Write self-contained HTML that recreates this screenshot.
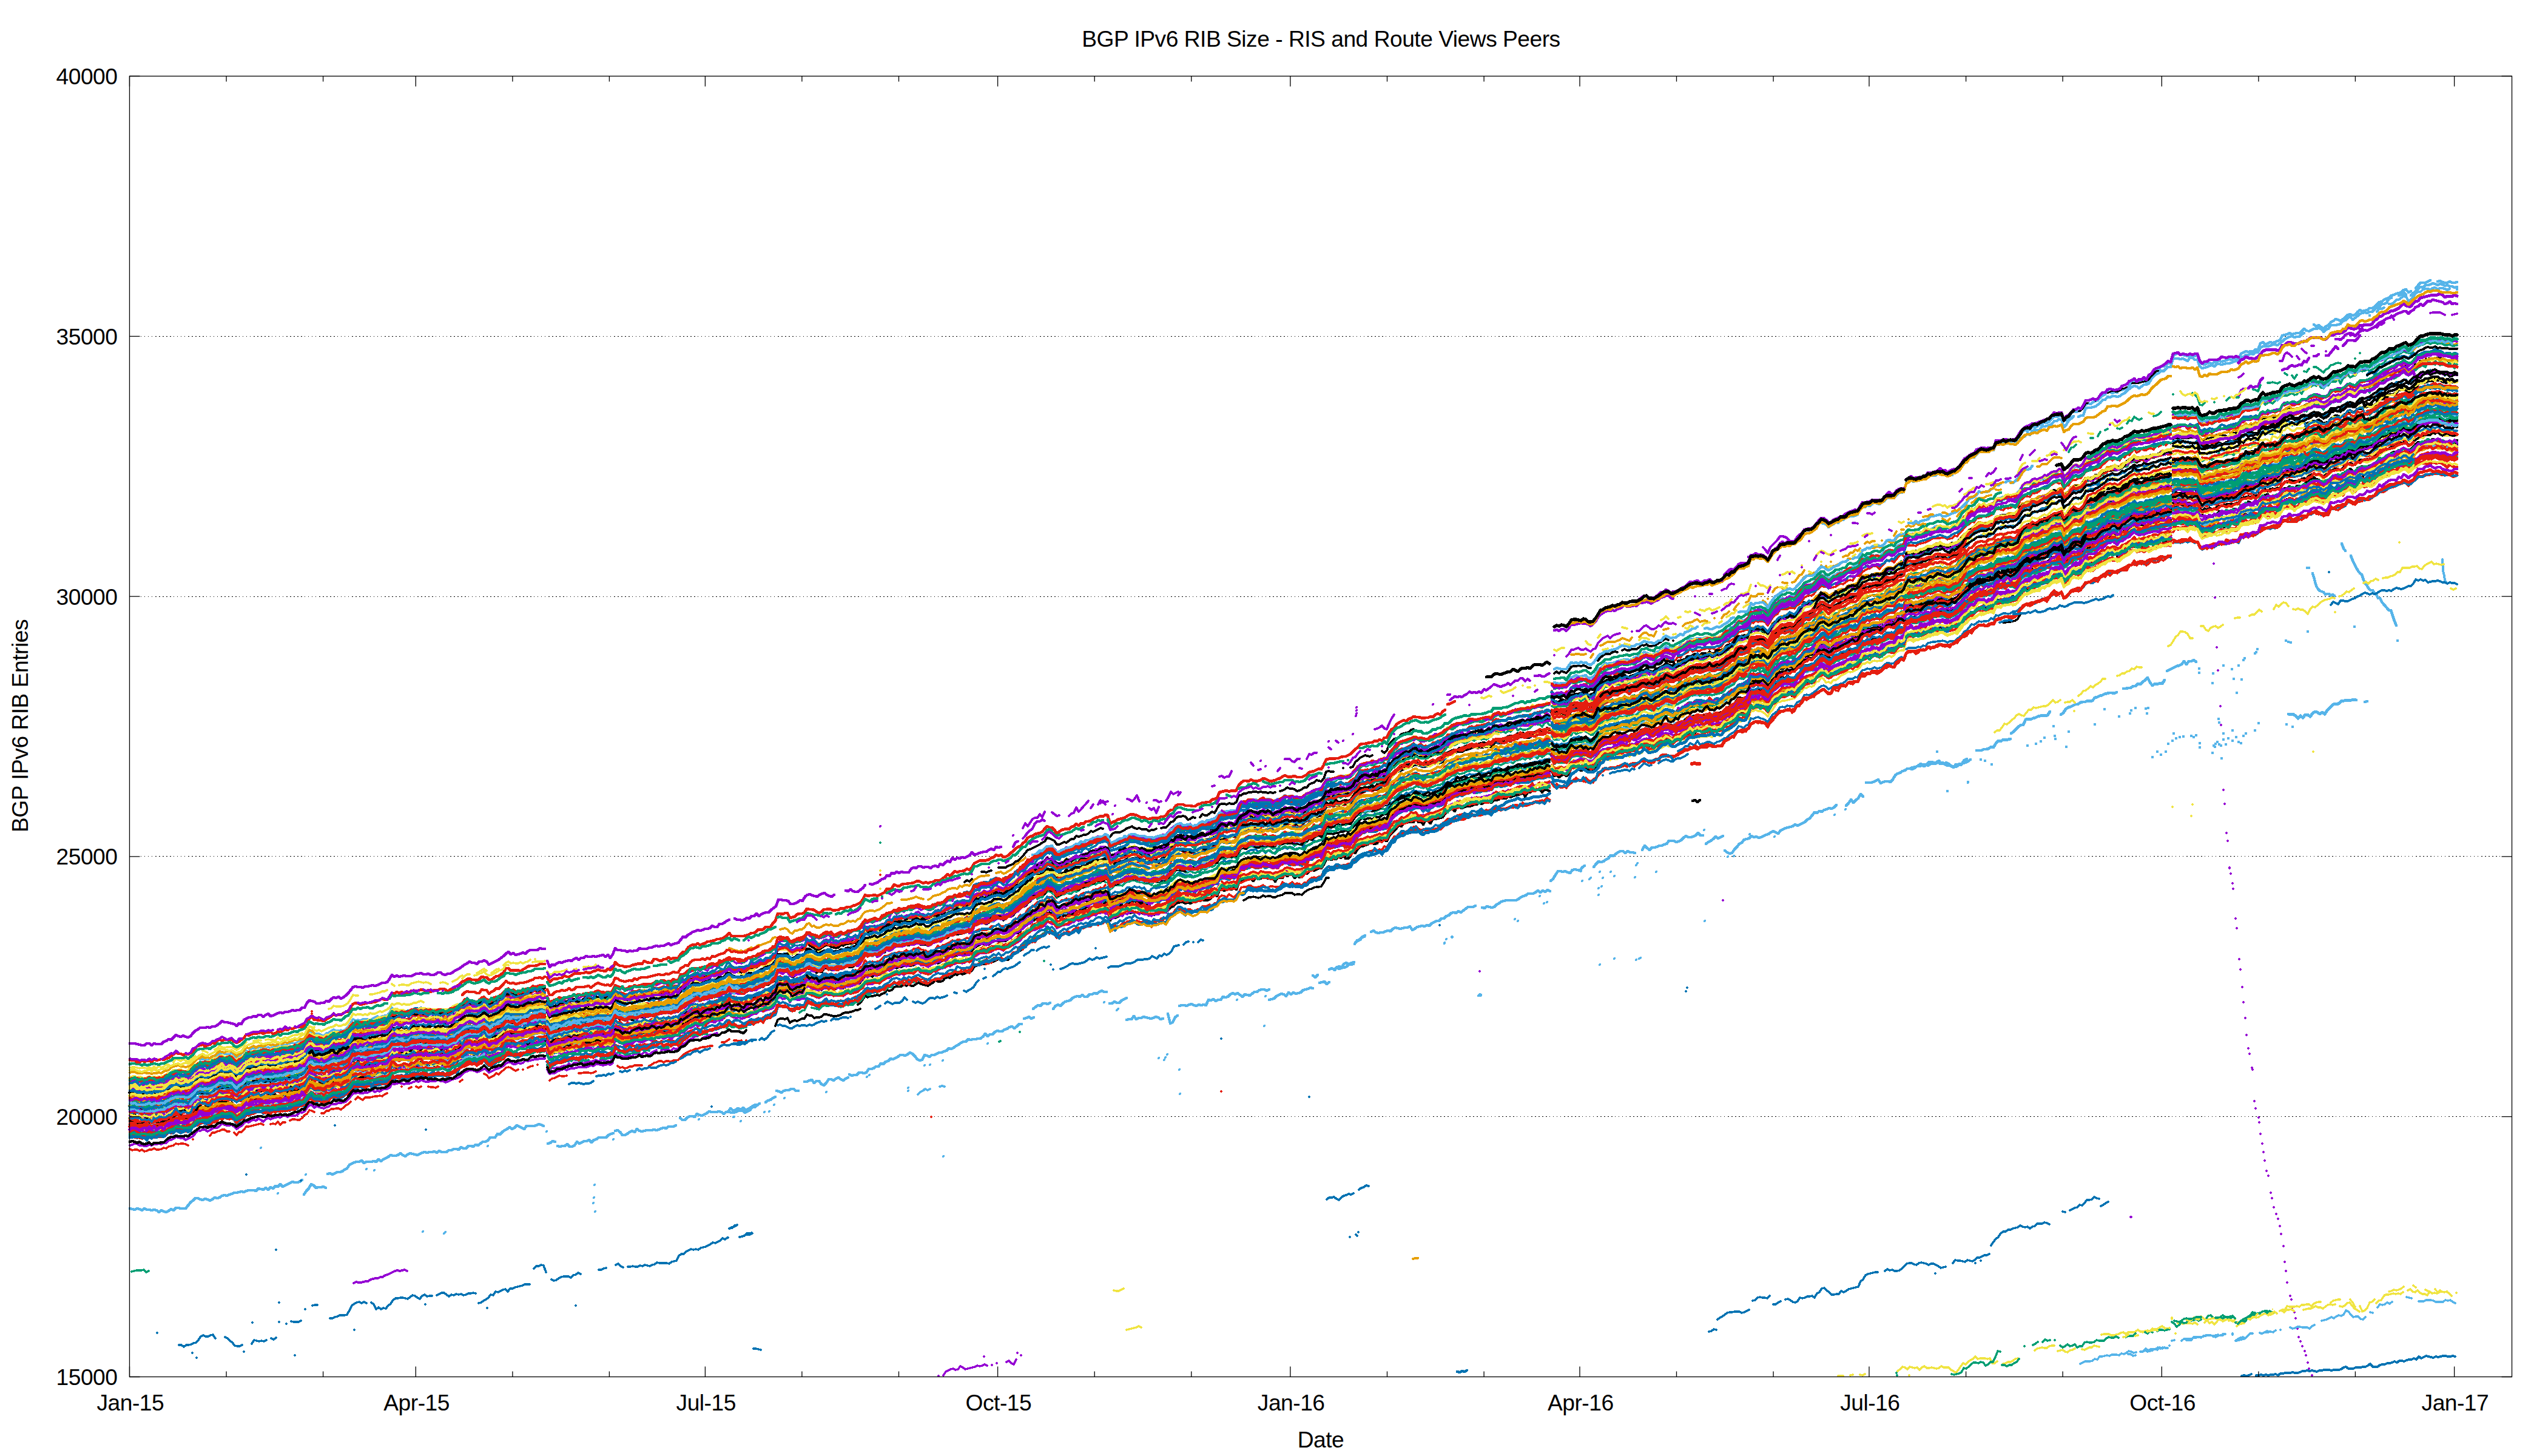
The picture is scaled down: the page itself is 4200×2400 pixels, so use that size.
<!DOCTYPE html>
<html><head><meta charset="utf-8"><title>BGP IPv6 RIB Size</title>
<style>
html,body{margin:0;padding:0;background:#fff}
svg{display:block}
text{font-family:"Liberation Sans",Arial,sans-serif;font-size:37.2px;fill:#000;letter-spacing:-0.5px}
</style></head><body>
<svg width="4200" height="2400" viewBox="0 0 4200 2400">
<rect width="4200" height="2400" fill="#fff"/>
<g stroke="#000" stroke-width="1" stroke-dasharray="1 5 1 5 1 5 1 5 2 4 2 4 2 4 2 4 2 4" shape-rendering="crispEdges"><line x1="232" y1="1840.7" x2="4123.5" y2="1840.7"/><line x1="232" y1="1411.9" x2="4123.5" y2="1411.9"/><line x1="232" y1="983.1" x2="4123.5" y2="983.1"/><line x1="232" y1="554.3" x2="4123.5" y2="554.3"/></g>
<g fill="none" stroke-linecap="round" stroke-linejoin="round" shape-rendering="crispEdges"><path stroke="#9400d3" stroke-width="4.4" d="M214 1865l4-1 4 2 4 0 4 1 4 0 4 0 4 0 4-2 4 3 4-2 4-2 4 2 4 0 4-1 4-2 4-3 4-3 4 0 4-2 4-1 4 0 4 1 4 2 4 0 4-1 4-6 4-4 4-5 4-2 4 0 4 1 4 1 4-1 4-3 4-2 4 2 4-4 4-2 4 2 4 0 4 1 4 2 4 2 4 2 4-5 4-2 4-2 4-5 4 1 4-2 4-1 4 1 4-1 4 0 4 0 4 0 4-4 4 2 4 2 4-1 4-3 4-1 4 0 4 4 4-4 4-1 4-2 4 0 4-4 4 2 4-1 4-5 4-6 4-3 4 2 4 3 4-1 4 0 4-1 4 4 4-1 4-4 4-3 4-5 4 3 4 2 4-1 4-2 4-3 4-5 4 0 4-5 4-6 4 5 4-3 4 0 4 0 4 1 4-2 4 0 4-1 4 1 4-3 4 1 4 0 4-3 4-5 4-2 4-2 4 0 4-1 4 1 4 1 4-1 4 0 4-1 4-2 4-2 4 1 4-1 4 3 4-1 4 3 4-1 4 0 4-1 4 0 4-1 4-3 4 3 4 1 4-2 4-1 4-2 4-3 4-2 4-3 4-1 4-4 4-2 4 3 4 0 4-3 4 3 4-5 4-1 4 4 4 2 4-3 4-2 4-2 4-1 4 0 4-4 4-5 4-4 4 3 4-2 4 2 4 1 4-1 4-1 4-1 4-1 4-2 4 0 4-1 4-2 4 3 4-5 4-1M902 1738l4 4 4 1 4-1 4 0 4 0 4-4 4-2 4 0 4-3 4 2 4-1 4-2 4 0 4-1 4 0 4-3 4 0 4 1 4 1 4-1 4-2 4-2 4 2 4-1 4-1 4 2 4-5 4-7 4 1 4 3 4 1 4 3 4-3 4 1 4-1 4-4 4-1 4 2 4 1 4-2 4-2 4-1 4 2 4-3 4-2 4 1 4-2 4 3 4-2 4-2 4 6 4-6 4-1 4 0 4-5 4 0 4-4 4-4 4 0 4-2 4-4 4 3 4-1 4-2 4 1 4-2 4-3 4 0 4 1 4-4 4 1 4-1 4-5 4-2 4-2 4 3 4 2 4 1 4-2 4 3 4-1 4-2 4 0 4-3 4-2 4 0 4-4 4-2 4 2 4-2 4-1 4-1 4-2 4-6"/>
<path stroke="#e69f00" stroke-width="3.6" d="M2906 990l4 3 4 6M2938 970l4 1 4-1M2966 962l4-6 4-5M2982 947l4 0 4-3M3002 932h0M3010 933l4 6 4-1 4-5 4-1 4-2 4-2M3046 921l4 0M3086 903l4 0 4-2 4 1 4 0 4-5 4-5 4 1 4 2 4-1 4-7 4-4 4 0 4 0M3142 868l4-2 4 2 4-1 4-5 4 3 4 0 4-2 4 1M3202 855l4 2 4 3 4-5M3226 851l4-5 4-4 4-2 4-7M3250 829l4-3 4-4 4-1 4 0 4 0 4-3 4-1 4-1M3290 807l4 1 4-1"/>
<path stroke="#9400d3" stroke-width="4.4" d="M214 1847l4 1 4 1 4 5 4-2 4-1 4-2 4-1 4 0 4 3 4-5 4 1 4 0 4 0 4 0 4-1 4-4 4 2 4-6 4-4 4 2 4 0 4 3 4 0 4-1 4-2 4-6 4 1"/>
<path stroke="#f0e442" stroke-width="4.0" d="M2562 1238l4 2 4-2 4-2 4 2 4 2 4-9 4-4 4 1 4-1 4 1 4 0 4-1 4-1 4 6 4 1 4-2 4-7 4-8"/>
<path stroke="#e51e10" stroke-width="4.0" d="M3986 645l4-6 4 2 4-2 4-2 4 3 4 0 4-7 4 3 4 4 4 0 4 0 4-1 4 2 4 2 4-2 4-1"/>
<path stroke="#e51e10" stroke-width="4.4" d="M214 1832l4 1 4 0 4-1 4 0 4 3 4-1 4 1 4-5 4 3 4 1 4-5 4 4 4-1 4-1 4-5 4-3 4 2 4-1 4-5 4 5 4-4 4-1 4 6 4-1 4-3 4-5 4-7"/>
<path stroke="#000000" stroke-width="4.4" d="M2994 1093l4-7 4-7 4 2 4 1 4 2 4 1 4 2 4-7 4-1 4-3 4 1 4-2 4-1 4-1 4-1 4 0 4-4 4-6 4-3 4-1 4-2 4-2 4-2 4-1 4 0 4 4 4-3 4-4 4-5 4 2 4 1 4 1 4-6 4-5 4-2 4 2 4-14 4-2 4-1 4-2 4 1 4 1 4-4 4-2 4 2 4-2 4-1 4-3 4-3 4-1 4 3 4-3 4 3 4-1 4 1 4-2 4-2 4-2 4-2 4-4 4-6 4 0 4-4 4-1 4-4 4-4 4 0 4-2 4 0 4 0 4-4 4-3 4 0 4-6 4 2 4 0 4-1 4-2 4-1 4 0 4 1 4-2 4-2 4-7 4-5 4-5 4 2 4-3 4-3 4-1 4 0 4 0 4-5 4 1 4-3 4-3 4 1 4-4 4-1 4-2 4 0 4 12 4-5 4-2 4-6 4-3 4-3 4 1 4 2 4-3 4-11 4 2 4-3 4-1 4-2 4 3 4-5 4-4 4 1 4-9 4 3 4-2 4 1 4 2 4-1 4-6 4-1 4-2 4-6 4-1 4 2 4 0 4-1 4-3 4-2 4 3 4-5 4 1 4 0 4-9 4 5 4-1 4 2 4-3 4 1 4-2M3582 833l4 1 4-2 4-1 4 2 4-2 4 3 4 0 4 0 4 3 4-6M3626 850l4-2 4 6 4-2 4-3 4 3 4-4 4 0 4-5 4 3 4 0 4 0 4-1 4-3 4-3 4 1 4 0 4-6 4 0 4-1 4-6 4 2 4 0 4-4 4 3 4-5 4-4 4-3 4-1 4 5 4-2 4 0 4-2 4-2 4-6 4-3 4 1 4-4 4 3 4 4 4-8 4 0 4 1 4-3 4-4 4-2 4-3 4-3 4 3 4 1 4 3 4 3 4-3 4-3 4-3 4-2 4-1 4-2 4 3 4-4 4-4 4-1 4-4 4 4 4 3 4-8 4-2 4-1 4 3 4-3 4-1 4-2 4-2 4 0 4-5 4 0 4-4 4-2 4-3 4-3 4-2 4 0 4 2 4-5 4-3 4 3 4 2 4-3 4-4 4-5 4-3 4 2 4-1 4-3 4 2 4-2 4-3 4 1 4-1 4 2 4 2 4 0 4 2 4-1 4 0 4 2 4-5"/>
<path stroke="#e51e10" stroke-width="4.8" d="M506 1684l4-5 4-3 4 5 4 0 4 1 4 0 4 1 4-3 4-2 4-3 4-3 4 2 4-2 4 1 4-3 4-2 4 0 4-8 4-5 4-2 4 1 4 2 4-1 4-1 4-1 4 0 4-1 4 0 4-2 4-2 4-2 4 2 4 0 4-5 4-6 4 1 4-3 4 2 4-2 4 2 4 0 4 0 4-4 4 0 4 0 4 0 4-2 4 1 4 2 4-2 4 3 4-2 4-1 4 0 4-2 4 0 4 1 4 3 4-3 4-1 4-3 4-2 4-3 4-4 4-1 4-3 4-1 4 2 4 0 4 1 4-2 4-4 4 1 4 0 4 4 4 0 4-3 4-3 4 0 4-3 4-3 4-7 4 0 4 4 4-1 4 1 4-1 4 2 4-3 4-2 4-3 4-1 4 0 4 0 4-1 4-2 4 0 4 0M902 1611l4 8 4-4 4-2 4 1 4-2 4 0 4-4 4 2 4 0 4-2 4-3 4-1 4 1 4-1 4 0 4-2 4 2 4-1 4-2 4-1 4-2 4 2 4 0 4 1 4-4 4 2 4-2 4-11 4 4 4 2 4 0 4 2 4-1 4 0 4-2 4-1 4-1 4-1 4 1 4-5 4 2 4 1 4 0 4-6 4 0 4 2 4 1 4-3 4 0 4-3 4 3 4-2 4 1 4-1 4-6 4-4 4 0 4-7 4-3 4-2 4 1 4-3 4 3 4-2 4-1 4-3 4 0 4-1 4-1 4-2 4 0 4-1 4-2 4-3 4-4 4 5 4 0 4 0 4 0 4 0 4 0 4-1 4-1 4-3 4 0 4-2 4-4 4 1 4-1 4-4 4 0 4 0 4-6 4-4 4-12 4 0 4 1 4-2 4 0 4 8 4-1 4-1 4-4 4-1 4 0 4-2 4-6 4 1 4 0 4 1 4 3 4 2 4-2 4-4 4 0 4-1 4 1 4 2 4-1 4 0 4-3 4 1 4-2 4-1 4 0 4-2 4-1 4-2 4-2 4-5 4-8 4 2 4-1 4 0 4-1 4 2 4-2 4-2 4-2 4-6 4 1 4-2 4-6 4 2 4 1 4-3 4-1 4 0 4-1 4 0 4-1 4-2 4-1 4 2 4 2 4-2 4 2 4-2 4 0 4-3 4 0 4 0 4-3 4-3 4-4 4 3 4-4 4-4 4 2 4-2 4 0 4-1 4-3 4 2 4-4 4-7 4-2 4-2 4-1 4 1 4-1 4-1 4-3 4-1 4-4 4 2 4-2 4 4 4-1 4-2 4-4 4-3 4-4 4-3 4-1 4-5 4-3 4-6 4-2 4-1 4-3 4-1 4-1 4-2 4-5 4-4 4 2 4 0 4 4 4 6 4-3 4-3 4-1 4-1 4 1 4-4 4-1 4-4 4 3 4-4 4 1 4-4 4 0 4-1 4-3 4-2 4-1 4-2 4 1 4-3 4 1 4 14 4-3 4-1 4-3 4-1 4-1 4-1 4-3 4-2 4-1 4 1 4 1 4 2 4 2 4-1 4 3 4 0 4-1 4-1 4 1 4-1 4-2 4 0 4-2 4-6 4-3 4 0 4-7 4-2 4 0 4 0 4 2 4 0 4 0 4 1 4 0 4-3 4-1 4-2 4 0 4-1 4 0 4-4 4-1 4-1 4-10 4-1 4-1 4-1 4 2 4-2 4 1 4-1 4-9 4-4 4-3 4 0 4 1 4-3 4 2 4 1 4-1 4-1 4-3 4 1 4 2 4 2 4-1 4-1 4-2 4-1 4-3 4-2 4 2 4 1 4-1 4-1 4 2 4 0 4 0 4-2 4-2 4-4 4-1 4-1 4-2 4-2 4 1 4-7 4-9 4-1 4-1 4 1 4-1 4 0 4-2 4-1 4 0 4-2 4-2 4-4 4-4 4-3 4-5 4-1 4 0 4-1 4-1 4 0 4-3 4 1 4-3 4 2 4-5 4 0 4-9 4-5 4-2 4-6 4-3 4-2 4-2 4 2 4-4 4-1 4-3 4 1 4 0 4 1 4 1 4-1 4 0 4-2 4 1 4-4 4-2 4 2 4-5 4-3"/>
<path stroke="#000000" stroke-width="5.0" d="M958 1705l4 2 4-2 4-4 4 1 4 0 4-4 4 1 4 1 4-2 4 4 4 1 4-1 4-7 4-6 4 0 4 2 4 3 4 2 4-2 4-1 4 0 4 1 4-2 4 0 4-2 4 1 4 0 4-2 4-2 4 1 4-3 4 2 4-4 4 0 4 1 4-1 4 2 4-1 4-4 4 5 4-5 4-8 4-4 4 2 4-7 4 2 4 0 4-2 4-1 4 0 4-3 4 2 4-2 4 0 4-2 4-3 4 2 4-2 4 1 4-5 4 0 4 0 4 1 4 2 4 2 4-2 4 1 4-1 4-4 4-2 4 0 4-5 4-1 4 1 4-1 4-2 4-1 4-1 4-3 4-5 4-10 4-2 4 2 4 0 4-3 4 10 4-4 4-1 4-3 4-3 4 1 4-3 4 0 4-1 4 2 4 1 4 5 4 2 4-5 4-2 4 0 4 5 4-2 4-1 4 3 4-3 4-3 4 3 4-7 4 2 4-1 4 1 4-4 4-2 4 1 4-6 4-8 4 5 4-2 4 1 4-3 4 2 4-4 4-1 4 1 4-7 4-1 4 2 4-6 4 0 4 1 4 4 4-5 4-1 4-3 4 2 4-1 4-2 4-2 4 3 4 1 4 1 4 1 4-3 4-4 4 0 4-1 4 2 4-3 4-3 4-3 4-2 4 2 4-1 4-3 4 1 4 1 4-3 4-1 4-1 4-3 4-5 4-3 4 1 4-6 4-1 4 6 4-5 4-3 4-1 4 0 4 1 4-2 4-1 4-1 4-1 4-2 4-5 4 1 4-5 4-3 4-5 4-2 4-1 4-3 4-5 4-3 4 3 4-3 4-2 4-8 4-3 4 4 4 1 4 6 4 0 4 1 4-2 4-4 4-3 4 1 4-1 4-3 4-2 4 4 4-3 4-2 4 1 4-1 4 1 4-5 4-3 4 1 4-3 4 1 4-3 4 2 4 11 4-1 4-4 4-2 4 3 4-2 4-3 4-1 4-4 4-2 4 2 4 3 4 1 4-3 4 0 4 3 4-1 4 3 4-2 4-2 4 1 4-4 4-1 4 1 4-7"/>
<path stroke="#009e73" stroke-width="5.0" d="M3246 949l4-5 4 0 4-5 4-6 4 4 4 1 4-2 4-4 4-2 4 2 4-8 4-3 4 0 4 1 4-3 4 0 4 2 4 0 4-4 4-3 4-1 4-2 4-2 4-1 4-1 4-2 4 0 4 0 4-5 4-1 4-2 4-3 4 2 4-4 4 1 4-4 4 0 4-5 4 13 4-2 4-6 4-4 4-1 4-4 4-2 4 1 4-4 4-5 4-2 4 3 4-3 4-3 4-3 4-4 4-1 4-3 4-3 4 0 4-2 4 2 4 5 4-4 4-6 4 2 4-4 4-1 4-5 4-3 4 6 4-6 4 1 4 0 4 1 4-4 4-1 4-4 4-1 4 1 4-2 4 4 4-3 4-4 4-1M3582 800l4 1 4-3 4 0 4 1 4 2 4-2 4-2 4-1 4 0 4 2 4 10 4 2 4-2 4 1 4-1 4-2 4 0 4-2 4-3 4 2 4-3 4 1 4-1 4 1 4 1 4-4 4 1 4-8 4-2 4-3 4 1 4-3 4 3 4-1 4-3 4-7 4 1 4 0 4 3 4-3 4-1 4-3 4 2 4-3 4-6 4-4 4 0 4-3 4 2 4 2 4-1 4-2 4 0 4-4 4-2 4-4 4 1 4-1 4 3 4-4 4-1 4 5 4-1 4-2 4-7 4-2 4 0 4-4 4 1 4-1 4-3 4-6 4 4 4 1 4-1 4-1 4-8 4 3 4-3 4 2 4 0 4-4 4 1 4-4 4-6 4 2 4-2 4-5 4 0 4-3 4-1 4-3 4-2 4 0 4-6 4 4 4 3 4-2 4-2 4-4 4-5 4-2 4 0 4-4 4 0 4 1 4 1 4-2 4 0 4 1 4 0 4-1 4 4 4-3 4 4 4 2 4-2"/>
<path stroke="#000000" stroke-width="5.0" d="M2390 1243l4-1 4-3 4 0 4-1 4 1 4-3 4-1 4-1 4-2 4-1 4 1 4 0 4-1 4 0 4-1 4 1 4-1 4-4 4-4 4 3 4-1 4 0 4-1 4-3 4 2 4-4 4-1 4 0 4-3 4 0 4 1 4 0 4 0 4-3 4 1 4-2 4-2 4 1 4-2 4-1 4-1M2558 1175l4 5 4 0 4 1 4-1 4 2 4-1 4-3 4-7"/>
<path stroke="#56b4e9" stroke-width="3.6" d="M2594 1206l4-2 4-2 4 1 4-1 4 2 4 3 4-1 4 1 4-5 4-6 4-6 4-1 4-6 4 1 4 1 4-4 4 0 4-2 4 1 4-4 4 2 4-1 4 2 4-1 4 0 4-1 4-5 4-4 4-3 4 1 4 3 4-1 4 3 4-5 4-2 4 2 4-5 4-1 4-3 4 5 4-2 4 0 4 1 4-5 4-1 4-4 4 1 4-6 4 1 4-1 4 0 4 0 4-2 4 3 4-5 4 1 4 3 4-2 4 0 4-1 4-3 4-6 4-3 4 2 4-5 4-2 4-4 4-5 4 2 4 0 4-5 4-2 4-13 4 5 4-4 4 0 4 0 4-1 4 4 4 6 4-7 4-6 4-7 4 0 4-3 4-2 4-2 4-1 4 0 4-1 4-1 4-3 4-6 4-3 4-4 4-3 4-1 4-1 4-3 4-2 4-4 4-4 4-1 4 3 4 4 4-4 4-1 4 0 4-2 4-5 4-2 4 0 4 1 4-4 4-1 4 0 4-3 4-3 4-9 4 0 4-2 4 2 4-1 4-2 4 0 4-2 4 0 4-1 4-3 4-4 4 0 4 2 4-7 4-2 4-2 4 1 4-14 4-6 4 2 4 0 4-1 4-1 4 2 4-3 4-2 4-3 4 4 4-6 4 1 4-2 4 0 4 2 4 0 4 0 4 1 4-3 4-2 4-3 4 0 4-6 4-4 4-4 4-2 4-4 4 1 4-6 4-2 4-3 4 2 4-2 4-3 4 0 4 1 4-4 4-3 4 0 4-5 4 1 4-2 4 5 4 0 4 0 4-8 4-6 4-5 4-2 4 1 4-2 4-3 4-3 4 0 4-2 4-4 4-1 4 0 4-2 4-4 4-2 4 1 4-3 4-3 4 13 4-2 4 0 4-9 4 0 4-5 4 1 4-3 4 3 4-11 4 0 4-3 4-1 4-4 4 1 4-1 4-3 4-3 4-6 4 2 4-1 4-2 4 4 4 0 4-4 4-2 4 0 4-5 4-5 4-3 4 3 4 1 4 0 4-2 4-3 4 1 4-2 4 0 4-2 4 1 4-5 4 0 4-1 4 1 4-1M3582 793l4 2 4-2 4-1 4-1 4 1 4 0 4 0 4-4 4 4 4 1 4 8 4 3 4-1 4 0 4-4 4 1 4-3 4 1 4-1 4-1 4-2 4-1 4-1 4 1 4 0 4 0 4-4 4-7 4 1 4-2 4 2 4-3 4 4 4-4 4-3 4-7 4-4 4 2 4-1 4-2 4 0 4 0 4-1 4 1 4-7 4-2 4-2 4-1 4 0 4-1 4 0 4 0 4 0 4-5 4 2 4-3 4-4 4-2 4 2 4 0 4 3 4 2 4-3 4-5 4-4 4 0 4-1 4-2 4 3 4-2 4-5 4-4 4 1 4 0 4 2 4-3 4-7 4 3 4-1 4 0 4 1 4-4 4-2 4-3 4-4 4-1 4-2 4-1 4-7 4 0 4-1 4-1 4-2 4 1 4-6 4 5 4 1 4-3 4-1 4-1 4-5 4-3 4 0 4-3 4-1 4-1 4 2 4-2 4 3 4-2 4 1 4 1 4 3 4-2 4-1 4 2 4 0"/>
<path stroke="#000000" stroke-width="4.4" d="M2562 1200l4 2 4-1 4-3 4 2 4 1 4-5 4-6 4 0 4-1 4-1 4 1 4-2 4 2 4 5 4-4 4 0 4-6 4-7 4-3 4-2 4-5 4 1 4 0 4-2 4 0 4-2 4-1 4-3 4 0 4 2 4 1 4-5 4 0 4 0 4-4 4-3 4-1 4 2 4 1 4 1 4 0 4-4 4-2 4-3 4 0 4-2 4 0 4 2 4 1 4-3 4-3 4-3 4-1 4-2 4-3 4-2 4-1 4 2 4-3 4 1 4-1 4 0 4-1 4-2 4 4 4-4 4-2 4 1 4 0 4-6 4-1 4-3 4-5 4-1 4-1 4-7 4 0 4 0 4-4 4 0 4-12 4 2 4-2 4-2 4 1 4 0 4 3 4 4 4-4 4-9 4-3 4-2 4-4 4-4 4 2 4-2 4-1 4 0 4-2 4-3 4-5 4-3 4-6 4-1 4-1 4 0 4 0 4-8 4-4 4-3 4 0 4 1 4 4 4 0 4-2 4-2 4-3 4-2 4-1 4-2 4-2 4-3 4 0 4-2 4-3 4-1 4-9 4 0 4-3 4 3 4-2 4-1 4 0 4-2 4-1 4-1 4-4 4-3 4 2 4-1 4-5 4-2 4-2 4 0 4-14 4-1 4-1 4 0 4-2 4-1 4 1 4-2 4 0 4-4 4 0 4-3 4 0 4-4 4 0 4 3 4 1 4 0 4-1 4-2 4 3 4-3 4-6 4-3 4-6 4 0 4-5 4 0 4-1 4-4 4-3 4-2 4 1 4 0 4-2 4 0 4-1 4-5 4-3 4-1 4-2 4 0 4-1 4 1 4-1 4 1 4-7 4-5 4-4 4-2 4-1 4-1 4-5 4 0 4-1 4-1 4-4 4 0 4-4 4 1 4-5 4 0 4 0 4 1 4-4 4 12 4-6 4-2 4-5 4-6 4 3 4-3 4 0 4-4 4-5 4 0 4-2 4-2 4-1 4-4 4 0 4-5 4-1 4-5 4 2 4-1 4-2 4 2 4-2 4 0 4-3 4-3 4-4 4-2 4-2 4 1 4-2 4 1 4 1 4 0 4-2 4-1 4-3 4-3 4 0 4-1 4 1 4-2 4 0 4-1M3582 774l4-1 4 2 4 1 4 0 4-2 4 0 4 0 4 1 4 0 4-2 4 12 4 1 4-2 4 1 4-1 4-1 4-1 4-2 4-2 4 0 4 0 4 1 4-4 4-1 4 1 4-1 4-2 4-5 4-2 4-3 4 1 4-1 4-1 4 0 4 1 4-9 4-3 4 1 4 0 4 1 4-3 4-1 4-1 4-2 4-5 4-3 4 0 4-2 4 1 4 1 4 0 4-3 4-2 4-1 4 1 4-4 4-3 4 0 4 0 4-1 4 3 4 1 4-3 4-3 4-3 4-2 4-1 4-1 4 0 4-2 4-1 4-5 4 0 4 1 4 1 4-4 4-3 4-1 4 0 4-1 4-1 4-1 4-3 4-3 4-3 4-2 4-3 4-2 4-1 4-2 4-4 4-1 4-1 4-2 4-2 4 0 4 5 4-3 4-4 4-3 4-3 4-2 4-1 4-3 4-1 4-1 4-1 4 1 4 0 4-1 4 3 4 0 4 1 4-2 4 2 4-1 4 0"/>
<path stroke="#f0e442" stroke-width="3.6" d="M1014 1638l4 2 4 1 4 2 4 0 4 0 4-2 4 0 4 1 4-2 4-1 4 0 4-1 4 0 4 0 4-1 4-3 4-1 4-1 4 0 4 1 4-1 4-1 4 3 4-3 4 0 4 2 4-7 4-3 4-3 4-3 4-4 4 0 4-2 4 0 4 2 4-5 4 2 4-5 4 2 4-1 4-3 4-1 4-2 4-2 4 2 4-2 4-6 4 5 4 1 4 0 4 0 4 1 4-3 4-1 4-3 4-1 4 1 4-1 4-3 4 0 4-2 4-1 4-3 4 0 4-3 4-4 4-12 4-1 4 2 4-1 4 0 4 2 4 3 4 0 4-3 4-2 4-1 4 1 4-10 4-2 4 1 4 0 4 3 4 0 4 2 4-4 4 0 4-2 4 0 4 2 4 2 4-3 4-1 4 0 4-2 4-2 4 0 4-1 4 1 4-3 4-5 4-3 4-8 4 2 4 1 4-2 4-1 4 1 4-3 4-2 4-1 4-2 4-1 4-3 4-5 4 5 4-2 4-3 4 0 4 1 4-3 4 1 4-2 4-3 4 2 4 3 4-3 4 3 4 0 4-1 4-4 4-1 4-2 4-3 4-2 4-2 4-2 4 1 4-4 4-1 4-1 4 0 4 0 4 1 4-1 4-2 4-8 4-3 4-1 4-5 4 1 4-2 4 2 4-2 4-2 4-1 4-2 4 2 4 2 4-4 4-1 4-2 4-4 4-4 4-2 4-3 4-5 4 0 4-2 4-6 4 0 4-3 4-6 4 2 4-2 4-1 4-7 4-2 4 0 4 0 4 6 4 3 4-2 4-2 4-1 4-5 4 4 4-5 4 2 4-4 4 2 4-3 4-1 4 2 4-6 4-1 4-2 4-4 4 2 4-1 4-1 4-2 4 0 4 14 4 2 4-5 4-3 4-2 4 0 4-1 4-3 4-4 4 1 4-2 4 4 4 0 4-1 4 4 4-2 4 0 4 0 4 0 4 1 4-1 4-1 4 1 4-1 4-7 4-5 4 3 4-8 4-1 4 0 4 1 4 1 4-4 4 3 4 1 4 0 4 0 4-3 4 0 4-2 4-2 4-2 4-2 4-2 4-2 4-5 4-1 4-5 4 3 4 0 4 3 4-5 4 0 4-9 4-5 4 1 4 0 4-3 4-3 4 2 4-1 4 3 4 0 4-4 4 1 4 0 4 1 4 3 4-2 4-2 4-4 4-2 4-2 4 4 4 1 4-5 4 3 4 1 4 1 4-2 4-2 4 1 4-5 4-6 4 1 4-1 4-2 4 1 4-8 4-8 4-1 4-1 4 2 4-2 4 0 4 1 4-1 4 0 4-5 4 0 4-5 4-2 4-4 4-5 4-2 4 1 4-1 4 2 4-2 4-4 4-2 4 1 4-1 4-2 4-1 4-9 4-5 4-1 4-7 4-1 4-4 4 0 4 1 4-5 4-2 4-4 4 3 4 5 4-2 4 0 4-2 4 1 4-1 4 0 4 1 4-4 4-3 4-2 4-5 4-3 4 0 4-2 4-4 4-1 4-1 4-1 4 1 4-4 4 1 4-4 4-1 4 3 4 1 4-4 4 0 4-2 4 3 4-1 4-5 4-4 4 1 4 1 4-1 4-2 4 0 4-3 4 1 4-5 4 3 4 1 4-2 4-2 4 2 4 0 4-4 4-2 4-2 4 1 4 3 4-2 4-3 4 1M2558 1157l4 5 4 1 4 4 4-3 4-1 4 1 4-6 4-8"/>
<path stroke="#e69f00" stroke-width="3.8" d="M1202 1563l4 1 4 2 4 1 4 1 4-1 4 2 4-3 4-2 4-2 4 1 4-2 4-3 4 0 4-2 4-1 4-2 4-1 4-6 4-1M1286 1532l4-1 4-1 4 2 4 5 4 2 4-5 4 0 4-2 4 0 4-3 4-6 4-1 4 5 4-1 4 3 4 0 4-1 4-3 4-1 4 1 4-1 4 2 4 0 4 0 4-3 4 0 4-2 4-3 4 1 4-1 4 1 4-4 4-1 4-7 4-4 4-1 4-1 4 0 4 1 4-2 4-1 4-3 4-3 4-4 4 0 4-1M1486 1483l4 0 4 0 4-1 4-1 4-1 4-2 4 2 4 1 4 1M1530 1483l4-2 4-4 4-1 4-1 4-1 4-3 4-1 4-4 4-1 4-1 4 0 4 1 4-5 4 2 4-3 4 0 4 1 4-5 4-5 4-2 4-3 4-1 4 0 4-1 4 0M1642 1439l4-1 4-1 4 3 4-1 4-3 4-2 4-4 4-5 4-2 4-4 4-1 4-4"/>
<path stroke="#f0e442" stroke-width="3.6" d="M214 1760l4-1 4 0 4 1 4 1 4-1 4 0 4 1 4-2 4 3 4-4 4 3 4-4 4 3 4-2 4-3 4 0M286 1751l4-6 4 2 4 2 4-3 4 2 4 2 4-3 4-4 4-2M334 1732l4 1 4 2M354 1730l4-2 4-4 4 2 4 1 4-1 4 0 4 0 4 2 4 3 4-3 4-3 4-3 4-4M418 1716l4 0 4-2 4 1M438 1714l4-1 4 1 4 0 4 1 4-5 4 3 4-1 4-2 4 1 4-2 4-2 4-1 4 0 4-2 4-1M518 1693h0"/>
<path stroke="#000000" stroke-width="3.8" d="M1590 1454l4-3 4 2 4-4M1618 1437l4 0 4 1 4-2 4-1M1646 1430l4 0 4 0 4 0 4-3 4-1 4-2 4-4 4-1 4-4 4-4 4-5 4-5 4-1 4-2 4-2 4-2 4-2 4-3 4-2 4-6 4 1 4 2 4 2 4 6 4 0 4-2 4-2 4 1 4-3 4-3 4 0 4-5 4 1 4-1 4-2 4 0 4-2 4-4 4 1 4-2 4-2 4-2 4 1M1830 1379l4-5 4-2 4 0 4 0 4-2 4-2 4-3 4-1 4-2 4 3 4 1 4-1 4 2 4 0 4 0 4 3 4-2 4 0 4-2M1914 1365l4-1 4 0 4-4 4-5 4-1 4-5 4-3 4 0 4-1 4 1 4 5 4-1 4-3 4 1M1978 1347l4-5 4 2 4 0 4-3 4-3 4 2 4-7 4-7 4-1 4 0 4 1 4-2 4 1 4 0 4-3 4-11 4 0 4-3 4 0 4-2 4 0 4-1 4 0 4 1 4-1 4 1 4 0 4 1 4-1 4 1 4-1M2110 1304l4-1 4-2 4-3 4 2 4 0 4 1 4 3 4-1 4-2 4-3 4 0 4-5 4-2 4-1 4-4 4 1 4 1 4-5 4-11 4-1 4 1 4 0M2214 1266h0M2226 1265l4-1 4-8 4-3 4-4 4-2 4-2 4 1 4 1 4-2M2278 1238l4 3 4-4 4-10 4-5 4-4 4-1 4-2 4-5 4-1 4-1 4-1 4-4 4-1"/>
<path stroke="#f0e442" stroke-width="3.6" d="M510 1728l4 1 4 4 4-5 4 2 4 1 4 0 4-1 4-3 4-1 4-3 4 1 4-3 4 2 4-2 4-4 4-1 4-8 4-6 4 1 4-2 4 0 4 2 4-3 4 1 4 1 4-2 4 0 4-3 4-3 4 2 4 3 4-3 4-5 4-8 4 3 4-4 4 3 4-4 4 4 4 1 4-3 4 1 4-2 4 0 4-2 4 2 4-3 4 5 4 1 4-1 4-4 4 4 4-4 4 2 4 0 4 3 4-3 4-2 4 0 4 0 4-5 4 4 4-5 4-7 4-1 4 1 4 0 4 2 4 2 4-1 4-3 4-4"/>
<path stroke="#e51e10" stroke-width="3.6" d="M1830 1397l4-3 4-4 4-2 4 0 4 0 4-4 4 0 4-1 4-2 4 2 4 0 4 2 4-1 4 0 4 2 4 2 4-1 4-2 4-1 4 0 4-1 4-4 4 4 4-5 4 1 4-2 4-5 4-3 4 1 4-1 4 4 4-2 4-3 4 4 4-2 4 0 4-2 4-2 4 0 4 1 4-3 4-4 4-3 4 0 4-8 4-1 4-2 4 3 4-2 4 0 4-1 4 0 4-11 4 0 4 1 4-2 4-4 4-1 4 0 4 1 4-1 4-1 4-1 4 2 4 0 4 1 4 0 4 0 4-2 4 1 4-4 4-4 4 3 4-2 4 1 4 2 4-4 4 5 4 0 4-4 4-4 4 2 4-5 4-3 4 0 4-1 4-2 4-5 4-5 4-3 4-1 4 1 4-4 4 1 4 0 4-1 4-1 4 0 4-4 4-3 4-2 4-7 4-5 4 0 4-1 4-1 4 1 4-3 4-2 4 0 4-1 4 1 4-6 4 2 4-8 4-4 4-4 4-5 4-3 4-2 4 0 4-2 4-2 4-2 4-3 4 4 4-1 4-2 4 4 4-1 4 1 4-2 4-4 4 0 4-3 4-1 4 0 4-2 4-7 4 0 4-1 4-2 4-3 4-1 4 0 4-1 4-1 4-4 4-1 4 2 4-3 4 0 4-1 4-1 4-1 4-2 4 3 4-6 4-3 4 1 4 1 4 1 4 0 4-5 4 0 4 1 4-2 4 0 4-1 4-2 4 2 4-1 4-2 4-1 4-2 4-1 4-1 4-1 4 3 4-2 4-2M2558 1139l4 6 4-2 4 2 4 0 4 1 4-6 4 0 4-7 4-2 4-2 4 2 4-1 4-2 4 0 4 5 4 2 4-2 4-5 4-7 4-2 4 0 4-4 4-1 4-1 4-5 4 5 4-3 4-2 4-4 4 1 4 1 4 3 4-5 4 1 4-2 4-1 4-4 4-2 4 0 4 3 4 0 4 0 4-4 4 0 4-6 4-5 4 0 4 5 4 1 4 0 4-2 4-5 4 1 4-5 4-2 4-2 4-6 4 5 4-2 4 1 4 0 4-3 4 0 4-2 4 2 4-2 4 2 4 1 4-3 4-3 4-6 4-2 4 1 4-3 4-2 4-5 4-6 4-1 4-1 4-2 4 0 4-12 4 1 4-4 4 2 4-1 4 0 4 2 4 5 4-6 4-7 4-4 4-2 4-7 4-1 4 0 4 0 4-2 4 0 4 1 4-5 4-2 4-4 4-7 4-2 4-2 4 1 4-3 4-6 4-3 4-4 4 1 4 0 4 2 4 0 4-1 4-1 4-3 4-2 4 1 4-3 4-3 4-1 4 1 4-7 4-1 4 0 4-6 4-3 4-2 4-1 4-3 4-1 4 1 4 4 4-5 4-4 4-5 4 0 4 0 4 3 4-5 4-5 4-4 4 4M3142 900l4-1 4 0 4 0 4 1 4-3 4-1 4-1 4-1 4-2 4-2 4-3 4 0 4 0 4 0 4-1 4 0 4 3 4-1 4-1 4-4 4 1 4-5 4-4 4-5 4-4 4-2 4-4 4 1 4-6 4-1 4-1 4-3 4 2 4-1 4-2 4-2 4-8 4 0 4 1 4 1 4-4 4 1 4-1 4-2 4 1 4-1 4-10 4-3 4-4 4 0 4 1 4-6 4 0 4-1 4-3 4-5 4 2 4-1 4-4 4-2 4-3 4-1 4 2 4-1 4 10 4-5 4-1 4-7 4-2 4 0 4-3 4 0 4-5 4-5 4-2 4-2 4 1 4-1 4-2 4-1 4-5 4-3 4-4 4-3 4 3 4-3 4 2 4 1 4-6 4 1 4-5 4 1 4-5 4-5 4 6 4-2 4-4 4 2 4 0 4-3 4 0 4 2 4-6 4 1 4-2 4-3 4 3 4-4 4 1M3582 705l4 2 4-2 4-1 4-3 4 1 4 5 4-2 4-2 4 2 4 0 4 8 4 5 4 0 4-3 4-5 4 4 4-3 4-1 4-3 4 0 4 0 4 1 4 1 4-2 4-1 4 0 4-2 4-7 4-1 4-4 4 0 4 0 4-2 4 1 4 0 4-6 4-3 4 0 4 1 4-4 4 0 4 1 4-2 4-1 4-8 4-1 4-2 4-2 4 4 4 0 4-2 4 0 4-6 4-1 4 1 4-3 4-1 4-2 4 0 4 1 4 3 4-2 4-1 4-2 4-5 4-4 4 2 4-1 4 0 4-3 4-2 4-6 4 3 4 1 4 0 4-4 4-3 4-1 4-1 4-1 4 1 4-3 4-2 4-4 4-4 4-1 4 2 4-4 4-3 4-2 4-1 4-3 4-3 4 2 4-4 4 2 4 2 4-3 4-4 4-2 4-4 4 0 4-2 4 1 4-6 4 2 4-3 4 1 4 1 4 0 4 2 4-2 4 1 4 1 4 1 4 0 4 2"/>
<path stroke="#009e73" stroke-width="3.6" d="M1710 1482l4-3 4 0 4-5 4-4 4-1 4 3 4 3 4 5 4-3 4-2 4-1 4-2 4 1 4 0 4-4 4 1 4-2 4-4 4-1 4-1 4-1 4-2 4-2 4 1 4-3 4 0 4-4 4 3 4 1 4 11 4-3 4-4 4 0 4 0 4 1 4-4 4-3 4 0 4-2 4 0 4 2 4 1 4 0 4 2 4 0 4 0 4 3 4-6 4 1 4 0 4 0 4-2 4-1 4-1 4-6 4-2 4-7 4-1 4 2 4-1 4 3 4 0 4-3 4 3 4 1 4-2 4 0 4-6 4 3 4-3 4-3 4 1 4-2 4-5 4-5 4-3 4 3 4-3 4-1 4 1 4-2 4 3 4-8 4-9 4 0 4 1 4-2 4-2 4 1 4 0 4 1 4 0 4 0 4 0 4-2 4 1 4 3 4-1 4 1 4-5 4-3 4-1 4 1 4-2 4 1 4 4 4-3 4 1 4 1 4-3 4-2 4-5 4-1 4-1 4-2 4-2 4 2 4-9 4-4 4-1 4-2 4-1 4 3 4-4 4 2 4-7 4 4 4-2 4-1 4-4 4-6 4-3 4-1 4-5 4 2 4-3 4 0 4-3 4 4 4-2 4-2 4-1 4 1 4-2 4-11 4-5 4-1 4-3 4-4 4-3 4-2 4-1 4-1 4-1 4-1 4-3 4 1 4 1 4 1 4-2 4 5 4-5 4 0 4-2 4-1 4 0 4-3 4-6 4-1 4-3 4-3 4 0 4-4 4 2 4-1 4-1 4-3 4 0 4-2 4 1 4 0 4 2 4-1 4-3 4-1 4-1 4 1 4-8 4 0 4 1 4 1 4-2 4-2 4 0 4-1 4 2 4-4 4-1 4-1 4-2 4 2 4-4 4 3 4-3 4-1 4 3 4-5 4 3 4-3 4-3 4 1M2558 1213l4 6 4 0 4 0 4-3 4 6 4-3 4-6 4-1 4-7 4 5 4-2 4-1 4-2 4 1 4 2 4 3 4 0 4-6 4-3 4-10 4-2 4-1 4-2 4 0 4-3 4 1 4-1 4-3 4 1 4 0 4-2 4-1 4-1 4 2 4-2 4-3 4-2 4-3 4-2 4 1 4 2 4 0 4-2 4 0 4-2 4-2 4-2 4-1 4 2 4 1 4-3 4-2 4-2 4-2 4-2 4-3 4-4 4-1 4-1 4-4 4 6 4-2 4-1 4 2 4-1 4 1 4-1 4-1 4-1 4-1 4-3 4-5 4-2 4-2 4-2 4-7 4-2 4-1 4 1 4-4 4 0 4-10 4 1 4 0 4-4 4 6 4-3 4 5 4 2 4-6 4-6 4-5 4-3 4-6 4 0 4 3 4-2 4-3 4 1 4-1 4-8 4-2 4-4 4-5 4 1 4-2 4-1 4-2 4-4 4-4 4-5 4 1 4 2 4 6 4-1 4-4 4-5 4 1 4-2 4-2 4-3 4 0 4-4 4-2 4 0 4-2 4-3 4-7 4 1 4-5 4 4 4-5 4 2 4 0 4 0 4-3 4-4 4-2 4-1 4 0 4 0 4-4 4-7 4 1 4 0"/>
<path stroke="#e51e10" stroke-width="5.0" d="M646 1703l4 0 4 0 4 1 4-1 4 2 4 0 4 0 4-2 4-7 4 4 4 1 4-5 4 6 4-1 4-1 4 1 4 0 4 2 4-2 4 2 4-4 4 2 4 2 4-5 4 2 4-2 4-5 4-2 4 0 4-4 4-3 4 0 4 0 4 1 4 0 4-1 4-3 4-1 4 1 4 4 4-3 4-1 4-1 4-2 4-4 4-1 4-6 4-3 4 3 4 1 4 3 4 0 4-3 4-4 4 5 4-1 4-5 4-1 4 1 4-3 4 0 4 1 4-1M902 1681l4 6 4 0 4-1 4-2 4-3 4-2 4 1 4 1 4-4 4-1 4 0 4-3 4 3 4-4 4 0 4 4 4-4 4 1 4-1 4-1 4-2 4 2 4-1 4-1 4-2 4 2 4-3 4-8 4 3 4 3 4-2 4 3 4-1 4 1 4-3 4-3 4 1 4-2 4 2 4-2 4 1 4 4 4-6 4-3 4-1 4-1 4 0 4 0 4 2 4-7 4 8 4-3 4 0 4-3 4-5 4-3 4 2 4-5 4-6 4 1 4 0 4-2 4 2 4-3 4-2 4 2 4-3 4-4 4 2 4 0 4-2 4-3 4-1 4-1 4-4 4 1 4 5 4-3 4 0 4 4 4 2 4-4 4-6 4 2 4-1 4-3 4-1 4-5 4 2 4 0 4-2 4-3 4-1 4-5 4-11 4 1 4 0 4-4 4 2 4 8 4-3 4-1 4 3 4-3 4 1 4-4 4-14 4 1 4 5 4 4 4 3 4 0 4-3 4-6 4 1 4-1 4 3 4 5 4-4 4-2 4-1 4-1 4 1 4-1 4-1 4-2 4-2 4-2 4-1 4-3 4-7 4 0 4 0 4 1 4-4 4 0 4-2 4-2 4-2 4-1 4-1 4-3 4 1 4-3 4 3 4-7 4 0 4 1 4-1 4 1 4-4 4-2 4 1 4 4 4-2 4 2 4 0 4 0 4-1 4-1 4-3 4 1 4-2 4-7 4-1 4-2 4 1 4-5 4 1 4-2 4-1 4 0 4-3 4 5 4-4 4-9 4-1 4-2 4-5 4 3 4 1 4 0 4-1 4 0 4-6 4-3 4 3 4-1 4 2 4-2 4-3 4-5 4-2 4-3 4-6 4 1 4-4 4-5 4-1 4-4 4-6 4-3 4-3 4 1 4-9 4-6 4 1 4 2 4 4 4 7 4-1 4 1 4-6 4-1 4 3 4-3 4-4 4 1 4-1 4 1 4-4 4-3 4 3 4-4 4-5 4 0 4-4 4-1 4-1 4 3 4 1 4 10 4-3 4 0 4-2 4 0 4-1 4-4 4-4 4 0 4-1 4 1 4 1 4 0 4 3 4-2 4 2 4 0 4 1 4 1 4-1 4-1 4 3 4-4 4 0 4-5 4-4 4-1 4-6 4-2 4-4 4 3 4 2 4-3 4 2 4 2 4-3 4-1 4 0 4 0 4-1 4-3 4 2 4-4 4-3 4 1 4-12 4-1 4 4 4-1 4-3 4-3 4 1 4 0 4-8 4-6 4-1 4 5 4-5 4-2 4 1 4-1 4 1 4 1 4-4 4 2 4-1 4 1 4 3 4-4 4 0 4-3 4-1 4-4 4 5 4-1 4 1 4 3 4-3 4 4 4-3 4-5 4-1 4-2 4-1 4-5 4-2 4 2 4-1 4-7 4-7 4-1 4 0 4-2 4 1 4-2 4-1 4 1 4 0 4-1 4 1 4-6 4-4 4-4 4-4 4-2 4-2 4-3 4 0 4 3 4-3 4 1 4-4 4-1 4-1 4 0 4-13"/>
<path stroke="#e51e10" stroke-width="4.0" d="M330 1811l4-1 4-4 4 3 4-2 4-1 4-3 4 1 4-6 4 3 4 3 4-1 4 1 4-1 4 2 4 3 4-4 4-2 4-5 4-4 4 1 4-2 4 1 4 0 4-4 4 1 4 2 4-3 4 0 4-2 4 3 4 0 4-1 4-3 4-1 4-3 4 1 4 2 4 5 4-7 4-2 4-3 4 1 4-6 4-4 4-6 4 3 4 6 4-3 4-1 4 6 4-1 4-8 4 1 4 1 4 1 4-4 4-2 4-1 4-3 4 3 4-3 4-6 4-8 4 3 4-2 4 2 4 0 4-2 4-2 4 1 4-1 4 2 4-2 4-3 4 0 4 5 4-5 4-3 4-8 4 1 4-1 4 1 4-2 4-3 4 3 4 1 4-1 4-3 4 1 4 1 4 0 4-2 4 1 4 1 4 0 4-5 4 6 4-3 4 0 4 2 4-2 4 6 4-5 4-3 4-4 4 2 4 0 4-7 4-1 4 0 4-2 4-2 4 1 4 1 4 1 4-4 4-3 4-1 4 6 4-2 4-3 4-1 4-1 4-2 4-3 4-3 4-4 4 3 4-1 4 5 4-5 4 2 4 0 4-7 4 2 4-3 4 0 4-2 4-1 4 0 4 2 4-2M902 1703l4 9 4-6 4 3 4-1 4-2 4-2 4 0 4-1 4-1 4 0 4-2 4 1 4-4 4 1 4 0 4 2 4-5 4-1 4 0 4-1 4-1 4 1 4 1 4-2 4 1 4 4 4-4 4-8 4 0 4-1 4 5 4 3 4-6 4 1 4 0 4-3 4 0 4 1 4 0 4-2 4 1 4-1 4-3 4 0 4-2 4 1 4 0 4-1 4 2 4-4 4 2 4 0 4-1 4 1 4-5 4-4 4-3 4-3 4-1 4-4 4-1 4-1 4 6 4-7 4 1 4 0 4-2 4 0 4-4 4-1 4 1 4-1 4 0 4-4 4-4 4 2 4 0 4 3 4-1"/>
<path stroke="#000000" stroke-width="5.0" d="M214 1823l4 3 4 0 4 2 4 0 4 3 4-5 4 5 4 0 4-1 4-1 4-1 4-4 4 3 4-2 4-3 4-1 4-1 4-1 4-1 4 3 4-1 4-2 4-1 4 1 4-2 4-2 4-5"/>
<path stroke="#009e73" stroke-width="4.4" d="M1282 1600l4 2 4-1 4 1 4-1 4 6 4 0 4-3 4-1 4 0 4-1 4-3 4-10 4 1 4 1 4 3 4 1 4 2 4-4 4-1 4-2 4 2 4 1 4-1 4 0 4-1 4-2 4 2 4-2 4-1 4 0 4-2 4-1 4-1 4-3 4-4 4-8 4 1 4 1 4-1 4 0 4-2 4 1 4-4 4 0 4-5 4 0 4-2 4-4 4 3 4-1 4-1 4-2 4 0 4-1 4-1 4-1 4-3 4 1 4 2 4 0 4 2 4-2 4-1 4 0 4-2 4 0 4-2 4-3 4-1 4-3 4-1 4-2 4-1 4 0 4-1 4-2 4 1 4-2 4 2 4-4 4-8 4-1 4-3 4-1 4-1 4 3 4-4 4-3 4 1 4-1 4-3 4 2 4 0 4-1 4 0 4-5 4-3 4-2 4-2 4-5 4-2 4-6 4-2 4-1 4-4 4-2 4-2 4-1 4-2 4-2 4-7 4 2 4 0 4 3 4 6 4-2 4-1 4-1 4-3 4 0 4-2 4-1 4-4 4 3 4-3 4-1 4-1 4-3 4-1 4-3 4-1 4 1 4-3 4 0 4-4 4 4 4 10 4 0 4-3 4-1 4 0 4-2 4-2 4-2 4-1 4-1 4-1 4 1 4 3 4 1 4-1 4 1 4-1 4 2 4-1 4 1 4 0 4-2 4-2 4 1 4-5 4-5 4-4 4-3 4-1 4 1 4 1 4 0 4-1 4 0 4 1 4-1 4-1 4-1 4-2 4-1 4-1 4-2 4-2 4 0 4-3 4-7 4-3 4 0 4-1 4 3 4-1 4-1 4 0 4-11 4-2 4 0 4-1 4-3 4 0 4 1 4-1 4 1 4-1 4-2 4 2 4-1 4 1 4 1 4-2 4 0 4-2 4 1 4-3 4 1 4-2 4-2 4 3 4 0 4 2 4 0 4-3 4-3 4-4 4-2 4 1 4-4 4-1 4 0 4-7 4-9 4 1 4 0 4 0 4-3 4 0 4 1 4-1 4 0 4 0 4-3 4-2 4-8 4-3 4-3 4-1 4 0 4-3 4 1 4-2 4 1 4-2 4-1 4-1 4-3 4-1 4-7 4-5 4-5 4-2 4-2 4-3 4-2 4-1 4-2 4-1 4-4 4 0 4 2 4 2 4 1 4-1 4 0 4-2 4-1 4 0 4-3 4 0 4-4 4-3 4-2 4-2 4-4 4-3 4-1 4 2 4-2 4 1 4-2 4-1 4-2 4-2 4 2 4-1 4-3 4 1 4 0 4 0 4-2 4-5 4-1 4 0 4-2 4 2 4 0 4-3 4 0 4-1 4-2 4-2 4-1 4-1 4 3 4-2 4-2 4-1 4 1 4-1 4-1 4-3 4-1 4-2 4 2M2558 1204l4 6 4-3 4 1 4 0 4-1 4 2 4-5 4-5"/>
<path stroke="#009e73" stroke-width="3.6" d="M330 1802l4 1 4 4 4-1 4 0 4-4 4-2 4-3 4-2 4 1 4-1 4 2 4-1 4-1 4 4 4 5 4-6 4 1 4-4 4-3 4-4 4 0 4 3 4-6 4-3 4-1 4 5 4-1 4-2 4 0 4 1 4 1 4-4 4 0 4 3 4-2 4-2 4-1 4-1 4-2 4 0 4 0 4 0 4-5"/>
<path stroke="#56b4e9" stroke-width="5.0" d="M3582 802l4-3 4 0 4 0 4 1 4-1 4 3 4-3 4 0 4 1 4-2 4 11 4 4 4-2 4-2 4 2 4 0 4-4 4-1 4-1 4-1 4 2 4-1 4-3 4-2 4-1 4 0 4 2 4-9 4-3 4-1 4-1 4 1 4 1 4-1 4-2 4-5 4-4 4 0 4 0 4 1 4-2 4-1 4 0 4 1 4-8 4-2 4-4 4 4 4-4 4 2 4 0 4 0 4-4 4-1 4 1 4-7 4-1 4-1 4 4 4-5 4 1 4 1 4 2 4-6 4-3 4-2 4 1 4-3 4-1 4-4 4 1 4-4 4 0 4-1 4 3 4-5 4-3 4 3 4-7 4-1 4 0 4-1 4-3 4-4 4-2 4-1 4-1 4-1 4-3 4-3 4 0 4-2 4-5 4 0 4 1 4-2 4 2 4-1 4-3 4 0 4-7 4-1 4 2 4-3 4-5 4 3 4-2 4 2 4 1 4 0 4-1 4 5 4-1 4-4 4 2 4 3 4-1"/>
<path stroke="#009e73" stroke-width="4.4" d="M1222 1597l4 3 4-4 4-2 4-2 4 0 4-1 4-4 4-2 4-1 4 0 4 0 4-7 4 1 4-5 4-12 4 1 4-1 4-2 4 1 4 7 4 2 4-2 4-2 4-2 4-1 4-3 4-5 4-1 4 2 4 1 4 6 4 0 4-1 4-6 4-2 4 0 4 2 4 1 4-1 4 1 4 0 4-1 4-1 4 1 4-4 4 1 4-3 4-3 4-4 4-4 4-2 4-1 4 0 4-2 4-1 4 3 4-3 4-4 4-1 4-3 4 0 4-5 4-4 4 2 4 3 4-6 4-3 4 2 4 1 4 0 4 0 4-6 4 2 4 2 4 1 4 0 4 1 4-3 4-2 4 1 4-6 4 1 4-2 4-4 4 1 4-4 4 1 4-3 4 0 4-1 4 0 4-2 4 0 4 3 4-4 4-8 4-6 4 0 4-1 4 0 4-1 4 1 4-2 4-4 4-1 4-1 4-2 4 2 4-1 4 1 4-5 4-2 4-5 4-2 4-5 4-2 4-4 4-1 4-4 4-3 4-3 4-3 4-2 4-2 4 1 4-4 4 0 4 0 4 1 4 7 4-3 4-1 4-2 4 0 4-1 4-4 4 1 4-5 4 1 4-1 4-1 4-3 4 0 4-3 4-2 4 3 4-2 4 0 4-4 4-1 4 2 4 9 4 0 4-3 4 0 4-4 4 3 4-2 4-4 4 0 4-3 4-1 4 4 4-1 4 1 4 4 4 2 4 0 4 1 4-2 4-4 4 3 4-6 4 1 4 3 4-7"/>
<path stroke="#9400d3" stroke-width="5.0" d="M1710 1409l4-1 4-1 4-7 4-5 4 2 4 0 4 3 4 5 4 2 4-4 4-2 4-4 4 0 4 0 4-2 4-2 4 2 4-4 4 1 4 0 4-2 4-5 4-2 4-1 4-3 4 0 4 1 4-4 4 3M1830 1394l4-3 4-2 4-4 4-1 4-2 4-1 4-1 4-2 4-1 4 1 4 3 4 0 4-2 4 3 4-1 4 1 4 1 4 1 4-2 4-1 4-3 4-2 4 0 4-4 4-5 4-3 4-3 4-2 4 1 4 0 4 1 4 2 4-4 4 4 4-2 4 3 4-5 4-1 4-1 4 0 4-1 4-1 4-6 4 0"/>
<path stroke="#0072b2" stroke-width="5.0" d="M582 1792l4 3 4-3 4-1 4 2 4-1 4-2 4-1 4 4 4-2 4-3 4 0 4-2 4 1 4 0 4-6 4-5 4 3 4-3 4-1 4 2 4 1 4 0 4-1 4-2 4-3 4 2 4 0 4-1 4-1 4 3 4-1 4 0 4-1 4 0 4-1 4 0 4 0 4 1 4 0 4-2 4-2 4-2 4 0 4-7 4-5 4-1 4-2 4-4 4 3 4-1 4 2 4-3 4-1 4-1 4 6 4 4 4-2 4 0 4-4 4-3 4-2 4-1 4-6 4 0 4 0 4 1 4 2 4 1 4-3 4-1 4-2 4-2 4-1 4 2 4-6 4 1 4 0 4-2 4 1M902 1750l4 7 4-1 4-1 4-3 4-1 4-1 4 0 4-2 4 0 4-1 4-2 4 2 4-1 4 0 4-3 4-2 4 0 4 0 4 0 4 0 4-2 4 1 4 2 4-1 4-2 4 2 4-4 4-8 4-1 4 4 4 1 4 1 4 0 4-3 4 0 4 1 4-2 4-2 4 1 4 0 4-1 4-1 4 0 4-1 4-2 4 3 4-2 4-1 4 0 4-2 4 1 4-1 4-1 4 1 4-6 4-2 4-3 4-2 4-4 4-2 4 0 4-1 4 0 4 1 4-2 4-3 4 0 4 0 4-2 4 0 4-2 4-1 4-1 4-1 4-3 4 2 4 1 4 0 4 0 4 0 4 2 4-4 4-1 4 0 4-2 4-2 4-2 4 0 4 2 4-6 4 0 4-2 4-2 4-2 4-14 4 0 4 0 4 2 4-1 4 6 4 1 4-4 4-1 4 0 4-2 4-1 4-5 4 0 4 0 4 2 4 4 4 4 4-6 4-4 4 1 4 1 4 2 4-1 4 2 4-1 4-2 4 0 4-3 4-3 4 3 4-1 4-2 4-1 4-1 4-6 4-6 4 2 4 0 4-2 4 0 4-1 4-2 4-2 4 1 4-6 4 1 4-2 4-5 4 4 4-2 4-1 4 1 4-1 4-1 4 0 4-1 4-4 4 2 4 3 4 0 4 0 4 2 4-2 4-2 4-4 4 1 4-1 4-2 4 1 4-2 4-2 4-3 4-1 4-2 4 1 4 0 4-2 4-1 4 2 4-3"/>
<path stroke="#f0e442" stroke-width="4.4" d="M2186 1387l4 1 4-2 4-1 4-2 4 0 4-2 4-1 4 1 4 3 4-5 4-3 4-4 4-5 4-4 4 0 4-3 4 3 4 1 4-3 4-3 4 1 4-3 4 1 4-5 4 2 4-8 4-6 4-3 4-4 4-4 4-4 4 1 4 0 4-2 4-1 4-3 4-3 4 4 4 1 4 2 4 1 4-2 4 0 4-3 4-3 4-1 4 0 4-3 4-3 4-7 4-1 4 0 4-1 4-2 4-3 4 0 4 0 4-1 4-3 4 0 4 0 4 0 4-1 4-3 4 1 4-2 4 0 4 1 4-4 4-3 4-2 4 0 4 3 4-3 4-1 4-2 4 1 4-4 4-3 4 1 4-1 4-1 4 1 4-1 4 0 4 0 4-1 4-2 4 1 4-1 4-1 4 0M2558 1235l4 8 4-7 4 5 4-3 4 2 4-1 4-4 4-7 4 0 4-1 4 1 4 1 4-4 4 1 4 3 4 3 4-2 4-4 4-8 4-4 4-3 4-2 4-2 4 2 4-2 4-4 4 0 4-1 4-1 4 0 4 1 4 1 4-3 4 2 4-4 4-1 4-3 4-1 4-1 4 1 4 1 4-1 4-1 4-5 4-3 4 2 4-3 4 1 4 1 4 3 4-3 4-1 4-4 4-1 4-3 4-4 4 0 4-1 4 2 4-4 4 1 4 0 4-3 4 0 4 0 4 1 4-2 4 1 4-2 4-2 4-4 4-2 4 0 4-5 4-3 4-7 4 0 4-1 4-3 4 5 4-5 4-11 4-1 4-1 4 2 4-1 4 0 4 3 4 5 4-8 4-6 4-3 4-3 4-4 4-4 4 1 4 2 4-3 4-1 4 2 4-5 4-6 4-3 4-4 4-4 4 0 4-4 4 0 4-5 4-6 4 0 4 0 4 4 4 4 4-4 4-1 4-6 4 3 4-5 4-1 4 0 4-2 4-2 4 0 4-2 4-3 4-3 4-5 4 0 4-4 4 1 4-1 4-1 4-1 4 1 4-2 4-3 4-5 4-3 4 2 4-1 4-3 4 0 4-7 4 2 4-11 4-3 4-3 4 3 4-4 4 2 4-1 4-1 4-3 4-5 4 4 4-3 4-3 4 1 4-3 4 3 4 1 4 1 4-3 4 0 4-3 4 0 4-4 4-6 4-2 4 9 4-4 4-3 4 0 4-6 4-1 4 0 4 0 4 1 4-3 4-2 4 0 4-9 4 3 4-2 4-1 4 2 4-5 4 2 4-2 4 1 4-6 4-4 4-7 4-2 4-1 4 0 4-7 4 4 4 0 4-1 4-6 4 3 4-2 4-2 4-6 4-1 4-2 4-2 4-1 4 13 4-5 4-4 4-3 4-4 4 1 4-1 4-2 4-2 4-8 4-2 4-1 4 3 4-1 4-3 4-4 4-2 4-2 4-7 4 1 4 0 4 1 4 0 4-1 4-3 4-4 4 2 4-6 4-2 4-1 4 4 4-3 4-3 4 0 4 2 4-2 4-3 4 0 4 0 4-2 4-1 4 1 4-4 4 2 4-1M3582 833l4-1 4-1 4-1 4 1 4-2 4 2 4 0 4 0 4 6 4-3 4 8 4 3 4-1 4 1 4-4 4 2 4-4 4-3 4-2 4 0 4 0 4 0 4 1 4-3 4-1 4 1 4-1 4-8 4-2 4 0 4 1 4 0 4-1 4 0 4-2 4-6 4-1 4-2 4 0 4-4 4 1 4 1 4-4 4 1 4-7 4-3 4 0 4 1 4 0 4-1 4-2 4 2 4-4 4-1 4 1 4-6 4-1 4-2 4 1 4 0 4 2 4 5 4-9 4 1 4-3 4-5 4 1 4 1 4-1 4-3 4-1 4-6 4 1 4 0 4 0 4-4 4-1 4-1 4 1 4 1 4-2 4-2 4-2 4-3 4-3 4-4 4-2 4-2 4-2 4-1 4 0 4-4 4-1 4-2 4-2 4 1 4 3 4-2 4-3 4-6 4 0 4-3 4 2 4-6 4-1 4 1 4-2 4-1 4 0 4 0 4 2 4 3 4 0 4-1 4 1 4 0 4-1"/>
<path stroke="#0072b2" stroke-width="4.0" d="M1710 1495l4-2 4 2 4-3 4-5 4-2 4 1 4 2 4 6 4 0 4-1 4-3 4-1 4-2 4 0 4-2 4-2 4-1 4-1 4-1 4-1 4-3 4-1 4-2 4 0 4-1 4 0 4-2 4-2 4 1 4 12 4-4 4-1 4-1 4-1 4-2 4 1 4-2 4-3 4-2 4 3 4 0 4 1 4 0 4 0 4 2 4-1 4-6 4-2 4 1 4-1 4-1 4 0 4-1 4-4 4-9 4 1 4-6 4-4 4 0 4 2 4 2 4 0 4-1 4 3 4-1 4 0 4-4 4-2 4 0 4-1 4-1 4-1 4-2 4-2 4-7 4-3 4-2 4 2 4-2 4 0 4 1 4-1 4-8 4-3 4-2 4 0 4-3 4-2 4 0 4-1 4 4 4-2 4-1 4 5 4-4 4 1 4 3 4 0 4-6 4-1 4 0 4-2 4 2 4-3 4 1 4 3 4-1 4-1 4 1 4-5 4 0 4-2 4-1 4-5 4 1 4-1 4-2 4-6 4-7 4-2 4 0 4 2 4-2 4-1 4-2 4 1 4 0 4-1 4-2 4-3 4-6 4-4 4-3 4-3 4-2 4 0 4 1 4 0 4-2 4 0 4-2 4 0 4-2 4-2 4-9 4-4 4-2 4-5 4-4 4-2 4 2 4-5 4 1 4-2 4-3 4 1 4 1 4 0 4 1 4 0 4-1 4-3 4 1 4-2 4-2 4 0 4-2 4-6 4-2 4 0 4-4 4-2 4-3 4 2 4 1 4-4 4-1 4-2 4 1 4 0 4-1 4-1 4 0 4 0 4 0 4-3 4-1 4-3 4-1 4-2 4 3 4 1 4-2 4-1 4-2 4 0 4-2 4 0 4-1 4-1 4-1 4 0 4 0 4-2 4-1 4 0 4-2 4 0 4-2 4 0 4-1M2558 1222l4 6 4-2 4 2 4-2 4 1 4-1 4-2 4-6 4-2 4 0 4-2 4 1 4 1 4-1 4 2 4 2 4-1 4-5 4-7"/>
<path stroke="#e51e10" stroke-width="4.4" d="M2562 1197l4-4 4 1 4 0 4 1 4 0 4-5 4-5 4-5 4-1 4 2 4-2 4 2 4-2 4 3 4 0 4-2 4-3 4-6 4-6 4-4 4-2 4-2 4 0 4 0 4-3 4 3 4-2 4-1 4-2 4 0 4 2 4-2 4 0 4-2 4-2 4-3 4 0 4-2 4 1 4 4 4-3 4-3 4-2 4-3 4-4 4-1 4 2 4 3 4-1 4 0 4-4 4-4 4 0 4 1 4-5 4-3 4 0 4-2 4-1 4 1 4 0 4-2 4-1 4-2 4 3 4 0 4-3 4 0 4 0 4-4 4-3 4-2 4-5 4-2 4-5 4-3 4-1 4 2 4-4 4-2 4-10 4 0 4-1 4-2 4 2 4-1 4 5 4 3 4-8 4-6 4-4 4-1 4-7 4 1 4-1 4-1 4-1 4-2 4 2 4-4 4-5 4-5 4-5 4-2 4 1 4 0 4-3 4-3 4-5 4-3 4-1 4 2 4 5 4-3 4-2 4-2 4-3 4 1 4-1 4-3 4-2 4-2 4-2 4-1 4 2 4-6 4-8 4 0 4-2 4-1 4 0 4-1 4-2 4 2 4-2 4-2 4-5 4-1 4-1 4 1 4-4 4-4 4-2 4-1 4-14 4 1 4-3 4 1 4 0 4-1 4-1 4-1 4 2 4-7 4 0 4 0 4-4 4-1 4 2 4 0 4 1 4 1 4-2 4-1 4 1 4-5 4-3 4-4 4-3 4-4 4-5 4-1 4-3 4-2 4-4 4 1 4 0 4-1 4-2 4-2 4 2 4-9 4 0 4 0 4 0 4-3 4-3 4 3 4-1 4-1 4-1 4-8 4-6 4-2 4 2 4-2 4-7 4 0 4 0 4-1 4-5 4-1 4 1 4-3 4-4 4 0 4-2 4-1 4 0 4 12 4-4 4-5 4-5 4-4 4 0 4 0 4 0 4-5 4-8 4 0 4-1 4 2 4-3 4 1 4-8 4-1 4-3 4-2 4-1 4 1 4-3 4 0 4 2 4-3 4-4 4 0 4-5 4-2 4 0 4-1 4-1 4-3 4 4 4-1 4-3 4-2 4 1 4 0 4-3 4-1 4 0 4-2 4-2 4 1M3582 763l4 0 4 2 4 1 4-1 4 1 4 0 4-3 4 0 4 3 4 0 4 7 4 3 4 0 4-1 4-2 4 1 4-1 4-1 4-3 4-1 4 1 4-1 4-2 4-1 4 0 4-3 4 1 4-8 4 1 4-3 4 2 4 0 4-5 4 1 4 0 4-7 4-3 4 1 4-1 4 2 4-2 4 0 4-1 4-1 4-8 4-4 4 1 4-2 4-1 4 3 4 0 4-2 4-1 4-5"/>
<path stroke="#9400d3" stroke-width="4.0" d="M214 1819l4-1 4-3 4 4 4 0 4 1 4-1 4 3 4 0 4-1 4-2 4 0 4 0 4-1 4-3 4 2 4-3 4-3 4 0 4-3 4 1 4 1 4-2 4 1 4 0 4-4 4-2 4-4 4-2 4-2 4-2 4 1 4 1 4-2 4 0 4-3 4-2 4-1 4-4 4 3 4 0 4-1 4 0 4 4 4 2 4-2 4-1 4-3 4-5 4-2 4 0 4-2 4 1 4-1 4-3 4 3 4 1 4-5 4 4 4-4 4 0 4-2 4 2 4-2 4 0 4-1 4 0 4-1 4-2 4 1 4 0 4-4 4-2 4 1 4-5 4 2 4 4 4 0 4-1 4 2 4 0 4-4 4 1 4-4 4-2 4 2 4-3 4 1 4-2 4-2 4-1 4-7 4-8 4 0 4 2 4 0 4 0 4-1 4 1 4-1 4 1 4-4 4 1 4-2 4-2 4 1 4 0 4-5 4-7 4 3 4-3 4 1 4-1 4 2 4 1 4-2 4-1 4-2 4 0 4 0 4-2 4 2 4 0 4 2 4-3 4 0 4 1 4 0 4 0 4-1 4 4 4-4 4 0 4-3 4 0 4-1 4-3 4-4 4-4 4-2 4-2 4 3 4 2 4 0 4-1 4-4 4-2"/>
<path stroke="#000000" stroke-width="5.0" d="M214 1801l4-3 4 4 4-1 4 4 4 0 4 0 4-2 4 1 4 0 4-1 4-1 4-2 4 0 4 0 4 2 4-5 4-5 4 2 4-5 4 3 4-1 4 1 4 3 4-1 4-5 4-2 4-3 4-4 4-2 4-1 4 1 4 0 4-1 4-1 4-3 4-1 4-3 4-4 4 1 4 6 4-2 4 3 4 0 4 5 4-6 4-3 4-2 4-6 4 1 4-3 4 1 4-1 4 2 4-2 4-1 4-1 4-3 4 5 4-1 4 0 4-2 4-1 4 1 4-5 4 1 4-1 4-2 4 2 4 1 4-3 4-2 4-2"/>
<path stroke="#e51e10" stroke-width="4.4" d="M214 1810l4-4 4-2 4 6 4-2 4 1 4 1 4-1 4 0 4 1 4-3 4 0 4-4 4 6 4-2 4-4 4 0 4-1 4-3 4-2 4 1 4-2 4 1 4 0 4 1 4-2 4-6 4-2 4-2 4-3 4-2 4 2 4 2 4-1 4-3 4-1 4-2 4-3 4 0 4 0 4 0 4 1 4-1 4 2 4 5 4-4 4-4 4-1 4-4 4-2 4-2 4 2 4-4 4 0 4 1 4 2 4-3 4-1 4 1 4 1 4 0 4-3 4 1 4-6 4 0 4 2 4-1 4-2 4 1 4 0 4-3 4-4 4 0 4-5 4-4 4-1 4 3 4 1 4 2 4-1 4 1 4-5 4 2 4-5 4-3 4 1 4 2 4-1 4-1 4-3 4 0 4-7 4-6 4 0 4 0 4 0 4-1 4 0 4 0 4 0 4-2 4-1 4-1 4-2 4-1 4-1 4 2 4-4 4-5 4-1 4-3 4 1 4 0 4 3 4-2 4 0 4-2 4-3 4-1 4-2 4 6 4 1 4 2 4-5 4 0 4 0 4 0 4 0 4 0 4 3 4 0 4-1 4-3 4 1 4-6 4 0 4-1 4-2 4-6 4 1 4-3 4-2 4 2 4 1 4-2 4-4 4 2 4-6 4 5 4-1 4-3 4-2 4-3 4 0 4-3 4-5 4 0 4-1 4 4 4 0 4 0 4-2 4-2 4 0 4-2 4-1 4 0 4-3 4 0 4-1 4 0 4 0M902 1679l4 6 4-3 4 2 4-1 4-4 4 0 4 1 4-4 4 0 4 1 4-5 4 1 4 1 4 1 4-2 4-2 4 0 4 1 4-4 4 2 4-2 4-1 4 1 4 4 4-5 4 3 4-3 4-8 4 2 4-1 4 3 4 1 4-2 4-2 4 0 4 1 4-2 4-1 4-1 4 0 4-3 4 1 4-1 4 0 4-1 4-2 4 1 4 0 4-1 4 0 4 1 4-2 4-1 4 0 4-6 4-2 4-2 4-5 4 0 4-2 4-2 4 0 4 2 4-3 4-2 4-1 4 1 4-2 4 1 4 0 4-5 4-2 4 0 4-3 4-3 4 7 4-2 4 1 4-2"/>
<path stroke="#56b4e9" stroke-width="4.4" d="M1418 1580l4-6 4-3 4 1 4-1 4-1 4-1 4 2 4-3 4-3 4-4 4 2 4-5 4-1 4-2 4 1 4-2 4 1 4 0 4-2 4-4 4 0 4-2 4 1 4-1 4 5 4 1 4-1 4-1 4 1 4-4 4 1 4-1 4 0 4-7 4 2 4-5 4 1 4-2 4-2 4-3 4 0 4 1 4 1 4-4 4 1 4-5 4-7 4 3 4-5 4 0 4-1 4 1 4-1 4-5 4 1 4-1 4-5 4 4 4 2 4-1 4-4 4-2 4-5 4-2 4-1 4-6 4-1 4-3 4-5 4-2 4-5 4-2 4-2 4 0 4-1 4-6 4-3 4 3 4 1 4 4 4 2 4-2 4-1 4-5 4 0 4 2 4 2 4-5 4-3 4 0 4-3 4 0 4-1 4-4 4 1 4-3 4 0 4-2 4-3 4-2 4 0 4 5 4 11 4-5 4 1 4-4 4 2 4-2 4-1 4-4 4 0 4-1 4 3 4-3 4 2 4-1 4 1 4 6 4-2 4-2 4-4 4 3 4 0 4-2 4-4 4 3 4-4 4-5 4-1 4-6 4-1 4-1 4-1 4 3 4-1 4 2 4 2 4-1 4-2 4-2 4-3 4 0 4-1 4-1 4-1 4-2 4-2 4-10 4 1 4 2 4 0 4-4 4 0 4 0 4-1 4-6 4-5 4-4 4 0 4 0 4-2 4 1 4-2 4 6 4-4 4-1 4 1 4 2 4-1 4 2 4-1 4-4 4 1 4-3 4-3 4 1 4 1 4-2 4 3 4-1 4 0 4 2 4-7 4 1 4-2 4 0 4-5 4-1 4-2 4 0 4-7 4-8 4 3 4-2 4 1 4-5 4 2 4-4 4 1 4 0 4 0 4-1 4-6 4-5 4-1 4-4 4-4 4 0 4 0 4 2 4 0 4-4 4 1 4-5 4 1 4-1 4 1 4-12 4-5 4-4 4 0 4-5 4-2 4-2 4 0 4-2 4 0 4-8 4 3 4 1 4 2 4 4 4-7 4 2 4-2 4-2 4 0 4 0 4-1 4-5 4-3 4-4 4 0 4-3 4-1 4 2 4-3 4 0 4-5 4 0 4 0 4-4 4 0 4 2 4 1 4-1 4-2 4-1 4 2 4-4 4-3 4-1 4 3 4-2 4 0 4-4 4-1 4 1 4-1 4-5 4 1 4-2 4 1 4 3 4-3 4-2 4 3 4-5 4 0 4-1 4 0 4 0 4-1 4-2M2558 1204l4 4 4 1 4 1 4 0 4-1 4 2 4-7 4-5 4 0 4 2 4-4 4 1 4-2 4 0 4 3 4 1 4-2 4-4 4-6 4-3 4-2 4-4 4-2 4 1 4-2 4-3 4 1 4 1 4-3 4-5 4 6 4-1 4-1 4-2 4-2 4-2 4-4 4-2 4-1 4 5 4 0 4-2 4 0 4-1 4-2 4-5 4-2 4 3 4 0 4-1 4-2 4 1 4-4 4-1 4-2 4-5 4 0 4 0 4 0 4-2 4-2 4 1 4 0 4-1 4-1 4 3 4-2 4 0 4-4 4-2 4-3 4-1 4-2 4-5 4 1 4-5 4-6 4-2 4 0 4 3 4-3 4-13 4 0 4-2 4-1 4 0 4 1 4 0 4 5 4-5 4-8 4-3 4-2 4-4 4-1 4 0 4-1 4-3 4 0 4 4 4-7 4-4 4-5 4-4 4-2 4 1 4-5 4-2 4-2 4-6 4-1 4-2 4 6 4 1 4 1 4-7 4-1 4-2 4-1 4-1 4 1 4-4 4-3 4 1 4-3 4-2 4-5 4-6 4 1 4-3 4 0 4-4 4-1 4 4 4 1 4-3 4-3 4-4 4-3 4 2 4-2 4-3 4-5 4-1 4 0 4-12 4-1 4-3 4 0 4 0 4-1 4-1 4-1 4-1 4-2 4-1 4-1 4-1 4 0 4-5 4 4 4 1 4-1 4 3 4-3 4-3 4-2 4-3 4-3 4-5 4-2 4-6 4-3 4-4 4-3 4 0 4 0 4-1 4 0 4-2 4-1 4 0 4-6 4-3 4 2 4-4 4-2 4 0 4 2 4-3 4 3 4-6 4-5 4-7 4-1 4 1 4-2 4-3 4 0 4-1 4-3 4-1 4 0 4-2 4-3 4-5 4-1 4 1 4 1 4-7 4 13 4-4 4-3 4-6 4-2 4-1 4-1 4 2 4-4 4-10 4-1 4 0 4 1 4-4 4 2 4-6 4-3 4-1 4-1 4-2 4-4 4 2 4 2 4-1 4-4 4-4 4-2 4-4 4-2 4-2 4 0 4 1 4-2 4 0 4 1 4 1 4-4 4-1 4-3 4 4 4-6 4 1 4 0 4 0 4-2M3582 782l4-2 4-2 4 2 4-2 4 0 4 2 4-3 4 3 4-1 4 0 4 10 4 5 4-4 4 2 4-6 4 2 4 0 4 0 4-3 4-2 4 0 4-3 4 2 4-1 4 0 4-1 4-2 4-5 4-1 4-2 4 0 4-2 4-2 4 5 4-6 4-6 4-5 4 2 4 0 4-2 4-2 4 2 4-2 4-1 4-5 4-3 4 0 4-2 4-1 4 5 4-3 4-2 4-4 4 0 4 1 4-3 4-2 4-2 4 0 4-3 4 3 4 1 4 0 4-2 4-5 4 1 4-3 4-1 4-1 4 0 4-4 4-4 4 2 4-2 4-1 4-2 4-1 4 2 4-4 4 0 4-3 4-2 4-2 4-3 4-3 4-4 4 5 4-9 4-1 4-2 4-2 4 2 4-3 4-1 4-4 4 2 4 3 4-3 4-3 4-2 4-6 4 2 4-2 4-1 4-5 4 2 4-1 4 0 4-2 4 3 4-2 4 3 4 3 4-2 4-2 4 0 4 2"/>
<path stroke="#e69f00" stroke-width="3.6" d="M646 1704l4 0 4-1 4 0 4-1 4 2 4 1 4-1 4-2 4-2 4 0 4 1 4-1 4 1 4 0 4-1 4 1 4-1 4 0 4-1 4 2 4-2 4 1 4 0 4-1 4-1 4-4 4 0 4-3 4-3 4-3 4-2 4-1 4 1 4 0 4 3 4-3 4-4 4-1 4 3 4 2 4 0 4-3 4-3 4-1 4-2 4-2 4-7 4 1 4 1 4 0 4 1 4-2 4-1 4 1 4 0 4-2 4-2 4-1 4 1 4-2 4-1 4 1 4 0"/>
<path stroke="#e69f00" stroke-width="4.4" d="M214 1816l4-3 4 0 4 1 4 2 4 2 4-5 4 4 4 0 4 0 4-7 4 2 4 4 4-1 4 1 4-4 4-3 4-1 4-5 4 0 4 1 4-1 4-3 4 3 4 1 4-2 4-5 4 0 4-3 4-4 4 1 4-2 4 2 4 0 4-5 4 4 4-4 4-7 4 3 4-1 4-2 4 2 4 1 4 4 4 4 4-7 4-1 4-6 4-2 4 1 4-1 4-1 4-3 4 1 4 0 4-1 4-3 4 0 4 4 4-1 4 1 4-3 4 1 4 1 4-2 4-2 4 0 4 1 4-3 4-1 4-2 4-1 4-6 4-2 4-4 4-3 4 4 4 0 4-1 4 2 4 0 4-3 4-1 4 2 4-6 4 3 4 0 4-2 4-1 4-3 4-3 4-8 4-5 4-2 4 1 4-2 4-2 4 1 4 0 4 5 4-5 4-4 4 2 4-3 4 0 4 4 4-3 4-6 4-8 4-2 4 2 4 0 4 4 4-3 4 2 4 1 4-5 4-1 4 1 4-2 4-1 4 4 4 0 4-3 4 5 4-2 4-3 4 3 4 2 4-2 4 4 4-4 4 0 4-1 4-2 4-6 4 0 4-3 4-4 4-1 4-3 4 3 4 1 4 0 4-4 4 1 4-6 4 5 4 4 4 0 4-4 4 0 4-3 4-2 4-5 4-5 4 0 4 2 4 4 4-2 4-2 4-1 4-2 4-2 4 4 4-3 4-2 4-1 4 0 4-2 4 0 4 2M902 1685l4 6 4-1 4-3 4 1 4-2 4-2 4 0 4-4 4-2 4 5 4 0 4-3 4-2 4-1 4 1 4 0 4 2 4-5 4 2 4-3 4-1 4 5 4-2 4-1 4-5 4 3 4-3 4-7 4 2 4 0 4 1 4 2 4 0 4-2 4 0 4 0 4-2 4-2 4 1 4 0 4 1 4 1 4-4 4-3 4-2 4 2 4 1 4-2 4-1 4-1 4 2 4-1 4 2 4-6 4-5 4-3 4 1 4-4 4-2 4-4 4 0 4-1 4 2 4-1 4-1 4-2 4-1 4 2 4-3 4-2 4-2 4-1 4-2 4 0 4-6 4 2 4 2 4 2 4 0 4 1 4-3 4-1 4-2 4 0 4-3 4 1 4-2 4 0 4-1 4-5 4 4 4-7 4-2 4-4 4-9 4-4 4 2 4-4 4 1 4 8 4 0 4-3 4-2 4 1 4 1 4-1"/>
<path stroke="#e51e10" stroke-width="4.4" d="M214 1787l4 2 4-4 4 2 4 3 4-2 4-1 4-1 4-2 4 4 4 1 4-3 4-1 4 0 4 2 4-5 4-2 4 0 4-3 4-4 4 5 4-5 4 0 4-1 4 3 4 0 4-6 4-1 4-8 4 0 4 0 4 3 4-1 4-2 4 0 4-2 4-1 4-3 4-1 4 0 4 0 4-1 4-1 4 5 4 5 4-6 4-3 4-2 4-5 4 2 4-5 4 0 4 2 4-1 4 0 4 0 4-2 4-2 4 2 4-1 4 0 4 0 4 0 4-1 4-3 4 1 4 1 4-2 4-2 4 0 4-1 4-1 4-3 4-6 4-6 4 1 4 4 4-1 4-1 4 2 4-1 4-4 4 3 4-4 4-2 4 2 4-2 4 0 4 1 4-5 4-3 4-5 4-6 4-1 4 0 4 1 4 0 4 2 4-4 4 1 4-2 4 1 4-1 4-2 4-1 4-2 4 0 4-2 4-10 4 4 4-3 4 0 4 2 4 0 4 2 4-2 4 0 4-6 4 1 4 0 4 0 4 1 4 1 4 4 4-3 4-1 4-2 4 2 4-1 4-1 4 2 4 2 4-3 4 0 4-3 4-4 4-2 4-4 4-3 4-3 4-1 4 1 4 0 4 3 4-3 4-2 4-3 4 3 4 3 4-1 4 1 4-3 4-3 4-2 4-3 4-4 4-1 4 4 4-3 4 0 4 0 4 3 4-2 4-2 4-2 4 0 4-5 4-1 4 2 4 0 4 2 4-4M902 1653l4 9 4-3 4 0 4 1 4-6 4 2 4-3 4 2 4-4 4-1 4-1 4 3 4-1 4 1 4-3 4-3 4 0 4 1 4-1 4-2 4 2 4 0 4-2 4-1 4 1 4 1 4-1 4-12 4 6 4-2 4 1 4 2 4 0 4-1 4-3 4-1 4 0 4-2 4 2 4-1 4 0 4 1 4-2 4-4 4 1 4 0 4-1 4-2 4 2 4-6 4 5 4-1 4-1 4 0"/>
<path stroke="#e51e10" stroke-width="5.0" d="M3902 824l4-1 4-3 4-3 4-2 4-4 4-1 4 0 4-3 4-3 4-1 4-1 4-2 4-3 4 0 4-2 4 0 4 5 4-3 4-5 4-2 4-4 4-1 4 0 4-2 4-1 4 0 4-1 4-1 4 0 4 1 4 2 4-3 4 3 4-1 4 3 4 0 4-2"/>
<path stroke="#f0e442" stroke-width="5.0" d="M2994 1040l4-3 4-4 4 2 4 2 4 3 4-2 4-5 4-1 4 1 4-6 4 2 4-1 4-5 4-1 4 0 4 2 4-4 4-7 4-4 4-2 4-1 4 0 4 0 4-2 4-1 4 1 4-3 4-3 4-1 4-3 4 1 4-1 4-3 4-4 4 0 4-3 4-14 4-1 4-1 4 2 4-2 4-1 4-2 4-1 4 1 4-5 4-1 4 0 4 1 4-1 4 0 4-3 4 1 4 2 4-1 4-3 4 0 4-3 4-3 4-2 4-6"/>
<path stroke="#56b4e9" stroke-width="3.6" d="M330 1747l4-1 4 0 4 2 4-3 4 0 4-1 4-4 4-2 4-3 4 2 4 1 4 0 4-2 4 5 4 3 4-2 4-5 4-3 4-2 4 2 4-5 4-1 4 0 4-1 4-1 4 0 4 1 4-1 4 2 4-2 4 0 4-1 4 0 4-2 4 0 4-2 4-1 4-1 4 1 4-2 4-2 4-1 4-3 4-5 4-8 4 3 4 2 4 0 4 0 4 2 4 1 4-4 4-1 4-3 4-2 4 2 4 0 4-1 4 1 4-3 4-4 4-6 4-6 4 2 4-1 4 1 4-2 4 0 4 0 4 1 4-2 4-2 4-2 4 2 4-2 4-1 4 0 4-5 4-8 4 4"/>
<path stroke="#e51e10" stroke-width="3.6" d="M214 1833l4 0 4-2 4 1 4 0 4 4 4-2 4-1 4-2 4 3 4-2 4 1 4-1 4 0 4 1 4-3 4-3 4-2 4-1 4-1 4 0 4 0 4-3 4 0 4 2 4 1 4-7 4-4 4-2 4 1 4-4 4 1 4 1 4-2 4-1 4-3 4-1 4-2 4-2 4 3 4-1 4 2 4-2 4 4 4 3 4-2 4-1 4-6 4-5 4-1 4-5 4 0 4 3 4 3 4-3 4-1 4-1 4 0 4 0 4-3 4 2 4-2 4-1 4 2 4 0 4-2 4-2 4-1 4 0 4-2 4-1 4 1 4-3 4-7 4-5 4 0 4 2 4-1 4 3 4 1 4 1 4-6 4 5 4-5 4-2 4-1 4 1 4 3 4-3 4-2 4-4 4-5 4-7 4 1 4-2 4 3 4-1 4 1 4-1 4-1 4-1 4-4 4 1 4-1 4 1 4 1 4-3 4-3 4-10 4 4 4 0 4 2 4-3 4-2 4 2 4 0 4 0 4-5 4 3 4 0 4-1 4 0 4-2 4 1 4 0 4-1 4 2 4-3 4-1 4 1 4 0 4 2 4-2 4 1 4-2 4-4 4 0 4-2 4-7 4-2 4 0 4-1 4 1 4 2 4-2 4 0 4-4 4-2 4 4 4-2 4-3 4 0 4 0 4-6 4-1 4-3 4-1 4-1 4-1 4 3 4-3 4-1 4-1 4 1 4-2 4-1 4 4 4-5 4 0 4 0 4-1 4-2M902 1698l4 8 4-2 4-1 4-2 4-2 4 0 4-1 4-3 4 2 4 0 4-4 4 0 4 2"/>
<path stroke="#009e73" stroke-width="4.0" d="M214 1787l4-1 4 0 4 3 4-1 4-2 4 0 4-3 4 5 4-1 4-3 4 1 4 0 4-1 4-1 4-4 4 0 4-3 4 0 4-3 4 3 4-2 4 2 4-1 4 3 4-4 4-2 4-6 4-7 4 0 4 1 4-5 4 5 4-2 4-1 4-1 4-4 4-2 4-2 4 2 4-1 4 2 4-3 4 5 4 4 4-5 4-2 4 0 4-5 4-3 4 0 4 0 4-5 4 5 4-4 4 1 4-1 4-1 4 3 4-2 4-1 4-5 4 5 4-2 4 1 4-3 4-1 4 0 4 0 4-2 4-1 4-6 4 0"/>
<path stroke="#56b4e9" stroke-width="4.4" d="M3002 862l4 1 4 1 4 5 4-3 4-2 4-4 4 2 4-5 4 0 4-3 4-2 4-1 4 0 4-1 4-2M3070 834l4 2 4-3 4 1 4-3M3094 830l4 1 4-3 4-2 4-5 4 0 4 0 4-1 4-4 4-4 4 0 4-1M3142 796l4-1 4-4 4 3 4-2 4 0 4-2 4 0 4-1 4-2 4-3 4 0 4 0 4-3 4 0 4-1 4 2 4 2 4-2 4 1M3226 776l4-1 4-6 4-7 4-2 4-4 4-2 4 0 4-5 4-4 4-1 4-1 4 2 4-3 4 0 4 0 4-10 4 1 4-3 4 1M3310 731l4-2 4-3 4 2 4-4 4-7 4-6 4-2 4 1 4-2 4-5 4 2 4-2 4-3 4-2 4-1 4 0 4-2 4-5 4-3 4 0 4-1 4-1M3406 693l4-4 4-8 4-3 4 1 4-1 4-3 4-2 4-6 4-2 4 1 4-3 4-2 4-1 4-5 4-3 4-2 4-5 4 1 4 2 4-2 4 1M3498 643l4-2 4-1 4-5 4-4 4-2 4 2 4 0 4-3 4 0 4 2 4-7 4-4 4-5 4-3 4-1 4-6 4 0 4-1 4-5 4 1 4-12 4-3 4-2 4 2 4 1 4 1 4 1 4 0 4-1 4 1 4-2 4 13 4 2 4 1 4-2 4-1 4 2 4-3 4-1 4-1 4 1 4-1 4-1 4-2 4 1 4-2 4 1 4-1 4-8 4-2 4-2 4 1 4-1 4 0 4-3 4 0 4-10 4-2 4 4 4-2 4-2 4 1 4-1 4-2 4-1 4-8 4-1 4-1 4-2 4 2 4-1 4-1 4 0 4-3 4-4 4 3M3814 535l4 3 4-2 4 3 4 3 4-4 4-2 4-5 4-2 4-3 4 1 4 2 4-3 4-3 4-4 4-1 4 2 4-1 4-5 4-3 4 2 4-1 4-1 4-3 4 0 4-2 4-4 4-4 4-1 4-3 4-2 4-1 4-4 4-1 4-2 4-1 4-1 4-4 4-1 4 5 4-2M3982 475l4-5 4-4 4 0 4 0 4-2 4-2M4018 464l4-1 4 2 4 1 4 0 4-2 4 2 4 0 4-1"/>
<path stroke="#e69f00" stroke-width="4.0" d="M214 1790l4 1 4 1 4 1 4-1 4 1 4 0 4 0 4-1 4-1 4 0 4 2 4 0 4-1 4-2 4-2 4-3 4 0 4-3 4-3 4 3 4-1 4-1 4 1 4-1 4-1 4-3 4-5 4-5 4 2 4-2 4-1 4 1 4-1 4-3 4 3 4-5 4 0 4-1 4 1 4-2 4 3 4-3 4 5 4-1 4 0 4-3 4-2 4-5 4-2 4-1 4 1 4-1 4-1 4-4 4 3 4-1 4-2 4-1 4 1 4 3 4-1 4-4 4 1 4 2 4-1 4-2 4-1 4-3 4 0 4-3 4 3 4-5 4-5 4-4 4-2 4 5 4 1 4-4 4 2 4 1 4-4 4 2 4-5 4-2 4 1 4-1 4 0 4 0 4-2 4-4"/>
<path stroke="#009e73" stroke-width="4.4" d="M1102 1584l4 3 4-2 4-2 4 0 4-6 4-2 4-3 4-4 4-5 4 0 4-2 4 1 4 1 4-3 4 0 4-1 4-1 4-3 4 0 4 0 4-1 4-3 4-1 4-3 4-1 4 4 4-3 4 1 4 2M1226 1550l4-3 4-3 4 2 4-2 4-3 4 1 4-3 4-1 4-2 4-4 4 0 4-2 4-2M1282 1512l4-1 4 2 4 0 4 0 4 7 4-2 4-1 4-1 4-2 4 0 4-4 4-5 4 1 4 1 4 1 4 0 4 1 4 1 4-5 4 0 4 1 4-1M1378 1507l4-2 4 1 4-3 4-2 4 1 4-3 4 4 4-3 4-2 4-4 4-5 4-7 4 2 4 2 4-4 4-1 4 0M1454 1478h0M1462 1472l4-2 4-2 4-2 4 1 4 0 4 0 4-4 4 0 4-1 4-1 4 0 4-1 4-1 4 3 4 0 4 0 4 1 4-1 4-5 4 0 4-2 4 0 4-4 4 1 4-4 4 0 4-2 4-2 4 0 4-2 4-1 4-1 4 1 4-1 4-4 4-8 4 0 4-2 4-2 4 0 4 0 4 0 4-3 4-2 4 0 4-2 4 0 4 2 4-1 4-2 4-2 4-5 4 0 4-4 4-5 4-4 4 0 4-6 4-4 4-3 4-2 4-2 4-1 4-1 4-2 4-7 4-1 4 4 4 5 4 2 4-2 4 0 4-1 4-2 4-1 4-1 4-3 4-3 4 2 4-2 4-2M1794 1360l4-1 4-4 4 0 4-3 4 1 4-1M1826 1351l4 13 4-2 4-3 4-2 4 0 4-3 4-2 4 0 4-2 4-2 4 0 4 2 4 1 4 3 4-2 4 1 4 3 4-1 4-3 4 1 4 1 4-3 4-1 4 1 4-5 4-4 4-2 4-7 4-2 4 0 4 2 4 1 4 1 4 0 4 0 4 1M1978 1331l4-3 4-1 4 0 4 0 4-2 4-1 4-4M2022 1310l4 2 4 1M2042 1300l4-2 4 0 4 0 4-5 4 0 4-2 4 1 4 3M2082 1288l4 2 4 1 4 2 4-1 4-1 4-1 4-1 4 0 4-3 4 0 4 0 4 0 4 3 4-1 4 1 4-1 4-1 4-4 4-5 4 0 4-1 4-1 4-2 4 1M2186 1260l4-1 4-1 4 0 4-1 4-1 4-1 4 0M2222 1253h0M2242 1233l4 0 4-2 4-1 4 1 4-2 4 1 4 0 4-4 4 0 4-4 4 4 4-9 4-8 4-5 4-4 4-1 4-2 4-3 4-2 4 0 4-3 4-1 4-1 4 2 4 2 4 0 4-1 4 1 4-2 4-2 4-1 4-1 4-2 4-3 4-2"/>
<path stroke="#e51e10" stroke-width="4.4" d="M2294 1344l4-2 4-4 4-1 4-6 4 1 4-3 4-2 4 0 4-2 4-1 4 1 4 0 4 2 4 0 4-3 4-1 4-1 4 0 4-1 4-1 4-3 4-5 4-1 4-3 4 0 4-2 4-1 4-3 4 0 4-2 4 1 4-3 4-2 4 1 4 1 4-2 4-1 4-1 4 0 4 0 4 1 4-6 4 1 4-1 4-3 4 1 4-1 4-1 4 0 4-1 4-2 4 1 4-4 4 0 4 0 4 0 4-4 4 1 4 1 4-1 4-2 4 3 4-3 4-1 4 1M2558 1243l4 6 4-1 4-1 4 1 4 0 4 0 4-4 4-5 4-1 4 1 4-2 4 0 4-1 4-1 4 4 4 2 4-4 4-3 4-6 4-6 4 0 4-5 4 1 4-1 4-2 4-1 4-2 4-1 4 0 4 1 4 1 4 0 4-3 4 0 4-1 4-2 4-4 4-1 4-3 4 3 4 2 4-1 4-3 4 0 4-4 4-1 4-1 4 0 4 1 4 2 4-2 4-3 4-2 4-1 4-3 4-2 4-5 4 3 4-1 4-3 4 1 4 0 4-1 4-1 4 0 4 2 4-3 4-1 4 0 4-1 4-3 4-5 4 0 4-4 4-2 4-3 4-5 4 2 4-3 4-2"/>
<path stroke="#9400d3" stroke-width="3.6" d="M646 1668l4 4 4-2 4-3 4 2 4 3 4 0 4 0 4-8 4 2 4-2 4 5 4-3 4 1 4 0 4 0 4-1 4 1 4 2 4-3 4 1 4-2 4 4 4-3 4-1 4 1 4-5 4 0 4-1 4-4 4-5 4-6 4 4 4 0 4 1 4 2 4 1 4-5 4 1 4 0 4 6 4-4 4-4 4 1 4-4 4-3 4 1 4-3 4-3 4 0 4 2 4 0 4-2 4-1 4-2 4 0 4 1 4-2 4 2 4-6 4-3 4 5 4-3 4-1M902 1642l4 9 4 3 4-4 4-1 4 4 4-4 4-1 4-4 4 2 4-1 4-4 4 1 4 4 4-3 4-1 4-2 4 1 4-2 4 2 4-2 4-4 4 4 4 2 4-3 4 2 4 1 4-5 4-11 4 3 4 0 4 2 4 2 4 0 4-1 4 0 4-6 4 2 4 0 4-1 4-1 4 0 4 1 4-2 4-2 4 2 4-2 4-2 4 1 4 0 4-1 4 1 4 0 4-2 4 1 4-4 4-6 4-2 4-5 4-1 4-2 4-2 4 0 4 3 4-4 4 1 4 2 4-5 4 0 4-4 4 3 4-4 4 1 4-4 4-5 4 0 4 1 4 2 4 3 4-1 4 1 4-2 4-2 4-5 4 3 4-1 4-1 4-2 4-2 4-2 4-3 4-1 4 0 4-4 4-2 4-8 4-5 4 0 4 0 4-1 4 4 4 4 4-4 4-1 4-1 4-1 4-2 4-10 4 3 4 3 4 3 4-3 4 2 4-1 4-1 4-2 4-3 4 5 4 1 4-4 4 3 4-4 4-2 4 2 4 0 4-4 4-2 4-3 4 1 4-2 4-3 4-7 4 0 4-2 4 2 4-2 4-1 4-3 4-2 4-2 4-5 4 6 4-8 4-1 4 4 4-3 4-3 4 2 4-5 4 0 4-2 4 2 4-2 4 1 4 3 4-2 4-2 4 4 4 0 4-4 4-1 4-3 4 0 4-1 4-2 4-4 4-4 4 4 4-8 4 1 4-2 4 0 4 0 4 2 4 1 4-7"/>
<path stroke="#e51e10" stroke-width="3.6" d="M1166 1684l4-1 4-1 4-3 4-1 4 1 4-3 4 2 4-7 4-1 4 5 4 0 4-2 4-1 4 1 4 2 4 1 4-3 4-4 4 1 4-4 4 0 4-3 4 4 4-4 4 0 4-6 4-3 4-2 4-10 4-3 4 1 4 5 4-2 4 5 4-1 4-1 4-1 4-2 4-3 4 1 4-5 4-3 4 5 4 2 4-1 4 1 4-2 4-1 4-3 4 3 4 2 4-1 4-1 4 2 4-4 4 3 4-7 4 1 4 0 4-1 4 1 4 0 4-5 4-4 4-6 4-3 4 3 4 0 4-1 4 0 4 0 4-5 4-1 4-3 4-1 4-2 4-1 4 2 4-2 4-1 4-1 4 0 4-2 4 1 4-2 4-2 4-1 4 3 4-2 4 4 4 1 4-2 4-1 4 0 4-1 4-2 4-2 4-2 4-2 4-4 4 2 4-4 4 0 4 0 4 1 4 2 4-5 4-1 4 0"/>
<path stroke="#9400d3" stroke-width="4.2" d="M2562 1039l4-1 4 2 4-3 4 0 4 3 4-4 4-7 4 1 4-1 4-1 4-1 4 1 4 0 4 1 4 3 4-3 4-4 4-7 4-5 4-2 4-3 4-1 4 0 4-1 4 1 4-3 4-1 4-2 4-4 4 3 4 0 4-1 4-1 4 1 4-5 4 0 4-1 4-1 4 1 4 2 4-3 4-2 4-1 4-4 4-1 4-2 4-1 4 5 4 1"/>
<path stroke="#0072b2" stroke-width="3.6" d="M806 1699l4-2 4-3 4-2 4-2 4-1 4-3 4-3 4-2 4 1 4-1 4 4 4-3 4 2 4-5 4-1 4 1 4-4 4 0 4 1 4-3 4 1 4-2 4 0M902 1693l4 7 4-3 4 0 4-4 4 0 4 0 4-2 4-2 4-2 4 2 4-2 4 1 4-1 4-1 4 0 4-2 4 0 4-1 4 1 4-2 4-1 4 2 4-2 4 0 4-1 4 2 4-3 4-9 4 4 4 0 4 2 4 1 4-1 4 1 4-2 4-3 4-1 4 0 4 0 4-2 4 1 4-3 4 1 4-2 4 0 4-1 4 1 4 0 4 0 4-2 4 1 4-1 4-1 4-1 4-6 4-2 4-3 4-3 4-3 4-1 4-1 4 1 4-1 4-2 4-3 4-1 4 1 4-3 4 3 4-1 4-2 4-3 4-1 4-1 4-4 4 0 4 1 4 2 4 3"/>
<path stroke="#000000" stroke-width="5.0" d="M1902 1396l4 2 4-1 4-2 4-1 4-3 4-1 4-6 4 2 4-5 4-4 4 0 4 2 4-3 4 3 4 1 4-3 4 1 4 0 4-3 4-2 4 4 4-2 4-2 4-5 4-3 4 1 4-4 4-3 4 0 4-1 4-2 4 4 4-3 4-1 4-9 4-2 4-4 4 4 4-4 4-2 4 0 4 0 4 5 4-3 4 0 4-1 4-1 4 1 4 2 4 2 4-5 4-4 4 3 4-3 4 0 4 1 4-4 4 2 4 2 4 2 4-2 4-3 4-2 4-3 4 0 4-3 4-2 4-3 4 2 4-8 4-7 4 1 4-1 4 0 4-4 4-2 4 2 4-2 4 0 4 1 4-1 4-6 4-6 4-4 4-4 4-1 4 2 4 0 4-1 4-1 4-1 4-6 4 3 4 0 4-3 4-1 4-10 4-4 4-4 4-5 4 0 4-2 4-2 4 0 4-4 4-2 4-1 4-1 4 1 4 2 4 2 4 1 4-1 4-5 4-1 4-3 4 1 4-1 4-2 4-4"/>
<path stroke="#f0e442" stroke-width="4.4" d="M214 1863l4 0 4 0 4 5 4-1 4-1 4 0 4 0 4-2 4 3 4-4 4 1 4-1 4 2 4-3 4-3 4-1 4-1 4-1 4-2 4-1 4 2 4-1 4-1 4 3 4-4 4-2 4-4"/>
<path stroke="#000000" stroke-width="3.6" d="M1334 1626l4 0 4 4 4 1 4 0 4 1 4-3 4-3 4 3 4 0 4 2 4-1 4-2 4 0 4 1 4-3 4-3 4 2 4-1 4-2 4-1"/>
<path stroke="#0072b2" stroke-width="3.6" d="M2766 1238l4-2 4-2 4-4 4 0 4-5 4 2 4 1 4-7 4 6 4-1 4-1 4-2 4 0 4 2 4 1 4-3 4-1 4-2 4-3 4-1 4-4 4-3 4-2 4-4 4-6 4 1 4 2 4-4 4-2 4-10 4 1 4-2 4-1 4 2 4 1 4 2 4 3 4-6 4-6 4-3 4-3 4-6 4-1 4 1 4-3 4 1 4 0 4 1 4-7 4-2 4-2 4-8 4-1 4 1 4-2 4-3 4-3 4-4 4-3 4-1 4 2 4 4 4-2 4-3 4-2 4 0 4-2 4-1 4-3 4-4 4 0 4 0 4-3 4 1 4-7 4-5 4-1 4-2 4 1 4-1 4-2 4 2 4-1 4-1 4-4 4-3 4 0 4 1 4-1 4-4 4-4 4-2 4 2M3142 1070l4-2 4 0 4 0 4 0 4-2 4 1 4-3 4 1 4-5 4-1 4-1 4 0 4-1 4 0 4-1 4 1 4 2 4-2 4 0 4 0 4-4 4-3 4-3 4-6 4-2 4-5 4-5 4 1 4-3 4-3 4 1 4-1 4 0 4-1 4-4 4 2 4-7 4 1 4-2 4-2 4 0 4 1 4-1 4-3 4 0 4-2 4-4 4-1 4-4 4 0 4 1 4-4 4 1 4-2 4-3 4-3 4 2 4-1 4-4 4-2 4-3 4 0 4 1 4-4 4 9 4-3 4-1 4-6 4-2 4-2 4 2 4-1 4-4 4-5 4-3 4 1 4 0 4-3 4-3 4-2 4-4 4-2 4-2 4-1 4-2 4 1 4 2 4-3 4-2 4-3 4-1 4-3 4-2 4-3 4 2 4-1 4 0 4 1 4-2 4-2 4-1 4 0 4-3 4 2 4-4 4-1 4-1 4 0 4 1M3582 895l4-1 4 0 4 1 4-1 4-2 4 2 4-2 4 1 4 2 4-1 4 9 4 3 4-2 4-1 4-1 4 1 4-1 4-3 4-1 4-2 4 1 4 0 4-1 4-1 4-1 4-1 4 2 4-8 4-3 4-1 4 0 4-2 4 1 4 0 4-3 4-5 4-2 4 0 4-1 4 1 4-2 4 1 4-3 4-2 4-5 4-2 4-2 4-2 4 3 4 1 4-3 4 1 4-3 4-1 4 0 4-5 4 0 4-3 4 1 4 0 4 3 4 1 4-1 4-3 4-6 4-1 4-1 4-2 4 2 4-2 4-2 4-6 4 0 4 3 4 0 4-4 4-3 4-2 4 3 4-4 4 1 4-2 4-2 4-2 4-4 4-3 4-1 4-1 4-2 4-2 4-2 4 0 4-2 4-2 4-2 4 2 4 2 4-1 4-4 4-3 4-5 4 0 4 0 4-4 4 0 4-1 4 1 4-4 4 3 4 0 4 0 4 3 4-1 4-1 4 2 4 0 4 0"/>
<path stroke="#0072b2" stroke-width="4.0" d="M646 1772l4 3 4-2 4 0 4-1 4 3 4-5 4 2 4-3 4-2 4 1 4-2 4-2 4 2 4 1 4 4 4-2 4-2 4 2 4-2 4 3 4-3 4 6 4-3 4-3 4 2 4-7 4 1 4-4 4-6 4 0 4-2 4-1 4-2 4 1 4 3 4-6 4-1 4 1 4 1 4 5 4-5 4 0 4-1 4-2 4-4 4-1 4-2 4-3 4 0 4 0 4 0 4 3 4-2 4 1 4-1 4-3 4-3 4-2 4 1 4 1 4-1 4-3 4-2"/>
<path stroke="#56b4e9" stroke-width="4.4" d="M2562 1125l4 1 4 1 4-1 4 0 4 1 4-6 4-4 4-2 4-2 4 2 4 0 4-1 4-1 4 5 4-1 4-1 4-4 4-9 4-2 4-3 4-5 4 1 4-1 4 0 4-1 4-2 4-1 4-1 4-1 4 0 4 1 4-1 4-3 4-1 4-2 4-3 4-3 4 1 4 2 4 1 4 0 4-4 4-1 4-3 4-1 4-5 4 2 4 2 4 1 4-2 4 0 4-5 4-1 4-1 4-5 4-4 4 2 4-1 4-1 4 0 4 1 4-2 4-1 4 2 4 0 4-2 4 0 4 0 4-3 4-5 4-4 4 0 4-4 4-1 4-6 4-6 4 1 4 1 4-2 4-2 4-11 4 0 4-2 4 0 4 0 4 0 4 3 4 5 4-6 4-7 4-5 4-2 4-7 4-1 4 1 4-1 4-3 4-1 4 2 4-6 4-3 4-3 4-8 4 0 4 0 4-1 4-2 4-7 4-4 4-3 4 2 4 0 4 5 4-2 4-3 4-2 4-3 4-1 4-1 4 0 4-3 4-3 4-1 4-2 4-1 4-5 4-6 4-2 4-1 4 1 4-4 4 1 4-1 4 2 4-3 4-5 4-1 4-2 4 1 4 1 4-6 4-4 4-1 4 0 4-14 4-3 4 0 4 0 4 0 4 0 4-3 4 0 4-2 4-2 4 0 4-2 4-3 4-1 4 1 4 2 4 2 4-1 4-1 4-3 4 2 4-5 4-4 4-4 4-5 4-1 4-6 4-2 4-2 4-4 4-1 4-1 4 0 4 1 4-3 4 1 4-3 4-7 4-2 4 0 4-2 4 0 4-1 4 1 4-1 4 0 4-6 4-5 4-7 4-2 4 0 4-1 4-3 4-1 4 1 4-3 4-1 4-2 4-3 4-3 4 0 4-1 4-2 4-3 4-1 4 11 4-3 4-3 4-7 4-2 4-2 4 1 4-3 4-3 4-5 4-1 4-1 4-2 4-1 4-2 4-5 4-2 4-3 4-2 4-1 4-1 4-1 4 2 4-3 4-1 4-2 4-4 4-5 4 0 4-3 4 3 4-1 4 0 4-3 4 1 4-2 4-1 4 1 4-2 4 1 4-4 4 0 4-3 4-1 4 1"/>
<path stroke="#e69f00" stroke-width="4.4" d="M2994 1076l4-4 4 1 4-1 4 2 4 1 4 0 4-4 4-4 4 2 4-5 4 2 4-6 4 1 4-1 4-3 4-3 4 4 4-9 4-7 4 1 4 1 4 0 4-4 4 3 4-5 4-2 4 4 4-3 4-7 4 1 4-2 4 2 4-4 4-4 4-2 4-1 4-13 4-4 4-2 4 3 4 3 4-2 4-2 4-2 4-3 4 1 4-4 4 3 4-4 4 0 4 0 4-3 4 4 4 1 4-4 4 0 4 2 4-2 4-5 4-5 4-5 4 1 4-5 4-1 4-5 4-4 4-2 4-1 4 1 4-1 4-4 4-1 4 3 4-8 4-3 4 2 4 0 4-3 4 2 4-3 4 1 4-1 4-7 4-3 4-3 4-1 4-4 4 0 4-2 4-1 4-2 4-1 4-3 4-2 4 0 4-5 4 0 4-1 4-4 4 1 4 0 4 11 4-7 4-1 4-6 4-1 4 0 4-2 4 1 4-6 4-9 4 1 4-2 4 2 4-4 4-1 4-5 4 0 4-3 4-5 4 0 4-1 4 1 4 5 4-3 4-3 4-6 4-1 4-1 4-5 4-2 4 5 4-5 4 0 4-5 4 3 4 3 4-5 4 0 4 0 4-2 4-2 4 1 4 1 4-4 4 0M3582 821l4-4 4 1 4-3 4 0 4 3 4 0 4 2 4-2 4 5 4-2 4 1 4 0 4-2 4 0 4-2 4 3 4-1 4-1 4-2 4 2 4-2 4-5 4 1 4 1 4-3 4 0 4 0 4-7 4 0 4-3 4 0 4-1 4-3 4 1 4 0 4-8 4-3 4 6 4-4 4 2 4-2 4-3 4-3 4 0 4-1 4-5 4-1 4-1 4-3 4 2 4-1 4 0 4-3 4-1 4 3 4-6 4-1 4 0 4 2 4-3 4 1 4-2 4 2 4-2 4-5 4-4 4 3 4-2 4-3 4-4 4 2 4-1 4-3 4 1 4-2 4-4 4-2 4 2 4-2 4 1 4-1 4-3 4-6 4-3 4-3 4 4 4-5 4 0 4-4 4-3 4-1 4 1 4-1 4-4 4-5 4 5 4 4 4-3 4-3 4-6 4-3 4-2 4 1 4-1 4-2 4 0 4-3 4 1 4 1 4-1 4 1 4 2 4 2 4-2 4 0 4-1 4 4"/>
<path stroke="#f0e442" stroke-width="4.4" d="M806 1671l4-2 4-1 4-3 4 1 4-7 4 0 4-7 4-2 4 4 4 0 4 1 4-1 4 1 4 0 4-1 4-2 4 1 4-7 4-2 4 6 4-7 4 3 4-1M902 1666l4 7 4-1 4-1 4-4 4 1 4 0 4-1 4-2 4-1 4-3 4 2 4-1 4-2 4-1 4 1 4 0 4-1 4-1 4 0 4-6 4 6 4-3 4 2 4-3 4-1 4-1 4-1 4-9 4 4 4 0 4 6 4-2 4-2 4 3 4-3 4 1 4-1 4 0 4-2 4-4 4-1 4 2 4-1 4-1 4-1 4 1 4-2 4 2 4-2 4-4 4 2 4-1 4 2 4-6 4-1 4-4 4-1 4-3 4-3 4-1 4-2 4 1 4 2 4-7 4 2 4 1 4-5 4-5 4 4 4-4 4 2 4-3 4-1 4-3 4-3 4 4 4 1 4-3 4 4"/>
<path stroke="#009e73" stroke-width="4.4" d="M3986 687l4 1 4-3 4 0 4-1 4 2 4 1 4-4 4-2 4 2 4-1 4 4 4 0 4-2 4 3 4 3 4-2"/>
<path stroke="#0072b2" stroke-width="7.0" d="M642 1674l4-4 4 1 4-3 4 2 4 0 4-1 4 0 4-2 4 0 4-2 4-2 4 3 4-3 4 4 4-2 4 2 4-1 4-1 4 2 4-1 4-1 4 1 4 2 4 0 4-3 4-1 4-3 4-2 4-2"/>
<path stroke="#009e73" stroke-width="3.6" d="M2562 1190l4-2 4 2 4 1 4 0 4 0 4-6 4-6 4-1 4 0 4-3 4 3 4 0 4-5 4 5 4 2 4-1 4-1 4-8 4-12 4 2 4-3 4-2 4 0 4-2 4 2 4 0 4-2 4 0 4-6 4 5 4 0 4-5 4-1 4 3 4-4 4-5 4-2 4 1 4 2 4 2 4 0 4-4 4 0 4-4 4-5 4 3 4-5 4 4 4 0 4 0 4-5 4-5 4 3 4-4 4-2 4-2 4 2 4-4 4 0 4 5 4-3 4-4 4-1 4-3 4 7 4-3 4-1 4-2 4-2 4-3 4-2 4 1 4-3 4-7 4-3 4-7 4 1 4 0 4-2 4-2 4-11 4 2 4-1 4 1 4-3 4 0 4 3 4 6 4-7 4-6 4-5 4-3 4-6 4-1 4 2 4-3 4-3 4 4 4 1 4-7 4-2 4-5 4-7 4-3 4 1 4 0 4-6 4-5 4 0 4-9 4 3 4 7 4 3 4-5 4-3 4-2 4-1 4-4 4-1 4-2 4 2 4-4 4-1 4-3 4 0 4-4 4-7 4 0 4-1 4-3 4-1 4 0 4 2 4 0 4-4 4 1 4-7 4-3 4 6 4 0 4-6 4-4 4-4 4 3M3142 950l4-2 4-3 4 1 4-2 4 1 4 1 4-5 4-1 4 1 4-1 4-2 4-3 4 0 4-1 4 3 4-2 4 1 4 2 4-3 4-1 4-4 4-7 4 0 4-8 4 2 4-4 4-1 4-4 4-2 4-5 4 0 4 3 4 0 4-2 4-1 4-3 4-4 4-2 4 0 4 2 4-4 4-3 4-2 4 4 4-1 4-5 4-7 4-2 4-5 4-2 4 3 4-6 4-1 4 1 4-1 4-1 4-3 4-5 4 1 4-4 4-5 4 3 4 0 4-3 4 12 4-7 4-1 4-7 4-4 4 2 4 0 4 2 4-6 4-9 4-2 4 3 4-4 4-2 4-1 4-4 4 2 4-1 4-5 4-2 4 0 4-3 4 4 4-3 4-2 4-1 4-3 4-4 4-3 4-1 4 3 4 0 4-3 4-4 4 3 4-5 4-2 4-1 4 1 4 0 4-3 4-3 4 4 4 1 4-1M3582 761l4-3 4-1 4 3 4-1 4-3 4 0 4 1 4-1 4 3 4-2 4 0 4 3 4-2 4-3 4 2 4 1 4-3 4-2 4-6 4 6 4-2 4-1 4-2 4 0 4 2 4-7 4 2 4-5 4-1 4-2 4-2 4-3 4 2 4 0 4 0 4 2 4-3 4 2 4 0 4 2 4-3 4-2 4-1 4-3 4-3 4-7 4 3 4-1 4 1 4 4 4-8 4-1 4 0 4 2 4-3 4-6 4 0 4-2 4-1 4 2 4 0 4 4 4-4 4-2 4-6 4-1 4 1 4-4 4 2 4-3 4-1 4-4 4-1 4 1 4 0 4-3 4-4 4 4 4-3 4-1 4 1 4-5 4 0 4-1 4-7 4-1 4 0 4-4 4-4 4 0 4-3 4-1 4 0 4 0 4-5 4-3 4 8 4-3 4-5 4-2 4-3 4 1 4-1 4-5 4-2 4 1 4-4 4 4 4-3 4 1 4 4 4 1 4 0 4 1 4 1 4-3 4-1"/>
<path stroke="#9400d3" stroke-width="5.0" d="M1166 1683l4-2 4-5 4 2 4-1 4-1 4-1 4 0 4-3 4-3 4 2 4 1 4-1 4 2 4 0 4 0 4-1 4-2 4-2 4 1 4-3 4-2 4 1 4-3 4-3 4 1 4-1 4-5 4-8 4-14 4 1 4 0 4 1 4-3 4 5 4 0 4-2 4 0 4 0 4-1 4-1 4-7 4 0 4 4 4 0 4 2 4 0 4-1 4-1 4-3 4 1 4 0 4 1 4 1 4-2 4-2 4 1 4-4 4-1 4 3 4 0 4-2 4 1 4-5 4-4 4-6 4 0 4-2 4-1 4 2 4 0 4-1 4-3 4-4 4-2 4 0 4-2 4-3 4 2 4-2 4 0 4-1 4 0 4 0 4 0 4-1 4-4 4 0 4 2 4 1 4 2 4-1 4 0 4-3 4-1 4 0 4-2 4-1 4-1 4-5 4-1 4 1 4-4 4 0 4-2 4 3 4-3 4-2 4 1 4-3"/>
<path stroke="#9400d3" stroke-width="3.6" d="M214 1781l4 0 4-1 4 1 4 2 4 1 4-2 4 1 4-2 4 3 4-3 4 0 4 0 4-1 4 1 4-2 4-1 4-7 4 2 4-4 4 2 4 1 4 0 4-3 4 3 4-2 4-5 4-4 4-3 4-1 4-1 4 0 4 2 4-3 4-1 4-2 4-2 4-2 4-2 4 3 4-1 4 2 4-2 4 5 4 1 4-2 4-4 4-3 4-5 4 1 4-1 4-1 4-1 4 1 4-2 4 2 4-2 4-1 4 1 4 0 4-1 4-2 4 0 4-2 4 1 4-1 4-2 4-1 4 0 4-2 4 1 4-2 4-3 4-5 4-6 4 0 4 4 4 0 4 0 4 1 4 1 4-2 4-3 4-4 4 0 4 1 4-2 4 2 4-1 4-4 4-3 4-10 4-3 4-2 4 1 4-2 4 0 4 1 4-2 4 1 4 0 4-1 4 0 4-2 4 0 4-3 4 1 4-6"/>
<path stroke="#000000" stroke-width="5.0" d="M2450 1116l4-1 4 1 4-4 4-2 4 1 4 1 4-2 4-1 4-2 4 0 4-4 4 2 4 2 4-4 4-2 4 1 4-2 4 2 4-4 4-3 4 1 4-1 4 2 4-3 4-3 4 3"/>
<path stroke="#f0e442" stroke-width="3.6" d="M2186 1315l4 1 4-4 4 2 4-3 4 2 4-2 4 0 4 1 4-2 4 1 4-7 4-3 4-6 4-3 4 0 4-3 4 2 4-4 4-2 4 1 4-2 4 2 4 0 4-6 4 1 4-10 4-7 4-3 4-2 4 0 4-3 4-4 4 1 4-7 4 3 4 0 4-2 4 4 4-1 4-2 4 1 4 1 4-3 4-3 4 1 4-1 4-2 4-1 4-7"/>
<path stroke="#e69f00" stroke-width="4.0" d="M3962 577l4 1 4 2 4-1 4-2 4-4 4-4 4-3 4 0 4-1 4-1 4 0 4-1 4 0 4 0 4 2 4-1 4 1 4 1 4 0 4 2 4 0 4-2"/>
<path stroke="#0072b2" stroke-width="5.0" d="M1830 1402l4-1 4-1 4-1 4-2 4-1 4-1 4-3 4-5 4 0 4 0 4 1 4 2 4 1 4-1 4 3 4 1 4 1 4-3 4 0 4-2 4-4 4 3 4-1 4-3 4-6 4-1 4-5 4-5 4 5 4-2 4 4 4-4 4 0 4 4 4 0 4-5 4-2 4-3 4 0 4 2 4-2 4-1 4 0 4-4 4-8 4-2 4 0 4-1 4-2 4 2 4-2 4 0 4-10 4-2 4 0 4 0 4-4 4-3 4 3 4 1 4 0 4-2 4-1 4 3 4-1 4-2 4 6 4-5 4 2 4-2 4-3 4-4 4 1 4 1 4 0 4 0 4 3 4 1 4-3 4-2 4-4 4-2 4-2 4-2 4-1 4-3 4 1 4-6 4-8 4-3 4 3 4-1 4-2 4-2 4-3 4 3 4 0 4 0 4 0 4-3 4-4 4-5 4-8 4 2 4-2 4 1 4-3 4-1 4 1 4-3 4 0 4-3 4-3 4 2 4-12 4-3 4-4 4-3 4-3 4-1 4-2 4-2 4 0 4-2 4-4 4 2 4 2 4-2 4 3 4 0 4-1 4-3 4-1 4-1 4-4 4 3 4-6 4-3 4 0 4-2 4-5 4 0 4-2 4-2 4-1 4-1 4 1 4-3 4-1 4 0 4 0 4-1 4-1 4 0 4-2 4-3 4 1 4-2 4-3 4-1 4 0 4-1 4 1 4-4 4 0 4 0 4-1 4-2 4-1 4 1 4-2 4 0 4 3 4-3 4-4 4 0 4 1 4-3 4 0 4-3 4 2M2558 1141l4 4 4 4 4-3 4-2 4 1 4 1 4-5 4-7 4-1 4 0 4-1 4 0 4-1 4-1 4 6 4-1 4-3 4-1 4-8 4-8 4 0 4-1 4-3 4-1 4-2 4 0 4-3 4 2 4 0 4-2 4 3 4-4 4-2 4 0 4 0 4-2 4-5 4-2 4-1 4 5 4 1 4 0 4-5 4-4 4-1 4-2 4-4 4 1 4 3 4 1"/>
<path stroke="#e69f00" stroke-width="5.0" d="M1902 1427l4 3 4-4 4 3 4-4 4-2 4-3 4-4 4-2 4-5 4 1 4-2 4 2 4 4 4-5 4 2 4 0 4 2 4-4 4-2 4-1 4 1 4-1 4-3 4-1 4-1 4-4 4-7 4-4 4 1 4 3 4-2 4 0 4 1 4-3 4-8 4-4 4 0 4-2 4-2 4-1 4-1 4-1 4 4 4 1 4-1 4-3 4-1 4 1 4 1 4 1 4-1 4-4 4-1 4-2 4 1 4 1 4 2 4-2 4 0 4 3 4-1 4-5 4 0 4-2 4-4 4-3 4-1 4-1 4 0 4-5 4-5 4-3 4 0 4-3 4 0 4-2 4-1 4 2 4 1 4-4 4-2 4-1 4-6 4-6 4-1 4-2 4-1 4 0 4 0 4 2 4-3 4-2 4-3 4-2 4-4 4 1 4-3 4 1 4-5 4-5 4-2 4-3 4-2 4 1 4-1 4-4 4-2 4-1 4 3 4 3 4-2 4 1 4-1 4-2 4-2 4 1 4-3 4 1 4-4 4-4"/>
<path stroke="#0072b2" stroke-width="4.4" d="M3146 967l4-1 4 1 4-1 4-1 4 0 4-1 4-2 4-2 4-1 4-2 4-1 4-2 4 2 4 0 4-2 4 4 4-2 4-3 4 1 4-2 4-4 4-5 4-6 4-2 4-3 4-1 4-1 4-5 4-3 4 0 4-1 4 1 4-1 4-3 4 1 4-7 4-1 4-2 4 0 4-1 4-2 4-1 4 1 4 2 4-5 4-6 4-6 4-2 4-2 4-2 4-3 4 0 4 1 4-2 4-4 4 1 4-4 4-2 4-3 4-1 4 1 4-3 4 1 4 9 4-6 4-3 4-4 4-3 4 0 4 1 4-1 4-5 4-6 4-3 4 1 4 0 4-1 4-4 4-3 4-3 4-2 4-4 4-1 4 0 4-1 4 4 4-3 4-3 4-2 4-1 4-5 4-2 4-2 4 0 4 2 4-1 4-2 4 2 4-2 4-3 4-2 4-1 4 1 4-2 4 1 4-2 4 0 4-1M3582 779l4-2 4 0 4 1 4 0 4-3 4 2 4-1 4 2 4 0 4-4 4 13 4 3 4-2 4 0 4-1 4-2 4 0 4-1 4-1 4-1 4-3 4-1 4 1 4-2 4 2 4-2 4 0 4-7 4-2 4-2 4 0 4 1 4 0 4 0 4-3 4-8 4-3 4 5 4-3 4 1 4-3 4 1 4-3 4-1 4-6 4-3 4-2 4 2 4 0 4-2 4 0 4-1 4-2 4-1 4-1 4-5 4 1 4-3 4 0 4-2 4 6 4-1 4 0 4-2 4-6 4-3 4 0 4-2 4 1 4-3 4-1 4-4 4-1 4 1 4 4 4-5 4-5 4 0 4-2 4 2 4-1 4-1 4-3 4-6 4-2 4-1 4-2 4-3 4-1 4-2 4-1 4-2 4-3 4 1 4-3 4 0 4 3 4 0 4-5 4-3 4-4 4-3 4-1 4 0 4-2 4 1 4-1 4 1 4-1 4 2 4-1 4 0 4 2 4 0 4 0 4 0 4 0"/>
<path stroke="#9400d3" stroke-width="4.4" d="M214 1790l4-1 4 1 4-3 4 3 4 0 4-1 4 0 4 0 4 2 4-5 4 1 4 0 4-1 4 3 4-4 4-3 4 1 4-4 4-3 4 1 4 3 4-2 4-1 4 2 4-4 4-4 4-4 4-2 4-4 4 1 4 1 4 1 4-1 4-2 4-3 4 1 4-2 4-5 4 2 4 1 4 0 4 0 4 4 4 3 4-2 4-5 4-4 4-3 4 0 4-1 4 0 4-3 4 0 4 0 4 0 4-2 4-1 4 2 4-1 4 1 4-3 4 0 4-1 4 2 4-2 4-2 4 0 4 2 4-1 4-4 4 0 4-4 4-6 4-5 4 1 4 4 4-1 4 0 4 2 4 2 4-8 4 2 4-2 4-1 4 0 4-2 4 0 4-2 4 0 4-5 4-6 4-4 4-1 4 2 4-1 4 1 4-3 4 0 4-2 4 1 4-2 4 0 4-1 4 1 4-3 4 0 4-2 4-7 4 2 4-4 4 0 4-1 4 0 4 3 4 2 4-3 4-4 4 4 4-2 4-3 4 2 4 0 4 1 4-2 4-2 4 4 4-1 4 0 4-1 4 1 4 0 4-2 4-2 4-3 4-1 4-1 4-3 4-6 4-1 4-1 4 1 4 0 4 0 4 2 4-3 4-4 4 3 4 5 4 0 4-3 4-2 4-2 4-3 4-3 4-4 4 0 4 0 4 0 4 2 4-1 4 1 4-2 4-1 4-2 4-1 4 0 4-2 4-1 4 0 4-2 4 1M902 1657l4 7 4 0 4-4 4 1 4-2 4 0 4-1 4 0 4-3 4 0 4 0 4-3 4 1 4 0 4-3 4 1 4-2 4 4 4-5 4-1 4 0 4 1 4 1 4-1 4-1 4 1 4-2"/>
<path stroke="#009e73" stroke-width="3.6" d="M510 1761l4-1 4 3 4 1 4 0 4 2 4 0 4-2 4-1 4-3 4-2 4 3 4-2 4-1 4-1 4-2 4-4 4-6 4-6 4 2 4-1 4 1 4 1 4 0 4-2 4 0 4-3 4 0 4 0 4-1 4-3 4 2 4-1 4-4 4-7 4 2 4-2 4 2 4-2 4-1 4 2 4 0 4-1 4-1 4-1 4-2 4 0 4 3 4-2 4 1 4-1 4-1 4 2 4-2 4 3 4-3 4 2 4-1 4-2 4 0 4-2 4-2 4-1 4-5 4-3 4-1 4-3 4 2 4 0 4 2 4-1 4-4 4-3 4 3 4 5 4-2 4-2 4-2 4 0 4-5 4-1 4-6 4 0 4 0 4 3 4-2 4-1 4 0 4-2 4 1 4 1 4-4 4-2 4-2 4 1 4-1 4 0 4 2M902 1699l4 8 4-4 4 0 4-3 4 0 4 1 4-5 4 2 4-2 4-2 4 1 4 1 4-3"/>
<path stroke="#000000" stroke-width="4.4" d="M1830 1517l4-7 4 3 4-2 4-2 4-2 4-2 4-5 4 5 4-1 4-1 4 1 4 0 4 1 4 1 4 0 4 3 4-1 4 0 4-3 4 1 4-4 4 2 4 0 4-5 4-4 4-1 4-5 4-1 4-1 4 0 4 2 4-2 4 2 4-2 4 0 4-2 4 0 4-2 4 1 4 0 4-2 4-4 4-3 4 2 4-10 4-2 4 3 4-2 4-1 4 1 4-2 4 2 4-11 4-4 4 1 4-4 4-3 4 4 4 3 4-6 4 3 4-1 4-3 4 1 4 2 4-1 4 1 4 5 4-7 4 1 4 0 4-7 4 4 4-3 4 0 4 6 4-4 4 3 4-2 4-4 4 0 4-4 4-3 4 2 4-2 4-2 4 0 4-6 4-8 4-4 4 4 4-1 4 0 4-4 4 2 4-4 4 5 4 0 4-4 4-8 4 3 4-7 4-4 4 0 4-2 4-1 4-3 4 1 4 1 4-1 4-5 4 1 4-1 4 1 4-8 4-5 4-4 4-4 4-5 4 2 4-5 4-1 4-1 4 0 4 0 4-5 4 5 4-1 4 5 4-8 4 2 4 4 4-8 4 1 4-1 4-1 4-1 4-6 4-4 4-3 4-1 4 4 4-9 4 3 4 1 4-2 4-1 4 0 4-1 4-2 4 0 4-4 4 3 4-2 4 0 4-2 4 2 4-4 4 0 4-1 4-3 4 1 4 0 4-4 4 2 4-2 4-1 4-1 4-1 4-3 4 7 4-7 4 0 4-3 4 1 4-3 4 0 4 5 4-5 4 1 4 2M2558 1271l4 8 4-2 4 4 4-3 4-2 4 3 4-4 4-9 4 0 4 0 4 1 4 3 4-1 4-4 4 2 4 5 4-4 4-2 4-8 4-9 4-4 4-1 4-5 4 0 4 0 4-2 4 1 4-1 4 0 4 0 4 2 4 1 4-3 4-4 4-2 4-1 4 0 4-4 4 3 4 1 4-2 4 0 4-3 4-1 4 2 4-5 4-4 4-1 4 2 4 3 4 0 4-5 4 1 4-3 4-5 4 2 4 0 4-4 4 1 4-5 4-3 4 5 4 1 4-5 4 0 4 2 4 2 4-2 4-2 4-1 4-5 4-2 4-2 4-3 4 1 4-8 4-4 4-2 4 0 4 1 4-2 4-9 4-1 4 1 4-4 4 4 4-3 4 1 4 3 4-3 4-7 4-3 4 0 4-5 4-4 4 1 4-5 4 2 4 5 4-2 4-7 4-1 4-5 4-5 4-3 4-3 4 5 4-5 4-6 4-3 4-1 4 0 4 2 4 2 4-1 4-8 4 6 4-5 4-4 4 3 4-2 4-4 4-6 4 0 4 0 4-2 4-3 4-6 4-1 4-1 4 0 4-2 4-2 4 0 4 0 4 3 4-8 4 1 4-4 4 4 4-5 4-4 4-4 4 1 4 0 4-14 4-1 4-3 4 1 4 0 4 2 4 0 4-5 4 2 4-5 4-1 4 0 4 0 4-2 4-2 4 3 4 1 4-2 4-3 4-3 4 4 4-5 4-1 4-3 4-5 4-3 4-5 4-1 4-1 4-5 4 0 4-2 4-4 4 3 4-2 4-1 4 1 4-7 4-3 4 4 4-5 4 0 4 0 4-2 4-3 4 5 4-7 4-6 4-2 4-2 4 0 4-5 4-3 4-1 4 3 4-3 4-2 4-1 4-4 4 1 4-6 4 2 4-3 4 0 4-2 4 11 4-5 4-5 4-3 4-5 4 0 4 3 4-4 4-3 4-5 4 1 4-2 4-4 4-2 4 1 4-4 4-3 4-4 4 0 4-2 4 2 4-4 4 6 4-3 4-2 4-4 4-6 4 3 4-5 4 2 4 0 4 0 4 0 4-4 4 0 4 0 4-4 4 3 4-3 4-2 4-3 4 5 4-2 4-6 4 5M3582 862l4 2 4-3 4 2 4-2 4 0 4 2 4-6 4 3 4 3 4-2 4 9 4 2 4 0 4 2 4-7 4 4 4-3 4 2 4-2 4-2 4 3 4-5 4-1 4-3 4 1 4 1 4-1 4-7 4-5 4-1 4 2 4 2 4-3 4-2 4 1 4-6 4-1 4 0 4-2 4-3 4 4 4 0 4-5 4 3 4-9 4-3 4-3 4 2 4 1 4-2 4-1 4-1 4 0 4-1 4-3 4-5 4 5 4-5 4-1 4 0 4 3 4 5 4-4 4-5 4-3 4-1 4-2 4 0 4-1 4-3 4-1 4-3 4-1 4 4 4-2 4-1 4-9 4 1 4-14 4 0 4-1 4 1 4-8 4-4 4 1 4-7 4 2 4 1 4-3 4-3 4 0 4-4 4 2 4-5 4-2 4 1 4 5 4-8 4 0 4-4 4-2 4-5 4 1 4-4 4 1 4 0 4-1 4-1 4 3 4-2 4 5 4-4 4 1 4 1 4-1 4 3 4-2"/>
<path stroke="#e69f00" stroke-width="4.4" d="M3146 957l4 0 4-1 4 1 4-1 4-4 4-1 4 4 4-4 4-4 4 1 4-4 4-2 4-1 4 0 4 6 4 1 4-1 4-2 4-4 4-2 4-1 4-5 4-3 4-4 4-3 4-7 4-1 4-1 4-3 4-2 4 1 4-2 4 0 4-5 4 2 4-4 4 0 4-1 4-6 4 2 4-2 4 3 4-3 4 3 4-5 4-7 4-3 4-9 4 4 4 0 4-8 4 1 4 5 4-7 4-4 4 3 4-3 4-1 4-3 4-6 4 0 4 3 4-1 4 8 4-4 4-2 4-6 4-1 4-1 4 0 4-4 4-3 4-4"/>
<path stroke="#009e73" stroke-width="4.4" d="M2562 1135l4-1 4 0 4 0 4-1 4-1 4-4 4-4 4 2 4-1 4-1 4-1 4-2 4 1 4 4 4 1 4-1 4-5 4-8 4-4 4-1 4-3 4-2 4-1 4-3 4 1 4-1 4-3 4-1 4 1 4 0 4-1 4-1 4 1 4-4 4-1 4-4 4-3 4 0 4 3 4 1 4 1 4-4 4-3 4-2 4-3 4-1 4 2 4 1 4-1 4-2 4-2 4-2 4-1 4-3 4-1 4-4 4 1 4-4 4-1 4 3 4-1 4-2 4 0 4-2 4 3 4-2 4 0 4 0 4-4 4-2 4-4 4-4 4-2 4-1 4-5 4-8 4 0 4 2 4-4 4-2 4-10 4-2 4 1 4-2 4 2 4 1 4 3 4 4 4-6 4-6 4-6 4-2 4-5 4-3 4 2 4-2 4-2 4 2 4-1 4-5 4-3 4-8 4-2 4-2 4-1 4-1 4-2 4-4 4-8 4-1 4 0 4 2 4 3 4 1 4-8 4 0 4 0 4-3 4-2 4-1 4-3 4-2 4-1 4-1 4-1 4-4 4-9 4 0 4 0 4-1 4-2 4-1 4 0 4-1 4 1 4-4 4-5 4 0 4-1 4 1 4-7 4-1 4-3 4 2 4-14 4-4 4-1 4 3 4-3 4 0 4-1 4-1 4 0 4-2 4-1 4-2 4 0 4-3 4 0 4 1 4-2 4 4 4-1 4-2 4-3 4-2 4-3 4-6 4-4 4-2 4-5 4-2 4-1 4-4 4-2 4-1 4 0 4 0 4-1 4-2 4 0 4-9 4-2 4 1 4-3 4-1 4 0 4 2 4 0 4 0 4-4 4-6 4-7 4-2 4 0 4 0 4-7 4-1 4 3 4-3 4-1 4-3 4-1 4-4 4-2 4-5 4 1 4 1 4-2 4 10 4-3 4-2 4-9 4 0 4-1 4 0 4-3 4-3 4-7 4-3 4 1 4-1 4-5 4 1 4-6 4 0 4-3 4-4 4 0 4-2 4 0 4 3 4-2 4-3 4-4 4-2 4-4 4-1 4-1 4 2 4-2 4-3 4 1 4 1 4-2 4-1 4-3 4 0 4 1 4-4 4 0 4-1 4-1 4-1M3582 689l4-2 4 1 4-2 4 2 4 2 4-3 4-1 4 0 4 2 4-1"/>
<path stroke="#000000" stroke-width="3.6" d="M2562 1253l4 0 4 0 4-2 4-1 4 1 4-2 4-5 4-3 4-1 4 1 4-1 4-3 4 1 4 5 4-1 4-3 4-3 4-4 4-5 4-3 4-3 4 0 4 0 4-3 4-1 4 1 4-1 4-3 4 0 4 0 4 1 4-4 4 1 4 0 4-3 4-3 4 0 4-1 4 2 4 1 4 1 4-5 4-1 4-5 4-2 4-1 4 0 4 5 4-2 4-1 4-2 4 0 4-1 4-4 4-2 4-4 4 0 4-2 4 0 4 0 4 1 4-1 4-2 4 1 4 3 4-4 4-1 4-1 4-2 4-3 4-4 4 0 4-6 4 1 4-3 4-6 4 1 4 0 4-3 4-2 4-11 4 1 4-2 4 1 4 0 4 0 4 3 4 3 4-7 4-7 4-2 4-2 4-4 4-5 4 3 4-3 4 0 4 0 4 0 4-4 4-4 4-4 4-7 4 0 4 0 4-3 4 0 4-5 4-8 4 1 4-1 4 3 4 2 4 1 4-6 4 1 4-2 4-2 4-3 4-1 4-3 4-2 4 0 4 1 4-4 4-2 4-7 4-2 4-1 4 1 4-4 4 0 4 0 4 3 4-1 4-5 4-3 4-2 4 2 4-1 4-5 4-6 4 0 4 1M3142 1022l4-2 4 0 4 1 4 0 4-1 4-3 4-1 4 0 4-3 4 2 4-2 4-1 4-3 4 0 4 0 4 2 4 1 4 0 4-3 4-3 4 1 4-5 4-4 4-5 4-3 4-3 4-3 4-1 4-4 4-2 4-2 4 1 4 0 4-1 4-3 4 1 4-8 4-1 4-1 4 0 4-1 4-1 4 0 4 0 4 0 4-4 4-9 4-7 4-4 4 1 4-1 4-4 4-1 4-1 4-1 4-2 4-1 4-1 4-3 4-5 4 1 4-3 4 1 4-3 4 12 4-3 4-5 4-5 4-2 4-1 4 0 4 2 4-8 4-3 4-2 4-2 4-2 4-2 4 0 4-1 4-5 4-1 4-4 4 1 4-4 4 1 4 2 4-3 4-2 4-2 4-1 4-4 4-3 4-2 4 1 4 0 4-1 4 1 4 1 4-3 4-2 4-1 4-1 4 0 4-4 4 2 4 1 4-3 4 1M3582 829l4 1 4 0 4 0 4 0 4 0 4-1 4 0 4 2 4-1 4-3 4 10 4 5 4-4 4 2 4-3 4 2 4-1 4-2 4-2 4 0 4-2 4-1 4 0 4 0 4 0 4-2 4 0 4-8 4-1 4-1 4-1 4 1 4-2 4 0 4-1 4-5 4-2 4-3 4 4 4-4 4-1 4 1 4-2 4 1 4-7 4-4 4 1 4-4 4 1 4 1 4 0 4 1 4-5 4-1 4 1 4-5 4-2 4-1 4 1 4 0 4 1 4 2 4-3 4-2 4-4 4-2 4-2 4 1 4 2 4-4 4-4 4-3 4-1 4 2 4 1 4-5 4-3 4 0 4 0 4-1 4-1 4-1 4-3 4-2 4-3 4-2 4-3 4-1 4-2 4-3 4 0 4-3 4-2 4-1 4-1 4 0 4 4 4 0 4-5 4-3 4-3 4-3 4-1 4-1 4 0 4 0 4-4 4 2 4-3 4 4 4 2 4-2 4-2 4 3 4 1 4 0 4-2"/>
<path stroke="#009e73" stroke-width="5.0" d="M214 1829l4-2 4-1 4 1 4 3 4 2 4 1 4-2 4-3 4 2 4-2 4 1 4 0 4-1 4-1 4 0 4-5 4 1 4-3 4-2 4 0 4 2 4-1 4 0 4 1 4-6 4-1 4-3"/>
<path stroke="#f0e442" stroke-width="3.6" d="M542 1663l4-1 4-4 4 1 4 0 4 0 4-1 4-2 4-3 4-6 4-7 4 1 4 0M610 1639l4 0 4-1 4-1 4-1 4-2 4 0 4-2M646 1622l4 3M658 1624l4-1 4 0 4 1 4 0 4-3 4-1 4-1 4-1 4 1 4 1 4-1 4 1 4 2M726 1620l4-1 4 1 4 2M746 1618l4-2 4-2 4-4 4-2M786 1604l4-2 4-3 4-2 4 3M810 1604l4-3 4-3 4-1M830 1591l4-4 4-2 4 3 4-1 4 1 4 0 4-2 4 2 4-2 4-1 4-3M882 1581h0M902 1601l4 5 4 0 4-4 4 0 4 0 4-1 4-1 4-2M946 1598l4-1M962 1594l4 0 4-1 4 1 4 0 4-4"/>
<path stroke="#e69f00" stroke-width="5.0" d="M214 1843l4-4 4 0 4 2 4-1 4 6 4-1 4-5 4 3 4-2 4-1 4 1 4 0 4 2 4 0 4-2 4-6 4-1 4-2 4 0 4-1 4-2 4 3 4 0 4 1 4-8 4-2 4-5 4-5 4 3 4 0 4 5 4-3 4 0 4-4 4-1 4 2 4-7 4 1 4 2 4-1 4-2 4 2 4 0 4 3 4-1 4 0 4-4 4-7 4 1 4-2 4-1 4-1 4-1 4 1 4 0 4 0 4-2 4 5 4-3 4-4 4 4 4-1 4-2 4 1 4-2 4-2 4-2 4 0 4 0 4-1 4-2 4-2 4-7 4-6 4 0 4 3 4 1 4 1 4 2 4-1 4-4 4 2 4-4 4-2 4 1 4 1 4-1 4-3 4-2 4-4 4-2 4-3 4-4 4 0 4-1 4-2 4 0 4 6 4-3 4-1 4-4 4 2 4-1 4-3 4 5 4-3 4-3 4-6 4-2 4 0 4 0 4-1 4 2 4-1 4-1 4 0 4-3 4 1 4-2 4-2 4 1 4 0 4 3 4 0 4-1 4 1 4-2 4 1 4 2 4 1 4-2 4-6 4 2 4 1 4-5 4-1 4-2 4-10 4-3 4 4 4 1 4 2 4-1 4-3 4-2 4 1 4 2 4 2 4-1 4 1 4-5 4-3 4 3 4-9 4-3 4-3 4 2 4 2 4 2 4-1 4 0 4-2 4-2 4 2 4-3 4 3 4-3 4-1 4-4 4 1 4-1M902 1712l4 9 4-5 4-3 4 3 4-2 4-2 4 1 4-1 4-4 4 0 4-3 4 2 4-2 4-1 4-3 4 4 4-1 4 1 4-3 4-3 4-2 4 4 4-2 4 2 4-4 4 4 4-2 4-10 4 4 4 3 4 3 4-2 4-3 4 0 4-2 4 2 4-2 4-2 4 3 4 0 4-1 4-1 4-3 4 3 4-6 4 1 4 0 4 2 4-1 4-3 4 1 4-1 4 3 4-2 4-7 4-2 4-1 4-5 4-5 4 3 4-6 4 4 4 1 4-1 4-5 4 0 4-3 4 2 4 0 4-6 4 1 4 4 4-3 4-5 4-5 4 2 4 5 4-2 4 2 4 0 4 1 4 0 4-3 4-2 4-2 4 1 4-7 4 2 4-3 4 1 4 1 4-6 4-4 4 2M1282 1618l4 3 4-2 4-2 4 2 4 6 4 0 4-2 4 0 4-3 4 0 4 1 4-10 4-2 4 3 4 4 4 2 4 1 4-5 4-2 4 2 4-1 4-2 4 3 4 1 4 0 4 1 4-4 4-3 4 0 4-1 4 1 4-1 4-2 4 0 4-3 4-9 4 1 4 0 4-2 4-2 4 3 4 1 4-3 4-3 4-5 4-1 4-3 4-6 4 6 4-3 4 0 4-1 4 0 4-3 4 0 4-2 4-3 4 5 4 2 4-2 4 1 4 1 4 1 4-8 4 4 4-4 4 1 4-1 4-4 4 0 4-4 4 0 4 0 4-2 4-1 4-1 4-2 4 4 4 0 4-3 4-5 4-7 4 2 4-1 4 0 4 1 4-4 4-1 4 0 4-2 4-2 4 1 4-1 4-2 4 2 4-2 4-4 4-4 4-1 4-5 4-1 4-5 4-4 4-1 4-5 4-4 4 6 4-5 4-2 4-5 4-2 4-2 4-2 4 6 4 6 4 0 4-4 4-2 4-2 4 1 4 2 4-3 4-4 4 0 4-3 4 1 4-4 4-3 4 0 4-2 4 1 4 0 4-4 4 0 4-3 4 3"/>
<path stroke="#9400d3" stroke-width="4.0" d="M1222 1596l4 2 4-3 4-1 4-2 4 1 4 0 4-3 4-5 4 3 4-5 4 2 4-4 4-4 4-3 4-11 4-1 4 0 4 0 4 3 4 2 4 1 4-2 4-1 4 3 4-5 4-2 4-12 4 1 4 3 4 0 4 2 4 1 4-1 4-5 4-1 4 1 4-1 4 1 4 1 4 1 4-2 4 0 4-3 4 1 4 1 4-4 4-1 4-1 4-1 4-4 4-9 4-1 4-1 4 0 4-1 4 4 4-4 4-3 4 1 4-7 4-2 4 1 4-2 4-3 4 1 4 1 4-1 4-3 4 0 4-2 4 2 4-5 4-1 4 4 4 0 4 3 4-3 4 0 4-1 4-3 4-3 4 1 4 1 4-3 4-6 4 0 4 0 4-4 4-1 4-1 4 1 4-1 4-1 4 0 4-4 4-7 4-2 4 0 4-1 4-4 4 2 4 0 4-4 4-5 4-2 4 3 4 1 4 2 4-4 4-2 4-1 4-1 4-4 4-4 4-2 4-6 4-3 4-2 4-4 4-2 4-4 4-1 4-3 4-2 4-1 4-6 4 4 4-3 4 4 4 5 4 0 4-2 4 1 4-5 4 0 4-2 4-2 4-3 4 3 4-4 4-1 4-1 4 0 4-2 4-1 4-4 4 0 4-4 4 0 4 0 4 3 4 13 4-1 4-4 4-1 4 2 4-3 4 0 4-4 4-3 4 0 4 2 4 0 4-1 4 1 4 3 4 2 4-2 4 1 4-2 4 1 4 3 4-6 4-4 4 1 4-1 4-7 4-1 4-8 4-1 4 3 4-1 4-1 4-1 4 2 4 4 4 0 4-7 4 0 4 0 4-1 4-5 4-1 4-1 4 0 4-3 4-11 4 0 4 1 4 0 4-2 4 1 4 2 4-6 4-8 4-1 4-2 4-1 4-4 4 2 4 0 4 0 4 0 4 2 4-6 4 3 4 0 4 1 4 2 4-2 4-1 4-2 4-1 4-4 4 2 4-1 4 2 4-1 4-1 4 1 4 2 4-4 4-2 4-5 4 0 4-3 4 0 4 0 4 0 4-7 4-11 4 3 4-2 4 1 4-4 4-1 4-2 4 0 4 2 4-3 4 0 4-6 4-3 4-1 4-8 4 0 4-4 4 1 4 2 4-1 4-5 4 1 4-1 4 0 4-3 4 0 4-8 4-4 4-7 4-7 4 0 4-3 4 0 4-1 4 1 4-3 4-4 4 1 4 2 4 0 4 1 4 0 4 0 4-2 4-2 4-2 4-1 4-2 4-2 4-5 4-3 4 1 4-3 4-2 4-2 4 1 4-5 4 4 4-2 4-3 4 1 4-1 4-1 4 0 4-3 4 3 4-1 4-5 4 1 4-4 4 1 4-1 4-2 4 2 4-1 4-4 4 2 4-2 4-2 4 1 4-3 4-1 4 3 4-4 4 1 4-1 4-2 4-3 4-1 4 4 4-3 4-4 4 3M2558 1144l4 0 4-2 4 0 4-1 4 2 4 2 4-5 4-4"/>
<path stroke="#0072b2" stroke-width="4.4" d="M1902 1429l4 0 4-1 4-1 4-5 4 2 4-5 4 0 4-2 4-6 4-4 4 2 4-1 4 1 4-1 4 2 4 3 4-6 4 2 4-4 4-1 4 1 4-4 4-3 4 0 4 0 4 0 4-8 4-3 4 2 4-1 4 1 4-2 4-1 4-2 4-7 4-2 4-4 4 1 4-3 4 1 4 0 4-1 4-1 4 1 4-1 4 0 4 0 4-2 4 3 4 2 4-4 4-1 4-1 4-5 4 2 4 1 4 1 4 0 4 0 4 1 4-1 4-3 4 1 4-6 4-1 4-3 4 1 4-1 4 0 4-2 4-5 4-2 4-3 4 4 4-3 4-1 4-1 4-2 4 3 4-1 4-3 4-6 4-4 4-2 4-4 4-1 4 0 4-2 4 0 4-2 4 0 4-2 4-1 4 1 4-2 4-3 4-5 4-9 4 0 4-7 4-4 4-1 4 0 4 0 4-5 4 4 4-5 4-2 4 3 4 2 4 0 4-1 4-2 4 0 4 0 4-3 4-1 4-1 4-1 4-6 4-2 4-4 4-1 4-3 4 0 4-2 4 0 4-1 4 2 4-6 4-2 4 2 4-2 4 3 4-1 4-1 4-2 4 0 4 0 4-6 4-3 4 1"/>
<path stroke="#0072b2" stroke-width="4.0" d="M510 1767l4 2 4 4 4 1 4-1 4 1 4 2 4-3 4 0 4-5 4-4 4 1 4 1 4 2 4-2 4-4 4-2 4-5 4-6 4-3 4 1 4 1 4 1 4 0 4-3 4 2 4-1 4 0 4-2 4-2 4 1 4-2 4 2 4-8 4-6 4 4 4-1 4-1 4-1 4 3 4 0 4-1 4-3 4-2 4 1 4-1 4 1 4 0 4 0 4 1 4-1 4 0 4-1 4 1 4 1 4-3 4 0 4 2 4-3 4 1 4-2 4-2 4-4 4-3 4-2 4-3 4-1 4-1 4 2 4 2 4-4 4-1 4-2 4 2 4 5 4-3 4 1 4-4 4-2 4-1 4-5 4-5 4 0 4 1 4 1 4 0 4 2 4-1 4-2 4 0 4-4 4 0 4 0 4-1 4-1 4-3 4 0 4 1M902 1707l4 6 4-1 4 0 4-1 4-4 4 2 4-1 4-2 4-2 4 1 4-2 4-1 4 2 4-5 4 0 4 0 4-2 4 0 4 0 4 0 4-1 4-1 4 2 4 1 4-3 4 1 4-4 4-8 4 3 4 0 4 3 4 0 4-1 4 0 4-2 4-2 4 3 4-2 4 0 4-2 4 0 4 0 4 0 4-1 4-3 4 2 4-2 4 0 4-2 4-1 4 2 4-3 4 0 4 0 4-5 4-5 4-1 4-2 4-4 4-2 4 1 4 0 4-2 4 0 4 0"/>
<path stroke="#0072b2" stroke-width="3.6" d="M2886 1075l4 0 4 0 4-2 4 3 4-1 4 2 4 5 4-4 4-9 4-5 4-1 4-7 4-1 4 2 4-3 4 0 4-1 4-1 4-2 4-5 4-7 4-4 4 2 4-2 4-5 4 0 4-4 4-5 4-3 4 1 4 3 4 3 4-2 4-4 4 0 4-2 4-1 4-2 4-2 4 0 4-8 4 4 4-5 4 0 4-6 4-4 4-2 4 1 4-2 4-1 4-1 4 1 4-2 4-3 4-4 4 0 4-5 4 4 4 1 4-8 4-1 4-2 4-2 4-14 4 0 4-1 4 0 4-1 4 2 4-3 4-1 4 0 4-3 4-2 4-2 4 0 4-2 4 2 4 0 4 3 4-3 4 0 4-4 4 2 4-1 4-6 4-4 4-4 4-4 4-5 4-1 4-3 4-2 4-4 4 0 4 1 4 2 4-4 4-3 4-1 4-6 4-1 4 0 4-1 4-1 4 0 4-2 4 0 4 2 4-5 4-6 4-7 4 1 4-3 4-1 4-4 4 3 4-1 4-4 4-3 4-2 4-3 4 1 4-2 4-4 4 0 4 0 4-1 4 10 4-3 4-6 4-5 4-4 4 3 4-2 4-1 4-4 4-5 4-2 4 1 4 0 4-2 4-3 4-6 4-1 4-2 4-4 4 2 4-1 4-2 4 1 4 0 4-6 4-1 4-2 4-3 4-4 4-1 4 3 4-1 4 1 4 0 4-3 4-2 4-1 4-2 4 2 4-4 4-2 4 2 4 0 4-1 4-2M3582 764l4 0 4-3 4 0 4 0 4-1 4 0 4 1 4-1 4 1 4-1 4 12 4 1 4-3 4 1 4-1 4 1 4 0 4-3 4-3 4-1 4 1 4 0 4-1 4-1 4-1 4 0 4-2 4-10 4 0 4 0 4 1 4-4 4 2 4 2 4-2 4-12 4-3 4-1 4 0 4 1 4-1 4-2 4 0 4-2 4-7 4-2 4 0 4-2 4 3 4 0 4-2 4-1 4-4 4 0 4 0 4-4 4-4 4-1 4 1 4 2 4 2 4-3 4 1 4-1 4-7 4-1 4-2 4 1 4 0 4-3 4-1 4-3 4-3 4 3 4 0 4-2 4-3 4-2 4-1 4 1 4-1 4-3 4-1 4-4 4-3 4-3 4-1 4 1 4-5 4-4 4-1 4 0 4-3 4 0 4-4 4-1 4 4 4 0 4-3 4-3 4-6 4-1 4 0 4-4 4-1 4 1 4 1 4-2 4 0 4 1 4 2 4 1 4 2 4 0 4-1 4-2 4 4"/>
<path stroke="#000000" stroke-width="3.8" d="M2562 1110l4-3 4 3 4-4 4 2 4 1 4-4 4-6 4-1 4 0 4-1 4 1 4-1 4 1 4 3 4 0M2634 1089l4-5 4-3 4-3 4 0 4 0 4-3 4-1 4 1M2674 1072l4-2 4 2 4 0 4-2 4 0 4 0 4-3 4-4 4 1 4-2 4 3 4 0 4-1 4-1 4-3 4-2 4-3 4-2 4 2M2758 1056h0"/>
<path stroke="#f0e442" stroke-width="3.6" d="M2294 1235l4-2 4-4 4-3 4-3 4-2 4-2 4-1 4 0 4-4 4 0 4 3 4 0 4 2 4-1 4-1 4-2 4-2 4 0 4-2 4-2 4 0 4-6 4-4 4 0 4-4 4 1 4-2 4 0 4-4 4 1 4-2 4 1 4-5 4 3 4-1 4 1 4-2 4-3 4 2 4-4 4-1 4-3 4 1 4-1 4-1 4 2 4-2 4-2 4-1 4 1 4-4 4-1 4-2 4 0 4 0 4-1 4 1 4-5 4 2 4-2 4 0 4-1 4 0 4-3 4 1M2558 1128l4 5 4-2 4-1 4-1 4 2 4 1 4-5 4-6 4-1 4-2 4 0 4-1 4 2 4-1 4 4 4 2 4-4 4-3 4-9 4-4 4-4 4-4 4 3 4-3 4-1 4-1 4 0 4-4 4-1 4 0 4 3 4 1 4-6 4 0 4 1 4-3 4-7 4 2 4-2 4 1 4 0 4 1 4-3 4 1 4-5 4-2 4-1 4 1 4-1 4 1 4-4 4 0 4 0 4-5 4-2 4-3 4-1 4 0 4-3 4 1 4 0 4 0 4-2 4-2 4 1 4 0 4 0 4-1 4-1 4-3 4-3 4-3 4-1 4-3 4-1 4-7 4-5 4 0 4 1 4-2"/>
<path stroke="#e69f00" stroke-width="3.6" d="M1126 1642l4-2 4-2 4-5 4-1 4-4 4 3 4 3 4-2 4-2 4-1 4-5 4-2 4 0 4 2 4-4 4-1 4-1 4-3 4-3 4 3 4 4 4-3 4 4 4-3 4 2 4-4 4 3 4-4 4-1 4-4 4 1 4-1 4 0 4-5 4 2 4-2 4-7 4 0M1282 1581l4-1 4 0 4 0 4 3 4 4 4 2 4-2 4-1 4-4 4 0 4 2"/>
<path stroke="#000000" stroke-width="4.4" d="M582 1692l4-1 4 0 4 2 4-1 4-2 4 1 4-1 4-2 4-1 4 0 4-1 4 0 4 0 4-1 4-6 4-8 4 6 4-2 4-1 4-5 4 6 4-1 4-1 4-2 4 0 4 1 4-2 4-1 4 2 4-1 4 3 4-2 4-4 4 3 4-1 4 2 4-1 4 0 4 1 4-4 4 2 4-5 4 1 4-7 4-1 4 0 4-5 4 1 4 1 4-2 4 4 4-4 4-1 4-3 4 0 4 6 4-1 4-3 4-2 4 0 4-2 4-3 4-5 4 1 4-2 4 1 4 1 4 0 4-1 4 0 4-3 4 0 4 0 4-4 4-1 4 3 4-2 4 0 4-3M902 1650l4 9 4-1 4 0 4-1 4-4 4 0 4-1 4-1 4-2 4 1 4-3 4 3 4 1 4-1 4-3 4-3 4 5 4-1 4-2 4-3 4 1 4 0 4-2 4 4 4-2 4 0 4-4"/>
<path stroke="#000000" stroke-width="5.0" d="M3446 822l4-1 4-1 4-3 4-4 4-1 4-6 4-1 4 0 4-1 4-1 4 2 4-2 4-2 4-1 4-3 4-3 4-1 4-3 4 1 4-3 4-1 4 1 4 2 4-3 4-3 4 0 4 0 4-2 4-3 4 3 4 1 4-4 4 4M3582 761l4-3 4-1 4 1 4-1 4 0 4 2 4-2 4 1 4-1 4-1 4 9 4 4 4 0 4-1 4-4 4 3 4-2 4-3 4 1 4 0 4-1 4-2 4 1 4-2 4-3 4 1 4-1 4-7 4 1 4-4 4-1 4 0 4-1 4 0 4 0 4-9 4-1 4 0 4 0 4-2 4-1 4 0 4 0 4-1 4-6 4-4 4 0 4-1 4-1 4 0 4-1 4-2 4 0 4-3 4-13 4-2 4-1 4-2 4 1 4-3 4 3 4 4 4-2 4-1 4-5 4-3 4-3 4 1 4 1 4-2 4-2 4-4 4-1 4 1 4 1 4-6 4-1 4 0 4-3 4 0 4-1 4-1 4 0 4-3 4-8 4 1 4-2 4-1 4-4 4-1 4 0 4-3 4-5 4 0 4 0 4 1 4 6 4-5 4-3 4-2 4-6 4-3 4 1 4-1 4-2 4-1 4 1 4-3 4 2 4-2 4 4 4 1 4 0 4-1 4 0 4 1 4-1"/>
<path stroke="#e51e10" stroke-width="4.0" d="M3730 842l4 0 4-1 4 3 4-1 4-3 4-1 4 0 4-6 4-3 4-3 4 0 4 1 4 2 4-2 4 0 4 0 4-1 4-4 4-3 4 0 4-5 4 3 4 2 4 2 4-4 4 2 4-4 4-7 4 0 4 1 4 1 4-1 4-1 4-6 4-5 4 1 4 6 4-4 4-5 4-6 4 3 4 5 4-4 4-1 4 1 4-4 4-4 4-3 4-1 4-2 4-6 4 1 4-2 4 2 4 0 4-5 4-4 4-1 4 0 4 1 4-1 4 1 4-4 4-2 4-3 4-3 4-1 4-1 4 1 4-1 4-1 4 4 4-4 4 1 4 0 4 0 4 1 4-2 4 3 4 1"/>
<path stroke="#9400d3" stroke-width="3.8" d="M902 1603l4 9 4-3 4-3 4 1 4-1 4 1 4-2 4-4 4 2 4-1 4-2 4 1 4-2M962 1598l4-1 4-1 4 0 4-1 4 0 4-3 4 3 4 0M1006 1595l4-3"/>
<path stroke="#000000" stroke-width="5.0" d="M2766 1090l4-1 4-1 4-1 4-5 4 1 4-2 4-3 4 1 4 2 4-4 4 0 4 2 4-4 4 3 4-1 4-5 4 0 4 0 4-3 4-4 4-2 4-1 4-4 4-6 4-3 4 0 4-1 4-1 4 4 4-10 4-2 4-1 4 1 4-2 4 4 4 0 4 6 4-7 4-7 4-6 4-3 4-2 4-1 4-5 4-1 4-1 4 2 4 0 4-5 4-4 4-3 4-4 4-5 4-1 4 0 4 0 4-4 4-5 4-8 4 4 4 3 4 3 4-2 4-1 4-5 4-3 4 0 4-2 4-1 4-1 4-3 4-2 4 2 4-4 4-5 4-5 4-1 4-4 4 1 4-2 4 2 4-2 4 3 4-5 4-4 4-3 4 0 4 2 4-1 4-5 4-5 4 0 4-2 4-13 4-2 4-4 4 3 4 0 4-1 4-2 4 0 4-2 4-1 4-2 4-2 4-1 4-1 4-2 4 3 4 1 4-1 4-2 4-1 4 2 4-2 4-5 4-5 4-5 4-1 4-8 4 2 4-1 4-7 4-2 4-1 4-2 4 3 4-2 4 0 4-4 4-5 4-2 4 1 4-2 4 0 4-1 4-1 4 0 4 0 4-4 4-6 4-6 4 0 4-3 4 0 4-4 4-3 4 4 4-4 4-4 4 0 4-1 4-1 4-8 4 1 4-1 4-4 4 4 4 8 4-2 4-5 4-4 4-2 4-2 4 0 4-1 4-4 4-9 4-1 4 2 4-1 4-3 4 0 4-3 4-3 4-5 4-2 4 2 4-2 4 0 4 0 4-1 4-3 4-2 4 0 4-8 4-2 4 1 4 3 4-3 4-2 4 0 4 0 4-2 4-3 4 2 4-3 4 0 4-2 4 0 4-1 4-4 4 3M3582 721l4 0 4-3 4 0 4 1 4 1 4 0 4-1 4 2 4-1 4-4 4 8 4 5 4-3 4-2 4-1 4-1 4 1 4-6 4 0 4 3 4-2 4 2 4 1 4-6 4-1 4 0 4-2 4-4 4-3 4-4 4 2 4 0 4-1 4 0 4-1 4-9 4-2 4 2 4-2 4 0 4 1 4-4 4-1 4 0 4-7 4-2 4-1 4-5 4 4 4 1 4 1 4-1 4-4 4-2 4-3 4-1 4 0 4-6 4 3 4-2 4 3 4 0 4 0 4-4 4-1 4-5 4 1 4-2 4 2 4-1 4-7 4-4 4 1 4 2 4 0 4-5 4-2 4-1 4-2 4 1 4 1 4-4 4-1 4-4 4-6 4 3 4-5 4-4 4 0 4 1 4-1 4-5 4 0 4-1 4-5 4-2 4 7 4-3 4-2 4-5 4 0 4-6 4 1 4-2 4-2 4-1 4 1 4 1 4-3 4 0 4 2 4 3 4-1 4 2 4 0 4-1 4 1"/>
<path stroke="#e51e10" stroke-width="5.0" d="M3806 805l4-2 4-3 4 2 4 0 4 2 4 1 4 0 4-4 4-6 4 0 4-2 4 0 4 2 4-6 4-3 4 0 4-2 4 2 4-1 4-3 4-6 4 0 4 2 4 0 4-3 4-1 4-2 4-3 4-4 4 0 4-3 4-1 4-5 4 0 4 1 4-4 4 0 4-3 4-3 4 1 4 3 4-3 4-4 4-4 4-4 4 1 4-1 4-2 4-3 4 3 4-1 4 0 4 0 4 0 4 0 4 0 4 3 4-2 4 1 4 1 4-1"/>
<path stroke="#000000" stroke-width="3.8" d="M1414 1656l4-3 4-5 4-7 4 3 4-2 4 0 4-1 4-1 4 1 4-3 4-1 4-5 4 1 4-1 4-5 4-1 4 0 4 0 4-3 4 2 4-2 4 2 4 0 4-3 4-2 4 2 4 1 4 1 4 1 4-3 4-2 4-4 4 2 4 0 4-1 4-5 4-1 4 1 4-3 4-3 4 1 4-3 4 2 4-1 4-2 4 0 4-3 4-7 4-1 4-2 4-1 4 0 4 0 4-4 4 0 4 0 4-2 4-2 4 1 4 1 4-1 4 0 4-4 4-6 4-1 4-2 4-2 4-5 4-3 4-3 4-2"/>
<path stroke="#f0e442" stroke-width="5.0" d="M214 1777l4-2 4-1 4 3 4-2 4 2 4 1 4-1 4-2 4 2 4-2 4 2 4-2 4 0 4-1 4-2 4-3 4 0 4-5 4 2 4-2 4-1 4 3 4 1 4-2 4-6 4-2 4-1 4-3 4-2 4 0 4 0 4-1 4 0 4-3 4-2 4-1 4-2 4-2 4 3 4-1 4-1 4 0 4 6 4 0 4-2 4-2 4-3 4-5 4 0 4-1 4-1 4-1 4 2 4-4 4 2 4-3 4 3 4-1 4-2 4-1 4 0 4-2 4 1 4-2 4 1 4-1 4 0 4-1 4-1 4-3 4 0 4-2 4-8 4-5 4 0 4 4 4-2 4 1 4 1 4 1 4-4 4 1 4-4 4-1 4-1 4 1 4 5 4-6 4-2 4-3 4-7 4-1 4-1 4-2 4 1 4-2 4-1 4 0 4-2 4 4 4-3 4-3 4-2 4 0 4-1 4 0 4-3 4-7 4-2 4-1 4 3 4-1 4 1 4 3 4-1 4-3 4-1 4 0 4 1 4-3 4 0 4 1 4 0 4 1 4 1 4-1 4 1 4 0 4-1 4 1 4-1 4 0 4-4 4-2 4-2"/>
<path stroke="#009e73" stroke-width="3.6" d="M1318 1669l4-3 4-1 4-8M1338 1661l4 1 4 1 4 1 4-4 4-3 4 1 4 0M1382 1659l4 1 4-1 4-3 4 1 4-1 4 0 4-4 4 0 4-2 4-4 4-9 4 3 4 0M1446 1637h0M1458 1633l4-4 4-2 4 0M1482 1624l4-3 4-1M1506 1619l4-2 4-2 4 3M1554 1611l4-2 4-2 4-2 4-2 4-1 4 0 4 0 4 0 4-1 4 0 4-2M1614 1585l4 0 4-2 4 2 4-1 4-2 4-3 4-1M1678 1565l4-3 4-1 4-6 4-3 4-1 4-4 4-3 4-1 4 0 4-3 4-3 4-6 4 1 4 2 4 4 4 5"/>
<path stroke="#e69f00" stroke-width="3.6" d="M2766 1211l4-2 4-3 4-1 4-1 4-5 4 2 4-1 4-3 4 2 4-1 4 0 4-1 4-2 4 3 4-1 4-1 4-1 4-1 4-6 4-2 4-1 4-4 4 0 4-6 4-3 4-1 4 0 4-2 4-1 4-12 4 1 4-2 4 0 4 0 4 0 4 3 4 5 4-7 4-7 4-3 4-4 4-3 4-1 4 0 4-2 4-2 4 4 4-1 4-4 4-4 4-4 4-7 4-1 4-2 4 1 4-5 4-4 4-4 4-3 4 0 4 1 4 4 4 0 4-4 4-2 4-1 4-1 4-3 4 1 4-4 4-3 4 0 4-2 4 1 4-7 4-5 4 0 4-3 4-1 4 1 4-3 4 0 4 1 4-3 4-2 4-1 4-4 4 1 4 1 4-5 4-3 4-2 4 1 4-14 4-3 4-1 4 2 4 0 4 0 4-2 4-1 4 0 4-5 4 0 4-1 4-2 4-1 4 1 4-1 4 0 4 1 4 1 4-1 4-2 4-4 4-2 4-6 4-2 4-2 4-4 4-3 4-3 4-5 4 1 4-2 4 3 4-2 4 0 4-2 4-2 4-6 4-1 4-1 4-2 4 0 4-1 4 1 4-2 4-1 4-4 4-4 4-6 4-3 4 0 4-2 4-1 4 0 4 0 4-4 4-3 4-1 4 0 4-4 4-3 4-3 4 3 4-2 4 0 4 9 4-4 4-1 4-7 4-4 4-1 4-1 4 2 4-5 4-7 4 1 4-1 4 0 4-1 4-2 4-7 4-1 4-1 4-3 4 1 4-2 4-2 4 2 4-2 4-4 4-1 4-1 4-4 4-1 4-2 4 1 4-3 4 1 4-3 4 2 4 1 4-2 4-2 4-3 4 1 4-1 4-1 4 0 4-2 4-3M3582 853l4-2 4 2 4-2 4 0 4 1 4 1 4-1 4 0 4 2 4 0 4 5 4 2 4-1 4 2 4-4 4 2 4-2 4 0 4-2 4-2 4 0 4 1 4-4 4 0 4 0 4-1 4-1 4-7 4-1 4-1 4 0 4 1 4-3 4-1 4-1 4-5 4-1 4-2 4 0 4 0 4-1 4 0 4-1 4-3 4-5 4-2 4-2 4-2 4 2 4 1 4-2 4-2 4-2 4-3 4 4 4-6 4-2 4-1 4 0 4-1 4 4 4 2 4-3 4-3 4-4 4-2 4 1 4-2 4 1 4-5 4-1 4-4 4-1 4 3 4 0 4-4 4-5 4 2 4 1 4 2 4 0 4-2 4-3 4-4 4-3 4-1 4-4 4 0 4-2 4-4 4 0 4-3 4 1 4-1 4-3 4 0 4 3 4-2 4 0 4-6 4-4 4-3 4 0 4-1 4-1 4-2 4 0 4 0 4 2 4 0 4 1 4-1 4 2 4 1 4 2 4-4 4 2"/>
<path stroke="#e51e10" stroke-width="4.4" d="M214 1809l4-3 4-3 4 6 4 2 4 4 4-5 4 0 4-2 4 2 4 2 4-4 4-1 4 4 4-5 4-1 4-6 4 2 4 1 4-3 4-4 4 1 4 3 4-2 4 2 4-1 4-6 4-3 4-3 4-3 4 1 4 2 4-3 4 2 4-5 4 2 4-4 4-2 4 0 4 2 4-2 4-3 4 1 4 2 4 4 4-3 4-2 4-3 4-3 4 3 4-5 4-5 4 1 4 1 4-1 4 3 4-4 4 2 4 1 4 0 4-2 4-3 4 3 4 1 4-3 4-2 4 2 4-1 4-5 4 1 4 0 4-5 4-3 4-4 4-7 4 3 4 1 4 2 4-3 4 3 4 0 4 0 4 2 4-5 4-3 4 1 4-2 4 3 4 0 4-3 4-6 4-7 4-5 4 3 4-3 4 1 4 2 4-5 4-1 4 3 4 2 4-5 4 1 4 2 4-5 4 1 4-1 4-5 4-8 4 4 4-2 4-3 4 3 4 0 4 1 4-1 4-2 4-1 4 0 4-1 4-1 4 1 4 1 4-4 4 2 4 1 4 2 4-1 4-2 4 2 4 1 4 0 4-5 4 1 4 0 4-5 4-1 4-1 4-5 4-4 4 0 4 3 4-1 4-1 4 1 4 2 4-3"/>
<path stroke="#000000" stroke-width="5.0" d="M806 1723l4-4 4-3 4-2 4-1 4 0 4-5 4-4 4-1 4 1 4 1 4 2 4-2 4-1 4-3 4 1 4 0 4-5 4 0 4 0 4 0 4-1 4-2 4 1M902 1715l4 9 4-1 4-2 4 0 4-1 4-2 4-1 4-1 4 0 4-1 4-1 4-1 4-1 4 0 4-2 4-1 4 0 4 1 4-1 4-1 4-1 4 1 4-2 4 0 4 1 4-1 4 1"/>
<path stroke="#9400d3" stroke-width="3.8" d="M2422 1162h0M2494 1147h0M2530 1140l4-3"/>
<path stroke="#000000" stroke-width="3.6" d="M1418 1620l4-7 4-4 4-1 4 0 4 2 4-4 4 2 4-2 4-2 4-3 4-4 4 0 4-2 4 0 4 1 4-2 4 0 4-2 4-1 4 1 4 0 4-1 4-2 4-1 4 1 4 0 4 3 4 0 4-3 4-2 4-1 4 2 4-2 4-3 4-1 4-5 4 0 4-1 4 0 4-1 4-1 4 0 4-1 4-2 4 1 4-4 4-5 4-3 4-2 4-2 4 0 4 1 4 0 4-3 4-2 4-1 4 0 4 0 4 0 4 0 4-3 4-2 4-5 4-3 4 0 4-3 4-6 4-2 4-3 4-2 4-3 4-3 4-2 4 0 4-3 4-2 4-4 4-1 4 1 4 3 4 6 4-2 4 0 4-3 4 0 4-2 4 1 4-3 4-4 4 1 4-3 4 1 4-4 4-1 4 1 4-2 4-2 4-1 4-2 4 2 4-4 4 2"/>
<path stroke="#0072b2" stroke-width="3.6" d="M3582 823l4 0 4-1 4-1 4 1 4-2 4 2 4 0 4 0 4 1 4-2"/>
<path stroke="#e69f00" stroke-width="3.6" d="M2994 1020l4-6 4 0 4-3 4 6 4 2 4-4 4 1 4-2 4-3 4-5 4 1 4-2 4-2 4-2 4 0 4-3 4 1 4-6 4-7 4 1 4-4 4-1 4-1 4 1 4-2 4 1 4 1 4-2 4-5 4-4 4 1 4 0 4-2 4-3 4 0 4-4 4-12 4-5 4 0 4 2 4-1 4-1 4-2 4-2 4-2 4 1 4-4 4 0 4-2 4 1 4 0 4 2 4-2 4 1 4-3 4 0 4-1 4-1 4-5 4-4 4-3 4-5 4-2 4-4 4 0 4-7 4 0 4 2 4-5 4 4 4-4 4 0 4-1 4-6 4-1 4-1 4-2 4-2 4-1 4 0 4 2 4-1 4-4 4-6"/>
<path stroke="#000000" stroke-width="5.0" d="M3146 997l4 1 4 2 4-3 4 0 4-1 4-3 4 2 4-3 4-1 4-4 4 0 4 1 4-2 4-1 4 4 4 3 4-2 4-3 4 0 4-2 4-5 4-6 4-4 4-1 4-5 4-4 4 1 4-5 4-3 4 4 4-4 4 1 4-3 4 1 4 0 4-8 4-2 4 3 4-5 4 0 4-1 4 0 4 0 4-1 4-1 4-9 4-5 4-2 4-2 4 0 4-3 4 0 4-1 4-1 4-4 4 0 4-1 4-3 4-3 4-2 4 1 4-1 4 0 4 9 4-4 4-3 4-6 4-5 4 3 4-2 4 0 4-5 4-8 4 2 4-1 4 0 4-3 4-1 4-4 4-4 4-1 4-4 4 1 4-1 4-2 4 4 4-5 4-2 4-4 4-1 4-2 4 0 4-5 4 3 4 0 4 0 4-5 4 4 4-5 4 1 4 2 4-3 4-1 4-3 4 0 4 1 4-2 4-5M3582 810l4 1 4 3 4 2 4-6 4 0 4 2 4-1 4 1 4 2 4-5 4 13 4 2 4 2 4-4 4-1 4 1 4-1 4-3 4-1 4 1 4-1 4-2 4 1 4-3 4 1 4-2 4 1 4-8 4 1 4-4 4-2 4 1 4-2 4 3 4-1 4-8 4-5 4 4 4-4 4 1 4-2 4 1 4-2 4-3 4-4 4-1 4-2 4 0 4 2 4-2 4-3 4 0 4-1 4-2 4 3 4-7 4-2 4-1 4 1 4 0 4 3 4-3 4 1 4-6 4-2 4-1 4-1 4 0 4-1 4-2 4 1 4-4 4-4 4 3 4 1 4-6 4-2 4 0 4-1 4-2 4-2 4 1 4-3 4-3 4-4 4 1 4-1 4-4 4-4 4-2 4 0 4-3 4 1 4-3 4-4 4 2 4 3 4 0 4-4 4-5 4-1 4-1 4-2 4-2 4 0 4-3 4-1 4 0 4 4 4-1 4-2 4 4 4-3 4 1 4 0 4 2 4 0"/>
<path stroke="#e51e10" stroke-width="5.0" d="M3902 678l4-1 4-1 4-4 4-1 4-5 4-2 4 0 4-6 4 0 4-1 4 0 4-4 4-2 4-1 4-1 4-1 4 3 4-1 4-3 4-3 4-3 4-3 4 0 4-2 4 0 4 0 4-3 4-1 4 3 4-2 4 3 4 1 4-1 4 0 4 2 4-1 4 2"/>
<path stroke="#56b4e9" stroke-width="5.0" d="M214 1851l4 1 4 0 4 3 4-2 4 1 4-1 4 1 4-2 4 1 4 1 4-1 4 0 4 0 4-2 4-2 4-2 4-1 4-3 4-4 4 2 4 0 4 1 4 0 4 0 4-2 4-4 4-4 4-1 4-3 4-1 4 2 4-1 4 0 4-1 4-2 4-4 4-1 4-2 4 1 4 1 4 1 4-2 4 5 4 3 4-2 4-3 4-5 4-4 4 0 4-1 4-1 4-1 4 0 4 0 4 0 4 0 4-3 4 1 4 0 4-1 4-1 4 1 4 0 4-1 4-1 4-1 4-2 4 0 4 1 4-2 4-3 4-2 4-3 4-5 4-2 4 2 4-1 4 4 4-3 4 2 4-3 4 1 4-3 4-4 4 1 4 0 4-1 4 1 4-3 4-3"/>
<path stroke="#0072b2" stroke-width="4.0" d="M214 1838l4-2 4-2 4 0 4 0 4 4 4 0 4 1 4-5 4 4 4-4 4 2 4 0 4 0 4-3 4-1 4 0 4-5 4 4 4-4 4 0 4-1 4-1 4 0 4 4 4-3 4-6 4-7 4-4 4 2 4 2 4 0 4 0 4-1 4-2 4-3 4 0 4-5 4 3 4 0 4 0 4 1 4 1 4 2 4 1 4-2 4-5 4 0 4-6 4-1 4-1 4 1 4 2 4-1 4-2 4 0 4-4 4-2 4 3 4 3 4-5 4 1 4-2 4 2 4 0 4-4 4 2 4-1 4-4 4 1 4-2 4-1 4-1"/>
<path stroke="#9400d3" stroke-width="4.4" d="M510 1793l4-2 4 3 4 5 4 1 4 2 4 1 4-7 4 0 4 1 4-5 4-2 4 0 4 2 4 0 4-3 4-4 4-2 4-5 4-3 4 3 4-2 4-1 4-3 4 2 4 0 4-2 4-1 4-1 4-2 4 1 4 0 4-1 4-8 4-4 4 2 4 1 4 3 4-5 4 2 4-1 4 0 4 0 4-6 4 1 4 1 4 2 4-1 4 0 4-1 4 0 4 0 4 5 4-6 4-1 4 2 4 2 4-2 4 4 4-4 4-5 4-3 4 0 4-4 4-2 4-2 4-4 4 2 4 1 4 3 4-4 4 1 4-4 4 3 4 1 4 0 4-4 4-3 4 0 4-3 4-4 4-2 4-1 4 3 4 0 4 0 4 1 4-5 4 3 4 2 4-4 4-3 4-2 4-2 4 6 4-6 4-1 4 1M902 1734l4 6 4-4 4-3 4-1 4 3 4-3 4-2 4-1 4-1 4 1 4-5 4 6 4 2 4-7 4 1 4-4 4 4 4-1 4-5 4 0 4-2 4 5 4-2 4-1 4 0 4 1 4-1 4-10 4-1 4 8 4-1 4 4 4-4 4-3 4 1 4-1 4-4 4 4 4 1 4-4 4 2 4-6 4 3 4-1 4-5 4 3 4-3 4 1 4 1 4 1 4-2 4 2 4-1 4-4 4 1 4-6 4-2 4-6 4-3 4 1 4-2 4 1 4 0 4-4 4 0"/>
<path stroke="#f0e442" stroke-width="3.6" d="M1934 1369l4-2 4-3 4 0 4 3 4-1 4 0 4 0 4 1 4-2 4 0 4-4 4 0 4-1 4 0 4-2 4-3 4-1 4-2 4-11 4-4 4 0 4 1 4 1 4-2 4 0 4-1 4-9 4-4 4 0 4 0 4-1 4-1 4-2 4 1 4 0 4-1 4-1 4 1 4-2 4 1 4 2 4-1 4 2 4-3 4-4 4-3 4 3 4 2 4-1 4 0 4 0 4-1 4 1 4-3 4-2 4-3 4-1 4-3 4-1 4-1 4-2 4-6 4-8 4 0 4 0 4-1 4-2 4-3 4 2 4-1 4-2 4 0 4-2 4-2 4-5 4-4 4-5 4 2 4-3 4-2 4-1 4 1 4-2 4-1 4 0 4-2 4-4 4 2 4-11"/>
<path stroke="#e51e10" stroke-width="4.0" d="M3246 1011l4-2 4 0 4-4 4-4 4-1 4 0 4-1 4 0 4-3 4 2 4-7 4 0 4 2 4-5 4-1 4 0 4-1 4 1 4 1 4-5 4-7 4-6 4-3 4 2 4 0 4-6 4-3 4 3 4-4 4-1 4 0 4-1 4-2 4-5 4 0 4-2 4 0 4-2 4 6 4-1 4 0 4-7 4-1 4-2 4-2 4 0 4-2 4-6 4 10 4-1 4 1 4-4 4-3 4-5 4-1 4-1 4-4 4-1 4 2 4 0 4-2 4 1 4-3 4-2 4-2 4-5 4-1 4-4 4 4 4-1 4-1 4 2 4-3 4 0 4-3 4 0 4-2 4-1 4-3 4 1 4 1 4-1 4 1M3582 877l4-6 4 2 4-1 4-2 4 0 4 2 4-2 4 2 4 1 4-1 4 7 4 5 4-1 4 0 4-2 4-1 4-1 4-2 4 0 4-2 4 1 4-1 4-1 4 0 4 1 4 0 4-2 4-9 4 0 4-2 4 0 4 0 4-1 4 1 4-2 4-8 4-3 4 2 4-1 4 1 4-4 4 2 4 0 4-4 4-5 4-3 4 0 4-1 4-4 4 2 4 1 4 0 4-2 4-2 4-1 4-3 4 0 4-2 4 1 4-2 4 4 4 1 4-4 4-1 4-5 4-4 4 2 4-1 4-1 4 2 4-7 4-4 4-3 4 3 4 5 4-7 4-2 4 0 4 1 4-2 4 0 4-3 4-5 4 0 4-4 4-1 4-2 4-4 4-1 4-2 4 0 4-2 4-3 4-2 4-1 4 0 4 5 4-1 4-6 4-3 4-2 4-1 4-2 4-4 4-2 4 2 4-1 4-2 4 2 4-1 4-1 4 2 4 1 4 0 4 1 4 1 4-2"/>
<path stroke="#0072b2" stroke-width="3.8" d="M2642 1278h0M2654 1275l4-2 4 0 4-2 4 0 4-1 4-1 4 0 4 2 4-4 4 1M2702 1266l4-4 4-4 4 2 4 2 4-1M2734 1258l4-3 4-2 4-1 4 1 4 2 4 0 4-4 4-1 4 0 4-2 4-2 4-3"/>
<path stroke="#9400d3" stroke-width="4.0" d="M3730 822l4-1 4 3 4-2 4-2 4 0 4-1 4-1 4-4 4-5 4 1 4-3 4 1 4 0 4 1 4-2 4-1 4-2"/>
<path stroke="#e69f00" stroke-width="4.4" d="M2594 1195l4-1 4-1 4-1 4-1 4 1 4 3 4 2 4-2 4-5 4-7 4-5 4-2 4-4 4 1 4-2 4 1 4-3 4-2 4-1 4 1 4 1 4-2 4 1 4-4 4-1 4 2 4-5 4-2 4-1 4 0 4 1 4 1 4 1 4-4 4 0 4-5 4 0 4-3 4 1 4 1 4 0 4 1 4-4 4-2 4-1 4-2 4-5 4-1 4 1 4-2 4-4 4 4 4-2 4 0 4 0 4-1 4 1 4-2 4-1 4-1 4-2 4-3 4-3 4-1 4-4 4-2 4-5 4-3 4-1 4 0 4-3 4-1 4-10 4 0 4-3 4 1 4 0 4 0 4 1 4 6 4-7 4-6 4-4 4-4 4-4 4-1 4-1 4-2 4 0 4-1 4 3 4-4 4-7 4-4 4-6 4 0 4-1 4-1 4-2 4-4 4-2 4-6 4 0 4 3 4 0 4 1 4-3 4-2 4-1 4-2 4 0 4-1 4-6 4-2 4 1 4-1 4-1 4-5 4-6 4 0 4-5 4 1 4-2 4 1 4-1 4 2 4-2 4-5 4-5 4 1 4 0 4 2 4-7 4-4 4-2 4 0 4-11 4-5 4 1 4 1 4-3 4 1 4-1 4-3 4 1 4-3 4 0 4-1 4-1 4-1 4-3 4 2 4 1 4 2 4-1 4-3 4 0 4-1 4-5 4-5 4-5 4-2 4-4 4-3 4-1 4-4 4-2 4-3 4 2 4 2 4-2 4-4 4-1 4-8 4 1 4 1 4-4 4 1 4 0 4-1 4-1 4-1 4-1 4-11 4-9 4-3 4-2 4-1 4-2 4-1 4-2 4-2 4-2 4-1 4 0 4-4 4-2 4-1 4-1 4-2 4-1 4 11 4-2 4-4 4-7 4-1 4-2 4-2 4 1 4-3 4-6 4-2 4 0 4 0 4-2 4-4 4-3 4-2 4-3 4-3 4-2 4 0 4 1 4 2 4-3 4-2 4-3 4-3 4-3 4-3 4-2 4 2 4 1 4-1 4 0 4 0 4-3 4-2 4-1 4 0 4 0 4-3 4 1 4-2 4-1 4 0M3582 766l4 1 4 1 4-2 4 2 4 0 4 1 4-2 4 0 4 3 4-3M3626 786l4 2 4-3 4-1 4-2 4 1 4-1 4-2 4-2 4 0 4-2 4 1 4-1 4 0 4-1 4-1 4 0 4-10 4 1 4-2 4-1 4-2 4-1 4 2 4-2 4-5 4-2 4-2 4 2 4-2 4-1 4 2 4-4 4-1 4-3 4-4 4 0 4-1 4-2 4 3 4-2 4 0 4-3 4-1 4-8 4-4 4 0 4-3 4 0 4 1 4 5 4 0 4-3 4-1 4-6 4-3 4 0 4-2 4 2 4-3 4-2 4-5 4 0 4 0 4 2 4-4 4-6 4 4 4-1 4-1 4-2 4-2 4-1 4-2 4-4 4-3 4-1 4-2 4-5 4 1 4 0 4-4 4-1 4 0 4-5 4 0 4 3 4 1 4-3 4-3 4-5 4-1 4-2 4-1 4-1 4 0 4 0 4-3 4 3 4-1 4 2 4-1 4 2 4 0 4 3 4-2 4 0"/>
<path stroke="#e69f00" stroke-width="5.0" d="M3630 867l4-2 4 2 4-6 4 2 4-3 4 1 4-5 4-4 4 6 4-3 4 0 4-2 4-2 4 3 4-3 4-3 4-4 4-1 4-1 4 2 4 0 4-7 4 1 4-7 4 0 4 0 4-3 4 2 4-4 4 5 4-2 4-3 4-6 4-1 4-3 4-2 4 2 4 2 4-3 4-5 4 5 4-2 4-2 4-7 4 2 4-2 4 0 4 1 4-1 4 5 4-2 4-1 4-10 4 0 4-1 4-1 4-3 4-1 4 0 4-6 4 6 4-2 4-1 4-4 4-4 4-1 4 1 4 1 4 2 4-9 4 1 4-3 4-3 4-3 4 1 4-4 4 1 4-4 4 1 4-1 4-5 4-4 4-3 4 7 4 0 4-2 4-2 4-8 4 2 4-3 4 0 4-2 4-7 4 3 4 1 4 2 4-4 4 1 4 2 4 2 4-4 4 3 4 0 4 1 4 1"/>
<path stroke="#000000" stroke-width="4.0" d="M1902 1480l4 1 4 1 4-2 4-3 4 0 4-3 4-7 4 0 4-4 4-4 4 3 4-1 4 3 4-1 4 0 4 1 4-1 4-1 4-3 4-3 4 0 4 0 4-2 4-1 4 0 4-4 4-6 4-3 4 3 4-4 4 3 4-2 4-2 4 2 4-9 4-11 4-1 4 0 4-5 4-1 4 1 4-2 4 1 4 0 4-1 4 2 4 0 4-2 4 2 4 0 4-1 4-3 4 0 4-3 4 1 4-2 4 0 4 4 4-1 4 0 4 1 4-4 4-2 4-3 4-1 4-3 4-1 4 1 4-1 4-12 4-10 4 0 4 0 4 1 4-2 4 0 4-2 4 0 4-2 4 1 4-1 4-5 4-4 4-4 4-5 4-2 4 2 4-2 4 0 4 1 4-2 4-1 4 0 4-3 4-2 4 0 4-9 4-5 4-6 4-1 4-3 4-2 4-1 4-1 4-2 4 0 4-3 4-1 4 1 4 1 4 2 4-1 4 2 4-5 4 0 4-2 4-2 4 1 4-4 4-3 4-4 4 0 4-3 4-3 4 0 4 0 4-1 4-2 4-3 4 1 4 0 4-1 4 1 4-1 4-2 4 0 4 0 4 0 4-2 4-4 4-3 4-1 4 2 4 0 4-1 4-2 4 2 4-3 4-4 4 1 4-1 4-1 4 2 4-3 4 0 4-1 4-1 4-2 4 2 4-1 4-1 4-3 4 1M2558 1227l4 4 4 0 4 1 4-1 4 0 4 0 4-2 4-6 4-1 4-3 4-1 4 3 4-4 4 1 4 3 4 2 4-1 4-7 4-5 4-4 4-4 4-3 4 2 4-1 4-2 4-3 4-1 4 0 4-1 4-1 4 1 4 1 4-3 4 1 4 1 4-3 4-5 4-2 4 2 4 2 4 0 4 2 4-7 4-2 4 2 4-6 4-2 4 0 4 2 4 2 4-2 4-4 4-1 4-1 4-1 4-4 4-2 4-2 4 1 4-2 4 2 4-1 4-1 4 0 4-3 4 1 4 1 4-1 4-2 4 0 4-7 4-1 4-2 4-1 4-2 4-6 4-5 4 1 4-3 4-1 4 3 4-10 4 0 4-3 4 2 4-1 4 1 4 0 4 6 4-7 4-6 4-3 4-3 4-6 4 1 4-2 4-4 4 2 4 0 4 2 4-6 4-3 4-6 4-4 4 0 4-3 4 0 4-1 4-6 4-3 4-5 4 1 4 3 4 2 4 0 4-5 4 1 4-4 4-2 4-1 4-1 4-3 4-2 4 0 4-2 4 0 4-5 4-7 4-1 4-1 4 0 4-2 4-2 4 0 4 3 4-3 4-3 4-4 4-2 4 1 4 1 4-7 4 0 4-1 4-1 4-14 4-3 4 0 4-1 4 1 4-1 4-2 4-1 4 0 4-3 4-1 4-1 4-2 4 0 4-1 4 2 4 1 4 1 4-3 4-1 4-1 4-1 4-4 4-5 4-4"/>
<path stroke="#e69f00" stroke-width="4.0" d="M1606 1488l4-2 4-2 4-2 4-1 4 1 4-2 4-2 4-2 4-2 4 0 4 1 4 2 4-3 4-2 4-2 4-4 4-2 4-4 4-5 4-1 4-3 4-4 4-2 4-3 4-4 4 1 4-4 4 0 4-4 4-5 4-1 4 2 4 7 4-1 4 1 4-1 4-2 4-2 4-1 4 0 4-4 4 0 4-1 4-3 4 1 4-3 4 0 4-1 4-2 4-3 4-2 4 1 4-2 4 0 4 0 4 12 4 1 4-4 4-2 4 0 4-3 4-2 4-2 4 0 4-1 4 1 4 0 4 2 4-1 4 0 4 2 4 0 4 1 4-1 4-1 4-1 4 0 4-1 4 0 4-5 4-4 4-4 4-5 4 1 4-2 4 1 4 3 4-2 4 1 4 0 4-1 4 1 4-5 4-1 4 1 4 0 4-5 4 0 4-2 4-2 4-13 4-1 4 2 4-2 4 1 4-2 4-3 4 2 4-10 4-3 4-5 4 2 4-3 4 0 4 0 4-1 4 2 4-1 4-1 4 1 4 0 4-1 4 3 4-1 4-4 4 0 4-3 4 0 4 0 4 1 4 1 4 0 4-2 4 1 4-1 4-1 4-2 4-2 4-3 4-4 4 0 4 0 4-2 4-5 4-9 4 0 4 0 4 1 4-2 4 1 4-3 4-1 4 1 4-3 4-2 4-5 4-3 4-3 4-5 4-2 4-1 4 1 4 0 4 1 4-3 4-2 4-2 4-2 4-1 4 1 4-8 4-6 4-6 4 0 4-3 4-4 4 0 4-3 4-1 4-1 4-3 4 0 4 0 4 4 4 2 4-1 4-2 4-2 4-2 4-1 4-1 4 1 4-4 4-5"/>
<path stroke="#e51e10" stroke-width="3.6" d="M214 1823l4 0 4 1 4 1 4 0 4 1 4-1 4 0 4 0 4 0 4-2 4 2 4-1 4 0 4-2 4-1 4-5 4-1 4 1 4-1 4-3 4 1 4-1 4 2 4 1 4-3 4-3 4-5 4-2 4-3 4 0 4 0 4 1 4 1 4-4 4-2 4 0 4-3 4-1 4 1 4-1 4 1 4-1 4 2 4 4 4-2 4-3 4-5 4-5 4 3 4-2 4-2 4-1 4 1 4-2 4 1 4 0 4-1 4-1 4 0 4 0 4-1 4 1 4-2 4 1 4 1 4-5 4 1 4-1 4 0 4-1 4-2 4-2 4-5 4-6 4 1 4 0 4 2 4-3 4 4 4-1 4-3 4 2 4-4 4-3 4 1 4 0 4-1 4-1 4-1 4-2 4-6 4-5 4 0 4-1 4 0 4 0 4 0 4 1 4-3 4 0 4 0 4-2 4-1 4-3 4 2 4 2 4-6 4-7 4 0 4 0 4 0 4-2 4 4 4-2 4-1 4-2 4-2 4 2 4-1 4-1 4 2 4-1 4 0 4 0 4-1 4 0 4 0 4-1 4 1 4 3 4 1 4-2 4-2 4-4 4 0 4-4 4-2 4-4 4-2 4-2 4 1 4 1 4 2 4-2 4-3 4-2 4 2 4 3 4 0 4-2 4-2 4-3 4 0 4-5 4-5 4 2 4 1 4-1 4 2 4-1 4 1 4-2 4-4 4 0 4-1 4-1 4-1 4-2 4 0 4 0 4 1M902 1693l4 9 4-3 4-1 4-1 4-2 4 0 4-2 4 0 4-3 4 0 4 0 4-2 4 0 4 0 4 1 4-3 4 1 4 0 4 1 4-6 4 2 4 1 4-1 4 1 4-2 4 1 4 0 4-11 4 4 4 0 4 0 4 1 4-1 4-1 4-1 4 1 4-2 4 0 4 1 4-2 4-1 4 0 4-1 4-1 4-3 4 0 4 2 4-2 4 1 4-2 4 1 4-3 4 2 4-1 4-7 4-3 4-1 4-2 4-4 4-3 4 2 4-3 4 2 4-2 4 0 4 0 4-2 4-4 4 0 4 0 4-2 4-2 4 0 4-3 4-2 4 5 4-2 4 1 4 0 4 0 4 2 4-3 4-2 4-1 4-2 4 0 4-3 4-1 4-1 4-3 4 2 4 0 4-8 4-4 4-12 4-1 4 1 4 1 4 0 4 4 4 1 4-2 4 0 4-2 4-3 4 0 4-7 4 2 4-1 4 3 4 3 4 0 4-2 4-2 4 0 4 0 4-1 4 1 4-1 4 2 4-1 4-1 4-3 4 1 4-1 4-3 4 0 4 0 4-4 4-6 4-5 4 1 4 0 4 1 4-4 4 2 4-2 4-2 4-4 4-2 4-1 4-3 4-2 4 1 4-2 4 0 4-2 4 0 4 0 4 0 4 1 4-4 4 0 4 2 4 1 4 1 4-2 4 0 4-1 4-1 4-2 4-1 4 1 4-4 4-4 4 0 4-3 4 1 4-3 4-2 4 2 4-1 4-2 4 3 4-7"/>
<path stroke="#e51e10" stroke-width="5.0" d="M2294 1387l4-3 4-4 4-1 4-2 4-2 4-2 4 0 4-1 4-4 4 1 4 2 4-2 4 5 4-1 4-2 4-2 4 1 4-2 4-2 4 1 4-4 4-4 4-1 4-1 4-4 4-2 4 0 4-1 4 0 4 0 4-3 4-2 4-3 4 3 4-2 4 0 4 0 4-2 4 0 4-2 4 1 4-6 4-3 4 2 4 1 4-1 4 0 4-1 4-2 4 1 4-4 4 1 4 0 4-4 4 4 4-1 4-2 4-1 4-2 4-1 4 0 4 1 4-2 4-3 4 2M2558 1290l4 6 4 1 4-1 4 2 4-2 4 1 4-4 4-3 4-3 4-4 4 3 4 0 4 1 4-4 4 4 4 2 4-3 4-3 4-5 4-6 4-1 4-5 4 2 4-2 4 0 4-1 4 0 4-2 4 0 4-2 4 0 4 0 4-2 4-1 4 2 4-3 4-3 4 1 4-2 4 4 4-1 4-2 4-3 4 2 4-7 4-2 4 0 4 3 4-1 4 1 4-1 4-3 4-2 4-2 4-4 4 1 4-2 4-1 4-1 4 3 4-3 4-3 4 0 4-2 4 1 4 1 4 2 4-1 4-1 4 1 4-8 4-2 4-2 4-3 4-2 4-5 4-3 4 1 4 0 4-4 4-1 4-8 4-1 4-3 4 0 4 2 4 0 4 1 4 4 4-5 4-7 4-3 4-4 4-5 4 1 4-2 4-1 4 0 4 0 4-1 4-5 4-2 4-4 4-8 4 0 4 0 4-1 4-3 4-3 4-2 4-3 4-2 4 4 4 4 4-1 4-8 4-2 4 1 4-4 4-1 4 2 4-5 4-2 4 0 4-1 4 1 4-8 4-6 4 2 4-3 4 2 4-5 4 0 4 0 4 1 4-3 4-4 4-4 4 1 4 2 4 1 4-8 4-2 4-4 4 2 4-11 4-4 4 0 4 0 4 1 4-2 4-1 4 0 4 0 4-5 4 1 4 1 4-2 4-3 4-1 4 1 4 0 4 1 4-1 4-1 4-2 4-4 4-2 4-4 4-4 4-3 4-2 4-2 4-3 4-2 4-4 4 0 4 1 4 0 4 0 4-3 4 1 4-7 4-1 4-2 4-1 4-2 4 1 4-1 4 0 4-1 4-3 4-7 4-4 4-4 4-2 4 0 4-2 4 0 4-2 4-1 4-1 4-2 4-1 4-2 4-6 4-4 4 3 4 2 4-3 4 10 4-2 4-5 4-5 4-2 4-1 4-2 4 2 4-5 4-6 4 0 4-1 4-3 4-3 4 1 4-3 4-3 4-2 4-4 4-1 4 0 4 3 4-3 4-1 4-2 4-2 4-2 4-3 4 0 4-6 4 3 4-2 4-1 4 2 4-1 4-3 4-1 4-1 4 1 4-2 4-3 4 1 4 2 4-4 4 0M3582 890l4 2 4 0 4-1 4-2 4 0 4 2 4-4 4 4 4 2 4 0 4 7 4 4 4-1 4-3 4-1 4-1 4-2 4 2 4-3 4 0 4 1 4-6 4 2 4 0 4-2 4 1 4-1 4-9 4 1 4-3 4 1 4 1 4-3 4 0 4-1 4-7 4 0 4 1 4-1 4-1 4-2 4-1 4 0 4-1 4-8 4 1 4-1 4-5 4 4 4 0 4-2 4-3 4-1 4 0 4 2 4-7 4-1 4 0 4-2 4 3 4 2 4-1 4 1 4-7 4-5 4 3 4-2 4-3 4 1 4-3 4 1 4-8 4 2 4 2 4 1 4-6 4-2 4 0 4 1 4 0 4-4 4 0 4-1 4-6 4-3 4-1 4-3 4-2 4-3 4-1 4 1 4-3 4-1 4 0 4-4 4 2 4 2 4-2 4-2 4-7 4-3 4-3 4 0 4-2 4 0 4-2 4 3 4 0 4-1 4 2 4 0 4-2 4 5 4 1 4-2 4-2 4 2"/>
<path stroke="#009e73" stroke-width="3.6" d="M2886 1100l4 3 4-2 4-1 4 2 4-1 4 4 4 5 4-6 4-6 4-8 4-2 4-4 4 0 4 0 4-3 4 2 4-1 4 1 4-5 4-7 4-3 4-8 4 1 4 0 4-3 4-1 4-3 4-5 4-2 4 1 4 1 4 4 4-5 4-1 4-2 4-1 4-3 4-1 4-1 4-4 4-1 4 0 4 0 4-2 4-5 4-7 4 1 4-3 4 0 4-3 4 0 4 1 4 0 4-3 4-4 4-4 4 0 4 1 4 0 4-2 4-6 4 0 4-1 4-14 4-2 4 0 4 1 4-3 4-2 4 2 4 0 4-1 4-6 4 0 4-1 4-1 4-3 4 1 4 0 4 3 4 1 4 1 4-3 4-4 4 1 4-6 4-3 4-5"/>
<path stroke="#56b4e9" stroke-width="4.0" d="M214 1824l4-3 4 5 4-1 4-1 4-1 4 1 4 0 4-2 4 0 4 0 4-1 4 3 4-3 4 2 4 1 4-9 4 3 4-4 4-1 4-1 4 0 4-2 4 1 4 2 4-4 4-5 4 1 4-6 4 0 4-1 4-1 4 5 4-5 4 0 4-4 4-5 4-1 4 2 4 3 4-1 4 0 4 2 4-1 4 5 4-4 4-1 4-8 4-1 4 0 4 1 4-2 4-6 4 4 4-1 4 3 4-3 4 2 4 0 4-4 4 0 4-4 4 4 4 0 4-1 4 0 4-2 4-1 4-1 4-2 4 0 4-2 4 2 4-12 4-2 4 1 4 2 4-2 4 2 4 1 4-2 4-3 4 4 4-4 4-4 4-1 4 4 4-3 4 1 4-5 4 0"/>
<path stroke="#009e73" stroke-width="4.0" d="M2562 1160l4 0 4 2 4-4 4 3 4 1 4-6 4-6 4 1 4-1 4 0 4-1 4-1 4 2 4 2 4-2 4 1 4-5 4-8 4-6 4 0 4-3 4 0 4-2 4-2 4 2 4-4 4-2 4-1 4 0 4 0 4 3 4-3 4-3 4-1 4-1 4-4 4-3 4 1 4 2 4 0 4 2 4-5 4-1 4-2 4-3 4-4 4 1 4 3 4 2 4-6 4-1 4-2 4 2 4-5 4-3 4-3 4 1 4-2 4-3 4 3 4 0 4 2 4-5 4 0 4-1 4-1 4-1 4 3 4-2 4-3 4-5 4-1 4-5 4 2 4-5 4-5 4-2 4-2 4-3 4 1 4-13 4 0 4 0 4-1 4 1 4-1 4 2 4 6 4-6 4-6 4-6 4-1 4-6 4-4 4 2 4-2 4-3 4 1 4 1 4-1 4-6 4-5 4-4 4-2 4-3 4-4 4 0 4-5 4-1 4-5 4-1 4 4 4 4 4 0 4-7 4 1 4-2 4-3 4 2 4-5 4-3 4 0 4-2 4-2 4-3 4-2 4-9 4 0 4-2 4 1 4-3 4 0 4 1 4 0 4-2 4 0 4-8 4-1 4-1 4 2 4-5 4-2 4-3 4 0 4-13 4-2 4-4 4 5 4-2 4-3 4 0 4-2 4 1 4-6 4 3 4-2 4-1 4-1 4 1 4-5 4 4 4 0 4 1 4-3 4-3 4-1 4 0 4-5 4-6 4-2 4-3 4-1 4-5 4-7 4 2 4-2 4 2 4 0 4-5 4-1 4 1 4-9 4-2 4 0 4 1 4-2 4-3 4 0 4-2 4 4 4-5 4-7 4-6 4 1 4 0 4-3 4-6 4 3 4-1 4-2 4-5 4-1 4 0 4-3 4-5 4-3 4 3 4 1 4-3 4 10 4-3 4-3 4-6 4-3 4-2 4 2 4 1 4-6 4-6 4-1 4-2 4-2 4-2 4-2 4-2 4-3 4-1 4-5 4-1 4 1 4-1 4 2 4-1 4-7 4 0 4 0 4-3 4-6 4 0 4 1 4-1 4-1 4-2 4 5 4-3 4-3 4-2 4 0 4 0 4-1 4-4 4 0 4-3 4 3M3582 719l4 0 4-2 4 2 4-1 4 1 4-2 4 0 4 1 4 0 4-3"/>
<path stroke="#f0e442" stroke-width="4.4" d="M3902 638l4 0 4-1 4-3 4-2 4-6 4-2 4-1 4-3 4 0 4-2 4-2 4-2 4-3 4 0 4-2 4 0 4 4 4-1 4-5 4-2 4-5 4 0 4-3 4 0 4-5 4 2 4 0 4-2 4 0 4 2 4 1 4 2 4-3 4 1 4 3 4-3 4 2"/>
<path stroke="#e51e10" stroke-width="4.4" d="M2186 1344l4 0 4-4 4 6 4-2 4-3 4-1 4 5 4-7 4 4 4-3 4-4 4-4 4-3 4-3 4-1 4-5 4 0 4 1 4 0 4-3 4 1 4-5 4 3 4-5 4 0 4-9 4-4 4-6 4-4 4 1 4-1 4 1 4-6 4-2 4-2 4-3 4 0 4 0 4 7 4 0 4-2 4-3 4 0 4-4 4 1 4 0 4-4 4 0 4-7 4-1 4-1 4-1 4-1 4-8 4 4 4-1 4 1 4-2 4-2 4-2 4-2 4 3 4-1 4-2 4 2 4-1 4 0 4-1 4-8 4 2 4-5"/>
<path stroke="#56b4e9" stroke-width="4.4" d="M2562 1215l4-1 4 4 4-4 4 1 4 0 4-5 4-4"/>
<path stroke="#56b4e9" stroke-width="4.0" d="M2390 1278l4-4 4-2 4-1 4-1 4 0 4-2 4-1 4 0 4-4 4 3 4 2 4-1 4-3 4-1 4-1 4 2 4-5 4-5 4 1 4 0 4-1 4 1 4-1 4 2 4-1 4-4 4 1 4-3 4-1 4-1 4 0 4-2 4 1 4 1 4 0 4-4 4-3 4 2 4-2 4-2 4 1M2558 1211h0"/>
<path stroke="#9400d3" stroke-width="4.6" d="M3690 653l4-9 4-3M3706 640l4-4 4 3 4-2 4 0 4-10 4-4M3762 610l4-2 4 0 4-4 4-2 4 2 4-1 4-2 4 1 4-7 4 2 4-7M3814 587l4 0 4-3M3834 586l4 0 4-5 4-5 4-5 4 4M3862 570l4-4 4-5 4 0 4 0 4 1 4-4 4-5"/>
<path stroke="#0072b2" stroke-width="5.0" d="M2562 1199l4 3 4-2 4-1 4 1 4-1 4-8 4-5 4 4 4-1 4 0 4 3 4-4 4 3 4 2 4-2 4-1 4-2 4-10 4-5 4-2 4 2 4-4 4-2 4-2 4 0 4 0 4-3 4-1 4 3 4-1 4 0 4-4 4 0 4-2 4-2 4-2 4-2 4 1 4 1 4 3 4-2 4-3 4-3 4 0 4-3 4-1 4 1 4 4 4-5 4 1 4-4 4-2 4-4 4 2 4-3 4-2 4 0 4 1 4-5 4 1 4-1 4-2 4-3 4 1 4 4 4 0 4-4 4 1 4-1 4-6 4-4 4 2 4-6 4-1 4-6 4-5 4 2 4 0 4-3 4-3 4-8 4 1 4-1 4-4 4 0 4 3 4 1 4 6 4-5 4-5 4-6 4-4 4-6 4-1 4-3 4-1 4 3 4-2 4-1 4-5 4-3 4-4 4-5 4 1 4-2 4-1 4-4 4-4 4-4 4-3 4 0 4 0 4 6 4-2 4-3 4-6 4 0 4-3 4 2 4 1 4-4 4-5 4 1 4-1 4-2 4-3 4-7 4-2 4 0 4 0 4 0 4 0 4-4 4 2 4-2 4-5 4-1 4-1 4 2 4-1 4-5 4-3 4-2 4-2M3142 960l4 3 4-1 4-3 4 5 4-2 4-3 4-3 4 0 4-1 4-2 4-2 4-1 4-1 4 1 4 0 4 0 4 2 4-1 4-3 4 2 4-7 4-3 4-2 4-4 4-2 4-4 4-4 4-3 4-1 4-5 4 0 4 1 4 1 4-3 4 0 4 0 4-11 4 2 4 0 4-2 4 1 4-2 4-1 4 1 4 2 4-5 4-8 4-8 4 2 4-3 4 1 4-3 4-3 4 0 4-3 4 1 4-1 4-3 4-2 4-3 4-3 4 1 4-2 4-2 4 11 4-3 4-4 4-7 4-3 4 0 4-1 4 0 4-3 4-6"/>
<path stroke="#e51e10" stroke-width="5.0" d="M2294 1277l4-2 4-3 4-4 4-4 4 2 4-2 4-2 4 1 4-5 4 0 4 0 4 0 4 1 4 2 4-2 4-2 4-2 4 3 4-3 4 0 4-4 4-7"/>
<path stroke="#000000" stroke-width="4.4" d="M1830 1461l4-2 4-1 4-1 4-4 4-2 4-2 4 1 4-2 4 1 4 0 4 0 4 2 4 0 4 1 4 2 4 0 4-1 4-3 4 2 4 1 4-2 4-1 4 1 4-5 4-10 4-1 4-1 4-1 4 1 4 1 4 1 4-3 4-2 4-1 4 2 4-1 4-2 4-2 4 0 4-3 4 2 4-4 4 0 4 0 4-7 4-3 4 0 4 1 4-3 4 2 4-2 4 1 4-10 4-4 4 1 4 1 4-7 4 0 4 0 4 4 4 1 4-3 4 0 4 0 4-1 4 1 4 1 4-1 4-3 4 0 4 0 4-2 4 0 4 1 4 0 4 0 4 0 4 1 4 1 4-7 4 1 4-4 4 2 4-4 4-4 4 1 4 2 4-8 4-9 4 0 4 2 4-2 4-4 4-1 4 1 4 1 4-3 4 1 4 1 4-6 4-6 4-5 4-3 4-2 4 0 4-1 4-1 4 3 4-2 4-1 4-2 4-2 4-3 4-1 4-2"/>
<path stroke="#000000" stroke-width="4.0" d="M1902 1409l4-1 4-1 4 0 4-3 4 0 4-4 4-3 4-2 4-7 4-1 4-1 4 2 4 2 4-1 4 2 4 0 4-1 4 1 4-2 4-5 4 0 4 0 4-2 4-6 4 2 4-4 4-5 4-2 4-1 4 2 4-2 4 0 4-1 4 0 4-8 4-7 4 1 4 0 4-4 4-1 4 3 4-2 4 0 4 0 4 0 4-1 4 1 4 0 4 4 4-1 4-3 4-2 4-2 4-2 4 3 4-2 4-1 4 4 4-1 4-1 4 1 4-5 4-1 4-3 4-1 4-4 4 2 4-2 4-1 4-7 4-8 4-1 4 3 4-4 4 0 4-2 4 1 4 0 4-2 4-1 4 0 4-4 4-8 4-1 4-4 4-1 4 0 4-3 4 0 4-1 4-1 4 0 4-3 4 0 4-3 4 1 4-8 4-5 4-4 4-4 4-3 4-1 4-3 4-1 4-2 4-2 4-3 4 1 4 3 4 0 4 1 4-2 4 1 4-2 4-1 4-3 4-1 4 1 4-1 4-6"/>
<path stroke="#0072b2" stroke-width="5.0" d="M1222 1609l4-1 4-2 4-1 4 0 4 1 4 0 4-4 4-3 4-2 4-1 4-1 4 2 4-7 4-3 4-14 4 0 4 1 4-2 4 1 4 6 4 1 4-1 4-1 4 2 4-6 4 1 4-10 4 1 4 1 4 2 4 2 4 1 4 0 4-4 4-1 4-2 4 1 4 3 4-1 4 2 4-4 4-1 4 2 4 0 4-5 4-2 4 2 4 2 4 5 4-9 4-8 4 3 4 1 4 0 4-3 4-3 4 2 4-2 4-4 4-2 4 0 4-3 4-2 4-5 4 3 4-3 4 1 4-1 4-1 4 1 4-1 4-3 4-1 4 2 4 4 4 1 4 3 4-5 4-5 4-1 4-2 4 5 4-7 4 0 4-6 4 0 4 1 4-3 4 1 4-2 4 0 4 0 4-1 4-1 4-2 4-10 4-2 4 0 4-1 4 1 4-1 4-3 4-2 4-2 4-1 4-1 4 4 4-2 4 2 4-2 4-2 4-7 4-3 4-2 4-3 4-1 4-6 4-5 4-3 4 1"/>
<path stroke="#56b4e9" stroke-width="4.4" d="M2594 1247l4-1 4-1 4 4 4-7 4-1 4 6 4-1 4 1 4-6 4-6 4-12 4-2 4-2 4-2 4 6 4-6 4-3 4 0 4-1 4-1 4 2 4-2 4 4 4-4 4-3 4 2 4-3 4-5 4 2 4-6 4 7 4-2 4 2 4-1 4-3 4-4 4-5 4 2 4-1 4 3 4-1 4-4 4 0 4-2 4 0 4-5 4 2 4-4 4-3 4 6 4-2 4-2 4-1 4 0 4-3 4-1 4 0 4 2 4 0 4-2 4-3 4-3 4-2 4-2 4-1 4-4 4-4 4-2 4-1 4-2 4 1 4 2 4-9 4 2 4-1 4-3 4-1 4-2 4 6 4 2 4-3 4-7 4-3 4-4 4-7 4 2 4 1 4 0 4-8 4 5 4-2 4-3 4-6 4-3 4-7 4 3 4-2 4-1 4 1 4-11 4 0 4-3 4 0 4 2 4 3 4-2 4-4 4-4 4 0 4-3 4 3 4-5 4-1 4 0 4-2 4-4 4 0 4-6 4-3 4 1 4 0 4-6 4 2 4-1 4 0 4-3 4 0 4-5 4-3 4 1 4 1 4-2 4-6 4-2 4 2 4-3 4-14 4 0 4 0 4-2 4 1 4-2 4 1 4-4 4 1 4 0 4-5 4-1 4-1 4-4 4 2 4 4 4-1 4 0 4-1 4 1 4-1 4-2 4-6 4-3 4-4 4-5 4-3 4-2 4-4 4-1 4-2 4-2 4 2 4-3 4 0 4 1 4 2 4-8 4-7 4 0 4 1 4 0 4-5 4 2 4 0 4-4 4 3 4-11 4-3 4 1 4-3 4-3 4-5 4 4 4 0 4-3 4-5 4 2 4-6 4 0 4-3 4-1 4 2 4-1 4-5 4 8 4 0 4-6 4 1 4-7 4 2 4-4 4 5 4-9 4-5 4-1 4 1 4-2 4-1 4-4 4-1 4-5 4 1 4-7 4 1 4-2 4-1 4 1 4 2 4-4 4-5 4-1 4 2 4-5 4-2 4 1 4-1 4-1 4-3 4 2 4 0 4-4 4 2 4-1 4-2 4 0 4-2 4-2 4 0 4-2M3582 844l4-1 4-1 4 2 4-1 4 0 4-1 4 1 4 2 4-3 4 0M3626 857l4 6 4 2 4-2 4-4 4 1 4-5 4 1 4-1 4-1 4-2 4 4 4-2 4 1 4-2 4-1 4-1 4-8 4 1 4-3 4 3 4-2 4-1 4-5 4 2 4-7 4-3 4 2 4-1 4-1 4-1 4-5 4 4 4-1 4-5 4-4 4 0 4-2 4 1 4 1 4-7 4 6 4-3 4-4 4 1 4-4 4-5 4 1 4 0 4 3 4 0 4 4 4-6 4-3 4-3 4-2 4 0 4-2 4 0 4-6 4 2 4-1 4-4 4 4 4 0 4-8 4 0 4 1 4-1 4 4 4-6 4-2 4 2 4-7 4-3 4-3 4-3 4 1 4-3 4-4 4 1 4-5 4 0 4-1 4-1 4 0 4 5 4 0 4-8 4-2 4-4 4-6 4 3 4-5 4 2 4 0 4 0 4 2 4-2 4-1 4 1 4 5 4-2 4 0 4 3 4-1 4-1"/>
<path stroke="#56b4e9" stroke-width="3.6" d="M214 1867l4-1 4-4 4 2 4 2 4-2 4 6 4-1 4-2 4-1 4-1 4 2 4-4 4 2 4-2 4 1 4-4 4 1 4 0 4-3 4-2 4 0 4-3 4 2 4 2 4-4 4-6 4 1 4-3 4-4 4-3 4 5 4-2 4 2 4-4 4-2 4-1 4-3 4 0 4 2 4-1 4 1 4-1 4 2 4 8 4-7 4-1 4-6 4-6 4 5 4-2 4-3 4-2 4 2 4 1 4 1 4-4 4-1 4 1 4 2 4-4 4 0 4-1 4-2 4 2 4-2 4-3 4 2 4 3 4-1 4-3 4-4 4 1 4-6 4-5 4-1 4 4 4 1 4 2 4 0 4 0 4-3 4-3 4 1 4-7 4 3 4-2 4 4 4-6 4 0 4-4 4-4 4-6 4-1 4 3 4-1 4 4 4-1 4-3 4-1 4 0 4-4 4 2 4-4 4-2 4 6 4-3 4-4 4-4 4-4 4 4 4-1 4-1 4 0 4-2 4-2 4 2 4 1 4-2 4 0 4 0 4-2 4 2 4 1 4-3 4 0 4-2 4 4 4 1 4-3 4 0 4-1 4 0 4-4 4-3 4 3 4-3 4-3 4-2 4-5 4-1 4 3 4-2 4 0 4 2 4-2 4-5"/>
<path stroke="#e69f00" stroke-width="4.0" d="M214 1768l4-1 4 0 4 2 4 0 4 0 4-1 4 1 4 0 4 1 4-1 4 0 4-1 4 1 4-3 4-1 4-1 4-4 4-2 4-1 4-1 4 2 4 0 4 1 4-1 4-2 4-3 4-4 4-4 4-1 4-3 4 3 4-1 4 1 4-3 4-1 4-4 4-3 4 1 4 1 4-2 4 0 4 0 4 4 4 4 4-4 4-1 4-4 4-6 4 2 4-2 4-2 4 3 4-3 4 0 4 1 4-2 4-2 4 2 4-1 4 1 4-2 4-1 4 0 4-2 4 1 4-2 4-1 4-2 4 0 4-1 4 0 4-2 4-7 4-6 4 1 4 4"/>
<path stroke="#e51e10" stroke-width="3.6" d="M1222 1647l4 0 4-1 4-3 4-2 4 1 4-3 4 0 4-3 4-3 4-1 4 1 4-3 4-5 4-2 4-13 4-1 4 3 4-1 4 0 4 7 4-1 4-1 4-4 4 3 4-3 4 0 4-8 4-1 4 5 4 1 4 0 4 1 4 1 4-4 4-2 4 2 4 2 4-2 4-1 4 1 4-1 4 0 4 0 4 0 4-2 4-4 4-1 4 2 4-6 4-3 4-9 4 4 4 0 4-2 4 1 4-1 4-1 4-4 4-4 4 0 4-2 4-2 4-1 4 0 4-2 4 1 4-1 4-3 4 3 4 0 4-5 4 0 4-2 4 3 4 1 4 1 4 3 4-3 4 0 4-2 4-6 4 3 4-4 4-1 4-2 4-2 4-3 4 2 4-3 4 0 4 1 4-2 4-2 4 1 4-5 4-6 4-2 4-2 4 1 4 0 4 0 4-2 4-4 4 0 4-1 4-3 4 4 4 0 4-1 4-2 4-2 4-1 4-5 4-3 4-5 4 1 4-3 4-7 4-3 4-1 4-4 4-4 4 0 4 0 4-4 4-2 4-2 4-1 4 4 4 6 4 0 4-4 4 0 4-3 4 3 4-3 4-2 4-3 4 2 4-4 4-2 4-1 4 0 4 1 4-5 4-1 4 0 4-3 4 2 4-6M1826 1474l4 14 4-4 4 0 4-2 4-3 4 3 4-2 4-2 4-1 4-2 4 0 4 3 4 0 4-2 4-1 4 2 4 3 4-1 4 1 4 2 4-4 4-1 4-2 4 1 4-3 4-6 4-3 4-4 4-1 4 2 4-1 4 1 4-1 4 1 4 1 4-1 4 1 4-2 4-3 4 1 4-4 4-2 4-2 4 0 4-2 4-8 4-2 4 0 4 2 4-2 4-3 4 0 4 0 4-7 4-2 4-2 4 1 4-2 4-3 4 3 4-2 4-1 4 1 4-1 4 2 4-4 4 2 4 1 4 1 4-2 4 0 4-2 4-2 4 1 4-2 4-1 4 3 4-1 4 1 4-1 4 0 4-5 4-1 4-3 4-4 4 3 4-6 4 3 4-5 4-11 4 2 4-1 4 2 4-4 4 1 4 0 4-6 4 5 4-2 4-4 4-3 4-4 4 1 4-7 4-4 4 3 4-2 4-3 4 0 4 0 4-1 4-1 4-1 4-2 4-1 4-6 4-2 4-5 4-2 4-1 4-2 4-2 4-4 4 1 4-2 4 1 4-2 4 0 4-1 4 1 4 2 4-4 4 1 4-3 4 1 4-4 4 0 4-1 4-5 4 0 4-4 4 0 4-3 4-4 4 2 4 0 4-1 4-2 4 0 4-2 4-1 4 0 4-1 4-1 4-2 4 1 4 0 4-2 4-6 4 0 4 0 4-1 4 0 4 0 4-1 4 1 4-1 4-4 4-2 4 0 4 1 4 2 4-3 4 1 4-4 4 3 4-4 4-2 4 2 4-5 4 5 4-4M2558 1246h0"/>
<path stroke="#009e73" stroke-width="3.6" d="M3986 757l4-4 4-2 4 1 4-1 4-2 4 4 4-5 4-1 4 4 4-2 4 2 4 0 4 4 4-1 4-1 4 0"/>
<path stroke="#56b4e9" stroke-width="4.4" d="M1282 1600l4 1 4-1 4-2 4 2 4 4 4 2 4 0 4-5 4 1 4-3 4-4 4-2 4 2 4 2 4-1 4 3 4 3 4-3 4-5 4 0 4 1 4 2 4 0 4-1 4 0 4-2 4-1 4-2 4 1 4 0 4-1 4 0 4-4 4-2 4-5 4-5 4-2 4 1 4 2 4-3 4 0 4 0 4-4 4 1 4-8 4-2 4-1 4-3 4 4 4-1 4-3 4 2 4-1 4-3 4 2 4-3 4-4 4 2 4 1 4 1 4 3 4 1 4-2 4-4 4-3 4 1 4-3 4 0 4-1 4-3 4-1 4-3 4-2 4-2 4 2 4 1 4-2 4-2 4 3 4-4 4-9 4-2 4-1 4 0 4-3 4 3 4-1 4 0 4 0 4-8 4 2 4 2 4-1 4-3 4-2 4 1 4-5 4-4 4-3 4-3 4-4 4-4 4-1 4-2 4-2 4-4 4-4 4 2 4-2 4-2 4-7 4 0 4 1 4 6 4 5 4-3 4-3 4-1 4 1 4-2 4-2 4-3 4-3 4 1 4-3 4 1 4-1 4-2 4-1 4-7 4 3 4-2 4-2 4 2 4-3 4 2 4 14 4-4 4-3 4-1 4 0 4-1 4-1 4-2 4-4 4-1 4 2 4 0 4 3 4 1 4 0 4 1 4 0 4 1 4-1 4-4 4 3 4-3 4 0 4-1 4-5 4-4 4-2 4-5 4 0 4-4 4 1 4 2 4 4 4-3 4 2 4-1 4-3 4-3 4 2 4 1 4 0 4-5 4-4 4-1 4-3"/>
<path stroke="#e69f00" stroke-width="4.4" d="M3902 680l4 0 4-1 4-5 4-3 4-2 4-1 4 0 4-1 4-4 4-1 4 0 4-7 4 2 4-4 4-1 4-1 4 4 4-1 4-2"/>
<path stroke="#e69f00" stroke-width="5.0" d="M2390 1262l4 0 4-4 4-3 4 1 4-2 4-2 4-1 4-2 4-3 4 0 4 3 4-2 4 0 4 0 4 0 4 0 4-2 4-7 4 1 4 1 4 0 4 1 4-1 4-4 4 3 4-7 4-1 4 1 4 0 4-3 4 2 4-5 4 3 4-2 4 2 4-5 4 0 4 1 4-4 4 2 4 3M2558 1196l4 3 4-2 4 1 4-3 4-1 4 4 4-8 4-3 4 1 4-4 4-1 4 0 4 3 4-5 4 4 4 4 4-3 4-5 4-6 4-4 4-6 4 0 4-1 4 0 4-2 4 2 4-6 4-2 4 1 4-2 4 2 4 0 4-1 4 2 4-2 4-3 4-3 4 1 4-3 4 0 4 1 4 2 4-8 4 2 4-3 4-2 4-1 4 0 4 3 4 1 4 0 4-6 4-3 4-1 4-2 4-2 4-5 4 3 4-2 4-2 4 1 4 0 4-2 4 0 4-4 4 5 4-1 4-2 4 0 4 0 4-6 4-1 4-3 4-5 4-2 4-3 4-5 4-4 4 3 4-5 4 2 4-12 4-2 4 3 4 1 4-4 4-2 4 4 4 5 4-4 4-7 4-6 4 0 4-3 4-6 4 4 4-1 4-3 4-2 4 3 4-6 4-7 4-2 4-5 4 1 4 0 4-6 4 2 4-6 4-6 4-1 4 0 4 0 4 5 4-4 4-3 4-3 4 4 4-5 4-1 4-1 4 0 4-4 4-4 4-1 4 2 4-5 4-7 4-2 4 0 4 1 4 0 4-5 4-3 4 3 4-2 4-3 4-1 4-3 4-2 4 1 4-3 4-2 4-1 4-4"/>
<path stroke="#9400d3" stroke-width="4.4" d="M2294 1238l4-6 4-7 4 1 4 0 4-4 4 2 4-5 4-1 4 2 4-3 4 2 4 3 4 0 4-1 4-3 4 0 4-5 4-3 4 1 4 2 4-4 4-5"/>
<path stroke="#000000" stroke-width="4.0" d="M214 1798l4-1 4 1 4 2 4 2 4-3 4 1 4 2 4-3 4 1 4-3 4 3 4 0 4 0 4-3 4-4 4-1 4 0 4-4 4 0 4-2 4 2 4-1 4 1 4 0 4-3 4 0 4-7 4-4 4-2 4-2 4 2 4 3 4 0 4-4 4-2 4-3 4 0 4 0 4 1 4-4 4 4 4-4 4 4 4 5 4-4 4 0 4-6 4-3 4 0 4-3 4 0 4-2 4 1 4-1 4 0 4-3 4 3 4-1 4-4 4 4 4-1 4 1 4-2 4-1 4-1 4-1 4 0 4-3 4 0 4-3 4-1 4 0 4-6 4-7 4 1 4 0 4 3 4 0 4 0 4 6 4-4 4-5 4 1 4-5 4-1 4 0 4 2 4-2 4-2 4-3 4-7 4-3 4 0 4 1 4-2 4 1 4 0 4 0 4-3 4 0 4-1 4-1 4-1 4 2 4-5 4 2 4-5 4-12 4 0 4 0 4 0 4 2 4 0 4-2 4 1 4-1 4-4 4 2 4-1 4-2 4 0 4 1 4 1 4-1 4 2 4-2 4 0 4 2 4-2 4 6 4-6 4 2 4-2 4-4 4-1 4-4 4-3 4-2 4-1 4-3 4 0 4 0 4 4 4-4 4-1 4-4 4 3 4 6 4-1 4-4 4-2 4-2 4 0 4 0 4-8 4 1 4-1 4 0 4 0 4 2 4-3 4-1 4 2 4-1 4-2 4-1 4 1 4-4 4-1 4 3 4-1M902 1663l4 5 4 0 4-2 4 0 4-1 4 0 4-4 4 0 4-2 4 0 4-4 4 1 4 2 4 0 4-1 4-3 4 4 4-2 4 0 4-4 4-2 4 3 4-1 4 0 4 0 4 2 4-6 4-9 4 3 4 2 4 2 4 0 4 2 4-6 4 2 4-2 4 2 4-3 4 1 4 0 4-1 4-2 4 0 4-1 4-1 4 0 4 0 4-3 4 1 4 1 4-1 4-2 4 0 4 1 4-6 4-2 4-4 4-2 4-6 4 0 4-3 4 2 4 1 4-3 4-1 4 0 4 0 4-3 4-1 4-1 4-1 4-2 4-1 4-2 4-6 4 5 4 1 4 2 4-1 4 3 4-3 4-2 4-2 4 0 4-1 4 0 4-2 4-4 4 1 4-3 4-2 4-1 4-6 4-2 4-11 4 0 4 0 4 0 4-1 4 7 4 2 4-5 4 0 4-3 4-1 4 0 4-10 4 2 4 4 4 2 4 2 4-1 4-3 4-3 4-2 4 2 4 0 4 3 4 3 4-4 4-3 4 1 4-2 4-1 4-1 4-1 4 0 4-4 4-2 4-6 4-3 4-2 4-1 4 0 4 3 4-2 4 1 4-5 4-4 4-3 4-1 4 4 4-7 4 0 4-1 4 0 4 0 4-4 4 3 4 1 4-4 4-3 4 0 4 2 4 0 4 1 4 2 4-1 4-4 4-1 4-4 4 2 4-2 4-2 4 0 4-2 4-2 4-3 4-1 4 0 4-2 4 1 4-4 4 3 4-3 4-11 4 0 4-4 4 0 4 1 4 0 4-2 4-2 4-3 4 0 4 0 4 1 4 1 4-3 4-2 4-2 4-2 4-4 4-2 4-6 4-2 4-3 4-2 4-6 4-3"/>
<path stroke="#009e73" stroke-width="4.4" d="M2294 1342l4-2 4-5 4-2 4-2 4 0 4-2 4-1 4 0 4-4 4-1 4 1 4 1 4 3 4-2 4-1 4-1 4 0 4 0 4-2 4 0 4-4 4-4 4 5 4-1 4-3 4-2 4-2 4-1 4 1 4-3 4 0 4-1 4-2 4 1 4 1 4-2 4-2 4 1 4 0 4-2 4-1 4-4 4 0 4-1 4-1 4 0 4 0 4-2 4 0 4-1 4-3 4-1 4-2 4 1 4-1 4-1 4 2 4-3 4 0 4 0 4-2 4-1 4 1 4-3 4 2M2558 1252l4 7 4-3 4 1 4 0 4 0 4-1 4-2 4-6 4-2 4 0 4 0 4 0 4-1 4-1 4 3 4 2 4-3 4-4 4-6 4-5 4-2 4-4 4 0 4 1 4-2 4 0 4-3 4-1 4-1 4-1 4 1 4 1 4-3 4 1 4-1 4-2 4-6 4 1 4 0 4 2 4 1 4-1 4-2 4-3 4-4 4-1 4-1 4 0 4 3 4 1 4-3 4-2 4-3 4 1 4-3 4-2 4-2 4-1 4 1 4-5 4 1 4 2 4-4 4 2 4-1 4 1 4-2 4 0 4-2 4 0 4-4 4-3 4-1 4-5 4-2 4-5 4-2 4 0 4-1 4-2 4-2 4-9 4 0 4-2 4 0 4 0 4 0 4 3 4 4 4-6 4-7 4-5 4-1 4-7 4 1 4-1 4-1 4-1 4-1 4 3 4-6 4-4 4-3 4-6 4-1 4-2 4-2 4-1 4-4 4-4 4-4 4-1 4 3 4 5 4-3 4 0 4-4 4 0 4-3 4-2 4-3 4-2 4 0 4-1 4-3 4 2 4-6 4-5 4-5 4 1 4 1 4-3 4 2 4 0 4-3 4-1 4-2 4-2 4-2 4-1 4 3 4-9 4-3 4 0 4-1 4-13 4-1 4-3 4 3 4 0 4-1 4-1 4-1 4-4 4-1 4 0 4-3 4 1 4-1 4 0 4-2 4 2 4 3 4-1 4-3 4-1 4-3 4-3 4-6 4-1 4-3 4-4 4-1 4-6 4-2 4-3 4 0 4 0 4-1 4 0 4-4 4 1 4-9 4 1 4-2 4 0 4 1 4-4 4 2 4 0 4 2 4-4 4-8 4-6 4-2 4 0 4 1 4-7 4 2 4-1 4-2 4-2 4-2 4-2 4 0 4-8 4 2 4 0 4-1 4-1 4 7 4-1 4-5 4-2 4-4 4-1 4-1 4-1 4-5 4-6 4 1 4 1 4-5 4 2 4-3 4-4 4-3 4-2 4-2 4-1 4-2 4 1 4 1 4-1 4-3 4-3 4-1 4-4 4-2 4-4 4 3 4 0 4 0 4-2 4 0 4-2 4 0 4 0 4-2 4-1 4-3 4 0 4-1 4-1 4 0M3582 840l4 2 4-2 4 0 4 0 4 1 4 1 4-3 4 3 4-1 4-1 4 9 4 2 4 0 4 0 4 1 4-2 4-2 4 0 4-2 4 3 4-5 4-3 4 2 4-2 4-1 4 0 4 0 4-7 4-1 4-3 4 2 4 0 4-2 4 0 4-1 4-8 4-3 4 3 4-2 4 1 4-1 4-1 4-2 4-1 4-6 4 0 4-2 4-2 4-1 4 1 4 0 4-2 4-1 4-3 4 1 4-3 4-3 4-1 4 0 4 0 4 1 4 2 4-3 4-1 4-3 4-4 4 1 4-3 4 2 4-4 4-1 4-4 4 2 4 0 4 0 4-4 4-3 4 0 4-1 4 0 4 0 4-3 4-2 4-3 4-6 4 1 4-1 4-4 4-2 4-1 4-1 4-1 4-4 4 0 4-3 4 2 4 0 4 2 4-4 4-4 4 0 4-6 4-1 4 0 4-4 4 2 4 0 4-1 4 0 4 1 4 0 4 2 4 0 4 1 4 1 4-3 4 2"/>
<path stroke="#f0e442" stroke-width="4.0" d="M214 1813l4 0 4 2 4 0 4 1 4 2 4-4 4 3 4-2 4 0 4-1 4 1 4 0 4-2 4 0 4-1 4-5 4 0 4-3 4-6 4 4 4 3 4-1 4-2 4-3 4 1 4-2 4-4"/>
<path stroke="#009e73" stroke-width="3.6" d="M3630 730l4 0 4 1 4-4 4 1 4 0 4-4 4-1 4-1 4 1 4-1 4 2 4-3 4-3 4 1 4-1 4-6 4-3 4-3 4 3 4 0 4-4 4 0 4-3 4-5 4-3 4 2 4 0 4-1 4 0 4 0 4 0 4-4 4-5 4-6 4 0 4 1 4-2 4 3 4-4 4 0 4-3 4 3 4-2 4-7 4-1 4-1 4 1 4-2 4 4 4 1 4-1 4-4 4-5 4 0 4 0 4 0 4 0 4-6 4-1 4-2 4-2 4 3 4-1 4-3 4-6 4 1 4-1 4 1 4-3 4-1 4-3 4-4 4-2 4 0 4-3 4-3 4 0 4-4 4 3 4-2 4-3 4-3 4-2 4-1 4 5 4-2 4-6 4 0 4-4 4-2 4-3 4-1 4-2 4 0 4 1 4-3 4 2 4 0 4 0 4 3 4 0 4-2 4 5 4-4 4 1"/>
<path stroke="#9400d3" stroke-width="4.0" d="M1126 1619l4 0 4-5 4-5 4 1 4 0 4-6 4 8 4-4 4-1 4-3 4 0 4 2 4-1 4-3 4-2 4 0 4-2 4 0 4-3 4 2 4 0 4-1 4 2 4-4 4 6 4-6 4-3 4-3 4 0 4 3 4-5 4-2 4-1 4-2 4 2 4-5 4-2 4-2 4-14 4 1 4 1 4-2 4-5 4 10 4 1 4-1 4-3 4 2 4-4 4-1 4-7 4 0 4 3 4 0 4 1 4 2 4-1 4-5 4 1 4-2 4 3 4-1 4 1 4 0 4 1 4-3 4-2 4 0 4-1 4-1 4 1 4-1"/>
<path stroke="#9400d3" stroke-width="4.2" d="M2390 1154l4-3 4-3 4 1 4-1 4 1 4-3 4-2 4-4 4 2 4-1 4 1 4-2 4 2 4-6 4 2 4-3 4-3 4-4 4 1 4 2 4 1 4-2 4-1 4-3 4 3 4-4 4-3 4 0 4-4 4 0 4 5 4-4 4 3M2530 1114l4 0 4-1 4 2 4 0 4-3 4-2"/>
<path stroke="#0072b2" stroke-width="4.0" d="M214 1875l4 0 4-1 4 2 4-2 4 2 4 0 4 4 4-6 4 3 4-4 4 0 4-1 4 2 4 0 4-3 4-4 4 1 4 0 4-5 4 3 4 2 4-2 4-1 4 1 4-1 4-9 4-1 4 0 4-2 4-2 4 1 4 2 4-1 4-4 4-4 4 0 4-4 4-2 4 3 4-1 4 0 4 0 4 5 4 7 4-3 4-7 4 2 4-8 4 2 4-2 4-3 4-3 4 1 4 0 4 4 4-3 4-3 4 3 4-2 4 2 4-1 4-4 4 1 4 3 4-2 4 1 4-5 4 1 4 1 4-6 4 1 4 1 4-5 4-8 4-1 4 9 4-2 4-3 4 1 4 3 4-3 4-2 4-4 4 1 4 0 4-1 4 1 4-2 4-4 4 0"/>
<path stroke="#e51e10" stroke-width="4.4" d="M2886 1099l4 2 4-1 4-4 4 2 4-2 4 2 4 6 4-6 4-6 4-6 4 0 4-6 4-4 4 1 4-1 4 4 4-3 4 0 4-5 4-2 4-6 4-6 4 0 4 0 4-4 4-3"/>
<path stroke="#e51e10" stroke-width="4.0" d="M1934 1471l4-8 4 1 4-4 4 2 4 1 4 3 4-3 4 1 4 1 4-4 4 0 4 3 4-3 4-5 4 2 4-3 4 0 4-2 4-2 4-4 4-2 4 0 4 2 4-5 4-1 4 2 4-6 4-7 4 0 4-2 4-4 4 2 4 0 4-2 4 3 4 2 4-5 4 1 4 1 4-1 4 3 4-1 4-3 4 2 4-1 4-5 4 3 4-4 4 2 4 4 4-3 4 4 4-6 4-1 4-3 4-3 4-1 4 0 4-4 4 0 4 1 4-3 4-14 4 2 4 0 4 3 4-7 4 0 4-2 4 1 4 2 4-3 4 2 4-4 4-7 4-5 4-5 4 1 4 0 4-2 4 0 4 0 4-3 4 1 4-2 4-3 4-1 4 2 4-11 4-4 4-4 4-1 4-3 4-1 4-5 4-3 4-1 4 0 4-2 4 1 4 0 4 2 4 3 4-4 4-1 4-1 4 0 4-1 4-2 4-1 4 0 4-5 4-2 4-5 4 2 4-2 4-2 4-2 4 1 4-7 4 1 4 5 4-6 4-1 4 3 4-2 4-2 4 1 4-1 4-2 4 1 4-5 4 1 4-4 4 2 4-3 4-3 4-1 4 4 4-2 4-1 4-2 4 1 4 0 4-1 4 0 4-4 4-1 4 1 4-1 4-1 4-1 4 0 4-2 4-3M2558 1246l4 7 4-1 4-2 4 1 4 2 4-3 4-5 4-5 4 3 4-3 4 2 4-2 4 3 4-3 4 1 4 2 4 3 4-9 4-6"/>
<path stroke="#0072b2" stroke-width="4.0" d="M3730 732l4 5 4-3 4-2 4 0 4-1 4-1 4-3 4-9 4 1 4 1 4-1 4 1 4-2 4-1 4-1 4-1 4-4 4 0 4-3 4 0 4-2 4 2 4-1 4 1 4 4 4-3 4-6 4-2 4 0 4-1 4-2 4-1 4-2 4-4 4-3 4 2 4-2 4 3 4-7 4-1 4 0 4 0 4-1 4-2 4-1 4-4 4-2 4-5 4 0 4-3 4-3 4 0 4-5 4 0 4-1 4 0 4-1 4-3 4 0 4 5 4-3 4-3 4-6 4-2 4-4 4-2 4 1 4-4 4 3 4-1 4 2 4-1 4-2 4 2 4 3 4-1 4 2 4 1 4 0 4-3"/>
<path stroke="#009e73" stroke-width="3.6" d="M958 1651l4-1 4-2 4 0 4 1 4-1 4-2 4 1 4 0 4-1 4 4 4-5 4 0 4 0 4-10 4 1 4 2 4 2 4 2 4-2 4-3 4-1 4-1 4 1 4-3 4 0 4-1 4 2 4-2 4-2 4 0 4-1 4 2 4-2 4-1 4 1 4-1 4-1 4 1 4-2 4-1 4-8 4-2 4-1 4-1 4-5 4-2 4-3 4 1 4 2 4-2 4 1 4 2 4 0 4-3 4 0 4 2 4-6 4-2 4 1 4-2 4-5 4 3 4 1 4 3 4 1"/>
<path stroke="#000000" stroke-width="4.0" d="M2294 1326l4-3 4-4 4-3 4-4 4 0 4 1 4-3 4 2 4-4 4-3 4 2 4 3 4 0 4-2 4-2 4 2 4-1 4-2 4-1 4-2 4-3 4-4 4-5 4 1 4 0 4-3 4-7 4 3 4-3 4-1 4 3 4 0 4-3 4-1 4-1 4-3 4 5 4-3 4-1 4-2 4 2 4-6 4-2 4 2 4-2 4 1 4 0 4-5 4 3 4-3 4-1 4-3 4 0 4 3 4-2 4 0 4-3 4 0 4-1 4 0 4-1 4 2 4-4 4-2 4 1M2558 1225l4 6 4-3 4 3 4-1 4-2 4 1 4-2 4-8 4 1 4-2 4 2 4-4 4 0 4-2 4 5 4 2 4-4 4-3 4-6 4 0 4-1 4-6 4-2 4 1 4-1 4-3 4 0 4 1 4-2 4-3 4 4 4-2 4 0 4-4 4 1 4-2 4-2 4-1 4-3 4 3 4 1 4 1 4-3 4-1 4-4 4-4 4-2 4 0 4 3 4 2 4-2 4-5 4 0 4-2 4-1 4-1 4-4 4 0 4-2 4 1 4-1 4 3 4 0 4-5 4 0 4 3 4-4 4 1 4-1 4 1 4-8 4-2 4 0 4-4 4-1 4-5 4-4 4-2 4-1 4-2"/>
<path stroke="#e51e10" stroke-width="5.0" d="M1830 1507l4-4 4 1 4-4 4-3 4 0 4-2 4-2 4 0 4-1 4 1 4 2 4 2 4-2 4-1 4 5 4-2 4 1 4-3 4 2 4-1 4 0 4-3 4 0 4-5 4-12 4-7 4-3 4-3 4 0 4 2 4 1 4 1 4 0 4 2 4 0 4-3 4-2 4-2 4 1 4-2 4 0 4-1 4-4 4-1 4-6 4-4 4 0 4 0 4 1 4 0 4-3 4 0 4-7 4-8 4-3 4 1 4-3 4-1 4 1 4 2 4 0 4-3 4 1 4 0 4 1 4 1 4 1 4-3 4-1 4-3 4 0 4-2 4 0 4 0 4 0 4 0 4 0 4 0 4 2 4-4 4-2 4-2 4-2 4-2 4-1 4-3 4 3"/>
<path stroke="#0072b2" stroke-width="5.0" d="M2638 1201l4-3 4-2 4 3 4-5 4 1 4-2 4-2 4 2 4-3 4-1 4-1 4-1 4-2 4-1 4 5 4-9 4 1 4-1 4 0 4-1 4 1 4 2 4-4 4-1 4-3 4-2 4-3 4 1 4 1 4 1 4 3 4-5 4-1 4-4 4 0 4-5 4-2 4 2 4-4 4-2 4 0 4 1 4 1 4 0 4 0 4 1 4-3 4-3 4 2 4-2 4-6 4 1 4-5 4-2 4-2 4-3 4-5 4-1 4-1 4-3 4-2 4-8 4 2 4-3 4-3 4 2 4 2 4 0 4 3 4-4 4-4 4-6 4-6 4-3 4-3 4 2 4-3 4 1 4 1 4-6 4 1 4-1 4-6 4-3 4-3 4 0 4-3 4-7 4-11 4-3 4-5 4-2 4 5 4 2 4 1 4-6 4-4 4-5 4 1 4 0 4-1 4-2 4-3 4 2 4-3 4 4 4-9 4-6 4 2 4-4 4 1 4-4 4-2 4 5 4-3 4-1 4-4 4-4 4 2 4-1 4 0 4-8 4-2 4 4 4-3M3142 980l4 1 4-4 4 5 4-3 4-1 4-2 4 1 4 0 4-3 4-5 4 2 4-1 4-1 4 0 4-2 4 2 4 4 4-4 4-3 4 1 4-4 4-4 4-2 4-6 4-2 4-6 4-1 4-2 4-2 4-1 4 1 4-3 4 3 4-6 4-3 4 5 4-10 4 1 4-3 4 0 4 0 4-4 4 3 4-3 4 3 4-5 4-10 4-1 4-1 4-5 4 1 4-6 4 1 4-1 4-3 4 2 4-3 4-2 4-3 4-3 4-1 4-2 4 2 4-1 4 6 4 0 4-1 4-10 4-1 4-1 4 1 4 2 4-10 4-6 4 1 4 1 4-2 4-2 4-2 4-2 4-6 4-1 4-3 4-1 4-1 4-1 4 3 4-1 4-7 4 0 4-2 4-4 4 2 4-6 4 6 4-3 4-1 4 3 4-6 4 0 4-1 4 0 4-6 4 6 4-5 4 2 4-3 4 3 4-3M3582 792l4-2 4 0 4 3 4-2 4-1 4-1 4 2 4 0 4 2 4 0 4 9 4 0 4-1 4-1 4-4 4 2 4-1 4 0 4-2 4 0 4 1 4 1 4-3 4-3 4 3 4-4 4-1 4-5 4-1 4-4 4-1 4 2 4 0 4-1 4-1 4-7 4-5 4 2 4 2 4-5 4 3 4-1 4 1 4-4 4-7 4-2 4 1 4-5 4 0 4 2 4 0 4 0 4-4 4 2 4-3 4-1 4-2 4-6 4 2 4 1 4 4 4 0 4-2 4-5 4 1 4-8 4 2 4 0 4 0 4-1 4-6 4-2 4 0 4 1 4 3 4-7 4-6 4 2"/>
<path stroke="#9400d3" stroke-width="4.6" d="M3850 559l4 0 4 1 4-3 4-5 4-2 4-1 4 1 4 4 4-4 4-4 4-1 4-1 4 1 4-2 4-2 4-2 4-3 4-4 4-2 4-2 4-3 4-1 4-1 4-2 4-3 4-2 4-1 4-2 4 0 4 4 4-4 4-2 4-5 4-1 4-4 4 3 4-4 4-4 4 1 4-3 4 1 4 1 4 1 4 1 4 3 4-1 4-3 4 4 4-1 4 1"/>
<path stroke="#009e73" stroke-width="4.0" d="M2046 1409l4-3 4 1 4-1 4 1 4-2 4 1 4 0 4-3 4-2 4 3 4-2 4 0 4 4 4 1 4-5 4-1 4-4 4-2 4 2 4-1 4 3 4 1 4 0 4-2 4 1 4 2 4-7 4-1 4-3 4-2 4-1 4-2 4 0 4-4 4-11 4 1 4 0 4-1 4 0 4-4 4 1 4-1 4 1 4 1 4-1 4-7 4-4 4-5 4-3 4 1 4-3 4-2 4 0 4 0 4 1 4-4 4 1 4-2 4 1 4-3 4-4 4-4 4-5 4-3 4 1 4-2 4-1 4-4 4-1 4-1 4-3 4 0 4 1 4-1 4 4 4-1 4 2 4-2 4-2 4 0 4-4 4-2 4-1 4-4 4-2 4-2 4-2 4-3 4-1 4-1 4-1 4-1 4-1 4-3 4 0 4-1 4 1 4 1 4-1 4 0 4-2 4 0 4 0 4-7 4 0 4-2 4 1 4-1 4 1 4-1 4-4 4 0 4-2 4 1 4-2 4 2 4 0 4-2 4-1 4 0 4 0 4-2 4-1 4 2 4-1 4-4 4 3M2558 1232l4 4 4 0 4-1 4-1 4 1 4 1 4-5 4-6 4-1 4 0 4-1 4 0 4-1 4-2 4 5 4 1 4-2 4-3 4-5 4-8 4-2 4-2 4 0 4-1 4 0 4-2 4 2 4-4 4 1 4-2 4-1 4 1 4-2 4-1 4-1 4-1 4-4 4-4 4 1 4 2 4 3 4-2 4-1 4-3 4-1 4-6 4 2 4-2 4 1 4 5 4-4 4-5 4-2 4 3 4-3 4-2 4-3 4 0 4-5 4 1 4 1 4 1 4-3 4-1 4 1 4-1 4 2 4-2 4-2 4-3 4-2 4-3 4-3 4-3 4-1 4-5 4-4 4 0 4-1 4-1 4-10 4-6 4 0 4-5 4 1 4 1 4-1 4 1 4 7 4-7 4-6 4-4 4-2 4-7 4 1 4 0 4-3 4 1 4 1 4-3 4-4 4-3 4-5 4-4 4-6 4 4 4-1 4-1 4-6 4-7 4-1 4-1 4 4 4 0 4 1 4-2 4-4 4 0 4-3 4-1 4-2 4-2 4-1 4 1 4-4 4 0 4-6 4-5 4 2 4-3 4-4 4 1 4-1 4 1 4 0 4-2 4-4 4-4 4 0 4 0 4 0 4-6 4-2 4-4 4 1 4-13 4-1 4-3 4 4 4 0 4-2 4-3 4 1 4-4 4-1 4 1 4-3 4-4 4 2 4 1 4-2 4-1 4 2 4 1 4-3 4-1 4-3 4-6 4-1 4-6 4 0 4-6 4 1 4-2 4-6 4 0 4-3 4 1 4 0 4-1 4-2 4 0 4-9 4-4 4 5 4-3 4 0 4 0 4-1 4 1 4-1 4-6 4-1 4-9 4-3 4 1 4-2 4-4 4 1 4-3 4 1 4-4 4 0 4 0 4-4 4-3 4-3 4 3 4-3 4-1 4 8 4-1 4-5 4-3 4-5 4 0 4-1 4 1 4-2 4-7 4-4 4 0 4 0 4-4 4 0 4-3 4-2 4-5 4-5 4 3 4-2 4-1 4 0 4 4 4-5 4-3 4 0 4-5 4-3 4-3 4 4 4-2 4 0 4-2 4 1 4-1 4 0 4-5 4-1 4 0 4 0 4 0 4-4 4 0 4 2M3582 807l4-1 4-1 4 2 4-3 4 1 4 2 4 1 4-1 4 0 4-2"/>
<path stroke="#000000" stroke-width="5.0" d="M2390 1222l4-1 4-3 4-1 4-3 4 2 4-3 4 1 4-1 4-1 4-3 4 4 4-4 4-5 4 4 4 1 4-1 4-2 4-8 4 5 4-2"/>
<path stroke="#e51e10" stroke-width="5.0" d="M3146 1021l4-5 4 4 4-1 4 2 4-2 4-1 4-3 4 1 4-3 4-6 4 5 4 1 4-2 4-1 4-2 4 3 4-2 4 1 4-2 4-2 4-2 4-6 4-4 4-3 4-2 4 0 4-8 4-2 4-1 4-6 4 2 4 2 4 0 4-3 4 0 4-6 4-4 4 0 4-1 4 2 4-1 4-3 4 1 4 2 4-5 4-6 4-5 4-2 4-3 4 0 4-1 4-1 4-2 4 0 4-4 4-1 4 1 4 0 4-6 4-3 4-1 4-3 4 1 4 10 4-4 4-2 4-9 4 0 4 1 4 0 4-4 4-2 4-5M3442 924l4-2 4 2 4-3 4 0 4-7 4 1 4-2 4-4 4 1 4-3 4-1 4 4 4-6 4-1 4-2 4 0 4-4 4-4 4 1 4 1 4 0 4 0 4-4 4 2 4-5 4 3 4-2 4-2 4 1 4 1 4-3 4-2 4 0 4-2M3582 861l4-4 4-5 4 2 4 0 4 3 4 1 4-4 4 3 4-1 4 2 4 14 4 2 4 3 4-3 4-4 4 0 4 0 4-3 4 0 4 1 4-3 4-3 4 3 4-4 4 3 4 1 4-1 4-7 4-5 4-1 4 2 4-1 4-3 4 1 4 1 4-8 4-1 4-1 4-3 4 2 4 0 4-1 4 2 4-7 4-8 4 1 4 4 4-3 4 1 4 2 4-4 4-1 4-2 4-4 4 1 4-1 4-5 4 1 4 0 4 0 4 0 4 3 4-1 4-4 4-5 4-2 4-2 4 3 4-2 4-5 4 0 4 1 4-6 4 3 4 0 4-4 4-4 4-1 4 1 4-1 4 2 4-2 4-3 4-6 4 0 4-2 4-3 4-1 4 0 4-1 4-5 4 1 4-4 4-2 4 0 4-1 4 7 4-5 4-2 4 7 4-4 4-2 4-1 4 1 4 0 4 1 4-4 4 2 4 0 4-1 4 2 4 3 4 3 4-5 4 3 4 2 4 0"/>
<path stroke="#e69f00" stroke-width="4.0" d="M1222 1668l4 5 4-1 4-3 4-1 4-2 4 0 4-7 4-1 4 3 4-4 4 0 4-1 4-5 4-2 4-14 4 1 4 4 4-2 4 1 4 6 4-2 4-2 4-2 4-3 4 0 4 1 4-5 4 3 4-4 4 3 4 3 4-1 4 1 4-1 4 1 4 1 4-2 4-2 4 3 4 3 4-5 4 0 4-2 4-2 4 1 4 1 4-1 4-2 4-4 4-4 4-5 4-2 4 1 4 1 4-2 4 1 4-1 4-6 4-5 4 1 4 3 4-3 4-3 4 1 4-3 4 1 4-1 4-1 4 1 4-1 4 1 4-5 4 4 4 1 4 1 4-1 4-1 4-2 4-2 4 0 4-2 4-1 4-2 4-1 4-4 4-1 4-2 4-3 4 4 4-2 4 2 4 0 4-3 4 4 4-6 4-8 4 0 4-4 4-3 4 3 4 0 4-2 4 0 4-3 4-1 4-2 4 3 4 0 4-3 4-2 4-4 4 0 4-3 4-4 4-5 4-3 4-2 4-2 4-2 4-4 4 2 4-4 4-2 4-3 4-4 4-3 4 1 4 0 4 2 4 5 4 2 4-3 4-1 4-5 4 5 4-5 4-3 4-2 4 4 4-5 4 0 4-3 4-1 4-4 4 1 4-1 4 0 4 0 4-3 4-3 4 4 4 11 4 2 4-5 4-4 4 1 4 1 4-4 4-3 4-2 4 0 4 0 4 1 4 6 4-5 4 1 4 3 4 0 4-2 4 1 4 0 4-1 4-1 4-4 4 1 4-3 4-3 4-3 4-2 4-3 4 0 4-1 4 3 4-3 4 0 4 2 4 0 4 2 4-4 4-2 4-1 4-1 4-3 4-1 4-3 4-1 4-5 4-4 4 3 4 0 4-2 4 1 4-2 4-2 4-9 4-3 4 1 4 0 4-4 4 1 4-2 4 1 4 1 4-1 4 1 4-2 4 6 4-4 4 2 4-1 4-2 4-3 4-1 4 1 4-4 4-2 4 5 4 0 4 0 4 2 4-1 4-1 4-4 4-2 4-2 4-3 4-1 4 0 4-4 4-2 4-10 4 2 4-1 4 0 4-2 4-3 4 0 4-1 4 2 4 1 4-2 4-12 4 1 4-3 4-2 4-2 4 0 4-5 4 3 4-3 4-2 4-1 4 2 4-1 4-5 4 3 4-12 4-3 4-2 4-4 4-4 4-3 4-1 4-2 4 1 4-3 4-3 4-1 4 5 4 2 4 0 4 2 4-2 4-3 4-2 4 0 4-5 4 3 4-6 4-4 4-3 4 2 4-4 4-2 4-2 4-3 4 1 4-4 4 4 4-5 4 0 4 0 4-1 4 3 4 0 4 1 4-3 4-2 4 3 4-5 4-1 4-3 4 2 4-2 4 2 4-4 4 1 4-2 4-5 4 4 4-3 4-1 4 1 4-1 4 4 4-6 4-2 4-2 4 1 4 0 4-1 4-2 4 2M2558 1262l4 3 4 1 4-2 4 0 4 4 4 1 4-9 4-3 4-4 4 2 4 1 4-4 4-2 4 1 4 4 4 2 4-1 4-7 4-3 4-3 4-3 4-1 4-2 4-2 4 0 4-2 4-1 4 0 4-4 4-2 4 1 4 2 4 0 4 1 4-3 4-4 4-3 4 0 4-3 4 6 4-2 4 0 4 0 4-4 4-5 4 0 4 0 4 0 4 4 4 0"/>
<path stroke="#f0e442" stroke-width="3.6" d="M582 1731l4 3 4-3 4 0 4-1 4 1 4 0 4-2 4 1 4-2 4-3 4 3 4-3 4 0 4-1 4-6 4-6 4 0 4 2 4-1 4-2 4 3 4-2 4 1 4-2 4-3 4 4 4-2 4 1 4 0 4-3 4 2 4 2 4-1 4 1 4 0 4-1 4-2 4 1 4 3 4-5 4 1 4-3 4-2 4-3 4-4 4-1 4-2 4-1 4 0 4 0 4 0 4 2 4-3 4-4 4 1 4 4 4-3 4 0 4 0 4-3 4-1 4-4 4-4 4 0 4 1 4 0 4 0 4-1 4-1 4-1 4 0 4-3 4 2 4-2 4-2 4-2 4 0 4 0 4 2M902 1688l4 9 4-1 4-2 4-2 4 0 4-1 4-2 4-2 4-1 4 1 4-4 4 1 4 1 4-1 4 0 4-1 4 0 4-2 4 3 4-6 4 0 4 3 4-1 4 0 4 1 4 1 4-4 4-12 4 4 4-1 4 6 4-2 4 0 4-2 4 0 4-3 4 0 4 0 4 0 4 0 4 0 4 2 4-3 4-2 4-1 4-1 4 1 4-2 4 1 4 0 4 2 4-4 4 1 4-2 4-5 4-3 4-1 4-4 4-1 4-5 4-2 4 3 4 1 4-2 4-2 4 1 4-1 4-2 4-3 4 1 4-3 4 0 4-1 4-4 4-2 4 5 4-2 4 1 4-2 4 4 4-3 4-1 4-1 4-1 4-1 4-3 4-2 4-3 4 2 4-4 4 1 4-5 4-1 4 0 4-14 4-1 4 1 4-2 4 0 4 6 4 1 4-4 4 1 4-3 4 2 4-1 4-8 4 2 4-2 4 5 4 0 4 0 4-5 4 3 4-2 4 0 4 3 4 0 4-1 4-2 4-1 4 1 4-3 4 1 4-3 4 2 4-3 4-4 4 1 4-6 4-8 4 3 4-1 4 3 4-2 4-2 4 1 4-4 4-1 4-3 4-4 4-1 4-4 4 1 4 0 4-2 4 2 4-2 4-2 4 1 4 0 4-2 4 3 4 0 4 1 4-3 4 0 4 1 4-2 4 0 4-3 4-1 4-5 4-1 4-3 4 2 4-2 4-2 4-1 4 0 4 0 4-1 4-3 4 2 4-4 4-8 4-1 4-2 4 1 4-1 4-1 4 0 4-5 4 0 4 0 4-2 4 0 4 0 4-2 4 1 4-6 4 0 4-3 4-3 4-3 4-5 4-3 4-4 4 1 4-8 4-1 4-1 4-2 4-1 4-3 4-6 4 1 4 1 4 2 4 7 4-2 4-1 4-3 4 0 4-1 4 1 4-6 4 1 4 0 4-5 4 1 4-2 4-3 4 0 4-1 4-2 4 0 4-1 4-1 4-1 4 0 4 12 4-3 4-1 4-2 4-3 4-1 4 1 4-4 4 1 4-2 4 1 4 1 4 0 4 2 4-1 4 3 4 0 4 1 4-1 4-2 4 0 4-2 4-3 4 2 4-6 4-4 4 1 4-7 4-1 4-3 4 2 4 2 4 2 4-3 4 1 4 0 4-3 4 1 4-3 4 0 4 0 4-3 4-1 4 0 4-2 4-8 4-3 4 0 4 2 4-2 4-1 4 0 4 0 4-10 4 0 4-2 4 2 4-1 4-2 4-1 4 1 4 0 4 0 4-2 4 0 4 0 4-2 4 1 4 4 4-5 4-2 4 2 4-1 4-3 4 5 4-5 4-1 4 0 4 7 4-4 4-1 4-3 4-3 4-2 4-1 4 1 4-3 4-1 4-5 4-11 4-1 4 0 4 2 4 0 4-5 4 1 4-2 4 3 4-3 4 2 4-9 4-5 4-2 4-2 4-2 4-2 4-2 4 1 4 0 4-3 4 1 4 1 4-1 4-3 4-2 4-8 4-6 4-4 4-2 4-2 4-5 4 1 4-4 4 0 4-3 4-2 4 1 4 1 4 2 4-1 4 0 4 4 4-6 4-3 4 1 4-2 4-2 4-3 4-4 4-3 4 0 4-2 4 1 4-1 4-2 4-2 4-3 4 0 4 2 4-3 4-2 4-1 4 3 4-1 4-3 4-1 4 0 4-1 4-1 4-2 4-2 4 1 4 0 4 0 4-1 4 0 4-4 4-2 4 1 4-1 4-2 4-1 4 2 4-1 4-3 4-1 4 2 4 0 4-2 4-1 4-3 4 1M2558 1203l4 7 4-2 4-1 4-4 4 3 4-1 4-4 4-5 4 2 4 0 4-3 4 2 4-1 4-1 4 2 4 3 4-1 4-6 4-5 4-6 4-4 4 0 4 0 4-1 4-2 4-1 4-2 4-3 4 2 4-4 4 5 4-2 4-2 4 0 4-2 4 1 4-9 4-1 4 0 4 5 4-1 4 0 4-4 4 3 4-6 4-2 4-1 4-3 4 2 4 2 4-1 4-2 4-2 4-3 4-2 4-3 4-4 4 1 4-1 4-1 4 3 4 0 4-2 4 2 4-2 4 0 4-3 4 4 4-6 4 1 4-6 4-4 4 1 4-3 4 0 4-6 4-6 4 3 4-1 4-3 4-4M2886 1087l4 3 4 0 4 2 4-1 4-2 4 5 4 2 4-4 4-6 4-6 4-1 4-4 4-4 4 1 4 0 4-1 4-2 4 3 4-7 4-3 4-3 4-8 4-2 4 1 4 0 4-4"/>
<path stroke="#000000" stroke-width="3.6" d="M214 1844l4-6 4-1 4 4 4 0 4-1 4 0 4 3 4-4 4 1 4-2 4 2 4 0 4 2 4 1 4-6 4-3 4-1 4 2 4-4 4-3 4 3 4-2 4 1 4 2 4-6 4 1 4-6 4-1 4-5 4 1 4 1 4 4 4-6 4-3 4 2 4-2 4-4 4-1 4 2 4 0 4-3 4 4 4 3 4 0 4-1 4 2 4-9 4-2 4 2 4-7 4 1 4-3 4 2 4 1 4-3 4 3 4-2 4 0 4 1 4-1 4-1 4 1 4-2 4-2 4-2 4 1 4 0 4 0 4-5 4 2 4-4 4 1 4-5 4-6 4 0 4 4 4-2 4 1 4-2 4 4 4-5 4 3 4-7 4-4 4 0 4 1 4 4 4-3 4-2 4-1"/>
<path stroke="#9400d3" stroke-width="3.6" d="M1334 1638l4 3 4 1 4 2 4 1 4-2 4-2 4-2 4 1 4 0 4 0 4 1 4 0 4 0 4 1 4-3 4-2 4 0 4 0 4-2 4-3 4-1 4-6 4-6 4 4 4-1 4 0 4-2 4 0 4-1 4-2 4-2 4-3 4 0 4-3 4-3 4 0 4 1 4-2 4 2 4-3 4-2 4 1 4 2 4-5 4-1 4 5 4-2 4 2 4 1 4-4 4 0 4 1 4-3 4-2 4-1 4-1 4-3 4 1 4-3 4-1 4-2 4-1 4 2 4-1 4-3 4 2 4-3 4-6 4-2 4-3 4-1 4 0 4 0 4-3 4 1 4-3 4-1 4-1 4 1 4 2 4-4 4-1 4-4 4 0 4-3 4-2 4-3 4-5 4-4 4-2 4-3 4-3 4 0 4-2 4-1 4-2 4-2 4-6 4 1 4 2 4 0 4 7 4-2 4-2 4-1 4-1 4 0 4-3 4-1 4-4 4 2 4-1 4-2 4-3 4 2 4-4 4-2 4 1 4-4 4 0 4-2 4 3 4 0 4 9 4-1 4-2 4-2 4-1 4 1 4-5 4 2 4-3 4-1 4 1 4 0 4 3 4-4 4 4 4 0 4 2 4 1 4-3 4 0 4 0 4-4 4 1 4 0 4-5M1930 1484l4 0 4-5 4-4 4 1 4 2 4 0 4 0 4 1 4 0 4 1 4-1 4-4 4-1 4 2 4-3 4-1 4-3 4-2 4-1 4-8 4-1 4 1 4 0 4 0 4-1 4-2 4 1 4-9 4-3 4-1 4 1 4-4 4-1 4 0 4-1 4 3 4-2 4 1 4 1 4 0 4-2 4 1 4 1 4-2 4-1 4-3 4-1 4 0 4 2 4-2 4 1 4 0 4 2 4 0 4-4 4-2 4-3 4-1 4-3 4-2 4-1 4 0 4-5 4-8 4-1 4 2 4-3 4 0 4-3 4 2 4 0 4-1 4-2 4-1 4-5 4-3 4-5 4-4 4 0 4-2 4 2 4-1 4 0 4-4 4 0 4-1 4 1 4-4 4 0 4-8 4-5 4-3 4-6 4-1 4-2 4 1 4-2 4-2 4-1 4-5 4 1 4 2 4 1 4-2 4 1 4 0 4-2 4 0 4-1 4-1 4-3 4 0 4-6 4-2 4-2 4-2 4-1 4-3 4 1 4-1 4-3 4 0 4 1 4-4 4 1 4-2 4 1 4-1 4-1 4-1 4-1 4 0 4-4 4-1 4 1 4 1 4-1 4-2 4-3 4 2 4-3 4 0 4 0 4-2 4-2 4 2 4-1 4-1 4-3 4 1 4-2 4-1 4 1 4 0 4-3 4 0M2558 1262l4 5 4 1 4 0 4-1 4 0 4 2 4-3 4-8 4-3 4-1 4-2 4-2 4 2 4 0 4 2 4 0 4-1 4-4 4-6 4-5 4-3 4 0 4-2 4 0 4-1 4-3 4-1 4-1 4-1 4 0 4 2 4 1 4-3 4 1 4-4 4 0 4-3 4-2 4 0 4-1 4 2 4 2 4-4 4-2 4-3 4-3 4-1 4 1 4 1 4 2 4-2 4-5 4 0 4-2 4 0 4-4 4-2 4 0 4-1 4-1 4 0 4-1 4 0 4-2 4 1 4 1 4 0 4-3 4 0 4 0 4-5 4-4 4-1 4-4 4 0 4-5 4-5 4 2 4-1 4-2 4-2 4-10 4-1 4 0 4-3 4 3 4-3 4 4 4 4 4-4 4-7 4-4 4-2 4-3 4-6 4 2 4-2 4 1 4 0 4-1 4-5 4-3 4-5 4-3 4-2 4-1 4-1 4-2"/>
<path stroke="#009e73" stroke-width="4.4" d="M1166 1595l4-2 4-3 4 0 4 0 4 1 4-1 4-4 4 0 4-6 4 4 4-3 4 0 4 4 4 0 4 1 4-6 4-1 4 2 4 1 4-2 4-5 4-4 4-1 4 0 4 0 4-1 4-4 4-2M1282 1547l4 0 4 0 4 4 4-1 4 5 4 1 4-3 4-2 4 1 4-3 4-4 4-6 4 0 4 3 4 3 4-1 4 2 4-2 4-1 4-6 4 3 4 0 4 2 4 2 4-1 4-5 4 1 4 2 4-6 4 2 4-4 4 1 4 0 4-4 4-7 4-4 4-1 4 0 4 2 4-4 4-1 4 2 4-3 4-1 4-3 4-4 4-1 4-5 4 5 4-2 4-2 4 0 4-1 4-1 4 1 4-4 4-2 4 0 4 1 4 1 4 2 4 1 4 0 4-1 4-8 4 2 4-1 4 0 4-6 4-3 4 2 4-6 4 1 4-1 4-2 4 1 4-5 4 1 4 2 4-5 4-7 4-4 4 2 4 0 4-3 4 0 4-3 4 3 4-2 4-2 4-2 4-1 4 0 4-2 4 1 4-3 4-4 4-5 4 2 4-6 4-2 4-6 4-3 4-1 4-3 4-4 4-5 4 1 4 4 4-7 4-3 4-2 4-2 4 8 4 7 4 1 4-9 4 0 4 0 4-3 4 1 4-5 4-1 4 0 4-7 4 3 4-1 4-1 4-1 4-4 4-2 4 1 4-2 4 1 4-5 4-2M1830 1395l4 0 4-1 4-4 4 1 4-6 4 0 4 4 4-6 4 2 4-4 4 3 4 0 4 0 4 3 4 1 4 1 4 1 4 0 4-2 4-3 4-4 4 1 4 0 4-3 4-3 4-2 4-4 4-3 4 0 4 1 4 0 4 1 4-2 4 1 4 1 4-1 4-2 4-3 4 0 4 0 4-3 4 0 4-4 4-3 4-5 4-5 4-2 4 2 4 1 4 1 4-3 4-2 4-8 4-4 4-4 4 4 4-6 4-1 4 1 4 1 4 3 4-3 4-2 4 1 4-1 4 1 4 2 4 0 4-3 4-4 4 0 4-2 4-2 4 2 4-1 4 1 4 4 4-4 4 5 4-7 4-2 4 0 4-2 4-4 4 3 4-4 4-1"/>
<path stroke="#f0e442" stroke-width="4.0" d="M3146 928l4 0 4 0 4 0 4-4 4 0 4-2 4 4 4-8 4 0 4-3 4 0 4-3 4 1 4 1 4 5 4-2 4-2 4-1 4 0 4-1 4-2 4-11 4-2 4-3 4-8 4 1 4 2 4-5 4-1 4 0 4-5 4 2 4-3 4-1 4 2 4-7 4 0 4-3 4-5 4 4 4 1 4-1 4-2 4 1 4-4 4-5 4-6 4-1 4-4 4 0 4-3 4-1 4 1 4-2 4-3 4 0 4-5 4-3 4-5 4 1 4 4 4-4 4-3M3402 840l4-7 4-1 4-5 4-5 4-1 4 2 4-2 4-4 4-9 4-1 4 2 4-2 4 0 4-4 4-6 4-2 4 3 4-9 4 0 4 0 4-1 4 3 4-1 4-3 4-3 4-1 4-1 4-5 4-1 4 3 4-2 4-4 4-2 4 1 4-2 4 1 4-3 4 4 4-3 4-4 4 1 4 1 4-3 4-4"/>
<path stroke="#e51e10" stroke-width="4.4" d="M3146 1008l4 0 4 3 4-2 4-2 4 0 4-2 4-1 4-1 4 0 4-3 4 2 4-2 4-2 4 2 4-1 4 1 4 0 4-6 4 0 4 0 4-4 4-4 4-4"/>
<path stroke="#e51e10" stroke-width="4.4" d="M2994 1096l4-3 4-3 4-2 4 3 4 6 4-3 4-5 4-2 4-2 4 0 4-5 4 4 4-5 4-4 4-3 4 2 4 2 4-8 4-7 4 2 4-2 4-1 4 0 4-4 4 5 4-2 4-3 4-1 4-6 4 1 4 3 4-1 4-6 4-3 4 0 4-4 4-10 4-1 4-3 4 0 4-2 4-1 4 0 4 0 4-3 4-1 4 5 4-8 4 0 4 1 4-4 4 0 4 2 4-1 4 3 4-2 4-4 4-2 4-2 4-2 4-6 4-5 4-3 4-1 4-3 4-3 4-1 4 1 4-3 4 0 4-6 4 4 4-2 4-8 4 2 4-2 4-2 4 4 4-5 4-1 4 0 4 1 4-5 4-11 4-7 4 0 4-6 4 3 4-7 4 2 4-2 4-2 4-3 4-1 4 1 4-1 4-6 4-2 4 1 4-2 4-2 4 12 4-6 4-3 4-6 4 0 4-1 4 1 4-5 4-1 4-7 4 1 4-3 4 3 4-5 4-1 4-2 4-9 4 5 4-6 4 0 4-4 4 1 4 1 4 1 4-4 4 0 4-6 4-4 4-2 4-1 4 5 4-5 4-2 4 1 4 5 4-4 4-5 4 0 4 3 4-4 4 0 4-3 4 3 4-4 4 9M3582 846l4 0 4 0 4-1 4 4 4-2 4 3 4-2 4 3 4-4 4-1M3626 867l4 2 4 2 4-1 4-2 4 2 4-5 4 2 4-4 4 0 4-1 4 3 4-4 4-3 4 4 4-1 4-1 4-6 4-3 4-1 4 1 4-4 4-1 4 0 4 2 4-8 4-5 4 3 4-1 4-4 4 3 4 4 4-6 4-3 4-2 4-5 4 0 4-3 4 1 4 3 4-3 4 0 4 2 4-5 4 1 4-7 4-1 4-2 4 2 4-3 4 3 4 6 4-5 4-4 4-1 4-1 4 0 4-5 4 0 4-1 4-5 4 0 4 1 4-2 4 1 4-2 4-10 4 5 4 1 4 1 4-4 4 0 4-3 4-2 4-3 4-2 4-5 4-3 4 2 4-4 4 1 4 1 4-4 4-2 4 0 4 1 4 3 4-5 4-4 4-2 4 0 4-6 4-1 4-1 4-2 4 4 4-3 4-2 4 4 4-1 4 1 4 0 4 2 4-1 4 1 4 1 4-3"/>
<path stroke="#000000" stroke-width="3.6" d="M3302 1026l4 0 4-1 4 0 4-1 4-1 4-3 4-7"/>
<path stroke="#f0e442" stroke-width="4.0" d="M1418 1569l4-6 4-9 4 3 4-1 4 1 4-1 4 0 4-1 4-5 4 0 4-4 4-3 4 0 4-1 4-1 4-1 4 0 4-2 4-2 4 0 4 1 4-2 4 0 4 0 4-1 4 1 4-1 4 6 4-4 4-4 4 3 4-2 4-2 4 0 4-2 4-5 4-4 4-2 4 2 4 0 4 0 4 1 4-5 4-1 4 0 4-3 4-6 4-3 4-3 4 0 4 0 4 1 4-1 4-2 4-3 4-1 4 0 4 2 4 2 4-5 4-2 4-3 4-5 4-1 4-3 4-5 4 2 4-4 4-5 4 0 4-5 4-3 4-3 4-2 4 1 4-4 4-6 4-2 4 2 4 9 4 0 4-1 4-2 4-3 4-2 4 2 4 0 4-3 4-3 4 0 4-1 4-2 4 0 4-1 4-3 4-4 4 0 4 0 4-4 4 1 4-2 4 5M1830 1448l4-1 4-3 4-4 4 1 4 0 4 0 4-3 4-3 4 0 4-2 4 3 4 0 4-1 4 4 4 2 4-1 4 0 4-1 4 0 4 0 4-3 4-2 4 4 4-6 4-5 4-1 4-6 4-4 4 2 4-1 4 3 4-1 4 1 4-2 4 2 4 2 4-7 4-1 4 2 4-1 4-3 4-1 4 0 4-5 4-5 4-5 4 0 4 1 4 0 4-3 4 2 4-4 4-5 4-4 4-1 4 2 4-2 4 1 4-5 4 2 4-2 4 0 4 0 4 3 4-3 4 2 4-2 4 2 4-2 4 1 4-6 4-2 4 1 4 1 4 0 4-2 4 1 4 0 4 3 4-3 4-5 4-2 4-1 4-1 4 0 4-2 4 0 4-7 4-7 4-1 4 2 4-1 4-5 4-1 4 0 4 1 4 0 4-2 4 1 4-5 4-5 4-3 4-5 4-1 4 1 4-5 4 3 4-1 4-3 4 1 4-3 4-1 4 1 4 0 4-9 4-8 4-2 4-6 4-1 4-3 4 0 4-3 4-1 4-3 4 1 4 0 4 4 4 1 4-3 4 1 4-3 4-3 4 2 4-2 4-1 4-2 4-4 4-3 4-3 4-3 4 0 4-3 4-2 4-2 4 4 4-3 4 1 4-3 4-1 4-2 4 0 4-1 4 0 4-1 4-1 4 0 4 0 4-7 4 2 4 4 4-3 4-3 4 2 4 0 4-4 4-2 4 1 4-1 4-3 4 1 4-1 4 1 4-1 4 0 4-2 4-3 4 2 4-1 4-2 4-3 4 0M2558 1194l4 4 4 1 4 1 4-2 4 3 4-4 4-2 4-4 4-3 4-1 4-1 4 3 4-1 4-1 4 3 4 0 4-1 4-3 4-7 4-5 4-1 4-4 4 2 4-4 4 1 4-5 4-1 4 2 4-3 4 0 4 2 4-1 4-3 4 1 4-2 4-3 4-3 4-1 4-2 4 5 4-1 4-1 4-4 4 2 4-4 4-1 4-3 4 2 4 1 4 1 4-1 4-3 4-3 4 1 4-4 4-4 4-2 4-1 4 1 4-3 4 2 4 0 4-3 4 0 4-2 4 5 4-4 4 0 4-3 4-3 4-2 4-1 4-1 4-4 4-1 4-8 4-3 4 1 4-1 4-4 4 1 4-11 4 1 4-4 4 0 4 2 4-3 4 5 4 3 4-6 4-8 4-4 4 0 4-4 4-3 4 2 4-4 4-4 4 4 4 2 4-8 4-5 4-2 4-7 4 0 4 2 4-1 4-4 4-4 4-4 4-3 4-3 4 4 4 2 4-2 4-1 4-1 4-5 4-1 4-1 4 0 4-3 4-4 4 0 4-1 4 2 4-7 4-7 4-1 4 3 4-5 4-2 4 1 4 0 4 0 4-3 4-4 4 1 4-2 4-2 4 2 4-8 4 0 4-3 4-1 4-12 4-2 4-1 4 0 4 1 4-1 4-1 4-1 4-3 4-2 4 1 4-6 4 3 4-1 4-3 4 1 4 2 4 0 4-1 4-4 4-1 4 1 4-3 4-4 4-7 4-1 4-5 4-1 4-1 4-5 4-4 4-1 4 0 4 1 4 0 4-3 4 0 4-12 4 6 4-1 4-4 4-1 4 0 4 2 4-1 4 0 4-5 4-5 4-7 4-1 4-1 4 0 4-6 4 1 4-1 4-4 4-3 4 4 4-3 4-3 4-4 4 1 4 1 4-3 4-3 4 11 4-3 4-5 4-4 4-5 4-2 4 3 4-1 4-4 4-7 4-2 4 1 4-1 4-1 4-3 4-1 4-4 4-2 4-6 4 1 4 0 4 1 4 1 4-3 4-3 4 0 4-4 4-4 4-2 4-2 4 2 4-1 4-2 4-3 4 3 4 0 4-3 4 0 4-1 4-1 4-1 4 2 4-4 4 0 4-1M3582 773l4 0 4-5 4 2 4 3 4-4 4 2 4-1 4-1 4 5 4-1 4 8 4 3 4 1 4-1 4-3 4 1 4 0 4-3 4-2 4-2 4 1 4-1 4 1 4-6 4 1 4 1 4 2 4-9 4-3 4 0 4-1 4-1 4-1 4 1 4-1 4-6 4-3 4 1 4 0 4-1 4-3 4 2 4-3 4-2 4-10 4-1 4 4 4-2 4 0 4-2 4-1 4 1 4-2 4-4 4 4 4-3 4-4 4-3 4 3 4-3 4 2 4 0 4 1 4-2 4-5 4-4 4-1 4 0 4 1 4-1 4-3 4-4 4-3 4 4 4 0 4-4 4-4 4 1 4-2 4 1 4-1 4-3 4 1 4-6 4-5 4 0 4-3 4 0 4-4 4-2 4 2 4-3 4 0 4-2 4-2 4 3 4-1 4 0 4-4 4-2 4-5 4-1 4-4 4-2 4 0 4-1 4 1 4-3 4 3 4 1 4-1 4 2 4 3 4-1 4 0 4-2 4 3"/>
<path stroke="#e69f00" stroke-width="4.4" d="M214 1807l4-2 4 0 4 0 4 2 4 1 4-4 4 1 4-1 4 3 4-1 4-2 4-1 4 2 4 0 4-4 4-1 4 0 4-4 4-3 4 3 4-2 4 1 4 1 4 1 4-4 4-4 4-1 4-5 4-3 4 1 4 2 4 0 4-1 4-4 4-1 4-3 4-5 4 2 4 2 4-1 4-1 4 0 4 4 4 5 4-2 4-3 4-5 4-3 4 0 4-3 4 0 4-1 4-3 4 0 4 3 4-3 4 0 4 2 4-1 4-4 4 2 4 1 4-2 4-2 4 1 4-1 4 0 4-1 4 0 4-3 4-2 4-2 4-6 4-6 4 1 4 3 4 2 4-1 4 1 4 0 4-3 4 0 4-3 4-4 4 3 4 0 4-1 4-1 4-4 4-3 4-5 4-5 4 0 4-2 4 1 4 1 4 2 4-2 4-1 4-1 4-2 4 0 4 1 4-2 4 0 4 0 4-5 4-7 4 1 4-2 4 1 4 0 4 1 4-1 4 2 4-4 4-2 4 0 4 0 4 0 4 1 4 0 4 0 4 3 4-2 4-3 4 1 4-1 4 2 4 2 4-1 4-2 4-1 4-4 4-3 4 0 4-6 4-2 4 0 4-3 4 2 4 1 4 2 4-3 4-2 4-4"/>
<path stroke="#009e73" stroke-width="4.6" d="M642 1646l4-6 4 2 4-1 4 0 4 0 4 0 4-1 4 0 4-1 4-2 4 0 4 1 4 1 4-2 4 0 4 0M722 1637l4 0 4 1 4-2 4 1 4-1 4-1 4-3 4-1 4-4 4-2 4-3 4-3 4-1 4 2 4 1 4-1 4-1 4-2 4-2 4 4 4 2 4-3 4 0 4-1 4-3 4-3 4-2 4-5 4 0 4 1 4 0 4 2 4-2 4-1 4-1 4 0 4-2 4 0 4-1 4-3 4 0 4 0 4 0 4-1M902 1619l4 6 4-1 4-1 4-2 4-2 4 2 4-4 4 0 4-3 4 3 4-2 4-1 4-1M962 1611l4 0 4 1 4-2 4 2 4-2 4-3 4 2 4 2 4 0 4-3 4 2 4-4 4-9 4 3 4-1 4 3 4 2 4-3 4-1 4-2 4-1 4 1 4 0 4-1 4 0 4-2 4-1M1078 1592l4 0 4-1 4-1 4 0 4 0"/>
<path stroke="#f0e442" stroke-width="4.4" d="M762 1697l4 1 4-4 4 0 4 2 4 0 4 1 4 0 4-6 4 0 4 2 4 3 4-3 4 0 4-4 4-1 4 1 4-5 4-3 4-2 4 1 4 0 4 2 4-3 4 1 4 2 4-4 4 2 4-2 4-2 4-3 4 1 4-3 4 1 4-3M902 1689l4 10 4-5 4-1 4 1 4-1 4-4 4 2 4 2 4-3 4-2 4-2 4 1 4 0 4 1 4-4 4-2 4 4 4 0 4-2 4-3 4-1 4 3 4-1 4 3 4-1 4-1 4-1M1014 1666l4 2 4-1 4 0 4 2 4-3 4 4 4 1 4-3 4 1 4-1 4-3 4-5 4 1 4 4 4-1 4-3 4-1 4 0 4 0 4-1 4-1 4 2 4 2 4-7 4 4 4-2 4-7 4-7 4 0 4 0 4-1 4-4 4-3 4 3 4-1 4 0 4-2 4 2 4-5 4 2 4-6 4 1 4 1 4-5 4 0 4 1 4-4 4 1 4 2 4 2 4-3 4 5 4 0 4 1 4-8 4 4 4-1 4-7 4 3 4-4 4 3 4-5 4-2 4-1 4-4 4-6"/>
<path stroke="#9400d3" stroke-width="3.6" d="M3146 963l4-2 4 4 4-2 4 3 4-5 4-3 4 0 4-1 4-3 4 0 4 1 4-3 4 0 4-1 4 1 4 1 4-2 4 3 4-6 4-3 4-2 4-5 4-5 4 0 4-4 4-3 4-4 4 0 4-2 4-1 4-3 4 2 4 0 4-3 4 1 4-7 4-3 4-1 4 1 4-2 4-2 4 4 4 1 4-4 4-1 4-9 4-6 4-2 4 0 4-3 4-5 4 5 4-3 4-4 4-2 4 2 4-1 4 0 4-7 4 0 4-3 4-1 4-1 4 11 4-6 4-1 4-9 4-2 4 3 4 1 4-4 4-4 4-2 4-4 4-4 4 1 4 1 4-5 4-4 4 0 4-3 4-1 4-6 4 1 4 4 4 0 4-1 4-2 4-7 4-1 4-3 4-4 4 1 4 2 4-4 4 0 4 0 4 1 4-2 4 0 4 0 4 0 4-4 4-5 4 4 4-3 4-1 4 2M3582 774l4 1 4-1 4 0 4 1 4 2 4 0 4-1 4-2 4 0 4-3 4 12 4 6 4-1 4-3 4-5 4 4 4-2 4 0 4-3 4 0 4-2 4 0 4-2 4 1 4-2 4-1 4-1 4-6 4-2 4-2 4 1 4-2 4 2 4-4 4 4 4-2 4-5 4 2 4-2 4 2 4-4 4 0 4 3 4-1 4-9 4-1 4-2 4-3 4 4 4-1 4-1 4-2 4 0 4-4 4 1 4-1 4-3 4-5 4 1 4 0 4 1 4 4 4 0 4-6 4-2 4-1 4-4 4-2 4 2 4-1 4 0 4-8 4-3 4 5 4-1 4-1 4-4 4-3 4 0 4 1 4 0 4-4 4-2 4-3 4-4 4-3 4 1 4-6 4-1 4-2 4 3 4-3 4-3 4 1 4-7 4 1 4 3 4 1 4-2 4-1 4-8 4-1 4 1 4-3 4-6 4 3 4 0 4-2 4 1 4 1 4 0 4 4 4 2 4-1 4-5 4 0 4 6"/>
<path stroke="#009e73" stroke-width="4.0" d="M3986 653l4-2 4 0 4 0 4 0 4-4 4 1 4 1 4-2 4 2 4-2 4 4 4-4 4 2 4 1 4-2 4 3"/>
<path stroke="#009e73" stroke-width="3.6" d="M1710 1434l4-5 4 3 4-6 4-5 4 5 4-3 4 8 4 5 4-3 4-4 4-4 4-2 4 4 4-3 4-2 4-3 4 1 4-1 4-3 4-2 4-1 4-1 4-2 4-1 4-3 4-1 4 1 4 0 4 1 4 11 4-4 4 1 4-6 4-1 4 1 4-2 4-1 4-5 4 4 4-4 4 4 4 1 4 3 4-1 4 3 4-3 4 0 4 0 4-3 4 4 4-2 4 0 4-2 4-3 4-2 4 1 4-9 4 1 4 1 4-3 4 2 4-1 4 0 4 4 4 2 4-8 4-1 4 2 4-6 4 6 4-3 4-5 4-2 4-4 4-4 4-5 4 1 4-2 4 3 4 0 4 0 4 0 4-10 4 0 4-2 4-2 4-3 4-1 4 1 4-4 4 2 4-3 4 1 4 1 4-3 4 8 4-2 4-3 4 3 4-6 4-1 4-1 4 2 4-1 4-1 4 4 4-4 4 0 4 1 4 3 4-6 4-3 4 0 4-2 4-6 4 3 4-2 4-6 4-9 4 1 4 1 4 0 4-4 4-3 4 2 4-3 4 1 4-2 4-2 4-4 4-5 4 0 4-6 4-1 4 1 4-3 4 1 4 0 4-3 4-1 4 0 4 0 4-2 4-2 4-10 4-9 4 0 4-4 4-4 4-2 4 0 4-4 4 0 4-2 4 2 4-5 4 3 4 1 4 0 4 1 4-2 4-6 4 2 4-2 4 1 4-1 4-1 4-6 4-5 4 0 4-3 4 0 4-2 4-3 4 0 4 2 4-1 4-3 4-2 4 2 4-3 4 0 4 1 4-1 4 1 4-3 4-3 4-3 4-3 4-1 4 1 4-1 4 2 4-3 4 1 4-4 4-4 4 6 4-3 4 2 4 0 4-1 4-2 4-4 4-3 4 1 4 0 4 4 4-6 4-2 4 5M2558 1164l4 2 4-1 4-1 4 0 4 0 4 0 4-3 4-7 4 0 4-3 4 0 4 5 4-3 4-1 4 1 4 2 4 0 4-5 4-9 4 0 4-4 4-5 4 0 4 1 4-6 4 1 4 0 4 0 4-4 4 1 4 2 4-2 4-3 4 4 4-5 4-2 4-4 4-3 4 2 4 6 4-1 4-2 4-1 4-2 4-5 4-2 4-4 4 5 4 0 4 0 4-7 4-3 4-2 4 1 4-5 4-2 4-6 4 0 4 1 4-1 4 5 4-1 4-2 4-6 4 1 4-1 4 1 4 4 4-6 4 0 4-5 4-5 4 0 4-4 4 0 4-4 4-6 4-3 4 2 4-1 4-3 4-7 4-7 4 3 4-2 4 2 4 1 4 2 4 6 4-8 4-7 4-3 4-4 4-4 4-1 4 1 4-5 4-1 4 3 4-1 4-4 4-7 4-1 4-5 4-2 4-2 4-1 4-1 4-6 4-9 4 1 4-3 4 5 4 6 4-1 4-5 4-3 4-2 4-3 4-2 4-1 4-1 4-6 4 2 4 2 4-4 4-6 4-6 4 1 4-1 4-1 4-2 4-1 4 2 4-4 4-2 4 0 4-5 4 1 4-2 4 4 4-8 4-3 4-7 4 6 4-14 4-3 4-3 4 4 4 0 4-1 4-5 4-2 4-1 4-1 4 1 4-3 4 2 4-3 4 0 4-3 4 3 4 2 4 0 4-1 4-2 4-6 4-3 4-1 4-7 4-6 4-1 4-3 4-1 4-1 4-6 4 0 4-1 4 0 4-2 4 3 4-1 4-6 4-3 4 1 4-8 4 4 4-3 4-1 4 3 4 1 4-2 4-9 4-9 4-1 4 2 4-4 4-3 4 3 4-2 4-5 4 0 4-2 4 0 4 0 4-7 4-1 4-3 4-2 4 0M3402 824l4-9 4-1 4-8 4-3 4 0 4-1 4-2 4-1 4-5 4-1 4-3 4 0 4-1 4 0 4-6 4 0 4-4 4-3 4-1 4-1 4-1 4 0 4-3 4-1 4 0 4 0 4-7 4 0 4-1 4-1 4-4 4 2 4 0 4 2 4-3 4-4 4 0 4-3 4 1 4-2 4 1 4-4 4-4 4 3M3582 720l4 2 4-2 4 0 4-4 4 3 4 2 4-5 4 4 4 0 4-1 4 12 4 2 4-1 4 3 4-9 4 2 4 1 4-1 4-3 4-2 4 0 4 0 4 2 4-4 4 3 4-1 4-4 4-9 4 0 4 0 4-4 4 5 4-2 4-5 4 0 4-4 4-5 4 3 4 0 4-2 4-5 4 4 4-2 4-3 4-6 4-1 4-1 4 1 4 3 4-2 4-4 4-4 4 0 4 0 4 2 4-6 4-3 4-1 4 1 4-4 4 6 4 4 4-6 4-1 4-3 4-7 4 4 4-2 4 2 4-7 4-2 4-1 4-2 4 4 4-1 4-6 4 0 4-2 4 2 4-4 4 4 4-7 4-1 4-6 4-1 4-3 4 1 4-4 4-1 4 0 4-5 4 0 4-3 4-1 4-2 4 1 4 4 4-6 4-1 4-5 4-4 4-1 4 1 4 2 4-7 4 0 4 2 4 1 4-3 4 4 4-1 4-1 4 1 4 2 4 0 4 4 4-6"/>
<path stroke="#000000" stroke-width="5.0" d="M1710 1443l4-1 4-1 4-3 4-6 4 2 4-1 4 5 4 6 4-3 4-1 4-1 4-5 4 3 4-3 4-3 4-2 4 1 4-1 4-1 4-1 4-5 4-1 4-1 4-2 4 0 4 0 4-1 4-2 4 0 4 13 4 0 4-4 4-2 4-1 4-1 4-1 4-3 4-1 4 0 4 1 4-2 4 2 4 1 4 1 4 1 4 2 4-2 4 1 4-3 4 4 4-4 4-3 4 1 4-5 4 0 4-3 4-5 4 0 4-2 4 2 4 0 4-1 4 4 4-2 4 0 4-1 4-2 4-3 4 3 4-4 4-2 4-1 4-2 4-2 4-6 4-2 4 0 4-2 4 0 4-1 4 0 4-1 4-9 4 0 4-1 4-2 4-4 4 2 4-1 4-1 4 0 4-2 4 2 4 0 4 0 4-1 4 2 4 0 4-2 4 0 4-3 4 0 4 0 4-3 4 1 4 3 4 1 4-3 4 1 4-2 4-4 4-1 4-1 4-4 4 1 4-2 4-2 4-5 4-8 4-1 4 0 4 1 4-3 4 1 4-2 4 0 4-1 4 0 4-1 4-4 4-6 4-5 4-3 4 0 4-2 4-2 4 0 4 1 4-2 4 0 4-2 4-2 4-1 4-2 4-7 4-6 4-4 4-4 4-1 4-2 4-2 4-1 4-3 4 1 4-3 4-1 4 1 4 1 4 2 4-1 4-2 4 0 4-2 4-1 4-1 4 0 4-2 4-6"/>
<path stroke="#f0e442" stroke-width="3.6" d="M1222 1607l4-1 4-7 4 1 4-1 4 1 4-7 4 0 4-3 4 2 4-2 4 1 4-5 4-3 4 1M1282 1563l4 2 4 0 4 0 4 0 4 7 4 0 4 0 4-4 4-2 4 1 4-3 4-8 4 0 4 4 4 2 4 2 4 5 4-6 4-3 4-2 4-2 4 3 4 3 4-1 4 1 4-5 4 1 4-1 4-1 4 1 4-4 4-2 4 1 4-4 4-4 4-8 4 4 4-1 4 2 4-3 4-4 4 4 4-4 4-2 4-3 4-5 4-2 4 0 4 3 4 0 4-3 4 2 4-4 4-3 4 3 4-2 4-2 4-5 4 6 4 3 4-1 4-2 4-1 4-3 4 0 4 1 4-4 4 1 4-2 4-5 4-1 4-1 4-4 4 0 4-3 4 1 4 2 4-2 4-2 4-3 4-8 4-2 4-5 4 4 4-2 4 3 4-1 4-6 4 2 4-1 4-3 4 1 4 4 4-6 4 1 4-2 4-4 4-5 4 0 4-9 4-3 4-1 4-2 4-3 4-2 4-5 4-3 4-2 4-2 4-3 4-7 4 2 4 2 4 5 4 4 4-1 4 1 4-4 4-3 4 1 4-4 4 0 4-2 4 0 4-1 4-2 4-2 4-1 4-1 4-3 4 0 4-3 4 2 4-6 4-1 4 3 4 14 4-8 4 4 4-4 4 0 4-4 4 3 4-4 4-1 4-2 4-2 4 3 4 2 4-3 4 4 4 1 4-1 4 3 4-1 4-1 4-7 4 2 4 1 4-1 4-6 4-5 4 0 4-2 4-3 4 1 4 0 4 1 4-3 4 2 4-1 4 6 4-6 4-1 4-2 4 0 4 2 4-4 4-5 4-1 4-1 4-6 4-4 4 0 4-1 4 2 4-1 4 0 4-2 4-8 4-2 4-2 4-2 4-2 4 3 4 1 4 0 4-3 4-1 4 0 4 0 4 0 4-2 4 5 4-2 4 0 4-3 4 0 4-5 4 1 4 1 4 0 4 4 4-3 4-3 4 3 4 0 4-3 4-6 4 3 4-5 4 0 4 0 4-6"/>
<path stroke="#9400d3" stroke-width="3.6" d="M4006 516l4-1 4 0 4 0 4 0 4 2 4 2M4042 519l4-1 4-1"/>
<path stroke="#e69f00" stroke-width="5.0" d="M2390 1227l4-2 4-2 4-2 4-1 4-2 4-1 4 0 4-1 4-2 4-3 4 5 4-4 4 0 4-1 4 1 4-2 4 0 4-6 4-2 4 2 4 1 4-3 4-2 4 0 4 3 4-2 4-5 4-1 4 0 4 1 4-2 4 1 4 0 4-2 4 0 4-3 4 0 4 0 4-3 4-2 4 0M2558 1156l4 6 4-3 4 0 4-1 4 1 4 0 4-3 4-7 4-2 4 0 4 0 4 0 4-1 4-1 4 4 4 1 4-3 4-2 4-9 4-3 4-4 4-1 4 0 4-1 4-2 4-3 4 1 4-2 4 0 4-2 4 1 4-1 4-1 4 0 4-2 4-3 4-4 4 1 4-1 4 1 4 2 4 0 4-5 4-1 4-3 4-3 4-1 4 2 4 1 4-1 4-4 4-3 4-1 4-2 4-2 4-2 4-3 4 0 4-1 4-2 4 0 4 1 4 1 4-4 4-2 4 2 4 1 4-3 4-1 4-2 4-5 4-2 4 2 4-6 4-1 4-4 4-5 4 0 4-1 4-4 4-2 4-11 4 0 4 0 4 1 4-3 4 1 4 4 4 3 4-4 4-9 4-2 4-3 4-5 4-2 4 1 4-4 4-1 4 1 4 0 4-4 4-5 4-3 4-5 4-2 4-1 4-2 4-2 4-6 4-1 4-3 4-2 4 1 4 4 4-1 4-3 4-1 4-4 4-1 4-1 4 0 4-5 4-1 4-1 4-1 4-1 4-8 4-4 4-1 4-1 4 2 4-1 4-3 4-1 4 0 4 0 4-5 4-3 4-2 4 1 4 0 4-4 4-3 4-2 4-1M3142 911l4-1 4 0 4 0 4-2 4 0 4-1 4-1 4-1 4-4 4 1 4-2 4-3 4-1 4 1 4 2 4 0 4-1 4 0 4-3 4 1 4-2 4-4 4-5 4-4 4-2 4-5 4-2 4-3 4-4 4-4 4 1 4 2 4-2 4 0 4-1 4-2 4-6 4-2 4 0 4-1 4 1 4-4 4-1 4 2 4-2 4-3 4-7 4-6 4 0 4-3 4 1 4-5 4 1 4-3 4-3 4 0 4-1 4-1 4-3 4-4 4 0 4 1 4-4 4-1 4 12 4-4 4-2 4-7 4-2 4-2 4 0 4 0 4-6 4-6 4 0 4 0 4-1 4-1 4-2 4-5 4-4 4 1 4-6 4 0 4-1 4-1 4 1 4 1 4-5 4-1 4 0 4-7 4-1 4-2 4 0 4 0 4 0 4-1 4 0 4-1 4 0 4-3 4 0 4 0 4-4 4-2 4 3 4-3 4-2"/>
<path stroke="#e51e10" stroke-width="4.0" d="M1902 1498l4 1 4 1 4-4 4 2 4-1 4-6 4-3 4-3 4-6 4 1 4-1 4 1 4-1 4 0 4 2 4 1 4-3 4 4 4-4 4-3 4 0 4-1 4 0 4-4 4-1 4 0 4-8 4-2 4-1 4 0 4-2 4 2 4-3 4-1 4-7 4-1 4-2 4 0 4-2 4 0 4-3 4 3 4 0 4-2 4-1 4 0 4 0 4 4 4 0 4-1 4-1 4-3 4-3 4 0 4 3 4 0 4-3 4 2 4-2 4 3 4 0 4-5 4 1 4-4 4-5 4 1 4-3 4-3 4 4 4-7 4-9 4 0 4-1 4 4 4-2 4-3 4 0 4 0 4-1 4-1 4-2 4-6 4-4 4-1 4-5 4-1 4 0 4 1 4-4 4 1 4-3 4 0 4-2 4 2 4-3 4-3 4-8 4-4 4-2 4-5 4-2 4-3 4-2 4 1 4-3 4 1 4-4 4 1 4 0 4 1 4 1 4 2 4-3 4 0 4-2 4-3 4 3 4-3 4-1 4-8 4 1 4-4 4-1 4-4 4 0 4-2 4 0 4-3 4 0 4 0 4-1 4-3 4 0 4 0 4 2 4-1 4 1 4-3 4 0 4-5 4-4 4 2 4-2 4-1 4 2 4-2 4-2 4-1 4-2 4-2 4-1 4 0 4 1 4 0 4-2 4-4 4 8 4-6 4-3 4 2 4-2 4 0 4-2M2558 1261l4 7 4-1 4 0 4-3 4 2 4-2 4-1 4-7 4 2 4-2 4-2 4 0 4 0 4 1 4 1 4 4 4-3 4-5 4-5 4-7 4 0 4-1 4-4 4 0 4 1 4-1 4-2 4-2 4-3 4 1 4 2 4-4 4 1 4 1 4-2 4 0 4-4 4-1 4-2 4 0 4 0 4 1 4-4 4 3 4-1 4-5 4-2 4 1 4 3 4 0 4-5 4 0 4-1 4-2 4-3 4 1 4-4 4-1 4 0 4-3 4 3 4-1 4-1 4 0 4-5 4 3 4 0 4-2 4 0 4-1 4-5 4 0 4-2 4-5 4-3 4-5 4-1 4-2 4 0 4-3 4-3 4-12 4 0 4-1 4 0 4 1 4-3 4 5 4 4 4-8 4-3 4-5 4-1 4-5 4-3 4 0 4 0 4-1 4 1 4 1 4-7 4-1 4-7 4-2 4-3 4-2 4 0 4-2 4-4 4-5 4-4 4 1 4 3 4 5 4-3 4-2 4-4 4-2 4-1 4 0 4-6 4-2 4 2 4-3 4 1 4 0 4-7 4-5 4-4 4 1 4-1 4-3 4 0 4-1 4 2 4-2 4-2 4-4 4-2 4 3 4-3 4-3 4-1 4-4 4-1M3142 1035l4-2 4 1 4 2 4-3 4 0 4 2 4-3 4 2 4-6 4-1 4 1 4-3 4-1 4-2 4 2 4-2 4 3 4 2 4-3 4-2 4 0 4-7 4-3 4-4 4-3 4-4 4-2 4-1 4-4 4-3 4 0 4-1 4 2 4-2 4-1 4 0 4-9 4-1 4 2 4-1 4-3 4-1 4 1 4-1 4 1 4-3 4-6 4-9 4-1 4 0 4-1 4-4 4 1 4 0 4-2 4-2 4-4 4 2 4-4 4-3 4-1 4-1 4-3 4-1 4 11 4-1 4-1 4-9 4-3 4 1 4-3 4 2 4-5 4-5 4-3 4-1 4 2 4-4 4-3 4-4 4-3 4 2 4-6 4 1 4-2 4 0 4 2 4 2 4-6 4-2 4-2 4-3 4-2 4-5 4 7 4-2 4-2 4-1 4 0 4-3 4 0 4-3 4 0 4 2 4-5 4 0 4-1 4-2 4 3M3582 855l4 0 4 0 4 3 4-4 4 1 4 3 4 1 4-3 4 0 4 0M3626 874l4 1 4-2 4 1 4-1 4 1 4-4 4 0 4-1 4 0 4-3 4 2 4-2 4-3 4 1 4 2 4-2 4-10 4 2 4-4 4 0 4 0 4-2 4 0 4-2 4-3 4-4 4 1 4 3 4-3 4-2 4 1 4 0 4-5 4-5 4 1 4-5 4-1 4 2 4 0 4 0 4-1 4-2 4-2 4 8 4-2 4-2 4-4 4 1 4 0 4 1 4 2 4-1 4-4 4-5 4-3 4 1 4 3 4-3 4-2 4-3 4-3 4-2 4 2 4 2 4-3 4-8 4 3 4 1 4 0 4-5 4-1 4-1 4-3 4-4 4-3 4-3 4 1 4-6 4-1 4 2 4-2 4-5 4 1 4-3 4 0 4 4 4 2 4-5 4-4 4-5 4 1 4-2 4-5 4 2 4 1 4-2 4-3 4 2 4 3 4-1 4 2 4 1 4-3 4 1 4-1 4 0"/>
<path stroke="#0072b2" stroke-width="4.0" d="M2766 1081l4-1 4-1 4-4 4-3 4-2 4 1 4-1 4-3 4 0 4 1 4-1 4 0 4 0 4 0 4 0 4-2 4 0 4-3 4-4 4-2 4-3 4-4 4-1 4-5 4-5 4-2 4 1 4-1 4-1 4-12 4 0 4-2 4 1 4-1 4 0 4 3 4 3 4-5 4-7 4-4 4-3 4-5 4-1 4-1 4-1 4-3 4 2 4 0 4-4 4-4 4-5 4-7 4-1 4 0 4-2 4-1 4-3 4-6 4-3 4 1 4 2 4 4 4-5 4-2 4-2 4 1 4-3 4-2 4-1 4-5 4-2 4 2 4-1 4-4 4-3 4-6 4-2 4-3 4 2 4-1 4-2 4-1 4 3 4-3 4-2 4-5 4 2 4-4 4 1 4-5 4-4 4 0 4-1 4-13 4-4 4-1 4 1 4 0 4-1 4-2 4-1 4-1 4-2 4-1 4-2 4 0 4-2 4-1 4 1 4 2 4 1 4-2 4-3 4-2 4-1 4-3 4-4 4-5 4-3 4-4 4 0 4-4 4-3 4-1 4-1 4 0 4 0 4-3 4-2 4-1 4-6 4-2 4 2 4-4 4 1 4-1 4-2 4 0 4 2 4-5 4-7 4-5 4-2 4-1 4-2 4-3 4-1 4-1 4-1 4-2 4-2 4-1 4-2 4-3 4-3 4-1 4-1 4 1 4 10 4-3 4-5 4-8 4-2 4-1 4 1 4-1 4-3 4-6 4 0 4-5 4 1 4 0 4-4 4-1 4-4 4-3 4-2 4-2 4 0 4 0 4 2 4-4 4-2 4-3 4 0 4-4 4-3 4-2 4 2 4-1 4 0 4-1 4-1 4-1 4-2 4-2 4 0 4-1 4-1 4-1 4 0 4 0 4 1M3582 703l4-1 4-2 4 2 4 0 4-1 4 2 4-4 4 2 4 1 4-3 4 9 4 2 4-3 4 2 4-3 4 1 4 1 4-1 4-4 4-3 4 1 4 2 4-2 4-1 4-1 4-1 4-1 4-6 4-4 4 0 4 0 4-1 4 1 4-2 4 1"/>
<path stroke="#9400d3" stroke-width="5.0" d="M806 1699l4-1 4 0 4-3 4 1 4-4 4-4 4-6 4 2 4 1 4 1 4-1 4 0 4-1 4 0 4-1 4-3 4-1 4 0 4-3 4 1 4-1 4 2 4-1M902 1694l4 9 4-2 4-1 4-2 4-1 4-1 4-1 4 0 4-3 4 1 4-2 4 3 4-3 4-1 4 0 4-3 4 1 4-1 4-1 4-2 4 1 4 0 4-1 4 2 4-3 4 4 4-2 4-11 4 2 4 2 4 0 4 3 4-1 4-2 4 0 4-3 4 0 4 0 4 2 4-4 4 2 4 0 4-2 4-1 4-2 4-1 4-1 4 1 4-1 4-1 4 0 4 1 4 0 4-2 4-5 4 0 4-2 4-4 4-3 4-2 4-3 4 2 4 0 4-2 4 0 4-3 4-1 4 0 4-2 4 0 4-3 4-1 4-2 4-3 4 0 4 2 4 1 4 0 4 0 4 0 4 1 4-2 4-2 4-2 4 0 4-2 4-3 4-1 4-2 4-1 4 1 4-2 4-4 4-3M1282 1598l4 2 4 3 4-2 4 1 4 5 4 1 4-3 4-3 4-1 4 0 4-3 4-6 4 1 4 6 4 0 4 0 4 1 4-1 4-3 4-1 4-1 4 2 4 1 4-1 4-2 4-1 4 2 4-3 4-1 4-1 4 2 4-3 4-4 4-4 4-8 4-7 4 2 4 1 4-3 4 0 4 1 4-1 4-3 4-3 4-4 4 1 4-2 4-2 4 0 4 0 4-3 4 1 4-2 4 0 4 1 4-1 4-5 4 2 4 2 4 2 4 0 4 2 4-4 4-3 4-1 4-2 4-2 4 2 4-5 4-1 4-1 4-2 4-2 4 0 4 0 4-1 4 0 4-2 4 1 4-4 4-8 4 2 4-1 4-2 4-1 4-1 4-2 4-1 4-1 4-1 4 0 4 0 4 0 4-1 4-1 4-4 4-4 4-2 4-2 4-5 4-2 4-3 4-3 4-4 4-4 4 0 4-2 4-2 4-2 4-3 4-5 4 3 4-2 4 4 4 6 4-1 4-1 4-4 4-1 4-2 4-2 4 1 4-3 4 2 4-2 4-4 4 0 4-1 4-4 4-1 4 0 4-2 4-2 4-2 4 1 4 2 4 14 4-2 4-1 4-4 4 0 4-1 4-4 4-2 4 0 4 0 4 1 4 2 4 2 4-3 4 0 4 3 4 1 4-1 4-3 4 1 4 2 4-1 4-3 4 0 4-5 4-2 4-4 4-4 4-4 4 1 4 0 4 3 4 0 4-3 4 4 4 0 4-2 4-3 4-1 4 0 4-1 4-3 4-2 4-1 4-2 4-8 4 0 4-1 4-1 4 1 4-2 4 0 4-1 4-7 4-2 4-4 4 2 4-3 4-1 4 3 4-3 4 0 4-1 4 2 4 2 4-3 4-2 4 3 4-1 4-2 4 0 4-3 4 0 4 0 4 0 4-1 4 4 4-2 4-1 4 1 4-5 4 0 4-3 4 0 4-5 4 0 4-3 4 2 4-7 4-9 4 1 4 0 4 1 4-5 4-1 4 2 4-2 4-1 4 0 4 0 4-5 4-3 4-4 4-4 4-1 4-2 4-1 4-1 4 1 4 0 4-3 4-1 4-1 4-2 4-2 4-7"/>
<path stroke="#e51e10" stroke-width="4.0" d="M3806 715l4 0 4-1 4 2 4 0 4 1 4 2 4-2 4-2 4-5 4 2 4-6 4-1 4 1 4-2 4-2 4-3 4 0 4 2 4-1 4-3 4-7 4 7"/>
<path stroke="#e51e10" stroke-width="4.4" d="M2390 1334l4-3 4 1 4-2 4-2 4 1 4-1 4-2 4-1 4-3 4 0 4 1 4 0 4-2 4 1 4 1 4-3 4 0 4-4 4-1 4-2 4 2 4-2 4-1 4-3 4 2 4-2 4-2 4 0 4-1 4 0 4-1 4 0 4-2 4 1 4 0 4-3 4-1 4 0 4-1 4-1 4 0M2558 1270l4 6 4-1 4 0 4-3 4 4 4-1 4-4 4-5 4-1 4-3 4 0 4 1 4-3 4 0 4 2 4 2 4-2 4-5 4-4 4-4 4-4 4-4 4 0 4 0 4-1 4 1 4-3 4-2 4 0 4 0 4-1 4 0 4 0 4-2 4 0 4-2 4-4 4-1 4-1 4 3 4 1 4-1 4-3 4-1 4-3 4-2 4-4 4 3 4 0 4 1 4 0 4-2 4-2 4-1 4-3 4-4 4-2 4 3 4-2 4-3 4 2 4-1 4-1 4-1 4-1 4 3 4-1 4-1 4-2 4 0 4-5 4-4 4 0 4-2 4-2 4-4 4-5 4-1 4 0 4-2 4-1 4-12 4 3 4-4 4 0 4-1 4 0 4 5 4 4 4-5 4-7 4-4 4-4 4-6 4 0 4 2 4-2 4-2 4 0 4 0 4-4 4-4 4-3 4-5 4-4 4 2 4 0 4-4 4-5 4-3 4-4 4 1 4 3 4 4 4-1 4-4 4-3 4-1 4-3 4 0 4-2 4-1 4-2 4-1 4-2 4 1 4-6 4-8 4 0 4-2 4 1 4-1 4-2 4 1 4-1 4 0 4-4 4-5 4 1 4-2 4 1 4-3 4-3 4-2 4-3"/>
<path stroke="#000000" stroke-width="5.0" d="M1830 1504l4-6 4-1 4-5 4-1 4 2 4 0 4-3 4-3 4 0 4-3 4 3 4 1 4 0 4 3 4 1 4 1"/>
<path stroke="#009e73" stroke-width="4.0" d="M762 1724l4-4 4-3 4 0 4 2 4-5 4 7 4-5 4-5 4-1 4 4 4 5 4-1 4-3 4-1 4-1 4-2 4-2 4-7 4 0 4-1 4 2 4 1 4-2 4 1 4-1 4 0 4-5 4-2 4 4 4-5 4 1 4-2 4 0 4-2M902 1713l4 6 4 2 4-5 4 0 4 0 4-1 4-3 4 0 4-1 4 1 4-1 4-1 4-3 4-2 4 1 4-3 4-1 4 1 4 1 4-1 4-2 4-1 4 2 4 0 4-2 4 0 4-5 4-6 4 2 4 0 4 5 4-2 4 2 4-3 4 0 4 1 4-6 4 0 4 4 4-4 4-1 4 0 4 1 4-3 4-1 4 1 4 0 4-1 4 1 4 0 4-1 4 0 4-2 4-3 4-8 4 1 4 2 4-4 4-3 4-4 4-2 4 1 4 2 4-3 4-1 4 0 4 2 4-4 4 1 4-3 4-3 4-1 4 2 4-5 4 0 4 1 4 0 4-1 4 3 4-1 4 0 4-4 4-1 4 1 4 2 4-3 4-1 4-3 4-1 4-4 4 4 4-3 4-7 4-1 4-10 4 0 4 0 4-2 4 3 4 4 4-3 4 3 4-5 4 1 4 0 4-3 4-5 4 0 4 1 4 3 4 2 4-2 4 1 4-3 4-1 4 2 4-1 4-1 4 1 4-1 4 0 4 0 4-2 4-1 4 1 4-3 4-2 4 0 4-2 4-4 4-5 4-2 4 1 4-3 4 0 4 1 4 0 4-4 4-2 4-2 4-2 4 1 4-5 4 0 4 0 4 0 4-1 4-2 4 0 4 3 4-4 4-1 4 0 4 1 4 1 4 2 4 1 4-2 4-4 4 0 4-3 4-2 4 0 4-1 4-4 4-2 4-2 4-2 4 1 4 1 4 0 4 0 4 1 4-1 4-7 4-7 4-2 4-2 4-1 4-1 4 3 4 0 4-2 4-1 4-6 4 2 4-1 4 0 4 1 4-1 4-3 4-4 4-6 4 0 4-2 4-4 4-3 4-4 4-2 4-3 4-1 4-3 4-4 4 1 4-3 4-5 4 2 4-2 4 3 4 6 4 1 4-1 4-2 4-2 4-2 4-1 4-7 4 2 4-1 4 1 4-3 4 0 4-3 4-4 4 0 4 0 4-1 4-3 4 0 4-1 4 0 4 14 4-2 4 0 4-3 4 0 4-2 4-1 4-2 4-1 4-1 4-2 4 3 4 0 4 1 4 2 4 1 4 0 4 7 4-4 4-2 4 2 4-2 4-1 4 0 4-2 4-7 4 1 4-8 4-1 4 1 4 1 4-1 4-1 4 0 4 3 4-1 4-2 4 0 4 1 4 1 4-5 4-2 4-3 4-1 4-3 4-5 4-3 4 3 4-3 4 0 4-2 4 4 4-3 4-9"/>
<path stroke="#e51e10" stroke-width="4.0" d="M3446 793l4-7 4 3 4-1 4-4 4-4 4 0 4-3 4-2 4-1 4-1 4 2 4-3 4-2 4-2 4-3 4-3 4-1 4-4 4 3 4-2 4 0 4 1 4-3 4 2 4-5 4 0 4 0 4-2 4 0 4-2 4-1 4 1 4 0M3582 722l4-1 4-1 4 1 4-1 4 0 4 1 4-2 4 0 4 2 4-2 4 12 4 3 4-3 4 0 4-1 4 0 4 0 4-2 4-3 4-1 4-1 4 0 4 0 4-3 4 3 4-1 4-2 4-7 4-2 4-3 4 2 4-3 4 1 4-1 4-2"/>
<path stroke="#009e73" stroke-width="4.6" d="M2562 1119l4-1 4 0 4-1 4 0 4 4 4-7 4-5 4 0 4-2 4 1 4-1 4-2 4 0 4 3 4 3 4-3 4-5 4-7 4-2 4-3 4-4 4 0 4 0 4-3 4-1 4 0 4-2 4 0 4-1 4-1 4 2 4-2 4-1 4 0 4-2 4-6 4 0 4-2 4 3 4 1 4 1 4-6 4 1 4-2 4-4 4-2 4 1 4 3 4 1 4-3 4-2 4-2 4-2 4-3 4-2 4-3 4 0 4-2 4-2 4 2 4 0 4-2 4 0 4 1 4 2 4-1 4-2 4-3 4-1 4-3 4-4 4-2 4-3 4-3 4-5 4-4 4 2 4-2 4-3 4 0 4-11 4 1 4-2 4 0 4-1 4 2 4 1 4 6 4-7 4-7 4-5 4-3 4-5 4-2 4 0 4-3 4 0 4 2 4 0 4-5 4-3 4-4 4-6 4-2 4-1 4-3 4-1 4-5 4-3 4-4 4 0 4 5 4 1 4-3 4-2 4-4 4 0 4-1 4-2 4 0 4-6 4-2 4 2 4-1 4-2 4-5 4-8 4 2 4-4 4 1 4-3 4-2 4 0 4 2 4-3 4-4 4-2 4-2 4-1 4 2 4-6 4-2 4-2 4 0 4-13 4-4 4 1 4 0 4-1 4 0 4-3 4-3 4 2 4-5 4-1 4 0 4-2 4-2 4 1 4-1 4 2 4 3 4-1 4-2 4-1 4-1 4-5 4-8 4-4 4-1 4-7 4 0 4-2 4-5 4-5 4 2 4 1 4 1 4-3 4-1 4 0 4-7 4-2 4-1"/>
<path stroke="#e51e10" stroke-width="4.0" d="M762 1694l4-5 4-4 4 2 4-1 4 0 4 0 4-4 4 3 4-2 4 4 4 5 4-8 4-2 4-3 4 1 4 0 4-6 4-3 4 1 4 1 4-6 4 4 4-1 4 2 4-2 4-2 4-1 4-2 4 2 4-2 4-6 4 1 4 1 4 1M902 1683l4 6 4-1 4-4 4 4 4 0 4-5 4-1 4-1 4 1 4 0 4-4 4 0 4-2 4 2 4-6 4 3 4 0 4 2 4 1 4-4 4-1 4 2 4-1 4-2 4-2 4 1 4 1 4-11 4 2 4-2 4 3 4 3 4-1 4 3 4-4 4-1 4-1 4-3 4 4 4-1 4-2 4-3 4 2 4-3 4 1 4-2 4 0 4 1 4-2 4 2 4 1 4-5 4 3 4-3 4-8 4 3 4-5 4-4 4 0 4-3 4-4 4 5 4 0 4-3 4 0 4 0 4-4 4-2 4 2 4 1 4-7 4-2 4 0 4-1 4-5 4 5 4-1 4-3 4 7 4-4 4 2 4-3 4-2 4-3 4 2 4-2 4-2 4-1 4 0 4-1 4-2 4-3 4-3 4-2 4-14 4-2 4 2 4-4 4 6 4 3 4 4 4-4 4-4 4 3 4-1 4-4 4-7 4 2 4 3 4 1 4 1 4-1 4 1 4-5 4 2 4-2 4-2 4 1 4 1 4 1 4-1 4 0 4-5 4 3 4-2 4-3 4 3 4-2 4-3 4-5 4-5 4-2 4 0 4 2 4-5 4 4 4-2 4-2 4-5 4-2 4-1 4-3 4 1 4-2 4-2 4 1 4-2 4 0 4-2 4 3 4-1 4-3 4 1 4 3 4-3 4 5 4-1 4-2 4-6 4 0 4 1 4-2 4 0 4-4 4 0 4 0 4-8 4-1 4 0 4-4 4-2 4 2 4 4 4-5 4-4 4-7 4 0 4-1 4 2 4-3 4 3 4-2 4-3 4-3 4-3 4 2 4 3 4-1 4-1 4-3 4-6 4 0 4-3 4-2 4-3 4-3 4-1 4-6 4-3 4-6 4 4 4-3 4-2 4-3 4-3 4-2 4 0 4-1 4 8 4 4 4-2 4 0 4-6 4-1 4 0 4 0 4-2 4-4 4-1 4 0 4-4 4 3 4-2 4-1 4-6 4 3 4-2 4-2 4 0 4-4 4-1M1830 1448l4-4 4 2 4-4 4-4 4 4 4-5 4 3 4-1 4-6 4 1 4-1 4 2 4-2 4 5 4 1 4 0 4 2 4-3 4 2 4-2 4 2 4-7 4 4 4-6 4-8 4 2 4-5 4-2 4 2 4-1 4 2 4-2 4-1 4 1 4 2 4 0 4-6 4-1 4-1 4-1 4 1 4 0 4-6 4 0 4-8 4-3 4 6 4-3 4 0 4 2 4-4 4-2 4-7 4-2 4-2 4-4 4-2 4 0 4 2 4-4 4 4 4 1 4-5 4-1 4 4 4-1 4-1 4 1 4 2 4 0 4-7 4-2 4 3 4-1 4 0 4 1 4 1 4 0 4 2 4-8 4-3 4 1 4-2 4-6 4 4 4-1 4-5"/>
<path stroke="#f0e442" stroke-width="3.6" d="M2594 1168l4-1 4 0 4 2 4-1 4-1 4 3 4 0 4 1 4-7 4-6 4-10 4-5 4-2 4 3 4-2 4-2 4-4 4 1 4-2 4-2 4-2 4 3 4 0 4-4 4 2 4-4 4-2 4-2 4-4 4 2 4-1 4 4 4-1 4-3 4 0 4-3 4-4 4 2 4-2 4-2 4 5 4-3 4-2 4-4 4-5 4 4 4-2 4-5 4-2 4 5 4-4 4 1 4-1 4-4 4 2 4-2 4 5 4-4 4 0 4-4 4 0 4-2 4-4 4 0 4-4 4-2 4-6 4-3 4 1 4-3 4-3 4-1 4-12 4 2 4-1 4-4 4 4 4-4 4 4 4 5 4-5 4-8 4-4 4 0 4-6 4-1 4-1 4-2 4-1 4 3 4-3 4-3 4-4 4-2 4-9 4 0 4 1 4-4 4 4 4-1 4-3 4-6 4 1 4 6 4 1 4 4 4-7 4-5 4 1 4-4 4-2 4-2 4-3 4 1 4-1 4-2 4-2 4-2 4-5 4 0 4-5 4-1 4-1 4-1 4-2 4 5 4-3 4-2 4-8 4 0 4-2 4 6 4-5 4-5 4-3 4 0M3142 941l4-2 4 2 4 1 4-1 4-5 4-1 4-1 4 1 4-3 4-1 4-5 4 1 4 1 4 0 4 3 4-4 4 5 4-3 4 0 4-4 4-2 4-3 4-3 4-10 4 0 4-4 4-1 4-2 4-5 4-1 4-2 4 2 4-1 4-1 4-3 4 1 4-7 4-1 4-1 4-1 4 2 4-4 4 1 4-2 4 0 4-1 4-6 4-8 4-2 4-1 4 0 4-6 4 1 4 1 4-2 4-3 4-2 4 2 4-4 4-4 4-3 4 2 4-2 4-2 4 11 4-2 4-7 4-9 4 2 4-2 4 1 4-2 4-3 4-8 4 0 4-1 4 2 4-3 4-5 4-3 4 0 4-1 4-8 4 3 4-2 4-1 4 3 4 0 4-5 4-2 4-1 4-5 4-3 4-4 4 2 4 3 4-4 4 2 4-4 4 4 4-3 4 1 4-5 4 0 4-1 4 2 4-1 4-1 4-1M3582 749l4-1 4-4 4 5 4 0 4-1 4-1 4 0 4 1 4-1 4-1 4 14 4-2 4-1 4 1 4-3 4-4 4 3 4 0 4-1 4 0 4-5 4-3 4 2 4 0 4-2 4 2 4-1 4-8 4-1 4-3 4 4 4 1 4-4 4 0 4-4 4-6 4 1 4-2 4 1 4 3 4-9 4 1 4 2 4-2 4-10 4-1 4-5 4 3 4 3 4 0 4-4 4 0 4 0 4-1 4-2 4-5 4-4 4 4 4 0 4-2 4 2 4 3 4-3 4-1 4-2 4-8 4 1 4 1 4-3 4-2 4 0 4-7 4 1 4 1 4 1 4-6 4-4 4 2 4 0 4-4 4 3 4 0 4-4 4-2 4-5 4-4 4-5 4 0 4 1 4-1 4 0 4-5 4-5 4 2 4 0 4-5 4 5 4 0 4-6 4-1 4-3 4-1 4 0 4-3 4-5 4 2 4-1 4 3 4-7 4 5 4 1 4-2 4 2 4 5 4-4 4 3 4-1"/>
<path stroke="#9400d3" stroke-width="4.0" d="M214 1888l4-1 4-2 4 0 4 3 4 0 4 1 4 0 4-2 4 1 4-2 4 0 4-1 4 1 4-2 4 0 4-5 4 0 4-2 4-3 4 1 4 1 4 0 4 3 4-2 4-2 4-2 4-5 4-5 4 1 4-2 4 0 4 3 4-2 4-3 4-1 4 0 4-3 4-4 4 2 4 1 4 0 4-1 4 3 4 4 4-3 4-2 4-5 4-2 4 1 4-3 4-1 4 1 4-3 4 2 4 3 4-4 4-2 4 2 4-2 4-1 4-1 4 1 4-3 4 0 4 2 4-2 4 0 4 0 4-1 4-5 4 1 4-2 4-6 4-4 4-1 4 5 4-3 4 2 4 1 4 1 4-2 4-1 4-4 4 0 4 0 4-2 4 0 4-1 4-1 4-4 4-5 4-5 4 0 4-1 4 1 4 0 4-1 4 0 4-2 4-2 4 3 4-2 4 1 4-3 4-1 4 0 4-2 4-7 4 1 4-1 4-1 4 1 4 1 4-1 4 0 4-1 4-2 4-1 4 1 4-3 4 2 4 1 4 0 4-1 4 0 4 0 4-2 4 2 4 0 4 2 4-1 4-2 4-2 4-1 4-1 4-2 4-4 4-4 4-1 4-2 4 0 4 1 4 2 4-1 4-2 4-2 4 1 4 5 4-2 4-2 4-2 4-1 4-2 4-2 4-4 4-2 4 0 4 3 4 0 4-2 4 1 4-1 4-4 4 1 4-1 4-1 4-1 4 0 4-1 4 0 4 0M902 1763l4 7 4-1 4 0 4-3 4-1 4-2 4-1 4 2 4-2 4-1 4 0 4-1 4-1 4 0 4 0 4 0 4-1 4-2 4 1 4-3 4 0 4 1 4 1 4-1 4-1 4 1 4-3"/>
<path stroke="#0072b2" stroke-width="4.0" d="M2186 1347l4 4 4 0 4-2 4 1 4-1 4-3 4-2 4 0 4-4 4 4 4-5 4-7 4-1 4-8 4 0 4 2 4-6 4 5 4-3 4-6 4 3 4-2 4-1 4-2 4 2 4-9 4-6 4-5 4-2 4-3 4-4 4-1 4 0 4-1 4-4 4-1 4 5 4-1 4-2 4 5 4-4 4-2 4 0 4 2 4-6 4 2 4-4 4-2 4-1"/>
<path stroke="#9400d3" stroke-width="4.0" d="M2994 1105l4-4 4-2 4 2 4 5 4-2 4-5 4 2 4-3 4 1 4-3 4-5 4 0 4-4 4-2 4 0 4-5 4 5 4-5 4-7 4 0 4-2 4 1 4-2 4-2 4 1 4 3 4-4 4-3 4-5 4-2 4 0 4 0 4-8 4 0 4 2 4-1M3142 1034l4 1 4-1 4 2 4 0 4-3 4-3 4 3 4-2 4-2 4 2 4-2 4-5 4 0 4 2 4-5 4 6 4 0 4-3 4-2 4 3 4-5 4-4 4-4 4-6 4-2 4-3 4-4 4-2 4-5 4-2 4 1 4 2 4 1 4-5 4 2 4 0 4-6 4-2 4 0 4-1 4-2 4-2 4-1 4 2 4-1 4-6 4-3"/>
<path stroke="#009e73" stroke-width="5.0" d="M3334 909l4-4 4 0 4-2 4-1 4-3 4-3 4 1 4-3 4 1 4-3 4-3 4-5 4-1 4 1 4-1 4 0 4 10 4-2 4-3 4-6 4-4 4-2 4 2 4-2 4-6 4-4 4 0 4-3 4 0 4-1 4-2 4-4 4-1 4-1 4-6 4-2 4-2 4 1 4 1 4 1 4-5 4 0 4-5 4 3 4-8 4-1 4 4 4-3 4-2 4 0 4-1 4-2 4 0 4 1 4-4 4 3 4-5 4 2 4-4 4-2 4 1M3582 796l4-3 4 0 4 2 4-3 4 3 4-2 4-2 4 2 4 4 4-5 4 11 4 1 4 1 4 1 4-3 4 2 4-3 4 0 4-1 4-4 4 3 4-5 4 1 4-2 4 1 4 0 4-3 4-6 4-6 4 1 4 2 4 2 4-6 4 1 4-1 4-6 4-3 4 1 4 1 4 1 4-3 4-2 4 0 4 0 4-7 4-3 4 2 4-4 4-1 4 1 4-2 4 2 4-1 4-4 4 3 4-8 4 0 4-1 4-2 4 2 4 2 4 0 4 0 4-4 4-5 4-4 4 3 4 0 4-1 4-1 4-4 4-5 4 0 4 3 4-2 4-5 4-5 4 3 4 0 4-1 4-4 4 2 4-3 4-2 4-4 4-4 4 3 4-7 4-3 4 1 4-3 4 0 4-2 4 0 4-2 4-1 4 5 4-3 4-2 4-5 4-4 4 0 4 0 4-4 4-2 4-1 4 1 4-1 4-1 4 5 4-3 4 1 4 1 4 0 4 0 4-1 4 5"/>
<path stroke="#f0e442" stroke-width="4.4" d="M2638 1214l4-2 4-4 4 0 4 0 4-2 4-1 4 2 4-4 4 0 4-1 4-1 4 0 4-3 4 3 4-2 4-3 4-4 4-1 4 1 4 0 4 4 4 0 4-4 4-1 4-3 4-4 4 1 4-1 4 2 4 1 4-3 4-3 4-3 4-1 4-2 4 1 4-6 4-1 4 0 4-1 4 2 4-1 4-1 4-1 4 0 4 2 4-3 4-1 4-2 4-2 4-3 4 0 4-4 4-3 4-1 4-3 4-6 4-1 4 3 4-5 4-1 4-10 4 1 4-2 4 0 4 1 4-2 4 3 4 6 4-8 4-7 4-5 4 0 4-5 4-3 4 1 4-3 4 1 4-1 4 1 4-5 4-3 4-2 4-8 4-1 4 0 4-3 4 1 4-6 4-4 4-3 4 0 4 5 4 1 4-1 4-5 4-2 4 0 4-2 4-2 4 1 4-3 4-4 4-1 4-2 4-1 4-5 4-5 4-2 4-1 4 1 4-1 4-3 4-1 4 3 4-4 4 0 4-5 4 1 4-1 4 1 4-7 4-4 4 0 4-1M3142 1006l4 0 4 0 4 1 4-3 4 1 4-2 4-2 4 1 4-3 4 0 4-3 4-1 4 1 4-2 4 1 4 1 4 0 4 1 4-5 4 1 4-2 4-4 4-5 4-4 4-3 4-5 4 1 4-3 4-4 4-3 4 0 4 1 4-1 4-1 4-2 4 1 4-9 4 1 4-1 4-2 4-1 4-2 4 1 4 2 4-1 4-5 4-7 4-4 4-3 4 0 4-1 4-3 4-1 4-2 4-2 4-1 4 0 4-2 4-1 4-4 4-3 4 0 4 0 4-1 4 10 4-4 4-4 4-5 4-3 4 0 4 0 4-1 4-4 4-5 4 0 4-2 4-1 4-4 4-1 4-3 4-3 4-1 4-5 4 0 4-2 4 2 4 0 4-2 4-1 4-4 4-2 4-3 4-2 4-1 4 1 4-1 4 0 4-2 4 1 4-2 4-2 4 0 4 0 4 0 4-5 4 2 4-1 4-2 4 2M3582 819l4 1 4-2 4-1 4 0 4 2 4 2 4-3 4 3 4-1 4-2 4 10 4 3 4-1 4 0 4-1 4 1 4-1 4-3 4-2 4-1 4-1 4 0 4-1 4 0 4 0 4-1 4-3 4-6 4 0 4-4 4 2 4-2 4 1 4-1 4-1"/>
<path stroke="#e69f00" stroke-width="5.0" d="M3246 957l4-2 4 0 4-4 4-3 4-2 4 1 4 2 4-5 4-2 4 0 4-5 4-3 4 0 4-1 4-3 4-3 4 0 4 5 4-1 4-8 4-3 4-4 4-3 4 0 4 1 4-5 4-4 4 0 4 0 4-2 4 0 4-1 4-2 4-8 4 1 4 1 4-5 4 0 4 11 4-1 4-2 4-8 4-5 4 2 4 0 4-3 4-5 4-6 4 0 4 2 4-3 4-5 4-1 4-3 4-4 4-1 4-2 4 1 4-2 4-2 4 3 4-1 4-6 4-1 4-1 4-1 4-1 4-2 4 2 4-4 4 1 4-3 4 4 4-4 4-2 4-1 4-1 4-2 4-1 4 0 4 2 4-3 4 0M3582 808l4-4 4-2 4 2 4 4 4-3 4 2 4-5 4 3 4-2 4 2 4 6 4 1 4 2 4 0 4-4 4 4 4 2 4-3 4-3 4-4 4 5 4-3 4-3 4 2 4 0 4-2 4-3 4-3 4-3 4-5 4 2 4 0 4 3 4-3 4-2 4-4 4-4 4-1 4-2 4 3 4-2 4-3 4 0 4 1 4-7 4-6 4 2 4 0 4 0 4-1 4-3 4 0 4-3 4 4 4-2 4-4 4 0 4-2 4 0 4-2 4 3 4-1 4 2 4-2 4-2 4-1 4-9 4 3 4 3 4-6 4-2 4-8 4 3 4 4 4 0 4-6 4-2 4-2 4 0 4 2 4-2 4-1 4-4 4-7 4-1 4-2 4 1 4 0 4-4 4-2 4 2 4-4 4-3 4-2 4 0 4-3 4 6 4 1 4-5 4-4 4-4 4-7 4 3 4 2 4-4 4 0 4 1 4-3 4 0 4 2 4 4 4 0 4 0 4-3 4 1 4 2 4 1"/>
<path stroke="#9400d3" stroke-width="4.4" d="M2186 1309l4 1 4-1 4-1 4-2 4-1 4 0 4-2 4 0 4-2 4 1 4-5 4-4 4-5 4-4 4 0 4-3 4 1 4-1 4 0 4-1 4-2 4 1 4-3 4 0 4-1 4-10 4-5 4-3 4-5 4-5 4-1 4 0 4-1 4-1 4-3 4-3 4 0 4 1 4 1 4 3 4 0 4 0 4-3 4-1 4-2 4 0 4-2 4-3 4-4 4 0 4-4 4-2 4-3 4-1 4-1 4 0 4-2 4-2 4 0 4-2 4 0 4 0 4 0 4-2 4 2 4-2 4-2 4 0 4-4 4-1 4 0 4 1 4 0 4-1 4-1 4-1 4 0 4-1 4-3 4 0 4-1 4 1 4 0 4-3 4 0 4 1 4-3 4-1 4 1 4-2 4-1 4 0M2558 1156l4 4 4-1 4 2 4 0 4-2 4 2 4-5 4-6 4-1 4-1 4 1 4-1 4-3 4-1 4 5 4 1 4 1 4-7 4-7 4-4 4-5 4-2 4 0 4 3 4-3 4-3 4 0 4 0 4-2 4-3 4 1 4 0 4-2 4-1 4 3 4-3 4-7 4-1 4 0 4 3 4 3 4-2 4-4 4 0 4-5 4-3 4-1 4 0 4 3 4 0 4-1 4-6 4 2 4-2 4-4 4-3 4 0 4 0 4-2 4-1 4 1 4-1 4-1 4-3 4 2 4 0 4-1 4-2 4 0 4-4 4 0 4-6 4 0 4-4 4-3 4-3 4-6 4-1 4 2 4-5 4-1 4-10 4 1 4-1 4-1 4-1 4 0 4 3 4 6 4-6 4-6 4-6 4-3 4-4 4-2 4 1 4-3 4-1 4 2 4-2 4-5 4-3 4-4 4-6 4 0 4-3 4-2 4-2"/>
<path stroke="#0072b2" stroke-width="3.6" d="M3446 849l4-1 4-2 4-3 4-3 4-2 4-2 4-3 4 1 4-3 4 1 4 0 4-1 4-2 4-4 4 0 4-3 4-3 4-2 4 1 4-1 4 0 4-1 4-1 4-1 4-2 4 0 4 0 4 1 4-5 4 2 4-2 4-3 4 1M3582 780l4 0 4 0 4-1 4 1 4 0 4 2 4-1 4-1 4 2 4-2 4 8 4 5 4-2 4-3 4-1 4 4 4 0 4-4 4-3 4 2 4 0 4-1 4-2 4-2 4 0 4 0 4-1 4-5 4-1 4-4 4 1 4 0 4-3 4 0 4 0 4-6 4-4 4 2 4-2 4-1 4-2 4 2 4 0 4-4 4-6 4-2 4 0 4 0 4 0 4 1 4-1 4 0 4-4 4 0 4-1 4-4 4-3 4 0 4 2 4-3 4 5 4 1 4-2 4-5 4-5 4-1 4 0 4-2 4 2 4-5 4 1 4-4 4-2 4 3 4 0 4-6 4-3 4 1 4 0 4 0 4-3 4 0 4-1 4-3 4-4 4-2 4-2 4 0 4-3 4-3 4-1 4-3 4-1 4 0 4-5 4 4 4 1 4-2 4-2 4-3 4-4 4-2 4-1 4-2 4 1 4-1 4-4 4 1 4 0 4 2 4 1 4 1 4 1 4 0 4 1 4-1 4 0"/>
<path stroke="#e51e10" stroke-width="5.0" d="M1126 1625l4-3 4-5 4-2 4 0 4-4 4-1 4 2 4 0 4 0 4-1 4-2 4-1 4-2 4-1 4-1 4-3 4 1 4-2 4-3 4 2 4 0 4 0 4-1 4 1 4 3 4-2 4-4 4-3 4 1 4-1 4-1 4-4 4 0 4 0 4-4 4-2 4-3 4-3"/>
<path stroke="#9400d3" stroke-width="3.8" d="M1234 1550h0M1314 1520l4-3 4-1 4 0 4-7 4 0 4 0 4 3 4 4M1354 1510l4 2 4-3 4 2M1398 1508l4-3 4-1 4-1 4-2 4-4M1438 1487l4-2 4 0M1454 1481h0M1466 1473l4 2 4-3 4-5 4 3 4-1M1502 1469l4-1 4-6M1522 1466l4 0 4 0 4-1M1542 1460l4-3 4 2 4-5 4 0 4-2 4-1 4 0 4-2 4-1 4-1M1602 1441h0M1630 1430h0M1646 1423h0M1658 1422l4-3M1698 1391l4-4 4 0 4 0M1718 1384l4-4 4-7 4-2 4 3 4 4 4 3 4 1 4-4M1782 1369l4-1M1806 1362l4-3 4-1 4-3 4 2 4 1 4 10 4-1 4-1 4-4M1894 1363l4-5M1910 1358l4-1 4 1 4-5 4-5 4-4 4 3 4-5 4-3 4 0M1966 1339l4-2 4-1 4-1 4-2M1998 1330h0M2006 1325l4-9 4 0 4 0 4-1M2030 1314l4-2 4 2 4-8 4-3 4-3 4-1 4-1 4-2 4 4 4-2 4 2 4 0 4-3 4 0 4-1 4 2 4-2 4 0M2110 1295h0M2126 1293l4-4 4 3M2158 1285l4-3 4-1 4-2M2190 1265h0M2214 1258l4 0 4 2 4-4 4-7 4-1 4-6 4-4M2250 1239l4-4 4 1M2278 1230h0M2298 1210h0"/>
<path stroke="#000000" stroke-width="5.0" d="M2474 1199l4-2 4 0 4 1 4-1 4-2 4 0 4-1 4-4 4 0 4 2 4-3 4-1 4-3 4 3 4-1 4-2 4 2 4-2 4-2 4 1M2558 1150l4 6 4 1 4 0 4-4 4 2 4 2 4-5 4-6 4-1 4-1 4 0 4-1 4-2 4-1 4 8 4-3 4-1 4-4 4-8 4-4 4-2 4-3 4-2 4-1 4 1 4 0 4-4 4-1 4-1 4-2 4 4 4-1 4-2 4-1 4-2 4-2 4-4 4 1 4-4 4 4 4 1 4 1 4-6 4 0 4-2 4-2 4-4 4 2 4 1 4 0"/>
<path stroke="#f0e442" stroke-width="5.0" d="M3730 759l4 1 4 1 4-2 4-2 4 3 4-1 4-5 4-5 4-2 4 3 4-2 4-2 4 0 4 2 4-3 4-1 4-2 4 0 4-5 4-2 4 1 4-3 4 0 4 3 4 3 4-2 4-4 4-4 4-1 4-1 4-4 4 4 4-4 4-1 4-1 4-6 4 0 4 8 4-9 4-3 4 3 4-11 4-2 4 0 4 2 4-6 4-5 4 2 4-6 4 0 4-4 4-1 4 0 4-4 4 0 4-2 4-4 4-1 4 4 4 0 4-4 4-1 4-11 4-4 4-1 4-6 4 3 4 0 4-5 4 1 4 1 4 2 4-4 4 6 4 2 4-3 4 2 4 1 4 1 4 0"/>
<path stroke="#000000" stroke-width="4.0" d="M1710 1426l4 0 4-4 4-2 4-5 4 1 4 2 4 3 4 2 4 1 4 0 4-3 4-5 4 2 4 2 4-4 4-3 4 0 4-3 4-1 4-1 4-2 4-3 4-1 4 2 4-2 4-3 4 1 4-3 4 1 4 12 4-1 4 0 4-2 4-6 4 0 4-3 4 2 4-2 4-1 4 0 4 0 4 2 4-1 4 1 4 3 4 0 4 0 4-2 4 0 4-1 4 0 4 0 4-2 4-5"/>
<path stroke="#000000" stroke-width="5.0" d="M214 1853l4-1 4 1 4 1 4 0 4 3 4-1 4 1 4 0 4-1 4 0 4-1 4 1 4-1 4 0 4-5 4-1 4-1 4-5 4 6 4-2 4 4 4-6 4-1 4 0 4-2 4-1 4-8 4-1 4-1 4 1 4-1 4 2 4-1 4-4 4-1 4-1 4-5 4 2 4 2 4-2 4 0 4 0 4 4 4 2 4-2 4 0 4-8 4-1 4-1 4-4 4 1 4-6 4 7 4-1 4-1 4-4 4 2 4 4 4-6 4 3 4-2 4-2 4 2 4-1 4-2 4 0 4-2 4 1 4-1 4 0 4-1 4-7 4-7 4-5 4 3 4 2 4 0 4 3 4-3 4 3 4-4 4 2 4-7 4-3 4 2 4 2 4-1 4-4 4 0 4-4 4 3 4-3 4-5 4 6 4-3 4 0 4 2 4-4 4-1 4 1 4 0 4-3 4-2 4 1 4-3 4 0 4-4 4-7 4 5 4-1 4-1 4-1 4-1 4 0 4 2 4-2 4-1 4 1 4 0 4-4 4 3 4 1 4-1 4 1 4-1 4 4 4-5 4 1 4-1 4 1 4 4 4-9 4 1 4-2 4 2 4-6 4-4 4-1 4-4 4-2 4 3 4 2 4-3 4 0 4-2 4-6 4 6 4 5 4-3 4-1 4-3 4-2 4 0 4-4 4-6 4-1 4 2 4-1 4 2 4-1 4 1 4-1 4-3 4 3 4-5 4-6 4 6 4-4 4 4 4-3 4-3 4 13 4 12 4 0 4-2 4-5 4 1 4-1 4-2 4-1 4-2 4 1 4 1 4-5 4 6"/>
<path stroke="#f0e442" stroke-width="4.4" d="M214 1807l4 2 4-1 4 1 4 3 4-2 4-2 4 1 4 0 4 1 4-1 4-2 4 2 4-3 4 0 4 3 4-10 4 3 4-3 4-1 4 1 4-2 4-1 4 1 4 1 4-2 4-3 4-3 4-3 4-4 4 0 4 0 4 3 4-4 4-2 4 3 4-5 4-7 4 3 4 2 4 0 4-1 4 0 4 3 4 3 4-1 4-3 4-5 4-2 4-2 4-3 4 1 4-2 4 3 4-1 4 2 4-5 4 1 4 0 4 1 4-3 4 0 4-1 4 0 4-1 4 1 4-2 4 1 4-7 4 0 4-3 4 4 4-3 4-4 4-8 4 0 4 2 4 1 4 4 4-1 4-4 4 1 4-2 4-1 4-4 4 1 4 0 4-1 4 1 4-3 4-3 4-6 4-5 4 4 4-3 4 0 4 1 4-3 4 3 4-3 4-1 4-2 4-1 4 0 4 1 4-4 4 1 4-5 4-5 4 1 4-3 4 2 4 0 4-2 4 1 4 1 4-2 4-4 4 5 4-1 4-5 4 3 4 1 4-2 4 0 4 1 4-1 4 0 4 1 4-2 4 2 4 1 4-2 4 1 4-3 4-1 4-6 4-4 4 1 4-5 4-2 4 2 4 4 4 0 4-4 4-3 4-2 4 3 4 5 4-3 4 0 4-4 4 0 4-3 4 1 4-9 4 1 4-1 4 4 4-1 4 0 4-2 4 0 4 2 4-7 4-1 4 1 4-3 4 4 4-3 4-3 4 3M902 1677l4 6 4 0 4-2 4 0 4-2 4-1 4 0 4-4 4 1 4 2 4-3 4-2 4 1 4-2 4 5 4-5 4-1 4 3 4-2 4-5 4-1 4 5 4 1 4-1 4-3 4 3 4-2 4-7 4-2 4 2 4 4 4 0 4-3 4 0 4-5 4 2 4 0 4-4 4 1 4-2 4 2 4 2 4-5 4 3 4-3 4 1 4-2 4 0 4-2 4 4 4-3 4-4 4-1 4 2 4-8 4 1 4-3 4-4 4-1 4-2 4 0 4-4 4 2 4-6 4 3 4 0 4-5 4 0 4 0 4 3 4-5 4 1 4-3 4 0 4-6 4 3 4 5 4-1 4-2 4 2 4 0 4-2 4-1 4-3 4-2 4-2 4 0 4-3 4 2 4-5 4 3 4-5 4-3 4-1M1282 1579l4-1 4 5 4-3 4 0 4 6 4 1 4-1 4-2 4-1 4-4 4 3 4-9 4-1 4 4 4-1 4 3 4-1 4 2 4-10 4 1 4 1 4 2 4 3 4 0 4 1 4 0 4-4 4-1 4-2 4-2 4 3 4-4 4-1 4-6 4-4 4-8 4 3 4-3 4 1 4-2 4 1 4-2 4-5 4-1 4-1 4-1 4-4 4 0 4 0 4-2 4-1 4-1 4 2 4-1 4 1 4 0 4-3 4-4 4 3 4 4 4-2 4 0 4-5 4-2 4 0 4-4 4 1 4 1 4-1 4-7 4-3 4-1 4-2 4-2 4 1 4 3 4-1 4-1 4 1 4-3 4-8 4-5 4-4 4 1 4 3 4 1 4-3 4-2 4-3 4-1 4-4 4 3 4 0 4-1 4-1 4-1 4-3 4-6 4 2 4-4 4-7 4-3 4-1 4-2 4-8 4 1 4-5 4 0 4-1 4-2 4-4 4 1 4 0 4 0 4 5 4-1 4 1 4-2 4 1 4-3 4-1 4 1 4-5 4 3 4-5 4-3 4 0 4-1 4-2 4-2 4-4 4 3 4-4 4 1 4 1 4-2 4 11 4-3 4 3 4-3 4-3 4 4 4-5 4-4 4-4 4 1 4 4 4-2 4 0 4 5 4-3 4-1 4 3 4 1 4 0 4 0 4-5 4 1 4-2 4-1 4-4 4-3 4-2 4-2 4-2 4-2 4-2 4-1 4 4 4-2 4 2 4 1 4-1 4 0 4-6 4-2 4 2 4-1 4-4 4-1 4 1 4-10 4-1 4-2 4 1 4 3 4-3 4-2 4 0 4-6 4-2 4-2 4-1 4-3 4 2 4-4 4 0 4 3 4-4 4-1 4 3 4-1 4 1 4 0 4 3 4-4 4 1 4-5 4-5 4 0 4 4 4 2 4-2 4-1 4 4 4-3 4-2 4-4 4 0 4-1 4-3 4-1 4-3 4 0 4-6 4-9 4 2 4 0 4-3 4 1 4-1 4 0 4-2 4-3 4 5 4-5 4-5 4-2 4-5 4-5 4-3 4 1 4 1 4-4 4 1 4-2 4 0 4-2 4 0 4 1 4-4 4-10"/>
<path stroke="#56b4e9" stroke-width="3.6" d="M214 1867l4-1 4-1 4 1 4 1 4-1 4 2 4 1 4-4 4 1 4 1 4-2 4-1 4 2 4-2 4-2 4 0 4-5 4 0 4-3 4 2 4-1 4-2 4 2 4 2 4-3 4-4 4-2 4-3 4-5 4 2 4-1 4 1 4-2 4 0 4-1 4-3 4-3 4-1 4 2 4 2 4 1 4-1 4 2 4 3 4-5 4 0 4-5 4-3 4 1 4-3 4-1 4 0 4-1 4-2 4 3 4-2 4-1 4 3 4-4 4 2 4-1 4 0 4-2 4-1 4 0 4 0 4-3 4 2 4-1 4-4 4 0 4-2 4-6 4-5 4 1 4 3 4 0 4 3 4-1 4 0 4-3 4-3 4-1 4-1 4 1 4-3 4 0 4 0 4-1 4-4 4-6 4-5 4 1 4 0 4-2 4 1 4 1 4-2 4-1 4 1 4-1 4-3 4-1 4 2 4-3 4-1 4-4 4-4 4-2 4 1 4 1 4-1 4-1 4 1 4 2 4-4 4-2 4 3 4-1 4-2 4 1 4-1 4-1 4 4 4-2 4-1 4 0 4 0 4 1 4 0 4 0 4-2 4 2 4-4 4-1 4-5 4-1 4-6 4 0 4 0 4-1 4 0 4 1 4 1 4-4 4-2"/>
<path stroke="#9400d3" stroke-width="4.4" d="M1934 1387l4-2 4-1 4-1 4-1 4 2 4 1 4-1 4 0 4-2 4-1 4-1 4-2 4 0 4-2 4-1 4 0 4-2 4-2 4-9 4-1 4 1 4-2 4-2 4 3 4-1 4-3 4-7 4-4 4 2 4-2 4-4 4-2 4 0 4 4 4 2 4-3 4-3 4 1 4-1 4 1 4 3 4-1 4-1 4-3 4 1 4-4 4 0 4-2 4 3 4 0 4 1 4-1 4 1 4-3 4-1 4-3 4-2 4-3 4-3 4 2 4-2"/>
<path stroke="#0072b2" stroke-width="4.0" d="M2994 1005l4-5 4-2 4-1 4 2 4 3 4-3 4-2 4 1 4-3 4-2 4-1 4-2 4-2 4-4 4-1 4-1 4-1 4-6 4-6 4 0 4-1 4-1 4 0 4-3 4 2 4-1 4-2 4-4 4-4 4 1 4 2 4-2 4-6 4-2 4-2 4-1 4-14 4 0 4-2 4 0 4 0 4-3 4-1 4 0 4-2 4-1 4-1 4-1 4-1 4 0 4-1 4-1 4 2 4 2 4-3 4-3 4 0 4-2 4-3 4-6 4-1 4-3 4-5 4-4 4-1 4-4 4-2 4-1 4 1 4-1 4 1 4-3 4-1 4-6 4-4 4-1 4 0 4 1 4-3 4 0 4 0 4 0 4-4 4-6 4-5 4-1 4-2 4 1 4-4 4-2 4-1 4-2 4-3 4 0 4-2 4 0 4-6 4 0 4-2 4-1 4-4 4 13 4-3 4-1 4-6 4-4 4-1 4 1 4-2 4-4 4-5 4-3 4-2 4 0 4 0 4-3 4-4 4-1 4-3 4-2 4-4 4 2 4-1 4 2 4-2 4-3 4-2 4-3 4-2 4-3 4-3 4 3 4 0 4-2 4-3 4 1 4-1 4-1 4-3 4 2 4-2 4-3 4 0 4 1 4-3 4 0M3582 738l4-2 4 1 4 0 4 1 4-1 4-1 4-1 4 2 4 0 4-1 4 12 4 0 4-1 4 0 4 0 4-1 4-2 4 1 4-3 4 0 4 0 4 0 4-2 4-1 4-2 4-1 4 0 4-6 4-2 4-3 4 0 4-1 4 2 4-1 4-1 4-8 4-1 4 1 4-3 4 2 4 0 4-3 4-1 4-3 4-5 4-1 4-1 4-2 4 2 4-1 4-4 4 1 4-1 4-2 4 11 4-6 4-2 4-2 4-1 4 3 4 1 4 1 4 1 4-5 4-4 4-1 4-1 4-2 4 2 4-4 4-2 4-6 4-1 4 4 4 0 4-6 4-2 4 0 4 11 4-3 4 0 4-1 4-3 4-1 4-3 4-3 4 0 4-4 4-2 4-3 4-2 4 3 4-4 4-2 4-3 4 3 4 4 4-4 4-2 4-3 4-4 4 1 4-5 4 0 4-4 4 3 4-2 4 2 4-2 4 2 4-3 4 2 4 2 4-1 4 3 4-1 4 2"/>
<path stroke="#f0e442" stroke-width="5.0" d="M330 1788l4 0 4 4 4 0 4-2 4-5 4 0 4-2 4-2 4 1 4 2 4-2 4-3 4 0 4 6 4 3 4-1 4-3 4-6 4-5 4 2 4-2 4-2 4 0 4-2 4 4 4-1 4-2 4 1 4-1 4-2 4-2 4 0 4 1 4-1 4-1 4 3 4-3 4-1 4 2 4-5 4 3 4-3 4-3 4-2 4-4 4 0 4 4 4 1 4-1 4-1 4 2 4-1 4-2 4-2 4-3 4 0 4 0 4 3 4-4 4 0 4-5"/>
<path stroke="#e69f00" stroke-width="4.4" d="M1334 1577l4-1 4 3 4 1 4 2 4-1 4-4 4-1 4 1 4 2 4 1 4-3 4 1 4-3 4 2 4-4 4 0 4 0 4 0 4-2 4-2 4-4 4-3 4-8 4 2 4 0 4-2 4 0 4 0 4-1 4-2 4-2 4-4 4 0 4-3 4-2 4-1 4 0 4 0 4-2 4-2 4 0 4 2 4-4 4-2 4 1 4 2 4 1 4 0 4 1 4 0 4-3 4-4 4 0 4 0 4-2 4-3 4-3 4-1 4 1 4-3 4-2 4-1 4 1 4 0 4-2 4 2 4-6 4-6 4-1 4-4 4-1 4 0 4 1 4-1 4-1 4-2 4-3 4-1 4 2 4-1 4-2 4-1 4-1 4-3 4-5 4-2 4-3 4-3 4-4 4-3 4-6 4 1 4-2 4-3 4 0 4-2 4-3 4-5 4 1 4-1 4 4 4 4 4-2 4 1 4-1 4-4 4-1 4-2 4 1 4-5 4 1 4-3 4 1 4-2 4-1 4-1 4-4 4 0 4-1 4-2 4-1 4-1 4 3 4 9 4-1 4-1 4 0 4-4 4-1 4-2 4-1 4-2 4-1 4-1 4 3 4 0 4 0 4 2 4 1 4 1 4 0 4-2 4 3 4-3 4-2 4-1 4-1 4-4 4-5 4 2 4-7 4 0 4 0 4-3 4 3 4-4 4 3 4 2 4-1 4-1 4-2 4-2 4 1 4-3 4-1 4-1 4-2 4-2 4-9 4-2 4 1 4 1 4-2 4 0 4-1 4-1 4-7 4-3 4-3 4 1 4-3 4 0 4 0 4 0 4 2 4-4 4 0 4 1 4 1 4-2 4 3 4-1 4-3 4-1 4 0 4-2 4-2 4 1 4 3 4 0 4 1 4-1 4 0 4-4 4 0 4-4 4-2 4-4 4 2 4-4 4 3 4-8 4-6 4-3 4 2 4-1 4-2 4-2 4 0 4-1 4 2 4 0 4-4 4-4 4-7 4-3 4-3 4-1 4 1 4-2 4 1 4 0 4-4 4 0 4-4 4 1 4-1 4-1 4-9 4-5 4-2 4-3 4-5 4-4 4 2 4-3 4-1 4-2 4-3 4-1 4 3 4 0 4 1 4 0 4 0 4 0 4-2 4-2 4-3 4 1 4-3 4-5 4-3 4 0 4-2 4-1 4-4 4 1 4-2 4-2 4 0 4-1 4-1 4 0 4-1 4 1 4 0 4-3 4 1 4-4 4 0 4-5 4-1 4 3 4-3 4 2 4 0 4-5 4 2 4-3 4-3 4 2 4-1 4-1 4 0 4-1 4 0 4-1 4-1 4-3 4 0 4 2 4 0 4-6 4 3M2558 1184l4 6 4-2 4 1 4-1 4-1 4 0 4-3 4-4 4-1 4-2 4-2 4 0 4 2 4-2 4 4 4 0 4-2 4-4 4-8 4-4 4-3 4-2 4-2 4 3 4-2 4-1 4-1 4-2 4 0 4-3 4 2 4 1 4-3 4 0 4-1 4-1 4-4 4-2 4-2 4 4 4 0 4-1 4-3 4-1 4-3 4-3 4-3 4 1 4 4 4-1 4-1 4-2 4-1 4-4 4-1 4-4 4-1 4 2 4-3 4-2 4 2 4-2 4 1 4-3 4-2 4 3 4 0 4 0 4-1 4-3 4-3 4-3 4-3 4-5 4-1 4-4 4-5 4-1 4 0 4 0 4-3 4-9 4-1 4-1 4-3 4 2 4 1 4 2 4 5 4-8 4-6 4-4 4-3 4-5 4-2 4 1 4-2 4-1 4 1 4-1 4-4 4-3 4-4 4-5 4-2 4-3 4 1 4-2"/>
<path stroke="#009e73" stroke-width="4.8" d="M2290 1231l4-4 4-4 4-5 4-3 4-2 4-2 4-1 4-1 4 1 4-5 4-1 4 2 4-1 4 4 4 0 4-1 4-2 4-4 4 1 4-3 4 0 4-3 4-5 4 1 4-3 4-4 4-2 4-1 4-1 4-1 4-2 4 1 4 0 4-3 4 1 4-1 4 0 4 0 4-1 4-1 4-2 4 0 4-6 4 1 4-1 4 1 4-2 4 0 4-1 4-2 4-2 4-2 4 0 4-2 4-1 4 3 4-3 4 1 4-3 4 1 4-2 4-2 4 0 4 1 4-3 4-1"/>
<path stroke="#f0e442" stroke-width="3.6" d="M1606 1570l4-2 4-2 4 1 4-2 4 1 4-4 4 0 4 0 4-2 4-2 4-1 4 2 4-3 4 0 4-2 4-4 4-1 4-2 4-4 4-3 4-3 4-3 4-3 4-7 4 1 4-2 4-2 4 2 4-5 4-2 4-4 4 0 4 5 4 3 4 1 4-2 4-4 4 0 4 0 4 1 4-3 4-5 4-1 4 1 4 1 4-4 4-2 4 0 4-2 4-1 4 0 4-4 4 2 4-3 4 1 4 13 4-1 4-4 4-2 4 0 4 1 4-3 4-2 4 0 4-4 4 1 4 2 4-2 4 2 4 1 4 1 4 1 4 0 4 0 4-2 4-3 4-1 4 3 4-3 4 0 4-6 4-1 4-7 4 1 4 0 4 0 4-1 4 0 4 2 4 1 4 2 4-6 4-4 4 0 4 3 4-2 4-1 4-1 4-4 4-2 4-5 4-2 4-2 4 0 4 0 4 1 4-1 4 0 4-8 4-2 4-5 4 1 4-3 4 1 4 1 4-3 4 2 4-3 4 1 4 1 4-1 4 1 4 4 4-3 4-2 4-2 4-3 4 1 4 3 4-1 4 0 4-1 4 0 4 1 4-1 4-3 4 0 4-4 4-2 4-4 4 0 4-1 4 1 4-6 4-6 4-3 4-1 4 5 4-6 4-2 4 1 4-3 4 1 4 0 4-1 4-6 4-3 4-1 4-6 4-1 4-1 4-1 4 3 4-3 4-1 4-2 4 0 4-2 4-1 4-1 4-7 4-8 4-3 4-2 4-3 4-1 4-1 4-4 4 0 4-3 4 0 4-3 4 1 4 4 4 1 4 1 4-2 4-4 4-1 4 0 4 0 4 1 4-4 4-5 4-3 4 1 4-2 4-5 4-2 4-1 4 1 4-3 4-1 4-2 4 1 4 0 4-2 4-1 4 2 4-1 4-2 4-1 4 1 4-4 4-2 4 0 4 0 4-2 4 1 4-3 4 0 4 1 4-6 4 4 4-4 4 3 4-1 4-2 4 2 4-1 4-3 4-4 4 1 4 2 4-2 4-1 4 0M2558 1267l4 3 4 2 4 2 4-4 4-1 4-3 4 1 4-6 4 6 4-1 4-2 4-1 4-1 4-1 4 3 4 1 4 0 4-3 4-7 4 0 4 0 4-3 4 0 4 1 4-3 4 1 4 0 4-6 4 0 4 1 4-1 4 2 4-4 4 0 4 0 4-4 4 2 4-5 4-3 4 4 4 1 4 0 4-3 4-2 4 0 4-2 4-3 4 2 4 0 4 1 4 0 4-5 4-1 4 0 4-5 4-2 4-3 4 2 4-1 4-1 4 0 4-1 4 0 4 0 4-1 4 2 4-3 4-1 4 2 4-2 4-4 4-3 4 0 4-7 4 0 4-3 4-5 4 0 4-3 4-2 4 1 4-13 4 0 4-2 4 2 4 0 4 2 4 3 4 4 4-7 4-4 4-7 4-5 4-1 4-2 4 0 4-1 4-1 4-1 4-1 4-4 4-4 4-3 4-6 4 0 4-3 4 1 4-2 4-6 4-1 4-6 4 2 4 6 4-1 4 2 4-5 4 0 4-3 4-4 4-2 4-2 4-3 4 1 4-1 4-2 4-2 4-3 4-6 4 0 4-3 4 2 4-3 4-1 4 1 4-1 4 0 4-4 4-2 4-2 4 2 4-3 4-5 4-2 4-1 4 0 4-14 4-3 4 0 4 3 4-3 4 0 4-2 4-3 4 2 4-3 4 0 4-3 4 0 4 0 4-3 4 0 4 3 4 2 4-2 4-1 4-2 4 2 4-5 4-5 4-8 4 0 4-5 4-3 4-2 4-2 4-2 4 1 4-1 4-2 4-1 4-1 4 2 4-10 4 0 4 1 4-5 4 1 4-1 4-2 4 3 4-1 4-4 4-4 4-5 4-4 4 0 4-2 4-2 4-1 4-1 4 0 4-6 4 2 4-4 4 0 4-4 4-2 4 1 4-2 4-1 4 10 4-5 4-4 4-4 4-3 4 1 4 1 4-1 4-8 4-6 4 1 4 2 4-2 4-4 4 0 4-3 4-3 4 0 4-4 4-1 4-5 4 2 4 4 4-1 4-4 4-3 4-2 4-2 4-4 4-4 4 1 4 1 4-2 4 2 4-1 4 3 4-2 4-3 4 0 4-3 4 0 4-3 4 1 4-3 4 2M3582 873l4-1 4-1 4 2 4-1 4 1 4 4 4-5 4 1 4 1 4-3 4 11 4 6 4-2 4-1 4-2 4 0 4-3 4 3 4-1 4-1 4-3 4 1 4 0 4-4 4 0 4-1 4-1 4-6 4-2 4 0 4 0 4-2 4 0 4-2 4 0 4-5 4-6 4 2 4 3 4-1 4-3 4 0 4 1 4-3 4-7 4-4 4 1 4-1 4 1 4 2 4-3 4-3 4-1 4-3 4 1 4-1 4-3 4-2 4 1 4 1 4 1 4 2 4-4 4 1 4-8 4-1 4 1 4-2 4-1 4-2 4-4 4-2 4-1 4 6 4-4 4-3 4-2 4-3 4-2 4 1 4 1 4 0 4-3 4-4 4-4 4-2 4-2 4-1 4-1 4-4 4 0 4-2 4 0 4-3 4-2 4 1 4 4 4-2 4-4 4-3 4-3 4-2 4-2 4-2 4 0 4-1 4 1 4 0 4 1 4-1 4 0 4 2 4 1 4-1 4 3 4-2 4 2"/>
<path stroke="#009e73" stroke-width="4.4" d="M1902 1461l4-1 4-1 4-3 4-1 4 0 4-4 4 1 4-4 4-4 4-2 4 1 4 2 4 1 4-2 4 1 4 1 4-1 4-2 4-1 4-3 4-1 4 0 4-2 4 0 4-3 4-2 4-7 4-2 4 2 4-1 4 0 4-3 4 0 4 1 4-10"/>
<path stroke="#009e73" stroke-width="4.6" d="M214 1754l4-1 4 0 4 1 4 0 4 2 4-2 4 2 4-1 4-1 4-1 4 1 4 1 4-2 4 0 4-2 4-2 4-1 4-4 4 0 4 0 4 0 4 0 4-2 4 3 4-3 4-3 4-6 4-3 4-1 4 0 4-1 4 0 4 1 4-3 4-2 4-4 4 1 4-2 4 0 4 0 4-1 4 1 4 5 4 2 4-2 4-2 4-4 4-5 4 0 4-2 4-1 4 1 4-2 4 1 4 0 4-2 4 0 4 1 4-1 4-2 4-2 4 3 4-3 4 0 4 0 4-1 4-2 4-1 4 1 4-3 4-1 4-2 4-6 4-5 4 2 4 2 4-1 4 1 4 0 4 1 4-3 4-1 4-2 4-3 4 1 4 0 4 1 4-3 4-4 4-1 4-6 4-5 4 1 4-3 4 2 4-2 4 0 4-1 4 2 4 0 4-3 4-2 4 1 4-1 4-3 4 0"/>
<path stroke="#e51e10" stroke-width="5.0" d="M3730 697l4 3 4-3 4 0 4-1 4 0 4-1 4-4 4-4 4-3 4-1 4-3 4 1 4 2 4-1 4-2 4-2 4-3 4-6 4-3 4-2 4-2 4 2 4-3 4 1 4 4 4 0 4-5 4-4 4-2 4-1 4-2 4 1 4-1 4-3 4-7 4 3 4 1 4 1 4-4 4-5 4-1 4 2 4-3 4 0 4-3 4 0 4-3 4-5 4-1 4-2 4-2 4-3 4 1 4-3 4-3 4-1 4-1 4-4 4 2 4 3 4-2 4-4 4 0 4-2 4-1 4-3 4 0 4 0 4 0 4 0 4-1 4 1 4 0 4 0 4 2 4 2 4 0 4 1 4-1 4 2"/>
<path stroke="#e51e10" stroke-width="3.4" d="M214 1894l4 2 4-1 4 0 4 2 4-2 4 3 4-1 4-2 4 0 4-2 4 2 4 0 4-1 4-2 4 1 4-3 4-1 4-1 4-3 4 1 4-1 4 0 4 1 4 2M318 1878h0M346 1872l4-5 4 0 4-2 4-1 4-2 4 0 4 3 4 0M386 1867l4 4 4-5 4 0 4-4 4-5 4 0 4-1 4-1 4-1 4-1 4-1 4 2M446 1853l4-1 4 1 4-4 4 5 4-4 4 0M478 1847l4-2 4 0 4 1 4 0 4-3 4-5 4-2 4-6 4 1 4 2M530 1835l4 0 4-4 4 0 4-3 4 0 4-1 4 0 4 2 4-3 4-4 4-2 4-4M586 1812l4-4 4 3 4 2 4-4 4 0 4 0 4-1 4-1 4 0 4-1 4 1 4-3 4-2M662 1791h0M674 1794l4-2M686 1791l4 2 4-2M706 1791l4 1 4 0 4 1 4-2M758 1783l4-3M798 1770l4 2 4 5 4-2 4-2 4-4 4 2 4-4 4-3 4-4 4-1 4 1 4 3 4 2 4-2M862 1763h0M870 1760l4-2 4-1M886 1755h0M906 1781l4-3 4-1 4-2 4-2 4 1 4 0 4-1M954 1769l4 0 4-1 4 0 4 0 4 1 4-1 4-2"/>
<path stroke="#009e73" stroke-width="4.4" d="M1222 1625l4-1 4 0 4-5 4 1 4-2 4-2 4-2 4-1 4-4 4 0 4 2 4-5 4-1 4-5 4-12 4 0 4 1 4 0 4 0 4 5 4 1 4-4 4-1 4 0 4 0 4-2 4-7 4-1 4 3 4 3 4 0 4 2 4-2 4-3 4 1 4-2 4-2 4 4 4-1 4 2 4-4 4 0 4-2 4 2 4-1 4-1 4-2 4-3 4-4 4-2 4-8 4 6 4-6 4 0 4 2 4 1 4 0 4-7 4-3 4 0 4-3 4 1 4-6 4 1 4 2 4-3 4 0 4 1 4-4 4 1 4 1 4-5 4-1 4 5 4-1 4-1 4 1 4 0 4-2 4-4 4 0 4-1 4-1 4-2 4-2 4-1 4-3 4-2 4-1 4 0 4 0 4-2 4 1 4 2 4-5"/>
<path stroke="#009e73" stroke-width="4.4" d="M3146 983l4-1 4 4 4-3 4 1 4 0 4-3 4-2 4-4 4 0 4 2 4-4 4 0 4-2 4 0 4 5 4 0 4-2 4-3 4-1 4-3 4-4 4-2 4-8 4-2 4 2 4-7 4-3 4 2 4-7 4 4 4-4 4 2 4-4 4-1 4-1 4-5 4-2 4 1 4-2 4-1 4-2 4 2 4 1 4-2 4-4 4-8 4-6 4-1 4 1 4-1 4-4 4 0 4 0 4-2 4 1 4-8 4-1 4 2 4-4 4-6 4 5 4-4 4-1 4 10 4-3 4-1 4-11 4-1 4-2 4 1 4 1 4-8 4-2 4 3 4-1 4 0 4-4 4 1 4-3 4-2 4-3 4-3 4-2 4-1 4 0 4 2 4-2 4-4 4 2 4-4 4-4 4-1 4-5 4 5 4-5 4-2 4 3 4 2 4-1 4-6 4 1 4-1 4-2 4-4 4 1 4 1 4-1 4-1M3582 799l4 0 4 0 4 1 4-2 4-2 4 3 4 0 4 2 4 0 4 0 4 8 4 4 4-4 4-1 4 0 4 1 4-2 4 3 4-5 4-3 4 0 4 0 4 0 4 0 4 1 4-5 4 3 4-6 4-2 4-5 4-2 4 2 4 0 4-1 4 0 4-3 4-5 4 0 4-1 4-1 4-3 4 2 4 0 4-5 4-5 4-2 4-1 4-1 4 3 4 0 4-5 4 0 4 4 4-2 4 0 4-9 4-1 4 0 4-2 4-1 4 7 4 3 4-8 4 0 4-6 4 2 4-3 4-4 4 5 4-3 4-2 4-6 4 3 4-4 4 1 4 1 4-8 4 5 4-2 4-5 4 0 4-2 4-1 4-6 4-1 4-5 4-1 4 0 4-1 4-2 4 2 4-5 4-3 4 0 4-3 4 3 4-2 4 3 4-6"/>
<path stroke="#56b4e9" stroke-width="4.0" d="M2014 1409l4 1 4 3 4-2 4-2 4-1 4-1 4-6 4-4 4-3 4 2 4-3 4-2 4 0 4 2 4 0 4-1 4-1 4 2 4-3 4 1 4 1 4 1 4-1 4-2 4-4 4 0 4 0 4-1 4 0 4 2 4 0 4 2 4-2 4-1 4-2 4-5 4-1 4-1 4 0 4-2 4-2 4-5 4-9 4-1 4 1 4 0 4-3 4-2 4 3 4-2 4 0 4-1 4-3 4-2 4-6 4-3 4-4 4 0 4 1 4-2 4 1 4-3 4-1 4-2 4-1 4 1 4-5 4 0 4-7 4-6 4-6 4-2 4-2 4-2 4-1 4-1 4-1 4-3 4-2 4-1 4 0 4 5 4-1 4 1 4-3 4 1 4-2 4-1 4-5 4 1 4-1 4-6"/>
<path stroke="#e51e10" stroke-width="5.0" d="M2474 1237l4 1 4-2 4-3 4 4 4-3 4-3 4 0 4-6 4 4 4-2 4 0 4 0 4-1 4 1 4 0 4-6 4 5 4-5 4-3 4 2M2558 1193h0"/>
<path stroke="#9400d3" stroke-width="4.2" d="M2562 1130l4-1 4 6 4-6 4 2 4-1 4-3 4-7 4 2 4-3 4-2 4 3 4-1M2618 1122l4 3 4-5 4-2 4-8 4-4 4-4 4-3 4 0 4 1 4-3 4-2 4 0 4 0 4-2 4 1 4 0 4-2 4-1 4 1 4-2 4-1 4-5 4 0 4-2 4 2 4 3 4-1M2738 1082l4-5 4-2 4 1 4 2 4 2 4-2 4-4 4-2 4-1 4-1 4-4 4-2 4 1M2806 1062l4 1 4-5 4-1 4 3 4 1 4-3 4-1 4-1 4-6 4-2 4 1 4-5 4 1 4-5 4-5 4-1 4 0 4-1 4-3 4-10 4-1 4 0 4 1 4-2 4 1 4 1 4 8 4-8 4-6 4-5 4-1 4-7 4-2 4 1 4-2 4-1 4 1 4-1 4-5 4-3 4-3 4-8 4 0 4-1M2990 972l4-3 4-3 4-5 4 0 4 4 4 4 4-2M3026 963l4-3 4-3 4 0 4-2M3050 950l4 0 4 0 4-4 4-5 4-4M3078 933l4 2 4-4 4 1 4-2 4 1"/>
<path stroke="#e51e10" stroke-width="4.0" d="M3582 824l4 0 4 0 4 0 4 0 4 0 4-1 4-2 4 4 4 0 4-1 4 11 4 1 4-4 4 3 4-4 4 0 4 0 4 1 4-3 4-1 4 0 4-2 4-1 4 2 4-2 4-1 4-1 4-7 4 0 4-5 4 3 4 0 4-1 4 1 4-6 4-4 4-5 4 2 4-1 4-2 4-1 4 3 4-1 4-1 4-9 4-3 4 1 4-1 4 0 4 0 4-1 4-1 4-3 4-1 4 1 4-2 4-4 4 0 4 0 4 1 4 1 4 1 4-2 4 0 4-7 4 0 4 0 4-1 4-2 4 0 4-2 4-6 4-1 4 0 4 3 4-4 4-5 4 0 4-4 4 0 4 1 4 2 4-7 4-5 4-2 4-2 4-1 4 1 4-5 4-1 4 0 4-2 4-5 4-2 4-1 4 0 4 3 4 0 4-1 4-14 4-2 4-2 4-3 4-1 4 0 4-3 4-1 4 2 4 2 4 1 4-1 4 1 4 2 4-3 4 1 4 2 4-2"/>
<path stroke="#0072b2" stroke-width="4.0" d="M762 1673l4-2 4-2 4 2 4 0 4 1 4 0 4-3 4-1 4-5 4 5 4 2 4-2 4 4 4-6 4 1 4-4 4-3 4-6 4-1 4 3 4 1 4-1 4-1 4-1 4 0 4-3 4 3 4-4 4-1 4 1 4-2 4 2 4 3 4-1 4 14 4 8 4-2 4 0 4-3 4 4 4-2 4-5 4 0 4 1 4-2 4-4 4 2 4-4 4 7 4 0 4 0 4-2 4 0 4 2 4-1 4-5 4-1 4 3 4 3 4-3 4 1 4-2 4-13 4 5 4 2 4 1 4 2 4-5 4 0 4-1 4 1 4-1 4-1 4-1 4-2 4 0 4 2 4-2 4 1 4-4 4 2 4 1 4-2 4-2 4-2 4 3 4-1 4 1 4-4"/>
<path stroke="#9400d3" stroke-width="4.2" d="M2842 947l4-3 4-5 4-1M2882 918h0M2906 902l4 4 4 6 4-10 4-4 4-4 4-4 4-6 4 0 4 1 4 2 4 5"/>
<path stroke="#e51e10" stroke-width="5.0" d="M2294 1369l4-7 4-1 4-3 4 0 4-1 4-1 4-3 4-3 4 1 4 0 4 1 4 0 4 1 4-1 4-1 4-2 4-2 4-1 4 0 4-1 4-2 4-4"/>
<path stroke="#56b4e9" stroke-width="4.4" d="M3330 725l4-4 4-2 4-5 4 3 4-7 4-1 4 0 4 0 4-7 4 1 4-1 4-1 4-2 4-5 4 0 4-3 4 1 4 12 4-4 4-7 4-3 4-4M3426 687l4-2 4 0 4-12 4-1 4 0 4-1 4-1 4-3 4-3 4-5 4 0 4-5 4 1 4-2 4 0 4 1 4-1 4-3 4-2 4-4 4-3 4-3 4-2 4 1 4 3 4-3 4-3 4 0 4-2 4-7 4-5 4-3 4-2 4-4 4 1 4-4 4-3 4 0 4-14 4 0 4 0 4 1 4-1 4 2 4 2 4-6 4 1 4 3 4 0 4 11 4 3 4-1 4-1 4-2 4-1 4 2 4-4 4 0 4 1 4-1 4-1 4 0 4-1 4-2 4-1 4-1 4-6 4 0 4-3 4 0 4-2 4 1 4-4 4 1 4-8 4-2 4 0 4 0 4-1 4-2 4 0 4 1 4-3 4-3 4-4 4-2 4-2 4-1 4 2 4-1 4 0 4-4 4-2M3806 546l4-2 4-2 4 0 4-1 4 1 4 5 4-4 4-1 4-6 4 0 4 0 4-1 4-1 4-5 4-1 4-4 4-2 4 5 4-3 4-3 4-4 4-1 4-1 4 1 4-2 4 0 4-4 4-3 4-2 4-4 4 0 4-2 4-7 4-1M3954 487l4-1 4-4 4 4M3974 487l4-4 4-3 4-4 4-3 4 1 4-4 4 0 4-1 4-2 4 1 4 2 4-2 4 1 4 2 4-1 4 2 4 0 4 2 4-1"/>
<path stroke="#0072b2" stroke-width="3.6" d="M2638 1202l4-3 4-1 4-1 4 0 4-2 4-1 4-2 4 1 4-2 4-2 4 3 4-1 4-2 4 1 4 1 4-4 4-4 4-4 4 3 4 0 4 2 4-2 4-2 4 0 4-2 4-5 4 0 4 1 4 1 4 3"/>
<path stroke="#000000" stroke-width="5.0" d="M3446 882l4-1 4-3 4-3 4-1 4-2 4-2 4-5 4 0 4 1 4-2 4 5 4-3 4-6 4-1 4-2 4-3 4-4 4-1 4 6 4-5 4 5 4-1 4-7 4-1 4 1 4-2 4-1 4-2 4 1 4 1 4-2 4-3 4 0M3582 815l4-3 4 2 4-1 4 1 4 1 4-3 4 1 4 2 4-1 4 1 4 7 4 2 4-2 4 3 4-3 4-3 4 2 4-3 4-3 4 4 4-4 4 0 4-1 4-3 4 2 4 0 4-2 4-5 4-3 4 3 4-6 4 3 4-2 4-1 4 0 4-7 4-2 4 3 4-2 4-4 4 3 4 0 4-6 4-1 4-7 4 0 4-1 4-2 4 1 4 2 4 2 4-2 4-1 4-7 4-3 4-4 4-3 4-1 4 0 4 2 4 4 4-4 4 2 4-3 4-4 4-2 4-2 4-2 4 3 4-5 4 0 4-8 4 4 4-1 4 0 4-1 4-5 4-1 4 2 4-2 4-3 4-1 4-1 4-3 4-5 4-3 4-1 4-2 4-4 4 4 4 0 4-1 4-7 4 4 4-7 4 0 4 6 4-2 4-4 4-5 4 0 4-5 4-2 4-1 4-1 4-2 4 1 4 0 4 1 4-1 4 2 4 0 4 1 4-2 4 4 4-1 4-1"/>
<path stroke="#9400d3" stroke-width="3.6" d="M510 1795l4-2 4 1 4 1 4 2 4-1 4 3 4-4 4 1 4-5 4-1 4 1 4-2 4 0 4 0 4-2 4-3 4-4 4-6 4-2 4-1 4 1 4-1 4 2 4 0 4-1 4-2 4 1 4 0 4-4 4-1 4 0 4 0 4-4 4-6 4 3 4-1 4-1 4-1 4 0 4 1 4 0 4-3 4-1 4 2 4-1 4-2 4 0 4 1 4 0 4 1 4-1 4 0 4 1 4-1 4-2 4 2 4 0 4-2 4-1 4-3 4-1 4 0 4-4 4-3 4-4 4-1 4 1 4 0 4 2 4-3 4 0 4-4 4 4 4 4 4-3 4-1 4-3 4 0 4-3 4-3 4-4 4-1 4 3 4-1 4 0 4-1 4-1 4-2 4 1 4-2 4-2 4 2 4-4 4 0 4 0 4 1 4-1M902 1732l4 7 4-1 4-3 4-1 4 0 4-2 4 0 4-1 4-1 4-1 4-1 4 0 4-2 4 1 4-1 4-2 4-1 4 0 4 1 4-3 4-1 4 3 4 0 4 0 4-2 4 2 4-3 4-9 4 1 4 0 4 1 4 3 4-1 4 0 4-2 4 0 4-1 4-1 4 2 4-2 4-1 4 2 4-4 4-1 4 0 4-1 4 1 4-1 4 1 4-5 4 3 4-2 4 2 4-2 4-6 4-2 4-3 4-2 4-2 4-2 4-3 4 0 4 1 4 0 4-1"/>
<path stroke="#e51e10" stroke-width="3.6" d="M1018 1757l4 3 4-1 4 2 4-1 4-2 4 0 4-2 4 0 4 0 4 0M1070 1757l4-2 4-3 4-1 4-2 4 0 4 2 4-2 4 0 4 1 4-2 4 0 4-1 4-4 4-4 4-3 4-2 4-2 4-1 4-2 4 0 4-2 4-1 4 0 4-1 4-1 4 0M1190 1718l4 0 4-2 4-3M1210 1715l4 0 4 1 4-1M1230 1715h0"/>
<path stroke="#0072b2" stroke-width="5.0" d="M214 1814l4 1 4-2 4 3 4-1 4 1 4 3 4-3 4 2 4 1 4-4 4 1 4-3 4 2 4 0 4-1 4-5 4-2 4 3 4-8 4 1 4 6 4-5 4 0 4-2 4-1 4-4 4-2"/>
<path stroke="#0072b2" stroke-width="3.6" d="M906 1738l4-2 4 0 4-1 4-2 4 0 4-2 4 0 4-2 4 2 4-6 4 2 4 3 4-2 4-1 4-5 4-1 4 2 4 2 4-3 4 2 4-4 4 1 4-1 4 0 4 2 4-2"/>
<path stroke="#009e73" stroke-width="3.6" d="M3630 698l4 0 4-1 4-2 4 4 4-2 4-3 4-1 4-3 4-2 4 2 4 1 4-3 4 1 4-3 4-4 4-6 4 3 4-4 4-2 4 2 4-3 4 2 4 2 4-9 4-6 4 6 4-3 4-1 4 2 4-4 4-3 4-2 4-3 4-1 4 0 4-2 4-2 4 3 4-1 4-5 4 4 4-7 4-1 4-3 4-1 4-3 4 2 4-3 4 6 4 1 4-4 4-1 4-6 4 0 4 0 4-5 4 8 4-8 4-3 4-4 4 5 4-2 4-1 4-5 4-3 4 1 4-1 4-2 4 2 4-2 4-2 4-3 4-3 4-1 4-2 4-6 4-3 4 0 4 2 4-4 4-3 4-2 4-3 4 2 4 1 4 0 4-1"/>
<path stroke="#e51e10" stroke-width="3.6" d="M582 1788l4 3 4-4 4 1 4 0 4 2 4-2 4-1 4 0 4-3 4-2 4-1 4-1 4 3 4-4 4-2 4-5 4 3 4 1 4 2 4-4 4 1 4-1 4-1 4 2 4-2 4-2 4-1 4 0 4 1 4 3 4-2 4 0 4-2 4-1 4 2 4-1 4-1 4 1 4-2 4-1 4-1 4-2 4 0 4-3 4-4 4-5 4-2 4-3 4 7 4-1 4 4 4-3 4-1 4-7 4 3 4 7 4-4 4-3 4-4 4-1 4 0 4-2 4-7 4 0 4 3 4 2 4-3 4 2 4-1 4-3 4 0 4-4 4 3 4-4 4 2 4 0 4-1 4-2 4 0M902 1750l4 3 4 1 4-3 4-2 4 1 4-2 4-2 4 0 4-3 4 2 4 0 4-2 4 1 4-3 4 0 4 0 4-3 4 0 4 6 4-6 4-2 4 0 4 1 4 3 4-4 4 0 4 2 4-9 4 1 4 4 4-2 4-1 4 2 4-3 4 1 4-3 4-1 4-3 4 3 4-3 4 1 4 1 4-4 4 1 4-1 4-4 4 1 4 4 4-2 4 0 4 1 4 0 4-3 4 2 4-8 4-3 4-3 4-5 4 3 4-1 4-2 4-1 4-2 4 1 4-1 4 1 4-2 4-2 4-1 4 1 4-3 4-3 4-1 4 0 4-5 4 2 4 1 4 3 4 2 4-2 4 2 4-1 4-7 4-1 4 0 4-3 4-2 4 3 4-4 4-1 4-1 4-4 4-1 4-5 4-9 4 1 4 1 4-1 4 3 4 3 4 0 4-1 4 1 4 0 4-6 4 1 4-11 4 4 4 1 4 4 4 1 4 0 4-3 4-5 4 0 4 5 4-1 4 1 4 1 4-3 4-3 4 3 4-4 4-2 4 5 4-6 4-2 4 2 4-5 4-2 4-8 4 2 4 2 4-2 4 0 4 1 4 0 4-3 4-1 4-7 4 4 4-4 4-2 4 1 4-3 4 1 4-4 4 1 4-1 4 1 4-2 4-3 4 2 4 2 4-2 4 5 4-4 4 2 4-1 4 1 4-3 4 1 4-3 4-4 4-2 4 0 4 0 4-3 4 1 4 0 4-6 4 1 4 2 4-2 4-4 4-3 4-1 4 0 4 0 4-6 4-3 4 5 4 1 4-7 4-2 4 1 4-1 4 4 4-3 4-2 4-1 4-4 4-2 4-3 4-3 4 1 4-7 4-1 4-3 4-1 4-6 4-1 4-1 4-4 4-2 4-4 4 4 4-4 4 5 4 5 4-3 4 0 4-2 4-4 4 0 4 1 4-5 4-2 4-1 4 2 4-1 4-4 4 0 4-1 4-1 4-1 4 0 4-1 4-3 4-1 4 4 4 9 4-5 4-1 4 3 4-2 4-4 4-1 4-1 4-1 4-1 4 2 4-3 4 5 4-2 4-2 4 2 4 3 4-3 4 0 4-1 4-1 4-4 4 1 4-1 4-4 4-4 4-1 4-6 4-1 4 0 4 2 4 4 4-5 4 0 4 3 4-1 4-2 4 0 4-5 4 0 4-1 4-2 4 3 4-5 4-1 4-9 4-3 4 1 4 2 4-5 4 3 4 2 4-4 4-4 4-8 4-1 4 0 4-2 4 0 4 3 4 0 4-1 4-1 4-2 4 3 4 1 4-2 4 0 4 1 4 0 4 0 4-8 4 3 4 1 4-1 4-3 4 4 4-2 4 1 4 3 4-5 4 0 4-5 4-3 4-1 4 1 4-2 4-1 4-7 4-3 4 0 4-5 4 1 4-2 4-2 4 1 4-1 4 0 4-2 4-1 4-4 4-2 4-5 4-2 4-2 4-2 4-1 4-2 4-1 4 0 4 0 4-2 4 1 4-6 4 2 4-7 4-4 4-7 4 0 4-5 4-2 4-2 4 1 4-3 4-1 4-4 4-1 4 4 4 2 4-1 4 3 4-3 4 0 4 0 4-1 4-1 4-5 4-3 4-3 4-4 4 0 4-1 4 0 4-5 4-1 4-1 4 1 4-1 4 1 4-6 4 0 4 1 4 0 4 0 4-1 4-2 4 1 4-2 4-4 4 1 4 4 4 1 4-2 4 1 4-4 4-2 4 0 4 2 4 1 4-6 4-3 4 4 4-2 4 1 4-1 4-3 4 1 4-3 4-1 4 1 4-5 4 6M2558 1290l4 7 4-5 4 4 4 1 4-3 4 5 4-7 4-3 4-4 4 1 4-1 4 1 4 2 4 1 4-3 4 2 4 2 4-6 4-8 4-1 4-8 4 1 4 0 4-3 4 0 4 2 4-4 4-1 4-2 4 2 4 2 4-3 4 0 4 3 4-4 4-4 4-1 4-5 4 3 4 1 4 4 4-1 4-5 4-2 4-2 4-4 4 3 4-2 4 2 4 2 4-3 4-1 4-4 4-1 4-3 4 0 4-6 4 1 4-3 4 2 4 2 4-1 4 0 4 0 4-3 4 2 4 0 4-2 4 1 4-3 4-2 4-7 4 0 4-4 4 2 4-7 4-4 4-2 4 0 4 3 4-6 4-7 4-3 4 0 4 2 4-3 4 1 4 4 4 5 4-8 4-3 4-5 4-7 4-1 4-3 4 0 4-3 4-1 4 7 4-3 4-8 4 0 4-9 4-3 4 2 4-3 4-4 4 2 4-6 4-2 4-3 4-1 4 2 4 3 4-1 4-8 4 5 4 1 4-7 4-1 4 1 4-7 4 2 4 1 4-4 4-2 4-8 4 1 4 0 4-4 4 0 4-2 4 0 4 2 4-2 4-3 4-4 4-1 4-3 4 0 4 2 4-5 4-3 4-6 4 3 4-11 4-3 4 0 4-2 4 5 4-2 4-5 4-1 4 1 4-4 4 3 4-4 4 1 4-1 4-3 4 2 4 1 4-1 4 2 4-5 4-4 4 2 4-5 4-4 4-1 4-2 4-6 4 2 4-6 4-4 4-3 4 0 4-2 4 3 4-4 4-1 4 0 4-6 4-2 4 2 4-3 4-2 4 2 4 1 4 0 4-2 4-4 4-7 4-8 4-2 4 2 4 1 4-2 4-4 4 0 4-1 4-2 4-1 4 3 4-6 4-5 4-1 4 2 4-2 4-3 4 8 4-3 4-2 4-4 4-1 4-1 4 1 4-2 4-7 4-6 4-1 4 1 4-3 4 1 4 1 4-6 4-3 4 1 4-5 4 3 4-4 4-3 4 3 4-4 4-1 4 0 4 0 4-7 4-3 4 1 4 1 4-4 4 2 4-2 4 4 4-3 4-4 4 2 4 0 4-1 4-4 4 2 4-3 4-3 4-2M3582 895l4-4 4 1 4 2 4-1 4-2 4 0 4 0 4 2 4 0 4 0 4 10 4 2 4-4 4 4 4-3 4 2 4-4 4-2 4-2 4 2 4-1 4-2 4 1 4-2 4 0 4-1 4 0 4-8 4 2 4-3 4 2 4-3 4 1 4-3 4-3 4-1 4-3 4-2 4-3 4 1 4-1 4 1 4 0 4-3 4-6 4-2 4 1 4 0 4 0 4 0 4 0 4-4 4 1 4-3 4-1 4-5 4-1 4-3 4 3 4 1 4-1 4 4 4-2 4 0 4-9 4-2 4 2 4 1 4-3 4-3 4-4 4-5 4 2 4 3 4 1 4-4 4-1 4-1"/>
<path stroke="#f0e442" stroke-width="3.6" d="M214 1822l4 0 4 0 4-1 4 3 4-2 4 1 4-4 4 3 4 2 4-4 4 2 4-1 4 0 4 2 4-6 4 0 4-4 4-1 4 0 4-3 4-2 4 0 4 5 4-4 4 2 4-6 4-2 4 0 4-4 4-1 4-2 4 2 4 2 4-3 4-1 4-3 4-4 4-1 4 2 4-3 4-1 4 6 4 4 4 2 4-6 4-4 4-2 4-5 4 0 4 1 4 0 4-2 4 0 4-2 4-1 4 2 4 1 4-2 4-3 4 0 4 1 4-4 4 3 4 2 4-2 4-4 4-2 4-4 4 6 4-6 4 3 4-3"/>
<path stroke="#0072b2" stroke-width="5.0" d="M2186 1399l4-4 4-1 4 2 4 0 4-1 4-2 4 1 4-1 4-2 4-2 4-6 4 3 4-8 4-6 4 0 4 0 4-3 4 2 4-1 4 1 4-2 4-3 4 0 4 0 4-1 4-7 4-8 4-4 4-3 4-3 4-2 4-2 4 0 4-2 4 2 4-3 4-2 4 0 4 1 4 5 4-3 4 3 4-5 4-2 4-4 4 3 4-1 4-2 4-5 4-5 4 0 4-2 4-2 4 1 4-4 4 3 4-3 4-2 4 0 4-4 4 2 4-1 4 2 4-2 4-3 4 0 4-1 4 2 4-5 4-5 4 1 4 4 4-2 4 0 4-2 4-1 4-2 4-3 4 4 4-1 4-1 4 0 4 1 4-2 4-2 4-2 4-4 4 2 4 1 4-1 4-2 4-1M2558 1246l4 5 4-3 4-1 4-3 4 0 4 6 4-4 4-5"/>
<path stroke="#009e73" stroke-width="4.0" d="M214 1815l4 2 4-2 4 1 4 1 4 2 4 0 4 0 4-3 4 3 4-1 4-1 4-2 4 2 4-3 4-2 4-1 4-1 4-2 4-2 4-2 4-4 4 4 4 2 4-3 4-2 4-1 4-2 4-4 4-1 4 0 4-3 4 3 4-4 4 4 4-5 4-6 4-2 4-1 4 1 4 3 4-3 4 3 4 2 4 5 4-1 4-5 4-4 4-4 4 1 4-2 4 2 4-5 4-3 4 3 4 4 4-3 4-4 4 3 4 3 4-4 4 0 4-2 4 0 4-1 4-2 4 1 4 1 4-2 4-4 4 0 4 0 4 2 4-9 4-6 4-2 4 6 4-2 4-1 4 4 4 0 4-7 4 1 4 0 4-3 4-4 4 4 4 4 4-4 4-2 4-4 4-7 4-7 4-1 4-1 4 3 4 2 4 0 4 0 4-4 4 2 4-3 4-1 4-2 4 1 4-1 4-2 4-7 4-3 4 2 4 0 4 3 4-5 4 0 4 4 4-3 4 2 4-5 4 2 4-2 4 1 4-5 4 5 4-2 4-1 4 3 4 0 4-2 4 2 4 0 4 3 4-1 4-2 4-3 4-3 4 0 4 1 4-4 4-4 4-1 4 0 4-1 4 0 4 2 4-1 4-3 4-3 4 0 4 5 4 0 4-6 4-4 4-5 4 2 4-2 4-5 4 1 4 6 4-6 4 2 4-1 4-3 4-3 4 4 4-3 4-2 4-2 4 2 4 0 4-1 4-1 4-3M902 1687l4 8 4-8 4 2 4 0 4-4 4 0 4 0 4-2 4-2 4 1 4-2 4 1 4 2 4-5 4-2 4 2 4-1 4-1 4 2 4-4 4 2 4 0 4-2 4 6 4-2 4 1 4-4 4-13 4 6 4-1 4-1 4 2 4-2 4 1 4 0 4-1 4-2 4 1 4-1 4-3 4 1 4 3 4-5 4-4 4 0 4 4 4-1 4-1 4 0 4-2 4-1 4-1 4 0 4 0 4-3 4-2 4-5 4-4 4-2 4-2 4 0 4 1 4-2 4 0 4-1 4-1 4-1 4-3 4 1 4 0 4-2 4-4 4 0 4-5 4 3 4 0 4 0 4-1 4 5"/>
<path stroke="#f0e442" stroke-width="4.0" d="M2638 1196l4-1 4-5 4 1 4-2 4-1 4 1 4-1 4-4 4 0 4-1 4 1 4 0 4-2 4-2 4 1 4-2 4-5 4-1 4 1 4 2 4 0 4 0 4-5 4 2 4-3 4-5 4-2 4 2 4 0 4 2 4-12 4-4 4-1 4-2 4-1 4-5 4 0 4 0 4-2 4-1 4 2 4-2 4-2 4 0 4 0 4 1 4-2 4-1 4 0 4 0 4-5 4-5 4-2 4-1 4-3 4-3 4-7 4 1 4 1 4-3 4-2 4-10 4-2 4 0 4-2 4 2 4-1 4 4 4 4 4-8 4-3 4-7 4 1 4-6 4-2 4-2 4-2 4 0 4 0 4 1 4-4 4-4 4-3 4-8 4 1 4-4 4 0 4-3 4-3 4-5 4-3 4 1 4 2 4 2 4 0 4-3 4-2 4 0 4-3 4-2 4-2 4-3 4-1 4 0 4-3 4-1 4-2 4-7 4 0 4-1 4-1 4-1 4-3 4 0 4 1 4-2 4-2 4-4 4-3 4 0 4 0 4-3 4-2 4-1 4-3 4-10 4-4 4-2 4 1 4-2 4 3 4-3 4-2 4 0 4-3 4-4 4 1 4 0 4-3 4 0 4-1 4 3 4 2 4-2 4-2 4-1 4-2 4-3 4-3 4-7 4-3 4-4 4-2 4-2 4-3 4-2 4 0 4 0 4-1 4-2 4-1 4 2 4-10 4-2 4 1 4-3 4 1 4-1 4-1 4 0 4 2 4-6 4-6 4-4 4-4 4 1 4-2 4-1 4-4 4 1 4-1 4-3 4-2 4 0 4-3 4-4 4-3 4 1 4-1 4 0 4 9 4-3 4-3 4-5 4-4 4-1 4 0 4 0 4-5 4-7 4 1 4-2 4 0 4 0 4-5 4-2 4-1 4-3 4-4 4 0 4-3 4 1 4 2 4-3 4-1 4-2 4-4 4-1 4-2 4-3 4 2 4-2 4-1 4-1 4-1 4 1 4-2 4 2 4-3 4-2 4-2 4 3 4-3 4-3 4 0M3582 785l4-1 4 0 4-1 4 1 4-1 4 3 4-3 4-2 4 4 4-1 4 9 4 3 4-1 4-1 4-2 4 3 4-2 4-3 4-2 4 0 4-1 4-1 4 1 4-1 4 1 4-3 4 1 4-9 4-1 4-2 4 1 4-1 4 0 4-1 4-2"/>
<path stroke="#009e73" stroke-width="5.0" d="M1606 1511l4-1 4-2 4-1 4-2 4 0 4-2 4-1 4-3 4 1 4-2 4-1 4 0 4 1 4-1 4-4 4-3 4-3 4-1 4-4 4-1 4-6 4-4 4-3 4 0 4-6 4 3 4-3 4-1 4-4 4-8 4 3 4-2 4 7 4 2 4 1 4-1 4-1 4-4 4 0 4 0 4-1 4-4 4 0 4-3 4-2 4 1 4-1 4-2 4-2 4-3 4-3 4 1 4 0 4 0 4 2 4 11 4-2 4-1 4-2 4-2 4-3 4-4 4 1 4-3 4 1 4-1 4 1 4 2 4-1 4 2 4 3 4 1 4-1 4-3 4 1 4 0 4-1 4-2 4 0 4-4 4-3 4-2 4-5 4 0 4-2 4 1 4 2 4 0 4 0 4-1 4 3 4-2 4-1 4-3 4-1 4-2 4-1 4 1 4-5 4 0 4-9 4-4 4 1 4 0 4 0 4 2 4-1 4 0 4-9 4-4 4-1 4-1 4-2 4-2 4 1 4-2 4 0 4 1 4 1 4 1 4-2 4 1 4 0 4 1 4-1 4-2 4-4 4 3 4-2 4-1 4-2 4 3 4 1 4 0 4 0 4-4 4 0 4-5 4 0 4-4 4-2 4 2 4-1 4-6 4-12 4 2 4 0 4-1 4-2 4 0 4 2 4-2 4 0 4-1 4-1 4-5 4-2 4-5 4-4 4-3 4 1 4-2 4-1 4-1 4-2 4 2 4-2 4-1 4-3 4 2 4-10 4-8 4 1 4-2 4-4 4-5 4-2 4 0 4-1 4 1 4-6 4-1 4 1 4 2 4 2 4-2 4-1 4 1 4-1 4-3 4 1 4-3 4-3 4-3 4-5 4 2 4-4 4-2 4 0 4-3 4 2 4-2 4-2 4 0 4-4 4-1 4 4 4-3 4 0 4-1 4 0 4-2 4 0 4-5 4-2 4 2 4 0 4-1 4-1 4-3 4-1 4-4 4 0 4 3 4-1 4 0 4 1 4-1 4-2 4-2 4 2 4-3 4-4 4 5 4-4 4 0 4 0M2558 1196l4 5 4 1 4-1 4 3 4-3 4 4 4-7 4-6 4 0 4-2 4 1 4-1 4-1 4 0 4 6 4-3 4 0 4-7 4-3 4-6 4-3 4-3 4 1 4 1 4-4 4 0 4-3 4-1 4 1 4-3 4 0 4 0 4 0 4 2 4-4 4-3 4-2 4 0 4-2 4 4 4-3 4 2 4-2 4-3 4-2 4-4 4-2 4 2 4 1 4 2 4-2 4-4 4-3 4 2 4-6 4 0 4-5 4 2 4 1 4-4 4 3 4-2 4-1 4-2 4-1 4 2 4 1 4-3 4 3 4-5 4-4 4-5 4 0 4-4 4 0 4-3 4-6 4-2 4 0 4-4 4 0 4-11 4 1 4-1 4-1 4 2 4-2 4 4 4 4 4-4 4-7 4-6 4-4 4-3 4-2 4 0 4 1 4-3 4 0 4 0 4-6 4-2 4-4 4-4 4-3 4-4 4-1 4 0 4-2 4-5 4-4 4 0 4 3 4-1 4-1 4-1 4-2 4-2 4-2 4 1 4-6 4-1 4-2 4 1 4-4 4 2 4-7 4-5 4 1 4-1 4-2 4-2 4 0 4-2 4 3 4-3 4-4 4-1 4-3 4 1 4 0 4-3 4-6 4 2 4-1M3142 965l4-1 4-2 4 2 4-2 4-1 4-2 4-2 4 2 4-4 4 0 4-2 4 1 4-4 4-2 4 1 4 1 4 3 4-1 4 1 4-5 4 0 4-6 4-3 4-3 4-10 4-1 4-2 4-3 4-4 4-4 4 2 4-1 4 1 4-3 4-2 4 0 4-9 4-1 4 1 4-1 4-1 4-3 4 3 4-1 4-3 4 0 4-6 4-11 4-5 4 4 4-3 4-4 4 2 4-1 4-2 4-2 4-3 4-1 4-3 4-3 4-4 4 2 4-1 4-2 4 11 4-4 4-3 4-7 4 1 4-2 4 0 4-2 4-3 4-9"/>
<path stroke="#f0e442" stroke-width="5.0" d="M3334 800l4-2 4-2 4 2 4-6 4 1 4 1 4-5 4-2 4-1 4 0 4-4 4-2 4-2 4-1 4-2 4-1 4 11 4-2 4-5 4-5 4-5 4-2 4 2 4 1 4-3 4-8 4 0 4-2 4-3 4 0 4-2 4-4 4-2 4-2 4-5 4-1 4 0 4 1 4 1 4-2 4-4 4-1 4-1 4-5 4-3 4-3 4 2 4 1 4 0 4-2 4 1 4-2 4-3 4 2 4 0 4-1 4-3 4-1 4-1 4-1 4-2M3582 685l4-2 4-2 4 1 4 2 4 0 4 0 4-2 4 3 4 1 4-1 4 8 4 3 4-1 4 1 4-2 4-1 4 0 4-3 4 0 4-2 4-1 4-1 4 0 4-3 4 2 4-2 4 0 4-8 4-2 4-2 4 1 4-1 4 2 4-2 4-2 4-3 4-4 4-1 4-1 4 0 4-1 4-2 4 0 4-1 4-5 4-4 4 0 4-2 4 1 4-1 4 1 4-2 4-4 4 2 4-1 4-3 4-5 4-1 4 1 4 0 4 1 4 2 4-1 4-4 4-4 4-4 4 2 4-1 4-1 4-3 4-1 4-5 4-1 4 1 4 3 4-6 4-2 4-1"/>
<path stroke="#000000" stroke-width="4.4" d="M958 1719l4 1 4-2 4 0 4 1 4-2 4-1 4-3 4 3 4 0 4 0 4-2 4 3 4-3 4-11 4 5 4 1 4 0 4 3 4 0 4-2 4-2 4-2 4 0 4-1 4 2 4-3 4-1 4 2 4-3 4-1 4-1 4 0 4 1 4-2 4 1 4-1 4 1 4-2 4-1 4 0"/>
<path stroke="#e69f00" stroke-width="4.4" d="M806 1681l4-4 4 0 4-4 4 0 4-2 4-4 4-4 4-2 4 3 4-2 4 2 4 1 4-4 4 1 4 0 4-3 4-1 4-1 4-2 4-1 4 2 4-1 4 0M902 1676l4 8 4-2 4-4 4 0 4-2 4 0 4-2 4-1 4 0 4 0 4-2 4 0 4 0 4-2 4-1 4-2 4 1 4 0 4 1 4-3 4-2 4 0 4 1 4 0 4-2 4 1 4-2"/>
<path stroke="#9400d3" stroke-width="5.0" d="M2014 1441l4 1 4 2 4 1 4-2 4 1 4-4 4-6 4-5 4-4 4 3 4-3 4-1 4 3 4 1 4-1 4 2 4-4 4-1 4 4 4-2 4 3 4-1 4-3 4-3 4-4 4 2 4 2 4-3 4 1 4 3 4 2 4-2 4 0 4-1 4-3 4-2 4-3 4-5 4 2 4-1 4-1 4-8 4-9 4 3 4 0 4-1 4-3 4-2 4 1 4 1 4 1 4-3 4-3 4-5 4-2 4-4 4-3 4-3 4 0 4-1 4-1 4-2 4 0 4 0 4 1 4 0 4-3 4-3 4-7 4-3 4-4 4-5 4-3 4-2 4 0 4-2 4-6 4 2 4-5 4-1 4 4 4 4 4 1 4-4 4 0 4 2 4-5 4 1 4-2 4 0 4 0 4-6 4-3 4-3 4-3 4 0 4-2 4-1 4 1 4-1 4-2 4-2 4-2 4-1 4 2 4-4 4 4 4-3 4 1 4-2 4 2 4-7 4-5 4 3 4 0 4 0 4-4 4 2 4 0 4 1 4-3 4-1 4-1 4 2 4-5 4 1 4-1 4-2 4 2 4-1 4-5 4 0 4 0 4-3 4 5M2558 1245l4 3 4 1 4 1 4 1 4-6 4 3 4-2 4-5 4-1 4 0 4-3 4 3 4 0 4-2 4 5 4-1 4-2 4-7 4-5 4 3 4-4 4 0 4-2 4 0 4-1 4 4 4 0 4-7 4 3 4-5 4 4 4-4 4-2 4 3 4-2 4-1 4-5 4-2 4-3 4 5 4 2 4-1 4-5 4 5 4-5 4-6 4 1 4-2 4 5 4 0 4-3 4-4 4 1 4-1 4-5 4 0 4 0 4-3 4 0 4-3 4 2 4-2 4-2 4 1 4-2 4 7 4-6 4 0 4-1 4-2 4-1 4-5 4-1 4-2 4-4 4-6 4-3 4 0 4-2 4-1 4 0 4-11 4 3 4-4 4 5 4-8 4 5 4 4 4 1 4-9 4-6 4-2 4-3 4-4 4 0 4-3 4 0 4 2 4 0 4 1 4-9 4-3 4-3 4-8 4-2 4-1 4 0 4 1 4-2 4 0 4-8 4 2 4 2 4 1 4 3 4-4 4-1 4-2 4-2 4-1 4 0 4-5 4 0 4-1 4 1 4-6 4-1 4-7 4 1 4-4 4 2 4-6 4 2 4 1 4 1 4-7 4-1 4-1 4-1 4 1 4 0 4-5 4-3 4-3 4-2 4-12 4 0 4-5 4 5 4-1 4 0 4-7 4 2 4-2 4 0 4-2 4-4 4 3 4-3 4 0 4 0 4 0 4 0 4 2 4-2 4-1 4-4 4-1 4-6 4-3 4-2 4-7 4-2 4 0 4-6 4-2 4 1 4-1 4 5 4-4 4-1 4-3 4-10 4 1 4 0 4 1 4-1 4-3 4 4 4-3 4 2 4-7 4-4 4-5 4-4 4-1 4-1 4-2 4-3 4 3 4-6 4 0 4-1 4 1 4-3 4-5 4-2 4-1 4 1 4-5 4 13 4-2 4-5 4-2 4-5 4-3 4 3 4-6 4 1 4-8 4 14 4-2 4 0 4 0 4-3 4-2 4-4 4-2 4-3 4-1 4-4 4 3 4 0 4 2 4-1 4-6 4-2 4-7 4-3 4 3 4-2 4 0 4-1 4-1 4 3 4-4 4 1 4-4 4 2 4 0 4-4 4 0 4-2 4 3 4-4M3582 863l4-4 4 2 4-1 4 3 4-1 4 4 4-4 4-2 4 4 4-4 4 9 4 3 4-1 4 1 4-2 4 0 4-1 4-2 4-1 4-3 4 0 4 5 4-2 4-5 4 1 4 1 4-5 4-7 4 1 4-3 4 3 4-6 4 3 4 0 4 0 4-7 4-1 4-5 4 6 4-3 4 0 4-3 4 2 4-2 4-7 4-4 4-1 4 0 4 1 4 2 4-1 4 2 4-2 4-5 4 3 4-7 4-2 4-2 4-2 4 3 4 1 4 1 4-3 4-3 4-4 4 1 4-2 4 2 4-4 4-3 4 0 4-5 4 1 4 4 4-2 4-4 4-5 4 2 4-1 4 1 4-3 4-5 4 0 4-1 4-4 4-2 4-1 4-5 4-2 4 2 4-2 4-4 4 3 4 0 4-5 4 0 4 2 4-4 4-1 4-1 4-3 4-4 4 1 4-3 4 1 4-2 4-3 4 2 4-1 4 2 4-2 4 0 4 3 4 2 4 1 4-5 4-2"/>
<path stroke="#e51e10" stroke-width="4.4" d="M214 1747l4 1 4-1 4 4 4 0 4-3 4 2 4-1 4 0 4 1 4-4 4 2 4-1 4-1 4 1 4-2 4-1 4-3 4-3 4-3 4 2 4 0 4 2 4-2 4 1 4-2 4-3 4-6 4-3 4-1 4-1 4 3 4-2 4-1 4-3 4 1 4-5 4-1 4 1 4-1 4 0 4 0 4-1 4 4 4 2 4-2 4-3 4-3 4-6 4 2 4-2 4-1 4 0 4-1 4-1 4 2 4-2 4 0 4-1 4 3 4-1 4-3 4 1 4-2 4-2 4 1 4-3 4 1 4-2 4-1 4 0 4 0 4-4"/>
<path stroke="#0072b2" stroke-width="4.0" d="M1126 1651l4-5 4-3 4-2 4 0 4-1 4-1 4 3 4-4 4 2 4-3 4-1 4-5 4 0 4-2 4 4 4-5 4 0 4-4 4-1 4 0 4 1 4 2 4-1 4 0 4 0 4 0 4-5 4 1 4-2 4-4 4 3 4-1 4-1 4-5 4 1 4-1 4-2 4-8 4-12 4 6 4-4 4-1 4 1 4 8 4-2 4-4 4 0 4-1 4-1 4-1 4-8 4 0 4 1 4 3 4 1 4 4 4-4 4-2 4-1 4 1 4 1 4-1 4-1 4 3 4-3 4 3 4-1 4-1 4 0 4-4 4-1 4-1 4-4 4-3 4-9 4 2 4 0 4-3 4 0 4 1 4-4 4 1 4-4 4 1 4-3 4-5 4 1 4 1 4-1 4-4 4-1 4 1 4 1 4-1 4 0 4-3 4-2 4 4 4 2 4-4 4 5 4 0 4-6 4-1 4-2 4-5 4 4 4-4 4-1 4-4 4-2 4 1 4-1 4 2 4-2 4-3 4-3 4 4 4-1 4-10 4-3 4 4 4-6 4-1 4-1 4 3 4-1 4-4 4-2 4-3 4 2 4 3 4-4 4 0 4-4 4-5 4-1 4-1 4-7 4-2 4-5 4 1 4-5 4-3 4-6 4-2 4 1 4 0 4-2 4-8 4 6 4 1 4 1 4 6 4 0 4-5 4-2 4-2 4-1 4-2 4-4 4 1 4 0 4-3 4 0 4-2 4 1 4-4 4 1 4-2 4-2 4-4 4 6 4-7 4 3 4 14 4-2 4-4 4-3 4 0 4-3 4-2 4-2 4 1 4 0 4 2 4-3 4 2 4-3 4 1 4 2 4 3 4 2 4-4 4 0 4 1 4-1 4 0 4-1 4-3 4-7 4-2 4-6 4 0 4-3 4 4 4 2 4-2 4-1 4 4 4 0 4-3 4 2 4-6 4 0 4-4 4-1 4-2 4 4 4-1"/>
<path stroke="#9400d3" stroke-width="5.0" d="M3806 798l4 1 4-3 4 3 4-1 4 3 4-3 4 0 4-3 4-5 4 0 4-2 4 0 4 0 4-4 4-2 4-3 4 0 4 1 4 3 4-5 4-4 4 1 4 1 4-3 4 0 4-3 4-1 4-3 4-4 4-1 4-2 4-4 4 0 4-2 4-1 4 0 4-3 4-2 4-2 4-1 4 4 4-1 4-3 4-4 4-2 4-2 4-4 4 1 4-1 4-1 4-3 4 1 4 2 4 1 4-1 4 1 4 1 4 1 4 0 4 0 4 1"/>
<path stroke="#000000" stroke-width="5.0" d="M1934 1460l4-3 4-2 4 1 4-1 4 2 4-3 4 3 4 1 4-2 4 2 4-4 4-1 4 0 4 0 4-1 4-5 4-2 4 0 4-8 4-1 4 0 4 0 4-2 4 0 4-2 4 1 4-9 4-1 4-2 4 0 4-3 4-1 4 1 4 0 4 1 4-3 4 2 4-1 4-2 4 3 4 2 4-3 4-2 4-1 4-2 4-1 4 2 4-2 4-2 4 3 4 1 4 1 4-1 4-3 4-2 4-4 4 0 4-3 4 1 4-4 4-1 4 1 4-5 4-3 4-2 4 1 4 1 4-3 4 1 4-1 4-2 4-1 4 1 4-3 4-6 4-4 4-4 4 0 4-3 4-1 4 1 4-1 4-2 4 0 4-1 4-1 4-2 4-3 4-8 4-3 4-3 4-3 4-3 4-2 4-1 4-4 4 0 4 1 4-2 4-1 4 1 4 0 4 2 4-1 4-2 4-1 4-1 4 1 4-4 4 3 4-6 4-5 4-1 4-1 4-2 4-2 4-1 4-1 4-2 4 0 4-1 4 0 4-4 4 2 4-1 4-1 4 0 4 0 4-4 4 3 4-3 4-4 4 0 4-2 4 0 4 1 4 0 4-3 4 1 4-3 4 0 4 0 4-2 4-2 4 1 4-1 4 1 4-1 4 0 4-5 4 2 4 0 4-4 4 1 4-1M2558 1244l4 8 4-3 4 2 4-3 4 1 4 0 4-4 4-5 4 0 4-1 4-1 4 1 4-1 4 0 4 2 4 2 4-3 4-5 4-5 4-4 4-4 4-1 4 0 4 0 4-2 4-2 4-2 4-2 4 0 4-1 4 3 4 0 4-2 4-3 4 0 4 0 4-6 4 0 4 2 4-2 4 3 4-1 4-4 4-1 4 0 4-4 4 0 4-1 4 0 4 4 4-3 4-3 4-3 4 1 4-4 4-4 4-1 4 0 4-2 4-1 4 3 4 0 4-2 4 0 4-1 4 2 4-3 4-1 4 0 4-3 4-1 4-4 4-3 4-2 4-2 4-6 4-6 4 1 4 1 4-1 4-2 4-11 4 2 4-1 4-1 4 1 4-1 4 1 4 6 4-7 4-8 4-1 4-2 4-8 4-2 4 2 4-4 4 2 4 0 4 0 4-4 4-4 4-4 4-8 4 1 4-1 4-2 4 0"/>
<path stroke="#000000" stroke-width="3.8" d="M1278 1691l4-10 4-2 4 0 4 1 4-2 4 8 4-3 4-1 4 1 4-2 4-2 4 0 4-7 4 2 4 0 4 4 4-1 4 0 4-1 4-4 4 0 4 1 4 1 4 1 4 0 4-1 4-1 4-3 4-1 4 0 4-1 4-1 4-2 4 0 4-2"/>
<path stroke="#0072b2" stroke-width="5.0" d="M3902 618l4-4 4-1 4 3 4-5 4-5 4-1 4-3 4-2 4-3 4-1 4-1 4-3 4-3 4-1 4-1 4 2 4 2 4-4 4-4 4 2 4 1 4-2 4-2 4-2 4 0 4 0 4-1 4-3 4 3 4-1 4 3 4 3 4-2 4 0 4 3 4-3 4 2"/>
<path stroke="#e51e10" stroke-width="3.6" d="M214 1871l4-2 4 1 4 1 4 0 4 2 4-1 4 3 4-4 4 2 4-5 4 1 4-1 4 5 4-3 4-2 4-5 4-2 4 0 4-2 4 0 4 1 4-1 4 0 4 2 4-2 4-7 4-1"/>
<path stroke="#e51e10" stroke-width="4.4" d="M214 1809l4-3 4-2 4 6 4-6 4 3 4 0 4 2 4 0 4-1 4 4 4-7 4 2 4 1 4-3 4-5 4 0 4-3 4 2 4-3 4-2 4 4 4 3 4-3 4 0 4-3 4-6 4-3 4-2 4-3 4 0 4 1 4 2 4-3 4-1 4-4 4 2 4-7 4 3 4-1 4 2 4 1 4-4 4 7 4-1 4-5 4-1 4 1 4-7 4 1 4-3 4 0 4-3 4-1 4 1 4-1 4 2 4-5 4 6 4 0 4-1 4-4 4 0 4 3 4-3 4-1 4-5 4 3 4 2 4 1 4-5 4-3 4-2 4-5 4-4 4-1 4 3 4-4 4 4 4 3 4 0 4-3 4 2 4-6 4-3 4 1 4 1 4-1 4-2 4-3 4-3"/>
<path stroke="#e51e10" stroke-width="5.0" d="M3902 691l4-2 4 0 4-2 4-4 4-2 4-2 4-3 4-4 4 1 4-2 4-2 4-4 4-1 4-2 4 0 4-1 4 6 4-5 4-2 4-4 4-1 4-4 4-2 4-1 4 0 4 0 4-2 4 1 4-2 4 1 4 2 4 1 4 0 4 0 4 3 4-3 4 1"/>
<path stroke="#9400d3" stroke-width="3.8" d="M902 1756l4 8 4-4 4 1 4-1 4 0 4-2 4-1 4 0 4-4 4 4 4-5 4 0 4 1 4-2 4 2 4-2 4-1 4 0 4-1 4-2 4 2 4-1 4-1 4 3 4-1 4 1 4-5 4-9 4 4 4-1 4 2 4 1 4-1 4-1 4 1 4-4 4 0 4 1 4 0 4-4 4 2 4 3 4-4 4-2 4-2M1090 1731l4-1 4 1 4 0 4 1 4-4 4 1 4 0 4-6 4-2 4-2 4-4 4-2 4-2 4-3 4 0M1158 1711l4-2 4-1 4-2 4 0 4-2 4-1"/>
<path stroke="#9400d3" stroke-width="5.0" d="M3986 704l4-3 4-1 4-1 4-3 4 0 4-1 4 0 4 1 4-2 4 1 4 3 4 0 4 2 4 0 4-1 4-1"/>
<path stroke="#e51e10" stroke-width="3.6" d="M2886 1111l4-1 4 2 4-1 4 0 4 2 4-1 4 7 4-7 4-7 4-5 4 0 4-7 4-1 4 1 4-2 4 0 4 1 4-2 4-3 4-5 4-4 4-6 4-3 4 1 4-2 4-4 4-5 4-3 4-3 4-3 4 5 4 3 4-1 4-4 4-2 4-1 4-2 4-5 4 1 4-3 4-4 4 2 4 0 4-2 4-6 4-5 4 0 4-4 4 2 4-3 4 0 4-2 4 2 4-1 4-4 4-3 4-2 4-1 4 0 4-4 4-4 4 1 4-1 4-13 4-1 4-2 4-1 4-1 4 2 4-3 4 1 4-3 4-3 4 1 4-1 4-2 4-2 4 1 4 2 4 1 4-3 4 1 4 0 4-3 4-3 4-2 4-5 4-6 4 0 4-5 4-2 4-2 4-4 4-2 4-1 4-1 4 0 4-1 4-2 4 1 4-7 4-1 4 0 4-2 4 0 4-1 4-3 4 1 4-2 4-1 4-6 4-6 4-3 4 0 4-1 4-4 4 2 4-2 4-1 4-3 4-1 4-1 4-3 4-3 4-3 4 1 4-2 4-2 4 12 4-4 4-3 4-7 4-1 4-1 4 0 4 1 4-5 4-7 4-2 4 0 4 0 4-2 4-1 4-5 4-3 4-3 4-3 4 0 4 1 4-2 4 2 4 1 4-6 4 0 4-2 4-4 4-2 4-4 4 3 4 0 4-3 4 1 4 0 4-2 4-2 4 0 4 0 4-3 4-2 4 0 4 1 4-2 4 0M3582 798l4 1 4 0 4-1 4 2 4 0 4-1 4-1 4 0 4 0 4 1 4-2 4 1 4-2 4 1 4-3 4 2 4-3 4-1 4-1 4-1 4 0 4-3 4 0 4 0 4-1 4 1 4-3 4-9 4 1 4-2 4 3 4-2 4-2 4 0 4-1 4-6 4-3 4 0 4 0 4 0 4-3 4 1 4-2 4 0 4-7 4-1 4-1 4-2 4 0 4 2 4-1 4-3 4-2 4-1 4 10 4-5 4 0 4-2 4-1 4 1 4 1 4 2 4-2 4-3 4-4 4-3 4-2 4 1 4 0 4-2 4-3 4-2 4 1 4-2 4 2 4-4 4-5 4 1 4 0 4-2 4 1 4-4 4 1 4-3 4-4 4-4 4-2 4-2 4 0 4 0 4-2 4-3 4-4 4 0 4-3 4 0 4 4 4-2 4-2 4-3 4-5 4-1 4-2 4-2 4-2 4 3 4-2 4 0 4 1 4-1 4 3 4 1 4-2 4 2 4-1 4 0 4 0"/>
<path stroke="#e51e10" stroke-width="4.4" d="M762 1640l4-4 4-2 4 1 4 0 4 0 4 2 4 0 4-6 4 1 4 0 4 6 4-3 4-2 4-4 4 1 4-4 4-4 4-5 4 3 4 1 4-1 4 2 4-1 4-1 4 0 4-1 4-1 4-2 4-1 4-3 4 0 4-1 4 2 4-3M902 1631l4 9 4 0 4-4 4-2 4 0 4-2 4 1 4-1 4-3 4 3 4-1 4-4 4 0 4 0 4 0 4-1 4-1 4 3 4-3 4-3 4-2 4 2 4 1 4 1 4-1 4 2 4-4 4-9 4 1 4 3 4 1 4 1 4-1 4-1 4 1 4-4 4 2 4-3 4-1 4 0 4 0 4-1 4-1 4-1 4-1 4-1 4 1 4 0 4-2 4 1 4-2 4-2 4 1 4 0 4-7 4-2 4-3 4 1 4-6 4-3 4-1 4 0 4 0 4-2 4 2 4-3 4 2 4-5 4 1 4-2 4-2 4-1 4-1 4-5 4 0 4 3 4-1 4 1 4 1 4 0 4-1 4 1 4-5 4 1 4-2 4-2 4-2"/>
<path stroke="#e51e10" stroke-width="4.4" d="M214 1845l4 1 4-2 4 2 4 3 4-1 4-2 4 1 4-1 4 1 4-1 4-3 4 4 4-2 4 0 4-3 4-4 4-1 4-2 4-2 4 1 4 2 4-2 4-1 4 2 4-2 4-4 4 1 4-4 4-4 4-3 4 0 4 3 4 1 4-5 4-2 4-2 4 0 4 0 4 1 4 1 4-4 4 1 4 0 4 3 4-2 4 1 4-6 4-3 4 3 4-1 4-2 4-4 4 2 4 1 4-1 4-3 4 3 4-4 4 2 4-3 4 0 4 2 4-1 4-2 4 1 4-3 4 0 4 2 4-3 4 0 4-3 4-3 4-5 4-7 4 2 4 4 4-3 4 1 4 2 4 1 4-2 4-1 4-1 4-8 4 2 4 5 4-1 4-3 4-1 4-1 4-10 4-2 4-3 4-1 4-1 4 4 4-5 4 4 4-4 4 0 4 0 4 2 4-6 4 0 4 5 4 1 4-8 4-6 4-1 4 0 4 0 4 0 4-2 4 3 4 2 4 0 4-7 4 2 4 2 4-2 4-1 4-1 4 5 4-3 4-3 4 1 4-2 4-1 4 4 4 2 4-3 4-4 4 1 4-1 4 0 4-6 4-3 4 0 4-3 4 0 4-2 4 2 4-2 4-2 4-1 4-3 4 4 4 4 4 1 4-3 4-5 4 0 4 1 4-4 4-9 4 3 4 3 4-2 4 3 4 1 4 0 4-4 4 0 4-5 4 1 4 2 4-3 4 1 4-5 4 2 4-4"/>
<path stroke="#000000" stroke-width="4.0" d="M214 1801l4 0 4-1 4 2 4 0 4 1 4 0 4 0 4-2 4 3 4-3 4 2 4-2 4-2 4 1 4-5 4-1 4-1 4-1 4-2 4 1 4 0 4 0 4 1 4 1 4-4 4-5 4-6 4 1 4-5 4 3 4 0 4 0 4 0 4-3 4-2 4-2 4-2 4-1 4 0 4 1 4 0 4-1 4 5 4 2 4-2 4-4 4-5 4-2 4 1 4-1 4-4 4 1 4 1 4-2 4 1 4-2 4-1 4 1 4-2 4 2 4-1 4-1 4-1 4-2 4 2 4 0 4-4 4 1 4-2 4 0 4-4 4-1 4-6 4-6 4 1 4 3 4 1 4-1 4 1 4 0 4-2 4 0 4-2 4-2 4 1 4-2 4 2 4-3 4-1 4-6 4-3 4-5 4 0 4-2 4 0 4 1 4 0 4-2 4 1 4-2 4 0 4-1 4-2 4 1 4 0 4-2 4-4 4-7 4 1 4-1 4 1 4-2 4 2 4-1 4 2 4-3 4-2 4 0 4 0 4-2 4 3 4 0 4 0 4 0 4-2 4 3 4-2 4 1 4-1 4 1 4 0 4 0 4-3 4-5 4-1 4-2 4-3 4-3 4-1 4 0 4 0 4 1 4 1 4-1 4-3 4-3 4 3 4 3 4-1 4-2 4-1 4-2 4-4 4-1 4-7 4-1 4 3 4 0 4 1 4 0 4-3 4 1 4-3 4-2 4 0 4 1 4-2 4-1 4-1 4 1 4 1M902 1669l4 8 4-2 4-1 4 0 4-2 4-1 4-1 4 0 4-2 4 1 4-3 4 1 4-2 4-1 4 0 4-3 4 2 4 0 4 0 4-3 4 1 4-1 4 1 4-1 4 0 4 3 4-5 4-12 4 4 4 1 4 2 4 1 4 1 4-2 4 1 4-2 4-1 4-2 4 1 4-1 4-2 4 1 4-3 4 0 4 1 4 0 4-2 4-1 4 0 4 0 4 1 4-2 4 0 4-3 4-4 4-3 4-2 4-3 4-2 4-5 4 1 4 0 4 1 4-2 4-2 4 0 4-3 4 0 4 0 4-1 4-5 4 2 4-1 4-6 4 0 4 3 4 2 4 1 4 0 4-1 4 1 4-2 4-4 4 0 4 1 4-2 4-3 4-2 4-1 4-3 4-1 4-1 4-3 4-5 4-11 4 0 4 1 4-1 4-1 4 8 4-1 4-1 4-4 4 0 4 1 4-2 4-9 4 0 4 3 4 2 4 1 4 2 4-3 4-2 4 1 4 1 4 0 4 0 4-1 4 0 4-3 4 2 4-4 4-1 4 2 4-2 4-3 4-3 4 0 4-4 4-6 4 0 4-1 4-1 4-2 4 3 4-2 4-2 4-2 4-5 4 0 4-1 4-4 4 2 4-2 4 0 4-2 4 0 4 1 4-1 4-2 4-3 4 2 4 0 4-1 4 4 4 0 4-2 4-4 4-1 4-1 4-1 4-2 4-1 4-3 4 0 4-3 4-3 4 1 4-1 4 0 4 1 4-2 4 1 4-2 4-10 4-3 4-1 4-1 4 1 4-1 4-2 4 0 4-5 4 0 4 0 4 0 4 2 4-1 4-4 4-3 4-2 4-4 4-1 4-6 4-5 4-1 4-5 4-1 4-5"/>
<path stroke="#9400d3" stroke-width="4.0" d="M214 1839l4-1 4 2 4 0 4-2 4 2 4 0 4 0 4-2 4 2 4-1 4 2 4-4 4-1 4 1 4 1 4-9 4-1 4 1 4-3 4 1 4 1 4-1 4-1 4 3 4-4 4-1 4-5 4-4 4 0 4-2 4 2 4 0 4-2 4-1 4-3 4 2 4-5 4 0 4 3 4-2 4-1 4-1 4 1 4 5 4-1 4-1 4-6 4-3 4-1 4-3 4 1 4-4 4 3 4-2 4 0 4-1 4-3 4 5 4-4 4 3 4-3 4-1 4 0 4 1 4 1 4-6 4 0 4 2 4-1 4-2 4-2 4-2 4-4 4-9 4 2 4 4 4 2 4-1 4 1 4 0 4-2 4-2 4-2 4-2 4-1 4-1 4-3 4 4 4-4 4-3 4-5 4-1 4 0 4-3 4-4 4 2 4 1 4-1 4-1 4 3 4-5 4 2 4-1 4-2 4 1 4-6 4-2 4-4 4 0 4-2 4 3 4-3 4 1 4 3 4-1 4-4 4 0 4 0 4-2 4-1 4 6 4-5 4 2 4-2 4 1 4 2 4-2 4 3 4-2 4-2 4 3 4-5 4 2 4-3 4-4 4-2 4-5 4 1 4-7 4 4 4 1 4 0 4 1 4-1 4-4 4-3 4 10 4 4 4-7 4-1 4-1 4-4 4-2 4-4 4-1 4-1 4-3 4 2 4 2 4-1 4 1 4 3 4-4 4-2 4-4 4-2 4-1 4 3 4 3 4-5 4-1M902 1713l4 5 4-2 4 0 4-2 4-1 4 2 4-2 4 0 4-3 4-2 4-1 4 3 4-3 4-1 4-2 4-2 4 2 4 5 4-4 4-7 4 5 4-1 4 0 4 1 4-5 4 4 4-5 4-9 4 6 4-2 4 4 4 0 4-2 4 0 4 0 4 0 4-3 4 0 4-1 4-3 4 4 4-4 4 2 4-4 4 1 4-1 4 2 4-2 4-4 4 5 4-1 4-1 4-1 4-2 4-5 4-3 4 0 4-4 4-8 4 6 4-1 4-3 4 1 4 1 4-3"/>
<path stroke="#e51e10" stroke-width="4.0" d="M330 1846l4 1 4 0 4-1 4 0 4-4 4 1 4-4 4-2 4 0 4 3 4-3 4 1 4 0 4 2 4 5 4-5 4-2 4-4 4-3 4 1 4-2 4-1 4 0 4-2 4-1 4 0 4 2 4-3 4 3 4-1 4-1 4-3 4 1 4 0 4-2 4 0 4-2 4 0 4 0 4-1 4 0 4-2 4 0 4-5 4-5 4 1 4 2 4-1 4 1 4 1 4-1 4-2 4-1 4-2 4-3 4 1 4 0 4 0 4 0 4-2 4-4 4-5 4-3 4-2 4-2 4 2 4-1 4 0 4 0 4-1 4 2 4-5 4 1 4-2 4 0 4 1 4-2 4-6 4-2 4 3 4-1 4 0 4 0 4 0 4 1 4 0 4-4 4-1 4 1 4-1 4-1 4 1 4-1 4 2 4 1 4-2 4 1 4-3 4 1 4 0 4 1 4 2 4-1 4-3 4-3 4-3 4-1 4-2 4-4 4-2 4-1 4 2 4-2 4 3 4-5 4-1 4-2 4 4 4 3 4 0 4-5 4-1 4-2 4-2 4-4 4-5 4-1 4 2 4 2 4 1 4-2 4-1 4 0 4-1 4-3 4-1 4 1 4-1 4 0 4-2 4 0 4 0M902 1749l4 6 4 1 4-3 4-1 4-1 4-1 4-1 4-2 4-1 4 1 4-2 4 1 4-1 4-2 4 0 4 1 4-3 4 2 4-2 4-3 4 2 4 1 4-3 4 2 4 0 4-1 4-2M1014 1722l4 2 4 1 4 1 4 1 4-3 4 0 4 0 4 0 4-1 4-1 4 1 4-2 4 1 4 0 4-2 4-3 4-1 4 5 4-5 4 1 4-1 4-2 4 3 4-1 4 1 4-1 4-8 4-1 4-2 4-4 4-2 4-1 4-2 4-1 4 2 4-2 4-1 4-10 4-3 4 0 4-1 4-1 4-2 4-2 4-2 4-2 4-3 4 5 4 0 4-2 4 4 4-3 4 3 4-3 4-1 4-3 4 0 4 1 4-4 4-2 4-1 4-2 4 1 4-3 4-2 4-3 4-13 4 0 4 0 4 0 4-1 4 7 4 0 4-4 4 1 4-1 4-1 4-2 4-2 4 2 4 1 4 2 4 1 4 1 4-2 4-3 4 0 4 1 4-2 4 4 4-2 4 1 4 0 4 0 4-4 4 0 4 1 4-1 4-1 4-1 4-4 4-2 4-9 4 1 4-1 4-1 4 1 4 0 4 1 4-5 4-1 4-4 4-2 4 0 4-2 4-1 4-1 4-1 4 1 4-1 4 0 4 0 4 1 4-5 4-1 4 3 4 2 4 1 4 1 4-1 4-5 4 1 4-2 4-4 4 0 4-1 4-3 4 0 4-1 4-4 4 1 4 0 4-1 4 0 4-2 4 2 4-3 4-8 4-3 4-2 4 0 4 0 4 0 4 0 4-3 4-1 4-2 4-1 4 1 4 2 4-3 4-1 4-2 4-4 4-2 4-3 4-4 4-2 4-3 4-4 4-2 4-5 4-1 4 0 4-3 4 0 4-6 4-3 4 2 4-1 4 5 4 4 4-1 4-2 4-1 4-1 4-2 4-2 4-3 4-1 4 0 4 0 4-3 4-3 4 1 4-1 4-2 4-3 4 1 4-3 4 2 4-2 4 0 4 11 4-2 4-2 4 0 4-2 4-1 4-2 4-2 4-1 4 0 4 2 4 1 4-2 4 2 4 0 4 1 4 1 4 0 4 0 4-2 4 0 4 0 4 0 4-2 4-6 4-5 4 0 4-5 4-2 4 1 4-1 4 2 4 0 4-3 4 4 4 0 4-2 4 0 4-2 4-3 4 0 4 0 4-1 4-3 4-1 4-9 4 1 4-3 4 3 4-1 4-1 4 0 4-1 4-8 4-1 4-2 4-2 4-1 4-1 4 0 4-2 4 1 4-2 4 1 4 0 4 0 4 2 4 0 4-1 4-1 4-1 4 0 4-5 4 1 4 0 4 0 4 2 4-2 4 2 4 2 4-5 4-3 4-2 4-1 4-3 4-1 4-1 4 0 4-7 4-9 4 3 4-4 4 3 4-2 4-1 4-1 4-1 4-2 4 0 4 1 4-5 4-5 4-2 4-5 4-1 4 0 4-1 4-1 4 0 4-3 4-1 4 1 4 1 4-4 4 0 4-8 4-5 4-6 4-2 4-5 4-1 4 1 4-3 4-3 4 2 4-2 4-2 4 2 4-1 4 3 4-3 4 3 4-2 4-3 4-1 4-1 4-2 4-3 4-5 4 0 4-2 4-1 4-4 4 2 4-1 4-2 4-1 4-3 4 2 4-2 4 0 4-1 4 0 4-3 4 0 4 2 4 0 4-3 4-5 4 1 4-1 4 1 4-3 4 1 4-1 4-2 4-1 4-3 4 0 4 1 4-2 4 2 4-3 4-1 4-2 4 0 4-1 4-2 4 2 4-2 4-2 4 1M2558 1269l4 8 4 0 4 0 4-3 4 2 4 1 4-4 4-7 4 0 4-2 4 1 4-1 4 1 4-1 4 0 4 4 4-1 4-6 4-4 4-5 4-2 4-4 4 2 4-3 4-1 4-1 4 0 4-2 4 1 4-3 4 2 4-1 4-2 4 0 4-1 4-4 4-1 4-1 4-1 4 5 4-1 4 0 4-4 4 0 4-4 4-2 4-2 4 1 4 2 4 1 4-4 4-2 4-3 4 1 4-3 4-2 4-2 4 0 4 1 4-2 4 1 4 0 4-3 4-1 4-1 4 3 4-3 4-1 4 0 4-1 4-6 4 0 4 0 4-4 4-4 4-3 4-5 4 2 4-2 4-1 4-1 4-13 4 1 4-2 4 0 4 0 4 1 4 2 4 5 4-7 4-6 4-2 4-4 4-5 4-1 4 0 4-2 4-2 4 1 4 3 4-7 4-5 4-2 4-5 4-2 4-1 4-2 4 0 4-7 4-3 4-1 4-2 4 3 4 3 4-1 4-4 4-1 4-1 4-2 4-1 4-2 4-3 4-2 4 2 4-4 4 0 4-6 4-6 4 0 4-2 4 2 4-4 4-2 4 1 4 2 4-3 4-2 4-5 4 1 4 1 4 0 4-5 4-5 4 0 4-1 4-13 4-3 4 0 4 1 4-2 4 0 4 0 4-1 4-2 4-3 4 1 4-3 4 1 4 0 4-2 4 2 4-1 4 1 4-1 4-1 4-1 4-4 4-1 4-6 4-5 4-2 4-5 4 1 4-5 4-3 4-3 4 3 4-2 4 0 4 1 4-4 4 0 4-7 4-1 4-1 4-1 4 0 4-3 4 2 4-1 4-1 4-3 4-6 4-5 4-3 4 1 4 0 4-4 4-1 4-2 4-3 4-1 4-2 4 0 4-1 4-3 4-4 4 0 4 0 4 0 4 10 4-5 4-3 4-7 4-2 4 1 4 1 4-2 4-6 4-7 4 5 4-1 4-1 4-2 4 1 4-5 4-2 4-5 4-2 4-1 4-1 4 2 4-1 4-2 4-2 4-2 4-3 4-2 4-2 4-1 4 2 4-1 4-3 4-1 4 1 4-2 4 2 4-3 4 0 4-3 4-2 4 0 4-1 4-1 4-1M3582 870l4-2 4 1 4 1 4-1 4-1 4 2 4-1 4-1 4 2 4-3 4 11 4 2 4 0 4-1 4-3 4 2 4-1 4 1 4-4 4-2 4 2 4-1 4-1 4-1 4 0 4-1 4 0 4-9 4-2 4-2 4 4 4-4 4 0 4-1 4 1 4-6 4-4 4-1 4 2 4-1 4-2 4 1 4-2 4-1 4-8 4 1 4-2 4-1 4 0 4 2 4 1 4-5 4-2 4-2 4 1 4-4 4-1 4-2 4-1 4 2 4 2 4-1 4 1 4-4 4-4 4-2 4-1 4-1 4 2 4-2 4-4 4-5 4 3 4 0 4 0 4-3 4-4 4 0 4-10 4-2 4 1 4-2 4-2 4-2 4-4 4 1 4-3 4-2 4-2 4-3 4 0 4-1 4-2 4-1 4-2 4-1 4 3 4 0 4-5 4-2 4-1 4-4 4-1 4-1 4 0 4 0 4 1 4-2 4 0 4 2 4 1 4-1 4 2 4-1 4 1 4-1 4 3"/>
<path stroke="#009e73" stroke-width="5.0" d="M2186 1289l4-2 4-1 4 3 4-3 4-3 4 1 4-3 4 1 4 0 4-2 4-4 4-5 4-3 4-3 4-4 4 1 4 0 4-3 4 2 4-2 4-2 4-1 4 0 4-4 4-1 4-5 4-4 4-6 4-3 4-6 4-4 4 1 4-1 4-1 4-2 4-4 4-1 4 4 4 1 4-1 4 0 4 1 4 0 4-2 4-3 4-2 4 0 4-2 4-4 4-6 4-1 4 2 4-3 4-3 4-3 4 1 4 0 4-1 4-1 4-2 4-1 4-1 4 1 4 1 4-2 4-2 4-1 4 1 4-4 4-3 4-2 4 4 4-2 4-1 4-4 4 0 4-1 4 1 4-1 4 0 4-3 4 0 4 2 4-2 4-4 4 0 4-1 4-1 4 2 4-3 4-2 4 0M2558 1129h0"/>
<path stroke="#009e73" stroke-width="5.0" d="M214 1825l4-1 4-3 4 3 4-2 4 1 4 1 4 1 4-5 4 5 4-2 4-1 4-1 4-2 4 1 4-2 4-2 4-4 4 2 4-1 4 0 4 3 4-2 4 0 4-6 4 3 4-6 4-3 4 1 4-2 4-5 4 0 4 2 4-4 4-3 4 3 4-1 4-6 4-1 4 4 4 0 4-2 4 2 4 5 4 0 4-3 4-3 4-1 4-6 4 2 4 0 4 0 4-2 4-1 4-4 4 1 4-3 4 4 4 2 4-3 4-1 4-1 4-1 4 1 4 1 4 2 4-8 4 2 4-1 4 1 4-4 4-3 4-2 4-3 4-5 4-1 4 3 4 2 4 0 4-2 4 2 4-4 4 1 4-4 4-1 4 0 4-1 4 1 4-1 4-7 4 4 4-8 4-8 4 2 4-2 4 4 4 1 4-5 4 0 4-1 4-2 4 4 4-2 4 2 4-3 4-3 4 2 4-4"/>
<path stroke="#f0e442" stroke-width="3.8" d="M2562 1071l4 2 4-3 4-2 4 0M2614 1057l4 5 4 1M2634 1051l4-5M2674 1034l4 1 4 1M2738 1022l4-2 4-4 4 4M2766 1018l4-1M2778 1008l4 1 4-1M2802 1005l4 1 4 1 4-3 4-1 4 3 4-1 4-2 4-2M2842 997l4-3 4 0 4-6M2870 979l4 0 4-2 4-1 4-12M2898 961l4 4 4 0 4 2 4 3 4-5M2938 947l4-1 4-3 4 1 4-2 4 3M2970 932h0M2994 915l4-4 4-3 4 1 4 3 4 2 4 0 4-5 4-2M3050 896l4 0 4-1 4-2M3070 883l4-2 4-1 4 0 4-1M3130 860l4 2 4-2M3186 835l4-2 4-1 4 0 4 2 4-1 4 4 4-3 4 0 4-2 4-1 4-5M3238 815l4-2 4-4 4-2 4-3M3274 798l4 0 4-2 4-1M3326 781l4-10 4-6 4-2M3350 760l4 0 4 0 4-5M3374 751l4-1 4-5 4-1 4 2"/>
<path stroke="#009e73" stroke-width="3.6" d="M3986 571l4-2 4-1 4-2 4-1 4 2 4-2 4 0 4 2 4-1 4 1 4 2 4 0 4-1 4 2 4 0 4-1"/>
<path stroke="#0072b2" stroke-width="4.0" d="M906 1752l4-2 4-2 4-2 4 1 4-2 4-3 4 2 4-1 4 0 4-5 4 0 4 0 4 0 4 0 4-3 4 4 4 1 4-6 4 0 4-2 4 2 4 0 4 0 4 2 4 0 4-5 4-8 4 3 4-1 4 1 4 3 4 2 4-6 4 5 4-1 4-7 4 4 4 0 4-2 4 1 4-3 4 0 4-3 4-1 4 1 4 0 4-2 4-1 4 1 4 1 4 0 4-1 4-5 4-2 4-2 4-4 4-1 4 0 4-2 4-6 4 2 4 3 4-6 4 1 4-2 4-2 4-1 4 1 4 0 4-5 4 3 4-2 4-5 4 0 4 5 4-5 4 0 4 0 4 3 4 3 4-3 4-2 4-3 4 1 4 0 4-2 4 0 4 1 4-6 4-1 4 0 4-4 4-2M1282 1651l4 3 4-2 4 1 4 2 4 2 4 1 4 0 4-2 4 0 4 1 4-1 4-11 4 2 4 1 4 3 4 3 4-1 4 0 4-4 4-3 4 6 4-3 4 1 4 1 4-1 4 0 4 0 4-1 4-3 4 2 4-3 4 2 4-6 4-2 4-3 4-5 4-3 4 2 4-1 4-1 4 2 4-3 4 1 4-5 4-2 4-2 4-5 4-1 4-1 4 2 4 1 4-4 4 3 4-4 4 2 4-2 4-2 4-1 4 3 4 2 4 2 4 1 4-3 4-4 4-2 4-2 4 1 4 0 4 1 4-5 4-2 4 0 4 1 4-7 4 2 4 1 4 0 4-1 4 0 4-4 4-10 4 1 4-1 4-2 4-1 4-1 4 2 4-3 4-3 4 2 4-4 4 4 4-1 4-4 4 0 4-2 4-4 4-3 4 1 4-2 4-5 4-4 4-1 4-6 4 1 4-4 4-4 4-3 4-1 4 0 4-6 4 3 4-2 4 4 4 8 4-3 4-3 4-3 4 2 4-3 4-2 4-2 4 1 4-4 4-1 4 1 4-2 4 2 4-5 4 0 4-4 4-2 4 0 4 3 4-4 4 2 4 13 4-2 4-2 4 0 4-5 4 2 4-3 4-3 4-1 4 1 4-5 4 4 4 2 4 0 4 3 4 0 4 1 4 3 4-6 4 2 4 0 4 0 4-5 4 2 4-8 4 2 4-2 4-4 4-7 4 0 4 3 4 0 4 5 4-1 4 0 4 1 4 0 4-5 4-3 4 4 4-3 4-1 4-3 4-1 4-2 4-5 4-1 4-3 4 2 4 2 4 1 4 0 4-2 4-10 4-1 4-2 4-1 4-2 4 1 4 1 4-3 4-1 4-1 4-2 4 1 4 0 4 5 4-2 4 4 4-3 4-1 4-3 4-2 4-3 4 2 4 2 4-1 4-1 4 0 4 1 4-4 4 1 4-3 4-1 4-3 4 1 4-2 4-1 4-14 4-4 4-3 4 1 4 0 4-4 4 0 4 3 4-1 4 0 4 0 4-3 4-7 4-2 4-4 4-2 4-2 4-1 4-1 4 0 4 1 4-8 4 4 4 1 4 1 4-2 4-3 4-8 4-6 4-2 4-4 4-2 4-7 4 0 4 2 4-4 4-4 4 3 4-4 4 6 4 2 4-3 4-2 4 0 4 0 4-2 4-4 4 1 4 0 4-4 4-1 4-2 4-4 4-1 4-3 4-1 4 3 4-3 4-5 4 2 4 0 4-5 4 0 4 2 4-3 4-3 4 4 4 1 4 0 4-3 4-5 4-2 4 4 4 3 4-1 4 1 4-2 4-2 4-4 4 4 4 1 4-7 4 4 4-4 4 0 4-1 4 0 4-2 4 1 4 1 4-2 4 3 4-6 4 1M2558 1289l4 4 4 7 4-5 4 1 4-1 4 1 4-5 4-4 4 1 4 0 4-2 4 1 4-6 4 5 4 4 4 1 4-5 4 0 4-13 4 0 4-5 4-2 4 1 4 0 4-1 4 1 4-2 4 0 4-4 4-3 4 1 4 4 4-3 4 0 4-2 4-2 4-4 4-2 4 3 4 1 4 0 4-1 4-1 4-1 4-3 4-1 4-1 4-1 4 2 4 6"/>
<path stroke="#e51e10" stroke-width="4.0" d="M2186 1392l4-2 4 3 4-2 4 0 4-5 4 4 4-5 4 0 4 2 4-3 4-6 4-2 4-5 4-2 4-3 4 1 4-1 4 3 4-2 4-3 4-4 4 2 4 0 4-6 4 2 4-7"/>
<path stroke="#000000" stroke-width="4.4" d="M582 1752l4 1 4-3 4 4 4 1 4-3 4 1 4 0 4 0 4-1 4-3 4 0 4-3 4 3 4-1 4-3 4-11 4 3 4 0 4-1 4 0 4 3 4-2 4-2 4-3 4 1 4-1 4 4 4-4 4-1 4 3 4 1 4 2 4-5 4 2 4 0 4-5 4 6 4-2 4-1 4 1 4-1 4-8 4 2 4-5 4 1 4-2 4-6 4-2 4 4 4 1 4-1 4-2 4 2 4-7 4 7 4 1 4-3 4-5 4-1 4 2 4-4 4-1 4-5 4-2 4 3 4 1 4-2 4-1 4 0 4 1 4-4 4-2 4 3 4 0 4-2 4-6 4 0 4 1 4 1M902 1708l4 11 4-1 4-5 4 1 4-1 4 1 4-2 4-2 4-1 4 3 4-5 4 0 4-1"/>
<path stroke="#000000" stroke-width="3.6" d="M1334 1558l4 3 4 2 4 3 4-1 4-2 4-3 4-2 4 0 4 3 4 1 4 0 4 0 4-4 4 1 4-3 4 0 4-1 4 0 4-1 4-3 4-1 4-7 4-2 4-2 4 0 4 0 4-4 4 3 4 1 4-5 4-2 4-3 4-5 4 1 4 0 4-2 4 0 4 0 4-4 4 1 4 0 4 0 4-3 4-5 4 3 4 1 4 1 4 3 4-1 4 0 4-2 4-2 4-4 4 0 4-2 4 0 4-4 4-2 4 1 4-5 4-2 4 2 4-1 4-3 4 1 4 1 4-2 4-10 4-4 4 1 4-4 4 2 4 0 4-2 4-3 4 1 4-3 4 0 4 0 4 1 4-3 4-3 4 1 4-4 4-5 4 1 4-5 4-3 4-3 4-2 4-6 4-3 4-5 4-2 4 0 4 0 4-5 4-5 4 0 4 1 4 5 4 3 4-2 4 0 4-1 4-3 4 0 4-1 4-1 4-1 4-2 4-4 4 0 4 0 4-1 4-2 4 0 4-3 4-1 4-1 4-2 4-1 4 2 4 12 4-1 4-3 4-3 4-1 4-1 4-1 4-2 4-3 4 1 4-1 4 1 4 1 4 2 4 0 4 1 4 1"/>
<path stroke="#e51e10" stroke-width="4.4" d="M214 1792l4 0 4-1 4 1 4 2 4 1 4 1 4-2 4-1 4 2 4-4 4 0 4 2 4 1 4-3 4-2 4-2 4-2 4-1 4-2 4-2 4 3 4-2 4 0 4 2 4-3 4-3 4-3 4-5 4-3 4 1 4 1 4 1 4-1 4-2 4-4 4 0 4-4 4 0 4 2 4-1 4 1 4 1 4 2 4 3 4-3 4-2 4-5 4-5 4 1 4-3 4-1 4 1 4-1 4 0 4 0 4 0 4-1 4 2 4-2 4 0 4-2 4 1 4-2 4 0 4-2 4-1 4 0 4-1 4 1 4-3 4-1 4-3 4-5 4-6 4 2 4 4 4-2 4 0 4 2 4-1 4-2 4-1 4-3 4-3 4 2 4 0 4-3 4 2 4-4 4-3 4-5 4-5 4 1 4-1 4-1 4 2 4-4 4 2 4-1 4 1 4-2 4-2 4 2 4-3 4-2 4-1 4-4 4-4 4-2 4 1 4 0 4 1 4 0 4 0 4 0 4-3 4-3 4 2 4-1 4 1 4-1 4 1 4-1 4 1 4-1 4 1 4-1 4 1 4-1 4 2 4-1 4-1 4-2 4-3 4-1 4-2 4-3 4-4 4-2 4 0 4 2 4-1 4 2 4-3 4-1 4-5 4 3 4 6 4-3 4-2 4-3 4-1 4-1 4-3 4-5 4-1 4 3 4 0 4 0 4-5 4 4 4-2 4-1 4 0 4-2 4 0 4-4 4-1 4 1 4 1 4-1M902 1662l4 8 4-3 4 0 4-2 4-2 4 0 4-4 4 1 4 0 4 1 4-3 4-1 4 0 4-1 4 0 4-1 4-2 4 0 4-3 4 1 4 0 4 2 4-1 4 0 4-1 4 2 4-5 4-5 4 1 4 0 4 2 4 1 4-2 4-1 4 0 4-1 4-2 4 2 4-2 4-2 4 0 4 0 4-1 4-1 4 0 4 1 4-3 4 1 4-2 4 0 4 1 4-2 4-3 4 0"/>
<path stroke="#e51e10" stroke-width="5.0" d="M2014 1438l4 4 4-3 4 1 4-2 4 0 4-1 4-8 4-5 4 1 4 0 4-4 4 0 4-1 4 0 4 0 4 1 4-2 4 1 4-2 4 1 4 4 4-1 4 0 4-4 4-1 4-3 4 2 4 0 4-2 4 2 4-2 4 1 4 2 4-1 4-3 4-3 4-3 4-2 4-1 4-2 4 1 4-6 4-8 4-1 4-1 4 1 4-3 4 1 4 0 4-1 4 0 4-3 4 1 4-7 4-4 4-1 4-3 4-2 4-3 4 0 4-1 4-1 4-1 4-2 4-1 4 1 4-2 4 0 4-9 4-8 4 1 4-4 4-5 4-1 4-2 4-1 4-4 4 2 4-2 4-1 4 2 4 0 4 2 4-1 4-2 4-1 4-2 4 0 4-2 4 1 4-4 4-4 4-2 4 0 4-2 4-2 4-3 4-1 4-2 4-1 4 1 4-2 4-3 4 2 4 1 4-3 4 0 4-1 4 0 4-2 4 2 4-6 4-2 4 0 4 0 4 0 4-1 4 0 4 0 4-2 4-3 4 2 4-4 4 0 4-1 4 0 4-1 4 0 4-1 4-2 4 1 4 0 4-2 4-2 4 0M2558 1242l4 9 4-2 4-1 4-2 4 3 4-2 4-3 4-6 4 0 4 0 4 0 4-1 4 0 4 0 4 2 4 2 4-2 4-4 4-8 4-5 4-2 4-1 4 1 4-1 4-3 4-1 4-1 4-1 4-1 4-2 4 4 4 0 4-3 4-1 4-1 4-1 4-4 4-1 4-2 4 3 4 1 4-2 4-3 4 0 4-4 4-1 4-2 4 2 4 2 4 0 4-2 4-4 4-1 4-1 4 0 4-5 4-2 4 2 4-3 4-3 4 2 4 1 4 1 4-3 4-3 4 4 4-2 4-1 4 1 4-3 4-4 4-4 4 0 4-4 4-2 4-4 4-5 4 0 4 0 4-2"/>
<path stroke="#e51e10" stroke-width="4.0" d="M214 1873l4-1 4 3 4 0 4-1 4 3 4-1 4-2 4 0 4 1 4 0 4 0 4-1 4 0 4-2 4-2 4-5 4 1 4-1 4-5 4 3 4 2 4-2 4 2 4-1 4-4 4-3 4-1 4-4 4-3 4-1 4 2 4 2 4-3 4-2 4-1 4-3 4 0 4-1 4-1 4 1 4 1 4-1 4 3 4-1 4 2 4-3 4-6 4-2 4 0 4 1 4-4 4-1 4 0 4 0 4 1 4-1 4-2 4 2 4-2 4 3 4-2 4 3 4-4 4-3 4 2 4-5 4 3 4-1 4 0 4-2 4-1 4-1 4-6 4-9 4 3 4 1 4 3 4-1 4 0 4 2 4-3 4-1 4-3 4-3 4 0 4 3 4 1 4-3 4-3 4-4"/>
<path stroke="#56b4e9" stroke-width="3.6" d="M582 1764l4 1 4 0 4 0 4 4 4-2 4-3 4-1 4 0 4 0 4-2 4-1 4 0 4 0 4-1 4-6 4-3 4 0 4-3 4 1 4-1 4-1 4 1 4 2 4-1 4-3 4 1 4 1 4-3 4 2 4-2 4 1 4 0 4 1 4 1 4-1 4 0 4-1 4 0 4 3 4-4 4-2 4 1 4-4 4-3 4-2 4-4 4-2 4-2 4 3 4-2 4 2 4-1 4-2 4-4 4 2 4 5 4 0 4-3 4-3 4-1 4-2 4-3 4-6 4 0 4 2 4-1 4 1 4 0 4-2 4 0 4-2 4-3 4 1 4 0 4-3 4 0 4-2 4 2 4 0M902 1723l4 6 4 0 4-2 4-3 4-1 4 2 4-2 4-3 4 0 4-2 4 1 4 0 4 3 4-8 4 0 4 0 4-2 4-1 4 1 4-4 4 0 4 0 4 0 4 4 4-3 4 0 4-1 4-11 4 3 4 1 4 1 4 3 4-1 4-2 4 0 4-1 4-1 4-1 4 1 4-4 4 3 4-1 4-1 4-3 4 0 4-1 4-1 4 0 4-1 4 1 4 0 4-1 4 0 4-3 4-2 4-4 4-1 4-2 4-5 4-1 4-2 4 0 4 1 4-1 4-1 4-2 4-1 4-3 4 0 4 1 4 0 4-5 4 0 4-3 4 0 4 4 4-3 4 1 4 1 4 0 4 0 4 0 4-5 4 2 4-1 4-2 4-2 4-1 4-1 4-3 4-1 4-2 4-4 4 0 4-14 4-1 4 2 4-1 4 0 4 5 4 2 4-1 4-2 4-1 4-3 4 0 4-7 4-1 4 3 4 4 4 0 4 1 4 0 4-4 4-2 4-1 4 2 4 2 4 1 4-3 4 0 4-1 4 0 4-3 4 0 4-2 4 1 4-3 4-1 4-5 4-5 4-1 4 2 4-1 4-1 4-2 4-1 4-2 4 0 4-5 4 0 4-1 4-3 4-2 4 1 4 0 4-2 4-1 4-1 4 0 4-2 4 1 4-1 4 1 4 1 4 2 4 0 4-2 4 0 4-3 4-1 4 0 4-4 4 0 4-3 4-1 4-1 4-1 4 0 4-2 4 0 4-1 4 0 4 0 4-6 4-12 4-2 4-3 4 0 4-1 4 2 4-4 4 0 4 0 4-4 4-2 4 3 4-1 4 1 4-2 4-3 4-4 4-1 4-4 4-4 4-2 4-5 4-2 4-4 4-1 4-2 4 1 4-4 4-2 4-4 4-3 4-1 4 0 4 3 4 6 4 0 4-3 4-2 4-3 4 2 4-3 4 1 4-4 4 2 4-3 4-2 4-1 4 0 4-2 4-4 4 0 4-1 4-1 4-2 4 0 4 1 4 11 4-2 4-2 4-3 4 0 4-1 4-2 4 0 4-3 4-1 4 1 4-1 4 6 4-2 4 1 4 2 4 0 4 0 4-3 4 0 4 1 4-2 4-1 4-2 4-2 4-6 4 1 4-6 4 0 4-1 4-2 4 3 4 0 4-1 4 0 4 2 4-1 4-4 4-2 4 0 4-2 4 1 4-3 4-5 4 2 4-9 4-3 4-1 4 2 4 1 4-3 4-2 4 0 4-7 4-3 4-2 4 1 4-3 4-1 4 0 4 2 4 0 4-1 4-1 4-1 4 0 4 1 4 3 4-1 4-1 4-2 4-4 4-1 4 0 4 2 4-2 4 3 4-1 4-1 4 2 4-4 4-4 4-1 4-1 4-2 4-1 4-1 4-1 4-7 4-8 4 4 4-4 4 0 4 1 4-3 4-2 4 1 4-1 4 1 4-3 4-2 4-5 4-4 4-5 4-1 4-1 4 0 4 0 4-3 4 0 4-1 4 0 4 0 4-4 4-1 4-7 4-5 4-4 4-5 4-1 4-5 4 0 4-2 4 0 4-1 4-2 4 0 4 0 4 3 4 1 4-1 4-1 4 0 4-3 4-1 4 0 4-3 4-1 4-5 4-4 4 1 4-4 4-2 4-1 4-1 4-1 4-1 4 0 4-2 4-2 4 1 4-1 4-1 4-1 4-1 4 2 4-2 4-2 4-3 4-1 4 1 4-2 4 0 4 1 4-1 4-2 4 0 4-4 4-1 4 0 4-2 4 1 4 1 4-1 4-2 4-1 4 1 4-1 4 1 4-3 4-4 4 1M2558 1234l4 7 4-2 4 0 4-1 4-2 4 3 4-4 4-6 4-1 4-1 4 2 4 0 4-3 4 1 4 0 4 2 4 0 4-5 4-6 4-4 4-2 4-1 4-2 4 1 4-2 4-3 4-1 4 0 4-4 4 0 4 1 4-1 4 0 4 1 4-2 4-3 4-4 4-2 4 3 4 2 4-1 4 2 4-5 4-2 4-3 4-2 4-2 4 2 4-1 4 3 4-2 4-2 4-1 4-1 4-3 4-3 4-3 4 2 4-2 4-2 4 0 4 1 4-2 4 0 4 0 4 1 4-1 4-3 4 1 4-2 4-6 4-2 4 1 4-6 4-1 4-4 4-6 4 2 4-2 4-1 4-1 4-11 4 0 4-2 4 1 4 0 4 0 4 1 4 7 4-8 4-5 4-5 4-2 4-5 4-3 4 1 4 1 4-3 4 2 4 0 4-6 4-5 4-3 4-6 4-1 4 0 4 0 4-5"/>
<path stroke="#f0e442" stroke-width="4.4" d="M510 1752l4 2 4 3 4-4 4 4 4 2 4 1 4-4 4 2 4-4 4-5 4 3 4-3 4 0 4 2 4-3 4-3 4-4 4-5 4-3 4 1 4-1 4 4 4-2 4-3 4-3 4 0 4-2 4 1 4 1 4-2 4-1 4 2 4-6 4-4 4-2 4-1 4 4 4-3 4-3 4 4 4-2 4 1 4-1 4-3 4 0 4-1 4 4 4-1 4 0 4 0 4-2 4-1 4 1 4-2 4 1 4 2 4 1 4-4 4 1 4-4 4-3"/>
<path stroke="#e69f00" stroke-width="4.0" d="M3582 710l4 0 4-2 4 1 4 2 4 1 4 0 4-3 4 1 4 2 4-1 4 11 4 3 4-2 4-4 4-2 4 1 4 0 4 0 4-3 4 0 4-2 4 0 4-1 4 1 4-4 4 1 4-1 4-6 4-1 4-4 4 4 4-4 4 1 4-3 4 2 4-7 4-4 4 0 4 1 4-1 4-2 4 0 4 1 4-3 4-5 4-3 4-3 4-2 4 4 4 0 4-1 4 0 4-3 4-1 4-2 4-2 4-5 4 3 4-3 4 0 4 4 4 3 4-4 4-1 4-8 4-1 4-1 4 0 4-1 4-2 4-3 4-4 4 1 4-1 4 1 4-4 4-2 4-1 4 2 4-1 4-1 4-2 4-4 4-1 4-4 4 0 4-3 4-1 4-6 4 0 4-3 4-2 4-1 4-1 4-3 4 2 4 6 4-4 4-3 4-3 4-4 4-3 4-2 4 0 4 0 4-3 4 0 4-1 4 1 4 3 4-3 4 1 4 2 4 0 4 0 4-3 4 2"/>
<path stroke="#0072b2" stroke-width="5.0" d="M1126 1633l4 0 4-5 4-3 4-1 4-1 4 1 4-1 4-1 4-2 4-1 4-1 4-3 4 2 4 0 4-2 4-2 4-1 4-4 4-2 4 3 4 2 4-1 4 0 4 0 4 1 4-2 4-2 4 2 4-4 4-2 4-2 4-1 4 0 4-4 4 0 4-2 4-2 4-4 4-13 4 0 4 1 4-1 4 1 4 2 4 4 4-2 4-3 4-2 4-1 4-1 4-4 4 0 4-1 4 2 4 3 4 0 4 0 4-3 4-2 4 0 4 0 4 4 4-2 4-1 4-1 4-1 4-2 4 0 4 2 4-4 4 0 4-4 4-7 4-6 4-7 4 1 4 0 4-2 4-2 4 2 4 0 4-3 4-3 4-2 4-1 4-2 4-5 4 1 4 2 4-1 4-3 4 1 4 1 4-1 4-2 4-3 4 1 4 2 4-1 4 1 4 1 4-2 4-3 4-2 4 0 4-2 4-2 4-1 4-3 4-1 4-2 4 0 4-1 4-2 4-1 4-2 4-1 4 2 4-3 4-6 4-4 4 1 4-5 4 1 4 0 4-2 4-2 4-1 4-1 4-1 4 2 4 1 4-2 4-3 4-3 4-1 4-6 4-2 4-3 4-3 4-5 4-3 4-2 4-3 4-2 4-4 4 1 4-1 4-5 4-6 4 1 4 2 4 3 4 5 4 1 4-5 4-2 4-1 4 0 4 0 4-3 4-3 4 1 4-1 4 0 4-3 4-2 4-1 4-3 4 0 4-1 4-4 4 1 4-1 4 6M1830 1431l4-3 4 0 4-4 4-1 4-2 4-1 4-2 4-1 4-1 4 0 4-1 4 4 4-2 4 2 4 4 4-2 4 1 4-3 4 2 4-1 4-2 4-2 4 4 4-5 4-8 4-2 4-4 4-2 4 2 4-2 4 2 4-1 4 0 4 3 4-2 4 0 4-3 4-1 4-1 4 1 4-3 4-3 4-1 4 0 4-10 4-3 4 1 4 2 4-1 4-2 4-1 4 0 4-8 4-4 4-1 4-1 4-1 4-2 4 1 4-1 4 2 4-1 4 0 4 0 4 1 4-2 4 2 4 1 4-1 4-5 4 0 4-2 4 1 4-1 4-1 4 2 4 1 4-1 4 1 4-3 4-2 4-2 4-3 4-3 4 1 4-3 4 0 4-6 4-9 4 1 4 0 4 1 4-4 4 0 4 0 4-3 4 2 4-1 4-1 4-4 4-5 4-4 4-4 4-2 4 0 4 0 4 0 4-3 4 1 4-1 4-3 4-1 4-1 4-1 4-7 4-7 4-4 4-2 4-3 4-4 4-2 4 0 4-4 4 2 4-4 4 1 4 1 4 1 4 2 4-2 4 0 4-2 4-1 4-1 4-3 4 2 4-4 4-2 4-5 4-1 4-3 4-2 4-3 4 0 4-1 4-2 4 1 4-3 4-1 4-1 4 3 4-3 4 0 4 0 4 0 4-4 4 2 4-5 4 0 4 2 4-3 4-2 4 1 4 0 4-1 4-3 4-2 4-2 4 1 4-2 4 3 4-2 4 2 4-5 4 0 4-2 4 0 4 1 4-1 4-3 4 1M2558 1173l4 7 4 1 4-2 4-1 4-1 4 1 4-5 4-3 4-2 4-1 4-2 4 1 4 0 4 1 4 2 4-1 4 0 4-3 4-8 4-4 4-4 4-2 4-2 4 0 4-1 4-1 4 1 4-4 4 0 4-1 4-1 4 2 4-3 4 0 4-2 4-1 4-4 4-2 4 1 4 2 4 0 4-1 4-2 4-2 4 0 4-3 4-2 4-2 4 0 4 4 4-2 4-3 4-3 4 0 4-3 4-1 4-4 4 2 4-2 4-2 4 2 4 0 4-2 4-3 4 0 4 1 4 0 4-2 4 0 4-2 4-4 4-2 4-2 4-4 4-2 4-4 4-6 4 2 4-2 4-2 4-2 4-11 4 1 4-2 4 2 4-2 4 1 4 4 4 3 4-6 4-7 4-4 4-3 4-3 4-2 4-1 4-3 4 0 4 0 4 1 4-7 4-2 4-4 4-8 4-1 4 1 4-2 4-4"/>
<path stroke="#56b4e9" stroke-width="3.6" d="M2994 1078l4-5 4-2 4-2 4 5 4 2 4-2 4-1 4-4 4 0 4-4 4 0 4-1 4-2 4-3 4-1 4-1 4-1 4-7 4-4 4 2 4-3 4 0 4-3 4 1 4-1 4 0 4-1 4-5 4-3 4-1 4 0 4 3 4-7 4-5 4-1 4 2 4-13 4-4 4 0 4 0 4 0 4-2 4 0 4 0 4-3 4-2 4 0 4-3 4 0 4-3 4 1 4 0 4 3 4-1 4 1 4-4 4-1 4 0 4-6 4-4 4-2 4-4 4-4 4-2 4-3 4-4 4-1 4 2 4-4 4 2 4-3 4-1 4 1 4-8 4-2 4 0 4 0 4-1 4-3 4-1 4 2 4 1 4-4 4-8 4-4 4-3 4 0 4-1 4-3 4-1 4-2 4-2 4-1 4-2 4 0 4-1 4-7 4 0 4-1 4 2 4-4 4 12 4-4 4-3 4-6 4-5 4 1 4 1 4-1 4-4 4-5 4 0 4-2 4-3 4 0 4-2 4-4 4-2 4-3 4-3 4 0 4-2 4 1 4 0 4 2 4-3 4-5 4 1 4-5 4-3 4-1 4 1 4-3 4 0 4-1 4 1 4-2 4 0 4-1 4-3 4-1 4-1 4 1 4 0 4-2 4-1M3582 819l4-1 4 0 4 1 4-1 4-1 4 5 4-4 4 1 4 0 4 0 4 10 4 3 4-2 4 0 4-4 4 2 4-1 4-1 4-1 4-2 4 0 4 2 4-3 4-1 4 0 4-2 4 0 4-9 4 0 4-1 4 0 4-1 4 3 4-6 4-1 4-4 4-3 4 1 4-1 4 0 4-4 4 2 4-2 4-1 4-6 4-2 4 0 4-2 4 1 4 1 4-2 4-2 4-1 4-2 4 2 4-6 4-3 4 2 4-1 4 0 4 4 4-3 4 1 4-6 4-2 4-3 4 1 4-2 4 1 4-1 4-2 4-4 4 0 4-1 4 3 4-7 4-1 4-2 4 2 4-2 4-1 4-1 4-2 4-5 4-3 4-3 4 1 4-5 4-1 4-3 4 2 4-2 4-4 4 0 4-2 4 0 4 2 4-1 4-3"/>
<path stroke="#9400d3" stroke-width="3.6" d="M2994 989l4-4 4-5 4 2 4 3 4 1 4-3 4-1 4-4 4-1 4-2 4-3 4 1 4-5 4 0 4-1 4 1 4-4 4-4 4-5 4 0 4-4 4-2 4 0 4 0 4 1 4 1 4-3 4-2 4-5 4-3 4 1 4 1 4-5 4-5 4-1 4-2 4-11 4-1 4-2 4 2 4-2 4-1 4 0 4-3 4-2 4-3 4 2 4-3 4-1 4-2 4 1 4 1 4 0 4 3 4-2 4-2 4-3 4 0 4-5 4-4 4-4 4-5 4-2 4-3 4-2 4-1 4-2 4 2 4-5 4-1 4 0 4-2 4 0 4-7 4-2 4 0 4-1 4-3 4-2 4 3 4-4 4-1 4-2 4-6 4-3 4-3 4 1 4-2 4-6 4 2 4 1 4-7 4-3 4-1 4 3 4-5 4-1 4-3 4-1 4-2 4 1 4 11 4-3 4-5 4-4 4-4 4-2 4 1 4-1 4-5 4-7 4-1 4 2 4 0 4-4 4-3 4-5 4-2 4-3 4-2 4 1 4-3 4 3 4 1 4-3 4-2 4-4 4 0 4-6 4 1 4-5 4 3 4-3 4 1 4-1 4 5 4-4 4-6 4 1 4 0 4-2 4-5 4 5 4-2 4-1 4-2"/>
<path stroke="#f0e442" stroke-width="4.4" d="M214 1791l4-4 4-1 4 5 4-1 4 2 4 0 4-2 4-2 4 3 4 1 4-3 4 0 4-1 4 1 4-1 4-2 4-4 4 1 4-5 4 3 4-1 4-2 4 1 4 4 4-3 4-5 4-5 4-2 4-4 4 2 4 0 4-2 4 3 4-4 4-1 4-4 4-1 4-4 4 6 4 0 4-3 4 1 4 2 4 4 4-2 4-3 4-4 4-4 4-1 4-4 4 4 4-4 4 1 4 0 4-2 4 2 4 0 4 2 4-3 4-2 4-1 4 3 4-4 4 0 4-2 4 0 4 1 4-3 4 1 4-2 4-3 4 0 4-8 4-5 4 0 4 4 4 2 4-1 4-1 4 4 4-4 4 0 4-5 4-6 4 4 4-1 4 0 4-2 4 2 4-4 4-8 4-4 4 0 4 1 4-4 4 3 4 0 4-2 4 0 4-1 4 1 4-1 4-4 4 0 4 0 4-2 4-3 4-5 4 2 4-5 4 0 4 1 4 0 4 1 4 2 4-1 4-5 4 2 4 1 4-3 4 0 4 2 4-1 4-2 4 0 4-1 4 1 4 0 4 4 4-1 4 0 4-3 4-2 4 1 4-7 4 0 4-4 4 0 4-3 4-2 4 3 4 0 4 0 4-2 4-2 4-3 4 4 4 5 4-2 4-2 4-3 4 0 4-6 4-1 4-5 4 3 4 0 4-1 4 2 4 0 4-1 4-1 4-4 4-2 4-1 4 2 4-3 4 2 4-2 4 1 4-1M902 1660l4 7 4-2 4 2 4-3 4-2 4-2 4 0 4-3 4 1 4-1 4-3 4 3 4-2 4 0 4 0 4 0 4-1 4-1 4-2 4-2 4-2 4 4 4 4 4-3 4-1 4-3 4-2"/>
<path stroke="#e69f00" stroke-width="3.6" d="M906 1688l4 0 4-6 4 2 4-4 4-1 4 0 4 1 4-3 4 0 4 0 4 0 4-2 4-1 4 2 4-5 4 1 4 1 4 1 4-3 4-3 4 0 4-2 4 3 4-2 4 1 4-2 4-12 4 5 4 2 4 0 4 0 4 2 4 3 4-4 4-1 4-1 4-1 4 0 4 0 4-2 4 1 4-4 4-1 4-1 4 5 4-5 4 5 4-3 4-1 4-1 4-1 4-2 4 3"/>
<path stroke="#000000" stroke-width="3.6" d="M2050 1484l4-2 4-3 4 0 4-1 4 1 4 1 4-1 4-3 4 2 4-1 4 0 4 2 4 0 4-2 4-1 4-1 4-3 4 0 4 0 4 0 4 3 4-1 4 0 4 1 4-4 4-3 4-2 4-1 4-2 4-1 4 0 4-1 4-6 4-8 4 0"/>
<path stroke="#56b4e9" stroke-width="4.6" d="M2562 1103l4-2 4 1 4 1 4 0 4 0 4-6 4-5 4 1 4-1 4 2 4-3 4 2 4-1 4 3 4 1 4-3 4-5 4-6 4-4 4-1 4-4 4 1 4-2 4-1 4-1 4-1 4-3 4-2 4 1 4-1 4 4 4-3 4 0 4-3 4 0 4-2 4-3 4 1 4 1 4 0 4 2 4-2 4-3 4 0 4-5 4-3 4 2 4 2 4-1 4 0 4-3 4-3 4 2 4-5 4-1 4-2 4-3 4 0 4-3M2810 1036l4-1 4 2 4 0 4-2 4-2 4 1 4-2 4-3 4-2 4-3 4-5 4-1M2866 1009l4-1 4 0 4 1 4-3 4-12 4 3 4-3 4 0 4-1 4 0 4 3 4 6 4-8 4-5 4-6 4-2 4-3 4-3 4-2 4-1 4-2 4 2 4-1 4-5 4-4 4-5 4-4 4-4 4 0 4 0 4-1 4-5 4-5 4-4 4 1 4 3 4 2 4-2 4-3 4-2 4-1 4-4 4-2 4 0 4-3M3054 921l4-2 4 0 4-5 4-7 4-1 4-3 4 1 4-3 4-2 4-1 4 2 4 0 4-3 4-6 4-1 4 1 4 0 4-6 4-3 4-2 4 0M3146 862l4 0 4 1 4-4 4 3 4-3 4-1 4-1 4-1 4-5 4 0 4-1 4-1 4-1 4 3 4 0 4-1 4-2 4-2 4-1 4-2 4-4 4-3 4-4 4-4 4-6 4-1 4-2 4-3 4-6 4 2 4-1 4 0 4-1 4-4 4-1 4-7 4 2 4-3M3306 795l4-3 4 2 4 2 4-3 4-4 4-7 4-5 4-3 4 0 4-1 4-5"/>
<path stroke="#0072b2" stroke-width="4.4" d="M1014 1704l4 4 4-4 4 3 4 4 4-3 4 1 4 1 4-3 4-3 4 0 4 3 4-1 4-2 4-1 4-1 4 0 4-1 4-2 4 1 4-3 4 1 4 4 4-1 4-6 4 2 4-2 4-3 4-4 4 1 4-4 4-6 4 0 4-1 4-1 4 1 4-1 4 0 4 0 4-4 4-1 4 3 4-5 4 0 4-1 4-4 4-1 4-4 4 5 4 1 4-2 4 0 4 2 4-1 4-1 4-1 4-3 4 1 4-3 4-1 4-1 4 0 4-3 4 0 4-2 4-1 4-7 4-11 4-4 4 3 4 0 4-2 4 6 4 0 4 1 4-4 4-2 4 1 4-1 4-6 4-3 4 3 4 2 4 0 4 5 4-3 4-5 4 1 4 0 4-1 4 4 4-2 4-1 4-1 4 3 4-6 4 0 4 1 4-2 4 0 4-1 4-3 4-3 4-8 4 2 4-4 4 2 4-1 4 3 4-1 4-6 4-3 4-2 4 0 4-2 4-5 4 6 4-2 4-5 4 5 4-3 4 0 4-2 4 0 4-3 4-1 4 4 4-2 4 5 4-4 4 1 4-3 4 0 4-3 4 1 4-5 4 0 4-1 4-3 4 0 4-1 4 1 4-4 4 0 4 0 4-4 4 3 4-4 4-6 4 0 4-4 4 1 4 0 4 0 4 0 4-6 4-1 4-2 4 3 4 0 4 2 4-5 4-1 4 0 4-8 4-1 4-2 4-5 4-1 4-2 4-3 4-3 4-4 4-5 4 0 4-3 4 0 4-3 4-5 4 0 4 1 4 8 4 3 4-3 4-1 4-3 4 0 4 0 4-3 4-2 4-3 4 1 4 0 4-2 4-4 4 1 4-2 4-2 4-1 4 0 4-2 4 1 4-3 4 0 4 14 4-3 4 1 4-2 4-6 4 1 4-2 4 0 4-1 4-3 4 2 4-1 4 1 4 0 4 0 4 4 4 0 4 1 4-3 4 0 4 1 4-4 4 0 4 0 4-3 4-5 4 0 4-6 4-3 4 1 4-3 4 5 4-1 4 2 4-2 4 3 4-6 4 1 4-1 4-2 4 1 4-1 4-4 4-3 4 1 4-7 4-2 4-1 4 2 4 1 4-4 4 2 4-4 4-7 4-3 4-1 4-1 4-1 4-2 4 0 4 2 4 0 4-2 4-1 4 3 4-2 4 0 4 1 4 0 4-2 4-3 4-3 4 1 4 0 4 3 4-1 4 1 4-3 4 1 4 3 4-5 4-3 4-3 4 1 4-4 4-1 4 0 4-1"/>
<path stroke="#f0e442" stroke-width="4.0" d="M3246 934l4-4 4 1 4-6 4-3 4 1 4 0 4 1 4-2 4-3 4 2 4-6 4-2 4-3 4-2 4-1 4 2 4-3 4 3 4 2 4-9 4-3 4-7 4-3 4 2 4-1 4-6 4 2 4-1 4-5 4 0 4-5 4-2 4 4 4-1 4-6 4-3 4 3 4 1 4 7 4-2 4-5 4-2 4-10 4 3 4 1 4 0 4-7 4-5 4-1 4 1 4-4 4-1 4-1 4-2 4-4 4-4 4-4 4 1 4-1 4-1 4 1 4 2 4-4 4 2 4-6 4-3 4-7 4-1 4 5 4 2 4-3 4-2 4-3 4 2 4-1 4-3 4 1 4 0 4-4 4-2 4 2 4 2 4-2M3582 782l4-2 4-2 4 2 4-3 4 3 4 1 4-1 4 0 4 0 4-1 4 8 4 2 4 3 4-2 4 1 4-3 4-2 4 1 4-4 4 2 4-1 4-2 4 0 4-1 4-1 4 0 4 0 4-7 4-5 4 0 4 2 4-2 4-2 4-1 4 0 4 2 4-6 4-1 4 4 4-4 4-3 4 1 4-1 4-1 4-11 4 0 4 2 4 0 4-2 4 3 4-3 4 1 4-5 4 0 4 0 4-7 4 1 4-1 4 0 4 0 4-1 4 2 4 0 4-5 4-6 4 1 4 0 4 0 4 1 4-1 4-6 4-6 4 3 4-1 4 1 4-5 4-2 4 0 4 3 4-2 4-4 4-1 4-4 4-3 4-2 4 0 4-4 4-2 4-3 4-4 4-1 4 3 4-5 4 0 4 2 4-3 4 5 4-3 4-2 4-8 4-3 4 0 4-1 4-3 4-1 4-1 4 1 4-2 4 3 4 2 4-3 4-2 4 4 4 2 4 0 4-2 4 0"/>
<path stroke="#f0e442" stroke-width="5.0" d="M214 1806l4-3 4 0 4 3 4-1 4 1 4 1 4-3 4 2 4-2 4 1 4 0 4-3 4 2 4-5 4 0 4 1 4-3 4-3 4-2 4 2 4 2 4-2 4 0 4-2 4 1 4-3 4-5 4-2 4-4 4 0 4 0 4 2 4-1 4-2 4-2 4-1 4-4 4-1 4 2 4-1 4 0 4-1 4 6 4 3 4-5 4-2 4-4 4-4 4 1 4 0 4-3 4 2 4-3 4-2 4 1 4-3 4 3 4 1 4-2 4 2 4-3 4-3 4 2 4-2 4 0 4-1 4-2 4 4 4-1 4-2 4-4 4-1 4-10 4-2 4 1 4 1 4 2 4 0 4 1 4 1 4-5 4 0 4-2 4-3 4 1 4-1 4 0 4-1 4-1 4-7 4 5 4-8 4-1 4 4 4-1 4 2 4-4 4-2 4-1 4 3 4-1 4-3 4-2 4 0 4 0 4 1 4-6 4-5 4 1 4 0 4-1 4 0 4-2 4 2 4 3 4-5 4 0 4-2 4 0 4-2 4 3 4 0 4 2 4-4 4 2 4-2 4-1 4 2 4-2 4 3 4 1 4-3 4 0 4 0 4-6 4 0 4-3 4-5 4-2 4-1 4 2 4-1 4 1 4-1 4-3 4-1 4 4 4 2 4-3 4-1 4-4 4-1 4 2 4-4 4-4 4-4 4 4 4-1 4 1 4 0 4-2 4 0 4-1 4-4 4-2 4 1 4-2 4 0 4 0 4-1 4 2M902 1678l4 11 4-4 4-1 4-2 4 0 4-4 4-2 4 4 4 0 4-3 4-1 4-3 4 3"/>
<path stroke="#9400d3" stroke-width="3.6" d="M1282 1646l4-3 4 4 4-1 4-2 4 8 4-5 4 0 4 1 4 0 4-2 4 0"/>
<path stroke="#e69f00" stroke-width="5.0" d="M214 1809l4 1 4-1 4 1 4 1 4 2 4 0 4-2 4 1 4 0 4-3 4 2 4-2 4 1 4-2 4-2 4-5 4 2 4-3 4-3 4 0 4 3 4-1 4 1 4 1 4-3 4-6 4-3 4-1 4-3 4-2 4 2 4 2 4-2 4-3 4-3 4-1 4-3 4 0 4 1 4 3 4-3 4 1 4 5 4 2 4-4 4-1 4-4 4-4 4-1 4-3 4 0 4-1 4-1 4 0 4 0 4 0 4-3 4 3 4-3 4 1 4 0 4 0 4-1 4-1 4 0 4 1 4-3 4 0 4-1 4-1 4-3 4-3 4-5 4-4 4 0 4 0 4 2 4 1 4 0 4 1 4-3 4-1 4-3 4-2 4 2 4 1 4-1 4-2 4-2 4-3 4-7 4-4 4 0 4 0 4-2 4 2 4-1 4 0 4-1 4 0 4-2 4 0 4-2 4 1 4 0 4-2 4-6"/>
<path stroke="#f0e442" stroke-width="4.0" d="M214 1862l4-1 4 0 4 0 4 2 4 0 4 0 4 0 4-1 4 2 4-3 4 0 4-1 4 2 4-3 4-1 4-1 4-2 4-3 4-2 4 3 4 0 4-1 4 0 4 0 4-2 4-4 4-4 4-4 4-3 4-1 4 2 4 1 4-1 4-4 4 1 4-4 4 1 4-2 4 3 4-4 4 1 4 0 4 2 4 5 4-1 4-6 4-2 4-4 4-1 4-4 4 3 4-3 4 3 4-2 4 2 4-3 4 0 4 0 4 2 4-3 4-1 4 0 4-1 4-1 4 2 4-2 4-3 4 0 4-1 4-1 4-3 4-1 4-3 4-4 4-2 4 1 4 3 4 0 4-1 4 2 4-6 4 0 4-1 4-2 4 0 4 1 4-2 4-1 4-3 4-1 4-5 4-6 4 0 4 0 4-2 4 0 4 0 4-1 4 1 4 0 4 0 4 0 4-2 4-1 4-1 4 1 4-4 4-6 4-2 4 0 4 2 4-2 4-1 4-1 4 1 4-1 4-2 4-1 4 2 4-2 4 3 4 0 4-2 4 2 4 0 4 0 4-1 4 0 4-1 4 3 4-1 4-1 4-4 4 0 4-3 4-3 4-1 4-4 4-3 4-1 4 2 4 0 4 2 4-2 4-4 4-2 4 1 4 6 4-2 4-4 4 1 4-3 4 0 4-3 4-7 4 0 4 0 4 0 4 1 4 2 4-2 4-3 4 0 4-1 4-3 4 2 4-1 4-2 4-1 4 1 4-1M902 1730l4 9 4-3 4-2 4 0 4-1 4 1 4-3 4-2 4 2 4-1 4-4 4 2 4-2 4-1 4 0 4-2 4 0 4 0 4 0 4 0 4-1 4-2 4 0 4 3 4-2 4 2 4-5 4-8 4 1 4 1 4 3 4 0 4 1 4-1 4-3 4 0 4-1 4 0 4 3 4-3 4-2 4 1 4 0 4-3 4 1 4-1 4 0 4-1 4-3 4 1 4 1 4-1 4-1 4 1"/>
<path stroke="#9400d3" stroke-width="3.8" d="M2562 1080h0M2582 1082l4-4 4-7 4 0 4-2 4-1 4 3 4 0 4-2 4 3 4 2 4-4 4-1 4-9 4-4 4-4 4-2 4-2 4 4 4-4 4-2 4-1 4-1M2690 1041h0M2698 1040l4 0 4-4 4-4 4-1 4 3 4 3 4 0 4-2 4-4 4 2 4-5 4-3 4 3 4 0 4-1 4 2M2794 1010l4 2 4 2M2822 1011l4-1 4-2M2838 1006l4-3 4-4 4-1 4-5 4 0 4-5 4-5 4-2 4 1 4-2 4-1M2894 966h0M2914 977l4-9M2934 948h0M2950 946h0M2970 935h0M2990 923l4-7M3002 910l4 2M3018 915l4-2M3034 908l4-2 4-1 4-4 4 0 4-1 4 0 4-2M3074 885l4-3M3114 873l4 2M3162 845l4 0M3178 840l4-1M3218 837l4 0 4-3 4-5 4-4 4-6 4-1 4-6 4-1 4 0 4-8 4 1 4-4 4 2M3282 800l4-1 4-7 4 0 4-2M3306 789l4 0 4-1M3322 786l4-3 4-5 4-5 4-2 4-2M3362 760l4-1 4-2 4 1M3382 750l4-2 4 1"/>
<path stroke="#9400d3" stroke-width="5.0" d="M214 1795l4-1 4 2 4 0 4 0 4 0 4-1 4-1 4 2 4-1 4 0 4-1 4 0 4 0 4 0 4-4 4-2 4 1 4-4 4-2 4 0 4 3 4-2 4 0 4 4 4-7 4-3 4-3 4-5 4-2 4 0 4 3 4-2 4 0 4-3 4 1 4-3 4-2 4-1 4 2 4 0 4-2 4 1 4 3 4 5 4-5 4-1 4-6 4-3 4-1 4-1 4 0 4 0 4-3 4 0 4 2 4-2 4-2 4 2 4-1 4 0 4 1 4 0 4-2 4-2 4-1 4-3 4 2 4-1 4-1 4-2 4-1 4-2 4-8 4-3 4 2 4 0 4 1 4-1 4 3 4 3 4-5 4 0 4-4 4-3 4 2 4-3 4 3 4-1 4-3 4-5"/>
<path stroke="#e69f00" stroke-width="3.6" d="M3582 760l4-4 4-1 4 1 4 2 4-1 4-1 4-2 4 1 4-3 4 4 4 8 4 3 4 2 4-3 4-4 4 6 4-3 4-4 4-1 4 0 4 1 4-3 4 2 4-2 4 0 4-3 4-1 4-3 4-3 4-1 4 1 4-2 4 0 4-2 4-1 4-9 4-1 4 1 4-2 4 0 4 0 4 0 4 1 4-6 4-3 4-1 4-4 4-3 4 5 4 2 4-4 4-3 4 0 4-3 4 0 4-4 4 0 4 2 4 0 4-4 4 3 4 0 4 1 4-7 4-3 4-3 4 2 4-3 4-3 4 0 4 2 4-5 4-1 4-1 4 3 4-6 4-4 4 1"/>
<path stroke="#f0e442" stroke-width="3.6" d="M2294 1282l4-5 4-3 4-4 4-4 4 1 4 0 4-1 4-2 4-5 4-1 4 3 4 0 4 1 4-1 4 2 4 0 4-3 4-2 4 1 4-4 4-3 4-4 4 0 4-4 4 1 4-4 4-3 4 0 4-2 4-1 4-1 4-3 4-1 4 2 4 0 4 0 4-2 4 1 4-1 4 1 4-5 4-4 4 0 4-1 4 3 4-2 4 0 4-2 4-2 4 0 4-1 4-1 4-2 4-1 4 1 4-3 4 1 4-2 4 2 4-2 4-2 4 1 4 1 4-5 4 1M2558 1174l4 5 4 0 4 2 4-2 4 1 4-1 4-5 4-5"/>
<path stroke="#e51e10" stroke-width="5.0" d="M2638 1225l4-1 4 0 4-1 4-4 4-2 4 0 4 2 4-3 4-2 4 0 4 0 4 0 4-3 4 1 4-1 4 0 4-4 4-3 4-2 4 4 4 0 4 1 4-2 4-2 4-3 4 0 4-2 4-1 4 3 4-1 4 1 4-6 4 0 4-2 4 0 4-6 4-2 4-2 4 4 4-1 4-2 4-1 4 3 4-4 4-2 4 1 4 1 4 1 4 0 4-7 4-2 4-3 4 0 4-4 4-1 4-3 4-6 4 1 4-1 4-4 4-1 4-9 4-3 4-1 4 1 4 3 4-4 4 2 4 7 4-8 4-3 4-5 4-2 4-6 4-1 4-2 4 0 4-2 4 1 4 0 4-3 4-4 4-7 4-5 4 2 4-1 4-1 4-2 4-4 4-4 4-5 4-1 4 3 4 5 4-3 4-2 4-4 4-3 4 4 4-4 4-2 4-3 4-1 4 1 4-3 4 0 4-6 4-6 4 0 4-6 4 5 4-2 4 0 4-2 4-2 4 1 4-2 4-3 4-3 4 1 4-1 4-4 4-3 4-1 4 1"/>
<path stroke="#f0e442" stroke-width="3.8" d="M2442 1150l4 1 4-2 4-2 4 1M2474 1139l4 3 4-1 4-2 4-1 4-2 4-3M2510 1130h0M2518 1133l4 0M2530 1130h0M2546 1124l4 0 4 1"/>
<path stroke="#f0e442" stroke-width="3.6" d="M1418 1625l4-3 4-7 4-1 4 1 4-1 4-1 4-1 4 2 4-6 4 0 4-2 4 0 4-4 4-1 4 1 4-1 4-1 4-1 4 0 4-1 4 0 4 1 4-3 4-1 4 3 4 0 4-1 4 2 4-3 4-1 4-1 4-1 4-1 4 0 4-1 4-4 4-3 4-4 4 2 4 0 4-1 4-1 4-5 4 4 4 2 4-6"/>
<path stroke="#e51e10" stroke-width="5.0" d="M1710 1517l4-2 4-3 4-1 4-5 4 2 4 0 4 2 4 9 4 1 4-7 4 4 4-4 4-4 4 2 4-1 4-5 4-3 4 1 4-1 4-1 4-1 4-4 4-1 4-5 4 2 4-1 4 1 4 2 4-5 4 13 4-4 4 1 4-4 4 2 4 0 4-1 4 1 4-3 4-5 4 3 4-3 4 4 4 1 4-3 4 4 4-1 4 3 4 0 4-5 4-1 4 1 4-2 4-1 4-4 4-1 4-5 4-3 4-6 4 3 4 0 4-1 4 1 4 1 4 0 4 1 4 0 4-5 4 1 4-1 4-2 4 1 4-4 4 1 4-1M2010 1446l4-1 4 0 4 0 4 2 4 0 4-3 4 2 4-10 4-3 4 1 4-4 4-3 4 1 4 1 4 1 4-1 4 1 4-3 4 1 4-1 4 1 4 3 4-2 4 2 4-6 4-1 4-5 4 4 4-1 4 3 4 0 4-3 4 0 4 1 4 2 4 0 4-11 4 0 4-5 4 4 4-2 4-1 4-5 4-10 4 4 4-1 4-2 4-4 4-1 4 2 4-2 4 7 4-3 4-3 4-7 4-3 4-4 4-2 4-5 4 0 4-2 4 0 4 0 4-2 4 1 4-4 4-1 4-3 4 4 4-14 4-12 4-4 4-4 4-1 4-1 4-2 4-4 4 2 4-3 4-3 4-3 4 2 4 2 4 1 4 0 4 4 4-4 4 1 4-6 4-2 4 1 4-5 4-6 4 12 4 3 4-3 4-5 4-2 4 0 4 2 4-2 4-3 4-3 4 1 4-2 4 2 4-3 4-2 4 5 4-3 4 0 4-1 4-5 4 0 4-2 4-1 4 2 4-2 4 2 4-4 4-1 4 0 4-4 4 0 4 0 4 3 4-4 4 1 4-1 4 0 4-3 4-1 4 1 4-4 4 1 4 2M2558 1251l4 7 4-3 4-1 4-1 4 2 4 2 4-8 4-5 4-2 4 1 4-4 4-1 4 4 4 2 4 2 4 0 4-3 4-4 4-6 4-5 4-4 4-1 4-2 4 1 4-5 4 2 4 0 4 0 4-2 4 0 4-3 4 8 4-9 4 2 4-1 4-3 4-3 4-1 4-3 4 4 4 1 4-1 4-1 4-2 4-4 4-2 4 0 4 0 4 2 4 1 4 4 4-5 4 0 4-3 4 2 4-3 4-3 4 0 4-5 4 2 4-2 4 4 4 0 4-3 4 1 4-3 4-2 4 3 4-4 4 0 4-3 4-3 4-1 4-7 4 2 4-6 4 0 4-3 4 0 4-4 4 12 4-10 4 4 4-2 4-3 4 1 4 2 4 1 4 3 4-6 4-2 4-7 4-3 4-4 4-5 4 2 4 1 4 1 4-4 4 4 4-5 4-4 4-8 4-2 4-4 4 0 4-1 4-3 4-2 4-6 4-2 4-3 4 2 4 5 4 0 4-3 4 2 4-4 4 0 4-4 4-1 4-5 4 2 4-3 4-2 4 0 4-4 4-6 4-3 4-2 4-1 4 3 4-3 4 2 4-1 4-2 4-3 4-3 4-1 4-1 4 3 4-6 4-5 4 0 4-1 4-13 4-2 4-1 4 1 4 0 4-2 4 1 4-6 4 2 4-1 4 1 4-5 4 1 4-3 4-3 4 3 4 3 4 2 4-2 4-2 4-6 4 1 4-6 4-2 4 0 4-3 4-5 4-3 4 1 4-5 4-3 4-2 4-3 4 0 4 3 4 0 4-4 4-4 4 1 4-6 4 2 4-5 4 3 4-3 4 2 4-1 4-4 4-7 4-4 4-3 4-3 4 2 4-9 4 5 4 2 4-5 4-2 4-4 4 2 4 1 4-4 4-6 4 1 4 0 4 0 4 10 4-5 4-3 4-8 4 3 4-6 4 1 4 4 4-8 4-2 4 2 4-5 4-3 4 1 4-2 4-1 4-10 4-2 4-6 4 1 4 3 4-3 4 4 4-2 4-4 4 2 4-5 4-4 4 2 4-4 4 0 4-2 4 2 4 1 4-2 4-1 4 0 4-1 4-3 4-2 4-3 4 3 4-2 4 2 4-2M3582 865l4-3 4 0 4 1 4 1 4-3 4 0 4 4 4-9 4 6 4 2 4 8 4 3 4 1 4-4 4-1 4-3 4 4 4-3 4-1 4-2 4 0 4-3 4 0 4 0 4-5 4 6 4 0 4-10 4-1 4-3 4 3 4-2 4 1 4-2 4-3M3726 826l4-5 4 6 4-3 4 0 4-6 4 7 4-1 4-3 4-6 4-2 4-4 4-1 4 0 4 1 4 3 4-5 4-2 4-4 4 3 4-1 4-5 4-1 4 2 4-2 4 4 4 1 4-1 4-5 4-4 4-6 4 2 4 1 4 1 4-4 4-3 4-3 4 3 4-1 4 2 4-4 4-2 4-1 4-3 4-1 4-1 4 0 4-2 4-4 4 0 4-3 4-2 4-3 4-3 4-2 4-1 4-5 4 1 4 0 4-2 4-3 4 4 4 3 4-6 4-2 4-5 4-2 4 1 4-7 4 3 4 1 4-2 4-1 4 1 4-6 4 6 4 4 4-4 4-1 4 6 4 2 4-1"/>
<path stroke="#9400d3" stroke-width="3.6" d="M1418 1543l4-6 4-7 4 1 4 0 4 1 4 2 4-4 4-1 4-3 4-2 4-4 4-1 4-1 4-2 4-1 4-1 4-3 4 3 4-2 4 1 4 0 4-5 4 1 4-1 4 3 4-1 4 3 4 1 4-3 4-4 4-1 4-1 4 0 4-1 4-3 4-2 4-2 4-1 4-3 4-2 4 0 4-2 4 0 4 0 4 2 4-5 4-6 4-4 4 0 4 0 4-2 4 2 4-4 4-1 4-2 4-3 4 3 4-2 4 0 4-3 4 0 4-2 4-5 4-4 4-4 4-4 4 0 4-5 4-2 4-1 4-5 4-3 4 2 4-6 4 2 4-7 4-4 4 1 4-1 4 6 4 2 4 3 4-2 4-1 4-4 4 0 4-3 4-2 4-2 4 0 4-2 4 1 4-1 4 0 4-5 4-1 4 0 4-1 4-2 4-1 4-2 4 3 4 10 4 2 4-4 4-5 4 0 4-2 4-1 4-2 4-1 4 0 4-1 4 0 4 5 4-1 4 3 4 1 4 0 4 0 4-2 4-3 4-1 4 1 4-1 4-1 4-3"/>
<path stroke="#009e73" stroke-width="4.4" d="M2638 1178l4 4 4-5 4-4 4 3 4-2 4-1 4 0 4-1 4-5 4 2 4 1 4 0 4-2 4 1 4-2 4-4 4-4 4 3 4-3 4 0 4 2 4-1 4-1 4-1 4-6 4 1 4-1 4-1 4 2 4-2 4 0 4-4 4 0 4-3 4-4 4 0 4-3 4 2 4 0 4-7 4 2 4 2 4 1 4-5 4 0 4 2 4 1 4-3 4 0 4-3 4-2 4-7 4 3 4-4 4-3 4-5 4-8 4 3 4 1 4-3 4-1 4-8 4-3 4-1 4 1 4-2 4 0 4 3 4 3 4-4 4-8 4-5 4-2 4 1 4-3 4-1 4-3 4-2 4-2 4 5 4-6 4-3 4-4 4-7 4-1 4 0 4 2 4-3 4-11 4-1 4-3 4 1 4 2 4 3 4 3 4-6 4-6 4 2 4-5 4-1 4 0 4-2 4-1 4-3 4 0 4-2 4-7 4-3 4-1 4-4 4 5 4-3 4-3 4 3 4-4 4-1 4-2 4-4 4-2 4 3 4-2 4-6 4 0 4-3 4 1 4-6 4 4 4-2 4 1 4-7 4 1 4 0 4-1 4 0 4-7 4 2 4-1 4 1 4-1 4-2 4 0 4-1 4 0 4 3 4-4 4-1 4-1 4 0 4-9 4-4 4 0 4-5 4-2 4-3 4-5 4-1 4 0 4 1 4-3 4-1 4-3 4 2 4-7 4-2 4 1 4-2 4-1 4-1 4 1 4-1 4-1 4-3 4-5 4-9 4-4 4 2 4 1 4-5 4 0 4-1 4-1 4-5 4 4 4-7 4-3 4-3 4 1 4-1 4-1 4 1 4 8 4-5 4 0 4-4 4-4 4 0 4-4 4 2 4-6 4-6 4 6 4 0 4-1 4-1 4-5 4-1 4-3 4 0 4-5 4-1 4-4 4 1 4 4 4-2 4-5 4 1 4 0 4-6 4-2 4-3 4 1 4-2 4-2 4 3 4-2 4 0 4-1 4 1 4-3 4-5 4 1 4 1 4 2 4-6 4 3M3582 796l4 3 4 1 4-6 4 1 4 2 4-1 4 0 4 1 4-2 4 0 4 10 4 3 4 1 4-3 4-3 4 4 4-2 4-1 4-3 4-1 4 1 4 0 4-6 4 2 4 2 4-3 4 2 4-11 4 1 4-3 4 2 4 0 4-1 4 0 4-2 4-8 4-1 4 4 4-5 4 1 4-3 4 0 4-3 4-1 4-5 4-1 4-1 4 0 4-2 4 4 4-3 4-2 4 0 4-6 4 2 4 0 4-6 4-1 4 3 4 1 4-1 4 2 4-1 4-3 4-9 4 1 4 1 4-2 4 3 4-3 4-4 4-5 4 3 4 1 4 1 4-6 4-4 4 3M3898 710l4-1 4-4 4 0 4-4 4-1 4-3 4-2 4-5 4-1 4-3 4 1 4-7 4-3 4 2 4 2 4-3 4-1 4 2 4-2 4-5 4-1 4-2 4 0 4-5 4-1 4 0 4 1 4-1 4-1 4-1 4-1 4 2 4 0 4 1 4 2 4 0 4 1 4 1"/>
<path stroke="#f0e442" stroke-width="3.6" d="M2186 1381l4-1 4 1 4 4 4-4 4-4 4 1 4-2 4 1 4-2 4 0 4-7 4 0 4-6 4-3 4-2 4 2 4-1 4-6 4 2 4-5 4 3 4 1 4 0 4-4 4 0 4-8 4-6 4-7 4 0 4-3 4-2 4 0 4-4 4 1 4-4 4-5 4 5 4-2 4 6 4-2 4 1 4-4 4 3 4-1 4-2 4-4 4-2 4 0 4-1 4-7 4 3 4-6 4 0 4-5 4 0 4 1 4-1 4-1 4-3 4-5 4 3 4 6 4-1 4-2 4-6 4 2 4-1 4 1 4-7 4-2 4 3 4 1 4-4 4 4 4-1 4-2 4-4 4 2 4-4 4-3 4 5 4 1 4-7 4 3 4-5 4 3 4-1 4-1 4 0 4-2 4-4 4 2M2558 1233h0"/>
<path stroke="#009e73" stroke-width="3.6" d="M802 1752l4 5 4 0 4-6 4-2 4 2 4-3 4-5M846 1739l4 4M866 1739l4 0 4-1 4-3 4-1M890 1735l4-2 4 0M902 1755l4 7 4-4M942 1749h0M954 1749l4 0 4-1 4 0 4-1M990 1745l4-1 4 2 4-2 4 0 4-2M1018 1735l4 1 4-1 4 3 4 0 4-1 4-1 4-1 4 0 4-1M1062 1733l4-2 4 1M1090 1728l4-1 4 0 4 0M1118 1723l4-5M1134 1709l4-1 4-1 4-2 4 2 4-1 4-1 4-1 4 1M1198 1695l4-6 4 4 4 0 4-1 4 3 4 0 4-1 4-1M1242 1687l4-1 4-2"/>
<path stroke="#0072b2" stroke-width="3.6" d="M646 1695l4 3 4-5 4 0 4-4 4 5 4-2 4 4 4-6 4-5 4 5 4-1 4 0 4-1 4 3 4-3 4 0 4 3 4-4 4-1 4 2 4-2 4 4 4 0 4-6 4 2 4-2 4 0"/>
<path stroke="#f0e442" stroke-width="4.4" d="M3730 849l4 1 4-3 4 2 4-3 4 7 4-4 4-7 4-6 4-2 4-5 4 4 4 3 4 6 4-5 4-1 4-7 4 1 4 2 4-6 4-3 4-1 4-1 4 2 4 2 4 0 4 1 4-4 4-4 4-4 4-1 4 5 4-4 4-3 4-1 4-2 4-5 4 4 4 0 4-2 4-6 4 2 4 0 4-4 4 1 4-1 4-5 4 2 4-7 4-4 4 2 4-5 4 2 4-3 4-2 4 1 4 0 4-6 4 2 4-3 4 4 4-2 4-6"/>
<path stroke="#9400d3" stroke-width="3.6" d="M1166 1683l4-5 4 1 4-1 4-2 4 3 4-3 4-1 4-4 4-3 4 3 4 2 4-1 4 1 4 1 4-3 4-1 4-1 4 1 4-3 4-5 4 2 4-6 4 3 4-4 4 1 4-1 4-3 4-2M1282 1637l4 3 4-2 4 1 4 2 4 3 4 0 4 1 4-4 4-1 4-2 4-1 4-11 4 0 4 2 4 4 4-2 4 2 4-1 4-2 4 0 4 1 4-3 4 3 4-2 4 0 4 2 4-2 4-2 4 0 4 0 4-3 4-1 4 0 4-4 4-5 4-5 4 3 4-3 4-2 4 1 4 1 4-3 4-1 4-2 4-3 4 1 4-2 4-3 4-2 4 1 4-2 4-1 4 2 4-1 4-2 4-1 4 0 4-2 4 4 4 0 4 1 4 2 4-3 4-2 4-1 4-3 4 0 4-3 4 2 4-3 4-4 4 1 4-6 4 2 4 0 4 1 4 0 4-1 4 0 4-3"/>
<path stroke="#e51e10" stroke-width="3.6" d="M906 1760l4-6 4-1 4-1 4 0 4 0 4-2 4-2 4-2 4-2 4-1 4 1 4 4 4-4 4-1 4 1 4-3 4 1 4-1 4-3 4 1 4-1 4 2 4 0 4-3 4-2 4 3 4-13 4 5 4 2 4 1 4 2 4-3 4-2 4 0 4-1 4 3 4 0 4-3 4-1 4 1 4-3 4-3 4-1 4 2 4-3 4-1 4 5 4-3 4 0 4 3 4-4 4 0 4 3 4-3 4-5 4-3 4-3 4-4 4-4 4 0 4 2 4 2 4-3 4-1 4-1 4-4 4 2 4-3 4-2 4 0 4-1 4 0 4-2 4-7 4 5 4 0 4 2 4 3 4-2 4 0 4-1 4-6 4 0 4 4 4-4 4 0 4-3 4 4 4-7 4-1 4 0 4-8 4-1 4-10 4-1 4 2 4 0 4 0 4 4 4 3 4-1 4-6 4 2 4-2 4 1 4-8 4 1 4 2 4 1 4 0 4 3 4-5 4-1 4 0 4 1 4 0 4 0 4 2 4 2 4-1 4 1 4-8 4 4 4-5 4 0 4-2 4 3 4-4 4-7 4-3 4-3 4 0 4 1 4-3 4 3 4-1 4-3 4 1 4-6 4-2 4-2 4-3 4 2 4 2 4-5 4 5 4-5 4 5 4-3 4-5 4 3 4-5 4 5 4 2 4 1 4 0 4-3 4-3 4-1 4 0 4 0 4-5 4-1 4 0 4-2 4-1 4-4 4 2 4 0 4-1 4-1 4 2 4 1 4-7 4-7 4 0 4-2 4 1 4-2 4 2 4-1 4-3 4-3 4 0 4-3 4 1 4 2 4-1 4-3 4-3 4-5 4 0 4-3 4-5 4-3 4 2 4-6 4-2 4-2 4 2 4-5 4-2 4-3 4-1 4-7 4 3 4-1 4 3 4 6 4-1 4-3 4-5 4 1 4 2 4-3 4-3 4-4 4 3 4-2 4-1 4-2 4-1 4 0 4-4 4 1 4 1 4-3 4 0 4-4 4 4 4 14 4-3 4-4 4-1 4-1 4-4 4 0 4-4 4-1 4-1 4 1 4 3 4-2 4 2 4 0 4 2 4 2 4 3 4-5 4-1 4 1 4-5 4 1 4 1 4-6"/>
<path stroke="#009e73" stroke-width="4.0" d="M3630 818l4 1 4-1 4-2 4-1 4-2 4-2 4-1 4 1 4-4 4 1 4 0 4-1 4 1 4-3 4-1 4-8 4-1 4-2 4 1 4 0 4 0 4-1 4 1 4-8 4-3 4 0 4 0 4 2 4-4 4-1 4 2 4-2 4-8 4-1 4-1 4-2 4 2 4-1 4-1 4 0 4-3 4-3 4 1 4-4 4-2 4-1 4 0 4 0 4 3 4 1 4-3 4-2 4-3 4-3 4-2 4 0 4 0 4-3 4-1 4-5 4 1 4 0 4 2 4-4 4-4 4 0 4 0 4-1 4 0 4-2 4-3 4-3 4-4 4-4 4 0 4-1 4-3 4-2 4 0 4 0 4-3 4-2 4-5 4 5 4 0 4 0 4-4 4-3 4-3 4-3 4-1 4-2 4 0 4 0 4 0 4-1 4 0 4-1 4 3 4 2 4-1 4-2 4 1 4 0 4 0"/>
<path stroke="#0072b2" stroke-width="5.0" d="M214 1797l4 0 4 1 4 2 4 0 4 0 4-1 4 3 4-3 4 3 4-4 4 2 4-1 4-2 4 0 4-3 4-2 4-1 4-3 4-1 4 1 4 0 4 0 4 0 4 0 4-1 4-6 4-3 4-3 4-2 4 0 4 3 4-1 4-2 4-3 4-1 4-2 4-3 4 0 4 2 4-1 4 0 4-1 4 4 4 2 4-1 4 0 4-6 4-5 4-1 4 1 4-3 4 1 4-1 4-3 4 2 4-1 4-1 4 2 4-1 4 0 4-1 4 1 4-2 4-1 4-2 4 0 4 0 4-4 4 2 4-1 4-2 4-3 4-5 4-5 4-1 4 5 4 0 4 0 4 1 4 0 4-3 4-1 4-2 4-4 4 4 4-4 4 0 4 1 4-3 4-2 4-6 4-8 4 0 4 1 4-2 4 2 4 3 4-3 4-3 4 1 4-2 4 0 4-1 4-2 4 2 4-1 4-6"/>
<path stroke="#f0e442" stroke-width="3.6" d="M3986 714l4-3 4-1 4-1 4-1 4 1 4-2 4 2 4 1 4-1 4 0 4-1 4 1 4 2 4 0 4 1 4-2"/>
<path stroke="#e69f00" stroke-width="5.0" d="M3986 643l4-1 4 0 4-3 4-1 4 1 4-1 4-1 4 0 4 0 4 3 4 1 4-3 4 1 4 1 4-1 4 1"/>
<path stroke="#e51e10" stroke-width="3.6" d="M1830 1494l4-2 4-4 4-1 4-2 4 1 4-1 4-3 4-3 4 0 4-2 4 4 4 1 4 0 4 1 4 3 4-1 4 2 4-1 4-4 4 0 4 0 4-1 4 2 4-7"/>
<path stroke="#0072b2" stroke-width="6.0" d="M1590 1472l4-1 4 1 4-3 4-9 4-2 4-1 4 0 4-2 4 0 4 1 4-5 4-1 4-2 4 1 4 2 4-1 4-3 4 0 4-2 4 0 4-7 4-3 4-3 4-3 4-3 4-6 4-1 4-2 4-5 4 1 4-4 4 2 4-3 4-7 4 1 4 1 4 2 4 7 4-2 4-2 4-2 4-5 4 2 4-2 4-1 4-2 4 2 4-2 4-3 4-2 4-1 4-2 4-2 4 0 4-1 4-1 4-2 4-1 4 1 4 12 4-1 4-3 4-4 4 1 4-1 4-1 4-2 4-2 4-1 4 0 4 3 4 0 4-1 4 1 4 3 4-1 4-1 4 0 4 1 4 0 4-2 4-2 4 0 4-3 4-7 4 0 4-6 4-2 4 1 4-1 4 2 4-1 4 2 4 1 4 1 4-4 4-2 4-3 4 2 4-2 4-2 4-1 4-3 4 0 4-7 4-2 4-3 4 2 4 1 4-3 4-1 4 1 4-8 4-6 4 0 4 0 4-4 4 2 4 0 4-1 4 0 4-1 4 0 4 0 4 0 4 1 4-1 4 2 4-2 4-2 4-3 4 0 4 1 4-2 4-2 4 4 4 1 4 0 4 0 4-4 4-2 4-1 4-4 4-3 4 1 4-1 4-1 4-6 4-6 4-2 4-1 4 0"/>
<path stroke="#0072b2" stroke-width="5.0" d="M2994 1068l4-6 4-4 4 3 4 2 4 3 4-3 4-4 4-1 4 1 4-2 4-4 4-3 4-3 4-1 4-1 4 0 4-1 4-4 4-6 4-3 4 1 4 0 4-3 4 2 4-1 4-2 4-3 4-1 4-3 4-3 4-1 4 4 4-9 4 0 4 1 4-4 4-8 4-6 4-2 4 1 4 1 4-2 4-3 4-1 4 0 4-2 4 1 4-2 4-2 4 0 4-3 4 2 4 3 4 0 4-3 4-3 4-1 4-1 4-3 4-2 4-6"/>
<path stroke="#e51e10" stroke-width="3.6" d="M214 1872l4-2 4-1 4 4 4 3 4-4 4 2 4 0 4-3 4 0 4-2 4 3 4-2 4 2 4-1 4-5 4 1 4 1 4-3 4-5 4 2 4 1 4-2 4 3 4-4 4 1 4-7 4 1 4 0 4-3 4-1 4 0 4 2 4 2 4-4 4-1 4-2 4-5 4 3 4-4 4 2 4 1 4-1 4 2 4 5 4-4 4-2 4-2 4-5 4 1 4-3 4 0 4-2 4-1 4-1 4 2 4 1 4-1 4 2 4-4 4 2 4-4 4 1 4 1 4-1 4 0 4-1 4-1 4 1 4-5 4-1 4-1 4-4 4-4 4-3 4 1 4 3 4-2 4 1 4 2 4 0 4-1 4-1 4-5 4-3 4 2 4-1 4-1 4-1 4-2 4-1 4-7 4-3 4-2 4 1 4-2 4 1 4 2 4-2 4-2 4-1 4-1 4 0 4-3 4 3 4-1 4 1 4-5 4-5 4 0 4-3 4 1 4-2 4 1 4 0 4-1 4 1 4-3 4-1 4 1 4 0 4-4 4 7 4-2 4 0 4 0 4-1 4 0 4 0 4 0 4 2 4-1 4 0 4-3 4-1 4-5 4-3 4-1 4-1 4-2 4-2 4 1 4-1 4 0 4 0 4-2 4-7 4 7 4 4 4 0 4-4 4-2 4-2 4-1 4-1 4-5 4-3 4 1 4 1 4 0 4-2 4 3 4-4 4-2 4-1 4 1 4-2 4-1 4 2 4-1 4-1 4 0"/>
<path stroke="#9400d3" stroke-width="3.6" d="M3730 792l4-2 4 0 4-4 4 0 4 1 4-3 4-1 4-6 4-1 4-4 4 3 4 2 4-1 4-3 4 1 4-2 4-2 4 1 4-6 4 1 4-3 4 0 4 3 4-1 4 1 4-1 4 0 4-9 4 1 4-4 4 2 4-1 4-5 4 1 4-6 4 0 4 2 4 0 4-3 4-2 4 1 4-3 4 1 4-3 4 0 4-5 4-3 4-3 4 1 4-2 4-2 4-1 4-4 4-1 4 2 4-8 4 2 4-4 4 2 4 2 4 0 4-3"/>
<path stroke="#0072b2" stroke-width="4.0" d="M2390 1267l4-5 4 0 4-3 4 0 4 0 4-2 4 0 4-1 4-2 4-1 4-1 4 0 4 0 4 1 4-2 4-3 4 2 4-6 4-1 4 0 4-2 4 1 4 1 4-4 4 4 4-3 4-1 4 0 4-4 4-2 4 2 4-2 4 0 4-1 4 1 4 0 4-4 4 2 4-2 4-5 4 4M2558 1197l4 3 4 0 4 3 4-4 4 2 4-2 4-3 4-5"/>
<path stroke="#9400d3" stroke-width="4.4" d="M3630 902l4-2 4-1 4 3 4-2 4 0 4-4 4-3 4 0 4 1 4 2 4 0 4-5 4 2 4-1 4-3 4-4 4 1 4-7 4 6 4-6 4-2 4 1 4-1 4-11 4 0 4-1 4-3 4 0 4-2 4 1 4 1 4-1 4-9 4-1 4 0 4-4 4 3 4-1 4 0 4-1 4-3 4-3 4 0 4 1 4-4 4-2 4 1 4-2 4 1 4 3 4 2 4-5 4-9 4 1 4-1 4-2 4 1 4-2 4-3 4-3 4 0 4 0 4 2 4-3 4-3 4 1 4-2 4-5 4 2 4-2 4-2 4-1 4-7 4 3 4-4 4-3 4-3 4-1 4 0 4 1 4-6 4 2 4-6 4 2 4 4 4-4 4-1 4-4 4-6 4 0 4 0 4-4 4 0 4-2 4 3 4 2 4-2 4 0 4 3 4 1 4 1 4 1 4 0 4-3 4 0"/>
<path stroke="#e51e10" stroke-width="4.0" d="M214 1778l4-1 4-1 4 1 4 1 4 2 4-2 4 0 4-3 4 3 4-2 4 2 4-2 4 1 4-2 4-3 4 0 4-1 4-3 4-3 4 0 4 0 4 1 4 0 4 2 4-4 4-5 4-2 4-4 4-1 4-1 4-1 4 1 4 0 4-1 4-3 4-1 4-4 4 0 4 2 4-1 4-2 4 1 4 4 4 4 4-4 4-1 4-4 4-5 4-2 4 1 4-2 4 0 4 1 4-3 4-1 4 0 4 1 4 1 4-2 4 1 4-2 4 1 4-2 4 0 4-1 4-2 4 1 4-4 4 2 4-3 4-3 4-2 4-4 4-6 4 2 4 2 4 1 4-1 4 1 4 2 4-4 4 0 4-3 4-2 4 1 4-2 4-2 4-1 4-1 4-3 4-6 4-4 4 0 4 0 4-1 4 0 4 1 4-2 4-1 4 0 4 0 4-1 4-1 4-2 4 0 4 0 4-6 4-4 4 2 4-3 4 2 4-3 4 1 4 0 4-1 4-3 4 0 4 0 4 2 4-1 4 1 4-2 4 1 4-1 4 2 4 0 4-2 4 0 4 1 4 2 4 0 4-5 4 0 4-2 4-1 4-3 4-3 4-6 4 0 4 2 4 0 4 2 4 0 4-1 4-6 4-1 4 4 4 1 4 0 4-4 4-1 4-1 4-3 4-4 4-4 4-2 4 4 4-2 4 3 4-1 4 0 4-1 4-2 4-1 4 0 4-4 4 1 4 0 4 0 4-2 4 1M902 1645l4 6 4-1 4-1 4 0 4-2 4-1 4 0 4-1 4-3 4 1 4-4 4 3 4-1"/>
<path stroke="#0072b2" stroke-width="4.0" d="M214 1870l4-3 4-3 4 0 4 2 4 3 4 0 4-1 4 1 4-3 4-1 4 1 4 2 4-1 4 0 4-4 4-4 4 1 4-1 4-3 4-2 4 4 4-4 4-2 4 4 4 2 4-6 4-5 4-2 4-2 4 2 4-2 4 2 4-3 4 1 4 0 4-6 4-2 4-3 4 2 4 4 4-2 4 2 4-3 4 5 4 0 4-6 4-1 4-2 4-3 4-1 4 1 4-4 4 3 4-6 4 3 4 1 4-2 4 4 4-2 4 1 4-4 4-3 4 1 4 1 4-2 4-2 4 1 4 1 4-4 4 0 4-1 4 1M506 1800l4-7 4 0 4 4 4 0 4 0 4 0 4 2 4-4 4 0 4-1 4-3 4-2 4-2 4 3 4 2 4 1 4-8 4-7 4-4 4 1 4-4 4 1 4 0 4 1 4 1 4 0 4-2 4-1 4-3 4-1 4 1 4 2 4-3 4-2 4-7 4-1 4 0 4 2 4-3 4 0 4-1 4 3 4-1 4-3 4-1 4 3 4-4 4 2 4 0 4 0 4-1 4 1 4-2 4-3 4 4 4 0 4-1 4 2 4 1 4-1 4-3 4-3"/>
<path stroke="#e51e10" stroke-width="4.0" d="M3334 949l4 0 4-5 4 3 4-7 4 0 4-2 4 1 4-3 4-2 4-1 4-2 4-4 4-2 4 2 4 1 4 0 4 5 4-3 4-1 4-3 4-8 4-1 4 4 4-1 4-4 4-8 4-2 4 0 4 0 4 0 4-3 4-3 4-1 4-5 4-3 4-2 4-3 4 4 4-1 4-1 4-5 4 1 4 1 4-6 4-3 4-1 4 1 4-2 4-1 4-3 4 3 4 0 4-3 4-2 4-1 4 3 4-5 4 1 4 1 4-2 4-3M3582 837l4 3 4-4 4 1 4 1 4-4 4 3 4-1 4 1 4-1 4 3"/>
<path stroke="#0072b2" stroke-width="5.0" d="M1606 1591l4-1 4 1 4-3 4-2 4-3 4 3 4-3 4-1 4-2 4-1 4 4 4 0 4-2 4-4 4 2 4-6 4-2 4-2 4-5 4-3 4 0 4-7 4-1 4-3 4 1 4-4 4-4 4 0 4-2 4-5 4 0 4 2 4 2 4 3 4 3 4-6 4-1 4-1 4 3 4-3 4-2 4-3 4 4 4-8 4-1 4-1 4-1 4-1 4-2 4 1 4-3 4 2 4-4 4-2 4 5 4 8 4-2 4 5 4-6 4 0 4 0 4-2 4-2 4-2 4-4 4 2 4 3 4 2 4-1 4-2 4 2 4-1 4-1 4 2 4 0 4 0 4-3 4 0 4 1 4-6 4-5 4-1 4-5 4-1 4-1 4 3 4 3 4-5 4 1 4 0 4-3 4 2 4-2 4 1 4-1 4-3 4 2 4-1 4-7 4 0 4-7 4 2 4-2 4-2 4 1 4-1 4 1 4-2 4-11 4 3 4 0 4-5 4-6 4 1 4 1 4 3 4 0 4-1 4 1 4 0 4 0 4 0 4 0 4 0 4-2 4-3 4-3 4-3 4 2 4 3 4-4 4 3 4 0 4 0 4 2 4-4 4 0 4-5 4-4 4 0 4 1 4-4 4-1 4-4 4-6 4-2 4-1 4 1 4-4 4 0 4-1 4 2 4 1 4-2 4-1 4-7 4-1 4-4 4-4 4-1 4-3 4 1 4 0 4-1 4-1 4-2 4-2 4 4 4-6 4 0 4-6 4-7 4-1 4-7 4-2 4-2 4 0 4-4 4 0 4-2 4 0 4 1 4-2 4 4 4 2 4-4 4 1 4-3 4 1 4-1 4-2 4-4 4-3 4-1 4-1 4-5 4-1 4 0 4-1 4-2 4-4 4-1 4 2 4 0 4-3 4-1 4 1 4-3 4-2 4 3 4-1 4-1 4 3 4-6 4 0 4-6 4-3 4-1 4-4 4-2 4-1 4-1 4-1 4-3 4 3 4 0 4-1 4-1 4 0 4-2 4-1 4 1 4-1 4-1 4-1 4 0 4-3M2558 1281l4 7 4-2 4 1 4 1 4 0 4 3 4-5 4-10 4-2 4-3 4-3 4-2 4 2 4 2 4 3 4-1 4 1 4-3 4-4 4-8 4-1 4-8 4 3 4-3 4 0 4 0 4-1 4 0 4 1 4-4 4 0 4-2 4 0 4 2 4-7 4 4 4-3 4-5 4 3 4 4 4-1 4-1 4-1 4-4 4-4 4-3 4 0 4-3 4 5 4 2 4-1 4-3 4-2 4 0 4-2 4-5 4-3 4 0 4 0 4-1 4-1 4-1 4 1 4-1 4-1 4-2 4 4 4-3 4 1 4 0 4-6 4-2 4-2 4-2 4-3 4-4 4-7 4 2 4 1 4-2 4-11 4-11 4 1 4-3 4 1 4-2 4 1 4 1 4 6 4-6 4-4 4-7 4 1 4-7 4-1 4-3 4 3 4-4 4-2 4-2 4-1 4-4 4-4 4-2 4-3 4-1 4-1 4-1 4-3 4-5 4-4 4-2 4 6 4 1 4-1 4-5 4 1 4-2 4-5 4 1 4-4 4-1 4-2 4-1 4-1 4-5 4 3 4-4 4-3 4-5 4 1 4 0 4-2 4 1 4-3 4 0 4-7 4-1 4 1 4 0 4 0 4-4 4-3 4 0 4-3 4-9 4-5 4-1 4 1 4 1 4 0 4-6 4-1 4 0 4 1 4 2 4-4 4-6 4 0 4-1 4 1 4 7 4 2 4-7 4-5 4 4 4-1 4-5 4-1 4-6 4-7 4-4 4 0 4 1 4-7 4 0 4 0 4-4 4-1 4 3 4-5 4-1 4-4 4-1 4 1 4-2 4-2 4 1 4-1 4-3 4 1 4-4 4-7 4-2 4-3 4-5 4 2 4-1 4-2 4 0 4-4 4 2 4 0 4-5 4-3 4-3 4 1 4-3 4-2 4-1 4 12 4-5 4-2 4-5 4-5 4 2 4-2 4 3 4-5 4-6 4-3 4 3 4-2 4-3 4-3 4-2 4-5 4-2 4-4 4 1 4-2 4 1 4 2 4 0 4-5 4 2 4-4 4-5 4-4 4-3 4 4 4 1 4-4 4 2 4-1 4-3 4-1 4 1 4-1 4-3 4-3 4 2 4 1 4-1 4 0M3582 863l4 1 4-2 4-1 4-2 4 3 4-2 4 0 4 1 4 1 4-2 4 9 4 4 4-2 4 2 4-2 4 0 4-3 4-2 4 3 4-1 4-5 4-1 4-2 4 1 4 0 4-4 4-1 4-4 4 3 4-4 4-1 4-4 4 4 4 0 4 0 4-7 4-5 4 1 4-1 4 0 4 0 4 1 4 1 4 0 4-10 4-1 4 1 4-6 4 2 4 3 4-4 4-3 4-3 4 0 4-3 4-2 4-4 4-2 4 0 4-1 4 5 4 2 4-1 4-4 4-8 4 4 4-1 4-5 4 2 4-3 4-3 4-3 4 0 4 1 4 2 4-6 4-3 4 5 4 0 4-5 4-3 4 2 4-5 4 0 4-5 4-2 4-1 4-3 4-3 4 1 4-3 4-1 4-2 4 0 4-2 4 0 4 2 4-5 4 2"/>
<path stroke="#f0e442" stroke-width="3.6" d="M214 1837l4 1 4 1 4 1 4-1 4 1 4-1 4 1 4 1 4-1 4-3 4 6 4-7 4 1 4 5 4-4 4-3 4-2 4-3 4-5 4 3 4 0 4-1 4-1 4 6 4-4 4 0 4-9 4-3 4 1 4-4 4 2 4 3 4-6 4-1 4-1 4 1 4-7 4 2 4-1 4 0 4 0 4 3 4 1 4 2 4-1 4-4 4-4 4-4 4 4 4-2 4 0 4-7 4 0 4 2 4 4 4-2 4-5 4 5 4-2 4-3 4 2 4-4 4 2 4-1 4 3 4-8 4 3 4-3 4-1 4 0 4-1 4-4 4-2 4-5 4 1 4 2 4 1 4-4 4 2 4-1 4-1 4 2 4-3 4-2 4-1 4 0 4 1 4-5 4 1 4-3 4-4 4-6 4 0 4-1 4-1 4 1 4-2 4 2 4-1 4 0 4-1 4-3 4 0 4 0 4-2 4-2 4-2 4-8 4 4 4-3 4 2 4 2 4-1 4-6 4 5 4 0 4-4 4 0 4 2 4 0 4-3 4 0 4 1 4 0 4-1 4-2 4 0 4 5 4 0 4-1 4 1 4-5 4 1 4-8 4 0 4-6 4 0 4-2 4 0 4-4 4 5 4-2 4 1 4-3 4 0 4-4 4 6 4 1 4-1 4-1 4-1 4-4 4-3 4-4 4 1 4-4 4 1 4 1 4 2 4-4 4 0 4 0 4 3 4-7 4 0 4 0 4-4 4-2 4 1 4 1 4 2M902 1710l4 4 4-4 4 0 4-2 4 0 4 0 4-3 4-1 4-2 4 3 4-3 4 2 4-1 4-1 4-3 4-1 4 2 4-2 4 2 4-3 4-3 4 0 4 3 4 3 4-3 4-3 4 2 4-13 4 4 4 0 4 3 4 2 4 1 4-4 4 2 4-2 4 0 4-4 4 5 4-7 4 1 4 0 4 0 4-5 4-2 4 5 4-2 4-2 4 4 4-2 4-1 4 1 4-2 4 3 4-10 4-5 4 0 4-3 4-4 4-2 4 1 4-3 4 4 4-1 4-2 4 1 4-5 4 0 4 2 4-2 4 2 4-7 4-2 4-3 4-1 4 5 4-1 4-1 4 2 4 5 4 0 4-3 4 0 4 2 4-1 4-3 4-1 4-4 4-1 4-3 4-2 4 4 4-6 4-3 4-12 4 1 4 0 4 1 4-4 4 8 4 4 4-5 4-1 4-3 4 2 4-4 4-4 4-4 4 4 4 5 4-1 4 1 4-1 4-4 4-3 4 2 4-1 4 3 4 0 4-3 4-1 4 1 4-2 4-1 4 1 4 0 4-1 4-3 4-5 4-1 4-5 4 3 4-5 4 1 4-2 4 1 4-5 4 0 4-1 4-4 4 1 4-1 4-4 4 0 4 0 4-3 4 1 4 0 4 0 4-2 4 1 4-7 4 4 4 0 4-1 4 6 4-1 4-6 4 0 4-1 4 1 4-1 4-6 4 5 4-4 4-3 4-1 4-4 4 1 4-2 4 4 4-5 4 3 4 1 4-6 4-10 4 2 4-3 4 0 4-2 4 0 4-3 4 1 4-1 4-6 4 2 4-1 4 1 4 2 4-4 4 2 4-4 4-6 4 0 4-7 4-4 4-2 4-4 4-5 4 1 4-2 4-2 4-3 4 3 4-7 4-6 4 0 4 3 4 4 4 8 4-2 4-4 4 0 4 0 4-3 4-2 4-1 4-2 4-3 4 0 4-1 4-1 4-4 4 0 4-3 4 0 4-3 4-2 4 1 4-2 4 3 4 11 4-2 4 1 4-2 4-6 4 3 4-3 4-1 4-3 4 2 4 1 4 0 4 0 4 0 4-1 4 5 4-2 4 1 4 1 4-1 4-2 4-5 4 2 4-1 4-3 4-5 4-4 4-4 4 1 4 1 4-3 4 2 4 2 4-1 4 0 4 1 4-1 4-2 4-2 4-2 4-1 4-1 4-2 4-2 4 0 4-11 4 0 4 1 4-1 4-1 4 1 4-1 4-2 4-5 4-5 4 0 4-1 4-2 4-2 4 2 4 1 4-1 4 0 4-3 4-2 4 3 4-1 4 4 4 0 4-3 4-1 4-3 4-1 4 2 4 0 4-1 4 3 4-2 4-1 4 2 4-1 4-6 4-3 4 3 4-5 4-1 4-3 4 4"/>
<path stroke="#e51e10" stroke-width="4.4" d="M2562 1252l4 1 4 1 4-6 4 1 4 3 4-5 4-2 4-5 4 2 4-1 4-2 4 1 4-2 4 5 4 0 4-1 4-6 4-6 4-4 4-2 4-3 4-1 4 4 4-6 4 3 4-4 4-1 4 0 4-2 4 2 4 0 4-3 4 2 4-3 4-4 4-2 4-1 4-1 4 2 4 2 4-1 4-6 4 2 4-2 4-1 4-4 4-1 4 1 4 4 4-1 4-3 4-2 4-3 4 0 4-4 4-2 4 1 4-2 4-2 4 1 4 0 4-1 4 2 4-1 4-1 4-1 4-2 4-1 4 1 4-6 4 0 4-2 4-4 4-3 4-1 4-9 4 3 4-1 4-2 4-7 4-5 4-1 4-3 4 1 4 2 4-1 4 2 4 5 4-7 4-3 4-3 4-7 4-1 4-4 4 0 4-1 4-1 4 0 4 0 4-4 4-4 4-7 4-3 4-3 4 0 4-2 4-1 4-6 4-3 4-2 4 0 4 0 4 6 4-4 4-1 4-2 4-4 4-1 4 1 4 1 4-6 4-1 4-3 4 2 4-2 4-6 4-6 4 4 4-6 4 0 4 0 4-2 4 1 4 2 4-5 4-2 4-5 4 0 4 0 4 1 4-8 4 1 4-3 4-2 4-10 4-2 4-4 4 2 4 0 4-3 4 0 4-2 4 1 4-2 4-2 4 0 4-4 4 0 4 1 4 1 4 2 4-2 4 1 4-3 4-1 4-3 4-3 4-3 4-4 4-4 4-3 4-4 4 0 4-3 4-3 4-1 4-1 4 3 4-4 4-3 4 2 4-8 4-1 4 4 4-6 4-1 4 0 4 0 4-1 4 0 4-2 4-6 4-5 4-5 4 1 4-2 4-2 4 1 4-2 4-3 4-3 4-2 4 2 4-1 4-6 4-1 4 0 4-1 4-2 4 9 4-2 4-4 4-7 4-1 4-1 4 0 4 1 4-5 4-6 4 2 4-2 4-4 4 0 4-3 4-4 4-3 4 2 4-6 4 0 4-3 4 0 4 5 4-2 4-2 4-5 4-4 4 0 4-3 4-1 4 3 4-5 4 1 4-3 4 0 4 2 4-3 4 0 4-2 4 0 4-2 4 0 4-1 4-4 4 1M3582 834l4-3 4 1 4-1 4 0 4 0 4-1 4 1 4 1 4 1 4-3 4 11 4 3 4-1 4-1 4-2 4 0 4-2 4 2 4-4 4-3 4 1 4 2 4-3 4 2 4-3 4-2 4 1 4-7 4-2 4 0 4-2 4 2 4-4 4 4 4-3 4-7 4-4 4 1 4-1 4 2 4-3 4 1 4-2 4 1 4-8 4-4 4-2 4 1 4 2 4 0 4-2 4-3 4 0 4 1 4-1 4-4 4-1 4-6 4 3 4-2 4 2 4 4 4-2 4-4 4-4 4-1 4-1 4-1 4 0 4 0 4-5 4-5 4 2 4 1 4-2 4-4 4 2 4-4 4-2 4 1 4-1 4-1 4-2 4-2 4-6 4-2 4-2 4-2 4 0 4-1 4-1 4-3 4-2 4-1 4-1 4-1 4 5 4-2 4-4M3982 745l4-2 4-2 4-3 4 0 4 0 4-2 4 4 4-2 4-3 4 0 4 4 4 0 4 3 4-5 4 4 4 0 4 1"/>
<path stroke="#000000" stroke-width="3.6" d="M214 1848l4 2 4-1 4 2 4 0 4 0 4-3 4 0 4 2 4 1 4-2 4 0 4 3 4-2 4-2 4-2 4 0 4-1 4-1 4-7 4 1 4 0 4 1 4 1 4 3 4-5 4-2 4-4 4-6 4-3 4 2 4-1 4 2 4-1 4 0 4-3 4-3 4-2 4-1 4 1 4 0 4 2 4-2 4 5 4 1 4-2 4-1 4-4 4-4 4-2 4 0 4-2 4-1 4-3 4 1 4 3 4 0 4-2 4 0 4 0 4-2 4 3 4 1 4-3 4-3 4-1 4 0 4-3 4 0 4 1 4-4 4 0 4 0 4-8 4-2 4-3 4 4 4 3 4-4 4 2 4 2 4-4 4-1 4-2 4-3 4 0 4 1 4 0 4-4 4 1 4-2 4-12 4-7 4 2 4 0 4 0 4-3 4 0 4 0 4-1 4 3 4-1 4-3 4-2 4 3 4-3 4 0 4-4 4-7 4 3 4-4 4 3 4-2 4 2 4 0 4 2 4-7 4-4 4 4 4 0 4-4 4 5 4-1 4 2 4-2 4-1 4 0 4-1 4 3 4 0 4 0 4-1 4-1 4-2 4-3 4 0 4-3 4-3 4-2 4-5 4-2 4 3 4-1 4 0 4 2 4-2 4-3"/>
<path stroke="#9400d3" stroke-width="4.4" d="M1710 1511l4-1 4-6 4 0 4-5 4 1 4-2 4 6 4 2 4-1 4 0 4-5 4-1 4 5 4-1 4-1 4-5 4 0 4-4 4-2 4 1 4 2 4-5 4-2 4 0 4-3 4 3 4-5 4-3 4 1M1830 1498l4-3 4-4 4-6 4 3 4-2 4-2 4-1 4-3 4 1 4-2 4 3 4 2 4-1 4 2 4-1 4 6 4-1 4-4 4-2 4 1 4-1 4-2 4 1 4 0 4-10 4 0 4-7 4 0 4-1 4 0 4 2 4 2 4-3 4 3 4 1 4-3 4-2 4-1 4-1 4-3 4-6 4 5 4-2 4-2 4-7 4-5 4 6 4-3 4 0 4 1 4 0 4 0 4-10 4-7 4 3 4-4 4 0 4-3 4 1 4 2 4 0 4 0 4-5 4 3 4 0 4 2 4 2 4-1 4 1 4-6 4-3 4 1 4 1 4-1 4-2 4 1 4 3 4-3 4 0 4-2 4-3 4 1 4-4 4-1 4-2 4-1 4 5 4-12 4-9 4 0 4 2 4-1 4 1 4 0 4-4 4-1 4 0 4 1 4 1 4-5 4-10 4 1 4-4 4-3 4 0 4-3 4 2 4-1 4-3 4-3 4 5 4-4 4-4 4 4 4-11 4-5 4-3 4-5 4-2 4-1 4 0 4 0 4-5 4 0 4-3 4 1 4 0 4 2 4-1 4 0 4 0 4-4 4 1 4 0 4-3 4 0 4-3 4-3 4-3 4-1 4-4 4-2 4-2 4 0 4 1 4-2 4 0 4 0 4-4 4 5 4-5 4 0 4 0 4-1 4 0 4 2 4-5 4-3 4-3 4-1"/>
<path stroke="#9400d3" stroke-width="4.4" d="M3246 958l4-3 4 0 4-4 4-2 4-1 4 0 4 1 4-4 4-1 4 4 4-9 4-2 4-2 4-2 4 1 4-1 4-1 4-1 4-1 4-2 4-4 4-1 4-5 4 0 4-1 4-3 4 1 4-1 4-2 4-2 4-2 4-1 4-3 4-5 4-1 4 1 4-2 4-1 4 11 4-4 4-3 4-2 4-6 4-3 4 1 4-1 4-3 4-5 4-2 4-1 4 2 4-3 4-2 4-4 4-5 4 2 4-7 4 0 4 0 4-2 4 5 4-2 4-3 4-2 4-2 4-7 4-1 4-1 4 2 4-1 4-1 4 1 4 0 4-3 4-2 4 1 4-2 4 1 4-3 4 3 4-4 4-2 4-1M3582 808l4 0 4-1 4 0 4 3 4-1 4 3 4-3 4 2 4 4 4-6 4 12 4 1 4-2 4 0 4-1 4-2 4 3 4 0 4-5 4 1 4-2 4-1 4 0 4-1 4 1 4-2 4 0 4-7 4-4 4-3 4 1 4 2 4-2 4 0 4 0"/>
<path stroke="#9400d3" stroke-width="3.8" d="M3690 622l4-2 4-4M3758 595l4 0 4-11 4-3 4 3 4 4M3786 587l4 5M3794 575l4 4 4 3M3810 570l4 0M3834 579h0M3874 553l4-1M3886 541l4 1 4-1M3902 545h0M3918 540l4-5 4 0 4-3M3938 524l4-4 4 7"/>
<path stroke="#9400d3" stroke-width="4.0" d="M1606 1562l4-5 4-1 4 0 4-1 4 3 4-3 4-1 4-3 4 0 4-1 4 0 4 0 4-1 4-1 4-3 4-3 4-4 4-2 4-3 4-2 4-5 4-2 4-3 4-2"/>
<path stroke="#e51e10" stroke-width="3.6" d="M214 1833l4-1 4 2 4-2 4 2 4 3 4-4 4 2 4 0 4 0 4-2 4 1 4-1 4-1 4 0 4 0 4-3 4-3 4 0 4-6 4 2 4 2 4-4 4 6 4-2 4-1 4-6 4-1"/>
<path stroke="#e69f00" stroke-width="5.0" d="M3446 850l4 0 4-3 4-1 4-3 4-2 4-1 4-6 4 0 4-2 4-2 4 4 4-2 4-2 4-1 4-2 4-4 4-3 4-4 4 3 4 0 4-2 4 1 4-1 4-1 4-1 4-2 4-2 4 0 4 0 4 1 4-3 4-1 4 1M3582 781l4 0 4-2 4 1 4-1 4 2 4 1 4-2 4 0 4 3 4-1"/>
<path stroke="#9400d3" stroke-width="5.0" d="M3690 598l4-5 4-1 4-4 4 2 4 0 4 2 4-1 4-3 4-4 4-5 4-2 4-1 4 1 4-1 4 0 4 2 4-1 4-8 4 0 4-4 4-1 4 1 4 2 4-1 4 0 4-3 4 0 4-1 4-3 4-3 4 0 4 0 4 0 4 1 4 3 4-1 4-4 4-3 4 1 4-3 4-1 4 0 4-1 4-3 4-6 4 2 4 1 4 0 4-2 4-4 4 1 4-2 4 0 4 1 4-2 4-6 4-2 4-5 4 0 4-4 4-1 4-1 4-3 4 0 4-2 4-2 4-4 4-4 4 4 4 1 4 0 4-5 4-4 4 0 4-6 4 0 4-1 4-1 4-1 4-1 4 0 4 0 4-2 4 2 4 4 4-2 4 0 4 1 4-3 4 2"/>
<path stroke="#0072b2" stroke-width="5.0" d="M1166 1654l4-2 4-1 4 1 4-1 4-2 4-2 4 0 4-4 4-4 4 5 4 1 4 0 4 1 4-1 4 1 4-3 4-2 4 0 4 0 4-2 4-2 4-1 4-1 4-4 4 0 4-2 4-3 4-1 4-14 4 1 4 2 4-4 4 1 4 7 4-2 4-2 4 1 4-3 4-1 4-2 4-4 4-2 4 4 4 1 4 1 4 3 4-3 4-4 4 2 4 0 4-1 4 2 4 0 4-1 4-3 4 1 4-3 4 1 4 1 4 0 4-3 4 1 4 1 4-4 4-8 4 2 4-1 4-1 4 0 4 0 4-2 4-1 4-2 4-2 4-3 4-2 4-2 4-1 4 2 4-3 4 1 4-2 4-2 4 2 4-2 4-2 4 0 4 2 4 3 4 0 4 0 4-1 4-4 4-1 4-1 4 1 4-5 4 0 4-3 4-2 4 0 4-3 4-1 4 0 4 1 4 0 4-1 4-1 4-3 4-9 4 0 4-2 4 1 4-2 4 0 4 1 4-2 4-4 4-1 4 1 4-1 4 2 4-2 4-2 4-1 4-5 4-2 4-3 4-3 4-5 4-3 4-4 4-1 4-3"/>
<path stroke="#000000" stroke-width="4.4" d="M1934 1386l4-6 4 0 4 0 4 2 4 2 4-5 4 0 4 3 4-1 4-3 4-1 4-2 4 2 4-2 4-1 4-3 4-2 4-2 4-6 4-3 4 1 4 3 4-5 4 0 4 3 4-2 4-9 4-4 4-2 4-2 4-4 4-1 4 2 4 1 4 2 4-4 4 0 4 2 4-3 4 2 4 5 4-3 4-2 4 0 4-4 4-1 4-1 4 0 4-1 4 3 4 2 4-3 4-1 4-1 4-2 4-5 4 0 4-2 4 0 4-2 4-2 4-4 4-9 4 0 4-4 4 1 4-2 4-1 4 2 4-1 4 1 4-1 4-2 4-3 4-8 4 0 4-6 4-3 4-1 4 1 4 2 4-4 4 2 4 1 4-7 4 0 4-2 4-1 4-10 4-2 4-5 4-2 4-3 4-3 4-3 4-2 4 0 4-2 4-3 4-1 4 6 4-2 4 4 4-1 4-2 4-3 4-1 4-2 4-1 4 1 4-3 4-6 4-1 4-4 4-3 4-2 4 1 4-2 4 0 4-1 4 1 4-2 4-3 4-1 4-1 4-1 4 2 4 0 4-2 4-3 4 4 4-8 4-1 4 2 4 2 4-3 4-1 4-4 4-1 4 2 4-2 4-2 4-1 4-1 4 3 4-3 4 0 4-2 4 1 4-4 4 1 4 1 4-3 4-2 4 2M2558 1148l4 2 4-2 4 2 4-2 4-2 4 5 4-7 4-5 4 1 4-3 4-2 4 2 4 0 4-1 4 3 4-3 4 1 4-3 4-4 4-5 4-6 4-4 4 1 4 0 4 1 4-2 4 0 4-3 4-1 4-4 4 1 4 1 4-2 4-1 4-2 4 0 4-4 4-3 4 0 4 3 4 0 4 0 4-6 4 1 4-2 4-6 4 3 4 0 4 1 4 0 4 8 4-1 4-4 4-2 4 0 4-4 4-1 4-1 4 0 4-1 4-2 4 0 4-2 4 0 4-1 4 2 4-2 4-1 4-1 4 0 4-5 4-2 4-3 4-4 4-1 4-7 4-6 4 1 4-1 4-1 4 2 4-13 4-1 4 0 4 0 4-1 4 2 4 3 4 3 4-7 4-7 4-5 4-1 4-6 4 0 4-3 4 3 4-4 4 2 4 1 4-7 4-5 4-5 4-7 4 2 4-3 4-1 4 0 4-3 4-5 4-5 4 1 4 3 4 3 4 0 4-4 4-6 4 3 4-3 4-2 4-1 4-5 4-1 4-1 4 1 4-2 4-7 4-6 4 2 4-2 4-1 4-3 4 1 4-2 4 1 4-1 4-2 4-6 4-1 4 0 4 1 4-4 4-3 4-2 4-1M3142 913l4-2 4 2 4-1 4-4 4 3 4-1 4-3 4-1 4-1 4-1 4-3 4-3 4 1 4 1 4-1 4 0 4 2 4-1 4-5 4 0 4-1 4-4 4-3 4-2 4-5 4-6 4-1 4-1 4-4 4-3 4 0 4 0 4 1 4-3 4-2 4-2 4-4 4 0 4-5 4-1 4 0 4 1 4-1 4 2 4-3 4-5 4-7 4-3 4-2 4 0 4 0 4-1 4-4 4-2 4-1 4-2 4-1 4 0 4-1 4-7 4-4 4 3 4-2 4-1 4 11 4-3 4-5 4-7 4-2 4-1 4 1 4-1 4-6 4-5 4-1 4-1 4 1 4-6 4 1 4-3 4-4 4-1 4-2 4 0 4-3 4-3 4 3 4-1 4 0 4-3 4-7 4-1 4-1 4-4 4 1 4 1 4 0 4-2 4 2 4-3 4-3 4-1 4 1 4-2 4-1 4 1 4-3 4-1 4 2M3582 723l4-2 4 2 4-2 4 1 4 0 4 0 4-1 4 0 4 0 4 1 4 12 4 2 4 0 4-2 4 2 4-2 4 1 4-3 4-2 4 2 4 0 4-3 4-1 4-1 4 2 4-3 4-3 4-4 4-2 4-1 4-3 4-1 4 2 4 0 4 0 4-10 4-1 4 1 4 0 4-1 4-4 4 4 4-4 4-2 4-6 4-2 4-2 4-3 4 2 4 3 4 0 4 0 4-4 4-1"/>
<path stroke="#0072b2" stroke-width="3.6" d="M3902 715l4-2 4-3 4-4 4-2 4-2 4-2 4 2 4-3 4-4 4-4 4 2 4-4 4-4 4 0 4-3 4 6 4 1 4-2 4-4"/>
<path stroke="#e51e10" stroke-width="5.0" d="M2766 1171l4-2 4-2 4-1 4-6 4 0 4 0 4-2 4 0 4 0 4 1 4 2 4-3 4-7 4 4 4 3 4-3 4-1 4-1 4-5 4-2 4-2 4-6 4 3 4-6 4-5 4 0 4 0 4-2 4-4 4-8 4-2 4 0 4 2 4-3 4 1 4 4 4 5 4-8 4-5 4-6 4 0 4-6 4-3 4 2 4-3 4-2 4 2 4 1 4-4 4-6 4-3 4-6 4-2 4-1 4 1 4 2 4-1 4-5 4-3 4-1 4 3 4 5 4-5 4 0 4-6 4 1 4-1 4-3 4-2 4-2 4-1 4-1 4-1 4 0 4-4 4-7 4-1 4-2 4 3 4-4 4-1 4 0 4 1 4-1 4-5 4-7 4 0 4 5 4 0 4-9 4-2 4-1 4-1 4-13 4-2 4-1 4 3 4-5 4 1 4 0 4 0 4-2 4 1 4-4 4 2 4-5 4 0 4-1 4-1 4 2 4 0 4 0 4 0 4-1 4-3 4-4 4-6 4-2 4-5 4-3 4-2 4-3 4 0 4-5 4 0 4 1 4-4 4 1 4-1 4 0 4-8 4-1 4-2 4 2 4-2 4-3 4 0 4 0 4 3 4-5 4-7 4-5 4-3 4-4 4 1 4-4 4 5 4-2 4-3 4-3 4 1 4-1 4-3 4-3 4-2 4 1 4-1 4-4 4 10 4-2 4-3 4-5 4-3 4-3 4-1 4 0 4-4 4-4 4-3 4-1 4 0 4-2 4-1 4-4 4-4 4 1 4-6 4-1 4-1 4 1 4 2 4-3 4 0 4-5 4 0 4-4 4-2 4-4 4 2 4 1 4-3 4 3 4 1 4-3 4-4 4-3 4 5 4-1 4-2 4-5 4 3 4-4 4 3M3582 816l4-1 4-1 4 3 4 0 4 0 4-4 4 0 4 0 4 2 4-1 4 10 4 1 4 0 4 2 4-2 4-1 4-2 4 1 4-2 4-2 4-1 4 1 4 0 4-3 4 1 4-2 4-3 4-6 4 0 4 1 4-2 4-2 4 0 4-1 4-1 4-2 4-6 4 1 4 0 4-3 4 0 4-2 4 2 4 0 4-8 4-2 4-2 4 0 4-1 4 2 4 0 4-4 4 0 4-3 4 8 4-3 4-2 4-3 4-2 4 2 4 2 4 3 4-5 4-2 4-3 4-2 4-1 4-2 4 0 4 0 4-4 4-6 4 3 4 4 4-2 4-6 4-1 4-1 4 0 4 2 4-2 4 1 4-4 4-2 4-2 4-3 4-1 4-6 4 0 4-1 4 0 4-3 4-1 4-4 4 0 4 2 4 1 4-2 4-4 4-3 4-2 4 3 4-5 4 2 4-5 4 1 4-2 4 1 4 0 4-2 4 2 4 0 4 1 4 1 4 2 4-2 4 3"/>
<path stroke="#e69f00" stroke-width="4.0" d="M1830 1485l4-2 4 0 4-3 4-1 4-2 4 0 4-3 4-1 4-2 4 0 4 4 4 1 4 1 4-1 4 1 4 1 4 1 4-3 4 2 4-3 4-2 4-1 4 0 4-5 4-1 4-2 4-6 4-2 4 0 4 0 4 2 4-2 4 2 4 4 4-3 4-1 4-1 4-5 4 2 4 0 4-3 4-4 4 0 4-4 4-6 4-3 4 2 4 0 4 3 4-2 4 0 4-2 4-10 4-4 4-1 4 2 4-3 4-2 4-1 4 1 4 2 4-1 4-3 4 3 4-1 4 0 4 1 4 0 4-1 4-2 4-1 4-3 4 2 4-1 4 0 4-1 4 3 4 0 4-1 4-2 4-2 4-3 4-2 4-5 4 0 4-2 4 2 4-7 4-8 4 0 4 0 4 0 4-3 4 0 4 0 4 0 4-2 4 0 4-1 4-3 4-6 4-5 4-2 4-2 4 2 4-2 4-1 4-2 4-1 4 0 4-4 4 5 4-3 4-3 4-10 4-5 4-1 4-3 4-2 4-3 4-3 4 0 4-2 4-2 4-2 4 0 4 0 4 3 4 0 4 1 4-2 4 0 4-1 4-3 4 1 4-5 4-1 4-4 4-2 4-2 4-3 4 0 4-2 4 0 4-1 4-2 4-1 4-1 4-2 4 1 4 0 4-3 4-1 4 2 4 1 4-4 4-2 4-2 4-2 4 0 4 0 4 0 4-1 4-1 4 0 4-2 4 0 4-3 4-1 4 0 4 1 4 1 4-2 4-2 4 3 4-6 4-2 4 3 4-2 4-3 4 1M2558 1239l4 2 4 2 4 0 4-4 4 3 4 1 4-5 4-6 4 2 4-4 4 0 4 1 4-1 4-1 4 2 4 2 4-1 4-5 4-6 4-7 4-1 4-4 4 0 4 1 4-4 4 0 4-2 4-2 4 0 4 1 4 0 4 1 4-2 4-2 4-1 4-1 4-3 4-2 4-2 4 3 4 1 4 0 4-5 4 0 4-2 4 0 4-5 4 1 4 2 4 0 4 0 4-4 4-1 4 0 4-4 4-3 4-3 4 0 4 0 4-2 4 4 4-2 4 0 4-3 4-2 4 2 4-1 4-1 4-1 4 1 4-6 4-1 4-2 4-5 4-1 4-4 4-6 4 1 4 0 4-2 4-2 4-12 4 1 4 0 4 0 4 0 4-1 4 3 4 4 4-4 4-8 4-3 4-2 4-6 4-2 4 0 4-2 4 0 4-1 4 1 4-4 4-3 4-6 4-6 4-1 4 1 4-1 4-4"/>
<path stroke="#9400d3" stroke-width="3.6" d="M2794 983h0M2818 979l4 0M2838 973l4-2 4-1 4-6 4-2 4 1M2930 923l4-7M2982 892h0M3018 882h0M3054 862l4 0 4 1M3078 846l4 0 4 2 4-3"/>
<path stroke="#f0e442" stroke-width="3.6" d="M3730 797l4 2 4-4 4 2 4-2 4 2 4-5 4-1 4-6 4-1 4-2 4 0 4 1 4 1 4-1 4-2 4 0 4-4 4 5 4-5 4-2 4-3 4 4 4-1 4 1 4 3 4-2 4-5 4-4 4-1 4 1 4-1 4 0 4-3 4-2 4-6 4 2 4 1 4 0 4-2 4-5 4-1 4 0 4-1 4-2 4 2 4-3 4-4 4-5 4 0 4-1 4-3 4-3 4-1 4-1 4-2 4-2 4 0 4-2 4 0 4 4 4-1 4-5"/>
<path stroke="#0072b2" stroke-width="4.0" d="M2594 1191l4 0 4 1 4-1 4 0 4-4 4 4 4 0 4-1 4-2 4-9 4 2 4-3 4-3 4 0 4-2 4-1 4-2 4-1 4 3 4-4 4-1 4 1 4 0 4-1 4 0 4-4 4-4 4-3 4 2 4-1 4 4 4-4 4 1 4-1 4-2 4-1 4-3 4-3 4 0 4 2 4 3 4-5 4-6 4 5 4-4 4-2 4-3 4-2 4 0 4-2 4-1 4 2 4-2 4 0 4-4 4 1 4 5 4-1 4-5 4 5 4-6 4-2 4-7 4 0 4-5 4 2 4-8 4-2 4 0 4-1 4-1 4-2 4-10 4 0 4-3 4 0 4 0 4 1 4 0 4 6 4-6 4-6 4-5 4-3 4-6 4-3 4 4 4-2 4-2 4 0 4 2 4-6 4-4 4-5 4-5 4 0 4 0 4-2 4-2 4-6 4-6 4-1 4 1 4 2 4 4 4 0 4-6 4-1 4-4 4 0 4-3 4-1 4-2 4-2 4-1 4-1 4 1 4-7 4-5 4 0 4-3 4 1 4-3 4-2 4 3 4 0 4-3 4-4 4-3 4-1 4 1 4 1 4-8 4 2 4-6 4-1"/>
<path stroke="#e51e10" stroke-width="4.0" d="M214 1818l4 0 4 0 4 3 4 1 4 1 4-3 4-2 4 0 4 2 4-1 4 2 4 0 4-2 4-5 4 1 4-1 4 2 4-4 4-5 4 1 4 2 4 1 4-4 4 4 4-1 4-7 4-1 4-4 4-2 4-3 4 0 4 2 4-2 4-2 4 2 4-2 4-4 4 0 4-2 4 2 4 0 4-1 4 4 4 2 4-2 4-1 4-6 4-4 4 1 4-4 4 3 4-2 4 1 4-1 4 1 4-4 4-1 4 2 4-2 4-1 4 0 4 0 4 2 4-2 4 1 4-2 4-2 4-2 4-1 4 0 4-1 4-3 4-5 4-5 4-2 4 5 4 1 4-1 4 2 4 1 4-6 4 3 4-7 4-2 4 2 4 4 4-4 4-1 4-3 4-5 4-1 4-10 4 2 4 0 4-1 4 3 4-4 4 1 4-2 4-2 4 1 4 0 4-4 4 2 4 0 4-2 4-6 4-8 4-1 4 0 4 1 4 0 4-1 4-1 4 1 4-5 4 2 4 1 4-1 4-3 4 2 4 1 4 1 4-2 4-1 4 0 4 0 4 2 4 0 4 0 4 1 4-2 4-3 4-3 4 0"/>
<path stroke="#e51e10" stroke-width="4.0" d="M214 1851l4 0 4 0 4 4 4-1 4 0 4-1 4 0 4 1 4 3 4-2 4-2 4 0 4-1 4 0 4-2 4-2 4-2 4-2 4-1 4 0 4 3 4-3 4-2 4 0 4 0 4-4 4-4 4 0 4-5 4 0 4-1 4 2 4-1 4-3 4 1 4-3 4 0 4-3 4 0 4 4 4-3 4 2 4 2 4 1 4 0 4-3 4-5 4-3 4 0 4-2 4-2 4-2 4 1 4 2 4-2 4 0 4 1 4 0 4-1 4-2 4 2 4-3 4 1 4 2 4-2 4-3 4-3 4 1 4 2 4-5 4 2 4-4 4-5 4-3 4-3 4 3 4 0 4 4 4-5 4 3 4-1 4-2 4-3 4 0 4-3 4 0 4 1 4-3 4-1 4-4 4-5 4-7 4-1 4 1 4-2 4 3 4-1 4-1 4-1 4-2 4 2 4-3 4 0 4-1 4 0 4-2 4-2 4-8 4 2 4-2 4 3 4-3 4-1 4 0 4 0 4 1 4-2 4 0 4 2 4-4 4 0 4 2 4 0 4 2 4-2 4 1 4 0 4 0 4-3 4 1 4 2 4-3 4-2 4-5 4 5 4-8 4-1 4-3 4-3 4 1 4 1 4 1 4 0 4-1 4-5 4 0 4 3 4 4 4-3 4-3 4 0 4-2 4-2 4-3 4-6 4-2 4 3 4-1 4 1 4 1 4-2 4-1 4-1 4 0 4-3 4-1 4-2 4-2 4 1 4 1 4 1M902 1722l4 8 4-7 4 3 4-1 4-3 4-1 4-1 4 0 4-3 4 4 4-4 4 0 4-2 4 4 4-3 4-1 4-1 4 2 4-3 4-3 4 1 4 2 4 2 4 0 4-2 4 0 4-2 4-9 4 3 4-1 4 3 4 3 4-2 4-3 4 0 4-2 4 1 4-2 4 0 4-1 4 1 4-1 4 2 4-5 4 0 4-1 4 1 4-2 4 0 4 0 4 3 4-5 4 2 4-2 4-5 4-1 4-3 4-4 4-3 4-2 4 0 4-2 4 0 4 0 4 0 4 2 4-4 4 1 4-5 4 1 4-1 4-1 4-3 4-4 4-1 4 5 4 0 4 0 4-1 4 2 4 1 4-2 4-3 4-1 4 1 4-1 4-3 4-1 4 1 4-7 4 2 4-1 4-7 4 1 4-13 4 2 4-1 4-1 4 1 4 3 4 1 4 1 4-4 4-1 4 1 4-4 4-9 4 4 4 2 4 1 4 1 4 0 4 1 4-3 4 0 4 4 4-4 4 6 4-6 4-2 4 2 4 0 4-4 4 1 4-2 4-2 4 1 4-1 4-4 4-5 4-3 4-1 4 1 4-3 4 0 4 2 4-2 4-2 4-2 4-2 4-3 4 0 4-5 4 1 4 1 4-6 4 1 4 1 4-1 4 3 4-3 4-1 4 0 4 2 4 0 4 2 4-1 4-2 4 0 4-3 4-2 4-2 4 3 4-3 4-5 4-1 4-1 4 0 4-2 4-1 4 1 4-2 4 1 4-1 4 3 4-5 4-2 4-3 4 0 4-3 4 4 4-2 4-2 4 0 4-2 4-3 4 0 4 3 4-2 4-1 4-3 4-3 4-2 4-4 4-3 4-2 4-2 4-5 4 0 4-7 4-1 4-2 4-4 4 0 4-2 4-5 4 0 4-2 4 7 4 6 4 0 4-5 4 0 4-3 4 1 4-2 4-1 4-5 4 2 4-3 4 0 4-3 4 2 4-4 4-4 4-1 4 0 4-1 4-2 4 0 4 2"/>
<path stroke="#f0e442" stroke-width="4.4" d="M1126 1695l4-2 4-3 4-5 4-1 4 0 4 0 4 0 4-2 4 0 4 1 4-4 4-1 4-1 4-1 4 2 4-3 4-4 4-3 4 3 4 2 4-1 4-1 4 0 4-3 4 4 4 0 4-3 4-2 4 1 4 0 4-3 4-3 4 0 4-1 4-2 4 0 4-5 4-3M1282 1636l4 2 4 4 4-2 4-1 4 9 4-3 4-1 4 0 4-2 4-1 4 1 4-11 4 3 4 2 4-2 4 3 4 0 4 2 4-3 4-2 4 1 4-1 4 1 4 3 4 0 4-5 4 4 4-5 4 1 4-1 4-2 4-1 4-4"/>
<path stroke="#e51e10" stroke-width="4.4" d="M214 1810l4 3 4-2 4 1 4 1 4-1 4-1 4 1 4-1 4-2 4 1 4 1 4-2 4-1 4 2 4-1 4-6 4-1 4-2 4 0 4-1 4 4 4-1 4-4 4 5 4-4 4-5 4-3 4-1 4-3 4-2 4 2 4-2 4 1 4-5 4 1 4-4 4-1 4 0 4 3 4-3 4 1 4-1 4 5 4 3 4-2 4-4 4-5 4-2 4 1 4-2 4-1 4 0 4-2 4 0 4 0 4-4 4 0 4 1 4 0 4 0 4 0 4 2 4-1 4-3 4-1 4-4 4 2 4 1 4-1 4-3 4 0 4-3"/>
<path stroke="#000000" stroke-width="4.4" d="M2046 1360l4 0 4 0 4-1 4-2 4 1 4 0 4 1 4-3 4 0 4 3 4-3 4-1 4 4 4-2 4-2 4 0 4-1 4-2 4-1 4 3 4-2 4 1 4-2 4 3 4-2 4 0 4-3 4-6 4-3 4 1 4 1 4-3 4 0 4-5 4-11 4 4 4-4 4 2 4-6 4 4 4-1 4-2 4-1 4 1 4-1 4-6 4-6 4-2 4-6 4 0 4-1 4 0 4-1 4-2 4 4 4-6 4 0 4-2 4-2 4 0 4-8 4-5 4-2 4-5 4-4 4-3 4 2 4-3 4 0 4-3 4-2 4 0 4 3 4 1 4-1 4-1 4 2 4-4 4-2 4 1 4-4 4 2 4-6 4-1 4-5 4-2 4-2 4-1 4 0 4-3 4 1 4-3 4-2 4-1 4-1 4 3 4-2 4-2 4-1 4-1 4 2 4-2 4 0 4-5 4 1 4-2 4 1 4-2 4 0 4-3 4-1 4 1 4-2 4-3 4 0 4-1 4 3 4-3 4 2 4-3 4 0 4-2 4-1 4 1 4 0 4-5 4 3M2558 1171l4 5 4 0 4-1 4-2 4 4 4-3 4-5 4-4 4-2 4 3 4-4 4 1 4 0 4-1 4 0 4-1 4 3 4-4 4-7"/>
<path stroke="#e69f00" stroke-width="4.0" d="M214 1816l4 2 4 1 4-1 4 0 4 4 4-1 4-1 4-2 4 2 4-2 4 1 4 1 4-3 4 0 4-2 4-1 4-2 4-1 4-4 4-1 4 3 4-3 4 3 4 0 4-4 4-2 4-4 4-2 4-4 4 2 4 1 4-3 4 2 4-2 4 0 4-5 4 1 4-4 4 0 4 0 4 2 4-1 4 3 4 4 4-5 4-2 4-3 4-3 4-2 4 0 4-2 4-2 4 2 4-2 4 1 4-1 4-3 4 4 4-1 4 0 4-2 4 0 4 1 4-1 4 0 4-4 4 0 4-1 4 1 4-1 4-3 4-3 4-3 4-5 4-1 4 3 4-3 4 1 4 4 4 0 4-7 4 3 4-3 4-2 4-1 4-1 4 4 4-4 4 0 4-4 4-7 4-5 4 1 4 1 4-1 4 1 4 0 4-3 4-3 4 2 4 0 4-1 4-2 4-1 4 0 4 1 4-4 4-9 4 2 4-1 4 0 4-2 4 1 4-1 4 0 4 0 4-5 4 3 4-2 4 1 4 0 4 1 4-2 4 4 4-4 4 0 4 1 4 0 4-1 4 2 4-3 4-2 4 1 4-2 4-1 4-2 4-2 4-5 4-3 4 0 4 3 4-5 4 3 4-2 4-3 4 0 4 7 4 0 4-4 4-1 4 1 4-1 4-4 4-4 4-4 4-3 4 6 4-2 4-1 4 0 4 1 4-3 4 0 4-1 4 0 4-2 4-4 4 3 4-2 4-2 4 0M902 1685l4 7 4 2 4-4 4-3 4 1 4-2 4 0 4 0 4 1 4-1 4-6 4 1 4-2 4 4 4-3 4 2 4-1 4 0 4 1 4-6 4 1 4-2 4-1 4 3 4-2 4 2 4-5 4-12 4 1 4 1 4 3 4 0 4 0 4-2 4 3 4-1 4 0 4-4 4 0 4 0 4-1 4 4 4-6 4-2 4 0 4 0 4-1 4 0 4 2 4-3 4 1 4 0 4-1 4 1 4-7 4-4 4-1 4-5 4 0 4-6 4 1 4 2 4 0 4-3 4 0 4 0 4-3 4-3 4-1 4 4 4-5 4-2 4 0 4-4 4-1 4 5 4 0 4-1 4 0"/>
<path stroke="#f0e442" stroke-width="4.4" d="M2390 1232l4-4 4-2 4-2 4-1 4-1 4 0 4-1 4-1 4-2 4-2 4 2 4 0 4-2 4-2 4 2 4-1 4-1 4-5 4 0 4 1"/>
<path stroke="#f0e442" stroke-width="4.4" d="M214 1794l4-3 4 0 4 4 4-1 4 2 4-2 4 3 4-1 4 0 4-2 4 1 4 0 4 0 4-1 4-4 4-4 4-1 4 0 4-4 4 3 4 2 4-1 4-3 4 2 4-3 4-1 4-5 4-1 4-3 4 0 4 2 4-1 4 0 4-4 4 0 4-3 4-4 4-1 4 3 4 0 4-2 4 0 4 5 4 2 4-3 4 0 4-5 4-5 4-1 4-1 4 0 4 2 4-2 4-3 4 1 4 1 4-2 4 2 4-1 4 1 4-2 4-3 4 2 4-2 4-1 4 1 4 0 4-3 4 2 4-4 4-2 4-3"/>
<path stroke="#000000" stroke-width="5.0" d="M330 1801l4 1 4 1 4 1 4 0 4-1 4-7 4 1 4-4 4-1 4 5 4-3 4 1 4-1 4 3 4 2 4-1 4-3 4-2 4-6 4 2 4-3 4-4 4 0 4 3 4 0 4 2 4-3 4-4 4 6 4-4 4-2 4 2 4 1 4-2 4-3 4 0 4-1 4 0 4 0 4 0 4-5 4 0 4-2 4-6 4-7 4 4 4 3 4 0 4-3 4 1 4 2 4-1 4-2 4-1 4-4 4 0 4 0 4 1 4 0 4-2 4-5 4-5 4-7 4 2 4-3 4 2 4 0 4-3 4 1 4-1 4 4 4-7 4 1 4-2 4 3 4-2 4-1 4-4 4-9 4 3 4-5 4 1 4 1 4 1 4-1 4 1 4 0 4-2 4-1 4 2 4-4 4 1 4 2 4-2 4 0 4 1 4 2 4-3 4 2 4-3 4 3 4-1 4 1 4-4 4-1 4-3 4-2 4-3 4-5 4 2 4-4 4 0 4 0 4 1 4-1 4-2 4 2 4-1 4 7 4-4 4-4 4-3 4 3 4-4 4-3 4-6 4 0 4 2 4 0 4 0 4 3 4-2 4 0 4-4 4-2 4-2 4 2 4-4 4 0 4-2 4 1 4 0M902 1696l4 6 4-1 4-1 4-4 4 0 4-1 4 2 4-3 4 0 4 0 4 0 4-3 4-1 4-1 4-2 4 0 4 3 4-2 4-1 4-4 4 1 4 1 4 2 4 0 4-7 4 7 4-4 4-6 4-1 4 4 4-1 4 3 4-3 4-1 4 3 4-2 4-6 4 2 4 0 4 2 4-4 4-1 4 1 4-1 4-4 4 2 4-1 4 1 4-1 4-2 4 0 4 0 4 0 4-1 4-4 4-4 4-3 4-2 4-5 4 0 4-1 4-1 4 3 4-2 4-3 4 0 4-4 4-1 4 2 4-4 4 2 4-3 4-1 4-3 4-3 4 6 4-1 4-2 4 4 4 1 4-1 4-2 4-2 4-2 4 2 4-3 4-2 4 0 4-2 4-3 4 1 4-3 4-3 4-1M1282 1601l4-1 4 3 4-1 4-1 4 6 4 3 4-2 4-3 4-2 4-4 4-1 4-5 4 4 4-1 4 1 4 6 4-3 4 2 4-6 4-1 4 2 4 1 4 0 4-3 4 2 4-2 4 1 4-4 4 1 4 0 4 0 4-5 4-1 4-3 4-4 4-6 4 1 4-2 4 1 4-2 4 1 4-1 4-2 4-1 4-6 4 0 4-2 4-2 4-1 4 2 4-3 4-2 4 1 4 2 4-3 4 1 4-4 4 0 4 5 4-1 4 0 4 2 4-3 4-4 4 1 4-3 4-1 4 0 4-3 4 0 4-4 4-2 4-1 4 2 4-2 4 0 4-1 4-2 4 0 4-3 4-6 4-3 4-1 4-2 4-1 4 4 4-3 4-6 4 2 4-3 4-2 4 1 4 4 4-4 4-1 4-1 4-2 4-6 4-1 4-7 4-1 4 0 4-5 4-3 4-6 4-2 4 0 4-3 4 0 4-1 4-9 4 2 4 2 4 1 4 8 4-2 4-2 4-2 4-2 4-2 4 0 4-2 4-1 4 2 4-4 4 0 4-6 4 0 4-1 4 1 4-5 4 1 4-2 4 2 4-4 4 0"/>
<path stroke="#e69f00" stroke-width="4.0" d="M214 1856l4 3 4-3 4 3 4 2 4 0 4-3 4 3 4-1 4-1 4-1 4 1 4-1 4 0 4-2 4-6 4 0 4-2 4 3 4-4 4-2 4 2 4 0 4 2 4 4 4-8 4-4 4-1"/>
<path stroke="#9400d3" stroke-width="4.0" d="M2766 1167l4 1 4-1 4-5 4-1 4 0 4-2 4 0 4-2 4 0 4 2 4-1 4-2 4-1 4 1 4 0 4-2 4 2 4-5 4-3 4-3 4-2 4 0 4-6 4-3 4-5 4 2 4-3 4-1 4-3 4-11 4 2 4 1 4-1 4-3 4 2 4 3 4 3 4-5 4-7 4-8 4 1 4-7 4-2 4 3 4-5 4 1 4 1 4 2 4-7 4-3 4-3 4-4 4-3 4-3 4-2 4-5 4 0 4-1 4-3 4-4 4 3 4 4 4 0 4-2 4 1 4-4 4-3 4-3 4 1 4-5 4 0 4 0 4-1 4-1 4-7 4-8 4 0 4-2 4-1 4 0 4-2 4 1 4 4 4-4 4-2 4-3 4-3 4 3 4-3 4-5 4 0 4-4 4-1 4-13 4 0 4-2 4 1 4-3 4 0 4-2 4 1 4-5 4-2 4 1 4-2 4 6 4-4 4-4 4 3 4 0 4-2 4 3 4-4 4-1 4-1 4-5 4-3 4-5"/>
<path stroke="#f0e442" stroke-width="3.6" d="M2562 1217l4-2 4 1 4-1 4 3 4-2 4-4 4-6 4-1 4 0 4 1 4-1 4 0 4-2 4 3 4 2 4-2 4-4 4-6M2638 1177l4-4 4-4 4 1 4 0 4-3 4-2 4-1 4-1 4-1 4 2 4 2 4-1 4-2 4-1 4-3 4-1 4-3 4-3 4 1 4 3 4 2 4-5 4-1 4 0 4-4 4-2 4-1 4-1 4 3 4 0 4-2 4-4 4-2 4 3 4-4 4-3 4-3 4 0 4-2 4 0 4 1 4-2 4 0 4-1 4-2 4 3 4-1 4-2 4-2 4-2 4-2 4-2 4 0 4-6 4-2 4-5 4-5 4 1 4-1 4-3 4 0 4-11 4-1 4 2 4-1 4 0 4-2 4 2 4 5 4-5 4-8 4-3 4-4 4-5 4-1 4 0 4 0 4-1 4-1 4 1 4-3 4-5 4-5 4-5 4-2 4 0 4-2 4-2 4-6 4-3 4-2 4-2 4 6 4 2 4-2 4-6 4 0 4-1 4-2 4-3 4-1 4-2 4-2 4 0 4 0 4-3 4-5 4-7 4 1 4-1 4-1 4-2 4-1 4 0 4 0 4 0 4-4 4-4 4 2 4-1 4-1 4-5 4-3 4-2 4 0 4-14 4-3 4 0 4 2 4-3 4 1 4-3 4 0 4 0 4-2 4-4 4 0 4 1 4-3 4-1 4 0 4 2 4 2 4 0 4-5 4-1 4 0 4-6 4-3 4-2 4-4 4-5 4-3 4-4 4-2 4 0 4-4 4 0 4 4 4-3 4-3 4 1 4-9 4 2 4-1 4-2 4-2 4 1 4-1 4 1 4 0 4-5 4-6 4-8 4-3 4-2 4 0 4-3 4-1 4 1 4-3 4-4 4-1 4 1 4-3 4-4 4-2 4-1 4 1 4-1 4 9 4-1 4-4 4-6 4-4 4-1 4-1 4 0 4-4 4-6 4 0 4 0 4-3 4 0 4-3 4-3 4-2 4-3 4-3 4-1 4 0 4-1 4 0 4-1 4-1 4-3 4-2 4-3 4-2 4-5 4 4 4-3 4 2 4-1 4-1 4-1 4-3 4 0 4 0 4-2 4-3 4 2 4-2 4-1 4-1M3582 771l4-1 4-1 4 1 4 0 4 0 4 0 4 0 4-2 4 2 4 0 4 9 4 2 4-3 4 2 4-1 4 2 4-5 4 0 4-1 4 0 4 0 4-2 4 0 4-3 4 1 4-2 4-3 4-6 4 1 4-3 4 0 4 0 4-2 4 0 4-1 4-6 4-3 4 1 4 0 4 0 4-2 4-1 4 1 4-4 4-6 4-1 4-1 4-3 4 1 4 0 4 1 4-2 4-2 4-1 4-1 4-4 4-4 4 1 4 0 4 0 4 2 4 1 4-2 4-1 4-5 4-3 4-2 4 2 4-1 4-1 4-3 4-4 4-1 4-1 4 2 4-3 4-3 4 0 4 0 4 0 4-3 4-1 4-2 4-3 4-4 4-2 4-4 4-1 4-2 4 0 4-1 4-4 4-1 4 0 4-3 4 2 4 4 4-4 4-3 4-4 4-4 4-1 4-3 4 0 4-1 4-1 4-1 4 0 4 2 4-1 4 1 4 0 4 0 4 1 4 1 4 1 4 0"/>
<path stroke="#9400d3" stroke-width="4.4" d="M214 1831l4 0 4-1 4 1 4-1 4 2 4 1 4-2 4 1 4 1 4-3 4 2 4-1 4-2 4 0 4-1 4-4 4-1 4-1 4 1 4-4 4 3 4 0 4 0 4 0 4-3 4-3 4-1 4-5 4-4 4 0 4 1 4-1 4 2 4-4 4 2 4-4 4-5 4 2 4 2 4-2 4-2 4 0 4 3 4 4 4-3 4-2 4-4 4-1 4-1 4-1 4-1 4 0 4-1 4-2 4 2 4-3 4-1 4 2 4 0 4-2 4 1 4 0 4-5 4 0 4-1 4-1 4 3 4-4 4 4 4-6 4-2 4-2 4-4 4-6 4 2 4 4 4-1 4 2 4-1 4 0 4-3 4-1 4-1 4-6 4 2 4 0 4 0 4 0 4-4 4-1 4-3 4-9 4 1 4-1 4 4 4 0 4-2 4-2 4-1 4 2 4-4 4 0 4 0 4 0 4-3 4 3 4-6 4-6 4 3 4-2 4 0 4-2 4 1 4 3 4-4 4 1 4-4 4 4 4-4 4-1 4 1 4 2 4-5 4 3 4-1 4 1 4 1 4 3 4-5 4 1 4 1 4-1 4-2 4-2 4 0 4-5 4-5 4 0 4-4 4 1 4 0 4 2 4 3 4-5 4-3 4-3 4 5 4 4 4-4 4-4 4 1 4-4 4-1 4-3 4-4 4 0 4-1 4 4 4 4 4-5 4-4 4-1 4 1 4-3 4-1 4 2 4-3 4-1 4-1 4 1 4-1M902 1704l4 5 4-1 4 0 4-3 4-1 4-1 4-3 4 2 4-5 4 1 4-1 4 1 4-1 4-2 4 0 4-1 4-1 4 3 4-2 4-2 4 0 4 1 4 0 4 0 4-1 4 4 4-5M1014 1671l4 7 4 0 4 0 4 2 4 2 4-6 4 0 4 2 4 2 4-5 4-1 4 2 4-3 4 2 4-1 4-4 4 1 4-1 4 1 4-3 4-1 4 3 4-2 4 0 4-2 4-1 4-3 4-2 4-5 4-1 4-1 4-1 4-3 4-2 4 1 4-3 4 1 4 1 4-2 4-1 4-3 4 2 4 0 4-4 4-1 4-4 4 0 4 3 4-1 4 1 4 1 4 0 4 0 4-3 4-5 4 3 4-1 4 0 4-3 4-3 4 1 4-6 4 0 4-1 4-4 4-3 4-11 4 1 4 2 4-3 4 0 4 6 4 1 4-1 4-2 4 0 4-3 4-2 4-6 4 0 4 5 4 1 4-1 4 1 4-1 4-5 4-3 4 4 4 1 4 2 4-2 4 0 4 0 4-1 4-3 4-2 4 1 4-1 4 0 4 1 4-4 4-7 4-6 4-1 4 1 4-1 4-2 4 5 4-2 4-4 4-4 4-1 4 1 4-2 4-4 4-1 4 0 4 0 4-1 4-2 4-1 4 1 4 0 4-2 4 0 4 1 4 0 4-2 4 5 4-2 4-3 4-1 4-4 4 3 4-4 4-3 4-2 4-3 4 2 4-2 4-3 4 1 4 0 4-1 4-4 4 5 4-2 4-10 4-2 4-3 4 1 4-4 4 4 4-4 4-1 4 0 4-2 4-2 4 2 4 0 4-4 4 0 4 0 4-5 4-3 4-1 4-5 4-3 4-2 4-5 4-3 4-3"/>
<path stroke="#e51e10" stroke-width="4.8" d="M2386 1161l4-1 4-2 4-2"/>
<path stroke="#9400d3" stroke-width="4.4" d="M3334 960l4-3 4-1 4 2 4-1 4-2 4-2 4-4 4-2 4 1 4-5 4 0 4-7 4 0 4-1 4 3 4-1 4 13 4-8 4-2 4-4 4-5 4 0 4-3 4 1 4-5 4-5 4-6 4 0 4 0 4-1 4-6 4-4 4 1 4-3 4-5 4 0 4-4 4 4 4 3 4-6 4 0 4-3 4-3 4-1 4-5 4-3 4 3 4 2 4-1 4 0 4-2 4-1 4-1 4-1 4 0 4 1 4-4 4-1 4 0 4 0 4-2M3582 846l4-1 4-2 4 3 4-1 4-1 4 1 4 1 4 1 4 0 4-3 4 12 4 1 4-3 4 4 4-6 4 0 4-5 4 5 4-2 4-3 4-1 4 1 4-2 4 1 4 0 4 0 4-3 4-5 4-1 4-4 4-1 4 1 4 0 4-5 4 4"/>
<path stroke="#0072b2" stroke-width="4.0" d="M1710 1436l4-2 4-2 4-5 4-5 4-1 4 6 4 1 4 5 4 1 4-4 4-2 4-1 4 2 4-5 4 1 4-5 4 2 4-3 4 0 4-1 4-1 4-2 4-3 4-3 4 0 4 0 4-1 4-4 4 2 4 14 4-4 4 0 4-5 4 0 4 0 4-4 4 0 4-4 4 1 4 3 4-3 4 1 4 1 4 4 4 0 4 2 4 2 4-4 4-1 4-3 4 2 4-4 4 1 4-4 4-2 4-1 4-8 4-1 4 1 4 0 4 0 4-2 4 2 4 2 4 0 4-4 4-3 4-1 4 4 4-3 4-2 4-1 4-2 4-3 4-7 4-5 4 3 4-1 4 2 4-3 4-1 4 1 4-8 4-5 4-1 4 0 4-2 4-1 4 1 4-1 4 1 4-4 4 1 4 4 4-3 4 2 4 1 4-2 4 2 4-5 4-3 4 0 4 0 4 1 4 0 4 3 4-4 4 1 4-2 4 1 4-1 4-9 4 1 4-4 4 2 4-3 4 0 4-5 4-9 4 1 4 2 4-3 4-3 4 0 4 0 4-2 4 1 4 1 4-4 4-5 4-3 4-3 4-5 4-4 4 1 4-1 4 0 4 1 4-3 4-1 4-3 4 0 4 1 4-3 4-14 4-5 4-5 4-3 4-1 4-4 4-3 4-3 4 1 4 2 4-7 4 1 4 3 4 0 4-1 4 0 4 1 4-2 4-2 4-1 4-2 4-2 4-3 4-2 4-6 4 0 4-1 4-1 4-1 4-1 4-3 4 0 4 1 4-4 4-1 4 1 4 0 4-2 4 0 4 0 4-3 4-1 4 0 4-5 4-1 4 2 4-1 4-1 4-1 4 1 4-1 4-3 4 2 4-3 4 0 4-4 4 1 4-2 4 1 4-1 4-1 4 0 4-1 4 0 4-3 4-3 4 1M2558 1153l4 2 4 3 4 1 4-1 4-2 4 1 4-3 4-5 4-1 4-2 4 1 4-4 4 3 4-1 4 0 4 4 4-4 4 0 4-11 4-4 4-2 4-2 4-2 4 1 4-1 4-2 4-1 4-4 4 1 4-2 4-1 4 2 4-2 4-2 4-3 4 0 4-2 4 0 4-3 4 1 4 2 4 1 4-3 4-1 4-5 4-1 4-2 4 0 4 3 4 1 4-4 4-3 4 0 4-4 4-1 4-3 4-3 4-1 4 2 4-7 4 6 4-1 4-2 4-1 4-1 4 3 4-1 4-4 4 1 4-2 4-4 4-5 4-1 4-4 4 2 4-2 4-9 4-3 4 1 4-2 4-2 4-11 4 3 4-5 4-1 4 3 4-2 4 4 4 5 4-7 4-5 4-4 4-6 4-3 4 1 4-3 4-1 4-5 4 2 4 2 4-5 4-7 4-1 4-6 4 0 4-4 4 3 4 1 4-3 4-1 4-5 4 0 4 2 4 6 4-3 4-3 4-3 4-1 4 0 4-3 4-3 4-1 4-2 4-1 4 1 4-4 4-6 4-7 4 2 4-3 4 0 4-3 4-1 4 0 4 3 4-5 4 1 4-5 4 0 4-1 4-1 4-6 4-5 4 3 4-3 4-14 4 0 4-4 4 3 4-1 4 0 4-1 4-2 4 0 4-3 4-1 4-2 4-2 4 1 4-1 4-1 4 2 4 3 4-1 4-3 4-3 4 2 4-5 4-5 4-6 4-2 4-6 4 1 4-1 4-6 4-3 4-1 4 0 4 3 4-5 4-2 4 0 4-5 4 1 4-4 4-2 4 1 4-4 4 2 4 1 4 0 4-5 4-6 4-6 4-3 4-2 4 1 4-5 4 0 4 2 4-4 4-2 4-3 4 0 4-1 4-5 4-2 4-2 4 2 4-3 4 10 4-2 4-5 4-4 4 0 4-5 4 2 4 0 4-4 4-8 4 4 4 0 4-2 4-1 4 1 4-8 4-1 4-3 4-5 4 2 4-2 4 1 4 0 4-1 4-3 4 0 4-5 4-1 4-3 4-2 4 3 4-2 4-2 4 1 4 0 4-2 4-2 4-1 4-2 4 0 4-2 4 1 4 0 4-2 4-4M3582 727l4 0 4-1 4 0 4 1 4 3 4-2 4 1 4 1 4 1 4-5 4 9 4 5 4 0 4-1 4-1 4-1 4 2 4-3 4-4 4 3 4-4 4 0 4-1 4-3 4 2 4-2 4 1 4-8 4 0 4-5 4 1 4 0 4 1 4-1 4 1 4-4 4-2 4-1 4-1 4 1 4-1 4-2 4 0 4-3 4-6 4-4 4 0 4 1 4 2 4 0 4-2 4-2 4 1 4-4 4-1 4-3 4-1 4-3 4 1 4-1 4 2 4 3 4-2 4-3 4-4 4-2 4-2 4-3 4 1 4-2 4-4 4-3 4 2 4 1 4 1 4-5 4-1 4-4 4 0 4-1 4 0 4 0 4 1 4-8 4-3 4-2 4-3 4 1 4-5 4-2 4-1 4-4 4 0 4 1 4-5 4 0 4 7 4-6 4 0 4-3 4-4 4-3 4-3 4 0 4-2 4-2 4 2 4-2 4 2 4 3 4-2 4 6 4-5 4 2 4 1 4 1 4-2"/>
<path stroke="#f0e442" stroke-width="4.0" d="M1606 1568l4-2 4-3 4 2 4-4 4 2 4 2 4-3 4-1 4-4 4 1 4-3 4 6 4-1 4-6 4-2 4-1 4-6 4 3 4-2 4-8 4-1 4-5 4-1 4-2 4-3 4-3 4-1 4-2 4-2 4-5 4-3 4 2 4 7 4 4 4-1 4-2 4-1 4-5 4 0 4-2 4 0 4 1 4-1 4-4 4 1 4-2 4 0 4-3 4-7 4 2 4 0 4 1 4-4 4 2 4-3 4 13 4-2 4-1 4-4 4 0 4-2 4-1 4 0 4-5 4 5 4-8 4 6 4 5 4-4 4 0 4 3 4 3 4-3 4-1 4-1 4-1 4-4 4 0 4 1 4-3 4-5 4-4 4-3 4-2 4 3 4-3 4 2 4 1 4-1 4 0 4 1 4-2 4-2 4-4 4 5 4-3 4-2 4-3 4-1 4 0 4-7 4-5 4 1 4 1 4-1 4 3 4-3 4 1 4-13 4-6 4 4 4-1 4-2 4 1 4-3 4 4 4-3 4 1 4-2 4 2 4-2 4 4 4 2 4-1 4-3 4-5 4 1 4-3 4-2 4 6 4-3 4 3 4 0 4-1 4-4 4 1 4-2 4-3 4-2 4-4 4 3 4-3 4 0 4-9 4-6 4 0 4 1 4 1 4-6 4 0 4 1 4-1 4-2 4 1 4-1 4-5 4-4 4-2 4-3 4-2 4 0 4-1 4-1 4-2 4-1 4-2 4-3 4 2 4-2 4 4 4-10 4-4 4-2 4-7 4 0 4-5 4-1 4-5 4 0 4 1 4-5 4 1 4 1 4 4 4-2 4 2 4-1 4 0 4-1 4-2 4-4 4-2 4 1 4-6 4-3 4-1 4-1 4-4 4 0 4 1 4-3 4-4 4-1 4 0 4 2 4-2 4 0 4 3 4-1 4-4 4 2 4-1 4-3 4-1 4-1 4-1 4-4 4 2 4 1 4-3 4 0 4-4 4 0 4-1 4 2 4-4 4-3 4 4 4 2 4-2 4-2 4-4 4 0 4-3 4 2 4 2 4 1M2558 1262l4 9 4-1 4 0 4-4 4 2 4-2 4-5 4-1 4 0 4 0 4 0 4-4 4 3 4-6 4 6 4-1 4-1 4-5 4-3 4-5 4-5 4-1 4 1 4-1 4-3 4 2 4-1 4-3 4-1 4 1 4 0 4 0 4-4 4 0 4 2 4-2 4-5 4-2 4 0 4 1 4 2 4 0 4-4 4-3 4-1 4 1 4-5 4 2 4 2 4 4 4-6 4-1 4 0 4-5 4-3 4-1 4-6 4 5 4-2 4-4 4 5 4-2 4-2 4-2 4 1 4 1 4-2 4 3 4 0 4-5 4-6 4 2 4-2 4-5 4-1 4-6 4-3 4-2 4 0 4 2 4-5 4-6 4-1 4-4 4 0 4 1 4 1 4 1 4 0 4-1 4-8 4-4 4-1 4-4 4-1 4 1 4-6 4 0 4-2 4 3 4-6 4-3 4-3 4-5 4 0 4 1 4-5 4 2 4-6 4-6 4-3 4 3 4-1 4 6 4-4 4-3 4-3 4-1 4-2 4 2 4-5 4-4 4-1 4 2 4-2 4 1 4-5 4-9 4-1 4 1 4-2 4 0 4-3 4 1 4 2 4-3 4-1 4-6 4-2 4-1 4 1 4-2 4-7 4 3 4-2 4-13 4 0 4-2 4 0 4-1 4-1 4 2 4-4 4 1 4-2 4-3 4-1 4-1 4 1 4-2 4 1 4 1 4-1 4 0 4-2 4-3 4-1 4-1 4-7 4-4 4-1 4-6 4-5 4 2 4-4 4-6 4 0 4 0 4 4 4-2 4-1 4-1 4-6 4-5 4 2 4-2 4 1 4-1 4-2 4-1 4-1 4-3 4-6 4-5 4 0 4 1 4-2 4-5 4-3 4 3 4-1 4-3 4-2 4-2 4 3 4-12 4 2 4 0 4-1 4-1 4 9 4 1 4-5 4-7 4-3 4 3 4-3 4-1 4-5 4-6 4 2 4-2 4 0 4-3 4-3 4-2 4-1 4-4 4-4 4 1 4-2 4 4 4-1 4-2 4-1 4-7 4 2 4-5 4-4 4 1 4-1 4-1 4 1 4 1 4-5 4 1 4-4 4 4 4-2 4-1 4-4 4-1 4 5 4-3 4-3M3582 850l4 3 4-4 4-1 4 1 4-1 4 1 4 1 4 4 4-2 4-4 4 11 4 4 4-2 4-2 4-3 4 2 4-1 4-4 4 3 4-3 4 0 4-2 4 2 4-5 4-1 4 3 4-2 4-5 4-1 4 0 4 0 4-5 4 1 4-1 4 0 4-7 4-3 4 0 4 1 4 1 4-2 4-3 4-1 4-2 4-2 4-6 4-1 4 2 4-1 4 2 4-2 4-2 4-4 4 3 4 0 4-5 4-5 4 1 4 2 4 1 4-1 4 3 4-4 4-2 4-3 4-4 4-1 4 2 4 3 4-2 4-8 4-2 4-2 4 3 4-1 4-2 4-3 4 1 4-2 4-2 4-2 4-2 4-1 4-1 4-5 4 2 4-4 4-4 4-4 4-2 4 3 4-1 4-3 4-4 4-2 4 1 4 3 4-1 4-2 4-4 4-7 4-3 4-2 4 0 4 0 4 0 4 0 4-3 4 2 4 1 4-1 4 2 4-1 4 3 4 1 4-3 4 3"/>
<path stroke="#0072b2" stroke-width="3.6" d="M2886 1136l4 1 4-1 4-2 4 1 4-1 4 2 4 5 4-4 4-7 4-5 4-2 4-3 4-2 4 1 4-4 4 1 4 1 4 0 4-6 4-3 4-5 4-6 4 1 4-1 4-3 4-1 4-5 4-4 4-3 4 0 4 3 4 3 4 0 4-6 4-2 4 0 4-4 4-1 4 0 4-4 4-1 4 1 4-2 4 0 4-6 4-6 4 1 4-3 4 0 4-4 4 0 4 1 4-2 4 2 4-5 4-3 4 0 4-1 4 1 4-6 4-3 4 0 4 1M3142 1020l4-1 4-4 4 3 4 0 4 0 4-4 4-1 4-2 4 0 4-2 4-2 4-1 4-1 4 0 4 1 4 0 4 3 4 0 4-1 4-4 4-1 4-5 4-4 4-5 4 3 4-3 4 0 4-3 4-3 4-3 4 1 4-2 4 2 4-4 4-1 4 1 4-9 4 1 4-3 4 0 4 0 4-5 4 3 4 0 4 1 4-5 4-5 4-6 4-4 4 0 4 2 4-4 4-3 4 0 4-4 4 0 4 1 4-4 4-1 4-4 4 0 4-1 4-1 4 0 4 7 4-3 4-1 4-8 4-2 4 0 4-1 4-1 4-3 4-8 4 1 4 0 4-2 4-1 4-3 4-5 4-1 4-2 4-2 4 0 4 0 4-2 4 2 4-2 4-4 4 0 4-2 4-5 4-3 4-3 4 5 4 0 4-1 4-2 4-1 4-1 4-2 4 0 4-2 4 1 4-3 4-1 4 0 4 0 4-1M3582 838l4-1 4-1 4 3 4-1 4 0 4 2 4-3 4 0 4 1 4 0M3626 861l4 3 4-3 4 0 4-2 4 1 4-2 4-1 4 0 4-2 4 1 4-2 4 0 4-1 4 0 4-2 4 0 4-7 4-1 4-1 4-1 4-1 4 2 4-2 4 0 4-7 4-5 4 3 4-1 4-1 4-1 4 0 4-2 4 1 4-7 4-2 4-1 4-4 4 4 4 0 4-3 4-2 4 0 4-1 4-1 4-6 4 0 4-2 4 1 4 0 4 2 4 3 4-3 4-2 4-7 4 0 4 0 4 0 4-1 4-3 4-2 4-2 4-2 4 1 4 1 4-4 4-3 4 1 4 1 4-4 4 0 4-1 4-2 4-4 4-3 4-2 4-2 4 0 4-4 4-2 4-1 4-1 4-3 4 1 4-4 4 0 4 4 4-1 4-5"/>
<path stroke="#009e73" stroke-width="4.4" d="M1830 1512l4-3 4-1 4-1 4-5 4-3 4 0 4-2 4 3 4-3 4 0 4-1 4 3 4 2 4 0 4 2 4-3 4 1 4 0 4 0 4-2 4 1 4 0 4 2 4-10 4-4 4-2 4-3 4-5 4 4 4-2 4 4 4-1 4 2 4-1 4 0 4-2 4-1 4 0 4-3 4-3 4-1 4 0 4-3 4 2 4-8 4-6 4 2 4 2 4-3 4 1 4-2 4 3 4-10 4-3 4-1 4-1 4-1 4 0 4-2 4 0 4 5 4-3 4-2 4 1 4-2 4 4 4-1 4 3 4-3 4-2 4-2 4-2 4 1 4 0 4-1 4 4 4 0 4-1 4-2 4-4 4-6 4 2 4 0 4-4 4-1 4-1 4 2 4-7 4-8 4 2 4 0 4-5 4 4 4-5 4 1 4-4 4 1 4 2 4-5 4-2 4-8 4-3 4-1 4-2 4 0 4 1 4-3 4 0 4-2 4-2 4-2 4 0 4 0 4 0 4-9 4-4 4-3 4-7 4-1 4-5 4 3 4-2 4-1 4-1 4-2 4-1 4 2 4-3 4 3 4 2 4-1 4-4 4-1 4 1 4-4 4 3 4-3 4-9 4 5 4-5 4-4 4 0 4-1 4 0 4 2 4-3 4-3 4-1 4-2 4 0 4-1 4 3 4-3 4-1 4 0 4 0 4 2 4-9 4-2 4-3 4 2 4-1 4 1 4 0 4-1 4 1 4-4 4 0 4 0 4-4 4 0 4 1 4-1 4-3 4 3 4 0 4-1 4-2 4-1 4 1 4-4M2558 1268l4 3 4 0 4 3 4-1 4 2 4 1 4-6 4-6 4-2 4 2 4-2 4 1 4 0 4-3 4 5 4-2 4 2 4-3 4-9 4-2 4-2 4-4 4-1 4 0 4 1 4-1 4-4 4-2 4 1 4-2 4 1 4-2 4 1 4-4 4 2 4-5 4-3 4 3 4-2 4 1 4 0 4 4 4-5 4-3 4-2 4 0 4-2 4-1 4 4 4-1 4-4 4-1 4 3 4-7 4-3 4-3 4-2 4 5 4-6 4 0 4 0 4 2 4-1 4-1 4-4 4 4 4 0 4 1 4-4 4 0 4-5 4-4 4-1 4-2 4-2 4-4 4-6 4 0 4 1 4 0 4-5 4-11 4 4 4-3 4 1 4 3 4-3 4 0 4 7 4-5 4-9 4-1 4-2 4-6 4-4 4 0 4 1 4-2 4 0 4 1 4-3 4-4 4-7 4-4 4-6 4 2 4 2 4-3 4-5 4-4 4-4 4 0 4 4 4 2 4-5 4 1 4-1 4-3 4-3 4-1 4-2 4 0 4-2 4-2 4-1 4-3 4-5 4 0 4-4 4 0 4 3 4-6 4 0 4 0 4 2 4-1 4-5 4-2 4-2 4-1 4 1 4-6 4-3 4 1 4 0M3142 1050l4-4 4 0 4 3 4-2 4 2 4-2 4-2 4-2 4-2 4-1 4 1 4-3 4-2 4 3 4-1 4 0 4-2 4 0 4-4 4 0 4 1 4-4 4-2 4-9 4-2 4-4 4-2 4-1 4-3 4-3 4-2 4 3 4 1 4-3 4-4 4 2 4-7 4-2 4 0 4 3 4-2 4 1 4-3 4-1 4-1 4-7 4-1 4-6 4-2 4 3 4-3 4-4 4-2 4 1 4-2 4-5 4 0 4 0 4-2 4-4 4-4 4-1 4 3 4-5 4 12 4-4 4-4 4-3 4-6 4 4 4-1 4 0 4-9 4-7 4 1 4 0 4 1 4-5 4-2 4-3 4 0 4-1 4-4 4-3 4 2 4-1 4-2 4 0 4-4 4 0 4-2 4-4 4-2 4-2 4 4 4 1 4-6 4 2 4 1 4-4 4 1 4 1 4-2 4-2 4-3 4 0 4-2 4 0 4-1M3582 865l4 0 4-3 4 1 4-3 4 2 4 3 4-3 4 2 4-2 4 4 4 9 4 2 4-3 4 0 4 1 4 1 4-4 4-4 4-2 4 2 4-2 4 2 4 1 4-6 4 0 4 1 4 0 4-10 4 0 4-1 4 0 4 0 4 0 4 0 4-4 4-4 4-1 4-5 4 0 4 1 4 0 4-1 4 3 4-4 4-7 4-2 4-2 4 1 4-1 4 4 4-4 4 0 4 0 4-4 4 0 4-3 4-5 4 1 4-2 4 0 4 4 4-1 4 3 4-6 4-4 4-3 4 3 4 0 4-1 4-4 4-2 4-4 4 0 4 2 4 2 4-5 4-6 4-1 4 3 4-4 4 3 4-5 4 1 4-5 4-1 4-2 4-2 4-6 4 1 4-3 4-1 4-2 4-2 4-1 4 0 4-1 4 3 4 0 4-5"/>
<path stroke="#56b4e9" stroke-width="4.2" d="M3906 520h0M3918 514l4-6 4 1 4-2M3938 501l4 0 4-2 4-5 4 0 4-3 4-3 4 1 4 7 4-2 4-5 4-6 4-2 4 0 4-4 4-1 4 0 4 2 4-3 4-1 4 3 4-2 4 0 4 1 4 2 4-2M4050 477h0"/>
<path stroke="#f0e442" stroke-width="4.4" d="M3582 738l4-5 4 1 4-1 4 4 4 0 4 3 4-4 4 3 4 0 4-5 4 12 4 3 4-1 4-1 4-2 4 0 4-1 4-1 4-1 4-3 4-1 4 4 4 0 4-7 4 3 4-3 4 0 4-6 4-2 4-1 4-1 4 0 4 0 4-3 4 0 4-4 4-2 4-5 4 1 4 1 4-1 4 2 4-6 4 4 4-14 4-1 4 2 4 2 4-2 4 1 4-1 4 1 4-3 4-2"/>
<path stroke="#56b4e9" stroke-width="4.6" d="M1702 1409l4 0 4-3 4-4 4 1 4-4 4-4 4 0 4-1 4 7 4 3 4 0 4-3 4-1 4-2 4-1 4-1 4-2 4-3 4 0 4-4 4 2 4-4 4 0 4-1 4-3 4 0 4-1 4-1 4 0 4-4 4 2 4 13 4-2 4-1 4-3 4-2 4 1 4-5 4 2 4-4 4-1 4 0 4 2 4 1 4 0 4 0 4 2 4 0 4 0 4 1 4-2 4-1 4-1 4 0 4-1 4-3 4-6 4-1 4-6 4-2 4-1 4 3 4 0 4-1 4 0 4 4 4-3 4 0 4-4 4-2 4 2 4-4 4 0 4-2 4 0 4-4 4-6 4-2 4 1 4-2 4 0 4-1 4 0 4 0 4-10 4-3 4 0 4-1 4-1 4-3 4 1 4-1 4 2 4-1 4-3 4 2 4-1 4 1 4 2 4 0 4-3 4 0 4-2 4-4 4 3 4-2 4 2 4-1 4 1 4 0 4 1 4-4 4-2 4-2 4-2 4-3 4 0 4-2 4-1 4-5 4-10 4-1 4 1 4 2 4-2 4-2 4 0 4-3 4 2 4-1 4-2 4-3 4-5 4-7 4-1 4-1 4 0 4-1 4-2 4 0 4-2 4 0 4-2 4-1 4-3 4 1 4-9 4-6 4-4"/>
<path stroke="#e51e10" stroke-width="4.4" d="M3246 977l4-3 4-1 4-6 4-2 4-2 4 5 4-3 4-2 4-1 4-1 4-4 4-4 4-3 4 0 4 5 4-4 4-3 4 1 4 2 4-6 4-3 4-7 4-1 4-2 4-1 4-6 4-1 4 2 4-4 4 0 4-3 4-1 4-2 4-3 4-2 4 2 4-2 4-1 4 11 4-4 4-3 4-8 4-4 4 2 4 0 4 1 4-5 4-6 4-1 4 0 4-1 4-1 4-4 4-4 4-4 4-2 4-2 4-1 4 1 4-2 4 2 4-2 4-2 4-1 4 0 4-5 4-3 4-1 4 2 4 0 4-1 4-4 4 2 4-3 4-2 4 0 4-1 4 0 4-3 4 2 4-3 4 1 4-5"/>
<path stroke="#009e73" stroke-width="3.6" d="M3410 745l4-7 4-1 4-4M3446 722l4 0M3458 719l4-7M3470 709l4-2M3490 706l4 1 4-2M3506 698l4-5 4 1 4-7 4 3 4 2 4-2M3550 686l4-1 4-2 4-4M3582 650h0M3614 648l4 3 4 4 4 12 4 1 4-4M3650 663h0M3670 660l4-4 4-2M3686 655l4 0M3714 642l4 1 4 2 4-10M3738 631l4 0 4-1 4 1 4 1 4-2M3766 615l4 3M3778 619l4 5 4-6M3798 612l4 1 4-5M3814 605l4 0 4 3 4 3 4 3 4-5 4-2 4-5 4-1 4-2 4-1 4 1M3882 591h0M3890 582h0"/>
<path stroke="#e69f00" stroke-width="4.4" d="M330 1833l4 0 4-2 4 1 4-2 4-1 4 4 4-5 4-5 4 2 4 0 4-1 4 0 4 0 4 4 4 3 4-1 4-2 4-4 4-6 4-2 4 0 4-1 4 0 4 0 4 1 4 0 4-9 4 7 4-1 4 0 4 0 4-1 4-1 4-2 4 2 4 2 4-6 4-1 4 4 4-3 4-3 4-1 4-1 4-3 4-10 4 2 4 1 4-3 4 4 4 3 4-1 4-2 4 1 4-4 4-1 4-1 4-1 4-1 4 0 4-2 4-1 4-10 4-3 4-1 4 2 4 1 4-1 4 0 4-1 4 0 4 3 4-3 4-6 4 2 4-3 4 0 4 2 4-7 4-4 4 3 4 1 4-2 4-1 4-2 4 5 4 0 4 1 4-3 4-3 4-2 4 4 4-1 4-2 4 0 4 1 4-2 4 0 4 1 4 1 4 0 4 2 4 0 4-3 4-4 4 0 4-3 4-5 4 0 4-2 4-6 4 4 4 1 4-1 4 1 4-4 4-3 4-2 4 4 4 5 4-2 4 0 4-10 4 4 4-1 4-4 4-6 4 0 4 2 4 1 4 0 4 3 4-3 4 0 4-4 4 1 4-3 4-4 4 1 4 0 4 3 4-6 4 1M902 1730l4 8 4 0 4-7 4-3 4 4 4-1 4 0 4-5 4 2 4-2 4-3 4 3 4 0 4-5 4 3 4-1 4 0 4-1 4-2 4-1 4-1 4 3 4-4 4 3 4-1 4 1 4-3 4-10 4 4 4 1 4 4 4 1 4-5 4 1 4 0 4-2 4 2 4-6 4 3 4-4 4 2 4 1 4-2 4-2 4 2 4 0 4-4 4 3 4-3 4 0 4 1 4-4 4 0 4 0 4-7 4 1 4-2 4-5 4-4 4 3 4-4 4-1 4 1 4-4 4 1 4 0 4 0 4-2 4 2 4 1 4-7 4-3 4 0 4-2 4 0 4 1 4 2 4 1 4-1"/>
<path stroke="#f0e442" stroke-width="5.0" d="M3146 911l4-1 4-2 4 2 4-2 4-3 4 0 4-2 4-3 4 0 4 0 4-3 4 1 4-4 4 3 4 1 4 1 4-1 4-1 4-2 4-1 4-3 4-3 4-6 4-4 4-3 4 0 4-5 4-2 4-5 4-1 4 3 4 0 4-4 4-2 4 1 4-6 4-3 4 0 4-1 4 1 4-2 4 0 4-3 4 1 4-5 4-2 4-6 4-2 4-2 4 2 4-7 4-1 4 2 4-3 4-1 4-2 4-1 4-3 4-6 4 2 4 1 4-4 4 0 4 9 4-1 4-5 4-7 4-3 4 2 4-2 4-2 4-4 4-6 4-3 4 3 4-3 4-3 4 0 4-4 4-4 4-1 4-2 4 0 4-2 4-4 4 4 4 0 4-2 4-6 4-1 4-3 4-4 4-4 4 5 4-1 4-1 4 1 4-3 4 2 4-3 4-2 4 1 4-1 4-1 4-4 4-1 4-2 4 1M3582 718l4-1 4-2 4-1 4 2 4-1 4 2 4-3 4 0 4 2 4 0 4 10 4 4 4-1 4-2 4-1 4-1 4-1 4-3 4-1 4 1 4 0 4 0 4-1 4-4 4 0 4 4 4-6 4-8 4-1 4-3 4 1 4 0 4 1 4-3 4 0 4-6 4-1 4-1 4-1 4-2 4 2 4 0 4-2 4-2 4-8 4-1 4-1 4-2 4 0 4 0 4-2 4 0 4-2 4-1 4 0 4-3 4-2 4-5 4 3 4-2 4 4 4 4 4-1 4-3 4-7 4-4 4-1 4 2 4-2 4-1 4-1 4-3 4-5 4 3 4 4 4-8 4-4 4 0"/>
<path stroke="#0072b2" stroke-width="4.0" d="M330 1789l4 2 4-1 4 0 4 0 4-3 4-1 4-3 4-2 4 1 4 1 4-1 4 0 4-1 4 2 4 3 4-1 4-2 4-6 4-2 4-1 4-1 4-1 4 1 4-2 4 0 4 1 4-2 4 1 4-1 4 0 4-2 4-1 4 2 4-1 4-1 4 0 4-3 4-1 4 1 4 0 4-3 4-2 4-2 4-4 4-5 4-1 4 3 4 0 4 1 4 1 4 1 4-4 4-2 4-2 4 0 4 0 4-1 4-1 4-2 4-1 4-3 4-5 4-5 4-1 4-1 4 0 4 0 4 1 4-2 4-3 4 1 4 2 4-3 4 0 4-1 4 0 4-1 4-3 4-6 4 3 4-3 4-1 4 0 4-1 4 1 4 1 4-4 4-2 4 0 4-1 4 2 4 1 4 0 4 1 4-1 4 0 4 2 4-2 4 0 4 0 4-2 4 2 4-4 4 0 4-2 4-1 4-3 4-3 4-4 4-4 4 0 4 0 4 3 4 0 4-2 4-2 4-4 4 4 4 3 4-2 4 1 4-4 4-1 4-1 4-4 4-5 4 0 4 1 4 0 4 0 4 0 4 0 4 0 4 1 4-4 4-4 4 1 4-1 4 0 4-1 4 0 4 3M902 1683l4 6 4-1 4-1 4 0 4-1 4-1 4-2 4 0 4-3 4-1 4-1 4 1 4 1 4-2 4 2 4 0 4-2 4-2 4 1 4-2 4-1 4 0 4 0 4 0 4 1 4-1 4-2 4-7 4 3 4 0 4 3 4 0 4 0 4-1 4-1 4 1 4-3 4 0 4-1 4 0 4 0 4 1 4-4 4-2 4 2 4-1 4-1 4-1 4 0 4-3 4 4 4-5 4 3 4-1"/>
<path stroke="#e51e10" stroke-width="5.0" d="M3146 978l4-4 4 4 4-2 4 0 4-4 4 3 4-3 4-3 4-1 4-2 4 0 4-2 4 0 4 0 4-1 4 4 4 0 4-4 4-1 4-1 4-4 4-3 4-6 4-13 4-1 4-4 4-2 4-3 4-3 4 1 4-1 4-2 4 0 4 0 4-1 4-11 4-1 4 4 4-5 4 2 4-3 4 3 4-2 4-2 4-2 4-4 4-8 4 0 4-1 4-2 4-5 4 1 4 2 4-5 4-2 4-2 4 1 4-2 4-5 4-1 4-1 4 0 4-1 4 8 4-4 4-3 4-4 4-4 4-2 4 1 4 2 4-6 4-5 4 0 4-3 4-2 4 0 4-2 4-3 4-5 4 0 4-4 4 1 4-2 4 1 4-2 4-1 4-3 4-2 4-2 4-1 4-5 4 0 4 3 4-4 4 0 4 0 4 0 4-3 4-1 4 0 4-1 4-1 4-1 4-1 4 0 4-1 4 0M3582 778l4 0 4 0 4-1 4 0 4-2 4 0 4 0 4 1 4 4 4-4 4 10 4 2 4 0 4 0 4-4 4 2 4-2 4-1 4 1 4-3 4-1 4 1 4-2 4-1 4-1 4 1 4-2 4-8 4 1 4-3 4 0 4 1 4-2 4 1 4-3 4-5 4-3 4 0 4 0 4-1 4-1 4 1 4-2 4-2 4-7 4-4 4 2 4-3 4 1 4 2 4-1 4-2 4 0 4-5 4 1 4-4 4-3 4 0 4 1 4-1 4 0 4 6 4-3 4-2 4-7 4 1 4 0 4-4 4 0 4-2 4-1 4-7 4 3 4-1 4 1 4-3 4-3 4-1 4 1 4-1 4-2 4-3 4 0 4-4 4-3 4-2 4-1 4-2 4-4 4-2 4 1 4-2 4-3 4-1 4-4 4 6 4 0 4-2 4-4 4-3 4-4 4-2 4 0 4-2 4-2 4 2 4-1 4 0 4 1 4-2 4 3 4-1 4 0 4 3 4-1 4 0 4-2"/>
<path stroke="#f0e442" stroke-width="3.6" d="M3402 742l4-4 4-4 4-3 4-3 4 0 4-1 4 2M3442 714l4 1 4 0M3478 698l4-1 4 5 4 0 4-3 4-4 4-2 4-1 4-4M3542 680l4 2 4 0M3594 645l4 5 4 2 4-2 4-1 4 3 4-5 4 3 4 11 4 2 4-2 4 1M3646 657l4 1 4-2M3666 653h0M3678 654l4 2 4-5 4-1 4-4 4-2 4-4"/>
<path stroke="#9400d3" stroke-width="4.0" d="M1798 1332l4-6M1814 1324l4-4 4 6M1834 1342h0M1894 1332l4 3 4-3 4 8 4-10M1942 1311l4-5M2074 1269l4-1M2106 1271l4-5M2142 1266l4 1M2190 1232l4 3M2214 1221h0M2266 1202l4-1 4-2 4-3 4 5 4 1 4-10 4-8 4-6M2362 1161h0M2386 1145l4 0"/>
<path stroke="#9400d3" stroke-width="5.0" d="M1606 1467l4 0 4-7 4 1 4 0 4-1 4-2 4 1 4-3 4-2 4-3 4 3 4 1 4-3 4-1 4-2 4-4 4-5 4-1 4-5 4-1 4-4 4-3 4-4 4-2"/>
<path stroke="#9400d3" stroke-width="4.0" d="M214 1860l4 0 4 1 4 3 4-6 4 5 4 3 4-2 4-3 4 2 4-4 4 2 4-1 4-1 4 1 4-4 4 0 4-1 4-3 4 0 4-1 4 0 4 0 4 0 4 0 4-4 4-1 4-5 4-4 4-2 4 5 4-1 4 0 4-3 4 0 4-4 4 0 4-3 4-3 4 1 4 1 4 1 4 0 4 4 4 0 4-3 4 0 4-6 4-3 4 1 4-1 4 0 4-1 4 1 4-3 4 1 4-2 4 1 4-2 4 2 4-4 4 2 4-2 4 0 4 0 4 0 4 0 4-1 4-4 4 2 4-4 4-1 4-2"/>
<path stroke="#9400d3" stroke-width="4.0" d="M2390 1199l4-2 4-1 4-1 4-1 4-2 4-1 4 0 4-1 4-2 4-1 4 0 4-1 4-2 4 0 4 3 4-3 4 1 4-6 4-1 4-1 4 0 4 0 4-1 4 1 4-1 4-3 4-4 4 2 4-3 4 1 4-1 4 1 4-1 4-3 4 2 4-3 4 0 4 0 4-2 4-2 4 1M2558 1129l4 5 4-2 4 1 4-2 4 2 4 0 4-5 4-5 4-2 4-2 4 1 4 1 4 0 4-2 4 3 4 0 4-1 4-5 4-6 4-8 4 1 4-4 4 0 4 0 4-1 4-3 4-4 4 0 4 2 4-2 4 1 4-2 4-1 4 0 4-1 4-3 4-3 4-2 4-1 4 3 4 1 4-1 4-3 4 0 4-2 4-4 4-4 4 2 4 2 4 0 4-1 4-2 4-3 4-2 4-3 4-4 4-1 4 2 4-2 4-2 4 1 4 0 4-2 4-2 4 1 4 0 4-1 4 0 4-1 4-2 4-6 4-1 4-3 4-4 4-1 4-5 4-5 4 1 4 0 4-4 4-4 4-8 4 0 4-3 4-1 4 0 4 2 4 1 4 6 4-5 4-8 4-5 4-3 4-3 4-2 4 0 4-3 4-2 4 2 4 1 4-5 4-7 4 0 4-7 4-3 4 0 4 0 4 1 4-3 4-2 4-5 4 0 4 2 4 4 4-2 4-3 4-2 4-1 4-1 4-2 4-3 4-3 4-3 4 1 4 0 4-1 4-6 4-4 4-1 4-4 4 0 4 0 4-3 4 0 4 0 4-2 4-3 4-3 4-2 4 2 4-1 4-4 4-5 4-1 4 0M3142 888l4-2 4-2 4 0 4 1 4-1 4-3 4 0 4-1 4-2 4-1 4-2 4-2 4 1 4-2 4-1 4 2 4 3 4-2 4-1 4-3 4 0 4-4 4-5 4-5 4-3 4-3 4-3 4-2 4-3 4-6 4 2 4 1 4-1 4 0 4-4 4 0 4-8 4-1 4 0 4-3 4-2 4 4 4-2 4 1 4-2 4-3 4-10 4-8 4-4 4-1 4 0 4-5 4-1 4 1 4-2 4-1 4-4 4 1 4-3 4-3 4-1 4 0 4-4 4 1 4 12 4-4 4-3 4-7 4-4 4-2 4 3 4-1 4-5 4-9 4 2 4 0 4-4 4 1 4-3 4-3 4-4 4-2 4-3 4 0 4-2 4 1 4 1 4-2 4-3 4-4 4-1 4-2 4-3 4-2 4-1 4 1 4 0 4 0 4-2 4 0 4-1 4-2 4 0 4-2 4-2 4-2 4 0 4-2 4 2M3582 683l4 0 4-1 4 1 4 1 4 1 4-2 4-1 4 1 4 0 4 0 4 9 4 3 4-2 4 3 4-6 4 1 4 0 4 0 4-1 4-3 4 0 4-1 4-1 4-2 4 2 4-1 4-3 4-7 4-2 4 0 4 0 4 0 4-4 4 3 4-1 4-8 4-4 4 4 4-2 4 1 4-4 4-1 4 0 4-1 4-7 4-3 4-1 4 0 4-1 4 2 4-1 4-1 4-4 4-1 4-1 4-4 4 0 4-3 4 2 4 1 4-1 4 2 4-3 4-1 4-4 4-2 4-3 4 0 4 3 4-3 4-3 4-3 4-3 4 2 4 0 4-4 4-1 4-1 4 0 4-3 4-1 4 0 4-4 4-5 4 0 4-1 4-3 4-3 4 0 4-2 4-2 4-3 4-2 4 0 4-3 4 2 4 2 4-4 4-4 4-2 4-2 4-4 4 0 4-1 4-4 4 1 4-1 4-1 4 2 4-1 4 1 4 1 4 1 4-2 4 3 4-1 4 1"/>
<path stroke="#e51e10" stroke-width="4.4" d="M214 1844l4-2 4 5 4 2 4 0 4-1 4-1 4 3 4-3 4 4 4-2 4-1 4-4 4 0 4 1 4 0 4-3 4-1 4-3 4-1 4 1 4 4 4-3 4 1 4-2 4-2 4-6 4-5"/>
<path stroke="#e51e10" stroke-width="4.4" d="M330 1819l4 0 4-2 4 1 4 0 4-6 4 2 4-5 4 0 4 0 4 0 4-2 4 2 4-3 4 6 4 2 4-3 4-4 4 1 4-4 4-3 4 2 4-2 4 5 4-6 4-4 4 2 4-2 4 4 4-4 4 2 4 0 4-2 4-2 4 4 4-5 4 0 4 1 4 0 4-1 4-4 4-1 4-1 4-2 4-5 4-5 4 2 4 1 4-2 4 0 4 3 4 1 4-1 4-2 4-1 4-2 4-3 4 0 4 2 4-3 4-2 4-3 4-6 4-4 4-3 4-1 4 3 4 1 4-4 4 1 4 0 4 1 4-4 4 0 4 0 4 0 4-1 4 2 4-8 4-1 4 0 4 0 4-5 4 4 4 1 4-1 4-1 4-1 4-1 4 0 4-3 4 0 4 2 4-4 4 5 4 0 4-1 4-3 4 1 4 1 4-2 4 3 4-4 4 2 4-2 4-6 4 0 4-3 4 0 4-3 4-5 4 0 4 2 4 2 4-2 4 1 4-4 4-1 4 0 4 7 4-4 4 1 4-4 4 1 4-4 4-2 4-6 4-1 4-1 4 1 4 0 4 0 4 0 4-1 4-2 4 1 4-1 4-2 4-2 4 3 4-4 4 0 4-1M902 1709l4 12 4 0 4-3 4-4 4 0 4-1 4-1 4-2 4 2 4 2 4-5 4 1 4 0 4-4 4-2 4-2 4 7 4-1 4-2 4-5 4 1 4-1 4-2 4 5 4-1 4 2 4-7 4-6 4 1 4 4 4 1 4 0 4-1 4-3 4 2 4-2 4 1 4-6 4 3 4 0 4-3 4 2 4 3 4-4 4-3 4 0 4 0 4-1 4-2 4 2 4 0 4-3 4 3 4-2 4-7 4 0 4-2 4-4 4 1 4-5 4-3 4 0 4 2 4-5 4 1 4 0 4-1 4-3 4-2 4 1 4 1 4 0 4-2 4-4 4-6 4 5 4 0 4 1 4 1 4-1 4 3 4-4 4 1 4-1 4-4 4-1 4-3 4-3 4 2 4-2 4 2 4-6 4-2 4-1 4-12 4-1 4 2 4-2 4-4 4 7 4 0 4 2 4-3 4 2 4-6 4 0 4-7 4 3 4 1 4 3 4 0 4 1 4-4 4-4 4 2 4 1 4-1 4 2 4-1 4-2 4 2 4 2 4-1 4-4 4 1 4-6 4 3 4 2 4-6 4-9 4-1 4-2 4 1 4-2 4 1 4-1 4 0 4-3 4-2 4-4 4-2 4 1 4-5 4 0 4 3 4-4 4 1 4-3 4 4 4 1 4-7 4 0 4 1 4 4 4-4 4 3 4 0 4 1 4-4 4 0 4 0 4-2 4-4 4 0 4-3 4-5 4-1 4-2 4 1 4-2 4 1 4 0 4 1 4-2 4-3 4-8 4-1 4-1 4 2 4-3 4-2 4 7 4-5 4-3 4 0 4 1 4-3 4-1 4-4 4-2 4-1 4 1 4-6 4-3 4-3 4-3 4-2 4-9 4 1 4 0 4-3 4-5 4 2 4-1 4-3 4-6 4-4 4 2 4 8 4 6 4-4 4-2 4 0 4-5 4 0 4 0 4-3 4-3 4 1 4 1 4-3 4-4 4 0 4-1 4-3 4 1 4-3 4 2 4-2 4-1 4 2 4 9 4-4 4 0 4-1 4 0 4-1 4-3 4 1 4-4 4 2 4-3 4 1 4-1 4 3 4 0 4 2 4-1 4 8 4-2 4 1 4-3 4-2 4 0 4 1 4-4 4-7 4 1 4-5 4-4 4 2 4-4 4 7 4-4 4 4 4 0 4-4 4-4 4 5 4-4 4-3 4 1 4-1 4 0 4-2 4-4"/>
<path stroke="#e51e10" stroke-width="4.4" d="M214 1781l4-3 4 0 4 0 4 3 4 2 4-3 4 0 4 0 4 0 4-2 4-1 4 1 4 0 4 2 4-5 4 1 4-3 4-3 4-3 4 0 4 1 4-1 4 2 4 2 4-6 4 1 4-6 4-3 4-4 4-1 4 0 4 6 4-3 4-7 4 2 4-2 4-4 4 0 4 4 4-2 4 1 4-2 4 3 4 3 4-2 4-3 4-2 4-5 4-1 4 0 4-2 4 0 4 0 4-1 4 0 4 1 4-1 4 1 4-4 4 0 4 0 4 0 4 0 4-2 4-1 4 0 4 0 4-1 4-3 4 0 4 1 4-5 4-7 4-5 4 1 4 1 4 5 4-1 4-2 4 1 4-1 4 0 4-7 4-1 4 1 4 1 4 2 4-3 4-1 4-6 4-5 4-6 4 1 4-3 4 3 4 0 4-2 4 4 4-3 4-1 4-3 4-2 4 5 4-2 4-2 4-2 4-3 4-6 4 1 4-3 4 1 4 0 4 2 4 0 4 0 4-6 4-1 4 3 4-1 4-3 4 3 4-1 4 4 4-5 4 1 4 1 4-2 4 1 4 0 4 1 4 0 4-2 4-2 4-3 4 1 4-2 4-6 4-1 4-2 4-2 4 0 4 2 4 2 4-5 4-2 4 0 4 3 4 3 4-2 4-4 4-2 4 0 4-4 4 1 4-6 4-1 4 0 4 1 4-1 4 4 4-2 4-1 4-1 4 0 4-4 4 1 4-3 4-2 4-2 4 1 4 1M902 1644l4 9 4-2 4-3 4-1 4-3 4 2 4-2 4 0 4-1 4 0 4-2 4-1 4-1 4 1 4 1 4-4 4 0 4 2 4-2 4-3 4-1 4 2 4 0 4 2 4-2 4 3 4-6 4-8 4 2 4 2 4 0 4 2 4-1 4-3 4 0 4 0 4 1 4-2 4-2 4-1 4 0 4 3 4-3 4 0 4-1 4-3 4-1 4-1 4 2 4 0 4 0 4-4 4 2 4-1 4-9 4 0 4-2 4-2 4-5 4 1 4-2 4 0 4 0 4-2 4 2 4-4 4-3 4-1 4 1 4 2 4-8 4 2 4-3 4 0 4 0 4-1 4-1 4 1 4 0 4 1 4 2 4-3 4-3 4 0 4-2 4 0 4-2 4-3 4-3 4-1 4 0 4-2 4-5 4 1 4-14 4 2 4-1 4-2 4-1 4 6 4 0 4-2 4-1 4 2 4-2 4-4 4-7 4 0 4 3 4 1 4 1 4 3 4-4 4-2 4 0 4-1 4-2 4 5 4 1 4-3 4-1 4 0 4 0 4-4 4 2 4-3 4 0 4-2 4-1 4-8 4-5 4 1 4-2 4-1 4-2 4 2 4 0 4-6 4-1 4-2 4-2 4 0 4-3 4-1 4-3 4 2 4-1 4 0 4-3 4-2 4 0 4 0 4 2 4-1 4 3 4-1 4-2 4 0 4-3 4 1 4-4 4 0 4-1 4-3 4-5 4-1 4 1 4-4 4 3 4 0 4-1 4-2 4-4 4 3 4-2 4-12 4 1 4-3 4-1 4 0 4 0 4-1 4-1 4-4 4-1 4-1 4 4 4-5 4 0 4-2 4-4 4 0 4-3 4-2 4-5 4-6 4-2 4-7 4 0 4-3 4-3 4 2 4-2 4-4 4 1 4-8 4 1 4-1 4 7 4 2 4-1 4-1 4-3 4-1 4-2 4 0 4-2 4-4 4 3 4-3 4-3 4 0 4-1 4-4 4 0 4 2 4-3 4-2 4-2 4 0 4 3"/>
<path stroke="#9400d3" stroke-width="4.0" d="M3806 662l4-2 4 0 4-2 4 1 4 3 4 1 4-1 4-3 4-4 4-4 4 1 4-2 4 1 4-3 4-3 4-3 4-1 4 1 4 2 4-4 4-6 4 2 4-1 4-1 4-1 4-2 4-3 4-3 4-3 4-1 4-2 4-3 4-1 4-2 4-2 4 0 4-2 4-2 4-3 4 1 4 5 4-3 4-4"/>
<path stroke="#e51e10" stroke-width="4.4" d="M958 1641l4-3 4 0 4-1 4 1 4-2 4 0 4-1 4 0 4 1 4 0 4-1 4 1 4-3 4-8 4 1 4 1 4 1 4 2 4-1 4-1 4-1 4-3 4 2 4-2 4 1 4-2 4 0 4-1 4 0 4-2 4-3 4 2 4-3 4 2 4 1 4-2 4 0 4-1 4 1 4 0 4-9 4-1 4-3 4-4 4-3 4 3 4-3 4 0 4-2 4 0 4-1 4-2 4-2 4-1 4 1 4-2 4-1 4-2 4-2 4-3 4-2 4 3 4 0 4 0 4 4 4-1 4-1 4-3 4-1 4-1 4-2 4 0 4-4 4 0 4-2 4-3 4 0 4-3 4-2 4-2 4-14 4-2 4 1 4 1 4 1 4 5 4 1 4-2 4-4 4-1 4-1 4-2 4-4 4-1 4 3 4 0 4 3 4 0 4-3 4-3 4-2 4 1 4 2 4 3 4-2 4-2 4-2 4 4 4-3 4-3 4 0 4-1 4-1 4-1 4-4 4-6 4-5 4 3 4-2 4-2 4-1 4 2 4-1 4-4 4-2 4-4 4 0 4-2 4-3 4 2 4-1 4-2 4-2 4 0 4-3 4 2 4 0 4-4 4-1 4 2 4 1 4 1 4 1 4-1 4-4 4 0 4-3 4 2 4-3 4-2 4-4 4-2 4-1 4-2 4 1 4-4 4 2 4-3 4 0 4 1 4-4 4-8 4 1 4-4 4-3 4 0 4 2 4-1 4-2 4-2 4-4 4 0 4 2 4 3 4-6 4-1 4-2 4-3 4-3 4-2 4-7 4 1 4-5 4-4 4-3 4-3 4-2 4-2 4-1 4-1 4-4 4-5 4-1 4 0 4 4 4 5 4 1 4-3 4-1 4-3 4 0 4-2 4-1 4-4 4 2 4-2 4 0 4-2 4-3 4-2 4 1 4-5 4-1 4 1 4-2 4-2 4 5 4 10 4-2 4-2 4-1 4-2 4-2 4-2 4 0 4-5 4 2 4 0 4 1 4 1 4 1 4 1 4 1 4-2 4 3 4-1 4 0 4-2 4-2 4 0 4 0 4-5 4-4 4-2 4-6 4-3 4 2 4 2 4-1 4 1 4-3 4 3 4-1 4-1 4-3 4-2 4 1 4-1 4 0 4-4 4-1 4-2 4-8 4-1 4 1 4-2 4 1 4-1 4-1 4-1 4-8 4-9 4-2 4 0 4-3 4 0 4 1 4 1 4 0 4-3 4-2 4 4 4-1 4 0 4 2 4 0 4 0 4-3 4-2 4-3 4 1 4 0 4-1 4 3 4 0 4-1 4 0 4-3 4-3 4-1 4-2 4-2 4-2 4 0 4 1 4-10 4-6 4-1 4-1 4-1 4-1 4-1 4-2 4 1 4 1 4-2 4-1 4-5 4-4 4-5 4-2 4-3 4-1 4-1 4 0 4-3 4 1 4 0 4-3 4-1 4-1 4 1 4-10 4-4 4-5 4-2 4-6 4-2 4-1 4-1 4-2 4-1 4-2 4 0 4 2 4-1 4 1 4 1 4 0 4-4 4 1 4-2 4-2 4-2 4-2 4-4 4-1 4-3 4-4 4-1 4-2 4 0 4 0 4-2 4-1 4-4 4 0 4 1 4 0 4-1 4-1 4-1 4-1 4 0 4 2 4-7 4-1 4-2 4 4 4-3 4 2 4-3 4-1 4-2 4 0 4-2 4 0 4-1 4 0 4-2 4 1 4-2 4 0 4-2 4-1 4 0 4-1 4-1 4-1M2558 1127l4 3 4 0 4 0 4 0 4-1 4 0 4-5 4-2 4 2 4-1 4-3 4-1 4 1 4 0 4 3 4 1 4-1 4-5 4-8 4-7 4 0 4-4 4-1 4-1 4 0 4-1 4-2 4-2 4-1 4 1 4 0 4-1 4-1 4-2 4-3 4 2 4-4 4-2 4-1 4 1 4 0 4 2 4-3 4-2 4-2 4-3 4-1 4 0 4 1 4 1 4-1 4-3 4-2 4-1 4-2 4-3 4-4 4 0 4-1 4-2 4-1 4 2 4-1 4-2 4-1 4 2 4-1 4-1 4 0 4-2 4-6 4-4 4 1 4-5 4 1 4-6 4-6 4 0 4 1 4-3 4-4 4-10 4 2 4-3 4 1 4 0 4-1 4 3 4 5 4-7 4-5 4-5 4-4 4-4 4-2 4 1 4-2 4-1 4-1 4 0 4-3 4-5 4-6 4-3 4-3 4 0 4-1 4-3 4-5 4-4 4-4 4 2 4 3 4 3 4-2 4-3 4-2 4-3 4-2 4 0 4-4 4-3 4-2 4 3 4-2 4-1 4-7 4-7 4 0 4-1 4-2 4-3 4 1 4-1 4 1 4 2 4-6 4-4 4-2 4 0 4 2 4-5 4-3 4-2 4-1 4-14 4-4 4 2 4-2 4 1 4-2 4-1 4-1 4 0 4-4 4 0 4 0 4-2 4-1 4-2 4 1 4 0 4 1 4 0 4-1 4-3 4-1 4-4 4-5 4-4 4-4 4-4 4-1 4-2 4-3 4-3 4 1 4-2 4 1 4-3 4-1 4-1 4-6 4-1 4 0 4-2 4 0 4-3 4 1 4-1 4 0 4-5 4-3 4 0 4-3 4-1 4 0 4-5 4-2 4 0 4-3 4 0 4-2 4-2 4-2 4-3 4-3 4 0 4-2 4 0 4 14 4-7 4-4 4-4 4-5 4-1 4 1 4 0 4-5 4-6 4-1 4-2 4 0 4-1 4-4 4-2 4-1 4-4 4-6 4 2 4-2 4 2 4 0 4-1 4-3 4-2 4-2 4-5 4-1 4-2 4 0 4-1 4 1 4 0 4 0 4-5 4-1 4 0 4-1 4-1 4-4 4 2 4-1 4 0 4-3M3582 689l4-1 4 2 4-1 4 0 4-1 4 3 4-2 4 0 4 0 4-1 4 10 4 3 4-1 4 0 4-3 4 1 4-3 4-2 4 2 4-2 4 0 4 0 4-2 4-2 4 1 4-3 4 0 4-6 4-4 4-1 4 1 4-1 4-1 4 0 4-2"/>
<path stroke="#e69f00" stroke-width="4.4" d="M2586 1030l4-4 4 1 4-2 4-1 4 2 4-1 4-1 4 4 4 1 4-1 4-6 4-8 4-5 4-2 4-2 4-1 4 1 4-4 4 0 4 0 4-2 4-1 4 0 4 1 4 0 4-2 4 0 4-1 4-2 4-5 4 1 4-2 4 1 4 2 4 0 4-4 4 0 4-3 4-2 4-3 4-1 4 2 4 3 4-4 4-1 4-2 4-3 4-1 4-2 4-3 4 2 4-2 4-1 4 0 4-1 4-1 4 0 4-3 4 4 4-2 4-1 4-2 4-1 4-4 4-1 4-2 4-3 4-3 4-6 4-4 4 1 4 0 4-3 4-1 4-12 4 1 4-3 4 1 4 1 4-1 4 2 4 4 4-6 4-7 4-4 4-3 4-3 4-3 4 1 4-2 4 1 4-3 4 0 4-4 4-2 4-4 4-6 4-2 4 0 4-2 4-3 4-3 4-8 4-2 4-1 4 2 4 6 4-2 4-3 4-2 4-1 4-2 4-3 4-1 4-2 4-3 4 0 4-1 4-1 4-7 4-4 4-1 4-4 4 1 4-3 4 0 4 0 4 1 4-2 4-4 4-4 4 0 4 1 4 0 4-7 4-2 4-1 4 0 4-14 4-2 4-4 4 2 4 0 4-1 4-1 4-1 4 0 4-3 4-3 4-1 4-1 4-2 4 2 4 1 4 0 4 2 4-1 4-4 4 0 4-2 4-3 4-6 4-6 4-1 4-6 4-2 4-1 4-5 4-3 4 0 4 0 4 0 4 0 4-3 4-1 4-9 4 1 4-1 4 1 4-2 4-1 4 2 4 0 4 1 4-3 4-5 4-4 4-4 4-1 4 0 4-2 4-1 4 1 4-3 4-2 4-1 4 2 4-6 4 0 4-2 4 1 4-1 4-2 4 12 4-3 4-1 4-6 4-3 4 0 4 0 4-2 4-2 4-6 4-1 4 0 4 0 4-1 4-3 4-3 4-3 4-1 4-7 4 0 4-1 4 0 4 1 4-2 4-2 4-2 4-3 4-4 4-3 4-2 4 1 4-1 4-2 4 1 4-1 4-3 4-6 4-4 4-3 4-4 4-4 4-1 4-1 4-4 4 0M3582 604l4 1 4-1 4 3 4-1 4 0 4 1 4 0 4-1 4 3 4-3 4 14 4 1 4-3 4 2 4-4 4 1 4 0 4 0 4-2 4-2 4 0 4 0 4-1 4-3 4 1 4-1 4-2 4-6 4-2 4-3 4 3 4-2 4-2 4 1 4-1 4-9 4 0 4-1 4 0 4-1 4-2 4 0 4 2 4-3 4-8 4-4 4 0 4-2 4 3 4 0 4-3 4-2 4-1 4-2 4 1 4-4 4-2 4-1 4 1 4-1 4 2 4 2 4-2 4-3 4-6 4-1 4-1 4-1 4 1 4-5 4 0 4-7 4 2 4 0 4 1 4-4 4-5 4-1 4 2 4-1 4-2 4 0 4-4 4-2 4-5 4-2 4 0 4-2 4-5 4-2 4-1 4-2 4-1 4-2 4-3 4 2 4 4 4-4 4-4 4-3 4-3 4-2 4-1 4-3 4-2 4 1 4-2 4 0 4 0 4 2 4 1 4 0 4 0 4 0 4 1 4 0 4-1"/>
<path stroke="#0072b2" stroke-width="5.0" d="M214 1819l4-1 4 0 4 1 4 2 4-2 4 2 4-3 4 0 4 2 4-2 4 0 4-1 4-1 4-1 4 2 4-6 4-2 4-1 4-1 4-1 4 2 4-2 4 0 4 1 4-2 4-4 4-3 4-2 4-2 4-2 4-1 4 2 4-1 4-3 4 0 4-1 4-2 4 0 4 0 4-1 4 2 4-4 4 4 4 2 4-1 4-4 4-1 4-4 4 0 4-4 4 1 4-1 4-2 4 0 4 0 4-1 4-2 4 3 4-1 4-1 4 0 4-1 4 0 4 0 4-1 4-1 4-2 4 0 4 1 4-5 4 1 4-3 4-4 4-5 4 1 4 2 4-1 4 0 4 3 4-1 4-2 4-1 4-2 4-4 4 2 4 0 4 1 4-3 4-2 4-2 4-7 4-4 4-1 4 0 4 2 4-2 4-2 4 1 4 0 4 0 4-3 4 0 4-2 4 1 4-2 4 0 4-4 4-5 4 0 4-2 4 2 4-1 4 1 4-2 4 2 4 0 4-4 4 1 4 0 4-4 4 4 4 1 4-2 4 2 4-1 4 0 4-1 4 0 4 1 4 1 4 0 4-4 4 1 4-4 4-2 4-3 4-1 4-6 4-2 4 0 4 2 4-1 4 2 4-1 4-2 4-3 4 3 4 5 4-6 4 0 4-4 4 1 4 1 4-5 4-8 4 0 4 1 4 4 4 1 4-2 4-1 4-1 4-2 4-3 4 2 4-2 4-1 4 0 4-2 4 0 4 0M902 1689l4 8 4-4 4-2 4-1 4-1 4 1 4-3 4 0 4 0 4 1 4-4 4 1 4-1 4-1 4 3 4-4 4-1 4-1 4 0 4 0 4-1 4 0 4 0 4 2 4-3 4 2 4-3 4-11 4 4 4 0 4 0 4 1 4 1 4-2 4-2 4-1 4 1 4-2 4 0 4-1 4-2 4 1 4 0 4-3 4 0 4 1 4-2 4 1 4-1 4-3 4 3 4-1 4-2 4 0 4-5 4-4 4-1 4-2 4-2 4-3 4-3 4 0 4 3 4-2 4-3 4 1 4-1 4-3 4 0 4 2 4-3 4-1 4-1 4-7 4 1 4 1 4 1 4-1 4 2 4 1 4 0 4-2 4-3 4-1 4 1 4-4 4-2 4 1 4-3 4-3 4 2 4-3 4-4 4-2 4-12 4 1 4-1 4 1 4-1 4 4 4 1 4 0 4-2 4-1 4-2 4 0 4-10 4 3 4 1 4 1 4 2 4 0 4 0 4-1 4-2 4 1 4-2 4 0 4 1 4 2 4-3 4 1 4-3 4-2 4-2 4 0 4 0 4-4 4 1 4-5 4-5 4-1 4 1 4-2 4 1 4-2 4-1 4-3 4-2 4-4 4 1 4-2 4-3 4 1 4-1 4-1 4-1 4-2 4 1 4-3 4 1 4-2 4 0 4 1 4 2 4 1 4 1 4-3 4-1 4-2 4 0 4-3 4 0 4-2 4-3 4-2 4-2 4 0 4-3 4-1 4 3 4-2 4-1 4 1 4-4 4-7 4-2 4-5 4 1 4 1 4-1 4-1 4 0 4-2 4-5 4 0 4 2 4 0 4-3 4 1 4-2 4-3 4-5 4-2 4-4 4-3 4 0 4-6 4-2 4-3 4-4 4-2 4-2 4-1 4 0 4-7 4-1 4 3 4 4 4 1 4 1 4-2 4-2 4-3 4 0 4-1 4 0 4-3 4 1 4-1 4-4 4-2 4-1 4-2 4-1 4 0 4-1 4-2 4-1 4 0 4 0 4 13 4-5 4 1 4-3 4 1 4-3 4-3 4-1 4-1 4-3 4 2 4 3 4 0 4 0 4-1 4 4 4-2 4 2 4-1 4-2 4 1 4-3 4 0 4 0 4-3 4-6 4-1 4-8 4-1 4 0 4 3 4 1 4-2 4 0 4 3 4-2 4 1 4-2 4-3 4 1 4-1 4-3 4-4 4-1 4-2 4-7 4 0 4-2 4 1 4-1 4 1 4 0 4-2 4-7 4-3 4-2 4-1 4-4 4 0 4 0 4 2 4 2 4-3 4 1 4 0 4-1 4 1 4 2 4-2 4-3 4 1 4-4 4 0 4-2 4 2 4-1 4 1 4 1 4-1 4-1 4-2 4-3 4-2 4-2 4 0 4-2 4-2 4 1"/>
<path stroke="#e69f00" stroke-width="3.8" d="M1826 1523l4 13 4-4 4-2 4 0 4-3 4-1 4 1 4-4 4 0 4-1 4-2 4 1 4 2 4 1 4-1 4 3 4 0 4 1 4-2 4 0 4-2 4-1 4-1 4 3 4-7 4-5 4-2 4-3 4-3 4-1 4 3 4 2 4-2 4 2 4 2 4-1 4-2 4-4 4 0 4 0 4 1 4-5 4-2 4-2 4-1 4-5 4-3 4-1 4 1 4-1 4 0 4 1 4-3 4-8 4-3 4 0"/>
<path stroke="#f0e442" stroke-width="3.6" d="M2594 1155l4-3 4-1 4 1 4-3 4-2 4 8 4 1 4 1 4-4 4-12 4 0 4-6 4-6 4 2 4 3 4-5 4-1 4-2 4-1 4 3 4-3 4 0 4-2 4 0 4-2 4-1 4-1 4-2 4-1 4-1 4 4 4-5 4 2 4-2 4-6 4-1 4-1 4-1 4 0 4 4 4 0 4-3 4-3 4-1 4-3 4-1 4-2 4-4 4 2 4-5 4 0 4 2 4 0 4-1 4-2 4-4 4 5 4-3 4-3 4 1 4-2 4-3 4-1 4-2 4-6 4-1 4-5 4-5 4 0 4-1 4-2 4 3 4-13 4-1 4-2 4 0 4 1 4 1 4 1 4 4 4-4 4-5 4-7 4-5 4-3 4-3 4 1 4-1 4-1 4 0 4-1 4-2 4-5 4-3 4-9 4-2 4 0 4-1 4-4 4-3 4-3 4-3 4 1 4 4 4-2 4 1 4-5 4-1 4 0 4-4 4-1 4-2 4-3 4-2 4 2 4-4 4-1 4-4 4-6 4-2 4-2 4 1 4-2 4 1 4-3 4 1 4-2 4-3 4-3 4 1 4-1 4-2 4-4 4-4 4 2 4 0"/>
<path stroke="#9400d3" stroke-width="5.0" d="M3582 722l4-2 4-2 4 3 4-1 4 0 4 0 4-2 4 1 4 2 4-2 4 11 4 1 4-2 4 1 4-1 4-2 4 0 4-1 4-2 4-1 4 0 4-1 4 2 4-3 4 0 4-2 4-1 4-7 4 1 4-3 4 0 4-1 4-1 4-3 4 2 4-6 4-2 4-3 4 1 4 0 4-1 4-1 4 0 4-4 4-4 4-3 4 0 4-3 4 1 4 0 4-1 4-1 4-1 4-3 4 0 4-3 4 0 4-3 4 1 4 1 4-1 4 1 4-1 4-3 4-5 4 1 4-4 4 3 4-2 4-3 4-2 4-5 4 0 4 3 4 1 4-4 4-5 4 0 4 2 4-4 4 1 4-2 4-2 4-3 4-5 4-1 4 0 4-4 4-2 4-1 4-3 4-3 4 1 4-4 4-4 4 5 4 2 4-2 4-4 4 14 4-6 4-2 4-2 4-2 4 2 4-2 4-1 4-1 4 0 4 1 4 3 4 0 4 1 4-1 4 2 4-1 4 1"/>
<path stroke="#000000" stroke-width="3.6" d="M2390 1241l4-2 4-2 4 1 4 0 4-4 4-1 4 3 4-6 4 1 4-1 4 0 4 1 4-2 4 0 4-2 4-1 4 2 4-5 4-1 4-1 4 0 4 1 4-5 4 0 4 0 4-2 4-1 4-1 4-3 4 0 4 1 4 0 4-1 4 0 4-3 4-2 4 2 4 0 4-1 4-4 4 0M2558 1172l4 5 4-4 4 4 4-2 4-1 4 6 4-8 4-7 4 1 4-4 4 2 4-1 4-1 4-3 4 3 4 4 4 0 4-7 4-7 4-6 4-1 4-5 4 0 4-1 4-2 4 1 4 0 4-4 4 1 4 0 4 0 4-4 4 0 4 1 4 0 4-2 4-3 4-5 4 0 4 1 4 2 4 0 4-3 4-2 4-5 4 3 4-6 4 1 4 0 4 3 4 1 4 0 4-4 4-3 4-1 4-1 4-3 4-2 4 2 4-5 4 2 4 0 4-3 4 0 4 1 4-1 4 0 4 0 4-1 4-3 4-6 4-2 4 1 4-8 4 1 4-3 4-7 4-1 4 1 4-2 4-3 4-9 4 0 4-1 4-2 4 3 4-1 4 3 4 3 4-3 4-10 4-4 4-3 4-5 4-1 4 3 4-5 4-2 4 3 4 0 4-5 4-7 4-5 4-2 4-1 4 0 4-4 4-3 4-2 4-6 4-3 4 1 4 0 4 4 4 0 4 0 4-5 4-2 4-3 4 2 4-5 4-3 4 0 4-2 4 0 4-3 4-5 4-7 4 0 4 0 4-3 4 0 4-1 4 0 4 0 4 0 4-5 4-3 4 0 4-1 4 0 4-6 4-2 4 0 4 0M3142 933l4 0 4-1 4-2 4 0 4-1 4-1 4-3 4 0 4-3 4 2 4-2 4-1 4-3 4-5 4 5 4 0 4 4 4-1 4-6 4 0 4 0 4-6 4-5 4-5 4-2 4-3 4-2 4-3 4-3 4-1 4 0 4-1 4 1 4-5 4 0 4-1 4-6 4-3 4 2 4-3 4-2 4 2 4-1 4 2 4-3 4-3 4-3 4-7 4-5 4 1 4 0 4-6 4-1 4 1 4-2 4 0 4-1 4-2 4-5 4-4 4 0 4 0 4-5 4 1 4 11 4-4 4-2 4-5 4-5 4-1 4 1 4 1 4-5 4-8 4 1 4-1 4 0 4-4 4-1 4-3 4-3 4-3 4-5 4 1 4-2 4 2 4 0 4-1 4-3 4-1 4-3 4-4 4-2 4-8 4 6 4 0 4-1 4-1 4 0 4 1 4-5 4-2 4 3 4-1 4-5 4 2 4-1 4-3 4 3M3582 735l4 1 4 0 4 1 4-2 4 2 4 0 4 0 4-3 4 5 4-1 4 9 4 0 4 0 4 1 4-2 4 0 4-1 4-1 4-1 4-4 4 2 4-1 4-3 4 2 4-1 4-2 4-2 4-6 4 2 4-5 4-3 4 3 4-3 4 0 4 3 4-7 4-6 4 4 4-3 4-2 4-2 4 1 4 1 4 1 4-8 4-2 4-2 4-1 4-3 4 3 4 1 4-4 4-2 4 0 4-3 4-1 4-2 4-4 4 3 4-2 4 1 4 4 4-3 4-1 4-6 4-1 4-3 4 2 4 1 4-5 4-2 4-2 4 0 4 1 4 0 4-7 4-1 4 0 4 0 4-3 4-1 4-4 4-1 4-1 4-4 4-1 4-1 4-5 4-2 4-3 4 0 4-2 4 0 4-1 4-1 4-2 4 1 4 1 4-4 4-3 4-4 4 1 4-5 4-2 4-2 4 4 4-2 4-1 4-1 4 2 4-1 4 3 4-1 4 4 4-1 4-3 4 1"/>
<path stroke="#e51e10" stroke-width="5.0" d="M2562 1171l4-2 4 2 4-2 4 0 4 0 4-2 4-7 4-1 4-1 4 1 4 0 4 1 4-4 4 6 4-2 4-1 4-5 4-5 4-5 4-3 4-1 4-1 4-2 4-4 4 3 4-3 4 0 4-2 4-2 4 2 4 0 4-2 4 0 4-2 4-3 4-2 4-1 4-1 4 3 4 0 4-2 4-4 4 2 4-3 4-3 4-3 4 0 4 3 4 2 4-4 4-3 4-1 4-1 4-2 4-3 4-2 4-1 4-1 4-2 4 0 4 2 4-2 4-1 4-2 4 3 4-2 4-2 4 0 4-3 4-2 4-4 4-1 4-4 4-1 4-7 4-2 4-2 4 2 4-1 4-4 4-11 4-1 4 0 4-1 4 2 4-1 4 3 4 5 4-7 4-9 4-2 4-4 4-4 4-3 4 3 4-4 4-1 4 2 4 1 4-7 4-4 4-2 4-6 4-1 4-1 4-2 4-5 4-3 4-3 4-4 4 1 4 3 4 2 4 1 4-5 4-5 4 2 4-3 4-2 4-1 4-2 4-4 4 0 4 0 4 0 4-8 4-6 4 0 4-3 4 1 4-1 4-1 4-1 4 1 4-1 4-5 4-4 4 2 4-1 4-1 4-5 4-1 4-3 4 0M3142 927l4-3 4 1 4 0 4 0 4-2 4-1 4-1 4 0 4-2 4-1 4 0 4-4 4-1 4 2 4-1 4 1 4-1 4 1 4-3 4-1 4 0 4-5 4-6 4-4 4-12 4-5 4-3 4-4 4-1 4-3 4-2 4 1 4 0 4 0 4-2 4 1 4-10 4-1 4-2 4 2 4-3 4 0 4-1 4 2 4-1 4-5 4-7 4-5 4-2 4 0 4-2 4-5 4 1 4 2 4-3 4-2 4-4 4 0 4-3 4-3 4-2 4 1 4-2 4-3 4 12 4-2 4-4 4-7 4-4 4 3 4-2 4-1 4-4 4-5"/>
<path stroke="#e69f00" stroke-width="5.0" d="M330 1827l4-2 4 1 4 2 4-1 4-2 4-3 4-3 4 0 4 0 4 1 4-1 4-1 4 1 4 3 4 2 4-3 4 1 4-7 4-4 4 2 4-3 4-1 4-2 4 1 4-1 4 2 4-2 4 0 4 1 4-1 4 0 4-1 4 0 4-3 4-1 4 3 4-4 4 1 4-2 4 1 4-2 4-3 4-2 4-6 4-5 4 0 4 4 4-1 4 2 4 1 4 0 4-3 4 0 4-4 4-3 4 3 4-2 4 1 4-3 4-1 4-2 4-5 4-6 4-2 4 0 4-1 4 2 4-2 4 1 4 1 4 0 4-1 4-1 4-2 4-1 4 0 4-4 4-2 4-7 4 1 4 0 4 1 4-2 4 2 4-1 4 0 4 2 4-5 4 2 4-2 4 0 4 1 4 1 4-1 4 0 4-1 4 1 4-1 4 0 4 0 4 1 4-1 4-1 4-2 4-1 4-1 4-3 4-5 4-3 4-2 4-1 4 3 4 0 4 0 4-1 4-2 4-2 4 2 4 3 4-2 4-3 4-1 4 0 4-5 4-2 4-3 4-3 4 3 4 0 4 0 4 0 4-2 4-1 4 0 4 0 4-2 4-2 4-2 4 0 4 0 4-1 4 0M902 1721l4 9 4-3 4-4 4 0 4-2 4 2 4-2 4-2 4-2 4 1 4-1 4 1 4 0 4-2 4-2 4 1 4-1 4 0 4 0 4-4 4 0 4 2 4-4 4 3 4-1 4 0 4 0 4-11 4 3 4-1 4 3 4 2 4-1 4-1 4-1 4-1 4 0 4-3 4 1 4 0 4 0 4 1 4-3 4-2 4-1 4 0 4-1 4 0 4-1 4 0 4 2 4-1 4 0 4-3 4-4 4-3 4 0 4-5 4-4 4-1 4-1 4 0 4-1 4 1 4-1 4-1 4-3 4-1 4-1 4 2 4-2 4-2 4 0 4-4 4-3 4 5 4-1 4 2 4-2 4-1 4 1 4-4 4-1 4-1 4 0 4-1 4-3 4 0 4-2 4 0 4-2 4-2 4-4 4-4 4-9 4 0 4 1 4-1 4-1 4 5 4 0 4-1 4-3 4-1 4 1 4 0 4-7 4 1 4 1 4 0 4 3 4 0 4-2 4-4 4 0 4 3 4-1 4 3 4 0 4-1 4-4 4 2 4-1 4-3 4 1 4-2 4 0 4-3 4-5 4-3 4-3 4 0 4-1 4-1 4-2 4 3 4-1 4-4 4 0 4-6 4-1 4-1 4-2 4 2 4 0 4-3 4-3 4 1 4 0 4 0 4-1 4-3 4 0 4 2 4 1 4 2 4-2 4 1 4-4 4-1 4-2 4 1 4-2 4-3 4-2 4 0 4-2 4-2 4-3 4 2 4 0 4-1 4 0 4-1 4-3 4-8 4 0 4-2 4 0 4-2 4 2 4-1 4-4 4 0 4-2 4-1 4 1 4 1 4-1 4-2 4-2 4-5 4-2 4-1 4-4 4-6 4-1 4-4 4-2 4-4 4-3 4 0 4 0 4-3 4-3 4-6 4 1 4-1 4 5 4 4 4-1 4 0 4-3 4 0 4-1 4-3 4-1 4 0 4 0 4-3 4-2 4-1 4-1 4-2 4-2 4 0 4-2 4-1 4-2 4-1 4 1 4 13 4-3 4-1 4-1 4-3 4 1 4-2 4-3 4-5 4 2 4 2 4-1 4 2 4-1 4 3 4 2 4-2 4 2 4-1 4 0 4-1 4-3 4 0 4 0 4-4 4-5 4-1 4-3 4-5 4 0 4 2 4 2 4-4 4 3 4 1 4-3 4 0 4-1 4-3 4 1 4-3 4-1 4-2 4 1 4-3 4-12 4-1 4-2 4 1 4 1 4-2 4 0 4 1 4-11 4-4 4-2 4 0 4-3 4-1 4-1 4 1 4 1 4 2 4-4 4 2 4-1 4 0 4 2 4-2 4-2 4-1 4 1 4-4 4 2 4-2 4 2 4-1 4 1 4 2 4-1 4-4 4-2 4-4 4 0 4-4 4 1 4-2 4-1 4-4 4-8 4-2 4 2 4-3 4-2 4-1 4 1 4 0 4 0 4-1 4-2 4-6 4-3 4-2 4-4 4-1 4-1 4-2 4-1 4 1 4-1 4 0 4-3 4 0 4-2 4 1 4-11 4-4 4-5 4-3 4-3 4 0 4-1 4-3 4 0 4-2 4-3 4 0 4 0 4 2 4 2 4 0 4-1 4-4 4 0 4-4 4 1 4-1 4-2 4-6 4 0 4-2 4-1 4-3 4-3 4 0 4-1 4-1 4 0 4-2 4-1 4 1 4-2 4 1 4-1 4-3 4 1 4-2 4-1 4-3 4 0 4 0 4-2 4 1 4 0 4-1 4-1 4-2 4-3 4 1 4 1 4 0 4-2 4-2 4 1 4-3 4 1 4-2 4 0 4 1 4-3 4-2 4 0M2558 1236l4 6 4 0 4 2 4-3 4 2 4-1 4-5 4-4 4-1 4 0 4-1 4 2 4-3 4 2 4 0 4 1 4-1 4-2 4-7M2638 1206l4-1 4-3 4-1 4 1 4-3 4 1 4-2 4-1 4-3 4 0 4 0 4 3 4-5 4-1 4 1 4-4 4-3 4-1 4 0 4 3 4 1 4 0 4-6 4-1 4-3 4-1 4-3 4 2 4 2 4 2 4-5 4 0 4-4 4 1 4-4 4-2 4-3 4-2 4 2 4-1 4-2 4 2 4 1 4-1 4-4 4 2 4-1 4-3 4 1 4 0 4-6 4-1 4-1 4-5 4 2 4-6 4-6 4-1 4 0 4-1 4-1 4-12 4-1 4 1 4-1 4 1 4 1 4 0 4 5 4-8 4-4 4-6 4-2 4-5 4-1 4 0 4 0 4-2 4-1 4 4 4-7 4-3 4-4 4-6 4-2 4-1 4-1 4-4 4-5 4-6 4-3 4 0 4 2 4 3 4 0 4-4 4-4 4 0 4-2 4-2 4-2 4 1 4-4 4-1 4 0 4 1 4-8 4-8 4 1 4-1 4 0 4-3 4-1 4 1 4-1 4-1 4-2 4-4 4-2 4 0 4 0 4-5 4-1 4 0 4-2M3142 994l4-1 4-2 4 4 4-3 4 0 4-1 4-1 4-2 4-3 4 0 4 0 4-4 4-1 4 0 4 1 4 2 4 1 4 0 4-4 4-2 4-2 4-1 4-5 4-5"/>
<path stroke="#000000" stroke-width="4.0" d="M2886 1054l4 2 4-1 4-2 4 1 4-1 4 4 4 4 4-5 4-7 4-4 4-2 4-6 4-1 4-1 4-2 4 0 4 0 4 0 4-6 4-3 4-5 4-6 4 0 4-3 4 0 4-6 4-11 4-6 4-1 4 0 4 4 4 2 4-2 4-3 4-2 4-2 4 0 4-3 4 1 4-4 4-3 4-3 4 0 4-2 4-3 4-6 4-1 4-2 4-2 4 1 4-1 4 0 4 2 4-4 4-5 4-3 4 1 4-1 4 0 4-5 4-2 4-1 4-1 4-14 4-3 4 0 4-1 4 1 4 0 4-2 4-2 4-2 4 0 4 0 4-5 4-1 4 0 4-1 4-2 4 4 4 2 4 1 4-5 4 1 4-3 4-4 4-4 4-7 4-2 4 0 4-4 4-4 4-1 4-2 4-1 4 0 4 0 4-3 4 1 4-3 4-9 4 0 4-1 4 2 4-2 4 1 4-2 4 0 4-1 4-3 4-6 4-6 4-2 4-1 4 1 4-7 4 0 4-1 4-2 4-2 4-1 4 2 4-6 4-3 4-2 4 1 4-1 4 0 4 9 4-5 4-3 4-5 4-3 4 1 4-2 4 0 4-5 4-5 4-2 4 0 4-3 4 0 4-3 4-3 4-2 4-3 4-1 4-2 4-2 4 2 4 0 4-2 4-4 4 1 4-3 4-2 4-3 4-3 4 2 4-1 4 0 4-4 4 2 4 0 4-2 4-1 4 0 4-3 4-1 4 0 4-1 4-1 4-2M3582 731l4-2 4-2 4 3 4-3 4 1 4 1 4 1 4 0 4 0 4 0 4 9 4 1 4 0 4-1 4-3 4 2 4-1 4-1 4-2 4 0 4-3 4 1 4 0 4-1 4 0 4-3 4 1 4-9 4-2 4-2 4 4 4-2 4 0 4-2 4 0 4-8 4-2 4 1 4-1 4-1 4-1 4 1 4-2 4-3 4-4 4-3 4 0 4-3 4 0 4 2 4-1 4 0 4-4 4-1 4-1 4-1 4-3 4-2 4 1 4 0 4 3 4 0 4-3 4-1 4-6 4 0 4 0 4-2 4 0 4-3 4-2 4-2 4-1 4 1 4 3 4-6 4-4 4-1 4 1 4-2 4-1 4-3 4-3 4-2 4-5 4 0 4 0 4-3 4-4 4-2 4 1 4 1 4-4 4-1 4-3 4 1 4 4 4-5 4-4 4-1 4-3 4-4 4-1 4 1 4-3 4 2 4-3 4-1 4 3 4 1 4 0 4 0 4 0 4 2 4 0 4-2 4 2"/>
<path stroke="#9400d3" stroke-width="4.4" d="M2594 1131l4-1 4 2 4-3 4 0 4 1 4 2 4-1 4-1 4-5 4-5 4-4 4-3 4-4 4 0 4 0 4 1 4-4 4-2 4-1 4-1 4 0 4 2 4-2 4-1 4-1 4-2 4-2 4-2 4-2 4-2 4 4 4 1 4-2 4-3 4-2 4-2 4-3 4-2 4 2 4 2 4-1 4-6 4-1 4-4 4-1 4-2 4-3 4-2 4 1 4-1 4-3 4 0 4 0 4 1 4-3 4-3 4 5 4-3 4 1 4-1 4-3 4-2 4-4 4-3 4-4 4-1 4-5 4-3 4-1 4-1 4-5 4-1 4-9 4-1 4 1 4-2 4 1 4-2 4 3 4 4 4-6 4-5 4-4 4-3 4-5 4-3 4 1 4-2 4-2 4 2 4-1 4-3 4-5 4-4 4-8 4 1 4-1 4 0 4-4 4-3 4-7 4-1 4 0 4 4 4 2 4-3 4-5 4-1 4 0 4-2 4-2 4-4 4-3 4 0 4 1 4-2 4-2 4-3 4-8 4-1 4-2 4 1 4-3 4 0 4-1 4 0 4 0 4-5 4-4 4-1 4 2 4-1 4-5 4-2 4-2 4 0 4-14 4-2 4 0 4-1 4 0 4-3 4 0 4-1 4-1 4-4 4 2 4-3 4-2 4 0 4-1 4 1 4-2 4 2 4 0 4-4 4-1 4 0 4-4 4-2 4-5 4-3 4-5 4-3 4 0 4-6 4-1 4-1 4 1 4-1 4 1 4-4 4-1 4-5 4-2 4 0 4-2 4 0 4-3 4-1 4 1 4 1 4-1 4-8 4-8 4-1 4-3 4 0 4-4 4 0 4-1 4-3 4-1 4-1 4 0 4-4 4-5 4-1 4 1 4-2 4-1 4 11 4-6 4-1 4-6 4-3 4-1 4 1 4-2 4-4 4-5 4-1 4-2 4-2 4-1 4 0 4-4 4-6 4-1 4-4 4 4 4-4 4 0 4 1 4-2 4-3 4-2 4 0 4-3 4-4 4-1 4 0 4-2 4 1 4-2 4 0 4 0 4-2 4 0 4-2 4-1 4-1 4 0 4-1 4-3 4 3M3582 703l4 1 4-3 4 1 4 0 4-1 4 2 4-2 4 2 4 0 4 0 4 9 4 2 4-1 4 1 4-3 4 0 4-1 4-1 4-1 4-1 4 0 4 0 4-1 4-1 4-2 4-2 4 0 4-7 4-1 4-1 4 0 4-3 4 0 4 2 4-1 4-8 4-2 4 1 4-3 4 2 4-3 4-1 4-1 4 1 4-8 4-4 4 2 4-2 4 0 4 1 4-1 4-2 4-2 4-1 4 1 4-6 4-2 4 0 4-2 4 1 4 2 4 2 4-2 4-2 4-8 4 0 4-1 4-2 4 0 4 0 4-3 4-4 4 0 4 1 4 2 4-5 4-3 4-1 4 0 4 1 4-1 4-2 4-5 4-1 4-1 4-2 4-1 4-5 4-2 4-1 4 0 4-2 4-5 4 1 4-3 4 1 4 4 4-3 4-2 4-2 4-5 4-2 4-1 4-1 4-1 4-1 4-1 4-1 4 2 4 2 4-1 4 1 4 0 4 0 4 3 4-2 4 3"/>
<path stroke="#0072b2" stroke-width="4.0" d="M3246 956l4 2 4-3 4-5 4-1 4 1 4 2 4-2 4-4 4 1 4 1 4-7 4-3 4-1 4 0 4 0 4-5 4 3 4-1 4 0 4-4 4-5 4-6 4-2 4-3 4-3 4 0 4-2 4 3 4-5 4 2 4-3 4-1 4-2 4-5 4-4 4 2 4-1 4-3 4 11 4-2 4-2 4-9 4-2 4-2 4 3 4-2 4-4 4-6 4-2 4 2 4-5 4-1 4 1 4-4 4-5 4 1 4-7 4 3 4-3 4 2 4 0 4 0 4-5 4-2 4-2 4-1 4-4 4-4 4 3 4 0 4 0 4 0 4-4 4 0 4 0 4-2 4 1 4-1 4-2 4-2 4-1 4 2 4 2M3582 812l4-6 4-1 4 0 4 2 4 0 4 0 4-1 4 0 4 0 4 0 4 9 4 3 4 0 4-1 4-1 4 1 4-1 4-1 4-3 4 0 4-1 4-2 4 2 4-3 4-1 4-3 4 2 4-7 4-1 4-3 4 3 4-3 4 2 4-4 4-1 4-3 4-4 4 0 4-1 4 0 4-1 4-1 4 0 4-1 4-8 4-3 4 1 4-1 4-1 4 4 4-5 4 1 4-1 4-5 4-8 4-1 4-3 4-2 4 3 4-2 4 2 4 0 4 2 4-6 4-2 4-3 4-2 4 0 4-1 4-1 4-2 4-5 4-1 4 3 4 3 4-6 4-5 4 3 4 0 4 0 4-2 4-2 4-3 4-2 4-4 4-2 4-3 4-4 4 0 4-3 4 0 4-1 4 0 4-3 4-1 4-1 4 1 4 1 4-4 4-8 4-2 4-1 4-1 4-3 4-1 4-1 4-1 4 2 4-2 4 1 4 3 4 1 4-1 4-1 4 1 4 0 4 1"/>
<path stroke="#e69f00" stroke-width="3.6" d="M582 1701l4-4 4 3 4-2 4 3 4-3 4 1 4 0 4-1 4 5 4-2 4-1 4-4 4 0 4-3 4-4 4-8 4 5 4-2 4 1 4 1 4 2 4-3 4 1 4-2 4-2 4 1 4-7 4 3 4 4 4-2 4 0 4 3 4-5 4 3 4-2 4 1 4 1 4-6 4 6 4 1 4-3 4-2 4-6"/>
<path stroke="#000000" stroke-width="4.4" d="M3246 967l4-2 4-3 4-1 4-4 4 1 4-3 4 1 4 1 4-3 4 1 4-9 4-3 4 1 4 0 4-1 4-2 4 3 4-4 4 0 4 0 4-10 4-3 4-4 4-3 4 4 4-3 4-2 4 0 4-4 4-2 4-1 4-1 4-3 4-2 4-4 4 1 4 0 4-5 4 14 4-6 4-1 4-7 4-4 4-1 4 0 4 2 4-9 4-4"/>
<path stroke="#e69f00" stroke-width="4.4" d="M3630 787l4-2 4-1 4-2 4 0 4 0 4-5 4 1 4 0 4-3 4 1 4 2 4-1 4-1 4-2 4 1 4-8 4-1 4-5 4 1 4 1 4-2 4 0 4 2 4-9 4-5 4 2 4 0 4 0 4-1 4-2 4 0 4-1 4-8 4-4 4 1 4-2 4 1 4 2 4-1 4-3 4-1 4-2 4 3 4-6 4 0 4-6 4 3 4-1 4 4 4 1 4 0 4-3 4-6 4-2 4-1 4 0 4-2 4-3 4-3 4-1 4 0 4 0 4 0 4-1 4-6 4 1 4-1 4-1 4 0 4-1 4-3 4-5 4 0 4-3 4-2 4-2 4-3 4-2 4 0 4-4 4 0 4-4 4 2 4-3 4 5 4 0 4-3 4-4 4-5 4-2 4-3 4 0 4-1 4 1 4-2 4 0 4-2 4 3 4 1 4 2 4 0 4 0 4 2 4 1 4 0"/>
<path stroke="#000000" stroke-width="3.6" d="M1126 1688l4-1 4-3 4-2 4-1 4-4 4-1 4-1 4 0 4 2 4-2 4 1 4-5 4 0 4 2 4-3 4-1 4 0 4-6 4-7 4 7 4 1 4 1 4 2 4-4 4 5 4-3 4-2 4-2 4 1 4-3 4 1 4-3 4-3 4 1 4 0 4-6 4-2 4-4 4-6 4-4 4 3 4 0 4-3 4 4 4 5 4-2 4-3 4-2 4 1 4-7"/>
<path stroke="#9400d3" stroke-width="3.6" d="M2994 1075l4-6 4 0 4-1 4 5 4 1 4 0 4-5 4 0 4 0 4-3 4-5 4 1 4-2 4-4 4 1 4 2 4-5 4-7 4-3 4-1 4 0 4-1 4 1 4-5 4 2 4-1 4 0 4-3 4-7 4 0 4 1 4 0 4-4 4-2 4-3 4 1"/>
<path stroke="#009e73" stroke-width="4.4" d="M3446 837l4-1 4-4 4-7 4 2 4-2 4-5 4-1 4-5 4 3 4-2 4 3 4-1 4-2 4-6 4-1 4 0 4-6 4 0 4 0 4 3 4-7 4 1 4 2 4-1 4-6 4-2 4 1 4 0 4 1 4-1 4-2 4 4 4-4M3582 768l4 0 4-3 4-3 4 2 4 0 4 0 4 0 4 1 4-1 4-1 4 12 4 3 4-4 4-1 4-1 4 1 4-2 4 0 4-1 4-4 4-1 4 2 4-1 4-3 4 2 4-1 4-2 4-6 4 0 4-2 4 2 4-3 4-1 4-2 4 0 4-7 4-2 4 1 4-1 4-1 4 0 4-5 4 2 4-1 4-7 4-4 4 3 4-2 4 2 4-1 4 0 4-4 4 2 4-6 4 0 4-2 4-2 4-2 4-3 4 5 4 5 4 0 4-5 4-2 4-4 4 0 4-3 4-1 4 3 4-7 4-3 4-2 4 3 4-6 4 4 4-4 4-3 4 2 4 5 4-3 4-5 4-1 4-1 4 0 4-7 4 1 4-3 4-6 4-2 4 1 4 2 4-5 4-2 4-3 4-3 4-1 4 7 4-1 4-6"/>
<path stroke="#009e73" stroke-width="4.4" d="M214 1780l4-2 4-2 4 3 4 1 4-2 4 3 4-1 4-3 4 0 4 1 4 3 4-1 4-1 4 1 4-6 4-2 4-4 4-1 4-2 4 2 4 1 4-1 4 1 4-1 4-1 4-6 4-4 4 0 4-5 4 4 4-3 4 1 4 1 4-6 4 2 4-3 4-1 4-1 4-1 4 2 4-3 4 4 4 6 4 0 4-3 4-2 4-5 4-7 4 3 4-4 4 0 4-1 4-2 4 3 4-3 4 0 4 2 4 0 4-1 4-3 4 0 4-2 4-1 4 0 4 1 4-2 4-1 4 2 4-4 4 2 4-3 4-2 4-6 4-1 4-1 4 3 4-4 4 3 4 0 4 0 4-2 4-3 4-3 4-3 4 4 4-3 4 4 4-4 4-3 4-3 4-3 4-4 4-7 4 0 4 5 4 0 4-4 4 3 4-6 4 1 4 0 4-1 4-1 4 0 4-3 4 4 4-9 4-6 4 3 4 0 4 0 4-1 4 2 4 0 4-1 4-3 4-2 4 3 4 1 4-3 4 3 4-3 4 2 4 0 4-2 4 3 4-1 4-2 4-1 4 3 4-2 4-2 4 0 4 0 4-4 4-4 4-2 4-3 4-5 4 3 4 0 4 2 4 1 4-3 4-1 4-1 4 3 4 2 4-7 4 4 4-3 4-4 4 1 4-5 4-7 4 0 4 1 4 2 4 3 4-4 4 2 4-5 4 4 4-5 4 3 4-3 4 0 4 2 4-4 4 0 4-1M902 1645l4 11 4-2 4-4 4-3 4 3 4-2 4-4 4 0 4-1 4-1 4-3 4 4 4-3 4 0 4 0 4-3 4 4 4-5 4 2 4 0 4-2 4 4 4 0 4 0 4-4 4 2 4-2 4-8 4 1 4 2 4-5 4 7 4-3 4 0 4-2 4-2 4 1 4 0 4-1 4 1 4 0 4-2 4 1 4-4 4-5 4 1 4-1 4 3 4 0 4-2 4 7 4-6 4-1 4 0 4-8 4-1 4-1 4-3 4-8 4-1 4 3 4-3 4 3 4-2 4-4"/>
<path stroke="#e51e10" stroke-width="4.0" d="M214 1866l4-3 4-1 4 4 4 2 4 0 4-1 4 2 4-4 4 2 4 0 4-1 4 1 4-3 4 1 4-2 4-3 4-2 4-3 4 1 4 1 4 1 4-2 4 1 4-3 4 0 4-1 4-5 4-3 4-1 4-1 4-1 4 0 4-1 4-1 4-1 4-2 4-4 4-2 4 3 4-1 4 0 4 0 4 3 4 5 4-4 4-2 4-4 4-3 4-2 4-1 4 2 4-3 4 0 4-3 4 5 4-2 4-1 4 2 4-3 4 0 4 0 4-2 4 0 4 0 4-1 4-2 4 1 4-3 4 0 4-1 4 1 4-5 4-5 4-2 4-3 4 3 4 4 4-3 4-2 4 4 4-6 4 2 4-2 4-4 4 3 4-3 4 0 4-1 4-1 4-1 4-7 4-6 4-3 4 2 4 0 4 0 4-1 4-1 4 1 4 1 4 0 4-2 4-1 4-2 4 0 4 0 4-4 4-6 4 0 4-1 4 2 4-2 4 1 4-1 4 1 4-3 4-2 4 1 4 1 4 0 4-1 4-1 4 2 4 0 4 0 4-1 4-2 4 3 4 0 4-2 4-1 4 0 4-1 4 0 4-4"/>
<path stroke="#e51e10" stroke-width="4.4" d="M582 1772l4-2 4 1 4-2 4 3 4-1 4-3 4 1 4-6 4 4 4-2 4-2 4 1 4-1 4 2 4-4 4-11 4 2 4 4 4 0 4 0 4-3 4 1 4 2 4-4 4 0 4-3 4-3 4 0 4 6 4-1 4 1 4-1 4-2 4 1 4 2 4-5 4 1 4 2 4 3 4-4 4-6 4 3 4-2 4-2 4-4 4-3 4-4 4 4 4-5 4 3 4-1 4-1 4 1 4-6 4 5 4-1 4 0 4 0 4-2 4 0 4-3 4-4 4-5 4-1 4 0 4 1 4 4 4-1 4-2 4-2 4 0 4 1 4-4 4-2 4 4 4-4 4-1 4 1 4-2M902 1727l4 10 4-4 4-3 4 1 4-5 4 2 4 2 4-3 4 0 4-1 4 0 4-3 4 3 4-1 4-6 4 5 4-2 4 0 4 0 4-2 4-2 4 6 4-4 4-2 4-3 4 1 4 1 4-12 4 1 4 4 4 2 4-1 4 0 4-1 4 3 4-3 4 0 4-3 4 2 4-1 4-2 4 1 4-1 4 0 4-3 4-2 4 0 4 2 4 0 4-2 4 1 4 3 4-4 4-2 4-6 4-1 4-4 4-1 4-3 4-2 4-2 4 1 4 3 4-5 4-1"/>
<path stroke="#0072b2" stroke-width="4.0" d="M2766 1172l4-2 4-4 4-1 4-1 4-4 4 1 4-1 4-2 4 3 4-3 4-2 4-1 4 1 4 1 4 1 4 0 4-5 4-1 4-4 4-4 4 1 4-4 4-2 4-6 4-3 4 0 4 0 4-4 4 1 4-12 4 1 4 0 4 0 4-2 4 2 4 1 4 6 4-7 4-6 4-6 4-1 4-5 4-2 4-1 4 1 4-2 4 0 4-1 4-6 4-1 4-5 4-6 4-1 4 0 4-1 4-4"/>
<path stroke="#56b4e9" stroke-width="4.4" d="M214 1829l4-1 4-1 4 3 4 2 4 0 4-1 4 1 4 0 4-1 4 1 4-2 4-1 4 0 4 0 4-4 4 0 4-2 4-2 4-2 4 2 4-1 4 1 4-1 4-2 4 2 4-6 4-4 4-1 4-3 4 0 4 0 4 0 4 0 4-4 4 0 4-4 4-1 4 0 4 0 4 1 4-1 4 1 4 3 4 3 4-2 4-3 4-5 4-4 4 1 4-3 4 0 4-1 4 0 4-2 4 2 4 0 4-1 4 1 4-1 4 0 4-2 4 0 4-2 4 1 4 0 4-2 4-1 4-2 4-1 4-2 4 0 4-2 4-5 4-6 4 1 4 4 4-2 4 1 4 2 4-1 4-4 4-1 4-1 4-2 4 1 4-2 4 0 4-2 4 0 4-4 4-4 4-7 4 0 4-1 4 0 4 2 4 1 4-3 4 0 4 0 4-1 4-2 4 0 4 1 4-2 4-2 4-2 4-7 4 0 4-1 4 0 4 1 4-1 4 1 4-2 4 0 4-2 4 0 4 0 4 0 4 2 4 0 4-2 4 0 4 1 4 0 4 1 4-1 4-3 4 4 4 0 4-2 4-2 4 0 4-4 4-2 4-4 4-2 4-2 4-2 4 1 4 0 4 1 4-1 4-1 4-3 4 2 4 3 4 0 4-4 4-1 4 0 4-3 4-4 4-6 4 1 4 2 4 0 4 0 4 0 4-2 4-1 4 0 4-5 4 0 4 1 4-3 4 2 4-1 4 0 4 0M902 1701l4 8 4-3 4-2 4-1 4-2 4 0 4-3 4 1 4-2 4-1 4 0 4-1 4-1 4-1 4 1 4-1 4 0 4-2 4 0 4-2 4 0 4 0 4 1 4 3 4-2 4-2 4-2M1014 1672l4 2 4 2 4 1 4 1 4 0 4-2 4 0 4-1 4-1 4-1 4 0 4 1 4-2 4-2 4 1 4-3 4-2 4 2 4 0 4 0 4-3 4 0 4 3 4-4 4 1 4-1 4-7 4 0 4-2 4-5 4-4 4 0 4-1 4 0 4 0 4-2 4-1 4-1 4 0 4-4 4 1 4-3 4 0 4 2 4-4 4-2 4-2 4 4 4 0 4-1 4 0 4 0 4 3 4-5 4-2 4-1 4-1 4 0 4-3 4-2 4 0 4-3 4 0 4-3 4-4 4 0 4-13 4-2 4 3 4-2 4 0 4 6 4 0 4-2 4-3 4 1 4 0 4-2 4-8 4 1 4 3 4 1 4 2 4 0 4-1 4-3 4-2 4 2 4 0 4 3 4-1 4 0 4-3 4 0 4-3 4-1 4 0 4 0 4 0 4-2"/>
<path stroke="#9400d3" stroke-width="3.6" d="M2014 1336l4 3 4 2 4-2 4 0 4-1 4 0 4-12 4-5 4 3 4 1 4-5 4 0 4-2 4 2 4 1 4-2 4 0 4 0 4 0 4 0 4 5 4-4 4-2 4 2 4-4 4-2 4 0 4 2 4-3 4 1 4-1 4 2 4 0 4-3 4-4 4-1 4-3 4 0 4-3 4 0 4-3 4-5 4-6 4-2 4 1 4-2 4-1 4-1 4 0 4 1 4-2 4 0 4-2 4-6 4-2 4-5 4-6 4 1 4 0 4-3 4-1 4 1 4-3 4 2 4-5 4 2 4-4 4-1 4-6"/>
<path stroke="#0072b2" stroke-width="5.0" d="M3986 677l4-2 4-1 4-3 4-2 4 1 4-1 4-2 4 1 4 3 4 2 4-1 4 2 4 0 4 2 4-4 4 2"/>
<path stroke="#e51e10" stroke-width="4.4" d="M3246 989l4 0 4-2 4-5 4-3 4 2 4-4 4 4 4-3 4 0 4-2 4-8 4-2 4 3 4-4 4 0 4 0 4 0 4-2 4 4 4-7 4-6"/>
<path stroke="#009e73" stroke-width="3.6" d="M906 1699l4 0 4-1 4-3 4-5 4 6 4-6 4-1 4-2 4 3 4-1 4 0 4-2 4 3 4-1 4 2 4-2 4-2 4-2 4-1 4-2 4 5 4-2 4 2 4-3 4 4 4-3 4-12 4 5 4-1 4 0 4 2 4 0 4 1 4-3 4 3 4-5 4 1 4-1 4-1 4 1 4 0 4-1 4-3 4-3 4 4 4-4 4 0 4 0 4 0 4 2 4-4 4 2 4-1 4-5 4-3 4-3 4-1 4-5 4 0 4-2 4 1 4-2 4-1 4 0 4 0 4-3 4-1 4 2 4-2 4-2 4-2 4-2 4-1 4-6 4 6 4 1 4-2 4-2 4 2 4 0 4 0 4-2 4-2 4-2 4-3 4 0 4 2 4-4 4-1 4-1 4 0 4-5 4 0"/>
<path stroke="#009e73" stroke-width="3.6" d="M510 1712l4 1 4 5 4-1 4 0 4 1 4-1 4 1 4-3 4-2 4-4 4 4 4-4 4 1 4-1 4 0 4-6 4-4 4-6 4 0 4-2 4 2 4-1 4 0 4 0 4-1 4 0 4-1 4 0 4-2 4-2 4 1 4 0 4-6"/>
<path stroke="#e51e10" stroke-width="5.0" d="M214 1857l4-4 4 3 4 0 4 2 4 0 4-3 4 3 4-1 4 1 4-3 4 4 4-1 4-3 4-2 4-3 4 0 4-4 4 3 4-6 4 2 4-2 4 1 4 3 4-1 4-3 4-2 4-3 4-2 4-5 4 1 4 0 4 1 4-3 4-2 4 1 4 0 4-4 4-3 4 2 4 1 4-1 4-1 4 4 4-1 4 1 4 0 4-5 4-3 4 0 4-6 4 2 4 0 4-2 4 2 4 3 4-4 4 0 4 3 4-4 4-1 4 1 4-3 4 3 4-3 4-1 4 0 4 0 4-3 4-1 4 0 4 0 4-2 4-6 4-7 4-1 4 5 4 0 4-1 4 2 4 2 4-6 4-1 4 0 4-2 4-3 4 2 4 2 4-4 4-2 4-2"/>
<path stroke="#56b4e9" stroke-width="4.4" d="M214 1817l4 2 4-1 4 3 4 0 4 0 4 0 4-1 4-2 4 3 4-2 4-1 4 1 4-1 4 1 4-4 4-1 4-3 4-1 4-2 4 0 4 0 4 0 4 1 4 0 4-2 4-4 4-3 4-4 4-2 4 2 4-2 4 1 4-1 4-1 4-2 4-3 4-3 4 0 4 1 4-2 4 1 4 0 4 5 4 4 4-5 4-2 4-3 4-6 4 2 4-2 4 0 4-3 4 0 4-2 4 3 4-1 4 0 4 0 4 0 4-2 4 1 4-2 4 1 4-2 4-2 4 0 4 1 4-4 4 1 4-2 4-1 4-4 4-4 4-5 4-1 4 5 4-1 4 1 4-1 4 1 4-1 4-2 4-2 4-2 4 1 4-1 4 0 4 0 4-4 4-1 4-5 4-6 4-1 4 0 4-3 4 2 4-3 4 2 4 0 4 0 4-3 4 0 4-1 4 1 4-2 4 0 4-4 4-5 4 0 4-4 4 3 4-2 4 3 4 0 4-1 4-4 4-1 4 1 4-1 4-2 4 4 4-2 4 1 4 1 4 0 4-1 4-1 4 0 4 0 4 3 4 0 4-2 4-2 4-1 4-4 4-2 4-3 4-4 4-2 4 0 4 1 4-1 4 2 4-4 4 0 4-2 4 1 4 5 4-3 4-3 4 0 4-4 4-1 4-3 4-5 4 0 4 3 4-2 4 2 4-1 4 0 4 0 4-3 4 0 4-2 4 1 4-4 4 0 4-1 4-2 4 2M902 1688l4 7 4-1 4-4 4-1 4 1 4 2 4-3 4-3 4-2 4 3 4-5 4 1 4-1 4-1 4 1 4-1 4-1 4 1 4-1 4-1 4-1 4 1 4-1 4 2 4-3 4 3 4-4 4-10 4 4 4 0 4 1 4 0 4 2 4-3 4 0 4 0 4-1 4 0 4-3 4 1 4 0 4-1 4-1 4 0 4-2 4 1 4-2 4 0 4-1 4 0 4-1 4-2 4 3 4-1 4-5 4-5 4-3 4-2 4-2 4-3 4-1 4-2 4 1 4 3 4-4 4-1 4-1 4-2 4-1 4 1 4-2 4-3 4 0 4-3 4-2 4 3 4 3 4-3 4 3 4 3 4-1 4 0 4-3 4 1 4-1 4-2 4-2 4-4 4 0 4 0 4 0 4-5 4-4 4-2 4-13 4 1 4 2 4-1 4-2 4 6 4 0 4-1 4-3 4 1 4 1 4-3 4-8 4-1 4 4 4 3 4 1 4 0 4-1 4-4 4 0 4 2 4-1 4 0 4 0 4 1 4-2 4 1 4-2 4-2 4 0 4-3 4 1 4-2 4-2 4-3 4-10 4 2 4-2 4 1 4 0 4 0 4-1 4-4 4-3 4-2 4 0 4-3 4-3 4 1 4 0 4-2 4 2 4-2 4-1 4 1 4-2 4-3 4 0 4 4 4-3 4 3 4-1 4 0 4-4 4 1 4-2 4-1 4-1 4-2 4-5 4 1 4-2 4-2 4-3 4 0 4 2 4-1 4-1 4 2 4-6"/>
<path stroke="#e51e10" stroke-width="3.6" d="M3630 754l4 1 4 0 4 1 4-3 4-2 4 0 4-1 4-1 4-2 4-1 4 0 4-1 4-1 4-2 4 1 4-8 4-1 4-1 4 0 4-2 4-1 4 0 4 1 4 4 4-3 4 0 4 0 4-2 4 0 4-2 4 2 4-1 4-8 4 0 4-3 4-2 4 0 4 1 4-3 4 0 4-1 4-3 4-1 4-5 4-1 4-2 4 0 4 0 4 1 4 3 4-3 4 0 4-6 4-1 4-4 4 0 4 2 4-1 4-5 4-5 4 1 4 3 4 0 4-8 4 2 4-2"/>
<path stroke="#f0e442" stroke-width="3.6" d="M2642 1071l4-1 4-1M2658 1065h0M2670 1062h0M2678 1061l4 1 4 1M2702 1055l4-4 4 1 4 0 4 2M2742 1045h0M2758 1046l4-1M2778 1035l4 2 4-6 4 2M2806 1031l4-4 4 0 4-1M2834 1027l4-3M2846 1017l4-2 4-4 4 0 4-5M2874 1001l4-3 4-2M2934 968l4 0 4 2 4-5M2982 942l4 2M3002 926h0M3014 935l4-2M3054 917l4-3M3066 909h0M3090 898l4 0M3134 878h0M3150 859h0"/>
<path stroke="#000000" stroke-width="4.4" d="M3806 687l4-1 4-2 4-1 4 0 4 4 4 2 4-1 4-3 4-6 4-3 4 1 4 1 4-3 4 1 4-4 4-4 4 0 4-1 4 3 4-4 4-2 4-4 4 10 4-5 4 2 4-4 4-5 4 2 4-7 4-1 4-1 4-3 4-3 4-1 4-1 4-2 4-4 4 2 4-3 4 1 4 4 4-1 4-4 4-4 4-5 4 1 4-1 4-3 4 0 4-1 4-2 4 0 4 0 4 3 4 0 4 4 4-3 4 1 4-1 4 4 4-2"/>
<path stroke="#56b4e9" stroke-width="3.6" d="M582 1732l4 4 4-1 4 0 4-1 4-5 4 3 4-1 4 2 4-3 4 1 4 0 4-3 4 4 4-1 4-8 4-5 4 2 4-1 4 0 4-3 4 4 4 0 4-2 4-6 4 2 4 0 4 1 4-2 4-1 4 2 4 1 4 2 4-3 4-1 4 2 4-4 4 1 4 4 4-1 4-3 4 0 4-2 4-5 4-4 4 2 4-6 4-1 4-3 4 4 4 2 4-1 4-3 4-4 4 1 4 2 4 5 4-3 4-1 4-4 4-2 4 0 4-1 4-6 4-3 4 2 4 2 4 1 4 1 4-4 4 0 4-4 4-1 4 1 4 2 4-2 4 1 4-5 4 4 4 1M902 1693l4 8 4-4 4-2 4-1 4-3 4 1 4 2 4-1 4-4 4 0 4-3 4 2 4-3 4 4 4-1 4 1 4-5 4-1 4 2 4-1 4 2 4-3 4 1 4 2 4-4 4 1 4-3 4-9 4 3 4 1 4 0 4 3 4-3 4-3 4 3 4-1 4 3 4-5 4 1 4-2 4 1 4-2 4-1 4-1 4 0 4 1 4-2 4 0 4 0 4-2 4 1 4-2 4 1 4-2 4-1 4-4 4-4 4-2 4-2 4 1 4-5 4 3 4 1 4-5 4 0 4-2 4 0 4-4 4 3 4-1 4-5 4 1 4-2 4-2 4 0 4 2 4 3 4-6 4 1 4-1 4 3 4-1 4-3 4-2 4 0 4-1 4-2 4 0 4-2 4-6 4 3 4-2 4-4 4-2"/>
<path stroke="#e69f00" stroke-width="4.0" d="M2014 1405l4-1 4 3 4-2 4-1 4 3 4-1 4-11 4-3 4-1 4-1 4 1 4-5 4 0 4 4 4 0 4-3 4-1 4 2 4 0 4 0 4 1 4-1 4-1 4-3 4 0 4-2 4 3 4-3 4-1 4 2 4-3 4 2 4 3 4-7 4-2 4-3 4 1 4-1 4-2 4 1 4-2 4-4 4-8 4-2 4-1 4-1 4 3 4-6 4 1 4 0 4-4 4 1 4-1 4-5 4-5 4-3 4-3 4 0 4-3 4 0 4 0 4-1 4 0 4-5 4 3 4-4 4-3 4 4 4-10 4-5 4-4 4-3 4-5 4-1 4 1 4-4 4-1 4 0 4-3 4 1 4-2 4 2 4 1 4 1 4-4 4-1 4 1 4 0 4-3 4 1 4-4 4-3 4-4 4-1 4-4 4-2 4-7 4 6 4 2 4-5 4 1 4-3 4 1 4 0 4-3 4 5 4-3 4-1 4-3 4 1 4-2 4-2 4-7 4-2 4 5 4-1 4 2 4 0 4-3 4-4 4 0 4 2 4-4 4-1 4 3 4 0 4-3 4-3 4 6 4-5 4-4 4 3 4-1 4-2 4 0M2558 1203l4 5 4-2 4 5 4-2 4 0 4 3 4-9 4-4 4-3 4 1 4 2 4-2 4-2 4 1 4 3 4 1 4-5 4-1 4-6 4-4 4-7 4-1 4 1 4-1 4-1 4 1 4-3 4-1 4-2 4-2 4 4 4 0 4-2 4 2 4-3 4-3 4-4 4-1 4-3 4 6 4-1 4-1 4-3 4-1 4-2 4 0 4-4 4 0 4 1 4 2 4-4 4 1 4-4 4-1 4-5 4-1 4-3 4 0 4 0 4 2 4-1 4 1 4-2 4-2 4 2 4 0 4-3 4 0 4 1 4-3 4-6 4-3 4-2 4-5 4 0 4-5 4-6 4 0 4 5 4-6 4-1 4-7 4-1 4-4 4-1 4 1 4 0 4 6 4 4 4-7 4-7 4-5 4-2 4-5 4-3 4 1 4-3 4-3 4 2 4 1 4-2 4-3 4-8 4-5 4-1 4-3 4 4 4-3 4-6 4-2 4-8 4 3 4 3 4 2 4 0 4-4 4-2 4-3 4 0 4-3 4 0 4-1 4-4 4-1 4 1 4-3 4-7 4-5 4 3 4-8 4 2 4 0 4-4 4 2 4 1 4 0 4-7 4-4 4 0 4 4 4-2 4-5 4-2 4-5 4 4M3142 973l4-3 4 3 4-2 4-2 4 0 4 2 4-4 4-3 4-2 4 1 4 2 4-5 4 0 4-2 4 3 4 0 4 2 4-1 4-3 4-4 4 3 4-8 4-5 4-2 4-4 4-2 4-4 4 2 4-6 4-1 4-3 4 2 4 0 4-2 4-3 4-1 4-7 4-2 4 1 4-4 4 3 4 0 4-2 4 2 4 2 4-5 4-5 4-6 4-6 4-2 4 2 4-1 4-4 4 1 4-2 4-3 4-1 4 0 4-3 4-5 4-2 4 0 4-1 4-1 4 13 4-8 4-1 4-6 4-4 4 1 4 1 4-3 4-1 4-12 4 1 4 1 4-3 4 0 4-3 4-4 4-2 4-1 4-3 4-2 4 1 4 2 4-5 4 1 4-3 4-1 4-3 4-4 4-1 4-2 4 1 4 0 4-4 4 4 4-3 4 2 4-3 4-2 4 1 4-3 4-2 4-1 4 2 4 1 4-4M3582 783l4 0 4-4 4 3 4 3 4-2 4 0 4-2 4 1 4 0 4 0 4 10 4 2 4-1 4 1 4-3 4 1 4 0 4-1 4-1 4-4 4 1 4 1 4-2 4-1 4-2 4-3 4 1 4-4 4-6 4 3 4-4 4 2 4 0 4-5 4 3 4-6 4-4 4 0 4 0 4 1 4-5 4 5 4 0 4-7 4-6 4 0 4-1 4-1 4-4 4 4 4 0 4-5 4 4 4-7 4 4 4-1 4-3 4-5 4 1 4 3 4-4 4 2 4-1 4-2 4-4 4-2 4 1 4-3 4-1 4-2 4 0 4-5 4 2 4 0 4-3 4 0 4-6 4-3 4 5 4 0 4 0 4-3 4-8 4 1 4-3 4 0 4-6 4-3 4 3 4-1 4-4 4-1 4 0 4-3 4 0 4-4 4 6 4-6 4 0 4-8 4 1 4-3 4 0 4-3 4-5 4 5 4 1 4-3 4 1 4 1 4 1 4 1 4-1 4 3 4-3 4 1 4-1"/>
<path stroke="#0072b2" stroke-width="3.6" d="M3630 834l4-2 4-2 4 3 4-1 4-2 4-1 4-2 4-1 4-1 4 0 4-1 4 1 4-2 4-1 4 0 4-7 4-4 4-2 4 0 4 0 4 3 4 1 4-3 4-7 4 2 4-3 4 1 4-2 4-2 4 0 4-3 4-2 4-7 4-1 4-1 4-1 4 0 4 2 4-1 4-1 4 0 4-4 4 0 4-2 4-3 4-2 4 1 4 0 4 0 4 4 4-2 4-3 4-3 4-2 4-1 4-2 4-1 4-2 4-4 4-3 4 1 4 0 4 3 4-6 4-6 4 3 4 1 4-2 4-3 4-4 4 0 4-2 4-7 4 2 4-2 4 0 4-2 4-2 4-3 4-1 4-1 4-1 4-5 4-1 4 8 4-3 4-5 4-3 4-4 4 0 4-2 4-3 4 2 4 2 4-5 4 2 4-3 4 3 4 3 4 0 4-1 4 1 4-1 4 2 4 0"/>
<path stroke="#000000" stroke-width="3.0" d="M3426 678l4-1 4-5 4-7 4-1M3454 661h0M3474 648l4-2 4-2 4 1 4 1 4-2 4-3 4-1 4-2M3514 632l4-1 4 0 4 0 4-1 4-1 4-1 4-2 4-6 4-4 4-4 4-1"/>
<path stroke="#0072b2" stroke-width="3.6" d="M214 1825l4 0 4 0 4 2 4-1 4-1 4 4 4 0 4-3 4 2 4-4 4 0 4 2 4-2 4-2 4 1 4-3 4-1 4-4 4 1 4-1 4 0 4 0 4 2 4 2 4-6 4-4 4-3 4-6 4 1 4-1 4 2 4-1 4 1 4-3 4-4 4 0 4-1 4-3 4 2 4 2 4 0 4-3 4 4 4 3 4-3 4-1 4-4 4-3 4-3 4-1 4 1 4-2 4 1 4-5 4 4 4-3 4 2 4-1 4 2 4-3 4 0 4 0 4 0 4-3 4 1 4 1 4-4 4 2 4 0 4-6 4-1 4-2 4-9 4-2 4 2 4 5 4-3 4 0 4 0 4 2 4 0 4-3 4-1 4-6 4 2 4-1 4 0 4 1 4-2 4-3 4-11 4-8 4 4 4-1 4 3 4-2 4-1 4-3 4 1 4 0 4-3 4 0 4 0 4-1 4 1 4-4 4-2 4-6 4 0 4-2 4 2 4 2 4 1 4-3 4 2 4-7 4 1 4 1 4 2 4-4 4 1 4 0 4 2 4-2 4 0 4 1 4-3 4 4 4-1 4 0 4 3 4-5 4 0 4-1 4-5 4-1 4-4 4-3 4-2 4-1 4-1 4 1 4 1 4 0 4-2 4 0"/>
<path stroke="#f0e442" stroke-width="4.0" d="M214 1764l4-1 4 0 4 2 4 1 4 1 4-2 4 0 4-3 4 4 4-4 4 3 4-1 4-2 4 0 4-1 4-3 4-1 4-2 4-1 4-1 4 3 4-3 4-1 4 1 4-1 4-4 4-3 4-3 4-3 4-2 4 3 4 0 4-2 4-2 4-2 4-3 4-2 4 0 4 1 4 1 4 1 4-1 4 3 4 2 4-2 4-1 4-6 4-3 4-2 4-1 4-2 4-1 4 0 4 2 4 1 4-1 4-1 4 0 4-2 4 1 4 0 4 1 4-3 4-1 4-1 4 0 4-1 4-2 4 2 4-4 4-3 4-1 4-8 4-5 4 1 4 5 4 1 4-1 4 2 4-2 4-2 4-2 4-1 4-1 4-3 4 2 4 0 4-2 4 0 4-5 4-6 4-7 4 2 4-1 4 0 4 1 4-1 4 1 4-3 4 1 4 0 4-2 4-2 4 1 4-2 4-2 4-3 4-6 4 1 4-2 4 0 4 2 4-1 4 1 4 0 4-1 4-2 4 0 4-2 4-1 4 2"/>
<path stroke="#e51e10" stroke-width="4.0" d="M1606 1570l4 2 4-4 4-3 4-1 4 2 4-3 4 2 4-5 4 1 4 0 4 3 4-6 4 2 4-3 4-3 4-1 4-3 4-4 4-3 4-4 4-2 4-1 4-2 4-5 4-3 4-2 4-1 4 0 4-2 4-8 4 0 4 3 4 5 4 6 4-4 4 1 4-7 4-2 4 2 4-2 4-1 4-3 4 3 4-3 4-3 4 0 4-1 4-2 4 0 4-2 4 0 4-3 4 0 4-3 4 0 4 10 4-6 4-1 4-3 4-1 4-1 4-3 4-1 4 1 4-1 4 0 4 1 4 2 4 1 4-2 4 7 4-1 4-2 4 0 4-3 4-1 4 0 4-2 4-3 4-1 4-3 4 0 4-7 4 0 4-1 4-4 4 2 4 1 4-1 4 2 4 1 4-1 4-2 4 1 4 0 4-4 4 1 4-4 4-4 4 3"/>
<path stroke="#e69f00" stroke-width="3.6" d="M762 1669l4-1 4-7 4 0 4 4 4 1 4 0 4-1 4-5 4-2 4 5 4 5 4-4 4-5 4 1 4-3 4 0 4-5 4-4 4-2 4 4 4 1 4-4 4 0 4 3 4-4 4 0 4-3 4 2 4-2 4-1 4 1 4 0 4-6 4 3M902 1661l4 10 4-6 4-3 4 1 4 2 4-4 4-1 4 2 4-7 4 1 4 2 4 0 4-3 4-2 4 0 4-1 4 2 4-5 4 3 4-2 4-1 4 2 4-2 4 0 4 4 4-1 4-6 4-10 4 6 4-1 4 2 4 2 4 0 4-4 4-1 4-2 4 2 4-1 4-1 4-6 4 6 4 1 4-5 4 3 4 2 4-5 4-3 4 0 4 0 4-1 4 4 4-4 4 3 4 1"/>
<path stroke="#0072b2" stroke-width="4.4" d="M2886 1127l4 5 4-4 4 2 4-2 4 1 4 6 4-1 4-4 4-3 4-7 4-5 4-6 4 2 4-2 4 2 4-4 4 0 4-1 4-6 4 1 4-2 4-9 4-1 4-2 4-1 4-2 4-3 4-7 4-4 4 4 4 3 4 2 4-4 4 0 4-1 4-2 4-3 4-2 4-3 4-4 4 2 4-2 4-2 4 6 4-10 4-7 4 0 4 2 4-2 4-1 4-2 4-2 4-1 4 0 4-1 4-6 4-1 4 1 4 0 4-1 4-2 4-7 4 1M3142 1008l4-1 4-3 4 3 4-1 4-1 4 3 4-4 4 0 4-3 4 1 4 0 4-3 4-4 4 0 4 1 4 3 4 0 4-1 4-4 4-1 4 2 4-1 4-4 4-7 4-6 4-3 4 3 4-7 4-2 4-2 4-5 4 4 4-2 4 1 4-1 4-2 4-8 4 2 4-1 4 0 4-6 4 1 4 3 4 1 4-3 4-7 4-7 4-4 4 0 4-3 4 0 4-3 4-1 4 0 4-2 4-1 4-2 4-3 4 1 4-6 4-3 4 1 4 0 4 1 4 8 4-2 4-9 4-2 4-3 4 2 4 0 4-2 4-2 4-12 4 5 4-4 4 0 4-1 4-4 4-4 4 0 4-5 4 0 4 1 4-3 4-1 4 3 4-6 4 2 4-3 4-3 4 1 4-4 4-5 4 1 4 1 4-3 4 1 4 0 4-1 4 0 4-3 4 1 4-1 4-5 4 2 4-3 4 1 4-2"/>
<path stroke="#e51e10" stroke-width="4.4" d="M2390 1244l4-4 4-1 4-3 4 0 4 1 4-3 4-2 4-1 4-2 4 1 4-1 4-1 4 2 4-2 4-1 4-1 4-1 4-5 4-1 4 3 4 1 4 2 4-1 4-4 4 1 4-1 4-2 4-1 4-4 4 2 4 1 4-2 4-1 4 0 4 1 4-3 4 0 4 0 4-1 4-3 4 1M2558 1177l4 7 4-3 4 1 4-2 4 3 4-2 4-4 4-6 4 1 4-1 4-1 4 2 4-2 4-3 4 5 4 1 4 0 4-7 4-5 4-5 4-3 4-4 4 2 4-2 4-3 4 0 4 0 4-3 4-2 4-2 4 2 4 3 4-5 4 0 4-1 4-2 4-4 4 0 4 1 4 1 4 0 4 0 4-3 4 0 4-4 4-2 4-2 4 1 4 0 4 0 4-3 4 0 4-1 4-3 4-1 4-3 4-4 4 1 4-2 4 0 4 1 4-1 4-2 4-1 4-1 4 2 4 0 4-2 4 0 4 0 4-5 4-2 4-4 4-4 4 0 4-6 4-5 4 1 4-1 4-2 4-1 4-11 4 1 4-3 4 0 4-1 4 2 4 3 4 2 4-6 4-4 4-7 4-1 4-6 4-2 4 2 4-2 4-1 4 3 4-3 4-4 4-5 4-1 4-9 4-1 4 1 4-4 4-2 4-2 4-5 4-4 4-2 4 4 4 5 4-4 4-2 4-3 4-1 4-1 4-1 4-2 4-3 4-3 4 0 4 0 4-3 4-5 4-5 4-2 4-1 4-1 4 0 4-1 4 0 4 0 4-2 4-3 4-3 4 0 4-1 4-2 4-3 4-3 4-1 4 0M3142 941l4-1 4-3 4 3 4-2 4-2 4 0 4-2 4 0 4-3 4-3 4 2 4-3 4 1 4-2 4 1 4 1 4 2 4 0 4-4 4-1 4-3 4-3 4-4 4-4 4-2 4-6 4 0 4-5 4-4 4-1 4-1 4 1 4 0 4-4 4 0 4-1 4-6 4-1 4-1 4 1 4-1 4-2 4 0 4-1 4 1 4-4 4 0 4-1 4-3 4-1 4 1 4-4 4-1 4 1 4-5 4-2 4 0 4-2 4-2 4-5 4 0 4-1 4 0 4-1 4 10 4-8 4-1 4-5 4-3 4 1 4 0 4-2 4-4 4-8 4 1 4-1 4-1 4-2 4-2 4-4 4-2 4-2 4-3 4-1 4-2 4 1 4 3 4-2 4-3 4-2 4-2 4-4 4-4 4-2 4 1 4 2 4-1 4 0 4-2 4-2 4 0 4-1 4-2 4-1 4-3 4 2 4-2 4 0 4-2M3582 756l4 1 4-1 4 4 4-3 4 2 4 0 4-2 4 2 4-3 4 2 4 9 4 3 4-2 4 1 4-2 4 2 4-4 4-1 4-1 4-1 4 1 4-1 4-2 4-2 4 0 4-2 4 0 4-7 4-1 4-1 4-1 4 1 4 0 4-2 4 1 4-8 4-2 4 1 4-6 4 5 4-4 4 1 4 1 4-2 4-8 4-2 4-1 4-3 4 3 4 2 4-3 4-3 4-1 4-3 4 3 4-3 4-1 4-2 4 0 4 0 4 2 4 2 4-2 4-3 4-4 4-4 4 0 4 0 4 3 4-2 4-4 4-5 4-2 4 3 4 2 4-6 4-1 4-2 4-5 4 1 4-2 4-4 4-2 4-3 4-3 4-2 4-2 4-2 4-4 4-1 4 1 4-2 4-1 4-2 4-4 4 0 4 5 4-1 4-3"/>
<path stroke="#56b4e9" stroke-width="4.0" d="M3578 711h0M3586 684l4 0 4 0 4 0 4-1 4 0 4 2 4-1 4 0 4 0 4 10 4 0 4 0 4-1 4-2 4 2 4-2 4 0 4-4 4 1 4-1 4-3M3682 684l4-1 4-1 4-7 4-1 4-1 4 0 4 0 4-1 4-2 4 0 4-7 4-4 4 2 4-3M3750 658l4 2 4-5 4-6 4-1 4-1 4-3 4 1 4 0 4-1 4-3 4 0 4-3 4 0 4-3 4-2 4 0 4 0 4-1 4 3 4 4 4-3 4-4 4-5 4-2 4-2 4 0 4 1 4-3 4-4 4-3 4 0 4 1M3886 614l4-5 4-2 4 0 4 1 4-2 4-3 4-1 4-4 4-3 4-3 4 0 4-3 4-2 4 0 4-4 4 0 4-2 4-1 4-6 4 2 4 4 4-1 4-5 4-3 4-2 4-1 4-1 4-4 4-3 4 3 4-1 4-1 4 2 4 0 4-1 4 3 4-2 4-1 4 5"/>
<path stroke="#0072b2" stroke-width="3.6" d="M214 1843l4 1 4-2 4 1 4 0 4 3 4-1 4 1 4-1 4 4 4-6 4 1 4-3 4 0 4 1 4-1 4-3 4 0 4-5 4-6 4 5 4 3 4-3 4 1 4 2 4-1 4-9 4 1 4-6 4-3 4 2 4 0 4 3 4 0 4-7 4 1 4-3 4-1 4-1 4 0 4 0 4 1 4 1 4 1 4 3 4-3 4-1 4-3 4-2 4-2 4-4 4 3 4-1 4-2 4 4 4-2 4-3 4 0 4 3 4-2 4-4 4 0 4 1 4-1 4-1 4 0 4-3 4 2 4-6 4 1 4 3 4-3 4-1 4-8 4-8 4 2 4 2 4 1 4 2 4 1 4 3 4-4 4-2 4-1 4-5 4 4 4-2 4 1 4-3 4-1 4-4 4-6 4-3 4-2 4-5 4 7 4 1 4-2 4-4 4-2 4 3 4-3 4 0 4 1 4-2 4 0 4-4 4 1 4-9 4 1 4-2 4 2 4-1 4 1 4-1 4-1 4-2 4-3 4 5 4-1 4-1 4 1 4 0 4 0 4-1 4 2 4-1 4-3 4 0 4-1 4 5 4-1 4-3 4-1 4 0 4-2M758 1716l4 5 4-8 4-2 4-1 4-1 4-1 4 0 4 0 4-5 4-3 4 8 4 2 4-2 4-3 4-7 4 1 4-3 4-2 4-1 4-3 4 2 4 0 4 1 4-1 4 1 4 1 4-4 4 1 4-4 4 2 4 0 4-2 4-4 4 4 4-2M902 1704l4 8 4-1 4-4 4 0 4-3 4 3 4-5 4 1 4-2 4-1 4-4 4 1 4 0 4-1 4 3 4 1 4-1 4-4 4 1 4-1 4 0 4 1 4 0 4 1 4-4 4 1 4 0 4-14 4 6 4 1 4 2 4 0 4 1 4-2 4-2 4-2 4 0 4 0 4-1 4-3 4 2 4 1 4 1 4-2 4-7 4 4 4 0 4-2 4 3 4-2 4 1 4-1 4-3 4 3 4-7 4-2 4-3 4-4 4-5 4-1 4-1 4 1 4 2 4-2 4 0 4-3 4-3 4 4 4-3 4 1 4-6 4-2 4 0 4-5 4 2 4 2 4 3 4-2 4 2 4 3 4-2 4 0 4-5 4 4 4-6 4 1 4-1 4-2 4-3 4-3 4 0 4 3 4-7 4-2 4-11 4-1 4 0 4 0 4 0 4 5 4 0 4-1 4 0 4 0 4-3 4 3M1330 1603l4 3 4 2 4 3 4 3 4 0 4-2 4-5 4 2 4 0 4-4 4 2 4 3 4 1 4-2 4 2 4-5 4-1 4 0 4-6 4 5 4-3 4 0 4-4 4-7 4-3 4-2 4 3 4-2 4 2 4-2 4 1 4-9 4-1 4-1 4-3 4-2 4 2 4-2 4 0 4-1 4 1 4-2 4-2 4 6 4-8 4 1 4 6 4-1 4-2 4 5 4-7 4 0 4-2 4-2 4-1 4-2 4 0 4-3 4 0 4-5 4-1 4 2 4-1 4-2 4-1 4 4 4-4 4-6 4-7 4 0 4-1 4-4 4 0 4 0 4 0 4 1 4-5 4-1 4-3 4 7 4 0 4-5 4 0 4-2 4-6 4-3 4 1 4-5 4-2 4-2 4-2 4-6 4-5 4 2 4-5 4-5 4-1 4 1 4-7 4 2 4-1 4 6 4 2 4 1 4-2 4-2 4 0 4-2 4 1 4 1 4-8 4 5 4-5 4 0 4-5 4-1 4 1 4-2 4-2 4 1 4-2 4-1 4-1 4-2 4 14 4-3 4-3 4 1 4 0 4-3 4 0 4-5 4 0 4 1 4-3 4 2 4-1 4 3 4-2 4 6 4 0"/>
<path stroke="#000000" stroke-width="4.2" d="M214 1882l4-1 4 1 4 2 4-2 4 3 4 1 4-1 4-2 4 4 4-3 4 0 4 0 4-1 4 0 4-4 4-3 4-2 4 0 4-2 4 1 4 0 4 0 4-1 4 1 4-3 4-3 4-3 4-3 4-3 4 0 4-1 4 2 4-2 4-1 4 1 4-5 4-1 4-2 4 2 4 1 4 0 4 1 4 1 4 3 4-3 4-2 4-5 4 0 4-2 4-2 4-1 4-1 4-1 4 0 4 1 4 0 4-3 4 2 4-1 4-1 4 0 4-1 4 1 4-1 4 1 4-1 4-2 4-2 4 0 4-2 4-3 4 1 4-9 4-3 4 0 4 3 4 0 4 2 4-2 4 2 4-2 4-2 4 0 4-5 4 2 4-2 4 1 4 1 4-3 4-4 4-6 4-5 4 2 4-2 4 2 4-2 4 0 4-1 4 1 4-2 4-2 4 1 4 0 4-1 4 0 4-2 4-3 4-6 4 1 4-1 4 1 4-2 4-1 4 2 4 0 4-4 4-1 4 2 4-1 4-2 4 2 4-2 4 3 4-1 4 1 4-1 4 2 4 0 4-2 4 2 4-2 4-1 4 1 4-3 4-3 4-2 4-3 4-3 4-2 4 0 4 0 4 1 4 1 4-1 4-3 4-4 4 4 4 4 4-4 4-1 4-1 4-2 4 1 4-5 4-4 4-2 4 3 4 0 4 1 4-2 4 0 4-2 4 1 4 0 4-4 4-2 4 1 4-1 4-1 4 0 4 1M902 1759l4 9 4-2 4 0 4-4 4 0 4 0 4-2 4-1 4-2 4 0 4-2 4 0 4-1 4-1 4 3 4-1 4-1 4-1 4 1 4-4 4 1 4 1 4 0 4 0 4-1 4 0 4-2 4-9 4 3 4 0 4 2 4 0 4 0 4-1 4-1 4 0 4-1 4-3 4 3 4-1 4-1 4 1 4-1 4-4 4-1 4 1 4-1 4 0 4-1 4-1 4 1 4 0 4-1 4-1 4-6 4-1 4-2 4-5 4-3 4 0 4-1 4 0 4 1 4-3 4 0 4-1 4-1 4-4 4 0 4 1 4-1 4-4 4 0 4-2 4-3 4 3 4 0 4 0 4 0 4 2 4 1 4-5"/>
<path stroke="#e69f00" stroke-width="5.0" d="M1014 1657l4 2 4 3 4 1 4 3 4-5 4 1 4-2 4-2 4 1 4 1 4-1 4 0 4-2 4 1 4-5 4 1 4-2 4 2 4 1 4-2 4-3 4-2 4 1 4 1 4 0 4-1 4-5 4-4 4-3 4-4 4 0 4-5 4 4 4-2 4 1 4-2 4-1 4-3 4 1 4-3 4 2 4-2 4-2 4-3 4 2 4 0 4-9 4 7 4 0 4-1 4-2 4 1 4 0 4-2 4-1 4 0 4-3 4-2 4-1 4 3 4-2 4-5 4 1 4-4 4-7 4 1 4-12 4-1 4-1 4 5 4-1 4 2 4 2 4 2 4-6 4 2 4-5 4-2 4-4 4 2 4-1 4 3 4 2 4 1 4-1 4-3 4-4 4 0 4 4 4 2 4-3 4-2 4-1 4-1 4-2 4 1 4 1 4 0 4-3 4 2 4-9 4 0 4-9 4 1 4 0 4-1 4 1 4 0 4-3 4-4 4 2 4-5 4 2 4-4 4-4 4 3 4-5 4 3 4-4 4 3 4-4 4 4 4-3 4-1 4-3 4 4 4 0 4 0 4 2 4-2 4-4 4 0 4-3 4 3 4-8 4-1 4 2 4-3 4-2 4-3 4-2 4-1 4 0 4 3 4-3 4 1 4-5 4-7 4 2 4-4 4-6 4 2 4 0 4 0 4-1 4-2 4-1 4-3 4 3 4 3 4-6 4-1 4-1 4-4 4-5 4-1 4-2 4-7 4-6 4 1 4-1 4-6 4-3 4 2 4 0 4-1 4-5 4-4 4-1 4 0 4 7 4 1 4-3 4 4 4-4 4-2 4 0 4-3 4 0 4-5 4 2 4 0 4-4 4-2 4-3 4 0 4-1 4-5 4 2 4-2 4-2 4 1 4 1 4 14 4-7 4 3 4-1 4-1 4-6 4-2 4 2 4-1 4-6 4 4 4 1 4 2 4-6 4 6 4 4 4-2"/>
<path stroke="#0072b2" stroke-width="5.0" d="M214 1873l4 0 4 0 4 0 4 0 4 2 4 0 4 0 4-2 4 2 4-2 4 2 4-3 4 0 4 0 4-5 4-1 4 0 4-2 4-1 4 0 4 1 4 0 4-1 4 1 4-2 4-5 4-2 4-4 4-3 4 0 4 3 4 0 4-2 4-4 4-1 4-1 4-2 4-1 4 0 4 2 4-1 4-2 4 6 4 1 4-3 4-1 4-2 4-6 4 2 4-3 4 0 4-1 4 1 4-1 4-2 4-1 4-1 4 2 4-1 4-1 4 1 4-2 4 1 4-1 4 0 4-1 4-3 4-2 4 0 4 0 4-2 4-2 4-5 4-5 4-1 4 5 4 1 4-1 4 0 4 1 4-2 4-2 4-2 4-2 4 1 4 2 4-2 4-1 4-3 4-4 4-4 4-7 4 1 4 1 4-1 4 0 4 0 4-1 4 1 4 0 4-3 4 0 4-1 4 0 4 0 4-2 4-4"/>
<path stroke="#009e73" stroke-width="4.4" d="M214 1870l4-2 4 0 4 2 4 0 4-1 4 0 4 1 4 0 4 1 4-2 4-1 4-2 4 2 4 0 4-2 4-3 4-1 4 0 4-5 4 1 4 0 4 1 4 0 4 0 4 0 4-4 4-5 4-3 4 0 4-1 4 0 4 1 4-3 4-1 4-4 4 0 4-1 4-3 4 1 4 0 4-1 4 1 4 3 4 5 4-3 4-3 4-4 4-4 4 1 4-3 4-2 4 1 4-1 4 0 4 0 4 0 4 0 4 0 4-1 4 2 4-3 4 0 4-1 4 0 4-1 4-2 4 1 4-2 4-1 4-2 4 1 4-2 4-7 4-4 4-3 4 6 4 0 4-1 4 2 4 3 4-5 4 0 4-3 4-2 4 1 4-2 4 0 4 0 4-2 4-3 4-6 4-6 4 1 4-2 4 2 4-1 4 1 4-2 4 0 4-1 4-1 4-1 4-1 4 0 4 1 4-2 4-2 4-6 4 0 4-2 4-1 4 0 4 0 4 1 4 0 4-3 4-2 4 1 4 1 4-1 4 1 4 1 4-1 4 0 4 0 4-1 4 0 4-1 4-1 4 2 4 2 4-1 4-5 4-1 4-1 4-4 4-1 4-4 4-2 4-1 4 2 4-3 4 3 4-2 4-2 4-1 4 2 4 3 4-3 4-1 4-2 4-1 4-3 4 0 4-8 4 1 4 1 4 3 4-1 4-3 4-2 4 1 4 0 4-3 4-1 4 0 4-2 4 0 4-2 4 0 4-2M902 1739l4 8 4-1 4-3 4 1 4-4 4 1 4-3 4 2 4-3 4 0 4-1 4 1 4 0 4-5 4 0 4 0 4-1 4 1 4 1 4-2 4-2 4 0 4 1 4-1 4-2 4 2 4-1M1014 1713l4 3 4 2 4 2 4-2 4-1 4 0 4-2 4-1 4 0 4 0 4 0 4-3 4 2 4 0 4-2 4 2 4-3 4 0 4-1 4 0 4-1 4-1 4 1 4-1 4-1 4 0 4-6 4 0 4-4 4-4 4-1 4-2 4-3 4 1 4 2 4 1 4-5 4-2 4-2 4-3 4 2 4-1 4 0 4-2 4-2 4-3 4-2 4 4 4 0 4-1 4 2 4-1 4 0 4-1 4-2 4-2 4 0 4-1 4-2 4-2 4-1 4-3 4 2 4-2 4-3 4-4 4-11 4-2 4 2 4 0 4 3 4 5 4-3 4-1 4-2 4 0 4-2 4 1 4-6 4 0 4 0 4 1 4 2 4 1 4 0 4-5 4 0 4 1 4 0 4 2 4 0 4 0 4-1 4-1 4-3 4-1 4 3 4-4 4-1 4-1 4-2 4-4 4-5 4-2 4 0 4-1 4-1 4 2 4-1 4-3 4-3 4-2 4-1 4-2 4-2 4-2 4 3 4-3 4-1 4 1 4-2 4 1 4-2 4 0 4-2 4 4 4 0 4 0 4 1 4 1 4-3 4-1 4-4 4 1 4 0 4-5 4-2 4-1 4 0 4-4 4 1 4 1 4-1 4-1 4-1 4-1 4-2 4-7 4-4 4 0 4 0 4-2 4 3 4-4 4-2 4 0 4-3 4 0 4 1 4 1 4-1 4 0 4-5 4-2 4-4 4-1 4-4 4-3 4-4 4-4 4-1 4-4 4-4 4 0 4-4 4 1 4-4 4-3 4-1 4 2 4 3 4 5 4 1 4-2 4-4 4-2 4-1 4 0 4 1 4-5 4 1 4-2 4-1 4-1 4-1 4-4 4-2 4 1 4-2 4-2 4 0 4-2 4 3"/>
<path stroke="#f0e442" stroke-width="3.6" d="M762 1613l4-4 4-3 4 0M782 1608l4-1 4-2 4-1 4-3 4 5 4 2 4-1 4-2 4-2 4-3 4-1 4-2 4-7 4 1M878 1586l4-1 4 0 4 0 4 0 4-1"/>
<path stroke="#000000" stroke-width="4.0" d="M3902 618l4-2 4-2 4-1 4-4 4-4 4 0 4-2 4-3 4-1 4-3 4-2 4-2 4 0 4-1 4-3 4 1 4 2 4-2 4-3 4-3 4-4 4-2 4-1 4-3 4-1 4 1 4 0 4-2 4 3 4-1 4 1 4 0 4 0 4 1 4 0 4 0 4 0"/>
<path stroke="#0072b2" stroke-width="4.4" d="M2474 1237l4 1 4-4 4 0 4 0 4 0 4-7 4 3 4 2 4-3 4 2 4 2 4-7 4 2 4-3 4-1 4-3 4 5 4-2 4-2 4-1M2558 1191l4 7 4-3 4 3 4-2 4 0 4 1 4-9 4-4 4-2 4-2 4 3 4 3 4-1 4-1 4 2 4-1 4-2 4-4 4-7 4-2 4-5 4 1 4-1 4-1 4-4 4 0 4 0 4-3 4 0 4 0 4-2 4 2 4-2 4 1 4-2 4-5 4-4 4-2 4-1 4 5 4 3 4-5 4-2 4 0 4 2 4-4 4-1 4-1 4-4 4 3 4-2 4 2 4-3 4-4 4-5 4 1 4 0 4-3 4-1 4 0 4 1 4-2 4 0 4-2 4-2 4 6 4-4 4 0 4-3 4-2 4-6 4 1 4-1 4-6 4-2 4-2 4-9 4 2 4 1 4-5"/>
<path stroke="#000000" stroke-width="4.4" d="M2594 1182l4-3 4 0 4 0 4-4 4 3 4 2 4 1 4 2 4-7 4-9 4 5 4-2 4-3 4 2 4-2 4 2 4-2 4 0 4-4 4-1 4 0 4 0 4 1 4-3 4-1 4-2 4-2 4-5 4 2 4-2 4 3 4 2 4-2 4-4 4-1 4-3 4-3 4-3 4 3 4 1 4 0 4-1 4-5 4-4 4-3 4 1 4-3 4-1 4 1 4-3 4-2 4 0 4 4 4-2 4-1 4 1 4-4 4 0 4-1 4-1 4 0 4-6 4 1 4-4 4-1 4-5 4-5 4-4 4 0 4 2 4-2 4-2 4-13 4 4 4-4 4 0 4 4 4-6 4 4 4 3 4-4 4-8 4-1 4-3 4-6 4-1 4-1 4 2 4-4 4 0 4-1 4-1 4-7 4-5 4-3 4-2 4-3 4 1 4 1 4-5 4-6 4-2 4-1 4 3 4 3 4-2 4-3 4 0 4-1 4-5 4 0 4-1 4-2 4-3 4 1 4-5 4-4 4-2 4-4 4-2 4-5 4 5 4-1 4-5 4 2 4-1 4-1 4-2 4-3 4 1 4-3 4 1 4-5 4-5 4 0 4-5 4-9 4-6 4 3 4 1 4-4 4-1 4-1 4 3 4 1 4-6 4-2 4 2 4-3 4-4 4 2 4 1 4 2 4 1 4-1 4-3 4-3 4-1 4-2 4-4 4-5 4-7 4-5 4 2 4 1 4-6 4-1 4-3 4 2 4-1 4-4 4 1 4 1 4-10 4-2 4-3 4 2 4 2 4-6 4 3 4 0 4-2 4-2 4-13 4-8 4-4 4-4 4-1 4-1 4 0 4 2 4-6 4 1 4-6 4 4 4-6 4-3 4-1 4 1 4-3 4-3 4 13 4-2 4-8 4-6 4 0 4 2 4-2 4-1 4-5 4-6 4-1 4-4 4 1 4 1 4-4 4-3 4-3 4 1 4-5 4 0 4 0 4-2 4-1 4 2 4-4 4-2 4-1 4-8 4-2 4 0 4 4 4-3 4 2 4-3 4-2 4 0 4 0 4-1 4 0 4-1 4-2 4 0 4-1 4 0 4-4M3582 758l4-1 4 1 4-2 4-2 4 4 4-4 4 2 4 1 4-1 4 1 4 8 4 4 4-2 4 3 4-4 4-2 4-2 4-2 4 1 4 0 4 1 4-3 4-1 4 0 4 1 4 0 4-1 4-6 4-1 4-7 4 4 4-1 4 1 4-7 4 0 4-7 4-4 4 5 4-2 4 1 4-2 4 3 4-4 4-1 4-5 4-3 4-5 4 0 4 1 4 4 4-3 4 1 4-4 4-1 4-4 4 2 4-2 4-3 4-1 4-3 4 4 4 3 4-4 4 0 4-2 4-5 4 1 4-1 4-2 4-5 4-2 4-1 4 1 4 2 4-2 4-5 4-1 4-2 4 8 4 0 4 1 4-3 4-1 4-3 4-6 4-3 4-3 4 0 4-1 4-1 4 0 4-3 4-4 4-1 4 1 4 2 4-3 4-1 4-4 4-3 4-1 4-2 4-1 4 1 4-4 4-1 4 2 4-1 4 2 4-3 4 5 4-3 4 3 4-1 4 1 4 0 4-1"/>
<path stroke="#9400d3" stroke-width="5.0" d="M214 1862l4-3 4 0 4 2 4 2 4-2 4-2 4 2 4-3 4 4 4-5 4 6 4-4 4-1 4 3 4-5 4-4 4-1 4 2 4-6 4 1 4 3 4-1 4-2 4 2 4-5 4-2 4-2 4-1 4-8 4 2 4 2 4-1 4 1 4-4 4-4 4 0 4-1 4 0 4-1 4-1 4-1 4 2 4 3 4 3 4-6 4 1 4-2 4-7 4 3 4-3 4-2 4-1 4 0 4 1 4-1 4 3 4-4 4 2 4-2 4 1 4-1 4 2 4-2 4-4 4 4 4 1 4-8 4 1 4-3 4 4 4-9 4 5"/>
<path stroke="#e51e10" stroke-width="4.0" d="M1282 1565l4-1 4-1 4-1 4 2 4 4 4 2 4-2 4-2 4 0 4 0 4-2 4-8 4-2 4 3 4 2 4 1 4 3 4-2 4-3 4-2 4 2 4-1 4 1 4 1 4-1 4-3 4 0 4-1 4 0 4-1 4 1 4-2 4-5 4-5 4-4 4-7 4 3 4-2 4 0 4 0 4 0 4-3 4-3 4-4 4-3 4 1 4 1 4-7 4 2 4-1 4-1 4-1 4-1 4 0 4 0 4 0 4-2 4-1 4 2 4-1 4 2 4 0 4-1 4-3 4-1 4-2 4-1 4-1 4-3 4-2 4-2 4-2 4-1 4-1 4-1 4 1 4 1 4-4 4 2 4-7 4-6 4-1 4-3 4 1 4-5 4 3 4-1 4-1 4-3 4-1 4-2 4 2 4 2 4-5 4 1 4-3 4-2 4-4 4-5 4-2 4-2 4-5 4-3 4-2 4-3 4 4 4-2 4-3 4 0 4-4 4-5 4 1 4 1 4 2 4 4 4-2 4 0 4-2 4 0 4-3 4 1 4-3 4-1 4 0 4-4 4 0 4 0 4-2 4-3 4-1 4-1 4-2 4 0 4-4 4-1 4 6 4 13 4-2 4-2 4 0 4-3 4-2 4-1 4-2 4 0 4-2 4-1 4 1 4 3 4 1 4-2 4 4 4 0 4 3 4-5 4 1 4-2 4-1 4-2 4 1 4-5 4-4 4-3 4-5 4 1 4-2 4 1 4 2 4-2 4 0 4 0 4 0 4-1 4-1 4-3 4 1 4-2 4 0 4-2 4-2 4-1 4-8 4 0 4-3 4 1 4-1 4-2 4 1 4 1 4-9 4-5 4-2 4 1 4-4 4 0 4 1 4 0 4 1 4-1 4-1 4 0 4 2 4-4 4 6 4-3 4-1 4 0 4-4 4-1 4-1 4 1 4-2 4 3 4-1 4 2 4-1 4-4 4-1 4-3 4-2 4 0 4-2 4-1 4-1 4-1 4-6 4 0 4 0 4 1 4-5 4 1 4 0 4-2 4 1 4-1 4-2 4-5 4-4 4-3 4-4 4-2 4-1 4 0 4 2 4-2 4-1 4-4 4-2 4 0 4 2 4-3 4-9 4-6 4-2 4-5 4-3 4-1 4-4 4 0 4 1 4-4 4-4 4 2 4 1 4 0 4 2 4-1 4-1 4 0 4-2 4 0 4-5 4 0 4 0 4-6 4-1 4-1 4-2 4-4 4-2 4 1 4-1 4-4 4 0 4 0 4-2 4 1 4-1 4-1 4-1 4 0 4-1 4-2 4 2 4-5 4-2 4 0 4 0 4-1 4-1 4 0 4-1 4-2 4 0 4-2 4 0 4-3 4 3 4-3 4 2 4-4 4 0 4-2 4 1 4 1 4-3 4-3 4 0M2558 1174l4 3 4 0 4 0 4-4 4 3 4 0 4-4 4-5 4-1 4-2 4 2 4 1 4-1 4-1 4 3 4 0 4-1 4-5 4-8 4-4 4-1 4-4 4-1 4-1 4 0 4-2 4-2 4 0 4-3 4 0 4 1 4-1 4-1 4 1 4-3 4-2 4-1 4-3 4 1 4 0 4 1 4 1 4-6 4 1 4-3 4-3 4-1 4 0 4 3 4 0 4-2 4-3 4-2 4-1 4-1 4-5 4-2 4 1 4-1 4-2 4 2 4-2 4-2 4-1 4 0 4 2 4-2 4-3 4 1 4-2 4-3 4-4 4 1 4-6 4 0 4-6 4-5 4-1 4 0 4-1 4-3 4-10 4-1 4 0 4 1 4-1 4 0 4 3 4 2 4-6 4-5 4-4 4-2 4-5 4-1 4-1 4-1 4-2 4 1 4 0 4-5 4-5 4-2 4-9 4 0 4 0 4-2 4-2 4-6 4-1 4-5 4 1 4 2 4 3 4 0 4-4 4-2 4-1 4-1 4-4 4-1 4-3 4 0 4 0 4-4 4 0 4-7 4-5 4 0 4-3 4 2 4-3 4-1 4 1 4-1 4-1 4-4 4-2 4-1 4-2 4 2 4-5 4-4 4 0 4-2 4-13 4-2 4-2 4 2 4 0 4-3 4 0 4-1 4 0 4-2 4-3 4-2 4-2 4 0 4-1 4 2 4-1 4 1 4 0 4-3 4-1 4 0 4-4 4-7 4-3 4 12 4-4 4-3 4-1 4-6 4-2 4-1 4 1 4-3 4 1 4-1 4-1 4-6 4-1 4 1 4-5 4 1 4 0 4-1 4 2 4 0 4-6 4-6 4-5 4-3 4-1 4-1 4-5 4 2 4-1 4-4 4-1 4-1 4-1 4-3 4-2 4-3 4 0 4-2 4-1 4 11 4-4 4-3 4-8 4-4 4 3 4 1 4-1 4-5 4-7 4-10 4-1 4-2 4 0 4-4 4-2 4-3 4-4 4-2 4-1 4 1 4-1 4 2 4-1 4-5 4-2 4-2 4-4 4-2 4-2 4 2 4-2 4 1 4-2 4 1 4-1 4-1 4-3 4 0 4-1 4-2 4-1 4 0 4-2 4 0M3582 744l4-1 4 0 4 1 4 1 4 1 4 0 4-2 4 0 4 2 4-2"/>
<path stroke="#9400d3" stroke-width="4.4" d="M582 1761l4-2 4-1 4 2 4-1 4 0 4-1 4 0 4-2 4 1 4-1 4-3 4 0 4 1 4-1 4-6 4-4 4-1 4-2 4 1 4 1 4 0 4 2 4 0 4-3 4-2 4 0 4-1 4-1 4 3 4-4 4 4 4-1 4 0 4 0 4-1 4 2 4-1 4 0 4 2 4-3 4-1 4-2 4-3 4-1 4-4 4-5 4-1 4-3 4 5 4-2 4 2 4-2 4-2 4-2 4 1 4 6 4-4 4-1 4 1 4-4 4-2 4-4 4-4 4-2 4 4 4-1 4 1 4-2 4 0 4 1 4-5 4-1 4 1 4-2 4 0 4 0 4-2 4 0 4 2M902 1717l4 7 4-2 4-1 4-1 4-1 4-1 4 0 4-2 4-3 4 2 4-4 4 0 4 2 4-1 4-2 4-1 4-1 4 1 4-2 4 0 4-1 4 0 4 1 4 2 4-3 4 1 4-3 4-9 4 1 4 3 4 0 4 3 4-1 4 0 4-3 4 0 4 1 4-3 4 2 4-2 4 0 4-1 4-2 4 0 4-1 4 0 4-1 4 0 4-2 4 0 4 1 4-3 4 1 4-1 4-3 4-4 4-2 4-1 4-5 4-3 4 1 4 0 4-1 4 1 4-2 4 2 4-2 4-3 4-1 4 2 4-3 4 0 4-2 4-4 4-1 4 3 4-1 4-1 4 1 4 1 4 4 4-3 4-4 4-1 4 0 4-2 4-4 4-1 4 1 4-1 4 0 4-4 4-4 4-4 4-14 4 1 4 1 4-2 4 0 4 4 4 2 4-1 4-2 4-1 4-1 4-2 4-6 4 0 4 3 4 0 4 3 4-1 4-1 4-1 4-1 4 0 4 1 4 1 4 0 4 0 4-1 4-1 4-4 4 1 4-2 4 0 4 0 4-3 4-1 4-4 4-6 4-2 4-1 4 1 4-2 4 3 4-2 4-4 4-3 4-3 4 1 4 0 4-3 4 1 4-3 4-1 4-1 4 0 4-3 4 1 4 2 4-4 4-1 4 4 4 1 4 2 4-1 4-2 4-2 4-2 4 0 4-3 4 1 4-3 4-2 4-4 4-1 4-2 4 2 4-3 4 3 4 0 4-3 4-1 4-1 4-10 4-2 4 0 4 0 4-2 4 1 4-1 4-4 4 0 4-2 4-1 4 1 4 2 4-1 4-2 4-3 4-3 4-4 4-2 4-5 4-2 4-4 4-3 4-1 4-3 4-2 4-3 4 0 4-2 4-4 4-6 4 2 4-1 4 4 4 7 4-3 4-2 4-1 4-1 4-2 4-1 4-1 4-4 4 4 4-3 4-2 4-2 4 0 4-3 4-1 4-2 4-1 4 1 4-2 4 0 4-2"/>
<path stroke="#9400d3" stroke-width="4.0" d="M2474 1292l4 1 4-4 4 2 4-2 4 0 4 1 4 0 4-4 4-2 4 3 4-3 4 2 4-3 4-1 4-1 4-2 4 1 4-3 4-3 4 0M2558 1247l4 6 4 1 4-1 4 1 4 0 4-1 4-5 4-1 4-3 4-3 4 1 4-1 4 1 4 0 4 2 4 0 4 2 4-5 4-5 4-8 4-4 4-3 4 1 4 2 4-1 4-2 4-1 4-5 4 0 4-4 4 3 4 4 4-3 4 0 4 0 4-5 4 1 4-3 4-2 4 3 4 2 4-2 4-3 4-3 4-1 4-3 4-1 4 1 4 1 4 2 4-2 4-3 4-3 4-3 4 1 4-5 4-4 4 4 4 0 4-1 4-3 4 1 4 2 4-3 4-1 4 4 4-4 4 0 4 0 4-4 4-2 4-3 4-3 4-2 4-2 4-6 4-2 4 0 4-1 4-4 4-12 4-12 4-1 4-2 4 1 4-3 4 4 4 2 4 6 4-8 4-5 4-6 4-4 4 0 4-4 4-1 4-4 4 0 4 0 4 1 4-5 4-4 4 1 4-10 4-2 4 1 4-1 4-2 4-11 4-2 4-5 4-1 4 5 4 4 4-3 4-4 4 1 4 3 4-8 4 1 4-4 4-4 4-2 4 2 4 0 4-2 4-3 4-9 4 0 4-2 4 0 4 1 4-1 4-2 4 2 4-4 4-5 4-1 4 0 4-3 4 4 4-6 4-6 4 0 4 2 4-6 4-2 4 0 4 0 4 2 4-2 4-3 4 2 4-3 4 1 4 1 4-8 4 3 4 1 4-2 4-1 4 1 4-1 4 2 4-3 4 0 4-5 4-3 4-3 4-5 4-1 4-6 4-4 4 1 4-3 4-3 4 2 4-2 4-4 4 2 4-2 4 1 4-7 4 0 4-5 4 4 4-3 4-4 4 6 4-4 4 0 4-2 4-6 4-7 4-3 4 0 4 1 4-7 4-1 4-1 4 1 4-1 4-1 4-1 4 0 4-6 4 0 4-5 4-2 4 2 4 11 4-8 4-2 4-4 4-3 4 1 4-2 4 1 4-5 4-6 4-2 4-1 4-1 4 1 4-5 4-1 4-3 4-3 4-3 4 2 4-4 4 0 4 4 4-3 4-8 4 1 4 1 4-4 4-2 4-4 4 3 4 0 4-4 4 2 4-3 4-1 4 3 4-4 4-2 4-1 4 1 4 1 4-1 4-4 4 1M3582 825l4 3 4-4 4 3 4 1 4-2 4 6 4-2 4 0 4-2 4-1M3626 848l4 3 4-1 4 1 4-2 4 1 4-1 4-1 4-1 4-5 4 1 4 1 4-1 4-1 4 3 4-6 4 3 4-8 4-3 4 1 4-2 4 0 4-2 4-3 4 2 4-4 4-4 4 1 4-3 4 1 4 0 4 0 4-2 4-4 4-6 4 1 4-2 4 1 4-1 4 0 4 0 4 1 4-4 4-1 4 1 4-5 4-2 4-2 4 0 4 0 4 3 4 3 4-1 4-6 4 0 4-8 4-1 4 3 4 0 4 1 4-2 4-8 4 0 4 0 4 5 4-6 4-4 4-1 4 2 4-2 4-1 4-4 4-3 4 0 4-3 4-2 4-2 4-2 4-5 4 2 4-1 4-6 4 1 4-5 4-2 4 2 4 2 4 1 4-2 4-5 4-5 4 2 4-2 4-2 4-1 4-1 4-2 4 0 4-2 4 1 4 5 4-1 4 0 4-2 4 3 4-4 4 5"/>
<path stroke="#000000" stroke-width="4.0" d="M1014 1697l4 1 4 1 4 5 4-3 4 1 4 1 4-4 4-2 4-2 4-1 4 3 4-3 4 1 4 0 4-4 4 1 4 4 4-3 4 1 4-1 4-5 4 0 4 4 4-3 4-2 4 0 4-7 4 1 4-3 4-3 4-2 4-3 4-2 4-1 4 6 4-4 4-3 4-2 4 0 4-1 4 1 4-4 4 1 4-4 4 1 4-3 4-1 4 5 4-3 4 1 4-2 4 5 4 1 4-6 4 0 4 0 4 1 4-3 4-5 4-2 4 4 4-6 4 2 4-2 4-6 4-2 4-13 4-1 4 1 4 0 4-1 4 8 4 2 4-2 4-3 4 0 4-3 4 0M1330 1608l4 5 4-2 4 2 4-1 4 6 4-3 4-2 4-1 4 0 4-1 4 0 4 3 4 1 4-3 4-2 4-2 4 0 4 0 4 0 4-2 4-4 4-1 4-2 4-6 4 0 4-1 4-1 4 3 4-1 4-2 4-1 4 0 4-5 4-5 4 2 4-7 4 2 4 0 4-4 4-1 4 4 4-3 4 0 4 2 4-3 4 1 4-2 4-2 4 8 4 0 4-2 4-2 4-5 4 0 4 0 4 2 4-2 4-5 4 1 4-6 4 0 4-3 4 1 4-1 4 0 4 1 4 0 4-4 4-8 4-3 4 0 4-3 4 1 4 3 4-2 4-2 4-5 4-2 4 0 4 2 4 1 4 0 4-7 4 0 4-4 4-3 4 0 4-4 4-1 4-5 4-3 4 0 4-6 4 0 4-3 4-7 4 0 4 3 4-8 4 0 4-2 4 3 4 8 4 1 4-4 4-2 4 2 4-3 4-1 4-5 4-1 4 2 4-3 4 0 4-2 4-1 4 2 4-7 4-2 4 0 4-2 4 3 4-3 4 1 4 12 4 0 4-2 4-3 4 0 4-2 4-1 4-4 4-4 4 1 4 1 4 4 4 0 4-2 4 1 4 3 4 3 4 0 4-4 4 1 4-3 4-1 4 1 4-5 4 3 4-7 4 0 4-7 4-4 4-1 4 2 4 2 4-1 4 3 4 0 4-3 4 0 4-3 4 0 4-2 4 0 4 0 4 0 4 0 4-4 4-9 4-4 4 2 4 2 4-4 4-1 4-1 4 0 4-7 4-4 4-2 4-1 4-1 4 1 4-3 4 0 4 3 4 2 4-3 4-2 4 2 4 1 4-2 4 1 4-1 4-1 4-3 4-2 4 0 4 4 4-5 4 0 4 1 4 3 4-2 4-4 4 2 4-4 4-2 4-1 4-1 4-4 4-3 4 1 4-11 4 3 4-2 4-2 4 1 4-4 4 1 4-2 4 3 4-6 4 3 4-4 4-4 4-7 4-4 4 0 4-3 4 3 4 0 4-2 4 0 4-2 4-2 4 0 4-3 4 2 4-12 4-4 4-2 4-3 4-5 4-2 4-2 4-3 4 1 4 2 4-6 4 0 4 2 4 1 4 4 4-2 4-2 4-1 4-5 4-2 4 5 4-6 4 2 4-5 4-9 4 0 4-1 4 2 4-3 4-1 4 2 4-4 4 2 4-6 4 0 4 2 4-3 4-1 4-2 4 5 4-1 4-2 4 2 4-7 4-2 4 0 4 0 4 2 4-4 4-3 4 5 4-2 4-4 4 2 4-2 4-1 4 2 4 0 4-5 4 1 4-3 4 1 4-3 4 2 4 1 4-6 4 2M2558 1235l4 1 4-1 4 6 4-2 4 1 4 1 4-7 4-6 4 3 4 3 4-3 4-2 4 5 4-3 4 4 4-2 4 2 4-6 4-7 4-3 4-4 4 0 4 0 4-1 4-5 4-2 4 1 4 0 4 1 4-1 4-2 4-2 4 0 4 1 4-1 4-5 4-4 4 0 4 1 4 1 4 2 4-1 4-5 4-1 4 2 4-8 4-5 4 8 4 1 4-1 4-6 4 3 4-7 4-2 4-1 4-1 4 1 4-3 4 0 4-3 4 2 4 1 4-6 4-3 4 6 4 0 4 1 4-5 4 2 4-3 4-3 4-4 4 2 4-7 4-1 4-5 4-5 4-2 4 0 4 1 4-5 4-9 4 0 4-5 4 4 4-3 4-2 4 4 4 4 4-2 4-7 4-3 4-7 4-2 4-1 4 0 4-4 4 2 4-2 4 1 4-4 4-5 4-2 4-5 4 0 4-4 4 2 4-3 4-5 4-7 4 3 4-3 4 1 4 3 4-1 4-5 4 0 4-1 4-3 4-2 4-2 4-2 4-3 4-2 4 4 4-1 4-10 4-3 4 3 4-5 4-1 4-3 4 0 4 0 4 1 4-3 4 1 4-6 4-1 4 0 4-2 4-1 4-7 4 0 4 3M3142 1008l4-3 4 3 4-2 4-1 4 0 4 1 4-5 4-3 4-3 4 0 4 0 4-2 4 2 4-1 4 0 4 0 4 3 4-2 4-4 4 3 4-5 4-3 4-5 4-4 4-3 4-3 4-4 4-3 4-3 4 1 4-1 4-1 4-3 4 0 4-1 4-1 4-4 4-3 4 5 4-4 4-3 4 2 4 2 4-2 4-3 4-4 4-6 4-5 4-4 4-1 4 2 4-4 4-4 4 3 4-1 4-1 4 0 4-2 4-7 4-3 4-2 4 0 4 1 4-1 4 9 4-6 4 0 4-4 4-3 4-5 4 2 4 2 4-6 4-8 4 2 4 0 4-1 4 0 4-5 4-5 4-3 4-1 4-1 4-2 4-4 4 0 4 4 4 0 4-6 4-1 4-4 4-3 4-3 4 0 4 4 4-3 4 0 4-2 4 1 4-2 4 0 4-2 4-2 4-2 4 2 4-2 4-1 4-1 4 0M3582 819l4 0 4-2 4-2 4 5 4-4 4 5 4-2 4 1 4-2 4 0 4 9 4 6 4-4 4-2 4-1 4 3 4-3 4-4 4-1 4-1 4 3 4-2 4 1 4-2 4 1 4-2 4-4 4-3 4-4 4-1 4 2 4-3 4 0 4-3 4-2 4-4 4-1 4 1 4 1 4-2 4-1 4-5 4 3 4-1 4-5 4-4 4 0 4 1 4-5 4 2 4-4 4 1 4-1 4-3 4 2 4-6 4 0 4-2 4 4 4-2 4 0 4 2 4-1 4-5 4-5 4 2 4-2 4-2 4-2 4 0 4-1 4-4 4-3 4 7 4-4 4-5 4-1 4-2 4 2 4 1 4 0 4-4 4-4 4-3 4-1 4-3 4-3 4-3 4-3 4 2 4-3 4-1 4-2 4 0 4-4 4 3 4 3 4-5 4-1 4-3 4-5 4-3 4-2 4 2 4-2 4 2 4-4 4 0 4 0 4 3 4-2 4 4 4 0 4 0 4 1 4-3 4 1"/>
<path stroke="#e51e10" stroke-width="4.0" d="M2186 1318l4-2 4-1 4 1 4-1 4-3 4 0 4 0 4 0 4 0 4-3 4-4 4-2 4-4 4-6 4-1 4 0 4-3 4 2 4-3 4-2 4 0 4-1 4 0 4 1 4-5 4-4 4-2 4-4 4-3 4-4 4-3 4-1 4-3 4-1 4 1 4-3 4 0 4-1 4 4 4 1 4-4 4 2 4-2 4-2 4 2 4-4 4-2 4-2 4-5 4 1 4-2 4-2 4-2 4 0 4-1 4-3 4 0 4-2 4-3 4-1 4 1 4-1 4 2 4-2 4 1 4-1 4-4 4 2 4-5 4-1 4 0 4 0 4-1 4-1 4-1 4-1 4-1 4-2 4 0 4-4 4 3 4 0 4-3 4 0 4 0 4 1 4-3 4-3 4 1 4-1 4-1 4 0M2558 1170l4 7 4-1 4-1 4-4 4 2 4 3 4-5 4-7 4 1 4-3 4 1 4 0 4 0 4-2 4 2 4 1 4-2 4-3 4-9 4-2 4-4 4-2 4 0 4 0 4-4 4 0 4-2 4 1 4-3 4 1 4-1 4-1 4 0 4-2 4 1 4-5 4-2 4-2 4 2 4-1 4 2 4 0 4-5 4 1 4-3 4-2 4-2 4-1 4 0 4 4 4-7 4-2 4 0 4-3 4-4 4 0 4-2 4 1 4-5 4-1 4 3 4 0 4-2 4-1 4-2 4 3 4-3 4-1 4 0 4 0 4-5 4-4 4 2 4-7 4-2 4-5 4-4 4 1 4 1 4-2 4-3 4-10 4-1 4-1 4-1 4-2 4 1 4 2 4 8 4-9 4-4 4-8 4 1 4-5 4-4 4-2 4 3 4-2 4 1 4-3 4-6 4-2 4-5 4-3 4 0 4-3 4-1 4-3"/>
<path stroke="#e51e10" stroke-width="4.0" d="M2014 1453l4 4 4-3 4 1 4-1 4-1 4 3 4-12 4-1 4-2 4 1 4-1 4-3 4-1 4 1 4 2 4-4 4 1 4 1 4 0 4 0 4 2 4-2 4 0 4-2 4-1 4-4 4-1 4 1 4 1 4 2 4-1 4 0 4-1 4-2 4-1 4-3 4 0 4-1 4-4 4-3 4 1 4-5 4-10 4 0 4 4 4-5 4 0 4-2 4 1 4 1 4-1 4-1 4-4 4 0 4-9 4-3 4-2 4 0 4-2 4-2 4 1 4-1 4-2 4-1 4-2 4 2 4-3 4 0 4-7 4-6 4-6 4 0 4-2 4-5 4 1 4-2 4-3 4-4 4 1 4-1 4 6 4-1 4 2 4-3 4-2 4-1 4 0 4-2 4-1 4-2 4-2 4-4 4-11 4 1 4-6 4-1 4-1 4-2 4-1 4 0 4 0 4-1 4-3 4-2 4 0 4 1 4 0 4 0 4 0 4-4 4 3 4-6 4-2 4-1 4 2 4 0 4-3 4 2 4 1 4-4 4-4 4 0 4 0 4-1 4 0 4-1 4 1 4-4 4 2 4-3 4 0 4 1 4-3 4 1 4-2M2558 1250l4 5 4 0 4 1 4-2 4 2 4 0 4-5 4-7 4 1 4-2 4 0 4 2 4-2 4 1 4 0 4 4 4-6 4-2 4-4 4-6 4-3 4-3 4-1 4 2 4-1 4 0 4-1 4-4 4 0 4 2 4-3 4-2 4 1 4-3 4 2 4-4 4-2 4-1 4-3 4 2 4 4 4 1 4-6 4-2 4-4 4 1 4-3 4 0 4 1 4 3 4-4 4 0 4-1 4-6 4 0 4-2 4-2 4 1 4-3 4-1 4-1 4 2 4-2 4-1 4-1 4 3 4-1 4 0 4-3 4-4 4-2 4-2 4-3 4-1 4 0 4-6 4-5 4 0 4 1 4-4 4-1 4-12 4 1 4 0 4-1 4 0 4 3 4 0 4 4 4-8 4-5 4-2 4-2 4-4 4-4 4-1 4 1 4 0 4-2 4-1 4-2 4-7 4-3 4-5 4-1 4 1 4 0 4-5 4-4 4-3 4-4 4 0 4 1 4 3 4 1 4-5 4-2 4-1 4-2 4 1 4-3 4-3 4-4 4 1 4-1 4 0 4-7 4-4 4 0 4-2 4-1 4 2 4-5 4 1 4 0 4-2 4-2 4-6 4 1 4 2 4-3 4-3 4-3 4-1 4-2 4-13 4-1 4-1 4 0 4 2 4-5 4 0 4 0 4 1 4-6 4 0 4-1 4-2 4 0 4 0 4-2 4 3 4 3 4 0 4-5 4 0 4-3 4-3 4-4 4-3"/>
<path stroke="#000000" stroke-width="4.4" d="M510 1736l4-4 4 8 4-1 4-2 4 2 4-1 4-2 4-1 4-4 4 1 4 7 4-6 4-2 4-4 4 2 4-3"/>
<path stroke="#9400d3" stroke-width="4.4" d="M582 1705l4 2 4-2 4 3 4-2 4-1 4-1 4-1 4-1 4 0 4-1 4 2 4-3 4 1 4-2 4-2 4-7 4 0 4-4 4 4 4 0 4-2 4-2 4 1 4-1 4-3 4 3 4-2 4 0 4-3 4 4 4-1 4 0 4 1 4-1 4-3 4 5 4-2 4 0 4 3 4-1 4-1 4-7 4-1 4-1 4-3 4-3 4-4 4 1 4-1 4 1 4-1 4 0 4-3 4-2 4 2 4 5 4-1 4-1 4-2 4-3 4 0 4-4 4-5 4-1 4 1 4 0 4 0 4 0 4 2 4-3 4-1 4-2 4-1 4 1 4-1 4-3 4-1 4 3 4-1M902 1666l4 8 4-5 4-1 4-3 4 3 4-3 4-3 4-1 4-3 4 3 4-2 4 0 4-1 4 0 4 0 4-1 4-1 4 1 4 0 4-4 4 1 4 1 4-1 4 2 4-1 4-1 4-4 4-6 4 2 4 0 4 0 4 2 4-1 4 1 4-2 4-2 4 3 4-4 4 1 4 0 4-2 4 0 4 0 4-2 4 0 4 0 4 0 4 0 4-3 4 2 4 1 4-2 4-5 4 4 4-7 4-2 4-4 4-2 4-6 4 0 4-3 4 1 4 2 4 0 4-2 4-1 4-2 4-3 4 1 4-2 4 0 4-2 4-3 4-2 4-3 4 4 4 2 4-1 4-3"/>
<path stroke="#009e73" stroke-width="4.0" d="M2766 1071l4-2 4-2 4-3 4-3 4-2 4 1 4-1 4-4 4 2 4 0 4-2 4 1 4-3 4 2 4-2 4 0 4 0 4-1 4-5 4-3 4-2 4-7 4 1 4-4 4-6 4 2 4-2 4-2 4-4 4-8 4-1 4-1 4 0 4-1 4-1 4 4 4 3 4-5 4-6 4-7 4-1 4-5 4-2 4 1 4-2 4-2 4 1 4 0 4-3 4-5 4-4 4-7 4-1 4-1 4-1 4-1 4-6 4-4 4-5 4 2 4 3 4 5 4-4 4-5 4 1 4-2 4-3 4 0 4-3 4-2 4-2 4-2 4-1 4-2 4-3 4-7 4-2 4-3 4 3 4-2 4-1 4 2 4-1 4-4 4-2 4-4 4-2 4 2 4 0 4-7 4-1 4-2 4 0M3142 884l4-1 4-1 4 3 4-4 4 0 4 0 4-1 4-2 4 0 4-4 4-2 4 1 4-1 4-5 4 4 4 1 4-2 4 0 4-1 4-2 4-1 4-3 4-4 4-5 4 12 4-6 4-1 4-1 4-5 4-3 4 1 4 0 4-1 4-1 4-3 4 1 4-10 4 2 4-4 4 1 4-2 4 0 4-1 4 1 4 3 4-7 4-8 4-4 4-1 4-4 4 2 4-6 4 1 4-2 4-2 4-1 4 0 4 0 4-3 4-6 4-1 4-1 4-2 4 0 4 11 4-4 4-4 4-5 4-4 4-1 4 2 4-2 4-3 4-6 4 0 4-1 4-3 4-3 4 1 4-4 4-4 4-3 4-2 4-1 4 0 4-1 4 3 4-2 4-3 4-4 4-1 4-3 4-2 4-4 4 2 4-1 4 0 4-2 4 0 4-2 4-1 4 1 4 0 4-3 4-2 4 2 4-4 4 1 4 0M3582 703l4 0 4-2 4-1 4 0 4 0 4 2 4 0 4 1 4-2 4 1 4 13 4 1 4-5 4 0 4-1 4 2 4-3 4-1 4-4 4 3 4-2 4 1 4-2 4-1 4 1 4-3 4-3 4-6 4-1 4 0 4 0 4-1 4-2 4 0 4 0 4-8 4-2 4 2 4-4 4 2 4-1 4 1 4-2 4-1 4-8 4-1 4-3 4 1 4-2 4 0 4 2 4-1 4-5 4 0 4 0 4-4 4-1 4-3 4 1 4 2 4 0 4 0 4 1 4-3 4-6 4-2 4-1 4 0 4 1 4-4 4-2 4-4 4-1 4 2 4 1 4-3 4-5 4 0 4 0 4-1 4-2 4-1 4-3 4-2 4-3 4-3 4-3 4-1 4-2 4-2 4-1 4-4 4-1 4-1 4-4 4 3 4 2 4 0 4-4 4-5 4-3 4-1 4-1 4-2 4-1 4 0 4 0 4-1 4 1 4 0 4 2 4 3 4-2 4-1 4 1 4-1 4 3"/>
<path stroke="#9400d3" stroke-width="4.0" d="M1670 1377h0M1686 1365l4-8 4 5 4-6 4-6 4-2 4 0 4-6 4 5 4-9M1734 1339l4 3 4 3 4-1M1762 1345l4-4 4-1 4-9 4 7 4-4 4-5 4-4 4-5M1810 1326l4-7 4 4 4-1 4-1M1838 1328h0M1858 1317l4 1 4 3 4-4 4-6 4 10M1890 1323h0M1902 1319l4 0 4 3 4-1M1922 1320l4-6 4-9 4 4 4-2 4-2M1998 1296l4-1M2010 1280l4-1 4 3 4-2 4 0 4-9M2062 1257l4 5M2078 1254h0M2086 1263h0M2118 1251l4 0 4 0 4 4 4 1 4-5 4 0M2154 1251l4-8 4 1 4-3 4 0M2190 1222h0M2202 1221l4 3M2230 1210h0"/>
<path stroke="#f0e442" stroke-width="4.4" d="M3146 1054l4 0 4 0 4 0 4 0 4-1 4 0 4-3 4-3 4-1 4 1 4-4 4 2 4-3 4 0 4 3 4 1 4 0 4-2 4-1 4-3 4-5 4-5 4-1 4-4 4-4 4-2 4 0 4-3 4-3 4-3 4 2 4-2 4-1 4-2 4 1 4-9 4 1 4-1 4-1 4-1 4 0 4-1 4 0 4 0 4-3 4-6 4-5 4-3 4-1 4-1 4-4 4 0 4 0 4-3 4-1 4-2 4-1 4-2 4-4 4-3 4 2 4-3 4-3 4 13 4-2 4-2 4-8 4-3 4 1 4 0 4 1 4-7 4-4 4-2 4-1 4-2 4-1 4-1 4-4 4-2 4-2 4-2 4-2 4-1 4-1 4 1 4 0 4-3 4-3 4-1 4-5 4-1 4-3 4 3 4-3 4 1 4 0 4 0 4-2 4-2 4 0 4-3 4 1 4-3 4 2 4-2 4-1 4-1M3582 872l4 0 4-1 4 0 4 0 4 0 4 0 4-2 4 0 4 2 4 1 4 7 4 4 4-3 4 1 4-2 4 2 4 0 4-3 4-2 4 0 4-1 4-1 4 0 4-2 4 0 4 0 4-2 4-7 4 0 4-1 4-1 4-1 4-2 4 1 4-2"/>
<path stroke="#9400d3" stroke-width="4.0" d="M214 1745l4 1 4 0 4 0 4 2 4-1 4 0 4 1 4-3 4 2 4-2 4 1M266 1746l4-2 4-3 4-2 4-3 4 1 4-5 4 3M306 1736l4 1 4-2 4-7 4-1 4-4 4-3 4-1 4 1 4 1 4-1 4-4 4 0 4-3 4-1 4-3 4 2 4 3 4-2 4-1 4 4 4 3 4-6 4 0M406 1705l4-1 4-2 4-1 4 0 4 0 4-2 4 0 4 1 4-2 4 1 4-1M458 1697l4-1 4 1 4-5 4 3 4-1M486 1692l4 1 4-3 4-2 4-2 4-7 4-2 4-3 4 3 4 1 4-1 4 2 4 2 4-4 4-1 4-2 4-4 4 4 4-2 4 0 4-1 4-4 4-1 4-8M590 1653l4 1 4-1 4-1 4 1 4-1 4-1 4-2 4 0 4 0 4-4 4 1 4 2 4-6 4-6M662 1638l4-2 4-2 4 1 4-1 4-2 4 3 4-3M698 1631l4 2 4 0 4-2 4 3 4-1 4 0M730 1633h0M746 1628l4-2 4 0 4-3"/>
<path stroke="#0072b2" stroke-width="3.6" d="M510 1713l4-1 4 6 4 1 4-1 4 0 4 2 4-2 4 2 4-6 4-3 4 0 4-2 4 1 4-4 4 0 4-4 4-3 4-4 4-2 4 2 4-1 4-1 4-1 4 0 4-2 4 3 4-4 4-3 4 2 4-3 4-1 4-4 4-2 4 0 4 1 4-3 4-2 4 2 4-1 4-1 4 2 4-4 4-3 4-3 4 4 4 0 4 0 4 2 4 2 4-3 4 1 4 1 4-1 4 2 4-2 4-1 4 2 4-2 4-2 4-4 4 0 4-4 4-1 4-2 4-3 4-4 4 3 4 0 4 3 4 0 4-2 4-7 4 6 4 5 4-1 4-3 4-2 4-5 4-1 4-3 4-9 4-1 4 5 4 2 4 2 4-1 4-1 4-1 4-2 4 0 4-5 4 0 4-3 4 3 4-3 4 2 4 4M902 1653l4 4 4 0 4-5 4 3 4-4 4 0 4 1 4 2 4-5 4 0 4 1 4-3 4 1 4 1 4 1 4-6 4-2 4 1 4 3 4-6 4-3 4 8 4-2 4-3 4 0 4 4 4-6 4-4 4 1 4 2 4 3 4 4 4-4 4-4 4 2 4-2 4-1 4-1 4 2 4-2 4 0 4-3 4 2 4-4 4 1 4 1 4-1 4-3 4 0 4 2 4 1 4-2 4 1 4-4 4-5 4-6 4 2 4-7 4-1 4-1 4 0 4-4 4 6 4-6 4 1 4 0 4-1 4-3 4 0 4-4 4-1 4 3 4-1 4-8 4-2 4 5 4 3 4 0 4-1 4 0 4 0 4-2 4 0 4-8 4 3 4-1 4-3 4-2 4 3 4-5 4 0 4 0 4-7 4-1 4-14 4-2 4 3 4 0 4-4 4 9 4-2 4-3 4 1 4-1 4-1 4 2 4-12 4 4 4-2 4 0 4 4 4 6 4-5 4-3 4-1 4 3 4-6 4 4 4-1 4 2 4-3 4-1 4-1 4-4 4 2 4-1 4-3 4 5 4-10 4 0 4-9 4 4 4-4 4 0 4 1 4-2 4-1 4-1 4-1 4-6 4-1 4 1 4-6 4 0 4-1 4-1 4 3 4 0 4-3 4-3 4 1 4-1 4 2 4-1 4 2 4 0 4-3 4 2 4-3 4-4 4 0 4 0 4-5 4-4 4 1 4-1 4 2 4-7 4-2 4 1 4-2 4 0 4 1 4 0 4-9 4-7 4-3 4 2 4-5 4 0 4 0 4-1 4 2 4-5 4 0 4-5 4 1 4 4 4-1 4-4 4-4 4-4 4-8 4 5 4-6 4-1 4-2 4-6 4-4 4 0 4-1 4-6 4-3 4 1 4-6 4-3 4 1 4-1 4 10 4-1 4 1 4-4 4 0 4-2 4-2 4-1 4-1 4 0 4-2 4 1 4-5 4-2 4 3 4-3 4-2 4-2 4-4 4-1 4-1 4-1 4 2"/>
<path stroke="#e51e10" stroke-width="4.4" d="M2886 1131l4-1 4-1 4 0 4 1 4 0 4 1 4 4 4-5 4-5 4-6 4 0 4-6 4 0 4-4 4 1 4 0 4-3 4 0 4-5 4-3 4-2 4-6 4-1 4-4 4 2 4-4 4-5 4-2 4-2 4 0 4 3 4 2 4 0 4-4 4-3 4-1 4-2 4-2 4-3 4 1 4-4 4-1 4 0 4-1 4-3 4-7 4-3 4-2 4 4 4-5 4-1 4-3 4 3 4 1 4-6 4-4 4-1 4 1 4 1 4-5 4-4 4 0 4 1"/>
<path stroke="#e51e10" stroke-width="5.0" d="M510 1758l4 2 4 1 4-2 4-1 4 3 4 0 4-4 4 4 4-6 4-1 4 2 4-1 4-3 4-2 4 0 4-3 4-3 4-7 4 1 4-2 4 1 4 1 4-3 4 1 4-2 4 0 4 0 4 1 4-1 4-4 4 0 4 0 4-3 4-6 4 1 4-1 4-1 4 0 4 0 4 3 4-3 4-2 4-3 4 2 4-2 4 1 4 0 4-1 4 1 4 0 4 1 4 1 4-2 4 0 4 0 4 2 4-1 4-2 4-2 4 2 4-6 4-3 4-3 4-2 4-1 4 0 4-1 4 1 4 0 4 0 4-5 4-3 4 3 4 5 4-1 4-3 4-3 4-1 4-1 4-3 4-5 4 1 4 0 4-1 4 6 4-1 4-3 4-4 4 0 4 1 4-4 4-4 4 0 4 2 4-5 4 2 4 0M902 1693l4 10 4-1 4-2 4 0 4-1 4-3 4-1 4 2 4-4 4 2 4-5 4 2 4 1 4 0 4-4 4 0 4-1 4 0 4-1 4-4 4 1 4-1 4 4 4-1 4-1 4 0 4-4 4-7 4 3 4 0 4 2 4 2 4-2 4-3 4 0 4 2 4-1 4-1 4-2 4-1 4-1 4 0 4 2 4 1 4-4 4 0 4-3 4 0 4 0 4 0 4 2 4-3 4-1 4 0 4-6 4-2 4-4 4-1 4-2 4-2 4-3 4-2 4 5 4-4 4-2 4 1 4-3 4 1 4-1 4-1 4-3 4-1 4-1 4 0 4-7 4 6 4-1 4 1 4 0 4-3 4 2 4-1 4-2 4 1 4 0 4-3 4-1 4-3 4-1 4-2 4 0 4-1 4-6 4-3 4-12 4 0 4 1 4 1 4-2 4 5 4 3 4-5 4 1 4-2 4-2 4 1 4-4 4-1 4 1 4 0 4 3 4 2 4-1 4-7 4-1 4 6 4-3 4 2 4-3 4-1 4 0 4 3 4-3 4-2 4 0 4 0 4-1 4-4 4-5 4-3 4-7 4 2 4 0 4 2 4-3 4 2 4-4 4-1 4-3 4-4 4 1 4-1 4-6 4 2 4 0 4 0 4-2 4 1 4-1 4-2 4 0 4-3 4 0 4 1 4 1 4 1 4 0 4 1 4-3 4-2 4-1 4-1 4-1 4-1 4-4 4 0 4-1 4-1 4-3 4-1 4-2 4 2 4-2 4-2 4 0 4-9 4 0 4-5 4-1 4 1 4 2 4-4 4 0 4-6 4 1 4 2 4 1 4-2 4-1 4 0 4-4 4-2 4-5 4-3 4-4 4-2 4-2 4-2 4-5 4-3 4 0 4-2 4-5 4 1 4-3 4-6 4 2 4-1 4 5 4 6 4-4 4 1 4-1 4-4 4 0 4-1 4-3 4-3 4 2 4-2 4-3 4 2 4-3 4-1 4-3 4-2 4-3 4 0 4-2 4-1 4 4 4 12 4-3 4-4 4 1 4-1 4-2 4-1 4-3 4 0 4 0 4-3 4 2 4 3 4-1 4 2 4-1 4 2 4 1 4-1 4 0 4-2 4-2 4-3 4 4 4-5 4-3 4-5 4-5 4-2 4 2 4 2 4-2 4 1 4 0 4 0 4 0 4 1 4-3 4-2 4 1 4-2 4-1 4-2 4-3 4-3 4-7 4-2 4 1 4 1 4 1 4-3 4 1 4-2 4-9 4-4 4-1 4 2 4-3 4-4 4 0 4 3 4-1 4-1 4 0 4 1 4 0 4 2 4-1 4-1 4-2 4 2 4-4 4 1 4-2 4 1 4-2 4 1 4-1 4 1 4 1 4-4 4-1 4-1 4 0 4-3 4-1 4-3 4 1 4-8 4-7 4-2 4 2 4-4 4-1 4-1 4 0 4 2 4-2 4 0 4-1 4-5 4-6 4-3 4-3 4 0 4-3 4-1 4 0 4 0 4 0 4 0 4-2 4-2 4-4 4-2 4-6 4-4 4-4 4-4 4-2 4-1 4-3 4-1 4-4 4 0 4-3 4 1 4 2 4-1 4 4 4-1 4 0 4-1 4-4 4 0 4-2 4-3 4 0 4-4 4-5 4 1 4-3 4-1 4-3 4-1 4 1 4-4 4 2 4-4 4 0 4-1 4 4 4-4 4 0 4 1 4-2 4 1 4-3 4-4 4-2 4 2 4-2 4 0 4-1 4 0 4-4 4 3 4-2 4 0 4-4 4-2 4 3 4-1 4 1 4-2 4-3 4-1 4 2 4-1 4 0 4-4 4-1M2558 1208l4 6 4-1 4-2 4 3 4-1 4-3 4 0 4-6 4-1 4 1 4-1 4-2 4 2 4-2 4 2 4 0 4-2 4-4 4-6 4-4 4-2 4-2 4 1 4-4 4-3 4 2 4-3 4 0 4-1 4-1 4 2 4-1 4 0 4-3 4-5 4 3 4-1 4-2 4-3 4 4 4-3 4 5 4-8 4 1 4-3 4-2 4-3 4 1 4 1 4 2 4-2 4-4 4-1 4-4 4 0 4-2 4-2 4-1 4-2 4 2 4-1 4-1 4 0 4 0 4 0 4-2 4 1 4 0 4-2 4-1 4-8 4-1 4-2 4-4 4 1 4-3 4-8 4 1 4 2 4-4"/>
<path stroke="#e69f00" stroke-width="3.8" d="M2590 1079l4 0 4-1 4 0 4 1 4 0 4-1M2622 1084l4-6M2638 1064l4-1 4-3 4-2 4 0 4 0 4 0 4-2 4-1 4-3 4 1 4 2 4 1 4-5M2702 1050l4-4 4-3 4 0 4 4 4 0 4 2 4-8M2742 1038l4-1 4-1M2774 1032l4-4 4-1 4-1 4-1 4-3 4-1 4 4 4-1 4-1 4 1M2826 1019h0M2838 1019l4-6 4-1 4-4M2858 1005l4-6 4-4M2878 993l4-2 4-9 4 1 4 0 4-4 4 0 4 0M2914 987h0M2922 976l4-6 4-2M2938 960l4 1 4 0M2954 960l4-1 4-5 4-6 4-1 4-7M3018 926h0M3038 918l4-2 4 0 4-5 4 0 4-5 4 2 4-4M3074 896l4-3 4 2 4-3 4 0M3102 891h0M3122 883l4-7M3134 873l4 0M3146 856h0M3170 852l4-1 4 0 4-3 4 0M3202 845l4 0 4 2M3218 843l4-2 4 1 4-3M3242 824l4-4 4-1 4-1 4-4M3266 812l4-1 4-1 4 0 4-4 4-1 4-6 4-1 4-2 4-1M3314 796l4-1M3326 792l4-6 4-7 4-4M3358 769l4 0 4-4 4 0 4 0 4-4 4-4 4-3 4 0 4 0 4 1"/>
<path stroke="#0072b2" stroke-width="4.4" d="M1710 1455l4-4 4-2 4-1 4-4 4-1 4-1 4 5 4 3 4 1 4-2 4-2 4-3 4 1 4-1 4-2 4-2 4 0 4-1 4-3 4-1 4 0 4-2 4-3 4 1 4-3 4-1 4 0 4-2 4 1 4 13 4-3 4-2 4-1 4 0 4-3 4-2 4-3 4-1 4-1 4 1 4 2 4 1 4 0 4 0 4 2 4 2"/>
<path stroke="#e51e10" stroke-width="3.6" d="M330 1808l4-1 4 1 4 0 4-2 4 0 4-2 4-3 4-4 4 1 4 1 4-1 4 0 4-1 4 5 4 3 4-4 4-1 4-5 4-3 4 0 4-2 4 0 4 0 4 0 4-2 4 1 4 0 4 0 4-2 4-1 4 1 4-1 4-2 4 1 4-2 4 0 4 2 4-3 4-2 4 1 4-2 4-2 4-2 4-5 4-7 4 2 4 2 4 1 4 1 4-2 4 3 4-4 4-1 4-3 4-2 4 2 4-3 4 2 4-1 4-2 4-3 4-11 4-4 4 0 4-3 4 1 4 0 4 1 4 0 4-2 4-1 4-1 4-1 4 1 4-2 4-1 4 0 4-4 4-8 4 2 4 0 4 0 4-1 4 3 4-1 4-1 4-3 4 0 4 0 4-1 4-3 4 4 4-3 4 3 4 0 4 0 4 0 4-1 4 0 4 1 4-1 4 2 4-2 4-2 4-3 4-2 4-5 4 0 4-3 4-2 4-2 4 3 4-1 4 1 4-2 4-2 4-3 4 2 4 5 4-1 4-2 4-5 4-1 4-1 4-2 4-5 4-1 4 2 4-2 4 4 4-1 4 0 4-3 4-1 4 1 4-3 4-2 4-2 4 1 4-1 4 0 4 0M902 1698l4 6 4-3 4 0 4-1 4-1 4-1 4-2 4-1 4 1 4-1 4-4 4 0 4 1 4 0 4-1 4-2 4 2 4-2 4 0 4-2 4-2 4 2 4 1 4 1 4-3 4 3 4-5 4-11 4 4 4 2 4 2 4 1 4-1 4-2 4-3 4 1 4 1 4-2 4-1 4-1 4 2 4-2 4-1 4-1 4 0 4 0 4-2 4 0 4 0 4-2 4 3 4-2 4-2 4 1 4-4 4-4 4-2 4-4 4-2 4-2 4-2 4-1 4 2 4-1 4-2 4 0 4-3 4 2 4-3 4 0 4-1 4-4 4 0 4-1 4-3 4 0 4 1 4 0 4 2 4 2 4 0 4-3 4-3 4-1 4 0 4-4 4 0 4-1 4 1 4-4 4-1 4-3 4 0 4-6 4-13 4-2 4 1 4 0 4-2 4 7 4-1 4-3 4 2 4-3 4 0 4-2 4-2 4-2 4 4 4 2 4 0 4 1 4-3 4-4 4 0 4 2 4 1 4 0 4 3 4 0 4-4 4 0 4-3 4 1 4-2 4 0 4-1 4-2 4-3 4-3 4-8 4 3 4-2 4-2 4-1 4 1 4 1 4-6 4-1 4-4 4 2 4-3 4-5 4 3 4-3 4 2 4-3 4-1 4 0 4 0 4 0 4-2 4 1 4 1 4 0 4 0 4 3 4-1 4-4 4-1 4 0 4-3 4-3 4-1 4-2 4-3 4-1 4-2 4 0 4 1 4 1 4-2 4-1 4 0 4-3 4-9 4 1 4-2 4-4 4 3 4-1 4-1 4-2 4-3 4-1 4-2 4 2 4 0 4 1 4-4 4-4 4-2 4-2 4-3 4-3 4-2 4-5 4-4 4-4 4-1 4-2 4-2 4-1 4-1 4-5 4-6 4 1 4 2 4 4 4 3 4 1 4-3 4-1 4-3 4 0 4 0 4-2 4 0 4-1 4-2 4-3 4-1 4 1 4-4 4-1 4-2 4-2 4 1 4-2 4-1 4-1 4 14 4-1 4-5 4-1 4-1 4-2 4 1 4-2 4-2 4 0 4-2 4 1 4 3 4-1 4 2 4 0 4 1 4-1 4-3 4 0 4 0 4-1 4 0 4-2 4-3 4-6 4 0 4-4 4-4 4 0 4 2 4 0 4-1 4 2 4-1 4 1 4-1 4-3 4-2 4 1 4-3 4-2 4 1 4-3 4-2 4-5 4-4 4-1 4 4 4-3 4 0 4-1 4-2 4-7 4-4 4 0 4-1 4-4 4 2 4-1 4 1 4 0 4 0 4-2 4 2 4-1 4-1 4 0 4 3 4-5 4 0 4 1 4-4 4-1 4 2 4 0 4 1 4-3 4 2 4 0 4 0 4-5 4-3 4 0 4-5 4 0 4 0 4-1 4-6 4-7 4 0 4-1 4-1 4 0 4-2 4-1 4-2 4 2 4 1 4-3 4-5 4-5 4-2 4-4 4 1 4-4 4-2 4 0 4 1 4-3 4 0 4-2 4 2 4-5 4 0 4-8 4-4 4-6 4-4 4-2 4-2 4 0 4 0 4-3 4-1 4-3 4-1 4 0 4 3 4 1 4-1 4 1 4-3 4 1 4-2 4-2 4-2 4-2 4-4 4-1 4-3 4-1 4-4 4 0 4-1 4 0 4-1 4-3 4 1 4-2 4-2 4 0 4 1 4-2 4-1 4 0 4 0 4-2 4-4 4 1 4-4 4 0 4-2 4 0 4 1 4-1 4 0 4-3 4-1 4-2 4-1 4 2 4 0 4-1 4-3 4 0 4-2 4 0 4 3 4-3 4-4 4 2M2558 1206l4 3 4 2 4 0 4-1 4 2 4 0 4-8 4-3 4 0 4-2 4 0 4 2 4-1 4-3 4 4 4 1 4-2 4-4 4-7 4-4 4-2 4-4 4 0 4-2 4-1 4 0 4 0 4-3 4 0 4-1 4 0 4 1 4-3 4 0 4-2 4-1 4-3 4 0 4-1 4 1 4-1 4 2 4-4 4 0 4-3 4-3 4-3 4 1 4 2 4 2 4-2 4-5 4 0 4 0 4-4 4-3 4-2 4-2 4 1 4-1 4-1 4 1 4 0 4-3 4 0 4 1 4 2 4-4 4-1 4-2 4-3 4-2 4-2 4-4 4-2 4-4 4-6 4 2 4 0 4-4 4-2 4-9 4-2 4 1 4-1 4 1 4 0 4 2 4 5 4-7 4-5 4-4 4-4 4-3 4-2 4 0 4-2 4-1 4 0 4-2 4-2 4-3 4-5 4-6 4-1 4-2 4 0 4-2 4-5 4-4 4-4 4 0 4 3 4 5 4-3 4-4 4-3 4-1 4-2 4 0 4-1 4-2 4-5 4-1 4-1 4 2 4-6 4-6 4 0 4-4 4 1 4-2 4 1 4-2 4 2 4-3 4-3 4-4 4 0 4 0 4 0 4-6 4-5 4 2 4-2"/>
<path stroke="#0072b2" stroke-width="4.0" d="M214 1785l4 0 4-2 4 0 4 6 4-4 4 0 4 2 4-3 4 0 4 1 4 1 4-3 4-3 4-1 4-1 4-1 4-4 4 2 4-2 4-2 4 1 4 1 4-1 4 2 4-2 4-5 4-5 4-1 4-3 4 0 4-1 4 4 4-3 4-4 4-1 4-3 4-6 4 4 4 0 4 4 4-4 4 3 4 0 4 4 4-5 4-3 4 2 4-8 4 0 4 0 4 0 4-2 4-1 4 1 4 0 4-1 4-1 4 1 4-1 4 1 4-2 4 3 4-6 4 1 4 1 4-1 4 3 4-6 4 0 4-1 4-2 4-6"/>
<path stroke="#000000" stroke-width="4.0" d="M2638 1148l4-5 4-2 4-1 4 4 4-5 4 0 4 0 4-1 4-1 4 0 4-4 4 1 4-2 4 0 4 0 4-3 4-3 4 0 4 2 4-3 4 2 4 1 4-5 4 2 4-6 4 0 4-7 4 2 4 2 4 1 4-1 4-3 4-2 4-3 4 1 4-4 4-4 4-1 4 0 4 1 4-1 4 1 4-1 4-2 4-5 4 5 4 0 4-3 4 1 4-2 4-3 4-5 4-1 4-3 4 0 4-7 4-6 4-1 4 2 4-3"/>
<path stroke="#9400d3" stroke-width="5.0" d="M3986 589l4 1 4-1 4-3 4-2 4 2 4-3 4 1 4-1 4 1 4 2 4 0 4 1 4 0 4 3 4-1 4-2"/>
<path stroke="#9400d3" stroke-width="4.0" d="M214 1814l4-1 4-3 4 0 4 2 4 1 4-3 4 3 4-2 4 3 4-3 4 4 4-1 4-4 4-1 4-1 4-1 4-5 4 1 4-1 4-2 4 3 4-4 4 4 4-1 4-2 4-5 4-2 4-5 4-2 4 0 4 2 4-1 4-1 4-3 4 1 4-4 4-4 4 1 4 4 4-1 4-2 4-1 4 5 4 3 4-2 4-3 4-4 4-6 4 1 4-1 4-3 4 1 4-3 4 1 4 4 4-3 4-1 4 1 4-2 4 2 4-1 4 0 4-1 4-3 4 3 4-3 4 0 4-1 4 0 4-6 4 2 4 0 4-8 4-6 4 0 4 2 4 1 4 3 4-4 4 5 4-3 4-2 4-5 4-1 4 1 4 1 4-2 4 0 4-5 4-2 4-4 4-6 4-1 4 6 4-6 4 2 4-3 4-2 4 2 4 1 4-3 4 0 4 0 4-2 4 1 4 0 4-7 4-5 4-2 4 3 4 0 4 1 4-2 4 1 4-1 4-2 4 0 4-1 4-1 4 1 4-1 4 1 4 1 4-1 4-2 4 3 4-2 4 3 4 0 4 2 4-2 4-5 4-1 4-1 4-2 4-5 4 0 4-2 4-3 4-2 4 1 4 3 4 1 4-4 4-1 4-3"/>
<path stroke="#56b4e9" stroke-width="5.0" d="M3986 697l4-1 4-2 4 0 4-1 4-1 4 1 4-1 4 0 4 3 4 3 4-1 4 3 4 1 4-3 4 4 4-1"/>
<path stroke="#f0e442" stroke-width="3.6" d="M3146 879l4 2 4 0 4-4 4 1 4 0 4-3 4-5 4 2 4 1 4 0 4-1 4-5 4-1 4 2 4 0 4 0 4 2 4-4 4-2 4 2 4-6 4-5 4-1 4-10 4-3 4-3 4 3 4-5 4-5 4 2 4-4 4 5 4-3 4-1 4 2 4-10 4-1 4 1 4-2 4-4 4-1 4 1 4-1 4-1 4-1 4-5"/>
<path stroke="#9400d3" stroke-width="3.8" d="M3230 810l4-4M3246 788l4 0M3274 785l4-5 4 1 4-3 4-6M3330 758l4-8M3346 750l4-4 4-4M3398 730l4 5 4 7 4-8 4-8 4-5 4-1M3478 700h0M3486 692l4 4 4-3"/>
<path stroke="#0072b2" stroke-width="4.4" d="M762 1742l4-3 4-4 4 0 4 0 4 1 4 2 4-4 4 0 4-3 4 1 4 4 4-1 4-1 4-4 4-2 4 2 4-2 4-8 4 0 4 0 4 0 4 2 4-3 4 1 4 1 4-3 4 0 4-4 4 4 4-7 4 1 4 3 4-2 4 0"/>
<path stroke="#9400d3" stroke-width="4.6" d="M2702 988l4-3 4-3 4 0 4 5 4-2 4 1 4-3 4-3 4-4 4 1 4-5 4 2 4 5 4-4 4 0 4-2 4-1 4-4 4-1 4-4 4-4 4 1 4-2 4-1 4 4 4-1 4-3 4 0 4-2 4 4 4 1 4-3 4 0 4 0 4-7 4-6 4 0 4-5 4 0 4-4 4-5 4-2 4 0 4 1 4-3 4-11 4 0 4-3 4 2 4 0 4 1 4 3 4 5 4-8 4-7 4-3 4-3 4-6 4-3 4 3 4-3 4-1 4 0 4 0 4-6 4-4 4-3 4-6 4-1 4-1 4 0 4-3 4-5 4-5 4-4 4 0 4 3 4 4 4 1 4-5 4-2 4-1 4-3 4 0 4-4 4-2 4-2 4-1 4-2 4 2 4-8 4-6 4 2 4-3 4 0 4-3 4 0 4 0 4 1 4-1 4-4 4-5 4-4 4 4 4-1 4-5 4-3 4-1 4 0M3142 790l4-2 4-3 4 4 4-2 4 0 4-1 4 0 4-2 4-5 4 0 4 0 4-2 4-1 4-4 4 3 4 0 4 4 4-3 4-2 4-1 4 0 4-5 4-6 4-6 4-2 4-3 4-3 4-1 4-6 4-1 4-2 4 0 4 1 4-1 4 1 4 0 4-13 4 0 4 0 4-1 4-1 4 1 4 1 4-2 4 0 4-5 4-7 4-4 4-4 4-2 4-1 4-3 4 0 4-1 4-2 4-1 4-2 4-1 4-2 4-4 4-5 4 2 4-2 4 0 4 11 4-5 4-2 4-4 4-5 4 0 4-3 4 2 4-6 4-8 4 0 4-1 4-2 4 2 4-2 4-6 4-4 4 0 4-5 4-1 4 1 4 1 4-1 4-1 4-5 4-1 4-2 4-5 4-1 4-3 4 5 4-4 4 1 4-4 4 4 4-8 4-2 4-6 4-3 4-1 4-2 4-2 4-3 4-4 4 2 4-14 4-1 4-1 4 4 4-2 4 1 4 1 4-2 4 2 4-2 4 0 4 12 4 4 4-3 4 0 4-3 4 0 4 0 4 0 4-1 4-4 4 1 4 1 4-2 4 0 4 1 4-2 4 2"/>
<path stroke="#009e73" stroke-width="5.4" d="M3442 753l4 0 4-3 4-3 4-1 4-3 4-4 4 1 4-6 4-1 4-2 4 1 4 1 4-2 4-1 4-2 4-3 4-2 4-2 4-3 4 0 4 0 4 0 4-1 4 0 4-2 4-4 4 1 4-1 4 0 4-2 4 2 4-2 4-4 4 0M3582 679l4 2 4-1 4-2 4 2 4-2 4 2 4 1 4-3 4 2 4-1 4 9 4 3 4-2 4-1 4 1 4-1 4 0 4 0 4-5 4-1 4 2 4-3 4 1 4-3 4 0 4 0 4-1 4-7 4-3 4-1 4 0 4 1 4-1 4-2 4 1 4-8 4-2 4 0 4 0 4 0 4-3 4 0 4-1 4-1 4-7 4-2 4-1 4-1 4 0 4 0 4-1 4 0 4-3 4-1 4-1 4-7 4 1 4-2 4 3 4 1 4-2 4 4 4-2 4-3 4-4 4-2 4-3 4-1 4 3 4-4 4-1 4-6 4 0 4 1 4 2 4-5 4-4 4 1 4-2 4 1 4 1 4-5 4-2 4-2 4-4 4-2 4-2 4-2 4-3 4-2 4-1 4-2 4-1 4-3 4-2 4 1 4 6 4-5 4-5 4-1 4-2 4-4 4 0 4 0 4-2 4-2 4 0 4 0 4 1 4-1 4 0 4 2 4-1 4 1 4 2 4-3 4 1"/>
<path stroke="#000000" stroke-width="5.6" d="M3390 767l4-1 4-1 4 9 4-3 4-3 4-5 4-5 4 0 4 0 4-1 4-4 4-6 4-1 4 1 4-2 4-3 4-1 4-4 4-5 4-1 4-3 4 0 4-2 4 1 4 0 4-2 4-1 4-4 4-1 4-2 4-3 4-3 4 1 4 0 4-2 4 1 4-1 4-1 4-2 4-1 4 0 4-1 4-1 4-1 4-1 4-2 4 0M3582 673l4 0 4-1 4 1 4-1 4 0 4 1 4 0 4-1 4 4 4-4 4 11 4 2 4-1 4-1 4-4 4 2 4 0 4-3 4-1 4 0 4-1 4 0 4-2 4 0 4-1 4 0 4-2 4-6 4-2 4-3 4 0 4 2 4-2 4-1 4 0 4-7 4-5 4 4 4-1 4-1 4-2 4 0 4-1 4-1 4-7 4-2 4-1 4-2 4 2 4 1 4-2 4-2 4 0 4-4 4 1 4-3 4-3 4-2 4 2 4-2 4 3 4 1 4-1 4-2 4-5 4-4 4 0 4-1 4-1 4-2 4-2 4-4 4 1 4 0 4 1 4-4 4-4 4 0 4-1 4 0 4 0 4-4 4-1 4-3 4-4 4-3 4 0 4-2 4-4 4 0 4 0 4-4 4-1 4-2 4-2 4-1 4 4 4-1 4-2 4-4 4-5 4-3 4 0 4-2 4-1 4-1 4 0 4 0 4 0 4 0 4 1 4 1 4 0 4 0 4 2 4-2 4 0"/>
<path stroke="#000000" stroke-width="5.2" d="M2562 1033l4-2 4 1 4-2 4 1 4 2 4-5 4-6 4-1 4 0 4 1 4 1 4-3 4 1 4 4 4 0 4-1 4-5 4-6 4-7 4-1 4-3 4-1 4-1 4-2 4 1 4-2 4-1 4-3 4 1 4 0 4-2 4-1 4 0 4 0 4-2 4-2 4-4 4-1 4 4 4 0 4 1 4-3 4-2 4-3 4-3 4-1 4 0 4 3 4 0 4-2 4-2 4-3 4 0 4-3 4-3 4-2 4-1 4-1 4 0 4 1 4 1 4-2 4-1 4-2 4 2 4 0 4-3 4 0 4-2 4-4 4-4 4 1 4-5 4 0 4-5 4-4 4-1 4-1 4-2 4-2 4-11 4 0 4-1 4 1 4-1 4 1 4 2 4 4 4-6 4-9 4-2 4-1 4-7 4-1 4 0 4-2 4 0 4 0 4 0 4-5 4-4 4-6 4-5 4-2 4 0 4-1 4-3 4-5 4-3 4-5 4 1 4 2 4 4 4-2 4-2 4-2 4-1 4-4 4 0 4 0 4-5 4-2 4-1 4-1 4-1 4-5 4-6 4-2 4 0 4 0 4-4 4 1 4 0 4-1 4 0 4-6 4-2 4 0 4 0 4-1 4-5 4-3 4-2 4 1M3142 791l4-3 4 0 4 1 4 1 4-2 4 0 4-3 4 0 4-4 4 1 4-3 4 0 4-2 4 1 4-1 4 3 4 1 4-2 4-2 4-1 4-4 4-3 4-5 4-5 4-3 4-4 4-2 4-2 4-2 4-4 4-2 4 1 4 1 4-1 4-2 4-1 4-8 4-1 4-1 4-3 4 3 4-2 4-1 4 1 4 0 4-5 4-5 4-8 4-2 4-1 4 1 4-5 4-2 4 1 4-3 4-2 4-1 4-3 4-1 4-5 4-1 4-1 4 0 4-1 4 11 4-5 4-2 4-6 4-3"/>
<path stroke="#9400d3" stroke-width="4.6" d="M214 1720l4 0 4 0 4 1 4 1 4 1 4 0 4-3 4 0 4 3 4-3 4 1 4 0 4 0 4-4 4-1 4-3 4 1 4-4 4-4 4 2 4 1 4-2 4 2 4 1 4-2 4-5 4-4 4-2 4-3 4 0 4 0 4-1 4 1 4-2 4 0 4-2 4-3 4-4 4 2 4 0 4 1 4 1 4 1 4 3 4-4 4 1 4-7 4-2 4-2 4 0 4-2 4 1 4-3 4 0 4 3 4-3 4-2 4 4 4-1 4-2 4-2 4-1 4 1 4-2 4 0 4-1 4-2 4 1 4-1 4 0 4-4 4 0 4-8 4-4 4 1 4 1 4 3 4 0 4-1 4 0 4-3 4 1 4-4 4-3 4 1 4-2 4 3 4-2 4-3 4-4 4-5 4-5 4-1 4 1 4 0 4 1 4-2 4 0 4-1 4-1 4 1 4-1 4-2 4-2 4 0 4-1 4-5 4-7 4 3 4-2 4 2 4-1 4-1 4 1 4 0 4 0 4-2 4-2 4 0 4-1 4 2 4 0 4-1 4 2 4 0 4-1 4-3 4 0 4 3 4 1 4-2 4 0 4-2 4-3 4-2 4-2 4-3 4-3 4-2 4-3 4 2 4 0 4 2 4-4 4 0 4-2 4 2 4 5 4-2 4-2 4-2 4-2 4-3 4-3 4-4 4-3 4 4 4-2 4 3 4-1 4-1 4-2 4 2 4-4 4-2 4 0 4 0 4 0 4-3 4 1 4 0M902 1584l4 10 4-4 4 1 4-3 4-2 4 1 4-2 4-1 4-1 4 1 4-3 4-2 4 3 4-3 4 0 4-3 4 1 4 0 4-1 4 1 4-1 4-1 4-1 4 3 4-3 4 5 4-6 4-10 4 3 4 0 4 1 4 0 4 2 4-2 4 1 4-1 4 0 4-4 4 1 4 0 4 0 4-2 4 0 4-2 4-1 4 1 4-1 4 0 4-2 4-2 4 3 4-2 4-1 4-1 4-5 4-5 4 1 4-4 4-2 4-3 4-1 4-2 4 1 4-1 4-2 4 0 4-1 4-4 4 2 4 0 4-5 4 0 4-2 4-3 4-2"/>
<path stroke="#56b4e9" stroke-width="4.6" d="M214 1992l4 1 4 1 4-2 4 1 4 2 4-3 4 2 4 0 4 1 4-1 4 1 4 3 4-3 4 2 4 1 4-2 4-3 4 2 4-4 4 0 4 1 4 0 4 0 4-5 4-5 4-3 4-4 4 0 4 2 4 1 4-2 4 1 4 2 4-2 4-3 4 1 4-1 4-3 4-1 4 1 4-2 4-1 4-2 4 0 4-1 4-1 4 1 4-2 4-1 4 0 4 0 4 1 4-4 4 1 4 1 4-3 4 3 4-4 4 2 4-4 4 1 4-4 4 4 4-2 4-2 4-2 4-2 4 1 4 0 4-1 4-3"/>
<path stroke="#56b4e9" stroke-width="4.6" d="M501 1969l4-6 4-4 4-7 4 2 4 4 4-1 4 0 4-1 4 2"/>
<path stroke="#56b4e9" stroke-width="4.6" d="M540 1935l4-1 4 2 4-2 4-2 4 0 4-1 4-3 4-2 4-6 4-2 4-2 4-1 4 0 4-2 4 4 4-2 4 0 4 0 4-1 4 1 4-4 4 3 4-3 4-2 4-2 4-3 4 1 4 0 4-1 4-3 4 3 4 2 4-3 4-2 4 1 4 1 4 1 4-2 4-2 4-1 4 1 4-1 4 0 4-1 4 2 4-3 4 2 4 0 4 0 4-3 4 0 4-2 4 0 4 1 4-4 4 2 4 0 4-4 4 0 4 1 4-3 4 1 4-3 4-3 4 0 4-2 4-5 4 0 4 0 4-6 4 1 4-4 4-3 4-2 4-3 4 3 4-2 4-4 4 2 4 2 4 2 4-5 4 0 4 0 4 0 4-1 4-2 4 1 4 2"/>
<path stroke="#56b4e9" stroke-width="4.6" d="M903 1885l4-1 4-3 4 1"/>
<path stroke="#56b4e9" stroke-width="4.6" d="M919 1889l4 1 4-1 4 0 4-3 4 4 4 0 4-2 4-6 4 3 4-2 4-2 4 0 4-2 4 4 4-4 4-1 4-3 4 0 4 0 4 0 4-4 4-2 4-1"/>
<path stroke="#56b4e9" stroke-width="4.6" d="M1014 1864l4-1 4 3 4 5 4 0 4-2 4-3 4-2 4 2 4-5 4 3 4 1 4-1 4-1 4 0 4 0 4-1 4 1 4-1 4-2 4-1 4 1 4-3 4 0 4 0 4-2"/>
<path stroke="#56b4e9" stroke-width="4.6" d="M1121 1843l4 3 4 0 4-4 4-2 4 0 4 1 4-5 4 2 4 1 4-2 4-2 4-3 4 1 4 0 4 0 4-1 4 1 4 3 4-3 4-1 4 2 4 0 4-1 4-2 4 0 4-5 4 4 4-2 4-2 4-3 4-2 4 0"/>
<path stroke="#56b4e9" stroke-width="4.0" d="M430 1892h0"/>
<path stroke="#56b4e9" stroke-width="4.0" d="M458 1967h0"/>
<path stroke="#56b4e9" stroke-width="4.0" d="M604 1927h0"/>
<path stroke="#56b4e9" stroke-width="4.0" d="M617 1929h0"/>
<path stroke="#56b4e9" stroke-width="4.0" d="M697 2030h0"/>
<path stroke="#56b4e9" stroke-width="4.0" d="M734 2031h0"/>
<path stroke="#56b4e9" stroke-width="4.0" d="M732 2033h0"/>
<path stroke="#56b4e9" stroke-width="4.0" d="M804 1889h0"/>
<path stroke="#56b4e9" stroke-width="4.0" d="M901 1865h0"/>
<path stroke="#56b4e9" stroke-width="4.0" d="M980 1953h0"/>
<path stroke="#56b4e9" stroke-width="4.0" d="M979 1974h0"/>
<path stroke="#56b4e9" stroke-width="4.0" d="M978 1983h0"/>
<path stroke="#56b4e9" stroke-width="4.0" d="M981 1997h0"/>
<path stroke="#56b4e9" stroke-width="4.0" d="M1011 1878h0"/>
<path stroke="#56b4e9" stroke-width="4.0" d="M1152 1845h0"/>
<path stroke="#56b4e9" stroke-width="4.0" d="M1210 1841h0"/>
<path stroke="#56b4e9" stroke-width="4.0" d="M1221 1848h0"/>
<path stroke="#56b4e9" stroke-width="4.0" d="M504 1936h0"/>
<path stroke="#0072b2" stroke-width="3.6" d="M552 1855h0"/>
<path stroke="#0072b2" stroke-width="3.6" d="M702 1862h0"/>
<path stroke="#0072b2" stroke-width="3.6" d="M406 1936h0"/>
<path stroke="#0072b2" stroke-width="3.6" d="M455 2060h0"/>
<path stroke="#0072b2" stroke-width="3.6" d="M460 2147h0"/>
<path stroke="#0072b2" stroke-width="3.6" d="M416 2180h0"/>
<path stroke="#0072b2" stroke-width="3.6" d="M259 2197h0"/>
<path stroke="#0072b2" stroke-width="3.6" d="M584 2192h0"/>
<path stroke="#0072b2" stroke-width="3.6" d="M317 2230h0"/>
<path stroke="#0072b2" stroke-width="3.6" d="M324 2238h0"/>
<path stroke="#0072b2" stroke-width="3.6" d="M402 2228h0"/>
<path stroke="#0072b2" stroke-width="3.6" d="M486 2234h0"/>
<path stroke="#0072b2" stroke-width="3.6" d="M949 2152h0"/>
<path stroke="#0072b2" stroke-width="3.6" d="M803 2156h0"/>
<path stroke="#0072b2" stroke-width="3.6" d="M701 2150h0"/>
<path stroke="#0072b2" stroke-width="3.6" d="M496 1946h0"/>
<path stroke="#0072b2" stroke-width="3.6" d="M1173 1824h0"/>
<path stroke="#0072b2" stroke-width="3.6" d="M295 2217l4 0 4 3 4-3 4 0 4-1 4-2 4-1 4-4 4-6 4-2 4 2 4 0 4-2 4-1 4 6M371 2204l4 2 4 4 4 3 4 5 4 1 4 0 4-2M415 2215l4-6 4 1 4 1 4-1 4 1 4-2M447 2206l4 2 4-3"/>
<path stroke="#0072b2" stroke-width="3.6" d="M460 2179h0M472 2182h0M480 2178l4 1 4 0 4 0 4-2"/>
<path stroke="#0072b2" stroke-width="3.6" d="M503 2158h0M515 2152l4-1 4 0"/>
<path stroke="#0072b2" stroke-width="3.6" d="M544 2173l4 0 4-2 4-1 4-2 4 0 4 0 4-1 4-7 4-8 4-3 4-2 4-1 4 2 4-2 4 2M612 2147l4 3 4 8 4-3 4 3 4-2 4 1 4-5 4-3 4-6 4-3 4 0 4-1 4 0 4 1 4 1 4-3 4-3 4 1 4 3 4 2 4-5 4-2 4 3 4-1 4 0M720 2135l4-2 4-2 4 0 4 3 4 3 4-3 4 1 4-2 4 1 4-1 4 2 4-1 4-2 4 0 4-1 4 1"/>
<path stroke="#0072b2" stroke-width="3.6" d="M789 2148l4-1 4-3 4-2 4-3 4-5 4 1 4-6 4 1 4-2 4-2 4-1 4 4 4-5 4 0 4-2 4-1 4-1 4-1 4-2 4 0 4 0"/>
<path stroke="#0072b2" stroke-width="3.6" d="M880 2091l4-4 4 0 4-2 4 1 4 11"/>
<path stroke="#0072b2" stroke-width="3.6" d="M909 2109l4 2 4-1 4-3 4-2 4-1 4 0 4 0 4 2 4-4 4-1 4-3 4 2"/>
<path stroke="#0072b2" stroke-width="3.6" d="M987 2093l4 0 4-2 4-1M1015 2085l4-2 4 4 4 2M1035 2088l4 0 4-1 4 1 4 0 4-2 4 1 4-2 4 1 4 1 4-2 4-1 4-3 4 1 4 0 4 0 4 0 4 1 4-3 4-1 4-1 4-8 4-3 4 0 4-4 4-2 4-2 4 1 4-1 4 1 4-3 4-1 4-1 4-2 4-2 4-3 4 1 4-2 4-2 4-4 4 2 4-3"/>
<path stroke="#0072b2" stroke-width="3.6" d="M1203 2025l4-1 4-4 4-1"/>
<path stroke="#0072b2" stroke-width="3.6" d="M1220 2039l4-1 4-2 4-1 4 0 4-2"/>
<path stroke="#9400d3" stroke-width="3.8" d="M583 2115l4-2 4 1 4 0 4-1 4-1 4 0 4-3 4-1 4-1 4 0 4-2 4 0 4-3 4-1 4-2 4-2 4-2 4-1 4 1 4-1 4-1 4 2"/>
<path stroke="#009e73" stroke-width="3.6" d="M217 2096l4-1 4-1 4 0 4 0 4-1 4 4 4-2"/>
<path stroke="#56b4e9" stroke-width="4.6" d="M1200 1833l4-6 4 3 4 0 4-3 4 1 4 2 4 4 4-2 4-2 4-5 4 0 4-3 4-3"/>
<path stroke="#56b4e9" stroke-width="4.6" d="M1262 1817l4-3 4-1 4-3 4-2"/>
<path stroke="#56b4e9" stroke-width="4.6" d="M1280 1798l4 1 4 2 4-3 4-1 4 0 4-2 4 0 4 3 4 0"/>
<path stroke="#56b4e9" stroke-width="4.6" d="M1326 1783l4 0 4-2 4-1 4 5 4-3 4 0 4 5 4 2 4-4 4-6 4 0 4 2 4-3 4-2 4 3 4 2 4-3 4-2"/>
<path stroke="#56b4e9" stroke-width="4.0" d="M1260 1833h0"/>
<path stroke="#56b4e9" stroke-width="4.0" d="M1268 1832h0"/>
<path stroke="#56b4e9" stroke-width="4.0" d="M1276 1821h0"/>
<path stroke="#56b4e9" stroke-width="4.0" d="M1293 1810h0"/>
<path stroke="#56b4e9" stroke-width="4.0" d="M1362 1800h0"/>
<path stroke="#56b4e9" stroke-width="4.0" d="M1209 1841h0"/>
<path stroke="#56b4e9" stroke-width="4.0" d="M1221 1848h0"/>
<path stroke="#0072b2" stroke-width="3.6" d="M1202 2025l4-2 4-1 4-2"/>
<path stroke="#0072b2" stroke-width="3.6" d="M1219 2039l4-1 4-1 4-4 4 0 4-1"/>
<path stroke="#0072b2" stroke-width="3.6" d="M1242 2223l4 0 4 1 4 1"/>
<path stroke="#0072b2" stroke-width="3.6" d="M1200 2040h0"/>
<path stroke="#0072b2" stroke-width="3.6" d="M2013 1712h0"/>
<path stroke="#0072b2" stroke-width="3.6" d="M2158 1808h0"/>
<path stroke="#e51e10" stroke-width="3.6" d="M1535 1841h0"/>
<path stroke="#9400d3" stroke-width="3.4" d="M1547 2268h0M1555 2267l4-6 4-2 4-2 4-1 4 2 4-1 4-5 4 2 4 3 4-1 4-1 4-1 4-1 4-2 4 1 4-1 4-2 4 2M1635 2250h0M1643 2247h0M1659 2245l4-2 4 4 4 2 4-8M1683 2234h0"/>
<path stroke="#9400d3" stroke-width="3.4" d="M1622 2236h0"/>
<path stroke="#9400d3" stroke-width="3.4" d="M1677 2230h0"/>
<path stroke="#f0e442" stroke-width="3.4" d="M1836 2127l4 1 4 0 4-2 4-2"/>
<path stroke="#f0e442" stroke-width="3.4" d="M1857 2192l4-1 4-1 4-1 4-1 4-2 4 2"/>
<path stroke="#0072b2" stroke-width="3.8" d="M2187 1977l4-3 4 0 4-1 4 3 4 2 4-4 4-3 4-1 4-2 4 1 4-2"/>
<path stroke="#0072b2" stroke-width="3.8" d="M2240 1961l4-3 4-1 4-3 4 1"/>
<path stroke="#0072b2" stroke-width="3.6" d="M2225 2039h0"/>
<path stroke="#0072b2" stroke-width="3.6" d="M2235 2035h0"/>
<path stroke="#0072b2" stroke-width="3.6" d="M2239 2031h0"/>
<path stroke="#0072b2" stroke-width="3.6" d="M2237 2037h0"/>
<path stroke="#e69f00" stroke-width="4.0" d="M2329 2075l4-1 4 0"/>
<path stroke="#0072b2" stroke-width="4.4" d="M2402 2261l4 1 4-2 4 1 4-2"/>
<path stroke="#56b4e9" stroke-width="4.6" d="M2200 1599l4-5 4-1 4 2 4 0 4-2 4-4 4-2 4-1"/>
<path stroke="#56b4e9" stroke-width="4.6" d="M2234 1554l4-3 4-2 4-5 4-2"/>
<path stroke="#56b4e9" stroke-width="4.6" d="M2260 1536l4-2 4 3 4 1 4-1 4 0 4-2 4-1 4 1 4-4 4-2 4 1 4 1 4-1 4-1 4 0 4-2 4 6 4-2 4-3 4-1 4-1 4 1 4-2 4 1 4-4 4-2 4-2 4 0 4-4 4 0 4-4 4-1 4-4 4-1 4 1 4-3 4 2 4-3 4-3 4-3 4 0 4 0 4-2"/>
<path stroke="#56b4e9" stroke-width="4.6" d="M2443 1496l4 1 4-3 4 1 4 1 4-1 4-4 4-2 4-3 4-1 4-1 4 0 4 0 4 0 4 0 4-2 4-3 4-2 4-1 4-3 4 0 4 0 4-2 4-3 4 3 4-3 4 2 4-3 4 2"/>
<path stroke="#56b4e9" stroke-width="4.6" d="M2556 1452l4-3 4-7 4-6 4 0 4 1 4-1 4 2 4 1 4-5 4-1 4 1 4 1 4-5 4-3"/>
<path stroke="#56b4e9" stroke-width="4.6" d="M2627 1429l4-5 4-4 4 1 4-1 4-3 4-2 4-5 4 1 4-3 4-3 4-2 4 0 4 3 4-3 4 2 4 0 4 1"/>
<path stroke="#56b4e9" stroke-width="4.6" d="M2707 1401l4-7 4 4 4 3 4-4 4 0 4-1 4-2 4 0 4-2 4-1 4-5 4 0 4 0 4 2 4-1 4-2 4-4 4-3 4 2 4 0 4-1 4-2 4-4 4 4 4 0"/>
<path stroke="#56b4e9" stroke-width="4.6" d="M2812 1391l4-3 4-2 4-3 4-4 4 3 4-2 4-2"/>
<path stroke="#56b4e9" stroke-width="4.6" d="M2843 1402l4 3 4 2 4-1 4-6 4-4 4-5 4-2 4-5 4-1 4-1 4-4 4 2 4-1 4 2 4-1 4-2 4-2 4-1 4-3 4-2 4 2 4 2 4-5 4-2 4-2 4-1 4-1 4-1 4-3 4 2 4-2 4-2 4-2 4-4 4-2 4-5 4-5 4 1 4-3 4 1 4-3 4-1 4-2 4 1 4-2 4-4"/>
<path stroke="#56b4e9" stroke-width="4.6" d="M3043 1328l4-4 4-6 4 5 4-4 4-3 4-7 4 4"/>
<path stroke="#56b4e9" stroke-width="4.6" d="M3076 1290l4 0 4 0 4-1 4-2 4-2 4 6 4-2 4-1 4 0 4 1 4-4 4-7 4-3 4-1 4-3 4-1 4-3 4 0 4 1 4-2 4-3 4 0 4-1 4 1 4-3 4-4 4 0 4 1 4 1 4-4 4 5 4 0 4-2 4 2 4 4 4 2 4-5 4 0 4 1 4-3 4-1 4-2 4-3"/>
<path stroke="#56b4e9" stroke-width="4.0" d="M2381 1555h0"/>
<path stroke="#56b4e9" stroke-width="4.0" d="M2384 1548h0"/>
<path stroke="#56b4e9" stroke-width="4.0" d="M2394 1545h0"/>
<path stroke="#56b4e9" stroke-width="4.0" d="M2497 1515h0"/>
<path stroke="#56b4e9" stroke-width="4.0" d="M2502 1518h0"/>
<path stroke="#56b4e9" stroke-width="4.0" d="M2545 1489h0"/>
<path stroke="#56b4e9" stroke-width="4.0" d="M2550 1487h0"/>
<path stroke="#56b4e9" stroke-width="4.0" d="M2538 1477h0"/>
<path stroke="#56b4e9" stroke-width="4.0" d="M2606 1436h0"/>
<path stroke="#56b4e9" stroke-width="4.0" d="M2608 1452h0"/>
<path stroke="#56b4e9" stroke-width="4.0" d="M2620 1449h0"/>
<path stroke="#56b4e9" stroke-width="4.0" d="M2622 1447h0"/>
<path stroke="#56b4e9" stroke-width="4.0" d="M2637 1437h0"/>
<path stroke="#56b4e9" stroke-width="4.0" d="M2642 1447h0"/>
<path stroke="#56b4e9" stroke-width="4.0" d="M2655 1437h0"/>
<path stroke="#56b4e9" stroke-width="4.0" d="M2661 1444h0"/>
<path stroke="#56b4e9" stroke-width="4.0" d="M2695 1446h0"/>
<path stroke="#56b4e9" stroke-width="4.0" d="M2697 1426h0"/>
<path stroke="#56b4e9" stroke-width="4.0" d="M2699 1423h0"/>
<path stroke="#56b4e9" stroke-width="4.0" d="M2730 1437h0"/>
<path stroke="#56b4e9" stroke-width="4.0" d="M2635 1464h0"/>
<path stroke="#56b4e9" stroke-width="4.0" d="M2635 1475h0"/>
<path stroke="#56b4e9" stroke-width="4.0" d="M2640 1461h0"/>
<path stroke="#56b4e9" stroke-width="4.0" d="M2637 1590h0"/>
<path stroke="#56b4e9" stroke-width="4.0" d="M2661 1580h0"/>
<path stroke="#56b4e9" stroke-width="4.0" d="M2697 1582h0"/>
<path stroke="#56b4e9" stroke-width="4.0" d="M2704 1579h0"/>
<path stroke="#56b4e9" stroke-width="4.0" d="M2702 1580h0"/>
<path stroke="#56b4e9" stroke-width="4.0" d="M2437 1641h0"/>
<path stroke="#56b4e9" stroke-width="4.0" d="M2441 1641h0"/>
<path stroke="#56b4e9" stroke-width="4.0" d="M2439 1639h0"/>
<path stroke="#56b4e9" stroke-width="4.0" d="M2810 1518h0"/>
<path stroke="#56b4e9" stroke-width="4.0" d="M3042 1334h0"/>
<path stroke="#56b4e9" stroke-width="4.0" d="M3024 1343h0"/>
<path stroke="#56b4e9" stroke-width="4.0" d="M2809 1368h0"/>
<path stroke="#56b4e9" stroke-width="4.0" d="M2884 1375h0"/>
<path stroke="#56b4e9" stroke-width="4.0" d="M2925 1379h0"/>
<path stroke="#56b4e9" stroke-width="4.0" d="M2848 1412h0"/>
<path stroke="#56b4e9" stroke-width="4.0" d="M2858 1411h0"/>
<path stroke="#56b4e9" stroke-width="4.0" d="M3210 1304h0"/>
<path stroke="#56b4e9" stroke-width="4.0" d="M3244 1290h0"/>
<path stroke="#9400d3" stroke-width="3.4" d="M2439 1601h0"/>
<path stroke="#9400d3" stroke-width="3.4" d="M2840 1484h0"/>
<path stroke="#0072b2" stroke-width="3.6" d="M2373 1525h0"/>
<path stroke="#0072b2" stroke-width="3.6" d="M2779 1634h0"/>
<path stroke="#0072b2" stroke-width="3.6" d="M2781 1628h0"/>
<path stroke="#e51e10" stroke-width="6.0" d="M2789 1259l4-1 4 1 4 0"/>
<path stroke="#000000" stroke-width="4.4" d="M2790 1320l4-1 4 3 4-3"/>
<path stroke="#0072b2" stroke-width="3.6" d="M2817 2195l4-1 4-3 4 1"/>
<path stroke="#0072b2" stroke-width="3.6" d="M2831 2175l4-3 4-2 4-3 4-3 4-1 4 0 4-1 4 0 4 0 4 2 4-1 4-2 4-2"/>
<path stroke="#0072b2" stroke-width="3.6" d="M2889 2144l4-1 4-4 4-1 4 1 4 0 4 1 4-4"/>
<path stroke="#0072b2" stroke-width="3.6" d="M2923 2150l4 0 4-3 4-2M2943 2142l4-1 4 2 4 3 4 1 4-2 4-6 4 1 4-1 4-2 4 0 4-1 4 3 4-7 4-2 4-6 4-1 4 4 4 3 4 4 4 0 4-1 4 0 4-5 4 2 4-2 4-3 4-1 4-1 4-1 4-1 4-9 4-3 4-7 4-2 4-1 4-1 4-1 4 0M3107 2095l4-3 4 2 4-1 4 2 4 0 4-1 4-3 4-4 4-4 4-1 4 0 4 2 4 1 4-3 4-1 4 1 4 1 4 2 4-2 4 0 4 2 4 2 4 3 4-1 4-1M3219 2082l4-5 4 1 4 0 4 1 4 1 4-3 4 1 4 1 4-2 4-4 4 0 4-2 4-2 4 0 4-2"/>
<path stroke="#0072b2" stroke-width="3.6" d="M3282 2053l4-6 4-5 4-3 4-6 4-3 4 0 4-3 4 0 4-2 4-1 4-1 4-3 4 2 4 1 4-1 4 3 4-3 4-1 4-4 4 0 4 0 4-2 4 1 4 2"/>
<path stroke="#0072b2" stroke-width="3.6" d="M3400 1997l4 1M3412 1995l4-2 4-2 4-1 4-4 4 1 4-4 4-5 4 0 4-1 4-4 4 2 4 1"/>
<path stroke="#0072b2" stroke-width="3.6" d="M3463 1988l4-2 4-3 4-2"/>
<path stroke="#0072b2" stroke-width="3.4" d="M3190 2099h0"/>
<path stroke="#0072b2" stroke-width="3.4" d="M3256 2082h0"/>
<path stroke="#0072b2" stroke-width="3.4" d="M3265 2078h0"/>
<path stroke="#9400d3" stroke-width="3.4" d="M3513 2006h0"/>
<path stroke="#f0e442" stroke-width="3.4" d="M3030 2268l4 0 4 0M3050 2267l4-1M3066 2266l4 1 4-2"/>
<path stroke="#f0e442" stroke-width="3.4" d="M3128 2260l4-3 4-4 4 1 4 3 4-4 4 1 4 1 4-1 4 4 4-4 4-2 4 3 4 0 4-1 4 1 4 1 4-1 4-3 4 2 4 0 4 0 4 4 4 2 4 3 4-5 4-6 4-5 4 2 4-4 4-3 4-2 4-4 4 4 4-1 4 0 4 0 4 1 4-1 4 8 4 0 4-3"/>
<path stroke="#f0e442" stroke-width="3.4" d="M3302 2248l4-1 4-2 4 0 4-2 4-3 4-1M3354 2226l4-3 4-1 4-1 4 1 4 0 4-3 4-1 4 0"/>
<path stroke="#f0e442" stroke-width="3.4" d="M3392 2227l4-1 4-1 4 3 4 1 4-3 4-1 4-2M3432 2224l4 1 4-2 4-2 4 0 4-3 4 1 4 1"/>
<path stroke="#f0e442" stroke-width="3.4" d="M3464 2200l4-1 4 0 4 0 4 2 4 0 4-1 4-1 4-2 4-1 4 3 4-3 4 0 4 0 4-1 4-3 4 3 4 0 4-1 4-1 4 1 4-4 4 1 4 0 4-3 4-2 4 3 4 1 4 0"/>
<path stroke="#f0e442" stroke-width="3.4" d="M3590 2181l4 0 4 1 4-1 4 0 4 0 4 1 4-2 4 3M3634 2180l4-4 4 5 4-2 4 4 4-4 4-6 4 0 4 3M3674 2177l4-1 4 2"/>
<path stroke="#f0e442" stroke-width="3.4" d="M3687 2186l4-3 4-1 4-1 4-7 4-1 4 0 4-2 4 1 4-1 4-3 4-2 4-1 4 3 4-1 4-2"/>
<path stroke="#009e73" stroke-width="3.4" d="M3217 2265l4 1 4-1 4-1 4-2 4-7 4 1 4-3 4-4 4-3 4 0 4 1 4-2 4 1 4 5 4-2 4-4 4 0 4-8 4-10 4 1"/>
<path stroke="#009e73" stroke-width="3.4" d="M3300 2250l4 0 4 2 4-2 4 0 4-3 4-2 4-5"/>
<path stroke="#009e73" stroke-width="3.4" d="M3351 2217l4-2 4-3M3367 2212l4-4 4 2 4-1M3387 2209h0"/>
<path stroke="#009e73" stroke-width="3.4" d="M3396 2218l4 3 4-2 4-3 4 3 4-1 4-2 4 5 4-2 4 0 4-6 4-1 4 1 4 0 4-1 4-3 4 1 4 0 4 0 4-4 4-2 4 1 4 0 4-2 4 2M3504 2204l4-2 4 0 4 0 4-4M3536 2196l4 2 4-4 4 2M3556 2194l4-2 4 0 4 1 4-1 4-1"/>
<path stroke="#009e73" stroke-width="3.4" d="M3580 2179l4 3 4 5 4-3 4-5 4 2 4-1 4-6 4 3 4-1 4-2 4 3 4-2M3636 2174l4-5 4-1 4 4M3660 2171l4-3 4 3 4 0 4 2 4-2"/>
<path stroke="#009e73" stroke-width="3.4" d="M3685 2180l4 0 4 0 4-2 4 0 4-5 4-3 4-3 4 0 4-2 4 0 4-3 4-1 4 3 4-3 4 2 4 0"/>
<path stroke="#009e73" stroke-width="3.4" d="M3126 2263h0"/>
<path stroke="#009e73" stroke-width="3.4" d="M3127 2267h0"/>
<path stroke="#009e73" stroke-width="3.4" d="M3337 2219h0"/>
<path stroke="#f0e442" stroke-width="3.4" d="M3586 2198h0"/>
<path stroke="#f0e442" stroke-width="3.4" d="M3147 2267h0"/>
<path stroke="#f0e442" stroke-width="3.4" d="M3580 2174h0"/>
<path stroke="#56b4e9" stroke-width="3.4" d="M3429 2248l4-2 4-2 4 0 4 0 4-1 4-3 4 1 4-5 4 0 4-1 4-1 4 1 4-2 4 0 4 0 4 1 4-3 4 1 4-2 4-3 4 1 4 2 4-1M3533 2227l4-4 4 3 4-2 4 0 4 0 4-3 4 2 4-2 4 1 4 0"/>
<path stroke="#56b4e9" stroke-width="3.4" d="M3604 2209l4 0 4 0 4-5 4 0 4 0 4 1 4-3 4-1 4 0M3648 2203l4-2 4-1M3664 2199l4 0M3680 2198h0"/>
<path stroke="#56b4e9" stroke-width="3.4" d="M3685 2210l4-3 4-2 4-1 4 2 4-4 4-4 4 0M3725 2197l4 1 4-2 4-2 4 1"/>
<path stroke="#9400d3" stroke-width="3.4" d="M3675 1430h0"/>
<path stroke="#9400d3" stroke-width="3.4" d="M3677 1440h0"/>
<path stroke="#9400d3" stroke-width="3.4" d="M3680 1456h0"/>
<path stroke="#9400d3" stroke-width="3.4" d="M3681 1465h0"/>
<path stroke="#9400d3" stroke-width="3.4" d="M3685 1514h0"/>
<path stroke="#9400d3" stroke-width="3.4" d="M3687 1530h0"/>
<path stroke="#9400d3" stroke-width="3.4" d="M3691 1581h0"/>
<path stroke="#9400d3" stroke-width="3.4" d="M3693 1598h0"/>
<path stroke="#9400d3" stroke-width="3.4" d="M3696 1627h0"/>
<path stroke="#9400d3" stroke-width="3.4" d="M3698 1652h0"/>
<path stroke="#9400d3" stroke-width="3.4" d="M3701 1678h0"/>
<path stroke="#9400d3" stroke-width="3.4" d="M3703 1706h0"/>
<path stroke="#9400d3" stroke-width="3.4" d="M3706 1728h0"/>
<path stroke="#9400d3" stroke-width="3.4" d="M3708 1737h0"/>
<path stroke="#9400d3" stroke-width="3.4" d="M3712 1760h0"/>
<path stroke="#9400d3" stroke-width="3.4" d="M3713 1763h0"/>
<path stroke="#9400d3" stroke-width="3.4" d="M3716 1815h0"/>
<path stroke="#9400d3" stroke-width="3.4" d="M3718 1827h0"/>
<path stroke="#9400d3" stroke-width="3.4" d="M3723 1842h0"/>
<path stroke="#9400d3" stroke-width="3.4" d="M3724 1850h0"/>
<path stroke="#9400d3" stroke-width="3.4" d="M3726 1869h0"/>
<path stroke="#9400d3" stroke-width="3.4" d="M3729 1885h0"/>
<path stroke="#9400d3" stroke-width="3.4" d="M3731 1899h0"/>
<path stroke="#9400d3" stroke-width="3.4" d="M3733 1913h0"/>
<path stroke="#9400d3" stroke-width="3.4" d="M3736 1930h0"/>
<path stroke="#9400d3" stroke-width="3.4" d="M3739 1938h0"/>
<path stroke="#9400d3" stroke-width="3.4" d="M3743 1966h0"/>
<path stroke="#9400d3" stroke-width="3.4" d="M3745 1975h0"/>
<path stroke="#9400d3" stroke-width="3.4" d="M3748 1990h0"/>
<path stroke="#9400d3" stroke-width="3.4" d="M3752 2001h0"/>
<path stroke="#9400d3" stroke-width="3.4" d="M3755 2009h0"/>
<path stroke="#9400d3" stroke-width="3.4" d="M3758 2021h0"/>
<path stroke="#9400d3" stroke-width="3.4" d="M3760 2034h0"/>
<path stroke="#9400d3" stroke-width="3.4" d="M3764 2054h0"/>
<path stroke="#9400d3" stroke-width="3.4" d="M3766 2080h0"/>
<path stroke="#9400d3" stroke-width="3.4" d="M3768 2095h0"/>
<path stroke="#9400d3" stroke-width="3.4" d="M3770 2114h0"/>
<path stroke="#9400d3" stroke-width="3.4" d="M3775 2136h0"/>
<path stroke="#9400d3" stroke-width="3.4" d="M3777 2142h0"/>
<path stroke="#9400d3" stroke-width="3.4" d="M3779 2155h0"/>
<path stroke="#9400d3" stroke-width="3.4" d="M3782 2163h0"/>
<path stroke="#9400d3" stroke-width="3.4" d="M3784 2173h0"/>
<path stroke="#9400d3" stroke-width="3.4" d="M3787 2190h0"/>
<path stroke="#9400d3" stroke-width="3.4" d="M3789 2204h0"/>
<path stroke="#9400d3" stroke-width="3.4" d="M3792 2211h0"/>
<path stroke="#9400d3" stroke-width="3.4" d="M3795 2219h0"/>
<path stroke="#9400d3" stroke-width="3.4" d="M3799 2227h0"/>
<path stroke="#9400d3" stroke-width="3.4" d="M3801 2234h0"/>
<path stroke="#9400d3" stroke-width="3.4" d="M3804 2246h0"/>
<path stroke="#9400d3" stroke-width="3.4" d="M3806 2256h0"/>
<path stroke="#9400d3" stroke-width="3.4" d="M3808 2260h0"/>
<path stroke="#9400d3" stroke-width="3.4" d="M3811 2267h0"/>
<path stroke="#9400d3" stroke-width="3.4" d="M3512 2006h0"/>
<path stroke="#f0e442" stroke-width="3.4" d="M3500 2204l4-1 4-3M3520 2202l4-1M3532 2196h0M3540 2195l4-1 4-1 4-1 4 1M3568 2190h0M3576 2189h0"/>
<path stroke="#f0e442" stroke-width="3.4" d="M3580 2172h0M3604 2175l4 2 4-1 4-4 4 2 4 1 4-5 4 3 4 3 4-1 4-1 4-1 4 0 4 3 4-1 4 3 4-2 4-2 4 2 4 2 4-3"/>
<path stroke="#f0e442" stroke-width="3.4" d="M3689 2180l4 1 4 0M3705 2173l4 2 4-4 4 0 4-5M3741 2165l4-1 4-2 4 3M3761 2160l4 3 4-4 4 0 4-1 4 3M3797 2159l4-1 4-1 4 0 4-2 4-2 4 2 4 0 4 2 4-3 4-3 4-1 4 1 4-1M3857 2153l4 1 4-2 4-4 4-1 4 5 4 5 4 2 4 3M3917 2148l4-4 4-1 4-6 4-3 4 0 4-1 4-1 4 1 4-1 4 1 4-3M3969 2127l4-2 4 4 4 1 4-3 4 4 4 2 4 0 4 2 4-6 4 3 4-1 4 1 4-2 4-1 4 1 4-1 4 3 4 4M4049 2131h0"/>
<path stroke="#f0e442" stroke-width="3.2" d="M3746 2158h0M3758 2161l4-2 4 0 4-6 4 1 4 0 4 0 4-1 4 1 4-3 4 0 4-1 4 0 4 3 4-4 4-2 4-1 4 0M3842 2147l4-3 4-1 4-1 4 0M3874 2142l4 5 4 7M3890 2153l4 9 4-2 4-4 4-9 4-1 4-4M3930 2134h0M3938 2129l4-1 4-2 4 1 4-1 4-2 4-3M3978 2119l4 3M3998 2126l4 2M4014 2125l4 5 4-3M4034 2128h0M4050 2131h0"/>
<path stroke="#009e73" stroke-width="3.4" d="M3584 2177l4 1 4 1 4-2 4-3 4-1 4 1 4 0 4-1 4-2 4 0 4 0M3652 2172l4 0 4-1 4 2 4-2 4 1 4-2 4-1 4 4"/>
<path stroke="#009e73" stroke-width="3.4" d="M3689 2182l4-4 4-3 4-2 4-2 4-3 4-5 4 1M3725 2164h0M3733 2161l4 0"/>
<path stroke="#56b4e9" stroke-width="3.4" d="M3508 2232l4 0 4 3 4-1M3528 2228l4 0 4-2 4 2 4-1 4-1M3556 2225l4-4 4 2 4-2M3576 2218h0"/>
<path stroke="#56b4e9" stroke-width="3.4" d="M3580 2210l4-1M3596 2210l4-3 4 0 4 0 4 0 4-2 4 0 4-1 4 0 4-1 4-1 4-1 4 0 4 1 4 2 4-2 4-1 4 0M3680 2200h0"/>
<path stroke="#56b4e9" stroke-width="3.4" d="M3687 2210l4-1 4-1 4-1M3727 2198l4-1 4-1 4 0 4-1 4 1 4-3M3759 2192h0M3775 2188l4 2 4-1 4-2 4 0 4 1 4 0 4 0 4 2 4-4 4-2M3827 2177l4-1 4-1 4-2 4-2 4 2 4-3 4-2 4 1 4-2 4-7 4 2 4 5 4 4 4-1 4 0 4 4 4 1 4-4M3907 2163l4 1M3919 2155l4-5 4 1 4-1 4-3 4 2 4-3M3967 2138l4 1 4 1M3987 2145l4 0 4 0 4-2 4 0 4 0 4 1 4 2 4 0 4 0 4 0 4-3 4 1 4-1 4 3 4 2"/>
<path stroke="#0072b2" stroke-width="4.0" d="M3695 2268l4-1 4 1 4-1 4-2M3719 2267l4 0 4-1 4 1 4-1 4 1 4-1 4 0 4-1 4 2 4-3 4 0 4-1 4 0 4 0 4-1 4 1 4 0 4-1 4-2 4 0 4-1 4 1 4-1 4 1 4 1 4-2 4 0 4-1 4 0 4 0 4 1 4-1 4 0 4 0 4-1 4-3 4-1 4 3 4 0 4 0 4-2 4 0 4 0 4-1 4 0 4-2 4-3 4 5 4 0 4 0 4-3 4-1 4 0 4-2 4 0 4-1 4-2 4 2 4-3 4 0 4 1 4-2 4-1 4 0 4-2 4 2 4-5 4 3 4-2 4-2 4 1 4 1 4 1 4-2 4 1 4-1 4-1 4 0 4 1 4 0 4-1 4 1"/>
<path stroke="#56b4e9" stroke-width="4.8" d="M3150 1266l4-1 4-1 4-2 4-3 4 2 4-1 4 2 4-3 4 0 4 0 4-4 4 4 4-2 4 3 4 2 4 0 4 1 4 1 4-1 4-4 4 0 4-6 4-2"/>
<path stroke="#56b4e9" stroke-width="4.8" d="M3258 1237l4 0 4 0 4-2 4 0 4-1 4-3 4 1 4-7 4-4 4 1 4-3 4 1 4-1 4-1"/>
<path stroke="#56b4e9" stroke-width="4.8" d="M3315 1209l4-3 4-4 4-4 4-3 4 0 4-9 4-1 4 1 4-2 4-1 4-2 4-1 4-1 4 1 4-1 4-6"/>
<path stroke="#56b4e9" stroke-width="4.8" d="M3397 1178l4-3 4-6 4-3 4-1 4-2 4-2 4 0 4-3 4-1 4 0 4-2 4 1 4-1 4-5 4-1 4-2 4-1 4-2 4-1 4-1 4 0 4 1 4-2"/>
<path stroke="#56b4e9" stroke-width="4.8" d="M3500 1135l4 0 4-1 4 0 4-3 4 0 4-4 4 1 4-4 4-3 4-4 4 8 4 5 4-3 4 1 4-2 4 1 4-6"/>
<path stroke="#56b4e9" stroke-width="4.8" d="M3572 1106l4-2 4-2 4-2 4-2 4-1 4-2 4-5 4 5 4-5 4 0 4-2 4 3"/>
<path stroke="#56b4e9" stroke-width="4.2" d="M3193 1239h0"/>
<path stroke="#56b4e9" stroke-width="4.2" d="M3210 1304h0"/>
<path stroke="#56b4e9" stroke-width="4.2" d="M3244 1289h0"/>
<path stroke="#56b4e9" stroke-width="4.2" d="M3265 1252h0"/>
<path stroke="#56b4e9" stroke-width="4.2" d="M3272 1254h0"/>
<path stroke="#56b4e9" stroke-width="4.2" d="M3283 1260h0"/>
<path stroke="#56b4e9" stroke-width="4.2" d="M3342 1229h0"/>
<path stroke="#56b4e9" stroke-width="4.2" d="M3356 1226h0"/>
<path stroke="#56b4e9" stroke-width="4.2" d="M3364 1222h0"/>
<path stroke="#56b4e9" stroke-width="4.2" d="M3370 1216h0"/>
<path stroke="#56b4e9" stroke-width="4.2" d="M3387 1213h0"/>
<path stroke="#56b4e9" stroke-width="4.2" d="M3388 1218h0"/>
<path stroke="#56b4e9" stroke-width="4.2" d="M3406 1231h0"/>
<path stroke="#56b4e9" stroke-width="4.2" d="M3410 1206h0"/>
<path stroke="#56b4e9" stroke-width="4.2" d="M3385 1197h0"/>
<path stroke="#56b4e9" stroke-width="4.2" d="M3453 1194h0"/>
<path stroke="#56b4e9" stroke-width="4.2" d="M3469 1169h0"/>
<path stroke="#56b4e9" stroke-width="4.2" d="M3493 1181h0"/>
<path stroke="#56b4e9" stroke-width="4.2" d="M3511 1176h0"/>
<path stroke="#56b4e9" stroke-width="4.2" d="M3513 1171h0"/>
<path stroke="#56b4e9" stroke-width="4.2" d="M3520 1167h0"/>
<path stroke="#56b4e9" stroke-width="4.2" d="M3541 1167h0"/>
<path stroke="#56b4e9" stroke-width="4.2" d="M3539 1176h0"/>
<path stroke="#56b4e9" stroke-width="4.2" d="M3537 1168h0"/>
<path stroke="#56b4e9" stroke-width="4.2" d="M3548 1248h0"/>
<path stroke="#56b4e9" stroke-width="4.2" d="M3556 1239h0"/>
<path stroke="#56b4e9" stroke-width="4.2" d="M3562 1244h0"/>
<path stroke="#56b4e9" stroke-width="4.2" d="M3570 1239h0"/>
<path stroke="#56b4e9" stroke-width="4.2" d="M3574 1226h0"/>
<path stroke="#56b4e9" stroke-width="4.2" d="M3581 1221h0"/>
<path stroke="#56b4e9" stroke-width="4.2" d="M3583 1209h0"/>
<path stroke="#56b4e9" stroke-width="4.2" d="M3587 1217h0"/>
<path stroke="#56b4e9" stroke-width="4.2" d="M3593 1215h0"/>
<path stroke="#56b4e9" stroke-width="4.2" d="M3599 1214h0"/>
<path stroke="#56b4e9" stroke-width="4.2" d="M3612 1213h0"/>
<path stroke="#56b4e9" stroke-width="4.2" d="M3616 1215h0"/>
<path stroke="#56b4e9" stroke-width="4.2" d="M3620 1212h0"/>
<path stroke="#56b4e9" stroke-width="4.2" d="M3626 1225h0"/>
<path stroke="#56b4e9" stroke-width="4.2" d="M3626 1232h0"/>
<path stroke="#56b4e9" stroke-width="4.2" d="M3647 1241h0"/>
<path stroke="#56b4e9" stroke-width="4.2" d="M3649 1229h0"/>
<path stroke="#56b4e9" stroke-width="4.2" d="M3652 1226h0"/>
<path stroke="#56b4e9" stroke-width="4.2" d="M3655 1223h0"/>
<path stroke="#56b4e9" stroke-width="4.2" d="M3658 1227h0"/>
<path stroke="#56b4e9" stroke-width="4.2" d="M3665 1219h0"/>
<path stroke="#56b4e9" stroke-width="4.2" d="M3661 1229h0"/>
<path stroke="#56b4e9" stroke-width="4.2" d="M3669 1227h0"/>
<path stroke="#56b4e9" stroke-width="4.2" d="M3662 1250h0"/>
<path stroke="#56b4e9" stroke-width="4.2" d="M3680 1221h0"/>
<path stroke="#56b4e9" stroke-width="4.2" d="M3686 1215h0"/>
<path stroke="#56b4e9" stroke-width="4.2" d="M3690 1223h0"/>
<path stroke="#56b4e9" stroke-width="4.2" d="M3694 1225h0"/>
<path stroke="#56b4e9" stroke-width="4.2" d="M3698 1213h0"/>
<path stroke="#56b4e9" stroke-width="4.2" d="M3702 1209h0"/>
<path stroke="#56b4e9" stroke-width="4.2" d="M3717 1204h0"/>
<path stroke="#56b4e9" stroke-width="4.2" d="M3723 1192h0"/>
<path stroke="#56b4e9" stroke-width="4.2" d="M3657 1185h0"/>
<path stroke="#56b4e9" stroke-width="4.2" d="M3658 1191h0"/>
<path stroke="#56b4e9" stroke-width="4.2" d="M3648 1110h0"/>
<path stroke="#56b4e9" stroke-width="4.2" d="M3647 1126h0"/>
<path stroke="#56b4e9" stroke-width="4.2" d="M3665 1097h0"/>
<path stroke="#56b4e9" stroke-width="4.2" d="M3679 1103h0"/>
<path stroke="#56b4e9" stroke-width="4.2" d="M3682 1119h0"/>
<path stroke="#56b4e9" stroke-width="4.2" d="M3695 1120h0"/>
<path stroke="#56b4e9" stroke-width="4.2" d="M3687 1142h0"/>
<path stroke="#56b4e9" stroke-width="4.2" d="M3690 1097h0"/>
<path stroke="#56b4e9" stroke-width="4.2" d="M3698 1088h0"/>
<path stroke="#56b4e9" stroke-width="4.2" d="M3700 1085h0"/>
<path stroke="#56b4e9" stroke-width="4.2" d="M3717 1077h0"/>
<path stroke="#56b4e9" stroke-width="4.2" d="M3719 1075h0"/>
<path stroke="#56b4e9" stroke-width="4.2" d="M3721 1070h0"/>
<path stroke="#56b4e9" stroke-width="4.2" d="M3625 1102h0"/>
<path stroke="#56b4e9" stroke-width="4.2" d="M3625 1109h0"/>
<path stroke="#56b4e9" stroke-width="4.2" d="M3768 1056h0"/>
<path stroke="#56b4e9" stroke-width="4.2" d="M3772 1058h0"/>
<path stroke="#56b4e9" stroke-width="4.2" d="M3776 1059h0"/>
<path stroke="#56b4e9" stroke-width="4.2" d="M3769 1194h0"/>
<path stroke="#56b4e9" stroke-width="4.2" d="M3779 1198h0"/>
<path stroke="#56b4e9" stroke-width="4.2" d="M3804 1041h0"/>
<path stroke="#56b4e9" stroke-width="4.2" d="M3881 1033h0"/>
<path stroke="#56b4e9" stroke-width="4.2" d="M3952 1056h0"/>
<path stroke="#56b4e9" stroke-width="4.2" d="M3665 1209h0"/>
<path stroke="#56b4e9" stroke-width="4.2" d="M3680 1204h0"/>
<path stroke="#56b4e9" stroke-width="4.2" d="M3651 1231h0"/>
<path stroke="#56b4e9" stroke-width="4.2" d="M3673 1217h0"/>
<path stroke="#56b4e9" stroke-width="5.0" d="M3772 1177l4 1 4-1 4 3 4 4 4-4 4 3 4-5 4 0 4 3 4-5 4-3 4 1 4 3 4-3 4 3 4-6 4-4 4-4 4-3 4 1 4-2 4-4 4 0 4-1 4 1 4-1 4-1 4 1"/>
<path stroke="#56b4e9" stroke-width="4.6" d="M3898 1157l4-1"/>
<path stroke="#56b4e9" stroke-width="4.4" d="M3803 936l3 0M3812 945l3 10 3 11 3 5 3 3 3 1 3 1 3 4 3-1 3 0 3 3 3-2 3 2"/>
<path stroke="#56b4e9" stroke-width="4.6" d="M3860 896l3 8 3 4M3875 916l3 8 3 6 3 6 3 5 3 4 3 2 3 9 3 6 3 4 3 5 3 2 3 0 3 5 3 2 3 6 3 0 3 6 3 4 3 3 3 4 3 3 3 0 3 9 3 9 3 7"/>
<path stroke="#56b4e9" stroke-width="4.0" d="M4026 922l1 19 2 8 1 8 2 2"/>
<path stroke="#f0e442" stroke-width="3.4" d="M3288 1207l4-3 4 0 4-5 4-6 4 1 4-3 4-4 4-3 4-5 4-2 4 2 4 1 4-5 4-5 4 0 4-4 4 1 4-1 4-1 4-1 4 0 4-2 4-4 4-4 4 4 4-1 4-3M3404 1158l4-1 4 0 4-3 4 4"/>
<path stroke="#f0e442" stroke-width="3.4" d="M3426 1147l4-3 4-5 4-1 4-3 4-4 4 2 4-4 4-2 4-3 4-5 4 0M3490 1114l4-1 4-3 4 0 4-3 4-1 4-4 4 1 4-4 4 1 4 0"/>
<path stroke="#f0e442" stroke-width="3.4" d="M3574 1065l4-2 4-6 4-7 4-3 4-6 4 0 4 1 4 3 4 7 4 0"/>
<path stroke="#f0e442" stroke-width="3.4" d="M3628 1032l4 0 4 6 4 2 4-5 4-2 4-1 4 3 4-2 4-3M3684 1019l4-1 4 0M3708 1015l4-2 4 0 4-4 4-4 4 3M3748 1004l4-7 4 3 4-4 4-3 4 1 4 5M3780 1004l4 1 4-2 4 2 4 0 4 3 4 4 4-8 4-4 4 1 4-3 4-4 4-3 4-2 4-1 4-1 4-2 4 1M3856 983l4-1 4-3 4-4 4 1 4-3 4-3M3896 961l4-2 4 3 4-4 4-1 4-3 4 2M3928 953l4-1 4 0 4-2 4-1 4-2 4-4 4 0 4-7 4 0 4 0 4 0 4-2 4 0 4-1 4 4 4 1 4-5 4-3 4-2 4-2 4 4 4-1 4 1 4 1 4-1"/>
<path stroke="#f0e442" stroke-width="3.4" d="M4040 970l4 2 4-2"/>
<path stroke="#f0e442" stroke-width="3.4" d="M3849 1009h0"/>
<path stroke="#f0e442" stroke-width="3.4" d="M3955 894h0"/>
<path stroke="#f0e442" stroke-width="3.4" d="M3581 1330h0"/>
<path stroke="#f0e442" stroke-width="3.4" d="M3614 1326h0"/>
<path stroke="#f0e442" stroke-width="3.4" d="M3612 1345h0"/>
<path stroke="#f0e442" stroke-width="3.4" d="M3813 1239h0"/>
<path stroke="#f0e442" stroke-width="3.4" d="M3419 1172h0"/>
<path stroke="#0072b2" stroke-width="3.8" d="M3296 1026l4-1 4-2 4 0 4-1 4 1"/>
<path stroke="#0072b2" stroke-width="4.0" d="M3319 1012l4 0 4 0 4-1 4 0 4 0 4-2 4 1 4-2 4-2 4 3 4 0 4-1 4-1 4-3 4-1 4 1 4-1 4-1 4-4 4 1 4 1 4-1 4-3 4-1 4-2 4 0 4 0 4 0 4 1 4-1 4-1 4-2 4-1 4-2 4 2 4-1 4-1 4-3 4-1 4 1 4-3"/>
<path stroke="#0072b2" stroke-width="3.8" d="M3842 997l4-5 4 2 4 2 4-6 4 0 4 1 4 0 4-2 4-2 4-1 4-3 4-1 4-3 4-2 4 1 4 2 4-2 4 1 4-1 4-3 4-2 4 0 4 1 4-1 4 1 4-3 4-2 4 1 4 1 4-1 4-2 4-2 4 0 4-4 4-7 4 2 4-2 4 2 4-1 4 4 4-1 4-1 4 0 4-1 4 1 4 2 4 0 4 2 4-2 4 1 4 0 4 2"/>
<path stroke="#0072b2" stroke-width="3.6" d="M3839 943h0"/>
<path stroke="#9400d3" stroke-width="3.4" d="M3649 929h0"/>
<path stroke="#9400d3" stroke-width="3.4" d="M3651 985h0"/>
<path stroke="#9400d3" stroke-width="3.4" d="M3654 1067h0"/>
<path stroke="#9400d3" stroke-width="3.4" d="M3656 1105h0"/>
<path stroke="#9400d3" stroke-width="3.4" d="M3660 1164h0"/>
<path stroke="#9400d3" stroke-width="3.4" d="M3661 1195h0"/>
<path stroke="#9400d3" stroke-width="3.4" d="M3665 1302h0"/>
<path stroke="#9400d3" stroke-width="3.4" d="M3667 1325h0"/>
<path stroke="#9400d3" stroke-width="3.4" d="M3670 1373h0"/>
<path stroke="#9400d3" stroke-width="3.4" d="M3672 1386h0"/>
<path stroke="#9400d3" stroke-width="3.4" d="M3675 1431h0"/>
<path stroke="#9400d3" stroke-width="3.4" d="M3677 1440h0"/>
<path stroke="#0072b2" stroke-width="3.8" d="M1208 1721l4 0 4 1 4 0 4-2 4 1 4-3 4-3 4 1M1252 1714l4-3 4 3 4-3 4-5 4-5 4-2"/>
<path stroke="#0072b2" stroke-width="3.8" d="M1282 1690l4-1 4 2 4 0 4 2 4 2 4 0 4-3 4-2 4 1 4-1 4 0 4 1 4-2 4 1 4-1 4-3 4-1 4-2 4 1 4-1M1370 1682l4-3 4 1 4 0 4-2 4-1 4 0 4 1"/>
<path stroke="#0072b2" stroke-width="3.8" d="M1443 1663l4-2 4-3M1459 1654l4-3 4 2 4 2 4-2 4 0 4 0 4-3 4-6 4 4"/>
<path stroke="#0072b2" stroke-width="3.8" d="M1505 1651l4 2 4-2 4 2 4 1 4-2 4-4 4-3 4 0 4 1 4-3 4 2 4-1 4-1 4-2M1573 1636l4 1M1589 1633l4 2 4-3 4-2 4-3 4-7 4-4M1621 1613l4-2M1637 1609l4-3 4-4 4 0 4-4 4-2 4 1 4-2 4-1 4-2 4-3 4-3"/>
<path stroke="#0072b2" stroke-width="3.8" d="M1688 1575l4-3 4-2 4-4 4 0"/>
<path stroke="#0072b2" stroke-width="3.8" d="M1709 1567l4-3 4-2 4-1 4 1 4-2"/>
<path stroke="#0072b2" stroke-width="3.8" d="M1736 1598h0M1748 1597l4-1 4-2 4-2 4-3 4-1 4 1 4 0 4-1 4-1 4-1 4-3 4-3 4 2 4-1 4-3 4 2 4-1 4-1 4-1"/>
<path stroke="#0072b2" stroke-width="3.8" d="M1827 1595l4-2 4 0 4 0 4 0 4-1 4-2 4-2 4 0 4 0 4-1 4-2 4-3 4 0 4 0 4-1 4 0 4-1 4-4 4 2 4 2 4-5 4 1 4-4 4 2 4-2 4-4 4-8 4-1 4-1M1951 1557l4-4 4-1M1967 1553h0M1975 1553l4-4 4 1"/>
<path stroke="#56b4e9" stroke-width="4.6" d="M1400 1771l4 2 4-1 4 0 4-4 4 0 4 1 4-1 4-6 4 0 4-1 4-3 4 0 4-5 4 1 4-4 4-1 4-4 4 1 4-2 4-2 4-3 4 0 4 1 4-2 4-3 4 2 4 4 4 5 4 2 4-1 4-8 4 1 4 2 4-3 4 0 4-2 4-2 4 0 4-2 4-1 4-4 4 1 4-2 4-3 4-2 4-3 4-2 4 0 4-4 4 1 4-1 4 0 4-1 4 0 4-3 4-5 4 4 4-3 4 0 4-4 4-2 4 1 4 0 4-3 4-1 4-3 4-1 4 3 4-3 4-4 4 0"/>
<path stroke="#56b4e9" stroke-width="4.6" d="M1688 1679l4-1 4-2 4 3 4-2"/>
<path stroke="#56b4e9" stroke-width="4.6" d="M1703 1663l4-3 4-3 4 1 4-4 4 0 4 1 4-2"/>
<path stroke="#56b4e9" stroke-width="4.6" d="M1736 1663l4-5 4-2 4 2 4-4 4-3 4-1 4-1 4-4 4-2 4-1 4 1 4-3 4 3 4 0 4-4 4 0 4-2 4 1 4-3 4-2 4 2 4 0"/>
<path stroke="#56b4e9" stroke-width="4.6" d="M1829 1654l4 0 4-3 4 2 4 0 4-4 4-2 4-2"/>
<path stroke="#56b4e9" stroke-width="4.6" d="M1857 1681l4-1 4 0 4-5 4 5 4-2 4 0 4-2 4 1 4 1 4 1 4-1 4-2 4 1 4 3 4-1"/>
<path stroke="#56b4e9" stroke-width="4.6" d="M1925 1671l4 16 4-2 4-8 4-3"/>
<path stroke="#56b4e9" stroke-width="4.6" d="M1944 1658l4-1 4 0 4 1 4-2 4-1 4 2 4 1 4-2 4 1 4-1 4 1 4-9 4 1 4-2 4 3 4-2 4 0 4-5 4 1 4-1 4-4 4-2 4 2 4-2 4 3 4 3 4-4 4 1 4 1 4-3 4-3 4 0 4-3 4-1 4 0 4 2 4-2"/>
<path stroke="#56b4e9" stroke-width="4.6" d="M2092 1648l4-1 4-1 4-4 4-2 4-2 4 1 4 3 4-6 4 3 4-3 4 2 4-1 4-1 4-4 4-1 4-1 4-2 4 1"/>
<path stroke="#56b4e9" stroke-width="4.6" d="M2175 1620l4-1 4-1 4 4 4-3"/>
<path stroke="#56b4e9" stroke-width="4.6" d="M2164 1608l4 3 4-4"/>
<path stroke="#56b4e9" stroke-width="4.6" d="M2191 1598l4-2 4 2 4-3 4 2 4-1 4-7 4-2 4 2 4 1 4-1"/>
<path stroke="#56b4e9" stroke-width="4.6" d="M2233 1556l4-6 4-1 4-4 4-1"/>
<path stroke="#56b4e9" stroke-width="4.0" d="M1513 1804l4-4 4-2 4-3 4 2 4-2M1549 1791l4-1 4 1"/>
<path stroke="#56b4e9" stroke-width="4.0" d="M1497 1798h0"/>
<path stroke="#56b4e9" stroke-width="4.0" d="M1497 1793h0"/>
<path stroke="#56b4e9" stroke-width="4.0" d="M1429 1775h0"/>
<path stroke="#56b4e9" stroke-width="4.0" d="M1433 1772h0"/>
<path stroke="#56b4e9" stroke-width="4.0" d="M1524 1756h0"/>
<path stroke="#56b4e9" stroke-width="4.0" d="M1533 1755h0"/>
<path stroke="#56b4e9" stroke-width="4.0" d="M1554 1748h0"/>
<path stroke="#56b4e9" stroke-width="4.0" d="M1555 1906h0"/>
<path stroke="#56b4e9" stroke-width="4.0" d="M1628 1720h0"/>
<path stroke="#56b4e9" stroke-width="4.0" d="M1841 1665h0"/>
<path stroke="#56b4e9" stroke-width="4.0" d="M1843 1663h0"/>
<path stroke="#56b4e9" stroke-width="4.0" d="M1910 1744h0"/>
<path stroke="#56b4e9" stroke-width="4.0" d="M1919 1747h0"/>
<path stroke="#56b4e9" stroke-width="4.0" d="M1921 1743h0"/>
<path stroke="#56b4e9" stroke-width="4.0" d="M1924 1738h0"/>
<path stroke="#56b4e9" stroke-width="4.0" d="M1944 1763h0"/>
<path stroke="#56b4e9" stroke-width="4.0" d="M1945 1803h0"/>
<path stroke="#56b4e9" stroke-width="4.0" d="M2084 1691h0"/>
<path stroke="#56b4e9" stroke-width="4.0" d="M2381 1554h0"/>
<path stroke="#56b4e9" stroke-width="4.0" d="M2393 1544h0"/>
<path stroke="#56b4e9" stroke-width="4.0" d="M2438 1641h0"/>
<path stroke="#56b4e9" stroke-width="4.0" d="M2441 1640h0"/>
<path stroke="#56b4e9" stroke-width="4.0" d="M1820 1652h0"/>
<path stroke="#56b4e9" stroke-width="4.0" d="M2039 1648h0"/>
<path stroke="#56b4e9" stroke-width="4.0" d="M2086 1642h0"/>
<path stroke="#009e73" stroke-width="3.6" d="M1647 1717h0"/>
<path stroke="#009e73" stroke-width="3.6" d="M1649 1716h0"/>
<path stroke="#009e73" stroke-width="3.6" d="M1681 1701h0"/>
<path stroke="#009e73" stroke-width="3.6" d="M1721 1584h0"/>
<path stroke="#0072b2" stroke-width="3.6" d="M2013 1712h0"/>
<path stroke="#0072b2" stroke-width="3.6" d="M2158 1808h0"/>
<path stroke="#0072b2" stroke-width="3.6" d="M1623 1597h0"/>
<path stroke="#0072b2" stroke-width="3.6" d="M1462 1639h0"/>
<path stroke="#0072b2" stroke-width="3.6" d="M1402 1676h0"/>
<path stroke="#0072b2" stroke-width="3.6" d="M1806 1563h0"/>
<path stroke="#0072b2" stroke-width="3.6" d="M1732 1590h0"/>
<path stroke="#e51e10" stroke-width="3.6" d="M2013 1799h0"/>
<path stroke="#0072b2" stroke-width="3.8" d="M938 1787l4-2 4 0 4 1 4-1 4 1 4 1 4-1 4 0 4-1 4-3"/>
<path stroke="#0072b2" stroke-width="3.8" d="M983 1774l4-1 4 0 4-1 4 1 4-3 4 1 4-2"/>
<path stroke="#0072b2" stroke-width="3.8" d="M1022 1766l4 1 4-2 4 1 4-2M1050 1764l4-3 4 2 4-2 4 0 4-2 4 1 4 0 4 0 4-3 4-1 4-1 4 1 4-1 4-3 4 0 4-2M1122 1745l4-2 4-3 4-2 4 0 4-4 4-1 4-1 4 3 4-3 4-2 4 0 4-2M1186 1726l4-3 4-1 4 1 4 0 4-2 4-1 4 0 4-2 4 0 4 0 4 0 4-2 4-2 4 0 4 0"/>
<path stroke="#9400d3" stroke-width="4.0" d="M1451 1362h0"/>
<path stroke="#9400d3" stroke-width="4.0" d="M2236 1166h0"/>
<path stroke="#9400d3" stroke-width="4.0" d="M2236 1171h0"/>
<path stroke="#9400d3" stroke-width="4.0" d="M2236 1176h0"/>
<path stroke="#9400d3" stroke-width="4.0" d="M2235 1180h0"/>
<path stroke="#009e73" stroke-width="3.8" d="M1451 1389h0"/>
<path stroke="#f0e442" stroke-width="3.8" d="M1451 1435h0"/>
<path stroke="#f0e442" stroke-width="3.8" d="M1451 1465h0"/>
<path stroke="#e51e10" stroke-width="3.8" d="M1451 1442h0"/>
<path stroke="#e51e10" stroke-width="3.8" d="M514 1667h0"/>
<path stroke="#e51e10" stroke-width="3.8" d="M514 1671h0"/>
<path stroke="#9400d3" stroke-width="4.6" d="M1211 1514l4 2 4 0 4 1 4-1 4-3 4 1 4-4 4 0 4-4 4 4 4-3 4-2 4-1 4 0 4-4 4-3 4-3 4-11 4 0 4 1 4 0 4 1 4 5 4 0 4-1 4-2 4-3 4 1 4-7 4-3 4-1 4 2 4 1 4 1 4-3 4-2 4-1 4 3 4 2 4 1 4-3"/>
<path stroke="#9400d3" stroke-width="4.6" d="M1394 1468l4 1 4-3 4 3 4 1 4 0 4-3 4-3 4-5M1434 1457l4 1 4-2 4-1 4-3 4-3 4-1 4-5 4 1 4-5 4 1 4-3 4 2 4-2 4 1 4 0 4 0 4-6 4-2 4 1 4-3 4 0 4 2 4-1 4 0 4 2 4-3 4-1 4 2 4-5 4 2 4-4 4-3 4 2 4-7 4 3 4-3 4 1 4-2 4 1 4-2 4-2 4-5 4 4 4-1 4-2 4-1 4-1 4 0 4-3 4-2 4 2 4-5 4 1 4-1"/>
<path stroke="#9400d3" stroke-width="4.2" d="M1670 1396l4-8 4-1M1686 1382l4-4 4-6 4-3 4-3 4-9 4-3 4 0 4-3 4 2"/></g>
<g stroke="#000" stroke-width="1.3" fill="none"><rect x="213.5" y="125.5" width="3927.0" height="2144.0" fill="none"/><path d="M213.5 2269.5h17M4140.5 2269.5h-17"/><path d="M213.5 1840.7h17M4140.5 1840.7h-17"/><path d="M213.5 1411.9h17M4140.5 1411.9h-17"/><path d="M213.5 983.1h17M4140.5 983.1h-17"/><path d="M213.5 554.3h17M4140.5 554.3h-17"/><path d="M213.5 125.5h17M4140.5 125.5h-17"/><path d="M213.5 2269.5v-17M213.5 125.5v17"/><path d="M373.1 2269.5v-9M373.1 125.5v9"/><path d="M532.6 2269.5v-9M532.6 125.5v9"/><path d="M685.3 2269.5v-17M685.3 125.5v17"/><path d="M844.9 2269.5v-9M844.9 125.5v9"/><path d="M1004.4 2269.5v-9M1004.4 125.5v9"/><path d="M1162.4 2269.5v-17M1162.4 125.5v17"/><path d="M1321.9 2269.5v-9M1321.9 125.5v9"/><path d="M1481.5 2269.5v-9M1481.5 125.5v9"/><path d="M1644.6 2269.5v-17M1644.6 125.5v17"/><path d="M1804.2 2269.5v-9M1804.2 125.5v9"/><path d="M1963.8 2269.5v-9M1963.8 125.5v9"/><path d="M2126.9 2269.5v-17M2126.9 125.5v17"/><path d="M2286.5 2269.5v-9M2286.5 125.5v9"/><path d="M2446.1 2269.5v-9M2446.1 125.5v9"/><path d="M2604.0 2269.5v-17M2604.0 125.5v17"/><path d="M2763.5 2269.5v-9M2763.5 125.5v9"/><path d="M2923.1 2269.5v-9M2923.1 125.5v9"/><path d="M3081.0 2269.5v-17M3081.0 125.5v17"/><path d="M3240.6 2269.5v-9M3240.6 125.5v9"/><path d="M3400.1 2269.5v-9M3400.1 125.5v9"/><path d="M3563.3 2269.5v-17M3563.3 125.5v17"/><path d="M3722.9 2269.5v-9M3722.9 125.5v9"/><path d="M3882.4 2269.5v-9M3882.4 125.5v9"/><path d="M4045.6 2269.5v-17M4045.6 125.5v17"/></g>
<text x="193.5" y="2283.0" text-anchor="end">15000</text><text x="193.5" y="1854.2" text-anchor="end">20000</text><text x="193.5" y="1425.4" text-anchor="end">25000</text><text x="193.5" y="996.6" text-anchor="end">30000</text><text x="193.5" y="567.8" text-anchor="end">35000</text><text x="193.5" y="139.0" text-anchor="end">40000</text><text x="214.8" y="2325" text-anchor="middle">Jan-15</text><text x="686.6" y="2325" text-anchor="middle">Apr-15</text><text x="1163.7" y="2325" text-anchor="middle">Jul-15</text><text x="1645.9" y="2325" text-anchor="middle">Oct-15</text><text x="2128.2" y="2325" text-anchor="middle">Jan-16</text><text x="2605.3" y="2325" text-anchor="middle">Apr-16</text><text x="3082.3" y="2325" text-anchor="middle">Jul-16</text><text x="3564.6" y="2325" text-anchor="middle">Oct-16</text><text x="4046.9" y="2325" text-anchor="middle">Jan-17</text><text x="2177.5" y="77" text-anchor="middle">BGP IPv6 RIB Size - RIS and Route Views Peers</text><text x="2177" y="2386" text-anchor="middle">Date</text><text transform="translate(45.5 1196.5) rotate(-90)" text-anchor="middle">BGP IPv6 RIB Entries</text>
</svg></body></html>
